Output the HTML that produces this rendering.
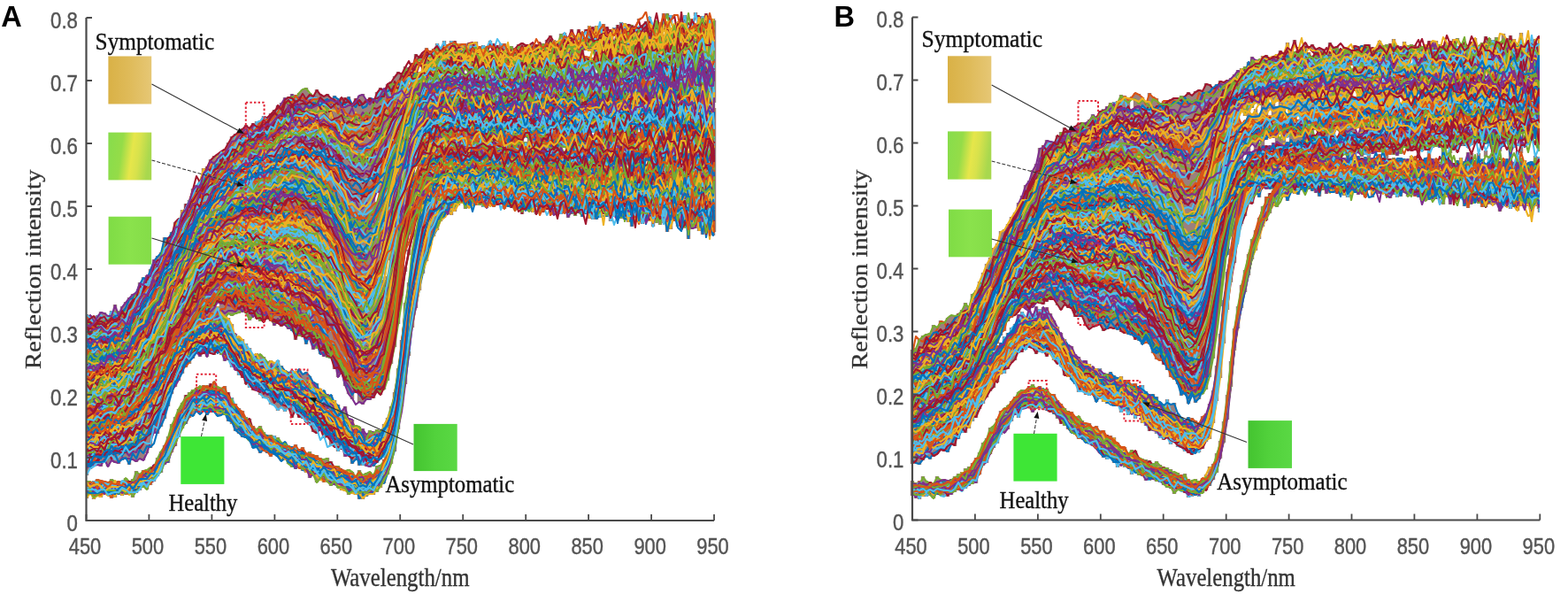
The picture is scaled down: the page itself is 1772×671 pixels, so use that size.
<!DOCTYPE html>
<html><head><meta charset="utf-8"><title>Reflection spectra</title>
<style>html,body{margin:0;padding:0;background:#fff;}body{width:1772px;height:671px;overflow:hidden;}svg{display:block;}</style>
</head><body>
<svg width="1772" height="671" viewBox="0 0 1772 671">
<defs>
<linearGradient id="gs" x1="0" y1="0" x2="1" y2="0"><stop offset="0" stop-color="#d9b146"/><stop offset="0.5" stop-color="#dfbb5a"/><stop offset="1" stop-color="#e6c775"/></linearGradient>
<linearGradient id="gm" x1="0" y1="0" x2="1" y2="0.15"><stop offset="0" stop-color="#86dd4c"/><stop offset="0.35" stop-color="#95dc48"/><stop offset="0.6" stop-color="#e6e64a"/><stop offset="0.75" stop-color="#d8e24c"/><stop offset="1" stop-color="#a8d84e"/></linearGradient>
<linearGradient id="gl" x1="0" y1="0" x2="1" y2="0"><stop offset="0" stop-color="#7fdc45"/><stop offset="0.5" stop-color="#8ae24c"/><stop offset="1" stop-color="#84dc48"/></linearGradient>
<linearGradient id="ga" x1="0" y1="0" x2="1" y2="0"><stop offset="0" stop-color="#44c430"/><stop offset="0.5" stop-color="#52d23c"/><stop offset="1" stop-color="#5ad844"/></linearGradient>
</defs>
<rect width="1772" height="671" fill="#fff"/>
<filter id="bl" x="0" y="0" width="1" height="1"><feGaussianBlur stdDeviation="0.6"/></filter>
<g filter="url(#bl)">
<path d="M98 543V563M102 544V558M106 543V564M110 541V561M114 542V562M118 543V559M122 544V560M126 541V563M130 543V562M134 543V559M138 543V560M142 540V559M146 543V559M150 541V562M154 532V557M158 535V554M162 531V550M166 530V553M170 528V548M174 525V544M178 517V538M182 510V534M186 503V525M190 493V523M194 479V511M198 471V504M202 462V494M206 455V484M210 446V479M214 443V472M218 440V470M222 438V466M226 436V468M230 435V465M234 435V469M238 433V466M242 431V465M246 437V470M250 438V469M254 436V469M258 443V476M262 449V479M266 456V487M270 461V490M274 464V494M278 471V495M282 473V498M286 481V506M290 484V506M294 481V512M298 488V510M302 491V512M306 491V516M310 492V514M314 494V516M318 500V521M322 499V520M326 503V524M330 504V528M334 502V530M338 508V529M342 505V532M346 512V534M350 510V540M354 514V537M358 514V545M362 517V543M366 518V545M370 517V545M374 521V549M378 526V548M382 526V551M386 530V554M390 531V555M394 530V559M398 533V558M402 537V559M406 531V564M410 537V564M414 534V561M418 533V559M422 535V559M426 526V556M430 525V551M434 519V546M438 511V536M442 501V524M446 482V510M450 459V485M454 432V459M458 397V434M462 368V391M462 397V402M466 340V370M470 321V348M474 297V328M478 277V309M482 264V295M486 247V277M490 238V267M494 225V260M498 218V250M502 214V246M506 213V242M510 202V243M514 201V239M518 202V232M522 200V230M526 197V232M530 190V197M530 202V235M534 199V233M538 195V232M542 196V232M546 197V228M550 201V231M554 198V233M558 194V234M562 197V231M566 196V231M570 196V228M574 193V234M578 201V232M582 198V236M586 193V196M586 202V235M590 197V239M594 198V238M598 202V239M602 203V240M606 200V234M610 199V240M614 200V240M618 202V236M622 195V237M626 198V239M630 205V242M634 206V241M638 205V241M642 203V244M646 200V242M650 197V240M654 202V241M658 201V245M662 208V242M666 213V247M670 205V248M674 202V236M674 243V248M678 208V244M682 202V239M686 207V245M690 202V238M694 207V245M698 209V242M702 200V206M702 212V247M706 195V204M706 211V248M710 209V249M714 200V208M714 212V256M718 206V249M722 206V251M726 209V246M730 206V243M734 206V250M738 205V252M742 206V252M746 201V254M750 215V252M754 201V262M758 201V250M762 203V245M766 209V248M770 211V255M774 211V252M778 207V270M782 202V253M786 204V256M790 208V253M794 213V265M798 208V253M802 211V263M806 206V211M806 217V266M807 202V254M98 470V537M102 469V530M106 460V527M110 461V526M114 466V527M118 462V523M122 461V527M126 455V521M130 454V523M134 456V524M138 458V520M142 454V518M146 452V525M150 447V520M154 443V522M158 443V519M162 434V520M166 436V512M170 426V506M174 421V490M178 419V490M182 415V482M186 405V473M190 399V459M194 393V445M198 390V437M202 387V430M206 381V422M210 376V415M214 373V411M218 371V405M222 362V399M226 359V403M230 362V400M234 359V403M238 356V400M242 353V401M246 346V399M250 353V401M254 358V408M258 359V407M262 366V415M266 377V418M270 380V424M274 383V427M278 388V434M282 393V438M286 400V441M290 399V441M294 400V446M298 403V450M302 408V450M306 407V457M310 409V458M314 407V464M318 413V461M322 418V465M326 420V462M330 418V472M334 419V467M338 417V472M342 422V473M346 420V477M350 425V480M354 431V488M358 433V490M362 439V486M366 441V495M370 445V494M374 446V504M378 452V505M382 457V510M386 464V508M390 459V516M394 472V515M398 474V524M402 480V520M406 482V526M410 484V526M414 490V527M418 486V528M422 488V527M426 485V523M430 486V519M434 479V517M438 472V510M442 459V498M446 443V483M450 416V460M454 384V427M458 342V388M462 319V356M466 291V327M470 260V305M474 240V287M478 231V275M482 214V257M486 207V246M490 196V245M494 196V239M498 194V235M502 193V230M506 188V232M510 180V230M514 184V229M518 185V225M522 182V228M526 188V232M530 181V229M534 184V227M538 184V227M542 186V223M546 182V234M550 182V230M554 181V228M558 186V231M562 187V232M566 189V231M570 185V236M574 183V228M578 190V235M582 187V231M586 189V233M590 191V230M590 235V242M594 189V230M598 190V236M602 192V232M606 187V230M606 236V242M610 188V236M614 191V235M618 197V237M622 190V240M626 195V237M630 196V236M634 193V242M638 195V236M642 191V241M646 194V239M650 196V244M654 199V238M658 196V243M662 192V240M666 196V240M670 196V244M674 193V197M674 202V241M678 198V246M682 198V242M686 192V238M690 192V250M694 199V240M698 193V244M702 200V244M706 199V247M710 197V251M714 200V245M718 194V251M722 202V210M722 214V251M726 197V241M726 246V253M730 194V247M734 197V247M738 188V240M738 245V256M742 198V246M746 191V248M750 196V247M754 196V251M758 197V259M762 203V249M766 194V256M770 196V200M770 206V241M770 247V253M774 201V245M774 252V254M778 199V252M782 206V256M786 201V258M790 200V261M794 206V257M798 202V252M802 191V193M802 209V256M806 208V255M807 196V262M98 355V501M102 356V501M106 357V497M110 356V495M114 352V494M118 353V494M122 357V498M126 351V494M130 344V494M134 352V491M138 346V488M142 341V481M146 336V479M150 332V475M154 330V473M158 319V463M162 313V463M166 311V451M170 304V449M174 293V442M178 289V432M182 285V427M186 268V428M190 268V416M194 262V406M198 251V398M202 247V394M206 237V388M210 230V383M214 226V382M218 213V375M222 209V367M226 204V364M230 190V363M234 188V363M238 180V358M242 176V356M246 174V342M246 352V358M250 171V354M254 168V360M258 161V355M262 154V357M266 151V355M270 148V354M274 145V353M278 141V354M282 144V362M286 139V358M290 137V360M294 136V363M298 131V364M302 132V361M306 128V363M310 124V368M314 119V366M318 116V369M322 110V368M326 109V372M330 106V374M334 107V384M338 105V380M342 101V381M346 99V389M350 105V384M354 107V395M358 101V394M362 106V400M366 109V403M370 106V404M374 111V405M378 108V417M382 111V426M386 110V422M390 110V436M394 109V445M398 117V451M402 111V444M406 108V455M410 106V457M414 112V452M418 110V452M422 111V450M426 104V218M426 228V443M430 99V446M434 100V305M434 316V440M438 95V294M438 312V430M442 92V411M446 86V392M450 81V341M450 351V366M454 82V317M454 328V334M458 75V197M458 203V284M458 302V307M462 76V93M462 98V152M462 157V265M462 282V288M466 71V205M466 211V268M470 61V188M470 195V249M474 63V75M474 81V188M474 193V243M478 59V238M482 54V228M486 57V229M490 55V223M494 49V228M498 54V227M502 46V160M502 166V222M506 50V234M510 46V227M514 46V125M514 129V225M518 49V224M522 49V225M526 49V78M526 83V236M530 48V228M534 48V229M538 47V232M542 52V227M546 51V233M550 52V226M550 231V235M554 46V53M554 57V226M558 49V225M562 51V227M566 49V226M570 49V107M570 112V227M570 233V235M574 54V230M578 52V232M582 54V225M586 50V233M590 48V226M590 231V235M594 50V155M594 160V234M598 50V239M602 48V225M602 231V237M606 50V232M610 48V229M614 49V225M614 231V240M618 45V234M622 40V203M622 208V230M626 45V231M626 237V243M630 46V234M634 38V239M638 37V45M638 50V167M638 172V233M642 43V210M642 216V246M646 33V240M650 40V227M650 233V235M654 33V241M658 36V225M658 230V239M662 33V37M662 42V57M662 64V237M666 29V58M666 64V239M670 30V59M670 65V150M670 155V217M670 223V238M674 29V78M674 84V236M678 32V48M678 53V232M678 238V241M682 27V240M686 30V35M686 39V228M686 237V244M690 33V196M690 201V236M690 241V245M694 31V41M694 46V236M698 28V216M698 221V240M702 25V28M702 33V79M702 84V237M706 26V232M706 238V243M710 27V186M710 191V232M714 28V113M714 119V178M714 184V243M718 30V146M718 152V247M722 21V23M722 30V145M722 150V244M726 28V241M730 24V182M730 187V244M734 19V236M734 242V249M738 28V150M738 155V253M742 23V98M742 106V245M746 25V42M746 47V244M750 15V36M750 42V239M750 246V251M754 15V20M754 24V54M754 59V79M754 84V237M754 245V251M758 17V25M758 31V241M762 27V250M766 25V33M766 39V239M766 248V254M770 25V44M770 50V104M770 109V151M770 157V182M770 188V233M770 243V249M774 17V246M778 32V59M778 65V102M778 106V167M778 172V260M782 21V24M782 29V184M782 189V232M782 238V247M782 255V259M786 14V18M786 27V154M786 160V252M790 18V21M790 26V242M794 18V110M794 115V200M794 205V246M798 15V19M798 24V165M798 170V189M798 194V246M802 21V239M806 21V172M806 177V218M806 225V251M807 23V116M807 122V251" stroke="#8a6a66" stroke-opacity="0.85" stroke-width="4.4" fill="none"/>
<path d="M1031 543V560M1035 545V563M1039 543V564M1043 538V561M1047 543V561M1051 544V560M1055 545V563M1059 538V559M1063 541V560M1067 541V561M1071 542V561M1075 541V559M1079 538V556M1083 535V554M1087 533V555M1091 529V552M1095 527V549M1099 523V547M1103 517V546M1107 511V536M1111 500V526M1115 495V523M1119 483V513M1123 481V506M1127 473V501M1131 464V491M1135 461V489M1139 458V485M1143 453V476M1147 448V469M1151 443V472M1155 440V462M1159 440V461M1163 436V461M1167 434V466M1171 438V462M1175 436V460M1179 439V463M1183 439V464M1187 445V466M1191 445V468M1195 452V473M1199 456V479M1203 461V481M1207 464V485M1211 465V489M1215 470V491M1219 470V496M1223 475V496M1227 478V500M1231 478V502M1235 482V504M1239 481V507M1243 486V512M1247 486V517M1251 491V519M1255 492V518M1259 494V523M1263 500V528M1267 504V526M1271 505V528M1275 512V529M1279 508V536M1283 509V534M1287 517V537M1291 518V538M1295 519V543M1299 520V543M1303 523V542M1307 521V544M1311 525V545M1315 527V548M1319 528V551M1323 530V552M1327 533V558M1331 534V554M1335 536V555M1339 535V557M1343 541V562M1347 543V561M1351 541V560M1355 543V561M1359 540V557M1363 536V554M1367 527V549M1371 524V542M1375 512V534M1379 498V518M1383 476V500M1387 446V474M1391 408V437M1395 371V396M1399 346V371M1403 322V348M1407 305V330M1411 287V311M1415 270V293M1419 260V283M1423 246V270M1427 233V256M1431 222V249M1435 218V241M1439 215V233M1443 206V234M1447 204V222M1451 198V223M1455 197V227M1459 192V218M1463 190V219M1467 192V220M1471 189V214M1475 190V214M1479 188V212M1483 191V216M1487 186V212M1491 188V219M1495 187V215M1499 190V210M1503 184V214M1507 187V215M1511 190V217M1515 186V217M1519 190V221M1523 187V218M1527 187V217M1531 188V217M1535 186V217M1539 190V217M1543 182V220M1547 191V213M1551 189V219M1555 191V217M1559 188V219M1563 188V219M1567 194V215M1571 189V214M1575 188V216M1579 188V219M1583 193V218M1587 187V218M1591 188V222M1595 192V216M1599 193V221M1603 192V223M1607 189V226M1611 191V219M1615 193V226M1619 195V223M1623 193V221M1627 194V224M1631 196V227M1635 193V223M1639 189V220M1643 196V221M1647 183V227M1651 196V223M1655 192V230M1659 196V226M1663 195V225M1667 194V229M1671 190V230M1675 189V226M1679 192V224M1683 191V231M1687 189V224M1691 191V231M1695 194V225M1699 195V232M1703 192V227M1707 193V224M1711 193V234M1715 195V232M1719 196V233M1723 190V230M1727 195V233M1731 188V194M1731 200V225M1731 231V239M1735 189V192M1735 198V233M1739 186V236M1740 189V240M1031 455V524M1035 455V524M1039 451V525M1043 444V520M1047 444V516M1051 441V519M1055 442V516M1059 442V513M1063 442V509M1067 437V510M1071 438V511M1075 437V503M1079 440V504M1083 432V496M1087 433V489M1091 429V489M1095 425V484M1099 420V476M1103 416V472M1107 411V462M1111 409V456M1115 403V449M1119 395V442M1123 397V438M1127 390V432M1131 387V423M1135 380V422M1139 376V417M1143 370V410M1147 366V407M1151 355V399M1155 352V398M1159 357V395M1163 348V393M1167 354V394M1171 346V400M1175 349V398M1179 347V399M1183 347V403M1187 354V400M1191 362V407M1195 369V411M1199 376V414M1203 383V424M1207 389V426M1211 391V429M1215 400V434M1219 403V443M1223 407V443M1227 407V446M1231 411V447M1235 414V446M1239 416V454M1243 416V451M1247 421V454M1251 422V456M1255 420V457M1259 424V459M1263 426V459M1267 425V466M1271 429V462M1275 429V469M1279 433V468M1283 433V473M1287 436V470M1291 435V478M1295 442V481M1299 445V487M1303 445V487M1307 448V490M1311 454V495M1315 457V497M1319 451V495M1323 456V502M1327 455V500M1331 467V505M1335 471V506M1339 474V510M1343 471V512M1347 472V514M1351 475V512M1355 477V511M1359 470V507M1363 467V499M1367 456V496M1371 441V478M1375 413V453M1379 377V427M1383 339V388M1387 307V350M1391 281V319M1395 252V297M1399 234V268M1403 222V253M1407 208V244M1411 196V230M1415 191V230M1419 180V220M1423 181V223M1427 180V213M1431 179V210M1435 176V211M1439 175V214M1443 175V211M1447 175V213M1451 171V207M1455 173V208M1459 177V207M1463 175V206M1467 174V210M1471 174V208M1475 170V211M1479 170V214M1483 173V214M1487 180V213M1491 175V209M1495 175V212M1499 173V214M1503 178V214M1507 173V176M1507 182V214M1511 177V208M1515 178V213M1519 178V215M1523 179V214M1527 176V217M1531 184V210M1535 176V214M1539 178V218M1543 177V216M1547 178V212M1551 179V212M1555 178V212M1559 174V215M1563 178V216M1567 180V218M1571 179V216M1575 178V216M1579 179V215M1583 178V214M1587 179V215M1591 179V220M1595 177V216M1599 177V220M1603 180V217M1607 180V223M1611 179V222M1615 173V219M1619 179V218M1623 179V225M1627 184V220M1631 180V231M1635 178V216M1639 181V224M1643 184V225M1647 181V218M1651 184V220M1655 184V223M1659 172V179M1659 184V228M1663 183V224M1667 181V222M1671 178V228M1675 181V222M1679 185V234M1683 178V230M1687 187V232M1691 188V225M1695 182V232M1699 180V228M1703 186V234M1707 177V230M1711 183V227M1715 183V238M1719 179V233M1723 181V231M1727 187V233M1731 183V235M1735 177V183M1735 190V232M1739 188V226M1740 179V233M1031 395V485M1035 393V485M1039 383V482M1043 379V483M1047 377V478M1051 376V474M1055 367V475M1059 369V471M1063 362V473M1067 363V465M1071 359V467M1075 356V465M1079 356V455M1083 354V456M1087 350V444M1091 342V441M1095 347V433M1099 332V432M1103 328V430M1107 318V419M1111 308V413M1115 298V409M1119 291V401M1123 280V396M1127 275V388M1131 261V379M1135 259V374M1139 253V363M1143 245V359M1147 240V356M1151 229V352M1155 221V348M1159 209V349M1163 204V351M1167 192V347M1171 185V342M1175 167V343M1179 164V344M1183 158V341M1187 159V339M1191 160V339M1195 153V345M1199 149V350M1203 144V345M1207 147V348M1211 143V349M1215 142V358M1219 139V358M1223 138V358M1227 138V368M1231 135V372M1235 129V370M1239 132V368M1243 125V367M1247 123V374M1251 120V372M1255 116V371M1259 115V372M1263 114V373M1267 107V375M1271 108V377M1275 110V378M1279 109V113M1279 123V379M1283 105V384M1287 106V385M1291 110V389M1295 114V388M1299 105V389M1303 109V399M1307 111V406M1311 116V408M1315 114V412M1319 113V418M1323 112V426M1327 110V429M1331 110V434M1335 108V447M1339 108V446M1343 104V456M1347 107V448M1351 103V455M1355 101V451M1359 102V445M1363 94V440M1367 95V426M1371 99V405M1375 95V367M1379 91V346M1383 92V302M1387 90V197M1387 203V269M1387 274V288M1391 88V267M1395 84V248M1399 79V83M1399 89V236M1403 77V126M1403 139V230M1407 75V131M1407 136V175M1407 181V219M1411 70V219M1415 64V122M1415 129V163M1415 171V214M1419 67V117M1419 123V215M1423 67V119M1423 129V159M1423 164V212M1427 63V213M1431 62V158M1431 164V214M1435 65V109M1435 116V123M1435 130V156M1435 164V214M1439 63V156M1439 161V213M1443 61V115M1443 120V214M1447 57V152M1447 157V213M1451 59V129M1451 134V212M1455 48V123M1455 128V155M1455 160V212M1459 56V212M1463 45V51M1463 58V215M1467 53V130M1467 135V212M1471 53V215M1475 48V217M1479 52V55M1479 59V211M1483 50V58M1483 64V213M1487 55V147M1487 152V179M1487 190V218M1491 54V179M1491 185V222M1495 55V102M1495 108V213M1499 60V179M1499 183V219M1503 48V54M1503 59V179M1503 184V218M1507 53V218M1511 52V146M1511 154V219M1515 55V215M1519 53V174M1519 183V218M1523 53V179M1523 184V223M1527 56V74M1527 79V183M1527 188V220M1531 51V103M1531 109V176M1531 181V218M1535 52V145M1535 150V173M1535 181V220M1539 51V177M1539 186V219M1543 50V175M1543 188V223M1547 50V215M1551 53V174M1551 183V223M1555 54V76M1555 82V172M1555 184V217M1559 46V172M1559 185V219M1563 51V88M1563 93V172M1563 182V217M1567 50V221M1571 49V175M1571 181V224M1575 44V134M1575 140V175M1575 180V220M1579 51V176M1579 183V223M1583 52V110M1583 117V174M1583 182V222M1587 47V167M1587 182V218M1591 51V170M1591 183V219M1595 50V66M1595 72V109M1595 115V171M1595 176V219M1599 51V170M1599 181V222M1603 53V105M1603 110V176M1603 183V221M1607 52V171M1607 184V224M1611 50V170M1611 178V227M1615 46V220M1619 46V105M1619 109V167M1619 180V225M1623 46V166M1623 183V222M1627 50V167M1627 184V223M1631 51V224M1635 48V168M1635 174V178M1635 185V223M1639 46V173M1639 181V231M1643 44V170M1643 185V221M1647 43V46M1647 52V172M1647 184V228M1651 49V165M1651 178V225M1655 47V165M1655 182V233M1659 52V167M1659 183V235M1663 47V164M1663 173V230M1667 43V163M1667 181V229M1671 51V162M1671 173V220M1675 48V159M1675 179V234M1679 41V82M1679 87V116M1679 120V162M1679 170V177M1679 185V227M1683 43V165M1683 177V228M1687 45V164M1687 170V229M1691 42V157M1691 163V229M1695 47V171M1695 185V229M1695 236V239M1699 38V47M1699 54V166M1699 179V233M1703 43V162M1703 179V233M1707 40V96M1707 101V161M1707 170V236M1711 44V155M1711 162V167M1711 183V234M1715 50V158M1715 171V175M1715 181V226M1715 231V238M1719 37V151M1719 156V173M1719 185V231M1723 50V150M1723 155V158M1723 163V166M1723 181V235M1727 46V163M1727 184V230M1731 48V159M1731 182V243M1735 44V157M1735 176V231M1739 41V44M1739 49V155M1739 160V171M1739 177V235M1740 43V150M1740 156V171M1740 183V188M1740 194V234" stroke="#8a6a66" stroke-opacity="0.85" stroke-width="4.4" fill="none"/>
<g fill="none" stroke-width="2.1" stroke-linejoin="round" stroke-linecap="round">
<path stroke="#0072BD" d="M98 480l4-3 4 1 4-1 4-9 4 14 4-5 4-8 4 0 4-12 4 3 4-4 4 3 4-5 4-1 4-7 4-9 4 1 4-11 4-4 4 0 4-6 4-8 4-9 4 0 4-5 4-6 4-5 4-3 4-5 4 6 4-7 4-5 4-4 4 2 4 2 4-1 4 4 4-4 4 9 4 5 4 6 4 3 4 1 4 8 4-1 4 5 4 2 4 5 4 2 4 2 4-3 4 3 4 3 4-5 4 0 4 5 4 2 4-1 4 6 4-9 4 6 4-2 4 4 4 7 4 2 4 11 4-4 4 8 4-3 4 9 4 3 4 9 4 7 4 6 4-3 4 8 4 6 4 4 4 7 4-2 4 2 4-11 4 10 4-8 4-2 4-10 4-14 4-33 4-27 4-37 4-31 4-22 4-21 4-21 4-14 4-17 4-9 4-7 4-13 4 9 4-9 4 2 4-3 4-1 4-7 4 8 4-3 4-9 4 0 4 7 4 0 4-7 4 6 4 6 4 2 4 1 4-5 4 2 4-8 4 12 4-9 4 5 4 1 4-3 4 5 4 1 4 10 4-8 4 6 4-7 4 2 4 1 4 5 4-2 4-11 4 3 4 8 4-10 4 10 4 9 4-8 4 0 4 5 4-1 4-6 4 8 4-5 4-3 4 10 4-4 4 5 4-11 4-7 4 6 4 19 4-21 4 15 4-8 4 10 4-25 4 13 4 8 4-6 4-12 4 29 4-23 4 8 4 18 4-19 4-4 4 10 4 8 4-3 4-8 4-8 4 7 4-6 1 20"/>
<path stroke="#D95319" d="M98 402l4-6 4 6 4 3 4 1 4-9 4 1 4-3 4 8 4-4 4-10 4-1 4-4 4 0 4-13 4-4 4 1 4-11 4-8 4-6 4-8 4-11 4 0 4-4 4-14 4-1 4-16 4-5 4-5 4-13 4-11 4 5 4-18 4 2 4-1 4 1 4-13 4 4 4-6 4 6 4 2 4-5 4-5 4-1 4-2 4-3 4 0 4 4 4-11 4 1 4 1 4-3 4-2 4-7 4-7 4 6 4-7 4-6 4 10 4 1 4-9 4 3 4 6 4 3 4-3 4 2 4 4 4 5 4 6 4 14 4-10 4 15 4 3 4 5 4 5 4 7 4-8 4 9 4 0 4-6 4-2 4-5 4-4 4-2 4-8 4-9 4-12 4-12 4-9 4-4 4-12 4-2 4-3 4 0 4-11 4 0 4-2 4-4 4-6 4 2 4 6 4-7 4-2 4-3 4 11 4-1 4 2 4-11 4-4 4 11 4-1 4-1 4 1 4 8 4-1 4-8 4 12 4-7 4-9 4 5 4-1 4 3 4 4 4-1 4 0 4-4 4 2 4 0 4 7 4-1 4-6 4-7 4 6 4-3 4 16 4-22 4 8 4-2 4 4 4-1 4-3 4-1 4 1 4 10 4-3 4-4 4-4 4-4 4 13 4-12 4 12 4-10 4-5 4 7 4 24 4-27 4 14 4-4 4-27 4 23 4-9 4 7 4-10 4 15 4-12 4 7 4 7 4-3 4-6 4-4 4 6 4-8 4 21 4-24 4 17 4-4 4-2 4-7 1-12"/>
<path stroke="#EDB120" d="M98 515l4-2 4-2 4-3 4-5 4-2 4-3 4 0 4-1 4 5 4-2 4-1 4-1 4 5 4-14 4 3 4-3 4-4 4-14 4-2 4-10 4-2 4-10 4-8 4-6 4-9 4-1 4-9 4-9 4 5 4-13 4-2 4 2 4-7 4 0 4-3 4 3 4-2 4 2 4 8 4-2 4 6 4 4 4 4 4 1 4 7 4 6 4-2 4 13 4-1 4-7 4 12 4-4 4 7 4-4 4 3 4 0 4 4 4 0 4 10 4-6 4 10 4-1 4 7 4-1 4 6 4 4 4 2 4 6 4 4 4-2 4 7 4 6 4 5 4-2 4 10 4-1 4 6 4 0 4 0 4-1 4 1 4-6 4 7 4-18 4-2 4-11 4-11 4-31 4-25 4-41 4-37 4-31 4-27 4-17 4-17 4-25 4-9 4-8 4-5 4-5 4 8 4-11 4-6 4 3 4-4 4 1 4 4 4 2 4-3 4-5 4 14 4-13 4 16 4-20 4 12 4-1 4 4 4-6 4 10 4-10 4-4 4 13 4 6 4-8 4 9 4-1 4-2 4-4 4 12 4-10 4 2 4 4 4-5 4 4 4 3 4 10 4 3 4-16 4-4 4 11 4-5 4-12 4 5 4 17 4-16 4 6 4-5 4 3 4 8 4-22 4 34 4-10 4-16 4 10 4-3 4 11 4-14 4 13 4 4 4 1 4-19 4 10 4-6 4 3 4 5 4 9 4-13 4-4 4 17 4-5 4 2 4 12 4-24 4-3 4 6 4-3 4 0 1-11"/>
<path stroke="#7E2F8E" d="M98 414l4-10 4 3 4 2 4-2 4-8 4-3 4 1 4 0 4-2 4-1 4-5 4-5 4-4 4-8 4-1 4-10 4-5 4-6 4-8 4-1 4-5 4-8 4-13 4 4 4-14 4-13 4-2 4-8 4-8 4-5 4 1 4-14 4-5 4-1 4-1 4-2 4-3 4-7 4-2 4-2 4 9 4-10 4-7 4-5 4 3 4 4 4-4 4-5 4 0 4 1 4-7 4 2 4 0 4-3 4 8 4-18 4 1 4 5 4-5 4 4 4-6 4-1 4 0 4 1 4 1 4 8 4 4 4 0 4 4 4 9 4 7 4 1 4 10 4 4 4 5 4 12 4-6 4 7 4-4 4-4 4-1 4-8 4-18 4-11 4-11 4-7 4-31 4-11 4-5 4-18 4-4 4-16 4-8 4-2 4-6 4-3 4-2 4-11 4 7 4-5 4 6 4-5 4-1 4 3 4 12 4-16 4-2 4 3 4 8 4-7 4 9 4-3 4 1 4-9 4 8 4-1 4-8 4 12 4-6 4 6 4-4 4-3 4-4 4 8 4-6 4 1 4 8 4-14 4 13 4-5 4 2 4-3 4 6 4-13 4 2 4 2 4 2 4 3 4 3 4-13 4 2 4-16 4 7 4 18 4-12 4 1 4-11 4-8 4 27 4-11 4 22 4-28 4 8 4-7 4-5 4 6 4 4 4 11 4-19 4 14 4-16 4 9 4-13 4 9 4-9 4 9 4-3 4 0 4 6 4 0 4 8 4-18 4-5 4 23 4 5 4-24 4 31 1-29"/>
<path stroke="#77AC30" d="M98 553l4 0 4 3 4 1 4-3 4 3 4-6 4 1 4 1 4 3 4-5 4 3 4 0 4-1 4-3 4-4 4-3 4-2 4-9 4 7 4-8 4-2 4-8 4-5 4-14 4-7 4-9 4-8 4-10 4-3 4-6 4-6 4 6 4 1 4 0 4-4 4 3 4 2 4 2 4-1 4 7 4-2 4 10 4 5 4 4 4 8 4 4 4 1 4 1 4 5 4-5 4 5 4 0 4 2 4 5 4-4 4 8 4 8 4 3 4-3 4 0 4 5 4-2 4 7 4-1 4 1 4 7 4-2 4 1 4 0 4 1 4 2 4 6 4-2 4 1 4 3 4-1 4 0 4-1 4 3 4-2 4-1 4-3 4-2 4-7 4-7 4-15 4-19 4-22 4-27 4-30 4-38 4-20 4-27 4-21 4-16 4-17 4-19 4-9 4-11 4-17 4 2 4-3 4-6 4 3 4-4 4-4 4 5 4-5 4 1 4-2 4 9 4-18 4 10 4-3 4 8 4 2 4-7 4 2 4-4 4 9 4 1 4-7 4-1 4-1 4 6 4-1 4 6 4-11 4 1 4 0 4 16 4-13 4 9 4-6 4 0 4-4 4 9 4 1 4 5 4 1 4-11 4 10 4-10 4 8 4 1 4-10 4 1 4 13 4-5 4-1 4-4 4 10 4-2 4-2 4-6 4-1 4 11 4-18 4 11 4 11 4 6 4-8 4 16 4-21 4-4 4-6 4 7 4 21 4-13 4-9 4 28 4-13 4-14 4 6 4 21 4-15 4-5 1-22"/>
<path stroke="#4DBEEE" d="M98 515l4 3 4-5 4 3 4-5 4-7 4 2 4-1 4-8 4-1 4 5 4-7 4-4 4 2 4-4 4-5 4-9 4 1 4-5 4 3 4-17 4-9 4 0 4-15 4-7 4-9 4-4 4-7 4-14 4-1 4 6 4 0 4-10 4-2 4 0 4 0 4-7 4 16 4-6 4-4 4 4 4 6 4 11 4-4 4 8 4 5 4 6 4 11 4 0 4 6 4-2 4 9 4-3 4 5 4-1 4 10 4-2 4-3 4 0 4 8 4-5 4-5 4 12 4 5 4 6 4 2 4-1 4 2 4 0 4-1 4 14 4 0 4 0 4 7 4 6 4 3 4 9 4 3 4-5 4 0 4 2 4-1 4-4 4-3 4 1 4-12 4-5 4-32 4-25 4-33 4-39 4-19 4-30 4-18 4-27 4-3 4-13 4-12 4-11 4 3 4 3 4-5 4-6 4-2 4 8 4-11 4 9 4 0 4-3 4 5 4 0 4-5 4 12 4-10 4 4 4-7 4 6 4-9 4 3 4 0 4 2 4 6 4-7 4-1 4 3 4-1 4 1 4 3 4 2 4-4 4 0 4-2 4-3 4 9 4 1 4-14 4 12 4 0 4 6 4-7 4 16 4-8 4-3 4 4 4-6 4-5 4 5 4 6 4 14 4-10 4-14 4-2 4 7 4-2 4 1 4 18 4-8 4 1 4-9 4-4 4 9 4-15 4 17 4 4 4 0 4 14 4-24 4 11 4-10 4 2 4-1 4 21 4-11 4-1 4-5 4 14 4 0 4-22 1 27"/>
<path stroke="#A2142F" d="M98 469l4-4 4 0 4-5 4 5 4 0 4 0 4-5 4 2 4-8 4-3 4 5 4-10 4-11 4 3 4-5 4-12 4 1 4-7 4-14 4-3 4-2 4-11 4-5 4-11 4 1 4-10 4-7 4-3 4-6 4-9 4-7 4-7 4-5 4-7 4-7 4 6 4-8 4 2 4-4 4-5 4-5 4 11 4-7 4 8 4-10 4 8 4 7 4-1 4 2 4 1 4 1 4 11 4-8 4 1 4 0 4 2 4 8 4 1 4-2 4-1 4 7 4 4 4 5 4 2 4-7 4 8 4 2 4 3 4 4 4 8 4 5 4 8 4 9 4 3 4 5 4 14 4 0 4 2 4 2 4-7 4 4 4-5 4-8 4-15 4-13 4-29 4-15 4-21 4-21 4-16 4-22 4-2 4-14 4-11 4-3 4-9 4 6 4-5 4-7 4 3 4 1 4-5 4-5 4 14 4-6 4-7 4 1 4 6 4 1 4-3 4-1 4 1 4-1 4 6 4-8 4 14 4-13 4 6 4-4 4 10 4 3 4-10 4 0 4 14 4-15 4 2 4 11 4-15 4 8 4-8 4-6 4 9 4 7 4-11 4 8 4-5 4 6 4 2 4 0 4-5 4 2 4-9 4-9 4 26 4 7 4 0 4-12 4-18 4 22 4-6 4 4 4-9 4 6 4 3 4-2 4 12 4-8 4-3 4-11 4 14 4 8 4-16 4 3 4 4 4 17 4-8 4-19 4 15 4-13 4 13 4-13 4-5 4 16 4-1 4-8 4 14 4 2 1-20"/>
<path stroke="#0072BD" d="M98 522l4 5 4-4 4-3 4-5 4 1 4-4 4-1 4 2 4-3 4 4 4-4 4-5 4-1 4-3 4-2 4-6 4-4 4-4 4-1 4-24 4-5 4 3 4-18 4-4 4-15 4 0 4-11 4-4 4-8 4-4 4 0 4 7 4-9 4 3 4-9 4 7 4 6 4-6 4 6 4-3 4 11 4 0 4 12 4-6 4 8 4 2 4 6 4-5 4 11 4-1 4 5 4-2 4 12 4 3 4-5 4 7 4 4 4-3 4 4 4 12 4-6 4 5 4 6 4-3 4 4 4 1 4 10 4 5 4-9 4 9 4 4 4 10 4 1 4-1 4 16 4-4 4-4 4 9 4-7 4 3 4 5 4-9 4-3 4-6 4-10 4-5 4-23 4-30 4-33 4-38 4-39 4-15 4-23 4-24 4-12 4-17 4-4 4-14 4 5 4-5 4-7 4 2 4-5 4 0 4 0 4 10 4-11 4 4 4-1 4 6 4-7 4-1 4 2 4-1 4 2 4 2 4-3 4 4 4 0 4-3 4-2 4-4 4 4 4 6 4 5 4-6 4 8 4 0 4 5 4-17 4 1 4 13 4-6 4-2 4-6 4 1 4 14 4-7 4 13 4-9 4 0 4 2 4 6 4-5 4-16 4 19 4-4 4-6 4 1 4 9 4-13 4 0 4 9 4 0 4 3 4-5 4 2 4-7 4 23 4-21 4 9 4-13 4 2 4 11 4-1 4 4 4 6 4-8 4-9 4 10 4 11 4-12 4 10 4-10 4-7 4-2 4-2 1 21"/>
<path stroke="#D95319" d="M98 434l4-10 4 3 4-8 4 4 4-4 4-4 4 4 4 0 4-11 4 5 4-4 4-2 4-10 4-7 4-3 4-6 4-5 4-17 4-3 4-9 4-5 4-8 4-8 4-4 4-11 4-6 4-4 4-12 4-6 4-6 4-8 4 1 4-11 4-2 4 1 4-11 4-2 4 6 4-9 4-1 4-3 4 1 4-7 4 1 4 11 4-5 4-4 4 6 4-5 4-3 4 2 4 7 4-8 4-3 4 1 4-7 4-2 4 10 4 1 4-2 4-4 4 3 4 1 4 5 4 6 4 0 4 1 4 4 4 8 4 6 4 6 4 3 4 11 4 7 4 9 4-7 4 8 4 3 4 1 4 1 4-13 4-13 4-15 4-14 4-18 4-17 4-22 4-16 4-26 4-10 4-9 4-11 4-16 4-11 4-5 4-9 4 0 4-1 4-5 4-5 4-5 4 5 4-2 4 5 4-8 4 10 4-9 4 8 4 0 4 4 4-9 4-3 4 10 4-8 4 0 4 2 4-4 4 0 4 5 4 1 4 1 4-6 4-4 4-3 4 1 4-1 4 3 4-2 4-3 4 6 4-10 4 4 4 4 4-12 4 12 4-3 4 0 4-15 4 9 4 0 4 5 4-17 4 12 4 12 4-9 4-3 4-2 4 7 4-8 4 0 4 1 4 2 4 8 4-25 4 21 4-22 4 12 4-2 4 0 4 0 4 0 4 23 4-19 4 5 4-13 4 9 4-2 4 5 4-12 4 5 4 5 4-8 4-14 4 23 4-12 4 19 4-30 1 1"/>
<path stroke="#EDB120" d="M98 398l4-8 4 2 4 3 4-3 4-1 4-7 4 3 4-3 4-7 4 1 4-5 4-1 4-2 4-10 4 4 4-15 4-5 4 3 4-13 4-2 4-4 4-14 4-8 4-11 4-5 4-13 4-17 4-1 4-12 4-3 4-13 4 1 4-15 4-5 4-5 4 3 4 1 4-11 4-9 4 5 4 2 4-1 4 0 4-4 4-7 4-5 4-1 4 6 4-6 4-4 4 6 4-10 4-4 4-2 4-2 4 3 4-2 4 4 4 0 4-2 4 6 4 8 4-15 4 8 4 2 4 4 4 4 4 4 4-4 4 2 4 9 4-1 4 4 4 6 4-5 4 6 4 0 4 0 4-2 4 0 4 1 4-4 4 0 4-3 4-10 4 4 4-3 4-11 4 9 4-2 4-4 4 0 4-8 4 3 4-10 4 12 4-3 4-2 4 3 4-4 4-13 4 12 4-3 4 11 4-2 4 0 4-10 4 9 4 0 4 1 4-5 4-4 4-6 4 15 4-7 4 8 4-4 4-7 4 6 4-1 4-8 4 5 4 7 4 0 4 4 4 1 4 8 4-12 4 7 4-7 4-4 4 11 4 2 4-3 4-9 4 3 4 15 4-15 4-6 4 5 4 0 4 7 4-9 4-1 4 15 4-7 4-7 4 4 4-2 4 2 4-4 4-8 4 10 4-7 4 5 4 16 4-21 4 1 4 9 4-10 4 6 4-4 4-5 4 12 4-9 4 3 4-5 4 12 4 1 4 0 4-7 4 1 4 12 4-4 4-22 4 13 4 15 1-21"/>
<path stroke="#7E2F8E" d="M98 498l4-1 4 0 4 5 4-8 4 5 4-2 4 4 4-3 4-1 4-9 4 2 4-3 4 0 4-3 4-2 4-6 4-10 4 0 4-15 4-1 4-4 4-13 4-3 4-12 4-3 4-13 4-3 4-4 4-7 4 1 4 3 4-8 4-8 4-4 4 9 4-7 4-1 4 8 4 2 4-8 4 11 4 8 4 2 4 12 4-3 4 6 4 5 4-2 4 7 4 2 4 5 4 4 4 0 4-4 4 15 4-1 4 1 4-3 4 7 4-2 4 12 4-1 4-4 4 14 4-7 4-1 4 5 4 3 4 9 4 2 4-2 4 6 4-2 4 9 4 4 4 3 4-2 4 5 4 8 4-3 4 5 4-7 4 3 4-9 4-6 4-6 4-5 4-24 4-32 4-35 4-36 4-31 4-19 4-21 4-17 4-24 4-10 4-2 4-7 4-10 4 4 4-6 4-2 4 2 4-3 4-1 4 7 4 7 4-7 4 7 4 2 4-12 4 9 4-2 4-3 4 6 4-8 4-6 4 15 4-3 4 14 4-8 4-14 4 10 4 3 4-5 4 4 4-10 4 10 4 3 4-2 4 14 4-18 4 0 4 14 4 6 4-13 4-5 4-8 4 15 4 0 4-5 4-9 4 15 4-4 4 3 4-12 4-4 4-4 4 3 4 5 4 11 4-8 4-5 4 3 4 14 4-5 4 2 4-12 4 7 4 6 4-9 4 3 4 9 4-15 4 10 4 2 4 9 4-10 4-3 4 28 4-15 4-3 4-8 4 19 4-34 4 25 1 7"/>
<path stroke="#77AC30" d="M98 444l4-6 4-3 4-1 4 2 4-4 4-4 4 4 4-2 4 3 4-9 4 0 4 0 4-14 4 9 4-9 4-3 4-11 4 1 4-6 4-10 4-10 4-7 4-5 4-9 4-5 4-11 4-8 4-10 4-1 4-12 4-2 4-10 4-11 4 4 4-12 4-4 4 1 4-6 4 0 4 3 4-10 4 7 4-5 4 1 4 3 4 4 4 2 4 0 4 1 4-2 4 2 4 7 4-6 4-3 4 0 4 2 4-1 4-8 4 5 4 0 4-4 4 12 4-4 4 3 4 3 4 12 4 2 4 3 4 4 4 5 4 7 4 13 4 5 4 15 4 5 4 6 4 12 4 0 4-3 4 3 4-6 4-8 4-7 4-12 4-13 4-9 4-12 4-19 4-8 4-10 4-4 4-13 4-5 4 4 4-9 4-11 4-2 4-5 4 3 4 7 4-4 4-3 4 0 4 3 4 1 4 0 4-8 4 8 4-13 4 12 4 0 4 11 4 0 4-7 4 8 4-7 4 0 4-5 4 0 4 9 4 8 4-6 4-11 4 10 4 5 4 0 4-11 4 1 4 6 4-16 4 8 4 7 4-8 4 9 4-5 4 9 4-14 4 4 4 2 4 10 4-12 4 3 4 2 4 2 4 8 4-13 4 14 4-9 4 0 4 7 4-23 4 33 4-21 4 8 4 9 4-8 4 13 4-21 4 2 4-1 4 10 4 10 4-20 4-5 4 9 4 3 4 15 4-9 4 13 4-9 4-2 4-11 4 4 4-15 4 17 4-3 4 0 1 3"/>
<path stroke="#4DBEEE" d="M98 429l4 6 4-9 4-8 4-5 4 2 4-2 4 2 4-11 4-1 4 12 4-7 4-9 4 1 4-7 4-1 4-1 4-1 4-9 4-4 4-1 4-12 4-3 4-4 4-12 4-5 4-17 4-10 4-8 4-2 4-12 4-2 4-12 4-8 4 0 4-3 4-1 4 3 4-2 4 1 4-5 4-1 4 6 4-1 4-7 4-1 4 1 4-10 4 5 4-7 4-1 4-7 4 4 4-7 4 0 4 11 4-6 4-2 4 7 4-2 4 8 4 10 4-3 4 3 4 2 4 4 4 3 4 3 4 7 4-4 4 6 4 11 4 6 4-6 4 6 4 4 4 9 4-1 4 2 4 7 4-6 4-5 4 0 4-14 4-19 4-22 4-18 4-22 4-24 4-22 4-16 4-20 4-16 4-11 4-13 4-3 4-8 4 3 4-6 4-16 4 15 4 2 4-9 4-2 4-5 4 4 4 1 4 7 4-12 4 2 4 1 4 7 4-3 4 8 4-1 4-5 4 1 4 7 4-2 4-8 4 0 4 6 4-3 4 8 4-10 4 1 4-3 4 0 4-8 4 4 4 2 4-4 4 2 4 5 4-5 4 12 4-17 4 3 4-5 4 10 4-3 4-1 4 3 4 6 4-10 4 5 4-17 4 10 4-1 4-5 4 12 4-15 4 8 4-13 4 5 4-5 4 10 4 5 4-10 4 8 4-10 4 1 4 0 4 3 4-12 4-11 4 28 4-2 4-7 4-27 4 31 4-24 4 22 4-3 4 0 4 11 4-19 4 9 1 14"/>
<path stroke="#A2142F" d="M98 487l4-2 4-3 4-1 4-4 4 1 4-6 4 9 4-11 4-1 4 3 4-9 4 3 4-13 4-1 4-1 4-3 4-6 4-4 4-5 4-8 4-9 4-1 4-4 4-17 4 0 4-6 4-2 4-2 4-9 4-4 4 4 4-2 4-4 4-1 4 2 4-5 4 3 4 6 4-1 4 5 4 6 4 9 4 1 4 10 4 0 4 6 4 7 4 2 4 4 4 2 4 1 4-5 4 2 4 5 4-1 4 3 4-5 4 7 4-2 4 1 4 1 4 1 4 8 4 8 4-4 4 3 4 12 4-2 4 2 4 8 4 3 4 10 4 3 4 5 4-6 4 10 4 4 4 6 4-1 4 0 4 0 4 1 4-4 4-2 4-6 4-19 4-12 4-26 4-27 4-35 4-32 4-27 4-31 4-16 4-11 4-21 4-3 4-3 4-3 4-4 4-13 4-2 4 7 4-4 4 5 4-6 4-5 4 4 4 4 4 3 4-5 4 0 4 5 4-1 4-5 4 5 4 8 4-13 4 8 4 10 4-16 4-1 4 6 4 6 4 3 4-4 4 9 4-14 4 0 4 9 4-16 4 5 4-4 4 6 4-5 4 6 4 9 4-7 4 9 4-2 4-5 4 8 4 2 4-13 4 6 4 1 4-2 4 12 4-10 4 7 4-8 4 1 4 2 4-10 4 11 4-3 4 3 4-1 4-7 4-7 4 15 4 4 4 0 4-1 4-13 4 16 4 7 4 12 4-22 4-2 4 3 4-2 4-1 4 7 4-7 4 10 4-7 1-27"/>
<path stroke="#0072BD" d="M98 555l4-1 4-2 4-2 4 2 4 1 4 1 4-1 4-5 4 2 4 1 4 5 4 0 4-7 4-2 4-4 4 0 4-1 4 1 4-5 4-1 4-14 4-8 4-9 4-1 4-10 4-14 4-9 4-1 4-9 4-5 4-1 4-2 4 1 4 1 4-3 4 2 4-2 4 7 4-1 4 6 4 4 4 4 4 4 4 11 4-4 4 6 4 3 4 4 4 0 4 3 4 7 4-1 4 1 4 2 4 2 4 0 4 6 4 2 4 2 4 0 4 1 4 6 4-2 4 4 4-3 4 11 4-3 4-1 4 5 4 4 4 1 4-2 4 5 4-2 4 3 4 2 4 1 4-2 4-2 4 4 4-1 4-3 4-8 4-10 4-3 4-16 4-15 4-26 4-21 4-38 4-29 4-25 4-27 4-19 4-20 4-18 4-13 4-16 4-8 4-2 4-9 4-3 4-5 4-12 4 8 4-11 4-3 4-7 4 12 4-2 4-1 4 4 4-11 4-1 4 23 4-9 4-7 4 13 4-1 4-2 4 1 4 2 4 1 4-10 4 24 4-10 4 4 4-7 4 4 4-6 4 3 4-14 4 22 4-5 4-9 4 8 4-3 4 11 4-14 4 6 4-4 4 10 4-1 4 3 4-17 4 25 4-15 4 2 4-7 4 8 4 10 4-12 4 17 4-21 4 9 4 4 4-2 4-10 4 18 4-28 4 19 4-19 4 11 4-16 4 28 4-18 4 8 4 6 4-13 4 11 4 6 4-4 4 6 4-4 4-1 4-11 4 13 1 8"/>
<path stroke="#D95319" d="M98 485l4 2 4 0 4-6 4 7 4-2 4-3 4 0 4 2 4-2 4-11 4 3 4-2 4-2 4-6 4-7 4-1 4-13 4 0 4-10 4-3 4-9 4-1 4-9 4-8 4-11 4 0 4-13 4 1 4-8 4-7 4-4 4-4 4-3 4-8 4 0 4-12 4 0 4 1 4 2 4-9 4-4 4 10 4 4 4-7 4-3 4 6 4 7 4 0 4-2 4 8 4-3 4 2 4 0 4 9 4-2 4 0 4 4 4 0 4 6 4 5 4 4 4-1 4 2 4-1 4 6 4 8 4-2 4-1 4 13 4 0 4 14 4-8 4 12 4 5 4 9 4 3 4 5 4 5 4-9 4 2 4 5 4-4 4-6 4-10 4-17 4-8 4-30 4-29 4-36 4-31 4-30 4-17 4-14 4-6 4-17 4-2 4 2 4-2 4-7 4 7 4-3 4-6 4 1 4 3 4-2 4 1 4 0 4-2 4 10 4-12 4 6 4 0 4 0 4-3 4-9 4 17 4 1 4-3 4 2 4 6 4-6 4 1 4-11 4 4 4 14 4 2 4-21 4 11 4 8 4-7 4-10 4 5 4-10 4 3 4 11 4-7 4 14 4-12 4 1 4 2 4-1 4-10 4 19 4-2 4-5 4 3 4-8 4 5 4 10 4-13 4 6 4 6 4-16 4 12 4-3 4-9 4 11 4 1 4-3 4-5 4 2 4-9 4 16 4-17 4 6 4-1 4 7 4 13 4-9 4-8 4-4 4 16 4-4 4-4 4-4 4 6 4 14 1-1"/>
<path stroke="#EDB120" d="M98 368l4 2 4-1 4 7 4 1 4 1 4-4 4 2 4 3 4-3 4-4 4-4 4-1 4-2 4-16 4-13 4-1 4-4 4-14 4-4 4-7 4-11 4-9 4-2 4-14 4-18 4 2 4-16 4-1 4-10 4-12 4-2 4-8 4-14 4 3 4-8 4 0 4-1 4-6 4-2 4-2 4 0 4-2 4 1 4-6 4 2 4-1 4-5 4-3 4-2 4 5 4-4 4-9 4 4 4-9 4 1 4-6 4 1 4-9 4 3 4 4 4-6 4-12 4 2 4 4 4 0 4-11 4 6 4 2 4-1 4 1 4 2 4 3 4-1 4 7 4 0 4-9 4 14 4 5 4-9 4 1 4-3 4-2 4 0 4-5 4-6 4 6 4-10 4 0 4 8 4-15 4 1 4-1 4-12 4 12 4-11 4 4 4-4 4-5 4 3 4-7 4 7 4-2 4 0 4-5 4 4 4 7 4-10 4 0 4 4 4 5 4-4 4 7 4 0 4 5 4-2 4-7 4 1 4 0 4-1 4-3 4 8 4-7 4 4 4-1 4-7 4-5 4 15 4-4 4-9 4-5 4 11 4-10 4 1 4 1 4 2 4-2 4 10 4-7 4-10 4 7 4 1 4 6 4 0 4-5 4-6 4 6 4-2 4 10 4-5 4 0 4 2 4-10 4 12 4-7 4 0 4-3 4 3 4-15 4 16 4-14 4 8 4-16 4 24 4-9 4 13 4-13 4-6 4-2 4 12 4-12 4 8 4-1 4-2 4 2 4-2 4-10 4 11 1 11"/>
<path stroke="#7E2F8E" d="M98 481l4-1 4-1 4 0 4-2 4-2 4-2 4-2 4-7 4 10 4-8 4-2 4 0 4-17 4-3 4 5 4-20 4 5 4-12 4-12 4-1 4-13 4 0 4-9 4-8 4-10 4-13 4-6 4 4 4-4 4-12 4-1 4-4 4-6 4-5 4 1 4-2 4-1 4-5 4-1 4 3 4 5 4-2 4 5 4 5 4-2 4 1 4 0 4 2 4 6 4 3 4-2 4-2 4 5 4 0 4 5 4 2 4-5 4 4 4 7 4-9 4-1 4-2 4 10 4 3 4 1 4 4 4-4 4 6 4 10 4-2 4 9 4 7 4 13 4 11 4-4 4 8 4 2 4 3 4 2 4-7 4 2 4 7 4-13 4-10 4-11 4-15 4-17 4-26 4-26 4-24 4-17 4-16 4-14 4-7 4-13 4 0 4-12 4 6 4-6 4 1 4-7 4 1 4 6 4-13 4 2 4 3 4 4 4 6 4-10 4 7 4-3 4 14 4-8 4-8 4 2 4 5 4-2 4 10 4-13 4 13 4 3 4-1 4-6 4-1 4 11 4-10 4-3 4-1 4 6 4-3 4 10 4 0 4-20 4 10 4 2 4-9 4 9 4 2 4-6 4-2 4 21 4 0 4-18 4 0 4 16 4-9 4-8 4 3 4 4 4-9 4 16 4-5 4-1 4 6 4 0 4-10 4 2 4 2 4 17 4-25 4 9 4 1 4 3 4-9 4 15 4-3 4 5 4-16 4-1 4 17 4-25 4 28 4-5 4-5 4 11 4-8 4 9 1-4"/>
<path stroke="#77AC30" d="M98 545l4 1 4 0 4 2 4 0 4-1 4 0 4 2 4 0 4 1 4 0 4 1 4 0 4 0 4-8 4 2 4-4 4 0 4-6 4-6 4-1 4-11 4-8 4-11 4-8 4-10 4-9 4-6 4-15 4-6 4 2 4-6 4 2 4-4 4 4 4-2 4-1 4 3 4 2 4 5 4 7 4 3 4 9 4-1 4 8 4 6 4 9 4-3 4 2 4 4 4 1 4 2 4 5 4 2 4 0 4-1 4 6 4 4 4-2 4 2 4 1 4 1 4 5 4 1 4 0 4 1 4 1 4 1 4 3 4 3 4 3 4 1 4 4 4 0 4-1 4 1 4 4 4-5 4 8 4-7 4 1 4-1 4-3 4-2 4-12 4-1 4-11 4-17 4-14 4-30 4-26 4-39 4-20 4-23 4-16 4-28 4-6 4-14 4-13 4-4 4-10 4-8 4-10 4-3 4 6 4-4 4-6 4-3 4 8 4-3 4-2 4-1 4 2 4-10 4 9 4-7 4 3 4-16 4 11 4 17 4-13 4 14 4-18 4 9 4 9 4-6 4-3 4-10 4 8 4-2 4 6 4-1 4 6 4-5 4-1 4 0 4 5 4-3 4 2 4-4 4 6 4 1 4 2 4 0 4-2 4 6 4-14 4 2 4 5 4-3 4 15 4-4 4 0 4-5 4-4 4 0 4 18 4-10 4-9 4 11 4-6 4 18 4-14 4 3 4 15 4-24 4-5 4 5 4 11 4-2 4 5 4-12 4 2 4-9 4 14 4-9 4 11 4 5 1-7"/>
<path stroke="#4DBEEE" d="M98 412l4-6 4 3 4 0 4 3 4-10 4 4 4-3 4 4 4-8 4 5 4-2 4-3 4-8 4-4 4-11 4-3 4-3 4-13 4-5 4-6 4-5 4-10 4-11 4-11 4-2 4-3 4-16 4-5 4-4 4-14 4-5 4 3 4-11 4-2 4-5 4-1 4-9 4 6 4-9 4 0 4-7 4 7 4-6 4-3 4-1 4 1 4 4 4-3 4-4 4 3 4 0 4-3 4 1 4-1 4-8 4-5 4-1 4 4 4-2 4 4 4-6 4 4 4-1 4 5 4 4 4-3 4 9 4 3 4 3 4 10 4 1 4 7 4 12 4 4 4 4 4-1 4 9 4-3 4-1 4 6 4-17 4-11 4 1 4-17 4-13 4-5 4-19 4-18 4-18 4-4 4-23 4-7 4-9 4-10 4-9 4-3 4-2 4-9 4 5 4 1 4-11 4 5 4-7 4 0 4 3 4-8 4-7 4 7 4 7 4-2 4 7 4-13 4 12 4-11 4 4 4 3 4-2 4-3 4-6 4 3 4 1 4 10 4 7 4-5 4-4 4 1 4-8 4 8 4 0 4 1 4-4 4 0 4 14 4-26 4 13 4-6 4 8 4-12 4 20 4-13 4 1 4 3 4-3 4-4 4-3 4 8 4 3 4-6 4-13 4 19 4-22 4 10 4 11 4-15 4 1 4-10 4 8 4-4 4 9 4-12 4 28 4-24 4 6 4 10 4-24 4 12 4-4 4-7 4-1 4 0 4 12 4-2 4 11 4-8 4 0 4-10 4-5 1 9"/>
<path stroke="#A2142F" d="M98 396l4-10 4 4 4 0 4 2 4-3 4-1 4-4 4 0 4-1 4-1 4-3 4-9 4-3 4 0 4-11 4-5 4-10 4 4 4-19 4 0 4-3 4-9 4-7 4-12 4 0 4-14 4-8 4 0 4-6 4-14 4-7 4-10 4-2 4-4 4-1 4-5 4-5 4 1 4-8 4-2 4-4 4-1 4 2 4-4 4 0 4-7 4-4 4 7 4 2 4-2 4-1 4-3 4-2 4-3 4-2 4 1 4-5 4-4 4-2 4-1 4 4 4 0 4-2 4 4 4-3 4 2 4 2 4 1 4 9 4 0 4 6 4 6 4 2 4 9 4 9 4-2 4 4 4-6 4 0 4-9 4 3 4-12 4-5 4-13 4-6 4-15 4-13 4-6 4-7 4-11 4-13 4-4 4 1 4-2 4-6 4-4 4-3 4-3 4 1 4 1 4 3 4 0 4-10 4 5 4-1 4-5 4 0 4 7 4 4 4 10 4-14 4 7 4-4 4 3 4-4 4-4 4 4 4 7 4 4 4-3 4-8 4 7 4-3 4-4 4-2 4 11 4-18 4 16 4-8 4 0 4 8 4-9 4 0 4-10 4 8 4 7 4-14 4 12 4-2 4-4 4-4 4 2 4-1 4 16 4-9 4-14 4 11 4-20 4 24 4-13 4-9 4 4 4 24 4-18 4-5 4-1 4 16 4-7 4 2 4-3 4-23 4 25 4-5 4-14 4 13 4 0 4 17 4-10 4-30 4 12 4 12 4-1 4 6 4-3 4 4 4-3 4 1 1 4"/>
<path stroke="#0072BD" d="M98 491l4-4 4 0 4-2 4-4 4 6 4 2 4-2 4-5 4-2 4-1 4-8 4 4 4-8 4 1 4-6 4-5 4-8 4-16 4 1 4-8 4-1 4-10 4-6 4-14 4-3 4-10 4 2 4-9 4-8 4-9 4-7 4 5 4-11 4 2 4-4 4-2 4-5 4 6 4-9 4 3 4-2 4 9 4-5 4 3 4 1 4 1 4-1 4 6 4 1 4 6 4 4 4 1 4 3 4-2 4 2 4 1 4 4 4 5 4 5 4-5 4 3 4 12 4-10 4 14 4-4 4 12 4-2 4 5 4 1 4 6 4 9 4-1 4 17 4 2 4 9 4-6 4 6 4 4 4-8 4 2 4 2 4-5 4-6 4-8 4-17 4-18 4-26 4-34 4-29 4-33 4-26 4-16 4-11 4-12 4-5 4-12 4-4 4 4 4-5 4 2 4-4 4 2 4-9 4 9 4-9 4 8 4-5 4 3 4 3 4 1 4-5 4-1 4 1 4 1 4 5 4-7 4 9 4 0 4 1 4-1 4 11 4-11 4 3 4-1 4-15 4 18 4 8 4-1 4-8 4 5 4-5 4 1 4 4 4 10 4-6 4-2 4-6 4 5 4-6 4-11 4 17 4 7 4 0 4-14 4 3 4-18 4 24 4 5 4-12 4-6 4-7 4-2 4 6 4 9 4 3 4 3 4-9 4 4 4 11 4-7 4 8 4-12 4 0 4-2 4 15 4-3 4-3 4 14 4-10 4-3 4-4 4 8 4-22 4 8 4 12 4 2 4-5 1-9"/>
<path stroke="#D95319" d="M98 425l4-6 4 6 4-1 4-1 4-10 4 7 4-2 4-7 4 3 4-11 4 1 4 6 4-7 4-5 4-16 4-6 4 4 4-8 4-13 4-5 4 2 4-13 4-9 4-2 4-11 4-3 4-9 4-10 4-9 4-9 4-4 4-4 4-5 4-7 4-1 4-7 4-6 4-3 4 0 4-2 4 0 4-7 4 1 4 8 4-8 4 6 4 1 4-5 4-4 4 6 4 4 4 2 4-4 4-3 4-4 4 1 4 3 4-4 4 10 4-11 4 4 4 0 4-1 4 3 4 5 4 4 4 2 4 2 4 11 4 2 4 2 4 12 4 9 4 8 4 3 4 8 4-2 4 5 4 5 4-2 4-10 4-1 4-5 4-11 4-9 4-17 4-13 4-7 4-8 4-7 4-8 4-14 4-8 4-11 4 3 4-7 4-4 4 6 4-9 4 3 4-5 4 8 4 2 4-12 4 6 4-5 4-3 4 8 4-2 4 3 4-6 4 1 4 1 4-1 4 1 4 11 4-6 4 5 4-6 4-1 4 14 4-5 4-18 4 7 4 10 4-7 4 2 4-4 4-6 4 18 4-9 4 5 4 10 4-13 4-3 4 6 4 2 4 3 4-1 4-15 4 7 4-11 4 2 4 9 4-4 4 9 4 8 4-9 4 1 4-12 4 5 4 6 4-12 4 6 4-2 4 1 4 8 4 6 4-12 4 1 4-5 4 9 4 19 4-14 4-10 4 2 4 13 4-14 4 7 4 5 4 23 4-29 4-5 4 8 4-2 4-6 4 2 1 20"/>
<path stroke="#EDB120" d="M98 467l4-7 4-3 4-3 4 4 4-10 4 2 4-3 4 2 4-3 4-7 4 1 4-9 4-6 4-4 4-3 4-14 4-8 4-6 4 2 4-9 4-5 4-9 4-7 4-7 4-8 4-4 4-7 4 8 4-20 4 4 4-19 4 9 4-8 4-3 4-9 4 9 4-4 4-6 4 6 4-13 4 4 4 11 4-8 4 3 4 6 4-5 4 6 4-3 4 4 4-4 4 4 4 3 4 3 4 3 4-4 4-2 4 2 4 4 4 1 4-2 4 2 4-4 4 15 4-2 4 3 4-1 4 0 4 14 4 1 4 0 4 11 4 3 4 14 4-3 4 8 4 9 4-6 4 1 4 5 4-2 4-4 4-4 4-17 4-11 4-20 4-18 4-26 4-29 4-24 4-20 4-15 4-22 4-8 4-10 4-7 4-4 4 3 4-4 4 3 4-10 4 10 4-7 4 2 4 0 4 2 4-6 4 4 4 2 4-1 4 1 4-12 4 11 4-5 4 3 4-5 4 3 4 4 4-6 4-7 4 0 4 13 4-13 4 1 4 5 4-4 4 8 4-6 4 10 4-9 4-2 4 10 4 2 4-6 4 10 4-12 4 1 4-13 4 15 4 8 4-11 4 3 4-8 4 10 4-4 4 1 4-2 4 3 4-10 4 2 4 7 4-10 4-1 4 10 4 2 4-5 4-6 4 5 4 1 4 13 4-9 4-2 4-5 4 6 4 6 4 0 4-9 4 6 4 27 4-18 4-2 4-13 4 3 4-1 4 2 4 8 4 1 4-14 1-2"/>
<path stroke="#7E2F8E" d="M98 548l4-3 4 3 4-1 4-3 4 0 4 4 4-2 4 2 4-4 4 3 4 1 4-4 4 3 4-4 4-4 4 1 4-3 4-5 4-7 4 0 4-9 4-6 4-8 4-12 4-4 4-9 4-15 4-1 4-3 4-8 4-3 4-2 4-1 4 10 4-5 4 1 4 0 4 4 4 0 4 5 4 5 4 8 4 2 4 8 4 4 4 3 4 1 4 10 4-3 4-2 4 5 4 4 4 0 4-2 4 6 4 4 4-2 4 4 4 3 4-2 4 5 4 1 4-3 4 5 4-1 4 9 4 1 4 0 4 0 4 6 4-4 4 4 4 2 4 0 4 2 4 2 4-2 4 3 4-7 4 4 4-2 4-2 4-6 4-7 4-7 4-10 4-22 4-19 4-21 4-31 4-36 4-24 4-22 4-23 4-23 4-19 4-11 4-12 4-12 4-11 4-3 4-2 4-1 4 1 4-8 4-5 4 3 4 3 4-6 4 3 4 2 4 7 4-14 4 6 4-10 4 9 4-4 4 3 4-13 4 2 4 8 4-8 4 15 4-11 4 7 4-2 4 2 4-6 4 14 4-8 4-10 4 22 4-12 4 7 4 9 4-18 4 6 4-11 4 21 4-14 4-7 4 23 4-16 4 0 4 4 4-8 4 6 4 11 4 1 4-4 4-12 4 14 4-7 4 8 4-5 4 2 4-5 4-4 4 20 4 6 4-8 4 0 4-2 4-6 4 13 4-4 4 0 4-10 4 14 4-16 4-7 4 21 4-17 4 8 4 6 4-22 4 7 1 16"/>
<path stroke="#77AC30" d="M98 407l4-7 4 1 4-1 4 2 4-5 4 5 4-10 4 3 4 0 4-3 4-5 4-4 4-3 4-9 4-4 4-1 4-7 4-8 4-9 4-5 4-7 4-2 4-3 4-8 4-22 4-5 4-2 4 1 4-10 4-14 4-13 4-8 4 3 4-6 4-5 4-2 4-7 4-2 4 4 4-14 4 1 4-8 4 3 4-4 4-6 4 2 4 10 4-11 4 5 4 0 4-1 4 0 4-1 4-2 4-5 4 2 4-1 4-5 4 8 4 6 4-4 4 1 4-1 4 7 4 1 4 2 4-5 4 16 4-1 4-1 4 12 4 8 4 4 4-3 4 14 4-4 4 1 4 8 4-4 4-6 4 4 4-6 4-15 4-2 4-12 4-5 4-12 4-5 4-9 4-1 4-13 4-1 4 0 4-10 4 0 4-8 4 1 4 6 4-6 4 0 4-1 4-5 4-5 4 8 4 8 4-8 4 7 4-7 4 9 4-5 4-2 4-4 4 5 4 0 4 2 4-15 4 18 4 0 4-2 4-4 4 12 4-5 4-1 4-3 4 14 4-10 4 2 4-2 4-3 4-1 4 4 4 4 4-12 4 5 4-1 4 14 4-9 4 9 4-7 4-18 4 17 4-12 4 21 4-28 4 18 4-5 4 6 4-2 4-6 4 9 4-4 4-3 4-5 4-5 4 13 4 6 4-4 4 6 4-15 4-1 4 6 4-6 4 5 4-14 4 5 4 1 4-1 4 7 4 11 4-27 4 15 4 17 4-8 4-16 4 22 4-15 4 2 1-2"/>
<path stroke="#4DBEEE" d="M98 525l4-2 4-8 4-4 4 3 4-1 4-5 4-2 4-3 4-1 4 5 4-3 4-1 4-5 4 3 4 0 4-9 4-2 4-7 4-7 4-5 4-11 4-3 4-9 4-16 4-6 4-13 4-4 4-2 4-4 4-1 4-5 4-3 4 1 4-1 4 5 4-7 4 3 4 1 4 9 4 1 4 8 4-2 4 11 4-4 4 11 4 7 4-2 4 1 4 9 4 4 4 1 4 6 4 2 4 5 4-3 4 4 4-3 4 1 4 0 4 4 4 4 4-3 4 9 4 8 4-1 4 0 4-1 4 1 4 10 4-5 4 6 4 2 4 8 4 1 4 9 4-6 4 3 4-2 4 0 4 8 4-7 4-2 4 2 4-12 4 3 4-9 4-22 4-30 4-27 4-28 4-34 4-33 4-16 4-21 4-13 4-23 4-9 4 5 4-2 4-13 4-3 4 0 4-2 4 2 4-7 4 0 4-2 4 2 4 7 4-1 4-1 4-2 4 4 4 1 4-3 4 2 4-2 4-9 4 2 4 10 4-2 4 2 4 4 4-7 4 14 4-11 4 3 4 6 4-9 4-2 4 4 4 0 4 8 4-7 4-5 4 15 4-19 4 25 4-15 4 9 4-4 4 2 4 1 4-6 4 9 4-3 4-6 4 9 4 15 4-11 4 1 4 2 4-10 4 4 4 7 4-2 4 7 4-6 4-19 4 29 4-30 4 17 4 1 4 3 4 6 4-16 4 9 4 3 4-5 4-15 4 18 4-2 4-15 4 23 4-18 4-16 4 24 1 17"/>
<path stroke="#A2142F" d="M98 369l4 0 4 2 4-8 4 5 4 2 4-1 4-2 4 5 4-6 4-2 4 0 4-4 4-5 4-4 4-4 4-13 4 0 4-6 4-9 4-6 4-12 4-10 4-14 4-6 4-8 4-3 4-4 4-12 4-12 4-14 4 0 4-12 4 1 4-8 4-8 4 3 4-8 4-8 4-2 4-1 4-5 4-5 4-4 4-2 4-10 4 5 4-7 4 0 4-9 4-6 4 1 4-4 4-4 4-2 4 2 4-12 4 5 4 3 4-3 4 0 4-1 4 1 4 6 4-4 4-6 4 8 4 6 4-2 4 0 4 12 4-2 4 4 4 1 4-3 4 0 4-4 4 2 4-1 4 2 4-9 4-6 4 1 4-3 4 2 4-13 4 2 4-19 4 7 4-16 4 0 4-6 4-5 4 0 4-8 4-5 4-3 4 4 4-3 4-6 4 5 4-5 4 8 4-3 4-9 4 7 4 3 4 0 4-8 4-1 4 9 4-4 4 6 4 0 4-11 4 8 4 0 4-2 4 4 4 4 4-2 4-5 4-4 4-2 4 2 4 0 4-3 4 7 4-7 4 14 4-16 4-5 4 6 4 3 4-1 4 7 4-5 4 1 4-6 4-12 4 11 4-11 4 0 4-3 4 11 4 4 4-7 4 11 4-9 4 10 4-11 4-7 4 6 4-8 4 4 4-5 4-7 4 17 4-4 4-11 4 28 4-18 4-6 4 4 4 0 4 4 4 13 4-9 4-11 4-11 4 14 4 11 4-9 4 2 4 12 4-32 4 5 4 4 1 7"/>
<path stroke="#0072BD" d="M98 400l4 0 4 0 4-7 4-1 4-2 4 7 4 4 4-1 4-13 4 0 4-4 4-2 4-4 4-8 4-3 4-4 4-2 4-7 4-4 4-2 4-8 4-7 4-12 4 0 4-12 4-3 4-9 4-6 4-11 4-6 4-11 4 5 4-14 4-10 4 7 4-17 4 0 4-2 4-14 4 2 4-11 4 1 4-6 4-4 4 0 4-6 4 2 4-10 4 9 4-4 4 0 4-1 4 5 4-15 4 7 4-3 4 0 4 8 4-4 4 5 4-3 4 9 4-10 4 9 4 5 4 0 4 6 4 0 4 12 4-10 4 18 4 3 4-4 4 17 4-4 4 11 4-7 4 7 4-6 4-3 4 1 4-8 4-2 4-7 4-8 4 0 4-12 4 5 4-14 4-1 4-11 4-1 4 1 4-8 4-3 4 4 4-3 4 0 4-2 4-2 4 0 4 0 4 2 4-4 4-2 4 3 4 7 4-14 4 12 4-3 4 0 4 10 4-12 4 3 4 1 4-3 4-5 4 5 4 9 4-14 4 2 4 8 4-12 4 9 4-1 4 8 4-21 4 14 4 3 4-7 4 5 4 2 4 1 4-5 4 5 4-3 4 8 4-1 4-8 4-5 4 18 4-11 4-6 4 4 4-5 4-1 4 16 4 2 4-15 4 1 4-5 4 16 4-16 4 2 4 8 4-24 4 30 4-18 4 6 4-13 4-1 4 12 4 16 4-16 4 8 4 23 4-28 4-8 4 22 4 7 4-16 4 4 4-2 4-9 4 26 4-11 4 2 1 1"/>
<path stroke="#D95319" d="M98 393l4 8 4-3 4-8 4 1 4 4 4 0 4 0 4-1 4-5 4 5 4-5 4-8 4-3 4-8 4-6 4-7 4-5 4 0 4-12 4 0 4-10 4-7 4-4 4-19 4-5 4-5 4-9 4-7 4-7 4-4 4-18 4 1 4 0 4-15 4 7 4-6 4-6 4-2 4 0 4-2 4-5 4-3 4-2 4-1 4 1 4 0 4-15 4 3 4 4 4-9 4 8 4-9 4 3 4-14 4 9 4-7 4 5 4-5 4 1 4 6 4-6 4 9 4-2 4-4 4 3 4 7 4 4 4 2 4 8 4 3 4-1 4 7 4 16 4 0 4 5 4 2 4 3 4-2 4 1 4-6 4 2 4-9 4-7 4-8 4-12 4-14 4-2 4-8 4-3 4-6 4-12 4-10 4-2 4 2 4-10 4-4 4-4 4 2 4 4 4 2 4-6 4-4 4 4 4 3 4-5 4 8 4-8 4 3 4 0 4 7 4-10 4-3 4 11 4-7 4 5 4 2 4-5 4-9 4 12 4-5 4 7 4 3 4-5 4-5 4 0 4 2 4 3 4-4 4 14 4-8 4 6 4-9 4-4 4 13 4-12 4 4 4-1 4-5 4 13 4-11 4 4 4 6 4-20 4 4 4 5 4 0 4 2 4-5 4 13 4-7 4-14 4 6 4 15 4 6 4-22 4 5 4 5 4-2 4 5 4-7 4 4 4-5 4-7 4 8 4 6 4-14 4 5 4-5 4 2 4 10 4 9 4-13 4-5 4 3 4 20 4-27 4 28 1-15"/>
<path stroke="#EDB120" d="M98 498l4-7 4-3 4-3 4-3 4 4 4-1 4-6 4 4 4-4 4 10 4-15 4 1 4-3 4-6 4-1 4 2 4-8 4-13 4 1 4-7 4-5 4-8 4-6 4-6 4-11 4-3 4-4 4-13 4 1 4-6 4-8 4-3 4 6 4-5 4 1 4 1 4-3 4 4 4 2 4 3 4 5 4 5 4 8 4 1 4 10 4 4 4 1 4 9 4-2 4 1 4 7 4 3 4 0 4 0 4 6 4 2 4 6 4-5 4 1 4 1 4 6 4 0 4 0 4 5 4 5 4 3 4 2 4 3 4 5 4-1 4 7 4 1 4 8 4-2 4 6 4 6 4 3 4-6 4 6 4-1 4 4 4-3 4-2 4-7 4-5 4-12 4-11 4-35 4-18 4-56 4-17 4-31 4-19 4-24 4-14 4-7 4-10 4-6 4-13 4 1 4-3 4-3 4 0 4-1 4 3 4 1 4-6 4 0 4 2 4-3 4 1 4 0 4-4 4 17 4-12 4 14 4-16 4 1 4 5 4 0 4-3 4 6 4-1 4-4 4 17 4-14 4 0 4-2 4 2 4 12 4-15 4 13 4 9 4-15 4 1 4-1 4-2 4-5 4 4 4 15 4-12 4 1 4 4 4-1 4 1 4-6 4 11 4 11 4-15 4 5 4-3 4-8 4 14 4-9 4 10 4-1 4-3 4 3 4-11 4 13 4-8 4 1 4 1 4-9 4-3 4 4 4-5 4 11 4-10 4 3 4 7 4-10 4 20 4 2 4 3 4-16 4 17 1-22"/>
<path stroke="#7E2F8E" d="M98 474l4-1 4-7 4 0 4 2 4-5 4 3 4 0 4 0 4-1 4-3 4-9 4-3 4-4 4-6 4-3 4-11 4-7 4-9 4 1 4-17 4-2 4-7 4-7 4-1 4-14 4-4 4 0 4-4 4-10 4-2 4-1 4-8 4-3 4 1 4-8 4-6 4 2 4-4 4 1 4-1 4-8 4 8 4-9 4 8 4 1 4 5 4-2 4-4 4 4 4 1 4-1 4 8 4-1 4-7 4 12 4-6 4 10 4-4 4-2 4 10 4-2 4 6 4-5 4 5 4-2 4-1 4 9 4 6 4-1 4 14 4 0 4 10 4 12 4-2 4 11 4 6 4 3 4 6 4 2 4-5 4-4 4-6 4-9 4-11 4-27 4-19 4-30 4-23 4-32 4-25 4-27 4-12 4-13 4-11 4-4 4-7 4-7 4-6 4 9 4-19 4 10 4-3 4 6 4-3 4-1 4-1 4 5 4 2 4-2 4-4 4-10 4 18 4 0 4 2 4 0 4-11 4 8 4-3 4-8 4 5 4 0 4 4 4-1 4 1 4-4 4-3 4 7 4 0 4-2 4-1 4-5 4 0 4 7 4 0 4 4 4-2 4-8 4 0 4 20 4-16 4 4 4-5 4-5 4 12 4 4 4-10 4 1 4-8 4 11 4 3 4-4 4 6 4-7 4-6 4 8 4 11 4-8 4-14 4-3 4-1 4 11 4 8 4-10 4-6 4 4 4 10 4-12 4-2 4 28 4-11 4-19 4 3 4 2 4-4 4 9 4 1 4-11 1 22"/>
<path stroke="#77AC30" d="M98 544l4 0 4 5 4-7 4 3 4 0 4 1 4-4 4 2 4 2 4 0 4-6 4 4 4 0 4-11 4 3 4-4 4-1 4-3 4 0 4-10 4-8 4-6 4-10 4-14 4-6 4-9 4-7 4-7 4-6 4-4 4-1 4-2 4 4 4-2 4-2 4-1 4 5 4-2 4 8 4 0 4 5 4 9 4 4 4 4 4 9 4 4 4 3 4 0 4 2 4 7 4 2 4-1 4 5 4 1 4-1 4 4 4-1 4 4 4 2 4 3 4 5 4-4 4 5 4-5 4 2 4 3 4 0 4-1 4 12 4-3 4 0 4 4 4 1 4-1 4 2 4 6 4-7 4 5 4-2 4-2 4 5 4-11 4-1 4-5 4-9 4-9 4-17 4-20 4-18 4-32 4-38 4-19 4-27 4-18 4-22 4-8 4-20 4-11 4-10 4-7 4-5 4-6 4-4 4 2 4-10 4 5 4 2 4-6 4 9 4-12 4 7 4-2 4 1 4-2 4 6 4-1 4-4 4 6 4-3 4 1 4 2 4 2 4 1 4-1 4 4 4 0 4-21 4 15 4-5 4 4 4-3 4 4 4-5 4 4 4 0 4 9 4-13 4 7 4-1 4-2 4 1 4 2 4-9 4 14 4 8 4-11 4 13 4-13 4-10 4-2 4 19 4-11 4 13 4-12 4-7 4 15 4-16 4 10 4-18 4 26 4 3 4-18 4 4 4 3 4 12 4-8 4 7 4-19 4 9 4 12 4 2 4 6 4-7 4-6 4-4 4-6 4 16 1-18"/>
<path stroke="#4DBEEE" d="M98 394l4 1 4 3 4-7 4 1 4-3 4 3 4 2 4 0 4-1 4-11 4 5 4-6 4-10 4 3 4-12 4 0 4-9 4-8 4-3 4-8 4-5 4-5 4-11 4-6 4-13 4 1 4-13 4-4 4-6 4-8 4-11 4-4 4-3 4-14 4 1 4-8 4-1 4-6 4-2 4-2 4 1 4-7 4-1 4-7 4 6 4-3 4-7 4 2 4 0 4-13 4 10 4-4 4-10 4 11 4-6 4-3 4 3 4 0 4-5 4 1 4 3 4-4 4 4 4 5 4 6 4-6 4 5 4 9 4-3 4 8 4 6 4 6 4 3 4 11 4-1 4 10 4-3 4 1 4 0 4-3 4-2 4-5 4-4 4-6 4-6 4-16 4-1 4-5 4-4 4-1 4-10 4 1 4 1 4-7 4 8 4-18 4 9 4-6 4 8 4-1 4-3 4-8 4 2 4 8 4-4 4-8 4 13 4-3 4-9 4 10 4-2 4-1 4 1 4 2 4-7 4 0 4 4 4 2 4-1 4 1 4-3 4 6 4 0 4 2 4-4 4 2 4 5 4-3 4 5 4-11 4-3 4 15 4-10 4 1 4 1 4 9 4-1 4-6 4 3 4 6 4-23 4 19 4 1 4-7 4 1 4-1 4 4 4-10 4 4 4 2 4 7 4-10 4 1 4 12 4-21 4 12 4 7 4-11 4-7 4 5 4-12 4 2 4 1 4 20 4-7 4-1 4 17 4-21 4 11 4 0 4-17 4 3 4 14 4-2 4-18 4 14 4-23 1 19"/>
<path stroke="#A2142F" d="M98 414l4 2 4 0 4 6 4-8 4 1 4-5 4 5 4-4 4-9 4 5 4-9 4 1 4-10 4-2 4-6 4-11 4 0 4-8 4-14 4-3 4-4 4-3 4-9 4-14 4-6 4-5 4-6 4-10 4-10 4-13 4 3 4-4 4-5 4-3 4-8 4 0 4-4 4 2 4-6 4-4 4-3 4-4 4 5 4-5 4-1 4 0 4 1 4-9 4 7 4 1 4-2 4-1 4-1 4 1 4-11 4 5 4-4 4 7 4-4 4 3 4 3 4-7 4 5 4-6 4 5 4 7 4 3 4 0 4 13 4-2 4 8 4 5 4 11 4 8 4 7 4 3 4-1 4 4 4 3 4-3 4-7 4-4 4-6 4-14 4-16 4-8 4-7 4-15 4-2 4-17 4-2 4-8 4-5 4-5 4-8 4-2 4-3 4-5 4 5 4-8 4 1 4 2 4 8 4-8 4-9 4 11 4-12 4 8 4 4 4 1 4-11 4 4 4 3 4-10 4 5 4-2 4-2 4 6 4-4 4-4 4 4 4 9 4-6 4 5 4 3 4-6 4-2 4-8 4 10 4 4 4-9 4 12 4-8 4 2 4 5 4-8 4 3 4 9 4-2 4 1 4-17 4 7 4 6 4 3 4-1 4-5 4 1 4 2 4 1 4-1 4-3 4-4 4 0 4-2 4 6 4 1 4-5 4-1 4 4 4-6 4-13 4 14 4-3 4-3 4 0 4 3 4 5 4-9 4 5 4 15 4 4 4-37 4 21 4-4 4-21 4 14 4 54 1-33"/>
<path stroke="#0072BD" d="M98 502l4-1 4-2 4-6 4 2 4-9 4 6 4-6 4 0 4 2 4-6 4-3 4-4 4 0 4 0 4-5 4-3 4-13 4 6 4-9 4-14 4 6 4-16 4-7 4-5 4-6 4 3 4-12 4-4 4-9 4-4 4 6 4 2 4-8 4-12 4 6 4-1 4-3 4 5 4-1 4 9 4 6 4 1 4 6 4 3 4 7 4 1 4 7 4 4 4-1 4 7 4 7 4 1 4 0 4-3 4 7 4 1 4-4 4 0 4 12 4 1 4-3 4 2 4 4 4 6 4-11 4 10 4-2 4 6 4 4 4 12 4-3 4 5 4 4 4 8 4 6 4-1 4 1 4 2 4 6 4 8 4-5 4-1 4-2 4-2 4-14 4-6 4-19 4-25 4-25 4-39 4-31 4-35 4-17 4-18 4-26 4 1 4-26 4-3 4-4 4-3 4-1 4-3 4 13 4-10 4 4 4 4 4-3 4-4 4-3 4 5 4 1 4-14 4 4 4 8 4 0 4-6 4-4 4 8 4-2 4-5 4 15 4-9 4 3 4 5 4-6 4-2 4 7 4 2 4-10 4 7 4 6 4-6 4-3 4 6 4 10 4-8 4 3 4-16 4 14 4-16 4 12 4 0 4-1 4-8 4 19 4-4 4 0 4-4 4 8 4-5 4-4 4 10 4-13 4 11 4 1 4-7 4 8 4-7 4 9 4 4 4-13 4-4 4 7 4-8 4 11 4-23 4 22 4-7 4 6 4 1 4 8 4-21 4 16 4 5 4-18 4 2 4 18 1-14"/>
<path stroke="#D95319" d="M98 396l4-10 4 9 4-10 4 12 4-7 4 1 4 4 4-1 4 3 4-5 4-8 4-2 4-9 4-11 4-3 4-4 4-11 4 0 4-17 4 0 4-10 4-4 4-10 4-2 4-1 4-15 4 0 4-4 4-4 4-13 4-7 4-8 4-2 4-5 4-5 4-8 4-3 4 3 4-8 4-3 4-5 4 2 4-6 4 3 4-8 4 1 4-1 4 5 4 3 4-7 4 3 4-6 4 0 4-2 4-3 4 0 4-4 4-6 4 3 4 2 4-1 4-3 4-5 4 5 4-2 4 1 4-2 4 8 4 8 4 3 4 9 4 2 4 7 4 10 4 9 4-1 4 7 4-5 4-4 4-3 4-4 4-2 4-14 4-8 4-10 4-11 4-14 4-9 4-11 4-4 4-6 4-8 4-4 4-10 4-4 4-3 4 1 4-2 4-5 4 10 4-20 4 7 4-1 4 3 4-13 4 15 4 5 4-7 4-4 4-9 4 15 4 7 4-3 4 1 4-4 4-12 4 14 4-5 4 8 4 6 4-8 4-1 4-1 4 4 4-11 4 5 4 6 4-2 4-1 4-7 4 2 4 0 4 6 4-10 4-7 4 11 4 3 4 0 4-6 4 3 4-1 4-6 4 12 4-9 4 3 4-8 4 7 4 1 4-1 4 0 4-3 4 11 4 4 4-22 4 9 4-8 4 2 4 8 4 1 4-14 4-6 4 37 4-24 4-2 4 10 4-8 4 1 4-2 4 0 4-7 4 21 4-26 4 6 4-18 4 14 4 0 4 11 1-11"/>
<path stroke="#EDB120" d="M98 553l4-3 4-2 4 4 4 1 4 0 4-1 4-3 4 1 4-1 4 1 4 0 4 3 4-1 4-7 4-3 4-5 4 0 4-1 4-4 4-6 4-10 4-7 4-11 4-9 4-10 4-10 4-5 4-13 4-6 4-1 4-4 4 2 4 2 4-3 4 1 4 1 4-3 4 7 4-1 4 9 4 8 4 0 4 6 4 5 4 5 4 3 4 5 4 5 4 2 4 1 4 5 4 0 4 8 4-3 4 2 4 0 4 6 4 0 4 0 4-4 4 8 4 0 4 5 4-5 4 7 4 2 4 1 4 5 4 1 4 0 4 3 4-3 4 5 4-5 4 6 4 2 4-2 4-1 4 2 4-2 4 0 4-1 4-5 4-11 4-2 4-12 4-11 4-22 4-28 4-27 4-36 4-24 4-19 4-21 4-21 4-15 4-12 4-7 4-20 4-3 4-6 4-2 4-12 4 4 4-4 4 8 4-8 4-2 4-3 4-2 4 4 4-6 4 6 4 0 4 0 4 9 4 3 4-21 4 20 4-5 4-6 4 8 4-9 4 17 4-11 4-2 4-8 4 4 4 13 4-9 4 4 4 8 4-4 4-9 4 8 4 4 4-2 4 4 4 2 4-12 4 0 4-4 4 17 4-3 4-10 4 2 4 2 4 8 4-6 4 8 4-20 4 6 4 13 4-16 4 18 4-11 4 3 4 6 4-14 4 25 4-10 4 1 4 13 4-2 4-14 4-1 4 12 4-14 4 1 4-3 4 10 4-2 4-7 4 12 4 2 4 4 4-18 1-8"/>
<path stroke="#7E2F8E" d="M98 443l4-4 4 8 4-8 4-9 4 0 4 3 4-5 4-1 4 8 4-7 4 3 4-11 4-9 4 2 4-1 4-12 4 6 4-9 4-3 4-15 4-3 4-17 4-3 4 2 4-12 4-6 4-17 4 2 4-3 4-10 4-8 4-3 4-6 4 2 4-12 4-1 4-3 4-5 4 2 4 4 4-3 4-2 4 5 4-4 4 1 4 0 4 3 4 1 4-6 4 6 4-6 4-3 4 6 4-6 4 0 4-4 4 6 4 0 4 0 4-2 4 8 4 2 4 4 4-8 4 14 4 4 4 2 4 8 4 5 4 4 4 8 4 0 4 12 4 10 4 4 4 8 4 3 4-5 4 8 4-5 4-4 4-11 4-5 4-8 4-11 4-16 4-20 4-13 4-10 4-10 4-8 4-15 4 4 4-17 4-8 4 4 4-12 4 11 4 0 4-12 4 2 4 0 4-7 4 2 4 1 4-1 4 6 4-3 4 13 4-4 4-11 4 2 4 10 4-8 4 4 4 6 4 0 4-3 4 10 4-14 4-1 4 6 4 3 4 1 4 8 4-4 4-1 4-8 4 10 4-10 4 8 4 5 4-6 4 7 4-7 4 4 4-9 4 1 4 5 4-5 4 10 4 10 4-6 4-7 4 0 4 6 4-11 4 0 4 9 4 3 4 11 4-22 4 10 4 2 4 2 4-12 4 9 4-6 4-9 4-5 4 10 4 27 4-18 4-1 4-10 4 15 4-31 4 24 4 2 4-3 4 9 4 1 4-10 4-13 4 15 4-6 4 11 1-19"/>
<path stroke="#77AC30" d="M98 501l4-12 4 0 4-3 4-5 4 3 4-10 4 1 4-1 4-1 4-8 4 3 4-4 4 3 4-9 4 2 4-4 4-8 4-2 4 0 4-8 4-8 4-10 4-2 4-12 4-3 4-1 4-14 4 2 4-1 4-3 4-4 4-1 4-4 4-3 4 2 4 2 4-6 4 6 4-1 4 14 4-6 4 12 4 0 4 11 4 1 4-2 4 5 4 6 4 0 4 12 4-3 4 0 4 9 4-4 4-1 4-1 4 6 4-3 4-3 4 11 4-1 4 3 4 1 4 15 4-6 4 6 4 6 4 2 4 1 4 0 4 8 4 7 4-1 4-2 4 11 4-3 4 1 4 7 4 5 4 1 4-9 4 0 4 0 4-6 4-4 4-14 4-25 4-22 4-33 4-38 4-24 4-29 4-18 4-14 4-24 4-10 4-8 4-3 4-9 4-4 4 1 4-3 4 2 4-4 4-7 4 9 4-9 4 10 4-2 4-19 4 23 4-12 4 9 4-5 4-1 4-2 4 6 4 3 4-16 4 11 4 0 4 9 4 2 4-9 4-4 4 12 4 3 4-11 4 9 4-6 4 9 4-6 4 5 4-2 4 3 4-6 4 4 4-4 4 5 4-10 4 12 4-2 4-9 4 7 4 6 4-1 4 2 4-12 4 7 4 1 4 11 4-17 4 0 4-3 4 19 4-18 4 14 4-7 4 2 4-6 4 19 4-12 4-6 4-10 4 18 4-6 4-8 4 17 4-1 4-3 4-12 4 16 4-5 4 6 4-5 4-16 4 11 1 2"/>
<path stroke="#4DBEEE" d="M98 552l4 0 4-5 4 3 4-1 4 1 4 5 4 1 4 1 4-5 4 5 4 1 4-4 4-1 4-4 4 2 4-10 4 2 4-5 4-3 4-3 4-13 4-8 4-10 4-12 4-10 4-7 4-9 4-5 4-2 4-8 4 0 4-1 4 1 4-3 4 2 4-6 4 6 4 4 4 1 4 3 4 12 4 2 4 7 4 3 4 6 4 3 4 3 4 2 4 7 4-3 4 3 4 3 4 0 4-3 4 6 4 4 4-3 4 4 4 0 4 2 4-1 4 6 4 2 4-2 4 0 4 6 4 0 4 4 4 4 4 6 4-7 4 5 4 11 4-5 4 5 4 3 4-1 4-2 4 2 4 0 4-1 4-3 4-6 4 1 4-11 4-15 4-14 4-25 4-25 4-33 4-33 4-27 4-22 4-23 4-16 4-13 4-19 4-12 4-7 4-13 4-3 4-9 4 5 4-2 4-6 4-5 4 9 4-6 4 2 4 1 4-7 4 0 4 1 4 7 4-4 4 9 4-12 4 10 4-6 4-5 4 6 4-2 4 5 4-17 4 21 4-3 4-2 4-15 4 19 4-3 4-3 4 17 4-17 4 4 4-7 4 0 4 7 4-4 4 11 4 3 4-5 4-3 4 3 4-5 4-2 4-7 4 13 4 2 4-6 4 1 4-2 4-8 4 19 4-11 4-5 4 1 4 23 4-9 4-12 4 11 4-3 4 5 4-12 4 10 4 5 4-3 4-12 4 9 4 20 4 4 4-26 4 23 4-18 4 9 4-9 4 10 4 17 1-40"/>
<path stroke="#A2142F" d="M98 396l4-11 4 1 4 4 4-7 4 3 4-5 4-2 4-2 4-3 4-3 4-1 4-4 4-10 4-9 4-2 4-6 4-11 4-1 4-3 4-10 4-4 4-15 4 1 4-12 4 2 4-7 4-9 4 0 4-5 4-13 4-7 4-8 4 0 4-11 4-1 4 2 4-13 4-4 4 0 4-10 4 4 4-10 4-2 4-5 4-5 4-3 4 0 4-5 4-5 4 0 4-1 4-9 4 1 4-4 4 11 4-4 4-9 4 4 4-4 4-1 4 9 4 1 4-1 4 0 4-4 4 8 4 8 4 0 4 3 4 5 4 8 4 0 4 8 4 7 4-2 4 2 4 4 4 7 4-8 4-10 4 7 4-18 4-5 4-10 4-19 4-12 4-12 4-1 4-12 4-8 4-19 4-6 4-4 4-8 4-8 4 3 4 1 4-6 4-1 4-3 4 4 4 3 4-8 4 1 4-4 4 3 4-3 4 10 4-10 4 1 4 1 4 6 4-1 4-10 4 10 4-8 4 11 4-2 4-6 4 9 4-9 4 3 4-3 4-3 4 7 4 0 4 1 4 5 4-10 4-1 4-9 4 7 4-1 4-2 4-11 4 6 4-10 4 9 4-3 4-2 4 11 4-6 4 1 4-8 4 6 4-8 4-3 4 6 4 17 4-25 4 25 4-11 4-15 4 1 4 3 4 8 4-10 4 9 4 11 4 6 4-27 4 12 4-14 4-11 4 8 4-7 4 23 4 14 4-22 4-6 4 5 4-13 4 0 4 13 4-15 4 26 4-14 1 18"/>
<path stroke="#0072BD" d="M98 552l4-5 4 4 4-2 4 2 4 1 4-1 4 4 4 1 4-4 4 1 4 3 4-8 4 3 4 1 4-5 4-3 4 0 4-3 4 2 4-10 4-12 4-6 4-7 4-4 4-9 4-14 4-8 4-6 4-5 4-7 4-1 4 2 4-2 4 4 4-2 4-4 4 3 4 2 4-1 4 2 4 10 4 4 4 4 4-2 4 7 4 6 4 8 4-3 4 2 4 4 4 3 4 1 4 5 4-1 4 2 4 3 4 1 4 6 4-5 4 6 4 4 4-2 4 2 4 5 4 4 4-1 4 1 4 1 4 2 4 2 4 8 4-2 4 6 4-5 4 3 4-1 4 3 4 0 4 1 4 5 4-8 4-10 4-1 4-3 4-10 4-14 4-14 4-24 4-29 4-29 4-37 4-26 4-22 4-20 4-17 4-20 4-9 4-11 4-16 4-2 4-2 4-14 4-3 4-5 4 3 4-7 4 4 4 3 4-4 4-3 4 7 4-4 4-2 4 3 4-2 4 1 4 5 4-5 4-1 4 15 4-7 4-8 4 2 4 14 4-12 4-7 4 3 4 0 4 5 4-1 4 7 4-6 4-14 4 14 4 6 4-8 4 17 4-26 4 11 4 6 4 2 4 4 4-6 4 1 4 11 4-17 4 10 4 5 4-15 4 2 4 9 4 1 4-13 4 11 4-5 4-9 4 21 4 3 4-5 4-1 4-5 4-7 4 13 4-18 4 13 4 21 4-17 4-7 4-4 4 18 4-6 4-23 4 20 4 11 4 6 4-12 4-8 1 15"/>
<path stroke="#D95319" d="M98 461l4-3 4 4 4-5 4-1 4-1 4-8 4 9 4-3 4-1 4-7 4 1 4 1 4-11 4-4 4-10 4 6 4-15 4 2 4-10 4-6 4-9 4-7 4-8 4-4 4-6 4-6 4-6 4-4 4-10 4 2 4-14 4 1 4-9 4-6 4-2 4-5 4 2 4-6 4-1 4 2 4 1 4-1 4-8 4 6 4-4 4 3 4-1 4 7 4 0 4 3 4-1 4-4 4 6 4 1 4-1 4 1 4 0 4 5 4-1 4 9 4-7 4 0 4 9 4-1 4 5 4 6 4 1 4 7 4 5 4 6 4 7 4-1 4 12 4 9 4 8 4 4 4 7 4 6 4 1 4-3 4-4 4-3 4-5 4-15 4-7 4-19 4-8 4-28 4-18 4-17 4-19 4-8 4-8 4-13 4-13 4 5 4-3 4-9 4 4 4 4 4-4 4-5 4 4 4 2 4-8 4 1 4-3 4 15 4-4 4-3 4-9 4 6 4 5 4 0 4-5 4 10 4-8 4 1 4-4 4 7 4 4 4 6 4-8 4-14 4 8 4 9 4 2 4-3 4 0 4-1 4-6 4-5 4 13 4 6 4-9 4 6 4-3 4 10 4-16 4 5 4-12 4 9 4 12 4-2 4 0 4-3 4-9 4 12 4-1 4-17 4 20 4-13 4 6 4 2 4 8 4-11 4 16 4 0 4-20 4 8 4-1 4-15 4 12 4 8 4 6 4-14 4 2 4-8 4 15 4-3 4-2 4 6 4 7 4-11 4 0 4-5 4 1 1-3"/>
<path stroke="#EDB120" d="M98 497l4-3 4 6 4 3 4-7 4-2 4-6 4 3 4-2 4 0 4-7 4 6 4-4 4-4 4-13 4 19 4-7 4-10 4-4 4-9 4-10 4-7 4-3 4-6 4-10 4-6 4-17 4-3 4 0 4-7 4 0 4-5 4-3 4 3 4-6 4 2 4-5 4 5 4 0 4-3 4 2 4 9 4 7 4 12 4 1 4 2 4 5 4 3 4 0 4 1 4 10 4 4 4 5 4-4 4 0 4-1 4 10 4 1 4 4 4-10 4 5 4 10 4 0 4 7 4 2 4-7 4 12 4 3 4 2 4 8 4 5 4 5 4-7 4 10 4 3 4-3 4 11 4 0 4 3 4-2 4 3 4 4 4-13 4-4 4-2 4-6 4-14 4-15 4-31 4-39 4-36 4-22 4-26 4-28 4-25 4-12 4-10 4-12 4 1 4-9 4 0 4 2 4-10 4 8 4-7 4-6 4 11 4-13 4-2 4 3 4 5 4 0 4 0 4-2 4 5 4-7 4-6 4 16 4-17 4 16 4-1 4-1 4-2 4 0 4-8 4 7 4-3 4 11 4-5 4 15 4-3 4-20 4 16 4-4 4-1 4 2 4 14 4-10 4-13 4 8 4 10 4-3 4 4 4-5 4 1 4 0 4 5 4 7 4-17 4 2 4-3 4-5 4 10 4-12 4 11 4-10 4 3 4 12 4-15 4 4 4 4 4 2 4-1 4 8 4 6 4-10 4-7 4 10 4-8 4 23 4-30 4 15 4 6 4-2 4-3 4 4 4-3 4 18 1-20"/>
<path stroke="#7E2F8E" d="M98 484l4 3 4-2 4-5 4-4 4 2 4 2 4-6 4 0 4 1 4-1 4-4 4-1 4-9 4-1 4-15 4-2 4-7 4 0 4-13 4-6 4-3 4-13 4-2 4-8 4-6 4-1 4-6 4-5 4-5 4-2 4-8 4 1 4 1 4-7 4 0 4-4 4-7 4 2 4-1 4 3 4 1 4 2 4 0 4-1 4 1 4 3 4 4 4-5 4 11 4-3 4-2 4-4 4 4 4-2 4 5 4 7 4-2 4 3 4 0 4 4 4 2 4-1 4 3 4-1 4 11 4 3 4 1 4 6 4 6 4 4 4 11 4 3 4 3 4 7 4 7 4 2 4-7 4 7 4 3 4 3 4-9 4 4 4 0 4-18 4-17 4-6 4-24 4-35 4-37 4-24 4-23 4-18 4-18 4-12 4-2 4-11 4 4 4-5 4 0 4 0 4-2 4 9 4-12 4-8 4 1 4 3 4 1 4 8 4-9 4 10 4-8 4-3 4 15 4-6 4-6 4 4 4 2 4-6 4 0 4 11 4 7 4-6 4-3 4-11 4 6 4 9 4-10 4 9 4 1 4 0 4-4 4-4 4 1 4 8 4-5 4 14 4-9 4 10 4-11 4-14 4 8 4 12 4-10 4 1 4 8 4-3 4 8 4-19 4 10 4 9 4 3 4-23 4 21 4-9 4 3 4-2 4-6 4-4 4 10 4-1 4-8 4 3 4-5 4 21 4-21 4-1 4 22 4-10 4-4 4 3 4-8 4-3 4 1 4 22 4-26 4 5 4 18 1 2"/>
<path stroke="#77AC30" d="M98 555l4-3 4-1 4 3 4 2 4-5 4 3 4-4 4 7 4-3 4-1 4 5 4-5 4-2 4-1 4-4 4-1 4 0 4-7 4 2 4-6 4-7 4-10 4-5 4-8 4-5 4-14 4-13 4 1 4-12 4-3 4 3 4-4 4-4 4 1 4-1 4-2 4 5 4-3 4 7 4 4 4-1 4 5 4 6 4 10 4 1 4 6 4-3 4 11 4 2 4 0 4 0 4 4 4 1 4 1 4 2 4 7 4 1 4-5 4 6 4-2 4 3 4 3 4 4 4-2 4 7 4-5 4 6 4 2 4 5 4 2 4 2 4 2 4 3 4 3 4-2 4-2 4-1 4 3 4 2 4-2 4-4 4 1 4-6 4-4 4-8 4-10 4-19 4-16 4-25 4-34 4-36 4-25 4-23 4-19 4-20 4-21 4-18 4 4 4-23 4-4 4-6 4-1 4-4 4 0 4-8 4 5 4-4 4 5 4-12 4 2 4 10 4-8 4 4 4 3 4-5 4-4 4-3 4 6 4-4 4 2 4 0 4-2 4 13 4-5 4-11 4 15 4-3 4-15 4 16 4-6 4-1 4 3 4-6 4 0 4 10 4-14 4 16 4-1 4-1 4-2 4 9 4-8 4 17 4-11 4 4 4-1 4-4 4-2 4 7 4-5 4 11 4-8 4-10 4 12 4-3 4-2 4-7 4 3 4 5 4 7 4-10 4 26 4-27 4 10 4-11 4 6 4-12 4 19 4 13 4-17 4 6 4-3 4-12 4 22 4-15 4-2 4-1 1 32"/>
<path stroke="#4DBEEE" d="M98 516l4-3 4-3 4 1 4-2 4-4 4-1 4 1 4-2 4 1 4 3 4-10 4 4 4-3 4-4 4 1 4 2 4-3 4-11 4-12 4-4 4-9 4-4 4-6 4-13 4-4 4-11 4-12 4-2 4-2 4-11 4-2 4-1 4 5 4-11 4 3 4-4 4-2 4 4 4-2 4 6 4 9 4 6 4-4 4 3 4 13 4 2 4 3 4 2 4 10 4-5 4 5 4 2 4 4 4-4 4 9 4-5 4 3 4 10 4-3 4 3 4 7 4 10 4-3 4 1 4-4 4 7 4 5 4 6 4 1 4 10 4 4 4 5 4 3 4 0 4-5 4 15 4-4 4 3 4 9 4-6 4 7 4-14 4-2 4 0 4-9 4-12 4-18 4-30 4-26 4-41 4-27 4-36 4-19 4-24 4-8 4-4 4-21 4-6 4-6 4 1 4-5 4-2 4 6 4 8 4-13 4 3 4 3 4 5 4-15 4 9 4 1 4 6 4-1 4-4 4 8 4-13 4 9 4-9 4 7 4 5 4-15 4 12 4 2 4-8 4 3 4 2 4 12 4-2 4-15 4 8 4-6 4 8 4-6 4 12 4-9 4-10 4 7 4 4 4-1 4 0 4-12 4 11 4-1 4 7 4-7 4 1 4 9 4 8 4-10 4-9 4 13 4-1 4-11 4 11 4 14 4-27 4 13 4 5 4-1 4-6 4 9 4-20 4 12 4-1 4 3 4 7 4-6 4-15 4 21 4-3 4-5 4 11 4-16 4 21 4-17 4 15 4-7 1-1"/>
<path stroke="#A2142F" d="M98 524l4 0 4-4 4 3 4-8 4-7 4 0 4 11 4-14 4-2 4 2 4-6 4-2 4 0 4-3 4 0 4-11 4 7 4-16 4-5 4-8 4-6 4-9 4-6 4-10 4-18 4 1 4-13 4-3 4-1 4-3 4 0 4-5 4 4 4 1 4-4 4 3 4-1 4 7 4 0 4 0 4 6 4 13 4 2 4 7 4-2 4 10 4 6 4 1 4 2 4-10 4 12 4-2 4 7 4-2 4-1 4 3 4 0 4 4 4 6 4 0 4 4 4 5 4-6 4 14 4 5 4 1 4-3 4 9 4 1 4 7 4-4 4 7 4 4 4-2 4 11 4-7 4 4 4 8 4-2 4-3 4 5 4-4 4-11 4-9 4-4 4-6 4-14 4-18 4-36 4-31 4-38 4-28 4-28 4-21 4-7 4-20 4-17 4-8 4-3 4-5 4 7 4-6 4-1 4-4 4 3 4 4 4-7 4 5 4-3 4 11 4-8 4-3 4-5 4 7 4 9 4-2 4-13 4 0 4 6 4 4 4-11 4 9 4-2 4 8 4 6 4-15 4-9 4 13 4 5 4-14 4 14 4 7 4-8 4-5 4 8 4-4 4 0 4 1 4-8 4 9 4-2 4-4 4 12 4-8 4 11 4-4 4 1 4-7 4 1 4 11 4 3 4 1 4-2 4-2 4-5 4 6 4-22 4 4 4-7 4 13 4-2 4 7 4-11 4 5 4 6 4-4 4-12 4 2 4 15 4 20 4 9 4-26 4 1 4 0 4-4 4-1 4 14 1-2"/>
<path stroke="#0072BD" d="M98 425l4 3 4-1 4-4 4 1 4-1 4-2 4 0 4 9 4 5 4-16 4-5 4 0 4-5 4-7 4-1 4-15 4 3 4-15 4-2 4-5 4-9 4-11 4-6 4-8 4-6 4-6 4-10 4 3 4-19 4 3 4-9 4-5 4-4 4-9 4 2 4-5 4-15 4 4 4 4 4-5 4-4 4-2 4 3 4-1 4-9 4 4 4 2 4-6 4 1 4-5 4 8 4-11 4 8 4-9 4 9 4 2 4-4 4-3 4 1 4 6 4 1 4-4 4 7 4 10 4-8 4 9 4 6 4 5 4 2 4 10 4 9 4 3 4 14 4 3 4 2 4 8 4 2 4 2 4 10 4-17 4 6 4-6 4-12 4-10 4-7 4-11 4-13 4-15 4-13 4-5 4-10 4-20 4 7 4-12 4 1 4-4 4 1 4-7 4-7 4 2 4 6 4-5 4 8 4-6 4-3 4 8 4-5 4 4 4-1 4 2 4 7 4-18 4 3 4 11 4 1 4-5 4-4 4 6 4 8 4-10 4 1 4 1 4-9 4 7 4-3 4 0 4-1 4 6 4-13 4 11 4-4 4-5 4 6 4 5 4-12 4 9 4-2 4 1 4 2 4-1 4 3 4-1 4 4 4-16 4 5 4 14 4 2 4-14 4 1 4 18 4-19 4 9 4 7 4-5 4-6 4-1 4-18 4 20 4 5 4-15 4 6 4 4 4 1 4 12 4-15 4 13 4-12 4 0 4 8 4-5 4-5 4 9 4 4 4 6 4-12 4-13 4 13 1 5"/>
<path stroke="#D95319" d="M98 405l4-1 4 0 4 2 4-1 4-1 4 2 4 0 4-3 4-1 4-1 4-6 4 5 4-10 4-8 4-4 4-7 4-2 4-9 4-5 4-6 4-12 4-12 4-4 4-8 4-8 4-8 4-8 4-14 4-4 4-5 4-11 4-3 4-4 4-6 4-4 4-3 4-7 4 1 4-3 4 0 4-10 4 3 4-3 4-8 4 2 4-2 4-4 4 1 4 2 4-1 4-10 4 7 4-7 4-9 4 6 4 9 4-17 4 11 4-2 4-3 4 2 4 1 4 4 4 6 4-2 4 5 4-3 4 8 4 6 4 5 4 9 4 8 4 5 4 5 4 7 4-2 4-1 4 13 4-6 4-10 4-3 4-3 4-11 4-15 4-10 4-15 4-24 4-14 4-19 4-1 4-20 4-11 4-3 4-8 4-7 4-12 4 3 4 4 4-9 4-10 4 5 4-2 4 1 4 3 4-10 4 1 4-2 4 8 4 1 4-1 4 0 4-5 4 17 4-11 4 9 4-3 4 1 4-9 4 4 4-4 4 14 4-7 4 4 4-9 4-3 4 4 4-2 4 1 4-6 4-1 4 11 4-16 4 13 4-7 4 1 4-17 4-2 4 16 4 0 4-5 4-2 4-7 4 12 4 0 4 4 4-9 4 13 4-18 4 9 4 10 4-2 4-14 4 15 4-6 4-14 4 8 4-16 4 3 4 7 4 4 4 6 4-6 4-8 4-1 4 11 4-25 4 23 4-12 4-5 4 20 4-33 4 19 4 6 4-4 4 3 4-11 4 4 1-13"/>
<path stroke="#EDB120" d="M98 489l4 3 4-8 4-1 4 1 4 2 4-5 4 2 4-12 4 1 4 3 4 0 4-8 4-2 4-8 4 10 4-13 4 3 4-17 4 8 4-9 4-7 4-9 4-7 4-12 4-3 4-6 4-7 4 2 4-13 4 4 4-10 4-3 4 5 4-9 4 0 4-1 4 1 4 1 4 0 4 4 4 18 4-8 4 11 4 4 4 9 4 4 4 1 4 9 4 4 4-4 4 4 4 5 4-6 4 8 4 1 4 4 4 2 4 5 4-5 4 12 4-1 4 8 4-2 4 1 4 4 4 1 4 7 4-1 4 8 4 4 4 2 4 0 4 14 4 0 4 3 4-1 4 5 4 1 4-1 4 2 4 0 4 1 4-2 4-9 4-15 4-3 4-23 4-22 4-39 4-40 4-24 4-32 4-24 4-19 4-14 4-18 4-9 4-12 4 4 4-6 4 1 4-2 4-13 4 4 4 6 4 0 4-2 4-7 4 3 4 5 4 7 4-4 4-11 4 14 4-3 4 9 4-12 4 3 4-9 4 21 4-4 4 0 4-9 4 5 4 7 4-9 4 20 4-24 4 3 4 14 4-3 4 4 4-10 4-1 4 8 4-14 4 12 4-6 4 1 4 2 4-1 4 5 4 4 4 2 4-5 4-6 4-7 4 10 4 3 4 1 4-1 4 9 4-1 4-11 4-4 4-3 4 6 4 9 4-13 4 6 4 6 4-18 4 16 4-11 4 14 4-3 4 0 4 0 4 1 4-2 4-10 4 11 4 10 4 13 4-29 4-9 4 29 1-15"/>
<path stroke="#7E2F8E" d="M98 366l4-10 4 7 4 1 4-6 4 1 4 5 4-5 4-1 4 4 4-3 4-4 4-3 4-4 4-9 4-8 4-3 4-2 4-10 4 1 4-13 4-2 4-7 4-7 4-19 4-1 4-10 4-10 4-12 4-6 4-7 4-12 4 3 4-9 4-2 4-12 4-5 4 1 4-3 4-12 4-2 4-1 4-1 4-9 4-3 4-3 4 2 4-15 4 7 4-1 4-3 4-6 4-5 4-3 4-2 4-10 4-6 4 7 4-11 4 13 4-10 4 0 4 5 4-1 4-6 4 4 4 1 4 7 4-8 4 6 4 3 4 2 4 1 4 9 4-3 4-8 4 12 4 0 4-7 4 4 4 0 4 4 4-11 4 3 4-9 4 5 4-6 4-6 4 7 4-3 4-6 4 1 4-10 4-6 4 3 4-4 4 1 4 7 4-8 4 0 4 4 4-3 4-2 4-2 4 0 4-3 4 19 4-12 4-8 4 12 4 2 4-7 4 11 4-7 4-1 4 4 4 1 4-3 4-10 4 7 4 0 4 0 4-13 4 11 4 9 4-6 4 10 4-5 4-1 4-15 4 10 4-6 4 5 4 8 4-17 4 11 4-2 4 11 4-18 4 7 4 1 4 1 4-16 4 11 4 23 4-25 4 9 4-1 4 5 4-8 4 0 4 3 4-8 4 1 4 1 4-4 4 2 4-13 4 13 4-6 4 3 4-2 4-15 4 5 4 1 4 13 4-22 4 22 4 14 4-14 4-10 4-5 4 31 4-25 4 16 4-5 4-6 4 8 1-21"/>
<path stroke="#77AC30" d="M98 486l4 1 4-1 4-4 4 0 4-5 4 7 4-6 4-1 4-2 4 4 4-2 4 1 4-11 4 2 4-11 4-4 4-6 4-6 4-9 4-11 4-5 4-3 4-6 4-9 4-9 4 1 4-10 4-9 4 3 4 0 4-13 4-1 4 1 4-1 4-4 4-2 4 3 4-5 4 7 4-6 4 2 4-2 4-1 4-3 4 3 4 8 4-4 4-4 4 9 4-2 4-5 4 6 4 5 4-4 4 5 4-3 4 6 4 0 4 4 4 5 4 0 4-11 4 12 4-5 4 18 4-1 4 3 4 8 4 1 4 1 4 0 4 13 4 11 4-2 4-1 4 12 4 3 4 3 4 5 4 0 4-4 4-4 4-1 4 0 4-11 4-21 4-20 4-30 4-44 4-42 4-16 4-23 4-22 4-9 4-11 4-9 4-4 4-2 4-1 4 3 4-10 4 4 4 0 4-4 4 5 4-4 4-12 4 19 4 2 4-3 4-5 4 13 4-11 4 1 4 0 4 5 4-3 4 0 4 0 4 8 4-9 4 9 4-11 4 17 4-11 4 3 4-6 4 7 4-17 4 15 4-10 4 6 4 0 4-9 4 6 4 9 4-6 4 5 4-8 4 4 4 13 4-6 4-6 4-6 4-1 4 19 4-15 4 5 4-1 4-2 4 3 4 3 4 12 4-32 4 16 4-4 4-18 4 8 4 3 4 4 4 11 4-4 4-4 4-11 4 5 4-1 4 2 4 3 4-3 4 28 4-3 4-1 4-15 4-9 4 4 4-4 4 8 1-5"/>
<path stroke="#4DBEEE" d="M98 501l4-5 4 5 4 0 4-9 4 9 4-11 4-2 4 2 4 2 4-3 4 1 4-11 4 3 4-1 4-5 4-3 4-6 4-3 4-2 4-9 4-4 4-6 4-13 4-6 4-10 4-9 4-7 4-3 4-2 4-8 4 3 4-11 4 6 4-7 4 7 4-7 4 1 4 4 4-3 4 6 4 8 4 7 4 3 4 5 4 8 4 4 4 3 4 7 4 5 4-7 4 7 4-7 4 9 4 0 4 2 4 5 4 3 4 6 4 1 4 3 4 2 4 3 4-3 4 10 4-10 4 11 4-1 4 3 4 3 4 5 4 4 4 2 4 1 4 4 4 5 4 8 4 0 4-1 4-2 4 0 4 6 4-5 4 0 4-4 4-12 4-14 4-18 4-17 4-46 4-27 4-43 4-29 4-30 4-4 4-19 4-15 4-10 4-3 4-12 4 4 4-5 4-1 4-5 4 1 4 9 4-11 4 9 4 0 4-1 4-2 4-4 4 0 4 11 4-7 4-5 4 1 4 4 4 5 4-6 4 5 4 7 4 6 4-15 4-4 4-3 4 4 4 5 4 3 4-1 4-3 4 11 4-7 4 4 4-6 4 0 4 17 4-3 4-9 4-3 4 9 4-5 4 1 4 4 4 0 4-6 4-5 4 12 4-7 4 2 4 6 4 0 4 3 4-7 4-3 4 6 4 12 4-14 4 2 4 2 4-12 4 16 4-4 4-3 4-12 4 23 4-11 4 18 4-10 4-3 4 9 4-17 4 3 4 10 4-8 4 8 4-4 4 0 1-17"/>
<path stroke="#A2142F" d="M98 457l4 5 4 5 4-12 4 12 4-10 4 4 4-3 4 1 4-4 4-5 4 7 4-5 4-6 4-5 4-17 4 1 4-3 4-9 4 3 4-15 4 3 4-16 4-4 4-8 4-4 4-16 4 0 4-14 4 6 4-7 4-15 4 2 4-5 4 2 4-5 4-5 4 0 4-5 4-4 4 5 4-1 4-2 4 1 4 5 4-3 4 2 4 10 4-3 4-2 4 7 4 0 4 0 4 2 4-2 4-7 4 7 4 2 4 3 4-6 4 2 4 9 4-3 4 8 4-12 4 13 4 0 4 8 4 1 4 6 4-1 4 7 4 10 4 7 4 5 4 15 4-2 4 5 4 5 4-1 4 1 4-4 4-8 4-4 4-7 4-19 4-20 4-21 4-18 4-27 4-31 4-15 4-15 4-9 4-14 4-9 4 1 4-4 4-4 4 0 4 0 4-4 4 12 4-4 4 0 4 4 4-7 4-6 4 11 4-7 4-3 4 11 4-5 4 2 4-10 4 7 4-3 4-3 4-4 4 11 4 1 4 2 4 1 4 0 4 7 4-2 4-5 4-9 4 9 4 4 4-9 4-4 4 3 4 8 4-5 4-8 4-4 4 9 4 0 4-6 4 1 4 2 4-5 4 2 4 10 4-1 4-5 4 13 4-14 4 9 4-23 4 21 4 3 4-5 4-7 4 6 4 11 4-9 4 6 4-6 4 0 4 2 4-13 4 16 4-3 4-10 4-6 4 15 4-4 4-18 4 23 4-18 4 18 4-5 4 10 4-1 4-15 4 19 1-9"/>
<path stroke="#0072BD" d="M98 450l4-5 4-4 4 8 4 0 4 1 4-4 4 5 4-1 4-13 4-5 4 7 4-4 4-6 4-12 4 5 4-7 4-7 4-13 4-6 4-2 4-6 4-6 4-7 4-9 4-2 4-8 4-4 4-11 4-2 4-9 4-9 4 0 4 0 4-6 4 1 4-20 4 2 4-3 4 8 4-6 4 0 4 2 4-10 4-3 4 7 4-3 4 2 4 8 4-3 4 4 4-1 4-5 4 6 4-4 4 3 4-7 4 3 4 1 4 3 4 3 4-1 4 8 4 9 4-10 4 7 4 4 4 6 4 0 4 8 4 10 4-3 4 11 4 21 4 4 4 2 4 4 4 8 4-8 4 3 4 1 4-5 4-5 4-8 4-20 4-8 4-27 4-20 4-24 4-20 4-14 4-19 4-12 4-14 4-7 4-8 4-5 4 1 4-6 4-4 4-6 4 3 4-4 4 3 4-1 4-1 4 6 4 3 4-4 4 0 4-4 4 1 4 11 4-4 4-7 4 5 4 1 4-6 4 5 4-4 4 8 4-7 4 10 4-7 4-2 4 2 4 1 4 1 4 5 4-8 4 1 4 12 4-12 4 10 4-10 4-8 4 19 4-27 4 9 4 4 4-10 4 11 4-10 4 13 4 3 4-1 4-5 4 5 4 3 4-10 4 4 4-12 4 11 4-10 4 3 4 9 4 4 4-7 4-2 4-7 4-13 4 18 4 5 4-2 4-16 4 14 4 6 4-3 4-4 4 2 4-3 4-6 4 24 4-21 4 6 4 8 4-18 4-6 1 11"/>
<path stroke="#D95319" d="M98 485l4-6 4-5 4 2 4-2 4 3 4-8 4 0 4-4 4 2 4-8 4 0 4-5 4-6 4 3 4-11 4-6 4-6 4-1 4-4 4-9 4-4 4-13 4-3 4-10 4-7 4-5 4-3 4-6 4-12 4 4 4-12 4-1 4-3 4-5 4-11 4 3 4-4 4-2 4-2 4 2 4-4 4 5 4 4 4 0 4 1 4-4 4 13 4-2 4-1 4 2 4 2 4 4 4-1 4 0 4 6 4-3 4 0 4 2 4-4 4 12 4-4 4 2 4 9 4-5 4 10 4-1 4 7 4 3 4 0 4 3 4 10 4 7 4 8 4 3 4 7 4 14 4-11 4 13 4 3 4-5 4-5 4-5 4-5 4-21 4-15 4-26 4-37 4-26 4-19 4-28 4-23 4-20 4-15 4-2 4-7 4-6 4-4 4-4 4-1 4 8 4-8 4 7 4-5 4-3 4 1 4 3 4 4 4-8 4 1 4 14 4-18 4 2 4 14 4-16 4 3 4 1 4 8 4-1 4-6 4-3 4 2 4-7 4 12 4 6 4-3 4-9 4 0 4-2 4 3 4-2 4 4 4-2 4-2 4 2 4 8 4 3 4-5 4-16 4 14 4 8 4-1 4 0 4-11 4-1 4 16 4-4 4-1 4 12 4-15 4 0 4-4 4 8 4-3 4-6 4 4 4-11 4 0 4 8 4-2 4 3 4-21 4 25 4 6 4 5 4-2 4-14 4 3 4 1 4 26 4-41 4 9 4 24 4-21 4 13 4-35 4 22 4 11 1 7"/>
<path stroke="#EDB120" d="M98 479l4-1 4 5 4-7 4-1 4-5 4-4 4 1 4-7 4-2 4 7 4-5 4 1 4-1 4-3 4-4 4-3 4-8 4-3 4-1 4-4 4-9 4-6 4-9 4-2 4-6 4 2 4-9 4-7 4 0 4-3 4-15 4 1 4 2 4-6 4 0 4 2 4-3 4 1 4-4 4 9 4 5 4 9 4 5 4 0 4 4 4 2 4 4 4 5 4 7 4-3 4 10 4-3 4 1 4 0 4 9 4 1 4 3 4 7 4-7 4 7 4-3 4 9 4-4 4 1 4 4 4-6 4 9 4 0 4 13 4-6 4 12 4 3 4 4 4 4 4-3 4 12 4 4 4 8 4 3 4 7 4-7 4 0 4 5 4-1 4-11 4-14 4-11 4-20 4-38 4-29 4-47 4-31 4-15 4-32 4-19 4-14 4-15 4-9 4 0 4-4 4-1 4-1 4-9 4 1 4 3 4-8 4 1 4 1 4 5 4 0 4-9 4 3 4 4 4 7 4-1 4-2 4 1 4-6 4 2 4 15 4-11 4-1 4 10 4 3 4-8 4 1 4-9 4 9 4-5 4-3 4 2 4 10 4-3 4 4 4 3 4-11 4 15 4 0 4 0 4-7 4 1 4-3 4-1 4 26 4-14 4-6 4-5 4 0 4 14 4-4 4 9 4-18 4 7 4-4 4 4 4 7 4 6 4-27 4 29 4-3 4-21 4 20 4-14 4-7 4 0 4 5 4 4 4-8 4 8 4-3 4 9 4 1 4 11 4-29 4 13 4-17 4 37 1 0"/>
<path stroke="#7E2F8E" d="M98 431l4 7 4-7 4-4 4 4 4-2 4-8 4 4 4 1 4-10 4 2 4-3 4 8 4-8 4-13 4-2 4-5 4-11 4 0 4-7 4-9 4-5 4-7 4-5 4-18 4-1 4-7 4-8 4-7 4-1 4-10 4-5 4-8 4 1 4-3 4-12 4-5 4 1 4-3 4 3 4-3 4-4 4 2 4-3 4 1 4 5 4-2 4-3 4 7 4-4 4 2 4 0 4 0 4-3 4 5 4-1 4-3 4 2 4 2 4 3 4-2 4 6 4-1 4 4 4-2 4 4 4 9 4 1 4 1 4 6 4 10 4 5 4 9 4 8 4 7 4 0 4 4 4 1 4 3 4-2 4-4 4-6 4-7 4-17 4-29 4-24 4-18 4-23 4-25 4-16 4-27 4-15 4-19 4-10 4-11 4-9 4-3 4-4 4 0 4-4 4-5 4 0 4-10 4 7 4-13 4 18 4-12 4 17 4-8 4 1 4-2 4 11 4-10 4 0 4 7 4 1 4-5 4 5 4-4 4 1 4 2 4 7 4-7 4 2 4-1 4 2 4-6 4 4 4-7 4-7 4 5 4 4 4-1 4-4 4 3 4-4 4-6 4 10 4-4 4-9 4 6 4-8 4 2 4-6 4-1 4 9 4-10 4-1 4 11 4-7 4 8 4 0 4-13 4-8 4 14 4 4 4 1 4-8 4-7 4-2 4 18 4-12 4 14 4-8 4 4 4-14 4 13 4 8 4 10 4-12 4-13 4-9 4 4 4 2 4 8 4-5 4 5 4 6 1-18"/>
<path stroke="#77AC30" d="M98 477l4-1 4 2 4-8 4 2 4 2 4-3 4 0 4-1 4-10 4 2 4-1 4-5 4-3 4-5 4-11 4-2 4-5 4 0 4-10 4-14 4-2 4-9 4-3 4-13 4-6 4-5 4-4 4-1 4-7 4-7 4-5 4-3 4-2 4-5 4-3 4-7 4-1 4-8 4 4 4 4 4-3 4-2 4-4 4 10 4 0 4-1 4 2 4 6 4-5 4 2 4-3 4 8 4-6 4 4 4 1 4 3 4 5 4 5 4-4 4 8 4-6 4 7 4 4 4-7 4 3 4 2 4 12 4 5 4 2 4 4 4 4 4 11 4 9 4 7 4 10 4-3 4 7 4-5 4 9 4-4 4 0 4-11 4-12 4-15 4-8 4-31 4-29 4-36 4-27 4-29 4-24 4-16 4-19 4-17 4 3 4-14 4 3 4-6 4-8 4 11 4-11 4 14 4-15 4 11 4-18 4 18 4 5 4 0 4-5 4 4 4-4 4 4 4-10 4-5 4 14 4-9 4 4 4-4 4-1 4 4 4 3 4 11 4-24 4 21 4-14 4 9 4-4 4 10 4-10 4 7 4 1 4-2 4-4 4 5 4-5 4 5 4-15 4 11 4-11 4 8 4 1 4-2 4-5 4-3 4-4 4 8 4-5 4 11 4 10 4-22 4 8 4-3 4 17 4-14 4 0 4-8 4 15 4-11 4 4 4-4 4-9 4 8 4-5 4 3 4 2 4 1 4 1 4-2 4 1 4 0 4 9 4 8 4-7 4 11 4-31 4 27 4-5 1-12"/>
<path stroke="#4DBEEE" d="M98 455l4-3 4 3 4-1 4 6 4-2 4-7 4 13 4-11 4 0 4-3 4-7 4-4 4-1 4-7 4-5 4-6 4-4 4-10 4-15 4-9 4-6 4-7 4-5 4-8 4-3 4-12 4-4 4-6 4-2 4-5 4-4 4-10 4 0 4 1 4-7 4-2 4-4 4 7 4-7 4 0 4 1 4 2 4-3 4 0 4-6 4-5 4 13 4-5 4-3 4 7 4-3 4-4 4 8 4-10 4 1 4 4 4 1 4 2 4 4 4-1 4 0 4 2 4 5 4 9 4 1 4-3 4 7 4 4 4 0 4 16 4-1 4 8 4 14 4 11 4 3 4 1 4 10 4 2 4-5 4 0 4-9 4-2 4-12 4-16 4-15 4-25 4-27 4-29 4-21 4-20 4-21 4-20 4-9 4-13 4-7 4-7 4-5 4-3 4 6 4-4 4-3 4 3 4-2 4 10 4-17 4 9 4-6 4 7 4-4 4 1 4-3 4 11 4-7 4 9 4-2 4 1 4-7 4-9 4 16 4-16 4 6 4 3 4 1 4-10 4 3 4-4 4 6 4 9 4 0 4-14 4 7 4-6 4 4 4-1 4 10 4-20 4 20 4-8 4-8 4 19 4-16 4-5 4-6 4 16 4-6 4 10 4-14 4 8 4 9 4-5 4-7 4 4 4-13 4 14 4 2 4-13 4 10 4 5 4-20 4 15 4-11 4 6 4-34 4 35 4-4 4 0 4 6 4-22 4 16 4 1 4-10 4 27 4-19 4-4 4-13 4 12 4 13 1-11"/>
<path stroke="#A2142F" d="M98 418l4 6 4 4 4-7 4-8 4 4 4-2 4-4 4 3 4-6 4 1 4-7 4 2 4-15 4 2 4-12 4 5 4-16 4 0 4-3 4-10 4-11 4 0 4-15 4 2 4-15 4 1 4-13 4-5 4-5 4-17 4 7 4-4 4-13 4-1 4-8 4 1 4-8 4-4 4 3 4-2 4 1 4-2 4-1 4-6 4 13 4-10 4 3 4 3 4-3 4-1 4 1 4 0 4 4 4-6 4 6 4-12 4 1 4 8 4-2 4 4 4-8 4 12 4 1 4 3 4 5 4-2 4 2 4 5 4 12 4-4 4 9 4 7 4 9 4 11 4 6 4 0 4-3 4 7 4-6 4-2 4-1 4-6 4-8 4-13 4-16 4-10 4-19 4-13 4-6 4-16 4-7 4-7 4-5 4-7 4-11 4 6 4-13 4 3 4 3 4-7 4 9 4-4 4-5 4 1 4 8 4-19 4 11 4 0 4 0 4 1 4 2 4 3 4 4 4-8 4-3 4 4 4 2 4 3 4-5 4 1 4-6 4-2 4 9 4 0 4-1 4 1 4 8 4-3 4-4 4 4 4 6 4-4 4-4 4 1 4 3 4-7 4-1 4-11 4 15 4-13 4 15 4 1 4-15 4 8 4-8 4 12 4-14 4 18 4-24 4-2 4 5 4 6 4 8 4-8 4 3 4 10 4 6 4-10 4-5 4 7 4 7 4-4 4-4 4-22 4 20 4-5 4 20 4-21 4 4 4 1 4 2 4 5 4-11 4 11 4-8 4 0 4-11 1-3"/>
<path stroke="#0072BD" d="M98 469l4-2 4-5 4 1 4-1 4 1 4-4 4 0 4-5 4-4 4-3 4 0 4-6 4-1 4-7 4-1 4-9 4-2 4-10 4-8 4-8 4-7 4-5 4-5 4-9 4-9 4-2 4-11 4-6 4-8 4-5 4-1 4-7 4 0 4-8 4 0 4-7 4-6 4 1 4-2 4-9 4 12 4-9 4 4 4-6 4 9 4 10 4-10 4 0 4 4 4-1 4-5 4 7 4 6 4-1 4-1 4 2 4 0 4 2 4 0 4 5 4-5 4 8 4 4 4 4 4 2 4-4 4 9 4 3 4 10 4 3 4 13 4-2 4 13 4 2 4 13 4 3 4 5 4-3 4 4 4-1 4-2 4-6 4-8 4-14 4-6 4-29 4-19 4-30 4-29 4-19 4-24 4-15 4-26 4-2 4-14 4-6 4-6 4-1 4 2 4-8 4 4 4 2 4-5 4-2 4-5 4 11 4-3 4-4 4 2 4-8 4 7 4 7 4-11 4 7 4 2 4 7 4-4 4-2 4-4 4 0 4-8 4 3 4 4 4-2 4 3 4 3 4-6 4 6 4-8 4 5 4-1 4-6 4 4 4 6 4-1 4-14 4 7 4 0 4 1 4 7 4-7 4-6 4 7 4-4 4 4 4-3 4-10 4 8 4-12 4 22 4 10 4-20 4 8 4-1 4-4 4-2 4 7 4-3 4-12 4-5 4 18 4 17 4 0 4-12 4-7 4 11 4-10 4-10 4 7 4-13 4 17 4-3 4 11 4-13 4-5 4 12 4 0 1-9"/>
<path stroke="#D95319" d="M98 448l4-7 4 6 4 1 4-1 4-4 4 3 4-4 4 1 4 8 4-8 4 1 4-5 4-4 4-7 4-10 4-2 4-12 4 1 4-5 4-6 4-9 4-9 4-14 4-2 4-9 4-2 4-13 4-8 4-6 4-8 4-5 4-8 4 2 4-1 4-8 4-8 4-10 4 2 4-5 4 6 4-3 4 3 4-7 4-2 4 1 4 5 4-2 4-3 4 3 4-2 4 4 4 1 4-3 4 3 4-3 4 2 4 1 4 0 4 5 4 5 4 6 4-3 4 4 4-1 4 2 4 7 4-2 4 12 4 3 4 8 4 7 4 10 4 15 4 3 4 2 4 14 4-4 4 4 4-3 4 1 4 4 4-19 4-3 4-13 4-11 4-16 4-20 4-19 4-11 4-16 4-5 4-12 4 1 4-21 4-4 4 0 4-2 4-5 4-13 4 4 4-6 4 5 4 1 4 1 4-8 4 5 4 3 4-9 4 21 4-15 4 3 4-13 4 19 4-7 4 1 4 0 4 11 4-16 4 3 4-1 4-4 4 0 4 13 4-6 4-7 4 8 4-9 4 11 4-15 4 6 4 2 4 6 4-1 4 1 4-1 4 2 4 1 4 3 4 2 4-2 4-2 4 9 4-5 4 9 4-11 4-10 4 19 4-19 4 5 4 11 4-3 4-3 4-7 4 16 4-10 4-9 4 13 4-2 4 4 4 8 4-3 4-5 4-16 4-2 4 19 4 0 4-4 4 3 4 4 4-7 4 9 4-12 4 20 4-7 4-22 4 18 4 10 1-9"/>
<path stroke="#EDB120" d="M98 549l4 6 4 0 4-3 4-1 4 1 4 2 4-3 4 4 4 0 4 1 4-6 4 9 4-3 4-6 4-3 4-5 4 1 4 0 4-7 4-4 4-7 4-7 4-5 4-4 4-10 4-17 4-4 4-3 4-11 4-6 4 0 4 1 4 5 4-7 4 1 4-4 4 5 4 1 4 2 4 5 4 4 4 6 4 6 4 5 4 1 4 5 4 3 4 6 4 0 4 4 4-5 4 1 4 4 4 3 4 0 4 8 4 1 4-3 4 7 4 0 4 4 4 6 4-2 4-2 4 0 4 12 4-1 4-1 4-2 4 1 4 1 4 2 4 7 4 3 4-4 4 4 4 0 4 1 4 0 4-3 4 3 4-1 4-7 4-8 4-8 4-13 4-11 4-25 4-32 4-29 4-31 4-29 4-18 4-25 4-17 4-17 4-16 4-16 4-6 4 1 4-5 4-7 4-4 4-6 4 1 4-2 4 8 4-8 4-4 4-6 4 5 4 3 4 6 4-6 4 0 4 1 4-2 4-1 4 0 4-9 4 17 4 4 4-10 4 9 4-6 4 0 4 4 4-8 4 1 4 3 4-2 4-1 4 7 4-5 4 4 4 1 4 3 4-12 4 9 4 11 4-11 4 20 4-18 4-3 4-4 4 8 4 7 4-18 4 6 4-2 4 11 4-6 4 18 4-17 4 20 4-8 4 3 4-20 4 1 4 13 4-15 4 10 4 18 4-13 4 12 4-15 4-2 4 10 4-13 4-2 4 19 4-13 4 7 4 2 4-19 4 25 4-3 1-3"/>
<path stroke="#7E2F8E" d="M98 393l4-1 4-3 4-4 4 15 4-6 4-5 4 0 4 2 4-7 4-2 4 1 4-9 4 1 4-3 4-12 4 3 4-6 4-5 4-8 4 2 4-14 4-7 4-7 4-12 4-6 4-6 4 3 4-17 4-7 4-11 4-12 4 3 4-5 4-3 4-9 4-6 4 1 4-7 4-3 4-6 4 0 4-9 4 4 4 0 4-4 4-4 4 1 4-2 4-8 4 2 4-4 4-5 4 0 4-5 4 0 4-9 4-2 4 4 4-2 4 8 4-13 4 12 4 3 4-1 4 0 4 3 4-2 4 6 4 7 4 4 4 4 4 6 4 4 4 9 4 5 4 0 4 10 4-2 4-6 4 2 4-5 4-10 4 1 4-13 4-13 4-8 4-17 4-4 4-5 4-11 4-17 4 0 4-9 4 6 4-15 4 4 4 0 4-10 4 7 4-8 4-7 4 3 4-2 4 5 4 3 4-6 4-1 4 11 4-13 4 10 4-9 4 2 4 1 4 7 4-4 4 3 4-5 4 16 4-10 4 2 4-3 4-1 4 9 4 2 4-11 4 8 4-11 4-9 4 16 4-3 4 1 4-9 4-7 4 14 4-14 4 21 4-10 4-7 4 1 4 1 4-8 4 7 4-7 4 12 4-12 4 6 4 1 4 1 4 4 4 5 4 4 4-29 4 5 4 2 4 20 4-18 4 2 4-8 4 16 4-13 4 0 4 15 4-7 4-9 4 6 4 15 4-25 4-4 4 8 4-2 4 3 4 7 4-4 4 25 4-41 4 19 4 1 1-9"/>
<path stroke="#77AC30" d="M98 459l4-4 4-2 4-7 4 2 4-1 4 0 4-3 4-3 4-2 4-5 4 2 4-13 4 4 4-15 4 2 4-5 4-6 4-9 4 7 4-6 4-9 4-9 4-5 4-1 4-15 4-6 4-2 4-1 4-13 4-11 4-9 4-7 4 2 4-7 4-5 4-11 4-3 4-4 4-3 4-2 4 5 4-4 4 2 4-2 4 1 4 4 4 7 4-5 4-2 4 9 4 4 4-2 4 1 4-1 4-5 4 7 4-1 4-1 4 3 4-3 4 7 4 4 4-3 4 3 4-3 4-4 4 6 4 9 4 7 4-3 4 19 4 8 4 6 4 13 4 6 4 9 4 1 4 1 4 8 4 1 4-6 4-11 4-16 4-8 4-18 4-26 4-33 4-25 4-23 4-14 4-26 4-10 4-25 4-7 4-7 4-6 4 1 4-1 4-4 4-1 4 5 4 2 4-6 4-3 4-4 4 2 4-5 4 8 4 7 4-10 4 6 4-8 4 5 4 3 4 8 4-20 4 4 4 12 4-2 4-1 4-11 4 21 4-5 4-5 4 6 4-8 4-1 4 2 4-2 4 0 4 2 4-7 4 11 4 4 4-17 4 0 4-7 4 16 4 2 4-9 4 1 4-7 4 3 4 7 4 16 4-17 4-13 4 12 4-2 4 4 4-8 4-3 4 10 4-6 4 16 4-20 4 4 4 1 4 32 4-42 4 17 4-9 4-6 4-9 4 15 4 12 4-14 4-6 4-6 4 11 4-4 4 13 4-15 4-10 4 19 4-8 4 9 1 12"/>
<path stroke="#4DBEEE" d="M98 551l4 1 4 2 4-5 4 2 4-2 4 0 4 1 4 2 4 0 4 2 4-1 4-3 4-5 4 5 4-4 4-10 4 5 4-2 4-3 4-4 4-4 4-15 4-1 4-12 4-10 4-11 4-8 4-7 4-4 4-7 4 0 4 0 4 1 4-2 4-2 4 4 4-3 4 1 4-1 4 10 4 6 4 2 4 6 4 10 4-5 4 6 4 4 4 5 4-1 4 4 4-3 4 5 4 0 4 8 4 2 4 1 4 3 4-3 4 5 4 6 4 0 4-4 4 8 4-1 4 8 4-1 4 1 4 2 4 2 4 1 4 0 4 9 4-3 4 0 4 2 4-1 4 3 4 1 4 1 4-5 4 4 4-5 4-6 4-8 4-6 4-11 4-21 4-18 4-28 4-29 4-41 4-25 4-19 4-26 4-22 4-13 4-11 4-17 4-12 4 1 4-16 4-1 4-7 4 5 4-10 4 2 4-3 4 2 4-5 4 6 4 1 4 3 4 2 4-8 4 2 4-1 4 1 4-3 4 2 4 3 4-6 4-8 4 17 4-2 4-5 4 7 4-9 4 9 4 4 4-1 4-11 4 18 4-12 4 14 4-17 4 3 4-1 4-9 4 14 4-7 4 4 4-3 4 12 4-12 4 10 4-12 4 4 4 6 4-3 4 0 4 2 4-18 4 26 4 4 4 0 4-8 4-2 4-6 4-2 4 6 4 1 4 9 4-17 4-3 4 13 4-7 4 12 4-5 4-1 4-7 4 23 4-14 4-8 4 6 4-3 4 33 4-16 1-4"/>
<path stroke="#A2142F" d="M98 373l4 8 4-15 4 7 4-4 4 4 4-1 4 1 4-3 4 10 4-16 4 6 4-7 4-7 4-1 4-5 4-5 4-4 4-15 4-1 4-10 4-7 4-11 4 1 4-18 4-4 4-9 4-5 4-13 4-12 4-5 4-3 4-10 4-3 4-13 4 1 4-5 4-11 4 10 4-9 4-11 4 3 4-12 4 5 4-3 4-2 4-6 4-1 4-3 4 4 4-3 4-2 4-7 4 8 4-7 4-10 4 4 4 0 4 2 4-3 4-2 4 0 4 3 4-4 4-4 4 5 4 7 4-3 4-6 4 8 4-3 4 13 4-4 4 1 4 10 4-1 4-2 4 1 4 0 4 6 4-2 4 1 4-6 4-3 4-4 4-3 4-1 4-9 4-1 4-3 4-5 4-3 4 0 4-1 4-3 4-1 4 3 4-2 4 0 4 0 4-4 4 8 4-4 4 1 4-6 4 5 4-10 4 8 4-2 4-2 4 1 4-2 4 18 4-6 4 6 4-21 4 0 4 10 4-8 4 7 4 1 4-7 4 7 4-9 4 4 4-3 4 1 4 2 4-4 4 5 4-3 4-1 4 5 4 5 4 2 4-7 4 2 4-3 4-7 4 8 4-8 4 7 4-7 4-4 4 6 4 3 4-5 4 9 4 4 4-13 4 4 4-2 4-4 4 14 4 2 4 1 4-16 4-3 4 5 4-6 4 5 4-8 4 1 4-5 4 20 4-15 4 5 4 12 4-14 4 1 4 14 4-36 4 8 4 21 4 6 4-3 4 6 4-19 1 26"/>
<path stroke="#0072BD" d="M98 419l4 0 4 0 4-11 4 3 4-1 4 0 4 3 4-2 4-6 4-2 4 3 4-4 4-11 4-7 4-7 4-2 4-6 4-2 4-15 4-5 4-4 4-2 4-14 4-5 4-12 4-7 4-1 4-11 4-7 4-15 4-7 4 2 4-10 4-1 4-3 4-6 4-4 4-1 4-3 4-4 4-1 4 0 4 0 4-7 4 2 4-1 4-5 4 2 4 5 4-5 4-3 4 1 4 1 4-4 4-2 4-3 4 3 4-6 4 8 4-5 4 0 4 12 4 0 4 0 4 1 4 2 4 9 4-4 4 7 4 10 4 2 4 11 4 8 4-4 4 14 4 0 4 11 4-7 4 0 4-11 4-2 4-8 4-3 4-17 4-19 4-25 4-1 4-13 4-14 4-14 4-15 4-4 4-8 4-5 4-11 4 5 4-5 4-4 4-4 4-1 4-3 4 0 4 7 4-7 4-2 4 2 4 10 4-2 4-8 4 5 4 7 4-12 4 6 4 2 4 3 4-1 4-2 4-5 4 4 4 2 4 0 4 1 4-7 4 8 4-13 4 5 4 7 4-10 4 6 4-3 4-16 4 16 4-4 4-4 4 12 4-3 4-18 4 7 4 5 4-6 4-5 4 10 4-2 4 13 4-7 4-3 4-7 4-2 4 6 4-4 4 9 4 0 4-12 4 16 4-17 4 19 4-5 4-5 4-22 4 10 4 8 4-12 4 6 4 6 4-3 4 5 4 4 4-3 4 1 4-4 4 6 4 3 4-20 4 25 4-13 4-15 4 14 1-2"/>
<path stroke="#D95319" d="M98 436l4-1 4-1 4-2 4-5 4 1 4-5 4-3 4 7 4-1 4 0 4-6 4-5 4-9 4 1 4-11 4-6 4-2 4-7 4-5 4-2 4-11 4-7 4-8 4-1 4-16 4 1 4-9 4-1 4-13 4-12 4-5 4-2 4-7 4-7 4-2 4 0 4-7 4 1 4-5 4-5 4 3 4 1 4-2 4-5 4 6 4 3 4 5 4-9 4 2 4-4 4 6 4-4 4-6 4 11 4-2 4-6 4-2 4 0 4 0 4 6 4-1 4-1 4 7 4-2 4 5 4-1 4 8 4 8 4-3 4 6 4 9 4 13 4 5 4 6 4 17 4 3 4 9 4-7 4 1 4-14 4 8 4-11 4-4 4-26 4-17 4-21 4-21 4-21 4-15 4-16 4-13 4-11 4-12 4-6 4-4 4 1 4-9 4-10 4 2 4-3 4 2 4 2 4-3 4-4 4 0 4 10 4-5 4 1 4 2 4 6 4-3 4 4 4-13 4 7 4-11 4 9 4-7 4 3 4 2 4 5 4-4 4 6 4-9 4 3 4 3 4-14 4 17 4-4 4-2 4 3 4 1 4-9 4 5 4-7 4 5 4-1 4-16 4 16 4 1 4-2 4 3 4-2 4-12 4 2 4 13 4-9 4 5 4 6 4-12 4 5 4 7 4-14 4 11 4 6 4-17 4-8 4 13 4 5 4 11 4-18 4-2 4-1 4 8 4-2 4-10 4 14 4-26 4 19 4-11 4-4 4 37 4-10 4-20 4 11 4 17 4-8 4-5 1-17"/>
<path stroke="#EDB120" d="M98 545l4 3 4-1 4 0 4-3 4 1 4 3 4 3 4-8 4 4 4 3 4 1 4 1 4-5 4-2 4-3 4-5 4 3 4-5 4 0 4-4 4-5 4-11 4-13 4-4 4-12 4-9 4-14 4-6 4 0 4-4 4-6 4 2 4-1 4-3 4 1 4 1 4-6 4 7 4 7 4 1 4 5 4 2 4 9 4 7 4 2 4 9 4 2 4 1 4 5 4 6 4-1 4 2 4-1 4 5 4 1 4 4 4 0 4 3 4-1 4 3 4-1 4 3 4 4 4 3 4-1 4 0 4 0 4 6 4 4 4 3 4-1 4 0 4 1 4 2 4 0 4-1 4 6 4-5 4 1 4-1 4-1 4 1 4-11 4-4 4-10 4-14 4-16 4-23 4-28 4-28 4-32 4-30 4-18 4-30 4-9 4-20 4-13 4-12 4-5 4-12 4-12 4 6 4 3 4-14 4 0 4-3 4 6 4-6 4-3 4 7 4-3 4-2 4-1 4 5 4-2 4-9 4 0 4 16 4-17 4 15 4-8 4 13 4-5 4 3 4-8 4 4 4-1 4 0 4 2 4-4 4 4 4 2 4 3 4 2 4-2 4-5 4-4 4 7 4-13 4 5 4 8 4-2 4 3 4 12 4-17 4 4 4 13 4-17 4 10 4-2 4 12 4-12 4-3 4 7 4-3 4 15 4-18 4 5 4 0 4-5 4-3 4 10 4-8 4-8 4 26 4-10 4 16 4-17 4-10 4 15 4 10 4-5 4-9 4 19 4 0 4-19 4 19 1-15"/>
<path stroke="#7E2F8E" d="M98 501l4-1 4-4 4-2 4-1 4 0 4 4 4-10 4-1 4 5 4-9 4-2 4-9 4-6 4-8 4-9 4 7 4-14 4 3 4-13 4-4 4-5 4 6 4-20 4-8 4-4 4-8 4-9 4-1 4-8 4-5 4-3 4-16 4-4 4 1 4-5 4-8 4-3 4 2 4-2 4-8 4 7 4 2 4 0 4 2 4 3 4 7 4 3 4 3 4 6 4-6 4 10 4-1 4 9 4 1 4 1 4 1 4 4 4-2 4-2 4-1 4 3 4 1 4 1 4 9 4 1 4 3 4 11 4 3 4 3 4 3 4 17 4-1 4 15 4 10 4 5 4 7 4-3 4 2 4-5 4 0 4-5 4-8 4-4 4-1 4-13 4-23 4-26 4-37 4-33 4-30 4-33 4-20 4-20 4-12 4-1 4-12 4-2 4-3 4-2 4 5 4-1 4 3 4 1 4-2 4 4 4-11 4 3 4 2 4-3 4 13 4-20 4 16 4-6 4 1 4 3 4-6 4 4 4-7 4 0 4 6 4-12 4 6 4 7 4 1 4-6 4 18 4-7 4-6 4-2 4 4 4 1 4 6 4 1 4-15 4 12 4-4 4 2 4-9 4 20 4-13 4 4 4-4 4-5 4 8 4-16 4 12 4-9 4 5 4-1 4-4 4 6 4-3 4 5 4-3 4 14 4 1 4-11 4 4 4 1 4 3 4 10 4-18 4-2 4 9 4 10 4-2 4-20 4 8 4-4 4 5 4-13 4 6 4 12 4 7 4-10 4 4 4 2 1-23"/>
<path stroke="#77AC30" d="M98 549l4 2 4-2 4-5 4 3 4 7 4-5 4 2 4-5 4 5 4-3 4-1 4-1 4 3 4-5 4-7 4 4 4-5 4 0 4-5 4-7 4-8 4-10 4-4 4-12 4-9 4-4 4-19 4-5 4-2 4-8 4-1 4 6 4-7 4-5 4 4 4 0 4 7 4 0 4 3 4-1 4 6 4 13 4-3 4 12 4 4 4 1 4 5 4 1 4 2 4 0 4 6 4 3 4 2 4-6 4 5 4 2 4 4 4 2 4-1 4 6 4 5 4 2 4-9 4 11 4 1 4 1 4-1 4 7 4 0 4 1 4 6 4-1 4-1 4 4 4 2 4-1 4 2 4 1 4 1 4-4 4 4 4-4 4-10 4-7 4-7 4-10 4-15 4-28 4-27 4-32 4-33 4-19 4-24 4-23 4-18 4-12 4-14 4-15 4-14 4-11 4 3 4-2 4-6 4-1 4 3 4 10 4-16 4 4 4-3 4 5 4-3 4-2 4 8 4-3 4-7 4-1 4 14 4-14 4-3 4 5 4 0 4 2 4-2 4 5 4-10 4 7 4 8 4-11 4-2 4 3 4 9 4-9 4 21 4-26 4 7 4 16 4 2 4-26 4 14 4 7 4-6 4 4 4 1 4-3 4 0 4 10 4-10 4 1 4 8 4-14 4 2 4 11 4-22 4 9 4-7 4 17 4-2 4-5 4 6 4-3 4 11 4-29 4 14 4-6 4-3 4 17 4-18 4 41 4-17 4 3 4-4 4 11 4-19 4-11 4 18 4-4 4 29 1-15"/>
<path stroke="#4DBEEE" d="M98 512l4-2 4-1 4 1 4 0 4-5 4 3 4 1 4-2 4-6 4 10 4-4 4-4 4-3 4-7 4-4 4 5 4-9 4-12 4-4 4-1 4-8 4-10 4-12 4-3 4-15 4-1 4-11 4-5 4-2 4-5 4 2 4-2 4-5 4 6 4-1 4 2 4-12 4 9 4-5 4 5 4 3 4 7 4 3 4-1 4 6 4 8 4 1 4 7 4-3 4 2 4 6 4-1 4 3 4 9 4-1 4 8 4 1 4 4 4 1 4 7 4-2 4 6 4-7 4 9 4 1 4 8 4 0 4-2 4 13 4-5 4 7 4-5 4 10 4 4 4 6 4 0 4 11 4-7 4 6 4 9 4-8 4 0 4-9 4 1 4-10 4-14 4-16 4-31 4-28 4-33 4-35 4-25 4-31 4-9 4-13 4-28 4-1 4-12 4 0 4-2 4-7 4 0 4 1 4 5 4-11 4-5 4 0 4 12 4-14 4 13 4-4 4-3 4 0 4 4 4-3 4-2 4 0 4-3 4-1 4 5 4 5 4-8 4 5 4 5 4 9 4-14 4-2 4-2 4 12 4-4 4 10 4-10 4 0 4 7 4-8 4-2 4 0 4 13 4-5 4-6 4 8 4 2 4 0 4-7 4 8 4 11 4-16 4-15 4 17 4-6 4 8 4 4 4 6 4-11 4 5 4-7 4 6 4-4 4 22 4-19 4-2 4 2 4-8 4 12 4-6 4 23 4-24 4 0 4 15 4 12 4-11 4-9 4-16 4 27 4-16 4-2 4 1 1 13"/>
<path stroke="#A2142F" d="M98 553l4-3 4 2 4 0 4 5 4-3 4-1 4-3 4 3 4 0 4-1 4-6 4 7 4-5 4-3 4-7 4-1 4-1 4-6 4-4 4-2 4-6 4-10 4-11 4-7 4-12 4-12 4-8 4-11 4 1 4-1 4-5 4-2 4 5 4-4 4-3 4 4 4-2 4 9 4-1 4 11 4 5 4 5 4-1 4 7 4 2 4 10 4 6 4-4 4 6 4 4 4-3 4 1 4 6 4 0 4 0 4 6 4 1 4-1 4-2 4 8 4-3 4 2 4 3 4 2 4 4 4-2 4 4 4 8 4-5 4 5 4 1 4-4 4 7 4 8 4-3 4 3 4-5 4 12 4-10 4 1 4 0 4-4 4-8 4 4 4-12 4-12 4-16 4-20 4-28 4-30 4-31 4-21 4-30 4-23 4-19 4-14 4-17 4-3 4-17 4-6 4-5 4-10 4 1 4-1 4 0 4 2 4-7 4-11 4-1 4 12 4-4 4-6 4 13 4-2 4 5 4-15 4 13 4-1 4 0 4 5 4-18 4 9 4-5 4 23 4-15 4 5 4 6 4-7 4-9 4 2 4 10 4-24 4 13 4 12 4 0 4-2 4-3 4 2 4 1 4-10 4 11 4-5 4 5 4-2 4-9 4 9 4-5 4 7 4-8 4 9 4-8 4 19 4-18 4 6 4 11 4-2 4 11 4-14 4-3 4 5 4-13 4 27 4-17 4 9 4-6 4-13 4 8 4-14 4 17 4 3 4-3 4 12 4-5 4-8 4-9 4 21 4 0 1 7"/>
<path stroke="#0072BD" d="M98 555l4-6 4 6 4 2 4-3 4 1 4-5 4 2 4-1 4 2 4-5 4 5 4 0 4 3 4-2 4-4 4-5 4-2 4 3 4-6 4-4 4-3 4-11 4 0 4-14 4-15 4-1 4-11 4-3 4-10 4-7 4 4 4-3 4 0 4 0 4-1 4 1 4-1 4 2 4 5 4 0 4 6 4 12 4-1 4 4 4 4 4 4 4 9 4-1 4 6 4-3 4-4 4 5 4 0 4 5 4 3 4 2 4-1 4 4 4 2 4-2 4 9 4 1 4 0 4 1 4 1 4 5 4-2 4 3 4 1 4 5 4-1 4 2 4 4 4 1 4 3 4-4 4 12 4-4 4 1 4-4 4 0 4-4 4-7 4 1 4-11 4-13 4-13 4-25 4-26 4-27 4-30 4-35 4-19 4-21 4-18 4-16 4-17 4-9 4-7 4-12 4-4 4-2 4-3 4-11 4 1 4-8 4 10 4 1 4-6 4-6 4 4 4 1 4-8 4 14 4 2 4-2 4-2 4-4 4-3 4 4 4-6 4 13 4-14 4 15 4-10 4 12 4-7 4 2 4-2 4-1 4 5 4 0 4-2 4 10 4-3 4 6 4-10 4-13 4 10 4 10 4 0 4-11 4 10 4 8 4-4 4 1 4 0 4-11 4 4 4 12 4-7 4 5 4 1 4 3 4-25 4 16 4-6 4-3 4 11 4-8 4 1 4 2 4-16 4 16 4 5 4-8 4-10 4 8 4 13 4 4 4 1 4-2 4-10 4-4 4 32 4-23 4 12 1-19"/>
<path stroke="#D95319" d="M98 552l4 4 4-8 4 0 4 6 4-2 4 2 4-1 4-1 4 2 4-2 4-3 4 2 4-3 4 0 4-3 4 1 4-7 4 2 4-4 4-2 4-12 4-4 4-12 4-12 4-5 4-3 4-18 4-5 4-7 4-4 4-3 4 0 4 2 4 2 4-3 4-1 4 7 4-4 4 8 4-3 4 4 4 7 4 9 4 1 4 3 4 4 4 4 4 4 4 7 4 0 4 0 4 3 4 7 4-3 4 3 4 0 4 2 4 7 4 0 4 0 4 5 4 0 4 4 4 1 4-2 4 5 4 3 4-3 4 6 4 2 4 1 4-5 4 8 4 1 4 4 4-2 4-1 4 6 4-4 4-4 4-2 4 1 4-10 4 1 4-14 4-11 4-13 4-27 4-21 4-33 4-35 4-21 4-29 4-16 4-16 4-21 4-12 4-8 4-10 4-13 4-5 4 5 4-13 4-3 4-2 4 6 4 0 4-4 4 3 4-2 4 1 4-1 4 1 4-3 4 0 4 2 4 2 4-12 4 4 4 3 4 8 4-8 4 5 4-4 4 2 4-12 4 14 4 6 4-12 4 0 4-1 4 23 4-10 4 0 4 5 4-11 4-3 4-3 4 1 4 5 4-9 4 8 4 20 4-16 4 3 4-8 4 6 4-1 4-12 4 16 4 5 4-12 4-3 4 7 4-1 4 5 4 7 4-4 4 3 4-18 4 13 4-13 4 14 4 8 4-9 4 0 4-9 4 32 4-14 4-8 4 13 4-8 4 4 4-17 4 3 4 35 4-5 1-8"/>
<path stroke="#EDB120" d="M98 481l4-11 4 9 4 0 4-2 4-9 4 0 4 1 4 0 4-5 4-5 4 1 4 0 4-16 4-2 4-6 4 0 4-5 4-10 4-3 4-14 4-3 4-14 4-5 4-3 4-12 4-7 4 5 4-16 4-4 4 4 4-12 4-7 4-8 4 1 4-1 4 1 4-7 4-3 4 2 4-2 4-4 4 2 4 1 4 2 4-1 4 9 4 3 4-13 4 7 4 9 4 5 4-13 4 10 4-1 4-10 4 15 4 5 4-8 4 8 4-11 4 15 4 1 4 2 4 2 4 4 4 5 4 1 4 10 4 5 4 0 4 8 4 2 4 7 4 6 4 4 4 16 4 2 4-1 4 0 4-4 4 5 4-3 4-14 4-10 4-9 4-23 4-21 4-34 4-23 4-21 4-17 4-16 4-18 4-1 4-8 4-12 4-4 4 1 4 3 4 2 4-6 4 2 4 2 4-6 4 0 4 15 4-26 4 13 4 3 4-1 4-7 4 3 4 4 4 1 4-5 4-8 4 7 4-2 4 4 4-3 4 2 4-4 4 1 4 13 4 1 4-7 4 10 4-10 4 5 4 3 4 5 4-3 4 1 4-20 4 9 4-4 4 7 4 0 4 2 4-6 4 4 4 3 4 4 4 5 4 0 4-16 4 11 4-13 4 23 4-16 4-7 4 23 4-2 4-12 4-1 4-1 4 9 4-10 4-2 4 27 4-11 4-7 4 3 4-1 4-8 4 17 4-14 4-18 4 10 4 6 4 1 4-13 4 3 4 0 4 18 4-5 4 1 1 1"/>
<path stroke="#7E2F8E" d="M98 493l4 3 4-10 4-5 4 3 4 2 4-5 4 1 4 4 4-2 4-5 4-1 4-2 4-8 4-9 4-2 4-5 4-8 4 2 4-17 4-12 4-1 4-2 4-14 4-6 4-1 4-7 4-10 4-5 4-1 4-3 4-6 4 2 4-3 4-2 4-1 4-2 4-3 4-2 4 4 4-3 4 0 4 1 4-5 4 5 4-6 4 6 4 6 4-5 4 3 4-6 4 10 4-3 4 10 4-7 4 7 4-8 4 4 4 5 4 0 4 9 4 1 4 5 4 0 4 11 4-7 4 10 4 5 4-6 4 2 4 8 4 20 4-6 4 10 4 6 4 7 4-2 4 5 4-2 4 7 4-6 4 0 4-5 4 5 4-13 4-14 4-24 4-30 4-35 4-37 4-34 4-24 4-22 4-9 4-16 4-12 4-4 4 3 4-1 4-4 4 2 4 4 4-9 4 2 4-2 4-8 4 14 4-8 4 2 4-4 4-1 4 8 4 7 4-1 4 0 4-14 4 19 4-10 4 9 4 3 4-9 4 5 4-5 4 7 4-9 4-3 4 12 4-6 4 6 4 5 4 2 4-23 4 13 4 7 4-10 4 1 4 3 4-3 4 3 4 1 4-7 4-10 4 6 4 2 4 0 4 0 4-6 4-2 4 18 4 4 4-7 4-14 4-2 4 11 4-5 4 10 4-6 4 9 4-11 4 18 4 4 4-5 4-10 4-3 4-6 4 9 4-9 4 12 4-1 4-8 4 20 4-7 4-3 4 5 4-1 4-1 4-6 4 16 1-19"/>
<path stroke="#77AC30" d="M98 464l4-4 4 4 4-5 4-6 4-5 4 2 4 3 4 1 4-8 4-7 4 4 4-5 4-12 4 1 4-12 4-3 4-2 4-9 4-9 4 4 4-5 4-18 4-6 4 2 4-9 4-1 4-8 4-6 4-1 4-13 4 2 4-11 4-7 4 4 4-11 4-1 4 0 4-7 4-2 4 2 4-1 4 0 4 0 4-4 4 5 4-6 4-2 4 5 4 5 4-3 4-5 4-2 4 9 4 0 4 1 4-1 4 6 4-1 4 5 4-2 4 3 4 3 4 6 4 2 4 4 4-8 4 13 4 0 4 10 4 10 4 3 4 10 4 4 4 9 4 8 4 1 4 11 4 5 4 0 4-15 4 10 4-3 4-15 4-12 4-11 4-16 4-22 4-35 4-29 4-29 4-33 4-11 4-15 4-16 4-20 4-4 4-10 4-3 4-8 4 6 4-1 4 7 4-14 4 3 4 6 4-5 4-3 4 0 4 2 4-1 4 5 4-13 4 1 4 17 4-10 4 3 4 6 4-2 4-11 4 1 4 6 4-2 4 2 4 0 4 11 4-16 4 11 4-18 4 20 4-3 4-7 4-4 4 11 4-8 4 3 4-12 4 8 4 1 4 0 4-4 4 7 4-12 4 9 4 12 4-5 4-12 4 14 4-6 4-19 4 18 4-18 4 10 4 0 4 2 4 6 4 1 4-10 4 10 4-10 4 1 4-17 4 13 4 3 4-12 4 4 4 7 4-5 4-13 4 14 4-2 4 16 4-28 4 6 4 21 4-21 4 15 4 2 1-2"/>
<path stroke="#4DBEEE" d="M98 401l4-1 4-4 4-4 4 4 4 0 4 8 4-12 4-2 4-4 4 2 4-12 4 5 4-9 4-12 4-5 4-4 4-9 4-5 4-11 4-5 4-6 4-9 4-5 4-3 4-15 4-3 4 2 4-18 4-1 4-4 4-4 4-6 4 3 4-3 4-15 4 5 4-7 4-4 4 1 4-6 4 3 4-2 4-12 4-2 4-1 4 1 4-7 4-8 4 5 4-5 4 4 4-10 4-8 4-9 4 5 4-2 4-7 4-3 4 13 4-13 4 4 4 4 4-3 4 9 4 4 4-4 4 11 4 3 4 10 4-4 4 11 4 7 4 9 4 5 4-3 4 6 4 4 4 5 4-7 4-4 4-16 4 1 4-14 4-9 4-24 4-11 4-15 4-13 4-11 4-11 4-10 4-11 4-6 4-15 4 0 4 0 4-6 4 0 4-11 4 5 4-8 4 19 4-19 4 3 4 9 4-1 4-4 4-2 4 2 4-2 4 8 4-8 4 2 4-8 4 10 4-12 4 6 4 2 4 7 4 0 4-1 4 0 4-4 4 2 4-2 4 11 4-13 4 6 4-6 4 7 4-4 4-9 4 8 4-7 4-10 4 12 4 11 4-14 4 2 4-5 4-7 4 7 4 3 4-3 4-18 4 21 4-6 4 5 4-13 4 16 4-22 4 6 4 6 4 7 4-10 4-5 4 5 4-7 4-9 4 10 4 7 4 1 4-14 4-4 4-1 4 24 4-17 4 4 4-11 4 17 4-4 4-16 4 18 4-14 4 20 4-16 4 8 1-4"/>
<path stroke="#A2142F" d="M98 438l4-2 4 4 4 0 4-2 4 0 4-1 4 1 4 0 4 1 4-6 4 0 4 1 4 1 4-11 4-11 4 1 4-6 4-5 4-13 4 1 4-4 4-8 4-6 4-16 4 1 4-13 4-4 4-6 4-9 4 0 4-12 4-3 4-5 4-1 4-7 4-3 4-6 4-7 4-2 4 0 4-1 4-7 4-3 4 1 4 6 4-3 4-2 4-2 4-3 4 8 4-3 4-3 4 6 4-5 4 6 4-5 4 4 4 5 4 0 4-3 4 8 4 7 4-6 4 3 4 7 4-8 4 11 4 8 4 12 4 4 4 10 4 8 4 5 4 11 4 5 4 10 4-4 4 12 4-1 4-3 4-5 4-16 4-4 4-12 4-24 4-13 4-37 4-17 4-21 4-18 4-20 4-19 4-13 4-5 4 1 4-16 4-4 4-1 4 3 4-11 4 6 4 0 4-2 4-3 4-1 4 10 4 1 4 0 4-1 4-11 4 6 4-3 4 13 4-21 4 19 4-11 4-4 4 13 4 4 4-13 4 8 4-7 4-1 4-7 4 1 4 4 4-5 4 2 4-2 4-1 4 8 4 2 4-11 4 5 4 5 4-1 4-12 4 18 4-11 4 5 4 5 4-10 4 3 4 3 4 4 4-9 4 0 4-2 4 9 4-9 4-3 4 7 4 5 4 8 4-26 4 5 4-1 4 4 4 1 4-8 4 3 4-6 4 20 4-11 4 7 4-17 4 6 4 5 4-7 4 10 4-8 4 7 4 12 4-13 4-24 4 30 4 9 1-26"/>
<path stroke="#0072BD" d="M98 383l4 6 4-10 4 2 4-9 4 3 4-1 4-7 4-1 4 4 4-12 4 1 4-5 4-9 4-5 4-14 4 2 4-4 4 3 4-16 4-5 4 2 4-13 4-5 4-10 4 0 4-5 4-5 4-11 4-9 4-14 4-1 4-11 4 4 4-4 4-4 4-9 4 1 4-9 4-5 4-7 4 1 4-2 4-13 4-3 4 1 4-9 4-1 4-5 4-3 4 7 4-8 4-5 4 0 4-4 4-12 4 3 4-10 4 10 4-1 4-1 4 1 4-5 4 7 4-1 4 4 4 3 4-4 4-1 4 6 4 3 4 5 4 11 4-8 4 7 4-2 4 2 4 4 4 0 4-1 4 2 4-5 4-7 4-5 4 1 4-3 4 2 4-3 4 4 4-2 4-2 4-1 4-4 4 2 4-10 4 8 4 3 4-10 4 5 4-8 4-3 4 4 4 10 4-2 4-8 4 2 4 7 4-14 4-2 4 11 4-8 4 9 4-5 4 5 4-6 4 8 4 0 4-15 4 3 4 14 4-9 4 2 4 0 4 7 4-11 4 6 4-2 4 3 4-4 4-1 4 5 4 4 4-11 4 1 4 8 4-7 4 1 4-1 4 9 4-1 4-2 4-8 4 1 4-14 4 21 4-1 4-10 4 11 4-9 4 9 4-14 4 18 4-10 4 7 4-9 4-6 4 1 4 16 4-10 4 7 4-12 4 3 4 21 4-21 4 5 4-5 4 12 4-3 4 1 4-14 4 17 4-10 4-3 4-12 4 40 4-18 4-3 4-17 1 27"/>
<path stroke="#D95319" d="M98 378l4-1 4-2 4 6 4-7 4 3 4 1 4-10 4 0 4 0 4-2 4-8 4-3 4-6 4-10 4-6 4-6 4 0 4-9 4-2 4-13 4 2 4-9 4-6 4-7 4-7 4-8 4-2 4-16 4-11 4-5 4 4 4-11 4-16 4 0 4-11 4-1 4 0 4-5 4 3 4-20 4 9 4-4 4-1 4-3 4 3 4-19 4 9 4 2 4 2 4-14 4 6 4-2 4-2 4 0 4-7 4 2 4-7 4-9 4 4 4-3 4 6 4-5 4 3 4-4 4-2 4 3 4 5 4 0 4-2 4 9 4 1 4-5 4 7 4-1 4 9 4 3 4-6 4-1 4 0 4 0 4-9 4 0 4-13 4-1 4-8 4-7 4-9 4 1 4-9 4-5 4-4 4-7 4-5 4-1 4-1 4-12 4 10 4-4 4-4 4 6 4-1 4-7 4-9 4 20 4-15 4 12 4-8 4-10 4 5 4 4 4 7 4-15 4 11 4-8 4-1 4 3 4-1 4 4 4 2 4-12 4 8 4-1 4-2 4-5 4 19 4-8 4 1 4-6 4-5 4 8 4-9 4 10 4-5 4 8 4-2 4-2 4-9 4 9 4-3 4 3 4-2 4 13 4-1 4-12 4-1 4 5 4 8 4-12 4 6 4-14 4 17 4-10 4 7 4-15 4 9 4-8 4 2 4 0 4 11 4-15 4-6 4 7 4 2 4-20 4 2 4 14 4 12 4-10 4 7 4-12 4 2 4 15 4-22 4 1 4 3 4 6 4-19 1 4"/>
<path stroke="#EDB120" d="M98 382l4-7 4 8 4 6 4-5 4-11 4 6 4 1 4-2 4-1 4-8 4 0 4-8 4-4 4-11 4-7 4-5 4-6 4-5 4-15 4-4 4-7 4-5 4-7 4-9 4-11 4-5 4-12 4-4 4-13 4-11 4-7 4 4 4-12 4-6 4-11 4-2 4-9 4 3 4-11 4 5 4 1 4-11 4-4 4-8 4 6 4-4 4-2 4-3 4 6 4-7 4-3 4 1 4-9 4 5 4 0 4-6 4 0 4 1 4-3 4 3 4-3 4-4 4 2 4 8 4-2 4-2 4 11 4-2 4 4 4-1 4-1 4 6 4 3 4-5 4 15 4-11 4 6 4-2 4-7 4 4 4-8 4-3 4-3 4-5 4-10 4 0 4-13 4 1 4 2 4-8 4-9 4 1 4-7 4 3 4-5 4-6 4 2 4-5 4 7 4-2 4-5 4 4 4-5 4 7 4-4 4 0 4 2 4-1 4-2 4-15 4 16 4-13 4 21 4-5 4-6 4 6 4-3 4 0 4 5 4-2 4 4 4 1 4 0 4-18 4 16 4-6 4 0 4 12 4-11 4 1 4 6 4-8 4 3 4 2 4 0 4-15 4 10 4 1 4 1 4 1 4-2 4 0 4-14 4 3 4 5 4 3 4 5 4-9 4-6 4-18 4 23 4-1 4 3 4-9 4 2 4 4 4-1 4 7 4-5 4-7 4-2 4 1 4 6 4 17 4-21 4 1 4-7 4 13 4 12 4-25 4 0 4 12 4-3 4-25 4 23 4 6 4-17 1 8"/>
<path stroke="#7E2F8E" d="M98 422l4 6 4 2 4-7 4 0 4-5 4-1 4 1 4 0 4-6 4 0 4-6 4-7 4-4 4-8 4-6 4-5 4-8 4-7 4-1 4-9 4-14 4-6 4-1 4-8 4-7 4 0 4-5 4-18 4 1 4-11 4-1 4-11 4-4 4 3 4-17 4 3 4 4 4-11 4 1 4-7 4-4 4 2 4-9 4 8 4-11 4-3 4 3 4-2 4 0 4-5 4 10 4-2 4-6 4 0 4 9 4-3 4-4 4 6 4 7 4 2 4-5 4 3 4 3 4 2 4-3 4 7 4-3 4 13 4-1 4 6 4 9 4 2 4 6 4 9 4 4 4 6 4-7 4 5 4-2 4-6 4 0 4-5 4-14 4-16 4-21 4-21 4-20 4-16 4-17 4-9 4-21 4-12 4-7 4-13 4 3 4-18 4-1 4-14 4 4 4-1 4-4 4 4 4 1 4 4 4 0 4-8 4-10 4 3 4 2 4 8 4 1 4-3 4 1 4-3 4 6 4-9 4-6 4 11 4-1 4 1 4-3 4-3 4 3 4 1 4-2 4 2 4 0 4 4 4 0 4 7 4-17 4 11 4-7 4 1 4-2 4 0 4-1 4-13 4 6 4 0 4-5 4 7 4-4 4 8 4-3 4-12 4 10 4-4 4 0 4-3 4-6 4 8 4 1 4-3 4 10 4 2 4-18 4 1 4 21 4-10 4-15 4 1 4 5 4 6 4-15 4 5 4-2 4 1 4-1 4 10 4 5 4-6 4 8 4-16 4 0 4 15 4-19 1 4"/>
<path stroke="#77AC30" d="M98 444l4 3 4-1 4-6 4 6 4-3 4-4 4 7 4-7 4 1 4-11 4 0 4 1 4-9 4 3 4-6 4-12 4-2 4-9 4-2 4-13 4-4 4-9 4-14 4 1 4-4 4-11 4-16 4 2 4-6 4-8 4-7 4-4 4-6 4-9 4-2 4-3 4-3 4-4 4 3 4-9 4-6 4 3 4 4 4-4 4 4 4 2 4-1 4 0 4-3 4 2 4 0 4 4 4 7 4-3 4-4 4 4 4-3 4 8 4-6 4 10 4-4 4 1 4 6 4-2 4 4 4 8 4 0 4 9 4 5 4 4 4 9 4 16 4 4 4-2 4 6 4 5 4 11 4 7 4-8 4-7 4 1 4-1 4-18 4-12 4-14 4-23 4-14 4-31 4-19 4-17 4-28 4-10 4-8 4-19 4-6 4-10 4 6 4-4 4-8 4-3 4-6 4 0 4-6 4 5 4 0 4-3 4-2 4 2 4 9 4-7 4 2 4 1 4 8 4-15 4 6 4 9 4-2 4-3 4 2 4 4 4-5 4 6 4 1 4-5 4-9 4 3 4 10 4-15 4 5 4 2 4 7 4 3 4-9 4 7 4-8 4-10 4 13 4-15 4 2 4 1 4 7 4-6 4-4 4 7 4 5 4-16 4 12 4-8 4 1 4 9 4-2 4 20 4-17 4-21 4 20 4-2 4 1 4 2 4-7 4 8 4-22 4 19 4-2 4-18 4 26 4-21 4 6 4 18 4-15 4 10 4-3 4 2 4-4 4-8 4 25 4-19 4-6 1-1"/>
<path stroke="#4DBEEE" d="M98 475l4 6 4 1 4-8 4 1 4-8 4 1 4-5 4 5 4-3 4-3 4-8 4 0 4-6 4-11 4 3 4-5 4-12 4 9 4-19 4-1 4-6 4-7 4-7 4-5 4-12 4 8 4-4 4-14 4 1 4-9 4-5 4-5 4-6 4 8 4-9 4-12 4 4 4-1 4-14 4 7 4 4 4-5 4 0 4 7 4-6 4 5 4 6 4-8 4 1 4 2 4 2 4 5 4 1 4 3 4-6 4 3 4-2 4 7 4 6 4 3 4 4 4 3 4-10 4 21 4 1 4 6 4-5 4 8 4 6 4 1 4 11 4 5 4 2 4 14 4 5 4 1 4 3 4 2 4 3 4-4 4-2 4-8 4-3 4-10 4-13 4-21 4-25 4-33 4-31 4-17 4-31 4-8 4-19 4-7 4-2 4-6 4 3 4-11 4-8 4 6 4-7 4 7 4 1 4-2 4 2 4-3 4-8 4 9 4 3 4-3 4-4 4 6 4 9 4-5 4-13 4 9 4-7 4 8 4 4 4-5 4-4 4 8 4 6 4-5 4 3 4-10 4 12 4 2 4 2 4-8 4 3 4 0 4-4 4 3 4-16 4 5 4 15 4-16 4 11 4-2 4 9 4-10 4-4 4 3 4 2 4-5 4 2 4 16 4-10 4-5 4 8 4-21 4 12 4 4 4-2 4-3 4 7 4 3 4 9 4-23 4 6 4 14 4-20 4 8 4 6 4 4 4-26 4 8 4 5 4 0 4 6 4 1 4-17 4 22 4 2 4-17 4 30 1-14"/>
<path stroke="#A2142F" d="M98 377l4-8 4 3 4 2 4 1 4 0 4-5 4 2 4 5 4-10 4-4 4-2 4 0 4-6 4-7 4-11 4-5 4-11 4-5 4 0 4-7 4-4 4-7 4-11 4-5 4-4 4-19 4 1 4-12 4-11 4-8 4-1 4-6 4-11 4-1 4 7 4-20 4 3 4-8 4-9 4 6 4-9 4-4 4-6 4 8 4-9 4-2 4 0 4-4 4-2 4-6 4-1 4-1 4 1 4-7 4-2 4-8 4 4 4-9 4 4 4-5 4 11 4-4 4-2 4-7 4 6 4 5 4 0 4 3 4 0 4 1 4-3 4 4 4 4 4 7 4-2 4-2 4 4 4 2 4-8 4 4 4-8 4 3 4-8 4-15 4-9 4-6 4-3 4-5 4-7 4-9 4-2 4 0 4-1 4-11 4-5 4-6 4 11 4-5 4-3 4 2 4-6 4-1 4-4 4 10 4-12 4 12 4-10 4 5 4 2 4-5 4-1 4 12 4-4 4-3 4-4 4 11 4-10 4 7 4 7 4-18 4 5 4 0 4 0 4-2 4-3 4 3 4 5 4-4 4-6 4 2 4 2 4-2 4 5 4-5 4 1 4 1 4 0 4-6 4-3 4-2 4-2 4 7 4-9 4-1 4 5 4 1 4 17 4-12 4-5 4 8 4 0 4 2 4-24 4 8 4 11 4 0 4-4 4-8 4-2 4 8 4 1 4-18 4 16 4 8 4-16 4-6 4 20 4-22 4 8 4 4 4-7 4 1 4 1 4 0 4-9 4 9 4 2 1-3"/>
<path stroke="#0072BD" d="M98 455l4 0 4-2 4 4 4-6 4-10 4 2 4 1 4-5 4 3 4 4 4-11 4-5 4 2 4-14 4-7 4-14 4 3 4-11 4-8 4-5 4-2 4-12 4-6 4 0 4-12 4 1 4-6 4-10 4-5 4-7 4-6 4-6 4 3 4-6 4-9 4-3 4-4 4-4 4 11 4-5 4 0 4 2 4-2 4 0 4 8 4-4 4 3 4 3 4 3 4-12 4 10 4-1 4-1 4 4 4-3 4 1 4 2 4 0 4 2 4-3 4 4 4 1 4-3 4 2 4 7 4 6 4-3 4 7 4 6 4 10 4 3 4 10 4 2 4 13 4 1 4 1 4 13 4 6 4-11 4 2 4-4 4-5 4-11 4-15 4-21 4-15 4-24 4-32 4-22 4-18 4-26 4-13 4-9 4-9 4-9 4-5 4-1 4-15 4 0 4-1 4 1 4 1 4 2 4-2 4 2 4 0 4-4 4 3 4 3 4 3 4-5 4 11 4-11 4-4 4-8 4 17 4-3 4 2 4-2 4 8 4-8 4-2 4 1 4 6 4-8 4 4 4-1 4 0 4-11 4 8 4-1 4-4 4 7 4-5 4 6 4 0 4-6 4 1 4 4 4-6 4 0 4 11 4-14 4 0 4-6 4 19 4-13 4-2 4 14 4-5 4-1 4 5 4-17 4-1 4 5 4 20 4-8 4-15 4 5 4 25 4-34 4 9 4 9 4-2 4 4 4-7 4-3 4-5 4 4 4-7 4 18 4-30 4 16 4 6 4 1 4-11 4 20 1-16"/>
<path stroke="#D95319" d="M98 473l4-3 4-9 4 8 4-1 4 2 4 0 4-7 4-1 4 6 4-3 4-1 4-2 4-6 4-1 4-3 4-16 4 13 4-12 4-8 4-1 4-4 4-11 4-7 4-8 4 5 4-11 4-7 4-8 4-1 4 3 4-7 4-3 4-3 4-3 4-5 4 7 4-6 4 5 4 3 4 6 4 6 4 2 4 5 4 16 4-5 4 2 4 5 4 3 4 5 4 0 4 11 4-5 4 5 4 5 4 1 4-2 4-1 4 11 4-4 4-1 4 6 4-2 4 8 4-1 4 4 4-1 4 2 4 13 4-6 4 3 4 16 4-8 4 7 4 9 4-5 4 6 4 7 4 2 4 2 4-1 4-1 4-1 4-1 4-7 4-9 4-11 4-9 4-19 4-25 4-44 4-30 4-17 4-20 4-27 4-13 4-18 4-15 4 2 4 0 4-13 4-3 4 0 4 1 4 1 4-2 4 10 4-10 4 2 4-2 4 14 4-12 4-1 4 7 4-5 4 6 4-5 4 11 4-6 4-3 4 3 4-5 4 2 4 12 4-5 4-8 4 3 4-3 4 8 4-3 4-2 4 12 4-8 4 10 4-9 4-6 4 4 4 2 4 1 4-5 4 11 4-19 4 9 4 0 4-1 4 9 4-10 4 3 4 7 4-2 4 1 4 5 4 9 4-14 4-4 4-8 4 7 4-10 4 14 4 0 4-1 4 4 4-12 4 17 4-8 4-1 4 4 4-25 4 19 4 8 4-14 4 11 4-4 4 12 4 12 4-38 4 16 4 9 1 7"/>
<path stroke="#EDB120" d="M98 562l4-5 4 6 4-3 4 1 4-5 4 4 4-2 4 3 4-7 4 5 4-5 4-1 4-2 4-4 4 5 4-6 4-2 4-3 4-4 4-2 4-4 4-9 4-10 4-1 4-13 4-6 4-14 4-1 4-10 4-4 4-1 4-7 4 2 4 6 4-8 4 9 4 2 4 0 4-3 4 3 4 12 4-2 4 6 4 1 4 7 4 0 4 4 4 7 4-5 4 5 4 0 4 0 4 8 4-1 4 4 4 3 4 0 4 3 4 0 4 3 4 7 4 5 4-8 4 5 4 8 4 4 4 1 4 1 4 0 4 2 4 3 4 4 4 1 4 3 4 0 4 1 4-1 4 6 4-4 4-1 4 0 4-6 4-2 4-8 4-10 4-13 4-16 4-27 4-24 4-32 4-32 4-21 4-21 4-26 4-14 4-11 4-12 4-19 4-5 4-10 4-3 4-5 4-5 4 2 4-7 4-6 4-1 4 11 4-3 4-1 4-5 4-6 4 2 4 11 4-10 4-4 4 7 4-12 4 14 4-9 4-6 4 20 4-4 4-4 4-14 4 28 4-13 4 2 4 5 4 2 4-1 4-1 4 6 4-17 4 16 4-4 4 2 4-2 4-3 4 5 4-3 4-13 4 5 4 9 4-8 4 12 4-7 4 12 4-1 4-1 4-15 4 8 4-1 4 3 4 0 4 0 4-2 4 5 4 10 4 0 4-16 4-2 4 8 4 20 4-28 4 11 4 4 4-1 4 4 4-21 4 1 4 26 4-8 4-5 4-10 4 38 4-35 1-7"/>
<path stroke="#7E2F8E" d="M98 519l4 5 4-6 4-5 4-2 4-6 4 8 4-1 4-4 4 2 4-3 4 3 4 5 4-5 4 1 4-9 4-7 4-2 4-3 4-1 4-14 4-6 4-8 4-13 4-18 4 0 4-7 4-6 4-15 4 3 4-1 4-7 4-5 4 4 4-5 4 5 4-10 4 9 4-3 4 5 4 2 4 3 4 9 4 3 4 0 4 0 4 10 4 6 4 3 4 8 4 2 4 3 4-2 4 4 4 3 4-7 4 11 4 0 4 3 4 4 4 1 4 9 4-3 4 0 4 1 4 9 4-3 4 5 4 7 4 7 4-3 4 6 4-3 4 6 4 9 4-1 4-1 4-2 4 15 4-9 4 7 4-4 4 0 4-9 4-2 4-12 4-10 4-10 4-18 4-39 4-36 4-35 4-24 4-24 4-26 4-14 4-9 4-14 4-1 4-9 4-7 4 4 4 2 4-8 4 2 4-10 4 9 4 2 4 3 4 6 4-7 4-4 4 5 4-7 4-2 4 1 4 7 4 1 4-8 4 8 4 0 4 0 4-10 4 18 4-16 4 1 4-3 4 6 4-10 4 8 4 10 4 3 4-8 4-2 4 1 4-4 4-1 4 22 4-15 4 0 4-3 4 9 4-12 4 7 4-8 4 13 4-3 4 9 4-2 4-4 4 2 4-6 4 0 4 3 4 1 4 9 4-5 4-1 4 5 4-12 4 2 4 12 4-2 4-3 4-1 4-12 4 16 4 4 4-8 4-3 4-5 4 21 4-6 4-4 4 0 4 18 4-19 4-11 1 9"/>
<path stroke="#77AC30" d="M98 431l4 8 4-7 4 6 4-3 4 0 4 2 4-5 4 0 4-6 4 0 4-5 4-3 4-11 4 0 4-4 4-3 4-8 4-9 4-7 4-15 4-1 4-8 4-13 4-6 4-8 4 1 4-10 4-7 4-14 4-9 4 1 4-10 4-6 4 0 4-4 4-8 4-1 4 2 4-6 4-2 4-1 4 0 4-2 4 2 4-1 4-2 4 3 4-1 4-1 4-6 4 5 4-8 4 7 4-1 4-5 4-2 4 0 4 0 4 3 4 0 4 2 4 5 4 4 4 1 4 1 4-1 4 8 4-3 4 12 4 10 4 8 4 5 4 5 4 11 4 5 4 8 4 7 4 7 4-10 4-1 4-10 4-8 4-6 4-19 4-16 4-16 4-22 4-22 4-22 4-9 4-14 4-14 4-19 4-2 4-6 4-4 4-5 4-3 4 1 4-8 4-7 4 6 4 1 4-5 4 2 4-6 4 6 4-12 4 11 4-7 4 9 4-2 4-1 4 5 4-13 4 21 4-14 4 9 4-7 4 4 4-4 4-1 4 7 4-5 4 12 4-8 4-9 4-1 4 1 4 6 4-5 4 10 4-5 4 3 4-2 4 2 4-12 4-1 4 14 4-10 4-2 4-1 4 5 4-2 4-5 4 10 4-10 4 12 4-10 4-10 4 6 4 1 4 8 4-12 4-7 4 1 4 10 4-8 4 10 4-6 4 13 4 3 4-3 4-9 4 5 4-17 4 12 4-11 4 4 4 2 4-6 4 6 4 8 4 6 4 0 4-5 4-14 1-5"/>
<path stroke="#4DBEEE" d="M98 425l4-8 4 3 4-1 4 4 4-3 4 3 4-10 4-10 4 6 4-7 4-6 4 6 4-5 4-18 4 5 4-14 4-9 4-1 4-6 4-2 4-4 4-9 4-5 4-4 4-10 4-2 4-12 4-5 4-7 4-3 4-8 4-6 4-15 4-6 4 0 4-12 4-5 4 3 4-2 4-7 4-6 4 11 4-7 4 3 4-2 4-7 4 8 4 4 4 0 4 3 4-5 4 5 4-8 4 0 4-5 4-3 4-3 4 6 4-4 4-2 4 1 4 1 4-1 4 9 4-3 4 1 4 3 4 9 4 3 4 2 4 14 4 11 4 12 4 2 4 15 4 1 4 1 4 6 4-1 4-3 4-7 4-7 4-6 4-4 4-12 4-8 4-8 4-5 4-5 4-8 4-9 4 5 4-8 4-1 4 3 4-9 4 2 4-7 4 2 4 4 4-9 4 2 4-3 4 12 4 0 4 1 4-3 4 11 4-4 4 0 4-9 4 4 4-3 4-3 4 5 4-4 4 0 4 3 4 9 4-9 4 0 4 0 4 7 4 0 4 1 4-5 4 2 4-3 4-1 4 8 4-4 4 7 4-12 4-1 4 4 4 13 4 0 4-10 4 13 4-14 4 1 4-3 4 5 4-2 4-1 4 8 4-7 4-2 4 11 4 6 4-15 4 19 4-10 4 1 4-2 4 7 4-16 4 6 4-1 4 3 4-2 4 9 4-7 4-4 4 11 4-21 4 3 4-9 4-13 4 21 4 13 4 15 4-7 4-15 4 11 4-1 4-32 1 16"/>
<path stroke="#A2142F" d="M98 521l4 2 4-1 4-2 4-9 4 3 4-3 4 3 4-2 4-1 4 0 4 0 4-4 4 2 4-10 4-3 4 3 4-8 4-3 4-11 4-7 4-1 4-5 4-21 4-10 4-8 4-6 4-7 4 0 4-18 4 10 4-11 4 0 4-3 4 5 4-1 4-4 4 6 4-3 4 7 4-1 4 4 4 8 4 3 4 11 4 2 4 4 4-3 4 11 4 1 4-1 4 6 4 1 4 9 4-4 4 6 4 1 4 2 4 11 4-8 4 8 4-2 4 8 4 1 4 9 4 2 4-5 4 10 4-1 4 5 4 7 4 0 4 2 4 1 4 7 4 3 4-6 4 1 4 7 4 5 4-5 4 3 4-9 4 2 4-2 4-8 4-9 4-19 4-18 4-36 4-38 4-32 4-21 4-29 4-18 4-12 4-18 4-13 4-4 4-2 4-2 4-5 4-4 4 0 4-6 4 1 4-1 4 6 4-4 4 2 4-2 4 0 4-11 4 18 4-7 4 5 4-5 4 1 4-6 4 10 4 4 4-5 4 1 4 14 4-21 4 15 4-12 4 1 4 0 4 7 4 5 4 0 4-11 4 10 4-5 4 5 4 2 4-9 4 12 4-4 4 1 4-2 4 2 4 6 4-3 4 0 4-15 4 8 4 7 4-2 4 3 4-13 4 13 4 6 4-38 4 36 4-1 4 3 4-11 4 9 4 1 4-14 4-4 4 10 4 12 4-13 4 10 4-8 4 1 4 14 4-19 4 8 4 1 4 10 4-19 4 16 4-8 4 12 1 2"/>
<path stroke="#0072BD" d="M98 490l4-5 4-2 4-2 4 7 4-5 4 1 4-3 4-2 4 1 4-1 4-6 4-1 4-4 4-4 4-5 4-12 4-6 4-2 4-5 4-15 4-1 4-6 4-8 4-12 4-4 4-11 4-4 4-3 4 1 4-9 4-14 4-4 4-2 4-3 4-2 4-2 4 0 4-8 4 0 4 4 4 1 4-5 4 5 4-7 4 7 4 5 4 0 4 2 4 2 4-3 4 7 4 3 4 6 4-9 4 3 4 10 4-10 4 7 4-5 4 8 4 5 4-2 4 2 4 11 4-2 4 3 4 7 4 7 4 2 4-1 4 7 4 9 4 2 4 11 4 5 4 5 4 5 4 4 4-2 4 4 4-4 4 6 4-11 4-9 4-26 4-9 4-38 4-39 4-32 4-32 4-29 4-14 4-24 4-17 4-7 4-3 4-4 4-7 4 6 4-5 4-5 4 10 4-5 4-4 4-6 4 15 4-9 4-4 4 6 4 3 4 0 4 7 4-13 4 14 4-6 4 2 4-5 4 5 4-10 4 17 4 1 4-10 4 7 4-11 4 0 4-1 4 11 4-2 4-1 4-4 4 1 4-4 4 7 4-14 4 10 4-2 4 17 4-8 4-12 4 10 4 0 4 3 4-6 4-6 4 4 4-8 4 14 4-11 4 3 4 0 4 11 4-10 4-2 4 13 4-25 4 13 4 10 4-19 4 18 4-12 4 17 4-23 4 7 4 4 4 6 4 3 4-23 4 15 4-13 4 21 4-10 4 11 4-16 4 24 4-28 4 21 4-17 1 3"/>
<path stroke="#D95319" d="M98 509l4 5 4 8 4-15 4 8 4-9 4-6 4 6 4-1 4-5 4 2 4 0 4 1 4-2 4 5 4-8 4-3 4-6 4-6 4 1 4-9 4-2 4-15 4-15 4-4 4-6 4-11 4-6 4-2 4-5 4-7 4-5 4 3 4-2 4 2 4-6 4 3 4-11 4 8 4 12 4-13 4 9 4 6 4 4 4 6 4 5 4 3 4 1 4 0 4-3 4 8 4 0 4 2 4 8 4 3 4 2 4-7 4 13 4-5 4 8 4-10 4 17 4 3 4 1 4 6 4-3 4 3 4 3 4 0 4 15 4 0 4 6 4 5 4 1 4-3 4 15 4-9 4 9 4 5 4 5 4-7 4 2 4-1 4-2 4-8 4-9 4-17 4-15 4-38 4-40 4-38 4-22 4-32 4-24 4-22 4-14 4-12 4-3 4-9 4-1 4-3 4 4 4-11 4 1 4 6 4-15 4 8 4-4 4 0 4 2 4-2 4-4 4 9 4 3 4-12 4 3 4 8 4-9 4 13 4-6 4 0 4 3 4-2 4 7 4 7 4-5 4-6 4 3 4 1 4 2 4-8 4 9 4-5 4 0 4 7 4-11 4 2 4-1 4 12 4-16 4 10 4-3 4-2 4-3 4 10 4-6 4 3 4 1 4 0 4 8 4-6 4-8 4 17 4 5 4-22 4 22 4-8 4 3 4-6 4 5 4-7 4 8 4 6 4-30 4 20 4-4 4 16 4-5 4-2 4-14 4 18 4-13 4 8 4 4 4-14 4 5 4 14 4-17 1 20"/>
<path stroke="#EDB120" d="M98 555l4 1 4-1 4 1 4 1 4-3 4 3 4-1 4-1 4 1 4-4 4 2 4-1 4-4 4 0 4 0 4-5 4-2 4-6 4-5 4-1 4-6 4-11 4-2 4-10 4-9 4-8 4-9 4-7 4-9 4-1 4 1 4-2 4-3 4-2 4 2 4 2 4-3 4 2 4 4 4 6 4 3 4 3 4 10 4 5 4 0 4 9 4 3 4 0 4 2 4 2 4 1 4 2 4 3 4 3 4 7 4-8 4 4 4 2 4 3 4 4 4-1 4 3 4 5 4-4 4 7 4 0 4-4 4 9 4-1 4 0 4 5 4 6 4 0 4 1 4 6 4-7 4 4 4-1 4 1 4-1 4 0 4-1 4-11 4-5 4-14 4-7 4-22 4-30 4-19 4-33 4-37 4-28 4-15 4-24 4-18 4-14 4-14 4-16 4-5 4-1 4-8 4-7 4 3 4-6 4-3 4 6 4-19 4 15 4-9 4 0 4 1 4-9 4 5 4 4 4-10 4 3 4 8 4 3 4-12 4 6 4 8 4-10 4 11 4-3 4 2 4 7 4-14 4-16 4 17 4 2 4 4 4 0 4-2 4-2 4 7 4-3 4 2 4-5 4-3 4-1 4 10 4 1 4-8 4 6 4 0 4-4 4 1 4-7 4 19 4-17 4 12 4-8 4 15 4-8 4 4 4-18 4 22 4-17 4 17 4 3 4-12 4-6 4 9 4-5 4 3 4 3 4-13 4 13 4-8 4 19 4-9 4-10 4 14 4 17 4-28 4 2 4 9 1-4"/>
<path stroke="#7E2F8E" d="M98 379l4-4 4 4 4 2 4-1 4-3 4 1 4 2 4-5 4-7 4 4 4-3 4 2 4-6 4-9 4-10 4 2 4-5 4-15 4 5 4-9 4-12 4-7 4-8 4-8 4-8 4-8 4-1 4-8 4-9 4-11 4-7 4-1 4-6 4-12 4 1 4-10 4-4 4 0 4-5 4-6 4-5 4-4 4 3 4-3 4-4 4 1 4-13 4 7 4-4 4-12 4 8 4-1 4-5 4-7 4-5 4 0 4 3 4-9 4 1 4 3 4 1 4 3 4-4 4 1 4-1 4-2 4 1 4 4 4 5 4 5 4-6 4 14 4 1 4-4 4 16 4-8 4 6 4 1 4 8 4-6 4-13 4 8 4-9 4 6 4-5 4 2 4-6 4-1 4-1 4-5 4 9 4-1 4-13 4 6 4 1 4-8 4-4 4 4 4 1 4 0 4 4 4 3 4-7 4 4 4 1 4-5 4-12 4 12 4 3 4-3 4-2 4 3 4 4 4-12 4 3 4 5 4-7 4 10 4 1 4-3 4-3 4-4 4 6 4-4 4 0 4-3 4 10 4-9 4 18 4-10 4-3 4-1 4-3 4 15 4-12 4-6 4 6 4-7 4-1 4 11 4 2 4-8 4 6 4-8 4-14 4 6 4 9 4 2 4 1 4 2 4-7 4 0 4-22 4 23 4 14 4-26 4 20 4-16 4 5 4 5 4 7 4 3 4-8 4 13 4-14 4 10 4-4 4 1 4-9 4 0 4-2 4 3 4 7 4-4 4-7 4 7 4-7 1 33"/>
<path stroke="#77AC30" d="M98 366l4-2 4 9 4-3 4-7 4 0 4-1 4-6 4-3 4-1 4 4 4-5 4 2 4-5 4 0 4-10 4-3 4-5 4-8 4-5 4-5 4-5 4-9 4-7 4-11 4-8 4-5 4-13 4-3 4-12 4-14 4-8 4-3 4-10 4-9 4 0 4-2 4-9 4 0 4-8 4-1 4-1 4-3 4-7 4-1 4-1 4 0 4 0 4-10 4 6 4-4 4-11 4-1 4-2 4-13 4-3 4-10 4 3 4-8 4 2 4-6 4-4 4-1 4 5 4 4 4 7 4-4 4 4 4 10 4-15 4 6 4 11 4 3 4 1 4 2 4 9 4-12 4 6 4-5 4-5 4 4 4-12 4-8 4 4 4-10 4 4 4-15 4 2 4-1 4-7 4-10 4 2 4-5 4-4 4-4 4 2 4-2 4-2 4-1 4-10 4 7 4-2 4 1 4 0 4-11 4 15 4-2 4-5 4 5 4-8 4 0 4 1 4 2 4-4 4 14 4-12 4 3 4 6 4-6 4-3 4-2 4 13 4-13 4 1 4 7 4 3 4-11 4-2 4 14 4-4 4 3 4-16 4 3 4 0 4-12 4 6 4 9 4-5 4 10 4-5 4-9 4 8 4-9 4 8 4 3 4-13 4 15 4-2 4-8 4-1 4 4 4 8 4-10 4-6 4-13 4 27 4-23 4 18 4-13 4-2 4 0 4 9 4-9 4-8 4-12 4 21 4 15 4-23 4 14 4-2 4-26 4 25 4-9 4 2 4 11 4-5 4 3 4-10 1 24"/>
<path stroke="#4DBEEE" d="M98 433l4 1 4 0 4-4 4 0 4 2 4-3 4-3 4 8 4-7 4 0 4-6 4-1 4-3 4-8 4-11 4-1 4-3 4-1 4-13 4-8 4-9 4-10 4-4 4-4 4-7 4 0 4-10 4-11 4-11 4-2 4 0 4-8 4 1 4-7 4-4 4-2 4-7 4 5 4-6 4-4 4 5 4-14 4 10 4-1 4 1 4 3 4-7 4 6 4-8 4 4 4 4 4-8 4-5 4 6 4 1 4-7 4 0 4 7 4-2 4-7 4 8 4-6 4 8 4 6 4-7 4 7 4-2 4 13 4 2 4 3 4 7 4 8 4 10 4 6 4 11 4 5 4 1 4 3 4 6 4-14 4-3 4-4 4-21 4-13 4-18 4-27 4-21 4-29 4-14 4-20 4-21 4-6 4-16 4-5 4-19 4-4 4 9 4-12 4-2 4-7 4 6 4-11 4 9 4-8 4 8 4-2 4 4 4-5 4 10 4-5 4-9 4-1 4 3 4 4 4 14 4-23 4 14 4-7 4 3 4 2 4 7 4-15 4 11 4 2 4-4 4-3 4 0 4-5 4 10 4-2 4-11 4 11 4 0 4-4 4-2 4 3 4-19 4 8 4 12 4-5 4-8 4 8 4 0 4-25 4 11 4 14 4 0 4-4 4-5 4-2 4 6 4 7 4-8 4-10 4 4 4 16 4-7 4-18 4 2 4 3 4-11 4 8 4-2 4 2 4 2 4 7 4-6 4 0 4 8 4 3 4-3 4-2 4-16 4 9 4 1 4-5 4 2 1 7"/>
<path stroke="#A2142F" d="M98 443l4-2 4 4 4-8 4 5 4-1 4 2 4-8 4-3 4 1 4 2 4-3 4-5 4-13 4-7 4 0 4-2 4-8 4-7 4-9 4 3 4-11 4-6 4-1 4-13 4-2 4-14 4-4 4-7 4-6 4-4 4-1 4-5 4-12 4-12 4 7 4-5 4-4 4-3 4-2 4-1 4 2 4 0 4-4 4-1 4 8 4-14 4 15 4-6 4 4 4-9 4 8 4-3 4 2 4-2 4-1 4-2 4 5 4-4 4 5 4 0 4 3 4-3 4 7 4 4 4-1 4 3 4 4 4 7 4 5 4 11 4-2 4 12 4 11 4 2 4 11 4 4 4 1 4 7 4 2 4-4 4-3 4-1 4-15 4-13 4-8 4-18 4-17 4-17 4-13 4 0 4-26 4-12 4-7 4 2 4-16 4-4 4 11 4-2 4-6 4-5 4 1 4-4 4 0 4-2 4-3 4 11 4-6 4 8 4-4 4 7 4-12 4 7 4 1 4-6 4 7 4 4 4 9 4-6 4-14 4 17 4-12 4 10 4-10 4 6 4 5 4 0 4-4 4 4 4-9 4 0 4 21 4-17 4-1 4-3 4 7 4-5 4 8 4 0 4 0 4 1 4-11 4-1 4-4 4 10 4 5 4 6 4-19 4 5 4 2 4-26 4 25 4 0 4 3 4 5 4-21 4 10 4-2 4-3 4 23 4-11 4 1 4-19 4 18 4 7 4-6 4-4 4 4 4-13 4-5 4 15 4 14 4-22 4 29 4-3 4-19 4-9 4 1 1 14"/>
<path stroke="#0072BD" d="M98 385l4-7 4 2 4 5 4-2 4-1 4 6 4-8 4 7 4-7 4-1 4-7 4 3 4-11 4-2 4-5 4-8 4-5 4-7 4 2 4-11 4-9 4-7 4-8 4-8 4-4 4-6 4-22 4 2 4-14 4-6 4-2 4-12 4-6 4-1 4-6 4-14 4 7 4-2 4-1 4-10 4 3 4-4 4 0 4-6 4 8 4-2 4-4 4-3 4 4 4-9 4 1 4 1 4-8 4 1 4-5 4-4 4-3 4 3 4 1 4-6 4-4 4 5 4 0 4-1 4 10 4-7 4 9 4 0 4-1 4 8 4 4 4 9 4 7 4 0 4 5 4-5 4 4 4 8 4-4 4-2 4 4 4-11 4-3 4-13 4-4 4-9 4-9 4-2 4-4 4-4 4-6 4-8 4-6 4 1 4-4 4 0 4-7 4 3 4-1 4-3 4 0 4 0 4-3 4 1 4 11 4-5 4-8 4 2 4 2 4-7 4 3 4 13 4-15 4 5 4 0 4 0 4-5 4 8 4 2 4-8 4 5 4-5 4 11 4-6 4 3 4 2 4 1 4-2 4-5 4-2 4-5 4 14 4-20 4 10 4-11 4 6 4-4 4 8 4 5 4-10 4 3 4 14 4-18 4-3 4 10 4-5 4 15 4-6 4-5 4-7 4 2 4 15 4-5 4-21 4 13 4-1 4 2 4-5 4 7 4 10 4-10 4 0 4 0 4-7 4 3 4-1 4-10 4 4 4 5 4 10 4-14 4 20 4-21 4-16 4 29 4-24 4-1 1 39"/>
<path stroke="#D95319" d="M98 440l4-6 4-5 4 8 4-4 4-7 4-2 4-4 4 5 4-3 4 0 4-6 4 4 4-10 4-10 4 3 4-11 4-5 4-7 4-7 4 6 4-16 4 1 4-16 4-9 4 0 4-16 4-3 4-6 4-4 4-10 4-3 4-9 4-8 4 3 4-4 4-3 4-6 4-6 4 1 4-5 4-2 4-3 4 10 4-5 4-4 4 9 4-1 4 3 4-3 4 2 4-9 4 7 4-5 4-7 4 1 4 3 4-7 4 2 4 8 4-2 4 3 4 4 4 3 4 1 4 6 4 2 4 4 4 2 4 2 4 13 4 4 4 4 4 12 4 5 4 0 4 15 4-2 4-2 4 6 4-9 4-8 4-2 4-15 4-11 4-23 4-15 4-21 4-18 4-20 4-12 4-17 4-16 4-9 4-6 4-4 4-11 4-4 4-4 4-4 4-1 4-3 4 13 4-8 4-7 4-1 4 5 4 4 4-3 4 7 4-4 4-2 4 9 4-7 4-6 4 0 4-6 4 16 4 0 4-1 4 5 4 3 4 3 4-11 4 9 4 7 4-9 4 13 4-7 4-10 4 7 4 3 4-12 4 12 4-11 4-2 4 14 4-3 4-12 4-4 4 20 4-21 4 18 4-24 4 12 4 1 4-2 4-3 4 12 4-23 4 7 4-10 4 21 4-19 4 11 4-17 4 2 4 21 4-7 4-11 4 11 4 2 4 6 4-42 4 24 4 14 4-4 4-17 4 10 4-8 4 18 4-11 4 1 4 8 4-3 4-27 4 28 4 8 1-21"/>
<path stroke="#EDB120" d="M98 456l4 10 4-9 4-1 4 0 4 0 4-1 4-2 4 2 4-1 4-7 4 2 4-11 4 0 4-2 4-7 4 0 4-9 4-1 4-13 4-10 4 0 4-4 4-8 4-6 4-8 4-6 4-6 4-4 4-6 4-3 4 1 4-10 4-4 4-1 4 2 4-6 4-10 4 4 4-7 4 0 4-1 4 0 4-1 4 6 4-2 4 0 4-3 4 9 4-8 4 1 4 0 4 7 4-8 4 0 4 8 4-8 4 3 4 4 4-4 4 4 4 0 4 7 4 2 4 1 4-1 4 1 4 8 4 2 4-3 4 7 4 8 4 14 4 3 4 9 4 3 4 5 4 2 4 3 4 5 4-1 4-7 4 1 4-15 4-16 4-8 4-27 4-14 4-42 4-21 4-23 4-21 4-20 4-15 4-18 4-7 4 1 4-4 4 0 4-9 4-4 4-2 4 5 4 8 4-8 4-6 4 9 4-5 4-8 4 7 4-1 4 0 4 1 4 6 4-14 4 15 4-9 4 4 4 0 4 2 4-5 4 5 4 1 4 1 4-4 4 4 4-2 4 1 4-7 4-8 4 19 4-8 4-3 4 0 4 12 4-16 4-2 4 12 4-3 4-17 4 0 4 6 4 11 4-1 4-7 4 2 4 10 4-12 4-4 4 11 4-9 4-2 4 5 4-7 4 7 4 0 4-9 4 7 4 1 4 2 4 3 4 10 4-19 4 2 4 14 4 2 4-12 4-10 4 16 4-22 4 16 4-17 4 11 4-5 4 14 4-10 4 9 4-5 1-9"/>
<path stroke="#7E2F8E" d="M98 484l4-4 4 0 4 5 4-9 4 3 4-5 4-5 4 6 4-5 4 1 4-6 4-5 4-5 4-8 4-8 4-6 4-7 4-5 4-6 4-5 4-13 4-7 4-11 4-3 4-9 4-3 4-3 4-6 4 5 4-17 4-1 4-9 4-4 4 3 4-2 4-5 4-2 4-4 4 6 4-3 4-7 4 7 4-5 4 6 4 5 4-4 4 1 4 7 4-9 4 5 4 2 4 11 4 0 4 2 4-1 4-2 4 1 4 3 4 9 4-6 4 12 4 3 4 2 4-2 4 18 4-10 4 10 4 5 4 10 4-5 4 7 4 5 4 8 4 2 4 7 4-2 4-3 4-3 4 8 4-11 4-1 4-8 4 2 4-9 4-19 4-21 4-24 4-14 4-33 4-25 4-10 4-19 4-4 4-12 4-1 4-5 4 2 4-12 4-6 4 11 4-4 4 3 4-2 4-2 4 1 4 1 4-2 4-2 4-8 4 8 4 1 4 6 4 0 4-4 4 1 4-1 4 4 4-3 4 2 4-2 4 1 4-3 4 0 4 6 4-8 4 4 4-6 4 21 4-9 4 1 4-13 4 7 4-1 4 3 4 3 4 0 4-2 4 13 4-9 4 2 4-4 4 2 4 5 4-3 4 5 4-6 4-10 4 11 4-16 4 22 4-17 4 10 4-10 4 14 4-11 4-8 4 18 4-11 4-3 4 21 4-13 4 4 4 8 4-14 4 1 4 3 4 9 4-5 4 1 4-3 4-6 4 13 4 2 4-20 4 8 4 19 4-24 1-4"/>
<path stroke="#77AC30" d="M98 506l4-3 4 1 4-8 4 3 4-7 4 1 4-1 4-2 4-12 4 10 4-10 4 1 4 2 4-8 4-1 4-8 4-7 4-8 4 3 4-6 4-6 4-9 4-4 4-17 4-1 4-5 4 5 4-17 4 1 4-16 4 4 4 2 4-5 4-6 4 5 4-3 4 10 4-3 4 4 4-2 4 13 4 7 4 0 4 3 4 2 4 0 4 5 4 8 4 2 4 10 4-9 4 10 4 0 4 1 4 6 4 0 4-2 4 0 4 1 4 6 4 7 4 0 4 8 4 8 4-7 4 6 4 3 4 5 4-8 4 10 4-1 4 8 4 2 4 4 4-2 4 14 4-4 4 4 4-3 4 4 4-4 4 0 4-2 4-10 4-10 4-9 4-11 4-27 4-38 4-33 4-36 4-24 4-30 4-11 4-21 4-15 4-8 4 0 4-7 4-5 4 1 4-5 4-1 4-2 4 0 4 2 4-8 4-2 4 6 4-8 4 1 4 8 4-11 4 1 4 4 4 7 4-4 4 5 4-7 4 6 4 6 4 0 4-3 4 3 4-8 4-1 4 4 4 3 4 0 4 1 4 3 4-8 4 7 4-7 4 10 4 2 4-9 4-16 4 18 4 6 4-14 4 10 4 3 4 6 4-12 4 9 4 3 4-3 4-10 4 3 4 15 4 8 4-27 4 12 4-15 4 14 4-1 4 5 4 0 4-1 4 2 4-14 4 16 4 1 4-14 4 20 4-6 4-4 4 16 4-20 4 5 4-9 4 5 4 15 4 2 4-6 4-6 1-1"/>
<path stroke="#4DBEEE" d="M98 548l4 2 4-5 4 3 4 4 4-8 4 4 4-2 4 3 4 1 4 1 4 0 4-5 4 0 4 3 4-7 4-3 4 0 4-6 4 0 4-10 4-6 4-10 4 0 4-17 4-11 4-8 4-11 4-5 4-9 4 1 4-5 4-5 4 0 4 2 4 3 4 2 4-5 4 2 4 4 4 5 4 0 4 8 4 8 4 5 4 6 4 3 4 5 4 2 4 4 4 0 4 4 4 5 4-7 4 8 4 4 4 3 4-1 4 4 4-4 4 4 4 4 4 4 4-4 4 7 4-3 4 3 4 9 4-4 4-3 4 8 4 6 4 1 4-2 4 1 4 0 4 2 4 4 4-1 4 0 4 0 4 2 4-7 4-5 4-3 4-8 4-8 4-19 4-17 4-25 4-34 4-31 4-24 4-19 4-26 4-23 4-13 4-14 4-14 4-13 4-2 4-8 4-1 4-5 4-2 4-4 4 5 4-4 4 0 4 1 4 3 4-7 4 6 4 6 4-11 4 11 4-11 4 18 4-12 4-9 4 11 4-7 4 9 4 3 4-2 4-6 4-1 4-1 4 4 4 5 4 12 4-7 4-13 4 19 4-12 4 0 4 13 4-12 4 5 4-4 4 2 4 1 4 5 4 7 4-25 4 18 4-4 4 1 4-1 4 4 4-10 4 5 4 3 4 1 4-8 4 11 4-11 4-6 4 2 4 4 4 18 4-19 4 4 4-10 4 17 4-1 4-16 4 20 4-17 4 7 4 27 4-19 4 1 4 9 4 6 4-19 4 12 4-4 1 4"/>
<path stroke="#A2142F" d="M98 492l4 0 4 1 4-2 4 7 4-6 4 3 4-12 4 4 4 3 4 0 4-1 4-6 4 1 4-4 4 0 4-9 4-4 4 0 4-12 4-4 4-11 4-7 4-3 4-12 4-10 4 2 4-11 4-2 4-11 4 4 4-13 4 1 4-6 4-8 4 6 4 2 4 0 4-6 4 8 4 5 4 0 4 2 4 9 4-2 4 7 4 6 4 6 4 3 4 3 4 1 4 6 4 8 4 4 4 0 4-2 4 9 4-2 4 1 4-1 4 10 4 3 4 5 4 3 4 1 4-3 4 20 4-8 4 3 4-1 4 5 4 8 4 11 4 1 4 2 4 5 4-2 4 7 4 5 4-2 4-3 4 4 4 0 4-5 4-9 4-9 4-10 4-18 4-32 4-39 4-40 4-28 4-15 4-27 4-18 4-14 4-11 4-11 4-8 4-9 4-3 4 4 4-1 4-7 4 0 4 5 4-3 4 10 4-11 4 8 4-7 4 17 4-15 4 8 4-3 4-3 4 5 4-12 4 4 4 9 4-11 4 10 4 0 4-8 4-1 4 11 4-4 4 5 4-6 4 7 4-8 4 17 4-12 4-5 4 6 4 11 4-11 4 8 4-3 4-4 4-10 4 13 4 7 4-19 4 14 4 4 4-2 4 1 4-11 4 25 4-8 4-11 4 5 4 3 4 14 4-21 4 11 4-15 4 30 4-22 4-1 4-10 4 13 4 6 4-7 4 5 4-5 4 20 4-19 4-1 4-1 4 2 4-17 4-2 4 9 4 10 4-13 4 13 1 6"/>
<path stroke="#0072BD" d="M98 459l4-4 4-5 4 16 4-11 4 0 4-4 4-1 4-9 4 5 4-9 4-3 4-5 4-8 4 0 4-18 4 1 4-10 4-6 4-8 4-5 4-5 4-2 4-6 4-14 4-5 4-10 4 7 4-13 4-2 4-8 4-8 4-7 4 2 4-3 4-6 4 1 4-7 4-4 4 0 4-4 4 1 4-5 4 1 4-2 4-2 4 7 4-4 4-1 4 1 4 1 4 6 4-6 4 6 4 3 4-3 4 8 4-4 4 4 4 9 4-3 4-1 4-1 4 6 4 7 4-1 4 7 4 0 4 9 4 4 4 4 4 1 4 17 4 5 4 2 4 9 4 1 4 9 4-9 4 2 4-6 4 0 4-18 4-13 4-15 4-26 4-18 4-21 4-29 4-30 4-8 4-18 4-12 4-13 4-9 4-3 4-6 4-2 4-3 4-5 4 5 4-6 4 6 4-9 4 10 4-2 4-3 4 1 4-5 4 15 4-7 4-1 4 0 4 6 4 8 4-1 4-23 4 0 4 20 4-10 4 2 4-5 4-1 4 4 4-6 4 12 4-4 4-8 4-5 4 20 4-12 4 2 4-3 4-7 4 10 4 6 4-8 4 9 4-16 4 14 4-4 4-1 4-5 4-2 4-1 4 5 4 3 4-4 4-7 4 7 4 0 4-3 4-4 4 10 4-6 4-7 4 25 4-26 4 1 4 12 4-1 4-7 4 6 4-16 4 6 4 23 4-31 4 16 4-8 4 22 4-24 4 10 4-3 4-3 4 4 4 13 4-6 4-29 1 38"/>
<path stroke="#D95319" d="M98 416l4 5 4-2 4 6 4-7 4 5 4-7 4-3 4-2 4-1 4-3 4-10 4-5 4 2 4-7 4-10 4-10 4-7 4-13 4 2 4-5 4-7 4-4 4-7 4-10 4-6 4 2 4-12 4-6 4 4 4-17 4-4 4-4 4 6 4-18 4 7 4 2 4-8 4 0 4-1 4 2 4-9 4 7 4-14 4 2 4 7 4-8 4 3 4-6 4 1 4-12 4-1 4-1 4 4 4 0 4-9 4 0 4 7 4-14 4 8 4-3 4-1 4 0 4 5 4-8 4 10 4-1 4 9 4 2 4 8 4 4 4 1 4 15 4 10 4 9 4 1 4 12 4 2 4-1 4 3 4-5 4 3 4-12 4-16 4 1 4-22 4-7 4-18 4-16 4-9 4 0 4-11 4-8 4-14 4 0 4-3 4-1 4-6 4 0 4-2 4 9 4-9 4 3 4-1 4-11 4 1 4 8 4-3 4-2 4-3 4 8 4 4 4-7 4 5 4 4 4 1 4-3 4 0 4-12 4 16 4-4 4-9 4 21 4-20 4-1 4-1 4 10 4-3 4-10 4 8 4 5 4-4 4 3 4-12 4 10 4-3 4-2 4 18 4-13 4 7 4-16 4-2 4 13 4 3 4-1 4-17 4 15 4-10 4 4 4 10 4-16 4 2 4 12 4-10 4 2 4 1 4 9 4-20 4 35 4-16 4-7 4-15 4 23 4-6 4-3 4 6 4-6 4-3 4-8 4 8 4 0 4-4 4 17 4-22 4 15 4-3 4-3 4 0 1 8"/>
<path stroke="#EDB120" d="M98 506l4 1 4-6 4-6 4 7 4-6 4 6 4-6 4 3 4-8 4 5 4-5 4 0 4 2 4-7 4-3 4-6 4-1 4-1 4-9 4-8 4-11 4-4 4-13 4-4 4-11 4-9 4-4 4 1 4-14 4 1 4-7 4 10 4-11 4-2 4 1 4-2 4 3 4 1 4-4 4 7 4 2 4 7 4 9 4 2 4 5 4 2 4-1 4 9 4 5 4-7 4 11 4 4 4 1 4 8 4-11 4 4 4 2 4 4 4 5 4 4 4 3 4-2 4 2 4 4 4 10 4-7 4 12 4 1 4 3 4 6 4 10 4 0 4 1 4-1 4 8 4 0 4 8 4-1 4-3 4-2 4 5 4-3 4-1 4-4 4-8 4-15 4-12 4-22 4-38 4-32 4-33 4-20 4-28 4-16 4-14 4-16 4-3 4 1 4-9 4-7 4-10 4 8 4 2 4-3 4-8 4 3 4-1 4-1 4-5 4 13 4-13 4 3 4 8 4-9 4-4 4 9 4-7 4 17 4-3 4-10 4 3 4-3 4 2 4-2 4 13 4 1 4-14 4 5 4 2 4 2 4-10 4 14 4-6 4-6 4 12 4 1 4-2 4 11 4-19 4 1 4-6 4 12 4-3 4-2 4-6 4 9 4-1 4 9 4-7 4 3 4-7 4 3 4 14 4 1 4-10 4 6 4-5 4-5 4 19 4-13 4 12 4-7 4 1 4 8 4 11 4-16 4 7 4-12 4 1 4-8 4 4 4 23 4-1 4-8 4-8 4-4 4 10 1-10"/>
<path stroke="#7E2F8E" d="M98 487l4-11 4 7 4-9 4 0 4-3 4-1 4 4 4-6 4-4 4 2 4-6 4 4 4-6 4-10 4 0 4-2 4-4 4-8 4 2 4-10 4-2 4-5 4-2 4-14 4-2 4-1 4-6 4-2 4-10 4 4 4-7 4-5 4-3 4 1 4-3 4-8 4-4 4 9 4-1 4 5 4 7 4 0 4 16 4 1 4 1 4 2 4 4 4 3 4 3 4 5 4 3 4 0 4-1 4 3 4 7 4 2 4-4 4 4 4-1 4 7 4 3 4-1 4 10 4-5 4 7 4 3 4 0 4 7 4 1 4-3 4 14 4-1 4 9 4-3 4 1 4 18 4-4 4 4 4 2 4 0 4 3 4-2 4 2 4-13 4-2 4-5 4-20 4-25 4-27 4-40 4-30 4-33 4-27 4-15 4-20 4-3 4-14 4-4 4-10 4 3 4-5 4-2 4 1 4 2 4-9 4 9 4-6 4 8 4 1 4-2 4 0 4-9 4 10 4-1 4 2 4-5 4-2 4 9 4-1 4-6 4 0 4 7 4 3 4 13 4-9 4-9 4 10 4 9 4-9 4 2 4-6 4 4 4-1 4-8 4 11 4 3 4-5 4-2 4 9 4-11 4 14 4-4 4-10 4-6 4 11 4-8 4 8 4 5 4-4 4-7 4 1 4-7 4 8 4-6 4-1 4 19 4 1 4-7 4-10 4-1 4 16 4-2 4 5 4-3 4-26 4 22 4 10 4-2 4 8 4-24 4 9 4-23 4 5 4 27 4 4 4 1 4-24 1-19"/>
<path stroke="#77AC30" d="M98 480l4-4 4 5 4-1 4-7 4-6 4 7 4-6 4 4 4 4 4-5 4-2 4 0 4-7 4-3 4-7 4 1 4-4 4-9 4 1 4-13 4-6 4-8 4-13 4-6 4-7 4-10 4 0 4-13 4-2 4-10 4-10 4-1 4 1 4-1 4-5 4-2 4-1 4 0 4-1 4 1 4 0 4 4 4-4 4 9 4 3 4 1 4 2 4 6 4 2 4 1 4 2 4-4 4 8 4-1 4-2 4-1 4-3 4 7 4 1 4-4 4 2 4 6 4 6 4-3 4 9 4-6 4 6 4 11 4-3 4 10 4 5 4 2 4 15 4 10 4 3 4-1 4 4 4 7 4 5 4-5 4 1 4-7 4 6 4-15 4-5 4-14 4-19 4-25 4-25 4-36 4-18 4-29 4-15 4-11 4-11 4-7 4-4 4-5 4 1 4 0 4-11 4 13 4 1 4-6 4-3 4 1 4 0 4 0 4 10 4-7 4 10 4-6 4 6 4-5 4-1 4 1 4 4 4 3 4-9 4-1 4 9 4 9 4-10 4-5 4 7 4 1 4-7 4-2 4 11 4 1 4-3 4 5 4-10 4 10 4-15 4 10 4-1 4-7 4 2 4 1 4-1 4 8 4-16 4 21 4-5 4 4 4 0 4-13 4-2 4 1 4 7 4 15 4 0 4-3 4-1 4-8 4 0 4 4 4 13 4-18 4 6 4 15 4-17 4 10 4-23 4 28 4-17 4 9 4 16 4-6 4 0 4-10 4-15 4 7 4-11 4 7 4-6 1 11"/>
<path stroke="#4DBEEE" d="M98 498l4 1 4-1 4-8 4-6 4 5 4-2 4 0 4 2 4-3 4-4 4 3 4-5 4-1 4-4 4-5 4 4 4 2 4-10 4-7 4-9 4-1 4-3 4-7 4-14 4-5 4-11 4-8 4-2 4-6 4-4 4-5 4 3 4-4 4-11 4 9 4-3 4-7 4 7 4-1 4 7 4-2 4 12 4-1 4 10 4 12 4-1 4 12 4-6 4 15 4-8 4 4 4 0 4 6 4 2 4 4 4 3 4 2 4 0 4 0 4-8 4 8 4 7 4-6 4 6 4 5 4 0 4 5 4-1 4 6 4-1 4 12 4 0 4 10 4-7 4 15 4-7 4 12 4-1 4 10 4 0 4-6 4 9 4-9 4 4 4-20 4-7 4-6 4-29 4-37 4-42 4-26 4-22 4-37 4-14 4-20 4-12 4-6 4-4 4-21 4 3 4-2 4 1 4-6 4 7 4 0 4 1 4 1 4-8 4 9 4-17 4 11 4 2 4-1 4-10 4 21 4-12 4-10 4 4 4 4 4 4 4-14 4 15 4-13 4 17 4 3 4-8 4 3 4 12 4-13 4-14 4 16 4-3 4 3 4 1 4-1 4 1 4 2 4-2 4 0 4 2 4 11 4-4 4 2 4-6 4-12 4 9 4 5 4-17 4 9 4 11 4-8 4-4 4 1 4 12 4-6 4 8 4 6 4-14 4 21 4-15 4-9 4 4 4 6 4-4 4 2 4-10 4 7 4-2 4 13 4-5 4 4 4-16 4 2 4 7 4-7 4 7 4 3 1-8"/>
<path stroke="#A2142F" d="M98 550l4 1 4 6 4-3 4-1 4 1 4-1 4-5 4 6 4 0 4-1 4 1 4 0 4 0 4-1 4-7 4 2 4-7 4 4 4-2 4-8 4-6 4-10 4-7 4-13 4 4 4-14 4-13 4-7 4-7 4-10 4 11 4-8 4 1 4-1 4-2 4 4 4-2 4 0 4 2 4 13 4 2 4 7 4 4 4 2 4-2 4 11 4 3 4 2 4-3 4 7 4-2 4 1 4 2 4 8 4 0 4-2 4 8 4-1 4 6 4-3 4 4 4 6 4-1 4 4 4 1 4-3 4 5 4 2 4-2 4 6 4-2 4 4 4 2 4 3 4 2 4 1 4 0 4-4 4 0 4 3 4-7 4 2 4-5 4-3 4-10 4-17 4-16 4-19 4-32 4-29 4-35 4-27 4-22 4-19 4-17 4-25 4-2 4-17 4-5 4-12 4-11 4 0 4-3 4-3 4-11 4 1 4 5 4 4 4-1 4-4 4 3 4 0 4 5 4 2 4-1 4-7 4 6 4-19 4 11 4 0 4-2 4 11 4 1 4-5 4-5 4 0 4-6 4 1 4 1 4 0 4 5 4-4 4 7 4 1 4-8 4 16 4-18 4-3 4 15 4-7 4 4 4 9 4-9 4 0 4-3 4 10 4-3 4 6 4-11 4 8 4-7 4 12 4-6 4 8 4-1 4-14 4 10 4-1 4-6 4 13 4-23 4 23 4-3 4-23 4 35 4-31 4 13 4-1 4 15 4-11 4 14 4-22 4 13 4 5 4-2 4-3 4-11 1 6"/>
<path stroke="#0072BD" d="M98 433l4-4 4 4 4 2 4 5 4-8 4 6 4-1 4-3 4 3 4-1 4-6 4 0 4-6 4-9 4-4 4-5 4-6 4-10 4-6 4-3 4-13 4-5 4-5 4-9 4-5 4-13 4-3 4-17 4-3 4-7 4-6 4-5 4-6 4-2 4-6 4-2 4-4 4 6 4-5 4-7 4-2 4 4 4 5 4 0 4-9 4 16 4-7 4-3 4 11 4-1 4-4 4 7 4-3 4-4 4 3 4-7 4 4 4 1 4 5 4-6 4-2 4 3 4 7 4-3 4 5 4 0 4 2 4 8 4 1 4 8 4 7 4 6 4 10 4 4 4 12 4-2 4 11 4 1 4-3 4-9 4-4 4-3 4-13 4-18 4-27 4-19 4-33 4-22 4-18 4-21 4-14 4-14 4-7 4-11 4-8 4-17 4 9 4-2 4-14 4 10 4-11 4 2 4 13 4-6 4 11 4-14 4 3 4 3 4 0 4-16 4 3 4 4 4 3 4 0 4 2 4-3 4-4 4 1 4 3 4 4 4 4 4-15 4 3 4 0 4-3 4-10 4 19 4-6 4-1 4-11 4 12 4-5 4 9 4-11 4 7 4-4 4-4 4 4 4 1 4-8 4 13 4-7 4 8 4-19 4 15 4 3 4-9 4-3 4 7 4-9 4-2 4 16 4 2 4-5 4-1 4 6 4-9 4 6 4-2 4-21 4 11 4-7 4 20 4 3 4-14 4 1 4 7 4-12 4 7 4-5 4-23 4 24 4-6 4 21 4-26 4 17 4-7 1 6"/>
<path stroke="#D95319" d="M98 556l4-4 4 2 4-5 4 0 4 0 4 8 4-2 4 3 4-13 4 7 4 0 4-2 4-2 4 0 4-3 4-2 4 1 4-10 4-1 4 0 4-7 4-11 4-8 4-2 4-10 4-7 4-10 4 0 4-7 4-10 4 1 4-2 4 0 4-2 4 1 4 1 4-1 4 3 4-4 4 11 4 3 4 1 4 8 4 0 4 2 4 6 4 6 4-4 4 6 4 5 4-5 4 6 4 1 4 1 4 6 4-1 4 8 4 2 4 1 4-4 4 7 4 1 4 6 4-1 4 8 4-3 4 0 4 4 4 5 4 1 4-4 4-1 4 6 4-4 4 8 4-4 4 1 4-2 4 6 4-7 4 1 4-1 4-5 4-7 4-10 4-10 4-17 4-25 4-27 4-34 4-34 4-16 4-28 4-22 4-18 4-12 4-19 4-15 4-2 4-5 4-11 4-2 4-4 4-3 4 0 4-3 4 1 4 5 4-15 4 3 4 2 4-8 4 8 4-6 4 2 4 6 4 6 4-8 4 2 4-3 4 15 4-8 4-1 4 0 4 1 4-1 4 15 4-11 4 1 4 5 4-9 4 2 4 5 4 2 4-10 4 17 4-14 4 7 4-7 4-11 4 7 4 8 4-10 4-2 4 6 4-5 4 11 4-3 4 6 4 2 4-4 4 6 4-5 4-18 4 11 4 7 4-15 4 2 4 21 4-2 4-20 4 14 4 0 4 7 4 6 4-19 4 18 4-12 4-12 4 13 4 7 4-8 4 1 4 10 4-8 4 16 4 5 1-12"/>
<path stroke="#EDB120" d="M98 456l4-2 4-8 4 2 4-1 4-2 4-1 4 0 4-2 4 2 4-5 4-8 4-6 4-10 4-1 4-3 4-17 4 1 4 1 4-21 4 3 4-13 4 2 4-12 4-8 4-9 4 0 4-18 4-5 4-5 4-8 4-5 4-6 4-8 4-7 4-1 4-4 4-9 4 10 4 0 4-10 4 0 4 4 4-4 4 0 4 0 4 6 4-3 4 3 4 3 4 1 4 7 4-11 4 4 4 5 4-8 4 11 4-11 4 5 4 5 4 4 4-4 4 1 4 8 4 0 4-2 4 16 4-4 4 12 4-2 4 5 4 11 4 4 4 1 4 21 4-7 4 10 4 5 4 0 4-5 4-8 4 0 4-9 4-7 4-11 4-25 4-12 4-11 4-31 4-14 4-15 4-15 4-20 4-2 4-14 4-2 4-2 4-14 4 0 4-6 4 5 4-4 4-8 4 12 4-7 4 3 4-2 4 8 4-3 4 9 4-11 4 0 4 6 4-11 4 7 4 2 4 9 4-5 4-5 4 11 4 0 4-2 4 0 4-4 4 2 4 8 4-11 4 3 4-3 4 9 4-6 4-3 4-3 4 0 4 9 4-18 4 10 4-2 4-11 4 11 4-2 4-5 4 1 4 13 4-9 4-10 4-17 4 33 4-16 4 4 4 2 4-5 4 16 4-6 4 4 4-11 4-4 4 10 4-4 4-6 4 12 4 2 4 19 4-15 4-11 4 9 4 3 4-23 4 12 4-5 4-2 4 8 4-6 4 22 4-23 4 15 4 9 4 12 1-40"/>
<path stroke="#7E2F8E" d="M98 389l4-3 4-6 4 10 4-5 4-1 4-7 4 2 4 4 4 1 4-4 4-2 4 1 4-18 4-1 4-4 4-8 4-8 4-1 4-13 4-4 4-12 4-8 4-3 4-11 4-2 4-15 4-2 4-9 4 1 4-11 4-9 4-1 4-2 4-1 4-19 4-1 4 2 4-12 4-8 4 0 4-5 4-3 4-2 4-7 4 0 4-6 4-6 4-3 4 2 4 6 4-12 4 4 4 5 4-9 4 0 4-2 4-5 4 4 4 6 4-10 4 7 4 1 4-1 4 2 4-8 4 5 4-4 4 8 4-7 4 11 4 6 4 0 4 2 4 2 4 3 4 5 4 1 4 4 4-7 4 1 4-1 4-3 4-9 4-5 4-4 4-9 4-11 4-14 4-5 4-9 4-7 4-2 4-9 4-1 4-1 4-11 4 4 4 5 4-5 4-16 4 9 4-8 4-1 4 9 4-9 4 2 4-12 4 15 4 4 4-8 4 11 4-4 4 0 4-5 4-1 4 7 4-13 4 16 4-11 4 7 4 8 4-13 4-3 4 9 4 1 4-5 4-1 4 4 4 2 4-11 4 4 4 4 4-3 4-7 4 5 4 2 4-14 4 8 4 2 4-9 4 4 4 6 4 15 4-21 4 7 4-1 4 4 4-16 4 6 4 0 4-16 4 6 4 10 4-10 4 14 4-10 4 5 4-17 4-9 4 14 4 9 4 5 4 8 4-26 4 27 4-12 4-25 4 16 4 10 4 2 4-10 4-21 4 10 4 19 4-18 4 8 4 0 1-3"/>
<path stroke="#77AC30" d="M98 552l4-2 4 2 4 0 4 2 4 1 4-7 4-2 4 3 4 0 4 3 4-2 4-4 4-4 4 1 4-3 4-5 4-1 4-1 4-3 4-8 4-9 4-4 4-11 4-16 4-10 4-10 4-7 4-5 4-5 4-4 4 0 4-5 4 5 4 4 4-8 4 0 4 4 4-2 4 4 4 14 4-2 4 9 4 0 4 6 4 4 4 7 4 4 4 0 4-3 4 7 4 6 4 0 4 3 4-2 4 5 4 3 4 1 4 4 4 0 4 5 4 1 4 0 4 6 4 3 4 1 4-4 4 4 4 4 4 0 4 2 4 6 4 3 4-4 4 6 4-3 4 6 4-4 4 3 4-6 4-1 4-1 4-4 4-1 4-8 4-9 4-7 4-19 4-18 4-25 4-27 4-32 4-25 4-21 4-21 4-13 4-23 4-8 4-17 4-1 4-10 4-9 4-5 4 0 4-1 4-8 4-4 4 8 4 1 4-3 4-3 4 8 4-3 4-9 4 8 4 0 4-12 4 2 4-3 4 10 4 2 4 2 4 6 4 5 4-11 4 5 4-8 4-1 4 15 4 0 4-9 4-6 4 0 4 13 4-4 4-8 4 14 4 2 4-14 4 13 4 3 4-18 4 13 4 0 4-7 4-7 4 5 4 3 4-1 4 0 4 1 4 14 4-15 4 13 4-4 4-7 4 2 4-3 4 4 4-4 4-11 4 26 4-18 4-6 4 21 4 0 4-2 4-4 4 12 4-3 4-3 4 0 4-13 4 19 4-13 4 0 4 6 4 0 1 10"/>
<path stroke="#4DBEEE" d="M98 403l4 1 4 5 4-5 4-4 4 1 4-4 4-2 4 8 4-9 4 3 4-6 4-1 4-4 4-4 4-9 4 4 4-14 4-6 4 4 4-14 4 0 4-16 4-1 4-9 4-15 4 0 4-6 4-6 4-9 4-16 4-4 4-6 4-4 4-3 4-10 4 2 4-8 4 1 4-1 4-6 4-3 4-7 4-4 4-1 4 3 4-7 4 5 4-7 4-3 4 0 4 2 4 3 4-8 4-5 4-1 4 2 4-2 4-5 4 3 4-1 4 1 4 9 4-2 4 2 4 4 4-1 4 3 4 10 4 2 4 3 4 15 4 7 4 9 4 3 4 3 4 10 4 5 4 1 4 7 4-7 4-11 4 1 4-3 4-13 4-2 4-13 4-1 4-8 4-7 4-1 4-8 4 2 4-7 4-4 4 3 4 5 4-7 4-11 4 5 4-6 4 8 4-2 4-6 4-2 4 9 4 1 4-11 4-3 4 8 4-7 4 12 4-2 4-3 4 5 4-8 4 3 4-2 4 14 4-2 4 4 4-5 4 6 4-7 4 0 4 1 4 4 4-15 4 10 4 3 4 2 4-5 4 8 4-12 4 5 4 3 4-6 4 21 4-22 4 0 4 2 4-3 4 9 4-16 4 18 4-2 4-11 4 0 4 12 4-9 4 7 4-1 4-4 4 0 4-3 4 5 4-8 4 22 4-16 4 26 4-30 4 16 4 5 4-22 4-10 4 35 4-14 4 1 4-4 4 1 4 0 4 5 4-4 4 5 4-5 4 7 4-7 4-11 1 13"/>
<path stroke="#A2142F" d="M98 550l4-4 4 1 4 4 4-7 4 3 4 5 4 0 4-4 4-4 4 5 4-4 4-1 4 1 4 0 4 0 4-5 4-7 4 0 4 0 4-8 4-9 4-12 4-5 4-15 4-6 4-10 4-6 4-11 4-3 4-5 4 1 4-3 4 4 4-2 4-9 4 8 4 1 4-3 4 6 4-2 4 11 4 4 4 7 4 2 4 7 4-2 4 12 4 0 4 2 4 7 4 0 4 3 4 5 4-3 4 10 4-2 4 1 4-1 4 3 4-2 4 1 4 5 4 4 4-2 4 6 4 1 4 2 4-2 4-1 4 6 4 6 4-1 4 1 4 7 4-1 4 3 4 0 4-1 4-1 4 2 4-3 4 0 4-7 4-6 4-7 4-9 4-18 4-24 4-27 4-31 4-34 4-27 4-17 4-26 4-14 4-25 4-12 4-5 4-16 4-9 4 0 4-9 4-6 4-6 4 8 4-11 4 11 4-1 4-11 4 3 4 8 4-11 4 5 4 2 4 3 4 13 4-14 4-5 4 6 4-4 4 5 4-8 4 23 4-19 4 8 4-6 4-3 4-3 4 2 4-3 4 13 4-7 4 14 4-14 4 12 4-16 4 6 4 4 4 3 4-5 4 6 4 6 4-11 4 9 4-9 4 11 4 2 4-24 4 12 4-4 4 11 4-1 4 0 4-15 4 10 4 5 4 1 4 0 4-8 4 8 4 1 4-11 4 4 4 2 4-11 4 19 4 10 4 6 4-14 4-3 4-7 4 24 4-1 4-11 4 1 4 12 4-13 1-10"/>
<path stroke="#0072BD" d="M98 473l4-6 4 0 4-1 4-8 4 4 4-3 4-1 4-5 4-4 4-4 4-8 4 1 4-3 4-7 4-9 4-3 4-9 4-6 4-1 4-9 4-8 4-2 4-7 4-9 4-4 4-9 4-9 4-3 4-4 4-3 4-14 4 5 4-7 4-1 4-6 4-6 4 0 4-2 4-4 4 9 4-6 4 1 4 9 4-7 4-6 4-1 4 12 4-3 4-3 4 3 4-4 4 6 4 0 4 2 4 3 4-5 4-1 4 2 4 9 4 2 4 3 4 0 4 5 4 4 4 6 4 9 4 5 4-1 4 7 4 7 4 10 4 4 4 5 4 11 4 3 4 8 4 9 4-2 4 2 4-10 4-3 4-10 4-6 4-10 4-19 4-26 4-34 4-38 4-32 4-31 4-19 4-27 4-17 4-11 4-7 4-12 4-6 4 2 4-2 4-11 4 1 4 10 4-10 4-1 4 5 4 1 4-3 4-4 4 3 4 2 4 7 4-11 4 4 4 8 4 0 4 0 4-5 4 2 4-6 4 12 4-15 4 17 4-5 4-12 4-1 4 14 4-3 4-7 4-13 4 18 4 0 4-12 4 6 4 3 4-9 4-1 4-4 4 16 4-7 4 7 4-10 4-1 4 1 4-9 4 10 4-12 4 15 4-1 4-2 4-16 4 6 4 5 4-3 4 10 4-1 4-10 4-1 4 8 4-15 4 15 4 9 4-11 4 0 4-13 4 20 4-18 4 11 4-7 4 7 4-4 4 16 4-19 4 7 4-6 4 9 4-6 4 21 1-23"/>
<path stroke="#D95319" d="M98 480l4 2 4-1 4-7 4 6 4 2 4-4 4-9 4 5 4-4 4-1 4-7 4 6 4-7 4-4 4-2 4-6 4 3 4-13 4 1 4-14 4-2 4-1 4-11 4-10 4-1 4 0 4-12 4-5 4-3 4-5 4-7 4-2 4-2 4 4 4-8 4 10 4 0 4 1 4-2 4 4 4 11 4 3 4 2 4 6 4 5 4 2 4 2 4 11 4 0 4 7 4-1 4 2 4-1 4 6 4-4 4 1 4 6 4-1 4-3 4 2 4 7 4 1 4 2 4 0 4 2 4 8 4 3 4 1 4 7 4 1 4 11 4 2 4-4 4 10 4 8 4-3 4 7 4 4 4 3 4-7 4 8 4 0 4-9 4-5 4-2 4-15 4-26 4-23 4-36 4-31 4-31 4-22 4-18 4-31 4-7 4-16 4-4 4-9 4-2 4-13 4 6 4 2 4-3 4 12 4-15 4 7 4-9 4 12 4-12 4 20 4-9 4-9 4 3 4 6 4-7 4 10 4-10 4-3 4 0 4 14 4-13 4 1 4 6 4 0 4-1 4 5 4 0 4-5 4-2 4 5 4 10 4-13 4 15 4-19 4 3 4 10 4-11 4 1 4 8 4 7 4-17 4 7 4 4 4-9 4 11 4-12 4-4 4 17 4-1 4-9 4 5 4 15 4-22 4 12 4-13 4 21 4-14 4-1 4 0 4 12 4 6 4-19 4-3 4 8 4-3 4 11 4 4 4-21 4-3 4-3 4 15 4 13 4 18 4-29 4-8 4 5 4 0 1 19"/>
<path stroke="#EDB120" d="M98 374l4 3 4-3 4 1 4 2 4-5 4-4 4-1 4-3 4 9 4-10 4-10 4 1 4-1 4-13 4-12 4-1 4-4 4-8 4-5 4 2 4-14 4-6 4-15 4-5 4-4 4-6 4-13 4-8 4 1 4-12 4-4 4-6 4-1 4-7 4-13 4-6 4-1 4-1 4-1 4-9 4-4 4 0 4-9 4-6 4 2 4 2 4-5 4-4 4-5 4-8 4 5 4-7 4-4 4-2 4 2 4-9 4 0 4 0 4 1 4 8 4-6 4 2 4-2 4-5 4 7 4-6 4-1 4 16 4-16 4 13 4 9 4-11 4 3 4 2 4 2 4-1 4 1 4-4 4-4 4 0 4-2 4-4 4-6 4-7 4-7 4-3 4 1 4-13 4-1 4-1 4-7 4 2 4-4 4 1 4-4 4-3 4 1 4-9 4 7 4-2 4-1 4 2 4-10 4-4 4 11 4-1 4 1 4-6 4 4 4 9 4-3 4 6 4-12 4 2 4 0 4 5 4-3 4 2 4 8 4-2 4-6 4 5 4-12 4 11 4-19 4 12 4-6 4 9 4-3 4 9 4-11 4 1 4 5 4 4 4-21 4 13 4 0 4-12 4 18 4-25 4 29 4-9 4 5 4-14 4 10 4-21 4 3 4 1 4 5 4-14 4 2 4 4 4 18 4-13 4 0 4-3 4-3 4 4 4-7 4 9 4-2 4-8 4-6 4 7 4-1 4 3 4 2 4 1 4-5 4-5 4-2 4 20 4 7 4-16 4-10 4-4 4-8 1 6"/>
<path stroke="#7E2F8E" d="M98 488l4-1 4-2 4 0 4-5 4 0 4 1 4-11 4 9 4-10 4 5 4-1 4-9 4 2 4-2 4-6 4-9 4 5 4-16 4-3 4-6 4-4 4-1 4-8 4-10 4-7 4-5 4-2 4-3 4-14 4 9 4-7 4 1 4-10 4 4 4-6 4-4 4 14 4-5 4 5 4 3 4 5 4 4 4-3 4 9 4 2 4 0 4 9 4 5 4-3 4 5 4 7 4 6 4-3 4-1 4 5 4-3 4-2 4 6 4 14 4-5 4 4 4-3 4 5 4 5 4 4 4 5 4 6 4-1 4 7 4 3 4-1 4 9 4 0 4 6 4 8 4-2 4 7 4 0 4 4 4-4 4 1 4 0 4-1 4-16 4-1 4-14 4-19 4-25 4-30 4-40 4-26 4-33 4-27 4-7 4-17 4-14 4-1 4-7 4-4 4-12 4 2 4 5 4-5 4-1 4 0 4 9 4-8 4-2 4-1 4 2 4 4 4-1 4-6 4-10 4 19 4-9 4 0 4 7 4 17 4-19 4 6 4 2 4-6 4 8 4 1 4-10 4 0 4 0 4 3 4 3 4-3 4-3 4-2 4 6 4-2 4 8 4-9 4-4 4 0 4 11 4 13 4-6 4-8 4 10 4-2 4-18 4 23 4 1 4-10 4 0 4-16 4 13 4-1 4 2 4 14 4 4 4-3 4-10 4 13 4-20 4 7 4-5 4 0 4 5 4 16 4-7 4-9 4 16 4-11 4 10 4-17 4 1 4 4 4-4 4-5 4 10 4-2 1-7"/>
<path stroke="#77AC30" d="M98 550l4 7 4-1 4-2 4-2 4 2 4 1 4-3 4 2 4-7 4 2 4 2 4 2 4-2 4-3 4-4 4-5 4 1 4-7 4-2 4-4 4-14 4-7 4-8 4-7 4-9 4-11 4-6 4-12 4 0 4-6 4-4 4 2 4 1 4 0 4-2 4 3 4-1 4-1 4 10 4 2 4 3 4 8 4 5 4 5 4-1 4 12 4-2 4 3 4 1 4 5 4-1 4 4 4 3 4-7 4 6 4 7 4 1 4-1 4 0 4 6 4 0 4 3 4 0 4 6 4 3 4 0 4 3 4 3 4-1 4 4 4 4 4 5 4-2 4 1 4 5 4 0 4 3 4-3 4 0 4 3 4-6 4-3 4-5 4-10 4-9 4-15 4-15 4-28 4-23 4-37 4-25 4-29 4-20 4-19 4-25 4-15 4-14 4-10 4-10 4-6 4-5 4-5 4-13 4 11 4 1 4-4 4-2 4-7 4-3 4-1 4 6 4-5 4-7 4 6 4-4 4 12 4-10 4 0 4 11 4-6 4-3 4 9 4-10 4 0 4 5 4 2 4 1 4-2 4-4 4 15 4-8 4 1 4 7 4 4 4-6 4 10 4-11 4 4 4 6 4-7 4 6 4 0 4-12 4 13 4 13 4-19 4 9 4 0 4-18 4 12 4-6 4 16 4-2 4-1 4-12 4 11 4 10 4-21 4 10 4-5 4-5 4-12 4 19 4-15 4 27 4-14 4-2 4 24 4-12 4-2 4-12 4 10 4-1 4 3 4-12 4 6 4 0 1 2"/>
<path stroke="#4DBEEE" d="M98 432l4 10 4-7 4 0 4-6 4 6 4-10 4-5 4 9 4-6 4-2 4-1 4-5 4-9 4-3 4 6 4-11 4-1 4-5 4-9 4-4 4-15 4-2 4-10 4-4 4-11 4-4 4-8 4-9 4-7 4-14 4-1 4-1 4-8 4-5 4-6 4-2 4-8 4 1 4-2 4 1 4 4 4-3 4 4 4-1 4 3 4 2 4-8 4 7 4-4 4 0 4-8 4 6 4 5 4-5 4-4 4-2 4 3 4 0 4 2 4-6 4 9 4-5 4 3 4 4 4-1 4 16 4-6 4 7 4 0 4 11 4 8 4 11 4 1 4 10 4 14 4 5 4-1 4-4 4 9 4-6 4-10 4-8 4-17 4-15 4-12 4-14 4-21 4-16 4-19 4-6 4-22 4-3 4-16 4-1 4-11 4 5 4-4 4-7 4-2 4-7 4 1 4 5 4 2 4 1 4-9 4 8 4 0 4-1 4-4 4-4 4 18 4-18 4 12 4-16 4 2 4 6 4 3 4-9 4 3 4 4 4 4 4-7 4 1 4 4 4-4 4-2 4-14 4 16 4 3 4-5 4 19 4-18 4 0 4-1 4 3 4-2 4 7 4-5 4 13 4-12 4 17 4-24 4 14 4-1 4-8 4 22 4-11 4-8 4 0 4 5 4-1 4 1 4-4 4-7 4-10 4 17 4-17 4 0 4 7 4 22 4-27 4 5 4 7 4-11 4-8 4 19 4-4 4-4 4 19 4-16 4 6 4-4 4-7 4-7 4 17 4-8 4-3 1 7"/>
<path stroke="#A2142F" d="M98 492l4-2 4 1 4-10 4 3 4 1 4-5 4-3 4-3 4-7 4 8 4-9 4-6 4-4 4 4 4-10 4-18 4 4 4-9 4-4 4-17 4-3 4-1 4-5 4-13 4-8 4 1 4-9 4-2 4-4 4-5 4 2 4-7 4-6 4-1 4-8 4 8 4-9 4-9 4 6 4-3 4 5 4 0 4-2 4 5 4 3 4 1 4 1 4-7 4 3 4 1 4 5 4 2 4 8 4-2 4-1 4 7 4 6 4-6 4 9 4-4 4 7 4 4 4 3 4 2 4-1 4 3 4 2 4 6 4 4 4 1 4 9 4 7 4 4 4 7 4 8 4 2 4-3 4 4 4 1 4-2 4-2 4-4 4-2 4-3 4-10 4-12 4-11 4-37 4-18 4-30 4-18 4-18 4-23 4-3 4-9 4 3 4-16 4 2 4 1 4-8 4 4 4 11 4-13 4 8 4-1 4 1 4 5 4-5 4-2 4-5 4-2 4 10 4-12 4 10 4-8 4 5 4 1 4 13 4-19 4 15 4-11 4 14 4 1 4-1 4 0 4-1 4-7 4-1 4 0 4-2 4 2 4 2 4 2 4-7 4 8 4 11 4-6 4-13 4 9 4 2 4-11 4 6 4 0 4 1 4-10 4 8 4 1 4 0 4 5 4-2 4-14 4 13 4-8 4 14 4-1 4 3 4-6 4-7 4 11 4 0 4 9 4-18 4 0 4 6 4-9 4 4 4 8 4 14 4-14 4 8 4-12 4-5 4 13 4 13 4-27 4 3 4 0 1 22"/>
<path stroke="#0072BD" d="M98 482l4 6 4-11 4-1 4-1 4-3 4 5 4-6 4-1 4 1 4-8 4-2 4 0 4-9 4-6 4-4 4-7 4-2 4-4 4-2 4-8 4-10 4-5 4-1 4-10 4-8 4-7 4-2 4-2 4-8 4 4 4-12 4 0 4-13 4 8 4-10 4-9 4 5 4-2 4-4 4-1 4 1 4-2 4-5 4 0 4 6 4 1 4-4 4-1 4 2 4 1 4-5 4 5 4 3 4 6 4-6 4 8 4 1 4 12 4-9 4 12 4-1 4-3 4 9 4 5 4-2 4 3 4 7 4 3 4 11 4 0 4 9 4 13 4-1 4 9 4 6 4 2 4 5 4-1 4 6 4-5 4 3 4-7 4-3 4-11 4-18 4-8 4-26 4-23 4-33 4-30 4-27 4-12 4-19 4-17 4 4 4-14 4 0 4-11 4 8 4 2 4-10 4-1 4 5 4-6 4 12 4-2 4 5 4 2 4-5 4 4 4-10 4 13 4-4 4 14 4-13 4 5 4 0 4-4 4 3 4 5 4-10 4 3 4 4 4-12 4 8 4-5 4-1 4 6 4-4 4 2 4 3 4-3 4-13 4 9 4-10 4 4 4 13 4-8 4-6 4 4 4-2 4 0 4 7 4-11 4-7 4 17 4-1 4-3 4-5 4 9 4-9 4 10 4 4 4 10 4-17 4-3 4 15 4-7 4 8 4 2 4-20 4 6 4 26 4-23 4 5 4-13 4 14 4 1 4 11 4-5 4 1 4 12 4-22 4 13 4-7 4-5 4 27 1-16"/>
<path stroke="#D95319" d="M98 441l4 2 4-1 4 3 4-7 4 10 4-8 4 3 4-4 4 7 4-12 4 10 4-11 4-5 4-8 4-4 4-4 4-3 4-11 4 6 4-18 4-1 4-10 4-2 4-17 4 7 4-15 4 1 4-13 4-7 4-4 4-7 4-3 4-4 4-5 4-6 4-5 4-1 4-10 4 2 4-4 4-1 4-1 4 0 4-3 4 0 4 1 4-5 4 3 4 1 4-3 4 3 4-1 4-1 4-1 4 2 4-10 4 10 4-1 4-4 4 2 4 0 4 5 4 10 4 1 4-3 4 6 4 8 4 11 4-1 4 8 4 8 4 9 4 9 4 7 4 10 4 5 4 9 4-1 4 7 4-8 4-4 4-1 4-5 4-16 4-9 4-16 4-19 4-14 4-22 4-10 4-13 4-2 4-21 4 2 4-12 4-2 4-3 4 5 4-9 4-4 4 3 4-1 4-9 4 16 4-13 4 9 4-3 4-6 4 5 4 2 4-15 4 6 4 6 4 1 4 7 4-3 4-4 4 2 4 2 4-1 4 5 4-3 4-10 4 22 4-6 4-3 4-6 4 7 4-4 4 3 4-12 4 12 4 1 4-5 4 4 4-3 4 11 4-7 4-5 4 7 4-8 4 4 4-8 4-14 4 16 4-4 4 6 4 0 4 3 4 4 4 2 4-9 4 11 4-8 4-8 4 14 4 3 4-8 4-2 4 29 4-8 4-16 4 8 4-7 4-8 4-9 4 21 4-1 4 1 4-22 4 5 4 28 4-3 4 6 4-11 4 17 4-29 1-1"/>
<path stroke="#EDB120" d="M98 439l4-7 4 6 4-5 4 0 4 2 4-1 4-4 4 0 4-3 4 3 4-3 4-11 4-2 4-1 4-11 4-12 4 0 4-4 4-6 4-10 4-9 4-8 4-3 4-8 4-5 4-12 4 3 4-18 4-4 4-11 4-10 4 8 4-8 4-8 4-15 4 6 4-13 4 3 4-3 4 1 4-4 4-1 4-1 4 0 4 6 4-4 4-3 4 1 4 4 4-6 4 5 4-3 4 0 4-3 4-1 4 12 4-6 4-1 4 1 4 4 4-8 4 10 4-2 4 5 4 3 4 4 4 17 4-6 4 8 4 8 4 4 4 12 4 6 4 6 4 7 4 5 4 1 4 6 4-4 4-2 4-12 4-12 4-11 4-20 4-22 4-24 4-37 4-10 4-29 4-18 4-12 4-26 4-6 4-8 4-11 4-4 4 1 4-9 4-3 4-3 4-7 4 3 4 2 4-3 4-5 4 2 4 3 4 2 4 4 4-5 4 5 4-3 4 3 4 0 4-1 4 3 4-7 4 7 4-15 4 22 4-4 4-1 4-1 4-6 4-2 4 3 4-2 4 4 4-3 4 3 4 0 4-8 4-6 4-2 4 12 4-6 4-10 4 10 4-5 4 2 4-5 4 8 4-8 4-13 4 27 4-21 4 17 4-6 4-12 4 7 4-8 4-7 4 5 4 15 4-4 4 6 4-10 4 14 4-26 4 3 4 13 4-2 4-6 4-3 4 0 4 3 4-10 4 5 4 1 4 13 4-14 4 9 4-19 4 29 4-2 4-14 4-11 1 7"/>
<path stroke="#7E2F8E" d="M98 473l4-6 4 5 4-6 4 1 4-4 4 3 4-8 4 1 4 2 4-3 4-5 4 3 4-4 4-16 4 6 4-5 4-4 4-7 4-13 4-9 4-5 4-6 4-2 4-12 4-3 4-8 4-2 4-7 4-11 4-2 4-8 4-4 4-1 4-11 4 1 4-2 4-8 4-4 4 2 4 5 4-7 4 2 4 3 4-1 4-1 4 1 4 4 4-2 4 8 4 1 4-7 4 0 4 7 4 0 4-1 4 2 4 1 4 3 4 0 4-1 4 6 4 0 4 2 4 3 4 6 4-2 4 11 4 2 4 2 4 6 4 8 4 9 4 4 4 6 4 0 4 18 4 2 4-3 4 4 4-1 4-5 4-6 4-3 4-11 4-11 4-28 4-27 4-31 4-26 4-24 4-34 4-15 4-16 4-22 4-2 4-5 4-11 4 2 4-7 4-6 4 8 4 4 4-6 4-7 4-1 4 2 4 3 4 0 4 9 4 7 4-12 4 5 4-1 4 3 4-9 4 13 4-4 4-11 4 9 4-1 4-4 4 3 4-6 4-2 4 4 4-2 4 4 4 1 4 4 4-15 4 4 4 13 4-13 4 2 4-7 4 4 4 2 4 2 4 3 4-11 4 4 4-1 4 2 4 0 4 6 4 2 4-3 4-3 4 0 4 4 4-2 4-12 4 28 4-7 4-17 4 19 4-24 4 0 4 17 4-4 4-5 4 8 4-14 4 4 4 20 4-4 4-23 4 19 4-10 4 3 4-3 4 6 4-10 4-11 4 15 4-2 4 2 1-2"/>
<path stroke="#77AC30" d="M98 416l4-11 4 1 4 2 4-10 4 12 4-9 4 1 4-2 4 5 4-11 4 0 4-4 4-9 4 0 4-8 4-4 4-9 4 2 4-13 4-6 4-7 4 2 4-20 4 2 4-10 4-5 4-5 4-4 4-12 4-12 4-1 4 3 4-16 4-5 4-1 4-5 4-7 4 1 4-6 4-5 4-5 4 7 4-6 4 1 4-3 4 3 4-6 4 4 4-2 4-4 4-1 4 2 4-1 4-6 4 3 4-5 4 0 4 1 4-4 4 1 4 1 4-2 4 7 4 2 4-1 4 7 4 3 4 6 4 3 4 4 4 6 4 7 4 7 4 7 4 6 4 13 4-1 4 0 4-7 4 9 4-12 4-11 4-9 4-16 4-10 4-22 4-6 4-26 4-12 4-20 4-17 4-8 4-10 4-18 4-2 4-4 4 1 4-3 4-16 4 2 4 0 4 0 4-2 4-1 4 1 4-3 4-6 4 10 4-7 4 10 4-7 4 5 4 4 4-5 4 2 4-13 4 9 4 7 4-8 4 10 4-7 4-1 4 0 4 10 4 2 4-12 4-8 4 5 4 1 4 0 4 3 4-8 4 14 4-10 4 9 4-3 4-10 4-6 4 8 4-5 4-3 4-6 4 0 4 10 4 1 4-3 4-1 4 3 4-8 4 6 4-7 4-9 4 7 4 5 4 2 4-3 4-9 4 4 4 1 4 3 4 22 4-9 4-12 4 13 4-18 4-15 4 22 4 5 4-8 4-1 4-9 4 8 4-9 4-2 4-10 4 35 4-12 1 17"/>
<path stroke="#4DBEEE" d="M98 356l4 3 4 8 4-10 4-1 4 4 4-1 4-7 4 2 4 5 4 0 4-4 4-10 4-7 4-8 4-4 4-12 4 4 4-10 4-7 4-3 4-8 4-10 4-8 4-4 4-7 4-9 4-6 4-9 4-10 4-7 4-10 4-5 4-4 4-5 4-6 4-1 4-10 4-1 4-5 4-6 4-1 4-11 4-1 4 3 4-1 4-9 4 4 4-13 4-1 4-5 4 4 4-2 4-7 4-2 4-1 4-10 4-1 4 0 4-3 4 4 4-6 4 3 4 0 4-1 4 1 4 6 4 1 4 1 4 4 4-8 4 3 4 0 4 1 4-6 4 5 4-3 4 3 4 1 4-4 4 0 4 0 4-5 4-8 4 1 4-1 4 8 4-3 4 1 4-6 4-8 4 9 4-5 4 3 4-2 4-4 4-4 4 0 4 1 4 2 4-18 4 10 4-8 4 4 4-5 4 4 4 2 4 5 4-1 4-1 4-10 4 8 4 10 4-11 4 9 4 2 4 2 4 2 4-1 4-7 4 0 4 2 4 0 4-1 4-17 4 6 4 12 4-4 4-13 4 7 4-5 4 3 4 6 4 5 4 6 4-17 4-3 4 2 4 15 4-3 4 2 4-12 4 12 4 11 4-17 4 4 4 10 4-11 4-1 4 0 4-2 4 7 4-4 4-5 4 9 4 0 4-1 4-19 4 14 4 15 4-22 4-2 4-5 4 18 4-8 4-11 4 2 4 7 4 8 4 3 4-12 4-5 4 15 4 1 4-6 4 24 4-30 4 3 1 24"/>
<path stroke="#A2142F" d="M98 390l4 5 4 1 4-1 4 1 4 0 4-1 4 2 4-8 4 7 4-10 4-13 4 4 4-4 4-5 4-7 4-11 4-12 4-4 4-5 4-6 4-10 4-1 4-17 4-7 4-7 4-7 4-8 4-7 4-10 4-4 4-6 4-7 4-11 4 0 4-6 4-2 4-2 4 6 4-8 4-1 4-1 4-7 4-7 4 1 4-3 4 5 4 0 4 1 4-2 4-4 4 3 4-4 4 0 4-7 4-1 4-3 4-4 4-2 4-1 4-2 4 3 4-6 4 4 4-9 4 10 4-1 4 2 4 4 4 2 4 1 4-2 4 10 4 2 4 11 4-6 4 6 4-1 4 7 4-4 4-3 4-3 4-8 4 0 4-6 4-5 4-11 4-6 4-13 4 0 4-12 4-1 4-14 4 8 4-18 4 3 4-13 4 7 4-5 4 4 4-6 4 1 4-5 4-2 4 2 4 2 4-6 4-5 4 3 4 3 4-4 4 4 4 4 4 4 4-1 4-1 4 5 4-9 4 3 4 2 4-4 4 5 4 1 4 2 4-6 4 2 4-2 4 3 4-2 4 5 4-7 4 3 4-5 4-5 4 1 4 0 4 3 4-3 4 10 4-5 4-5 4 4 4 1 4-1 4-7 4 3 4 4 4-2 4-12 4 13 4-18 4 18 4 2 4-10 4 7 4-7 4-2 4-1 4 13 4-14 4 5 4-22 4 9 4 15 4-17 4 23 4-13 4-8 4 10 4-8 4 5 4-2 4 21 4-11 4 12 4-11 4-2 4 9 1 2"/>
<path stroke="#0072BD" d="M98 554l4-4 4-3 4 5 4-1 4 5 4 0 4 0 4-5 4 0 4 3 4 1 4-3 4-1 4-1 4-5 4 1 4-2 4 1 4-5 4-7 4-3 4-7 4-7 4-7 4-10 4-9 4-9 4-3 4-10 4 2 4-6 4 4 4-4 4-1 4 2 4 0 4 5 4-1 4-3 4 9 4 1 4 10 4 3 4 4 4 1 4 3 4 7 4 1 4-3 4 6 4 3 4-1 4 3 4 3 4 5 4-4 4 5 4 2 4 5 4-4 4 4 4 2 4 4 4 0 4 1 4 1 4 3 4 3 4 2 4 2 4 2 4-2 4 3 4 6 4-4 4-2 4 3 4 4 4-4 4-3 4 0 4-2 4-10 4-7 4-4 4-15 4-16 4-23 4-29 4-30 4-30 4-21 4-22 4-23 4-22 4-13 4-13 4-12 4-9 4-9 4 0 4-2 4-10 4 0 4-14 4 6 4-1 4 5 4-10 4 4 4-9 4 2 4 8 4-6 4 17 4-10 4-9 4 3 4 5 4 2 4 9 4 1 4-8 4-7 4 22 4-15 4 1 4-1 4 10 4-2 4-3 4 6 4 2 4-3 4-5 4-2 4 2 4-1 4 5 4 0 4-12 4 7 4 1 4-7 4-2 4 0 4 6 4 4 4-2 4 2 4-9 4 9 4-2 4 6 4-10 4 27 4-18 4-3 4 16 4-27 4 19 4 1 4 8 4-17 4 6 4 7 4-7 4-5 4-5 4 9 4 12 4-4 4 17 4-15 4-15 4 3 4 6 1 2"/>
<path stroke="#D95319" d="M98 558l4-1 4 3 4-1 4 0 4-4 4 3 4 4 4-8 4 2 4-4 4 6 4-1 4-2 4 0 4-5 4-7 4-1 4 5 4-12 4-3 4-8 4-6 4-7 4-9 4-9 4-7 4-15 4-5 4-7 4-3 4 0 4-1 4 3 4-4 4 0 4 2 4 5 4-7 4 6 4 5 4 6 4 6 4 5 4 6 4 3 4-2 4 6 4 1 4 8 4 5 4 1 4 5 4-7 4 1 4 5 4 2 4 2 4 4 4 0 4 7 4 0 4 2 4 5 4 0 4-2 4 2 4 8 4-7 4 3 4 1 4 4 4 0 4 6 4-1 4 3 4-1 4-3 4-1 4 4 4 1 4-5 4-2 4-8 4-3 4-1 4-19 4-17 4-22 4-30 4-33 4-34 4-31 4-21 4-22 4-19 4-21 4-7 4-19 4-5 4-13 4-6 4-1 4 1 4-5 4-2 4 7 4-5 4 1 4-9 4-2 4 12 4 0 4 4 4-7 4-3 4-5 4 17 4-11 4 6 4 4 4-2 4 3 4-7 4 3 4-6 4 9 4 8 4-5 4-8 4 11 4-4 4-8 4 11 4-13 4 3 4 6 4-4 4 3 4 0 4-1 4-2 4 1 4 4 4 2 4-20 4 21 4-6 4-9 4 1 4 13 4-20 4 2 4 16 4 7 4-14 4 7 4 1 4 4 4-1 4-6 4-5 4 25 4 4 4-29 4 17 4-13 4 6 4-10 4 3 4 12 4 0 4-4 4-4 4 15 4 9 4-15 4 2 1 1"/>
<path stroke="#EDB120" d="M98 443l4 4 4-2 4-6 4 10 4-6 4-6 4 2 4 10 4-7 4-10 4 11 4-15 4-9 4 3 4-6 4-11 4-9 4-5 4-7 4-10 4-9 4-3 4-9 4-8 4-11 4-9 4-9 4 0 4-8 4 0 4-8 4-9 4-8 4-2 4 5 4-6 4-10 4 3 4 0 4-2 4 3 4-2 4 1 4 5 4 4 4-5 4-4 4 9 4-3 4-1 4-2 4 3 4 4 4-7 4 3 4-4 4-5 4 3 4 2 4-5 4 5 4 6 4 1 4-4 4 3 4 12 4 6 4-4 4 6 4 13 4 0 4 9 4 15 4 4 4 1 4 12 4 7 4 1 4-7 4 12 4-9 4-7 4-9 4-13 4-2 4-25 4-15 4-12 4-11 4-10 4-12 4-11 4-7 4-11 4 4 4-9 4-8 4 5 4 0 4-15 4 3 4 12 4-10 4 0 4 2 4 0 4-7 4 6 4 0 4 4 4-12 4 6 4 1 4 0 4 4 4 2 4 1 4-17 4 12 4-1 4 1 4 7 4-1 4-3 4 3 4 0 4-8 4 4 4-1 4 4 4 10 4-2 4-19 4 26 4-18 4-5 4 0 4 1 4 17 4-9 4 13 4-11 4-3 4-3 4 15 4 1 4-5 4 6 4-16 4 2 4 4 4 2 4 9 4-18 4-9 4 19 4 3 4-9 4 8 4-2 4-7 4 6 4-7 4 10 4-10 4 17 4-28 4 1 4 19 4-5 4 18 4-10 4-23 4 25 4 16 4-18 4-8 1 13"/>
<path stroke="#7E2F8E" d="M98 457l4-5 4 7 4-13 4 6 4 0 4-5 4 6 4-5 4-2 4 0 4-6 4 4 4-8 4-9 4 1 4-6 4-4 4-7 4-5 4-5 4-10 4-7 4-5 4-7 4-8 4-10 4-1 4-11 4-6 4-9 4-3 4-6 4-5 4-6 4 2 4-6 4 0 4-7 4-1 4-6 4 5 4-9 4 0 4 13 4-8 4 7 4-4 4 9 4-3 4-3 4 2 4 6 4 0 4-3 4-2 4 3 4 8 4 1 4 0 4 1 4 9 4-1 4 0 4 5 4 7 4-1 4-2 4 4 4 13 4-1 4 9 4 6 4 3 4 13 4 8 4 3 4 5 4 7 4-8 4 4 4-10 4-5 4-3 4-11 4-14 4-15 4-16 4-20 4-10 4-26 4-15 4-6 4-10 4-8 4-3 4-6 4 3 4-8 4-1 4-2 4 6 4-2 4-9 4 8 4 0 4-7 4 2 4 5 4-5 4-1 4-6 4 3 4 8 4-3 4 6 4-4 4-5 4 6 4-1 4-5 4-9 4 9 4 1 4 5 4-5 4 11 4-2 4 5 4-14 4 7 4 0 4 1 4 1 4 2 4-2 4 9 4 4 4-5 4-2 4-9 4-1 4 8 4-12 4 10 4 5 4 7 4-11 4-2 4 8 4 1 4 1 4-16 4 14 4-1 4 2 4 1 4-1 4-15 4 4 4 0 4 16 4-7 4 15 4-19 4 2 4-11 4 12 4-10 4 16 4-3 4 16 4-11 4-3 4 10 4-15 4-12 4 22 1 1"/>
<path stroke="#77AC30" d="M98 415l4-5 4 0 4-2 4 3 4-1 4-7 4 2 4-7 4 13 4-17 4-2 4-4 4-11 4 8 4-16 4 0 4-3 4-13 4-4 4-12 4 2 4-8 4-12 4 1 4-9 4-9 4-7 4-6 4-2 4-11 4-7 4-3 4-2 4-6 4-5 4-3 4-7 4 1 4-2 4 2 4-10 4-3 4 0 4 3 4 2 4 0 4-8 4-4 4 0 4 3 4 0 4-3 4-10 4 6 4-9 4 2 4 4 4-3 4 3 4 0 4 1 4-2 4-7 4 13 4-2 4 7 4-3 4 3 4 8 4 0 4 7 4 5 4 4 4 11 4 4 4-3 4 4 4 3 4-10 4 2 4 5 4-13 4-3 4-5 4-18 4-7 4-13 4 0 4-11 4-10 4-2 4-8 4-10 4 3 4-14 4 17 4-18 4-1 4-9 4 3 4 10 4-13 4 8 4-6 4 8 4-10 4 5 4-1 4-4 4 7 4-6 4 8 4 3 4-10 4 2 4 2 4 5 4-11 4 3 4-2 4 0 4-2 4 5 4 1 4 7 4-9 4 3 4 3 4 1 4-7 4-4 4-6 4 6 4-5 4 13 4-6 4 12 4-8 4-7 4-3 4 1 4-2 4 5 4 6 4-14 4 24 4-21 4 14 4 7 4-13 4 1 4-5 4 17 4-9 4-9 4 13 4 4 4-2 4-17 4 7 4 1 4-12 4-2 4 15 4-7 4 4 4 12 4-12 4 17 4-14 4 4 4 8 4-23 4-5 4 16 4 4 4-14 1 22"/>
<path stroke="#4DBEEE" d="M98 436l4 3 4 5 4-5 4-14 4 13 4-2 4-2 4-5 4 3 4 2 4-9 4-6 4 2 4-7 4-12 4-4 4-3 4-15 4-6 4-4 4-16 4 3 4-6 4-15 4 2 4-2 4-12 4-6 4-12 4-5 4-7 4-5 4-8 4 4 4-4 4-5 4-2 4-8 4 4 4-11 4 9 4 0 4-5 4-8 4 8 4-2 4 3 4-3 4-2 4 5 4 2 4-9 4 9 4-1 4-4 4 3 4-4 4-4 4 5 4 6 4-4 4 14 4-9 4 6 4 0 4 10 4 2 4-3 4 11 4 8 4 10 4 2 4 10 4 1 4 16 4-3 4 1 4 5 4 9 4-3 4-10 4-4 4-15 4-19 4-14 4-20 4-20 4-34 4-12 4-19 4-17 4-12 4-20 4-3 4-11 4-9 4 4 4-7 4-3 4-2 4 3 4 4 4-13 4 6 4-1 4 3 4-9 4-5 4 7 4 6 4-6 4-2 4-6 4 8 4 4 4 0 4-3 4 3 4-5 4 2 4 0 4 3 4 2 4-7 4 9 4-10 4 6 4-13 4 4 4 7 4-10 4 7 4-7 4 5 4 2 4 7 4 5 4-17 4-6 4 7 4 16 4-21 4 2 4 7 4-6 4-2 4 6 4-15 4 19 4-24 4 10 4 6 4 2 4 2 4-10 4 3 4-4 4-15 4 13 4-3 4 2 4 4 4-11 4-4 4 22 4-20 4 1 4 23 4-17 4 16 4-18 4 26 4-23 4-2 4 11 4-5 4-9 1-7"/>
<path stroke="#A2142F" d="M98 488l4 9 4-14 4 4 4-2 4 3 4 2 4-5 4 1 4 0 4-2 4-6 4-3 4-1 4-11 4-6 4-5 4-2 4-5 4-10 4-13 4 1 4-7 4-10 4-4 4-18 4 4 4-11 4 0 4-15 4-2 4-3 4-6 4-2 4 5 4-8 4-2 4-7 4 3 4 4 4-9 4 6 4 5 4 3 4-5 4 9 4-3 4 0 4 10 4-1 4 5 4-7 4 3 4 1 4 2 4-2 4-10 4 12 4 4 4 3 4-5 4 15 4-3 4-1 4 11 4-4 4 12 4 0 4 7 4 1 4 13 4-1 4 6 4 8 4 1 4 6 4 7 4-1 4 9 4-3 4-3 4 0 4-6 4 1 4-5 4-14 4-12 4-22 4-34 4-24 4-23 4-23 4-16 4-18 4-7 4-14 4-1 4 1 4-9 4-5 4 1 4 0 4-5 4 9 4-4 4 2 4-4 4 9 4-11 4 7 4-6 4-2 4 5 4-9 4 16 4-1 4 1 4-2 4-5 4-2 4 7 4 4 4 0 4 8 4-9 4 10 4-14 4 12 4-16 4 24 4-17 4 15 4-7 4 1 4-5 4-7 4 3 4 17 4-17 4 18 4-6 4-13 4 17 4-3 4-5 4 9 4-12 4 15 4-20 4 7 4 2 4-10 4 18 4-12 4 1 4 3 4-2 4 6 4 8 4 5 4-21 4-2 4 8 4 2 4 11 4-27 4 19 4-10 4 0 4 15 4-8 4-5 4 9 4-3 4-4 4 32 4-29 4 6 1-1"/>
<path stroke="#0072BD" d="M98 377l4-11 4 7 4-2 4-4 4-3 4-2 4 0 4-5 4-1 4-3 4-5 4-10 4-1 4-6 4-10 4-7 4 2 4-11 4-10 4-5 4-4 4-17 4 1 4-7 4-4 4-7 4-10 4-7 4-3 4-12 4-8 4-5 4 2 4-15 4 1 4-2 4-10 4-3 4-1 4-3 4-1 4-3 4 1 4-11 4-2 4-1 4 5 4-5 4-7 4-2 4 4 4-8 4-5 4 1 4-6 4-4 4-2 4 2 4-11 4 0 4 6 4-9 4 3 4-5 4 2 4 1 4-5 4-2 4 3 4-6 4 3 4 5 4 1 4-8 4 8 4 3 4-8 4 9 4-2 4-9 4 1 4 3 4-3 4-6 4-3 4-2 4-2 4-5 4 6 4-7 4-4 4-2 4-5 4 6 4-9 4-3 4 9 4-7 4-2 4-6 4 1 4 3 4-11 4 12 4 1 4 2 4-10 4 4 4-6 4 7 4 1 4-3 4 7 4-7 4 8 4-7 4 7 4 5 4 2 4 3 4-20 4 10 4-4 4-5 4 6 4-4 4-2 4 9 4 11 4-18 4 3 4-2 4-4 4 5 4-7 4-2 4 2 4 1 4 2 4 1 4-1 4 4 4-8 4 3 4 5 4-1 4 3 4 0 4-9 4 11 4-10 4 6 4-5 4-7 4 3 4-1 4 18 4-21 4-12 4 14 4 9 4-9 4 2 4 10 4 4 4-23 4-3 4 10 4 10 4-1 4-22 4 12 4 4 4-27 4 20 4-14 4 8 1-7"/>
<path stroke="#D95319" d="M98 419l4 2 4 5 4 1 4-4 4-5 4 2 4 2 4 0 4-1 4-9 4 8 4-2 4-13 4-4 4-1 4-11 4-3 4-11 4-2 4-7 4-8 4-9 4-10 4-10 4-4 4-5 4-15 4-12 4-7 4-5 4-2 4-7 4-9 4-3 4-5 4-2 4-4 4-7 4 0 4 5 4-14 4-3 4-7 4 4 4 9 4-12 4-2 4 8 4-7 4 1 4 2 4-8 4-4 4 0 4 0 4-1 4 7 4-3 4 2 4 4 4 2 4-4 4 1 4 1 4 9 4 1 4 5 4 3 4 11 4 2 4 4 4 13 4 6 4 6 4 9 4 1 4 5 4-5 4 7 4 1 4-10 4-9 4-18 4-5 4-15 4-13 4-20 4-10 4-16 4-7 4-19 4-2 4-14 4-1 4-1 4-5 4-7 4 13 4-20 4 0 4-4 4 15 4-11 4-2 4 7 4 2 4-1 4-8 4 1 4-3 4 1 4 2 4 11 4-12 4-3 4 24 4-19 4 5 4-5 4 8 4-3 4 1 4 10 4-9 4 8 4-2 4-4 4-2 4-6 4 9 4-12 4-4 4-1 4 16 4-9 4 8 4 5 4-19 4 8 4 1 4 3 4-2 4-14 4 7 4-5 4 12 4-2 4 3 4-4 4 0 4 1 4 6 4-10 4 6 4 6 4-12 4 7 4-16 4-1 4 15 4-5 4-9 4 5 4 16 4-12 4-9 4 7 4 18 4-19 4-6 4 24 4-14 4-4 4 13 4-25 4 35 4-21 1-12"/>
<path stroke="#EDB120" d="M98 556l4-1 4-2 4 2 4 1 4-1 4-4 4 3 4 2 4 1 4-2 4 1 4-1 4-5 4-1 4-1 4-3 4-5 4 4 4-6 4-3 4-8 4-7 4-6 4-10 4-3 4-15 4-11 4-3 4-6 4-11 4 6 4-2 4 0 4-1 4 1 4 4 4-11 4 9 4-1 4 6 4 1 4 7 4 3 4 4 4 5 4 6 4 2 4 9 4-5 4 3 4 3 4 6 4-5 4 7 4-1 4 8 4-1 4 3 4 3 4 2 4-3 4 6 4 1 4-2 4 10 4-5 4 6 4 2 4 1 4 5 4 1 4 1 4 0 4-2 4 0 4 4 4-1 4 0 4 1 4-2 4 0 4-6 4-3 4-8 4-11 4-14 4-16 4-23 4-33 4-32 4-33 4-26 4-22 4-25 4-19 4-12 4-18 4-7 4-15 4-8 4-3 4-8 4-4 4-1 4 8 4-10 4-1 4-3 4 8 4-8 4 2 4 0 4 8 4-1 4-10 4 3 4 5 4-5 4 6 4 4 4 8 4-13 4 7 4-1 4 12 4-6 4-3 4 3 4 4 4 3 4-7 4 3 4 0 4 0 4 3 4-2 4 2 4-4 4 9 4-2 4-7 4 1 4-2 4-13 4 8 4-3 4 5 4 4 4 4 4 8 4-3 4 6 4-8 4 3 4-4 4-8 4 4 4-11 4 0 4 0 4 1 4 5 4 7 4-8 4 7 4 0 4-6 4 14 4 6 4-18 4-13 4 6 4-25 4 51 4-7 4 17 4-14 1-28"/>
<path stroke="#7E2F8E" d="M98 480l4 9 4-4 4-8 4 0 4 4 4-11 4 1 4 0 4-9 4-3 4 4 4-7 4-7 4-2 4-7 4 1 4-6 4-9 4-4 4-14 4 3 4-7 4-8 4-8 4-5 4-9 4-2 4-8 4-1 4-12 4-4 4 1 4-13 4-3 4 2 4-8 4-8 4 4 4-7 4 4 4-5 4 5 4 12 4-8 4 3 4 0 4 6 4-4 4 6 4 3 4 3 4 3 4 4 4-3 4 6 4 0 4 2 4-7 4 1 4 8 4 0 4 5 4 2 4-5 4-5 4 13 4-2 4 12 4-8 4 2 4 15 4 6 4 2 4 14 4 12 4 0 4 11 4-4 4 2 4-3 4 2 4-5 4-3 4-14 4-13 4-20 4-37 4-13 4-32 4-19 4-20 4-16 4-11 4-11 4 6 4-12 4 0 4-6 4 8 4 6 4-11 4 2 4 1 4-1 4-7 4 6 4-8 4 3 4 7 4 8 4-17 4 10 4 0 4-10 4-4 4 0 4 8 4-1 4 6 4-6 4-2 4-8 4 12 4 5 4-10 4 11 4 2 4-6 4 1 4 1 4 8 4-5 4 7 4 3 4-13 4-4 4 6 4-6 4 6 4-11 4 19 4-3 4 1 4-5 4-2 4 10 4 5 4 4 4 2 4-20 4 14 4-16 4 10 4-8 4-1 4 1 4-2 4 11 4-8 4 8 4 5 4-7 4-5 4 9 4-17 4 21 4 3 4-5 4-17 4 12 4-6 4-1 4 19 4-13 4-10 4 1 4 9 1-6"/>
<path stroke="#77AC30" d="M98 383l4-1 4 3 4-7 4-1 4 6 4-8 4-2 4-4 4 0 4-6 4-7 4-3 4-11 4-10 4 6 4-13 4-10 4-1 4-7 4 0 4-18 4-10 4-8 4-3 4-7 4-8 4 2 4-16 4-11 4-3 4-8 4-4 4-4 4-5 4-4 4 0 4-4 4-11 4 2 4-3 4 0 4-7 4-1 4 2 4 0 4-13 4 1 4-2 4 1 4-6 4 1 4-13 4 2 4-7 4 0 4-5 4-7 4-2 4 4 4-6 4 2 4-2 4-3 4 2 4 2 4-2 4 0 4 10 4 3 4-1 4 9 4-1 4-1 4 5 4 0 4 1 4 5 4 0 4-2 4-6 4 2 4-3 4-2 4-8 4-8 4-3 4-11 4-14 4-1 4-2 4-6 4-2 4-6 4 1 4-4 4-9 4-1 4-1 4 0 4 4 4-11 4 8 4 4 4-13 4-2 4 3 4-2 4 3 4 10 4 0 4-5 4-1 4-4 4-3 4 3 4 5 4 15 4-15 4 3 4 7 4-9 4 2 4-9 4 5 4 10 4-13 4 4 4-3 4 0 4-1 4-2 4 10 4-4 4 3 4-11 4-4 4 0 4 7 4 4 4-5 4 6 4 0 4-12 4 14 4-3 4-2 4-9 4 3 4 6 4 6 4-3 4-15 4 4 4-7 4 10 4-11 4 5 4 5 4-2 4 14 4-20 4-11 4 14 4 17 4-25 4-10 4 28 4-7 4-10 4-13 4 23 4 8 4-31 4 15 4 5 4 3 4 2 1 17"/>
<path stroke="#4DBEEE" d="M98 376l4 0 4-3 4 8 4-4 4-2 4 2 4-5 4 6 4-5 4-4 4 0 4-13 4 3 4 2 4-13 4-11 4 2 4-13 4 1 4-16 4-3 4-6 4-11 4-6 4-7 4-9 4-8 4-13 4-13 4-2 4-5 4-2 4-4 4-6 4-7 4-2 4-7 4-9 4 2 4-7 4-3 4 5 4-7 4-2 4-1 4-7 4 3 4 0 4-11 4 4 4 0 4-7 4 2 4-5 4-3 4-1 4-4 4 2 4-7 4 5 4 5 4-2 4-3 4 0 4-3 4 0 4 11 4-2 4 10 4 4 4-1 4 1 4 0 4 2 4-1 4 1 4 4 4-4 4-7 4 2 4-3 4-4 4 3 4-5 4-4 4-8 4-11 4 4 4-6 4-3 4-6 4-1 4-10 4 6 4-7 4 3 4-2 4 0 4-6 4 4 4-2 4-2 4 2 4 2 4 1 4-4 4-2 4-7 4 5 4 5 4 1 4 3 4-4 4-3 4 8 4 0 4-11 4 4 4-1 4 3 4 0 4 8 4-6 4-14 4 12 4-1 4 4 4-9 4 4 4-6 4 12 4-3 4-12 4 20 4-17 4 0 4 6 4 7 4-12 4-2 4 10 4 1 4 0 4-1 4-18 4 25 4-5 4-27 4 9 4 7 4 11 4-9 4 9 4-3 4-4 4-10 4 13 4-17 4 11 4 5 4-10 4 7 4 0 4-4 4-1 4 19 4-19 4 12 4-4 4-7 4-7 4-8 4 29 4-16 4 5 4 5 4-17 1 11"/>
<path stroke="#A2142F" d="M98 379l4-4 4 4 4-1 4-1 4-4 4-1 4-3 4 8 4-6 4 1 4-2 4-2 4-5 4-8 4-14 4 4 4-4 4-16 4 1 4-9 4-6 4-13 4-3 4 1 4-9 4-14 4-4 4-11 4-7 4-6 4-7 4-5 4-1 4-12 4 1 4-4 4-7 4 1 4-3 4-2 4-13 4 0 4-2 4 0 4-7 4 3 4 0 4-5 4-1 4 0 4-9 4-4 4-8 4-8 4 7 4-6 4 4 4-3 4-2 4-2 4 12 4-9 4 6 4-1 4-4 4 2 4 8 4-3 4 6 4 3 4 3 4 7 4-2 4 2 4 6 4-5 4 3 4-2 4-4 4 3 4-9 4-6 4-4 4-3 4-11 4-10 4-5 4-3 4-5 4-11 4-5 4-8 4 1 4-6 4-5 4 1 4-5 4-7 4 0 4 0 4 4 4-16 4 5 4-1 4-7 4 9 4 1 4 2 4-2 4 11 4-12 4 4 4 0 4 3 4 1 4-1 4-6 4 9 4-10 4 0 4 7 4 0 4-11 4 13 4-2 4-15 4 0 4 1 4-5 4 17 4-9 4-2 4 0 4-3 4 11 4-4 4 4 4 11 4-21 4-2 4 2 4 2 4 1 4 1 4 1 4-10 4-5 4-2 4 9 4 3 4-5 4-11 4 16 4 1 4-13 4-8 4 23 4 2 4-24 4 3 4 1 4 5 4 2 4-8 4 24 4-16 4 2 4-2 4 16 4-3 4-22 4 4 4-11 4 21 4-27 4 11 4 13 1-19"/>
<path stroke="#0072BD" d="M98 547l4 1 4-3 4 9 4-7 4 3 4-2 4 1 4 2 4 2 4-6 4 2 4 2 4-3 4-1 4-3 4-5 4-4 4 4 4-7 4-7 4-4 4-10 4-10 4-10 4-4 4-9 4-12 4-7 4-5 4-4 4 3 4-8 4 6 4-6 4-1 4 1 4 1 4 0 4 6 4 5 4-2 4 6 4 5 4 6 4 11 4-4 4 9 4 2 4 0 4 6 4-3 4 12 4-8 4 4 4 5 4-2 4 1 4 3 4 1 4 5 4-2 4 2 4 1 4 3 4 8 4-3 4 7 4 0 4 1 4 1 4 4 4 1 4 1 4 3 4 2 4 0 4 0 4 4 4 1 4-7 4 1 4 3 4-13 4-7 4-2 4-15 4-20 4-21 4-29 4-34 4-35 4-14 4-30 4-24 4-7 4-24 4-12 4-9 4-13 4-8 4-4 4-8 4 9 4 4 4-8 4-3 4-6 4 3 4 5 4-9 4 4 4 1 4 2 4-3 4-1 4 2 4 13 4-9 4-7 4-7 4 2 4 0 4-4 4 5 4-4 4 1 4 4 4 6 4 4 4-12 4 9 4-6 4-5 4 9 4-9 4 5 4 7 4-8 4 0 4 9 4-6 4 12 4-7 4 0 4 10 4-6 4-9 4 16 4 5 4 3 4-4 4 3 4 5 4-13 4-2 4 11 4-9 4-7 4 5 4 1 4-5 4 12 4-14 4-9 4 22 4 11 4-11 4 3 4-12 4-10 4 6 4-11 4 13 4 4 4 21 4-24 4 11 1-1"/>
<path stroke="#D95319" d="M98 366l4 5 4 1 4 6 4-3 4-4 4-1 4 7 4-1 4 2 4-6 4-3 4-14 4 3 4-6 4-12 4-3 4-10 4 3 4-12 4-10 4-9 4-6 4 0 4-10 4-7 4-7 4-5 4-10 4-5 4-8 4-9 4-5 4-10 4 1 4-9 4-1 4-3 4-5 4-13 4-5 4 2 4-6 4 2 4 6 4-12 4-5 4 0 4-4 4 1 4-1 4-3 4-1 4 4 4-14 4 5 4-7 4-3 4 9 4-4 4-3 4 0 4-3 4-4 4 3 4 1 4-4 4 2 4 1 4 7 4-1 4 11 4 0 4 0 4 5 4 4 4 4 4 0 4 5 4-10 4 0 4-3 4 4 4-9 4-8 4 4 4-7 4-8 4-2 4 0 4-11 4 4 4-8 4 9 4-8 4 0 4-6 4 6 4-2 4-1 4-7 4 3 4 5 4 0 4-3 4 9 4-6 4 8 4-9 4 6 4-6 4 3 4-5 4-4 4 22 4-7 4 2 4-6 4-1 4 14 4-2 4-19 4 15 4-1 4-1 4-9 4 4 4 4 4-9 4-2 4 9 4-11 4 20 4-14 4-4 4 6 4-5 4-4 4 7 4-9 4 14 4-2 4-12 4-5 4 9 4 1 4 16 4-26 4 5 4 2 4-4 4-2 4-1 4 0 4-9 4 20 4-1 4 2 4-12 4 7 4-3 4 3 4-12 4 21 4-20 4 0 4 1 4 3 4 2 4 8 4-6 4-6 4 6 4-9 4 10 4 0 4 1 4-1 1-5"/>
<path stroke="#EDB120" d="M98 388l4 2 4-5 4-3 4-2 4-1 4 2 4-8 4-1 4 2 4-8 4 4 4-11 4-6 4-4 4-13 4-3 4-6 4-4 4-6 4-9 4-9 4-3 4-7 4-3 4-16 4-1 4-8 4-1 4-9 4-8 4-11 4-2 4 2 4-12 4-3 4-8 4 0 4-3 4-9 4 7 4-7 4-4 4-11 4 8 4-2 4-3 4 0 4-4 4-1 4-12 4 6 4-4 4 1 4-14 4 0 4-4 4 1 4-7 4 3 4 0 4-4 4-3 4 4 4-5 4-1 4 10 4-5 4 6 4-4 4 7 4 4 4 3 4 2 4 1 4 6 4 2 4 3 4-2 4 4 4-3 4-8 4-1 4-9 4-3 4-13 4-9 4-7 4-9 4-8 4-8 4-8 4-11 4 0 4-11 4 3 4-9 4 4 4-4 4-2 4 2 4-10 4-3 4 0 4 12 4-7 4-1 4 11 4-16 4-1 4-1 4 11 4-3 4 3 4 6 4-5 4 3 4 2 4-7 4 3 4-2 4-2 4 1 4-5 4 2 4 3 4-1 4-1 4-4 4 5 4-2 4 1 4-3 4 4 4 3 4 2 4-13 4-3 4 2 4-10 4 10 4-2 4-16 4 10 4-1 4-1 4 7 4-3 4-8 4-1 4 5 4 8 4-4 4-10 4 1 4 12 4-7 4-2 4 7 4-16 4 8 4-1 4 22 4-27 4-4 4-1 4 12 4-4 4 10 4-15 4 11 4 7 4-9 4-16 4 11 4-13 4 19 4 1 1 14"/>
<path stroke="#7E2F8E" d="M98 480l4-2 4-6 4-3 4 1 4-3 4 2 4 0 4 1 4-7 4 2 4-3 4-3 4-9 4 6 4-6 4 0 4-6 4-9 4-2 4 2 4-10 4-10 4-5 4-4 4-9 4-2 4-5 4-6 4-4 4 5 4-8 4-8 4 2 4-5 4 4 4-5 4 2 4 2 4 0 4 3 4 12 4 4 4 7 4 3 4 4 4 4 4 3 4-1 4 9 4 6 4-12 4 0 4 12 4-2 4-3 4 5 4 2 4 3 4 4 4-9 4 6 4 8 4-5 4 1 4 6 4 2 4 9 4-4 4 7 4 5 4 5 4 2 4-5 4 15 4 4 4 4 4 4 4-2 4 6 4-3 4 0 4 11 4-12 4 0 4-1 4-11 4-20 4-28 4-28 4-33 4-25 4-28 4-24 4-19 4-12 4-6 4-12 4-12 4-2 4-6 4-2 4 4 4-6 4-3 4 8 4-1 4-8 4 7 4-3 4 2 4-1 4 1 4-7 4 5 4 1 4-1 4 4 4 3 4 3 4-16 4 14 4 2 4-9 4 1 4 0 4 0 4 10 4-17 4 5 4 8 4 0 4 12 4-8 4-11 4 0 4 8 4 3 4-5 4 2 4-2 4-5 4 22 4-16 4 10 4-14 4 11 4 5 4-14 4-1 4 10 4-15 4 15 4 0 4-3 4 2 4 4 4-17 4 15 4-6 4 9 4 2 4 0 4 5 4-18 4 21 4-12 4-2 4 21 4-22 4 15 4-4 4 6 4-17 4 23 4-4 4-13 4-19 1 11"/>
<path stroke="#77AC30" d="M98 378l4 2 4-9 4 4 4 6 4-4 4-4 4-2 4-4 4 5 4-4 4-2 4-1 4-9 4-8 4 1 4-8 4 2 4-12 4 0 4-5 4-10 4 2 4-10 4-4 4-6 4-11 4-4 4-11 4-11 4-5 4-16 4 2 4-3 4-7 4-11 4-4 4 4 4-10 4-5 4-3 4-10 4-6 4 2 4-2 4-7 4-8 4-3 4 4 4-6 4 1 4-4 4 3 4-7 4-5 4 0 4-6 4-4 4 7 4-3 4 2 4-2 4 3 4 2 4-4 4 9 4-6 4 7 4-1 4 5 4-2 4 11 4-4 4-1 4 13 4 0 4-2 4 6 4-3 4-9 4 4 4-10 4-6 4-7 4-6 4-5 4-12 4-2 4-7 4-9 4 1 4-10 4-6 4-12 4 2 4 4 4-13 4 1 4 1 4 4 4-9 4 6 4-2 4 0 4-1 4-3 4 8 4-7 4 0 4 6 4-5 4-3 4 8 4-4 4 3 4-13 4 11 4-11 4 5 4 1 4-5 4 7 4 4 4 0 4 5 4-14 4 0 4-8 4 15 4-8 4-6 4 4 4 16 4-13 4 4 4-1 4-4 4 4 4-6 4 2 4-10 4 6 4 5 4-1 4-4 4 7 4-6 4 4 4 17 4-16 4-16 4 12 4-11 4 9 4-18 4 20 4-13 4 11 4 8 4-8 4-10 4-8 4 9 4 0 4-14 4 6 4 10 4 8 4 6 4-22 4-4 4 20 4-9 4-5 4-2 4 17 4-15 4 12 1-13"/>
<path stroke="#4DBEEE" d="M98 480l4 6 4-2 4-3 4 6 4-9 4-3 4 4 4 5 4-2 4-8 4 2 4-4 4-6 4-1 4-3 4-3 4 1 4-16 4-6 4 0 4-9 4-2 4-12 4-5 4-5 4-5 4-11 4-1 4-6 4 1 4-16 4 4 4 4 4-11 4 6 4-9 4-1 4-2 4 8 4 10 4-1 4 4 4 7 4 4 4-1 4 6 4 11 4-1 4 7 4-1 4 8 4-2 4 3 4 4 4-4 4 1 4 5 4 6 4-9 4 8 4 4 4 4 4-2 4 11 4 0 4 8 4-4 4 10 4 5 4-1 4 5 4 3 4 6 4 0 4 14 4-1 4 3 4 5 4-1 4 2 4 1 4-4 4 3 4-7 4-4 4-18 4-10 4-24 4-35 4-35 4-26 4-31 4-28 4-15 4-10 4-16 4-5 4-7 4-11 4-2 4-6 4 8 4-3 4 4 4-10 4 9 4 0 4 1 4-8 4 1 4 1 4-6 4 6 4 5 4-15 4 15 4 0 4-10 4 8 4-1 4 11 4-3 4 1 4-6 4 5 4-4 4 8 4-2 4-3 4 9 4-1 4-11 4 9 4-16 4 9 4 0 4 5 4-3 4 2 4 9 4-5 4-1 4-7 4 7 4 15 4-18 4 4 4-5 4 2 4 12 4 2 4-6 4 3 4-6 4 4 4-3 4-6 4 7 4 2 4-9 4-3 4 3 4 18 4-15 4 4 4-11 4 31 4-22 4-1 4-3 4 8 4 0 4-4 4 16 4-15 4 18 4-7 1-18"/>
<path stroke="#A2142F" d="M98 371l4 0 4-2 4 1 4 1 4-6 4 12 4-2 4 1 4-9 4-2 4-3 4 3 4-5 4-11 4-9 4-9 4-10 4-3 4-2 4-14 4 9 4-18 4-15 4-1 4 4 4-23 4 3 4-6 4-15 4-10 4 5 4-15 4-8 4 1 4-4 4-3 4-11 4-6 4 6 4-15 4 2 4-12 4 2 4-3 4-6 4-1 4-5 4-4 4 1 4-2 4-11 4 5 4-8 4 1 4-5 4-8 4-5 4 15 4-8 4 2 4 0 4-2 4 6 4 1 4-5 4 12 4-2 4 2 4-1 4 1 4 9 4-3 4 4 4 5 4-4 4-1 4 5 4-5 4-3 4 1 4-9 4 1 4-19 4-4 4-7 4 3 4-17 4 2 4-6 4-10 4-2 4 0 4-8 4-3 4 7 4-13 4-7 4 8 4-5 4 5 4-7 4 2 4-2 4 2 4 3 4-5 4-3 4 1 4 13 4-9 4 0 4 4 4 1 4 10 4-26 4 14 4-4 4 3 4-1 4 4 4-11 4 3 4 9 4-12 4 6 4-8 4-2 4 10 4-3 4-2 4 1 4-2 4-5 4 9 4-1 4-15 4 0 4 9 4-2 4-3 4-3 4-12 4 14 4 0 4-2 4-4 4-6 4 19 4-20 4 7 4 16 4-23 4 6 4-9 4 7 4 6 4-9 4-4 4 25 4-8 4-2 4-16 4 26 4 9 4-10 4-13 4-14 4 7 4 15 4 0 4-4 4-10 4-4 4-7 4 5 4 16 4-12 1-8"/>
<path stroke="#0072BD" d="M98 432l4-5 4 2 4 4 4-1 4-5 4 1 4 5 4-2 4 1 4-6 4 1 4-7 4-7 4-2 4-13 4-8 4-4 4-10 4-14 4-8 4-4 4-11 4-14 4-12 4-2 4 0 4-16 4-5 4-4 4-6 4-8 4 1 4 0 4-13 4-1 4-2 4-4 4-15 4 2 4 0 4 2 4-8 4 5 4-5 4-2 4 2 4 0 4 7 4-6 4 4 4 1 4 3 4 15 4-18 4-3 4 8 4-2 4-4 4 8 4-2 4 0 4 1 4 5 4-5 4 8 4 7 4 1 4 4 4 1 4 3 4 14 4 5 4 21 4 2 4 4 4 3 4 11 4 1 4-7 4-8 4-5 4-9 4-8 4-18 4-14 4-9 4-15 4-22 4-7 4-15 4-14 4-3 4-5 4-11 4-11 4 1 4-5 4-7 4 2 4 3 4-4 4-1 4 4 4-6 4-1 4-2 4 10 4-12 4 7 4 5 4-6 4-6 4 1 4-4 4 3 4 8 4 2 4-3 4 10 4-6 4 4 4-5 4-8 4 13 4 4 4-20 4 21 4-9 4 3 4-14 4 10 4-12 4 4 4 8 4-6 4 14 4-18 4 26 4-15 4-6 4 1 4 20 4-17 4 3 4-11 4 14 4-6 4-12 4 12 4 2 4-18 4 11 4 2 4-19 4 27 4-8 4-6 4 7 4-8 4 6 4 4 4 9 4-12 4 9 4-30 4 14 4 7 4 2 4 10 4-14 4-6 4 17 4-8 4-7 4 24 4-20 4 6 1 14"/>
<path stroke="#D95319" d="M98 358l4 6 4 2 4-3 4 6 4-4 4-2 4 0 4-2 4 3 4-5 4-5 4 4 4-8 4-3 4-16 4-4 4-1 4-4 4-7 4-3 4-11 4-11 4-5 4-9 4-5 4-7 4-10 4-7 4-19 4-3 4-11 4-5 4-12 4 5 4-13 4-6 4 1 4-11 4 0 4-7 4-1 4-7 4-7 4 1 4 3 4-10 4 4 4-4 4-6 4-3 4-1 4 1 4-4 4-6 4-5 4-6 4-1 4 2 4-8 4 5 4-3 4 3 4 3 4-4 4 0 4-1 4 3 4 4 4-3 4 3 4 10 4-9 4 8 4 3 4 2 4-3 4 1 4 5 4-4 4 2 4-3 4 6 4-13 4-1 4-3 4 12 4-16 4 2 4 0 4-2 4-1 4-10 4-1 4 4 4 2 4 5 4-6 4-11 4 8 4-2 4-11 4 7 4 9 4-5 4-4 4 11 4-16 4 5 4 4 4-2 4-5 4 13 4-3 4-12 4 6 4 1 4-2 4 0 4 5 4-16 4 11 4 7 4-7 4-10 4 7 4-1 4 13 4-5 4-4 4 3 4 0 4 3 4 4 4-16 4 4 4 9 4 0 4 1 4-2 4 6 4-18 4 0 4 15 4-5 4-8 4 4 4 3 4-2 4 6 4-4 4 0 4 1 4-5 4 10 4-10 4 2 4-10 4 20 4-20 4 13 4 9 4-9 4-2 4-23 4 33 4-2 4-23 4 24 4-2 4 5 4-24 4 31 4-10 4 9 4-23 4 2 4 9 1-25"/>
<path stroke="#EDB120" d="M98 487l4-13 4 4 4-6 4 5 4-6 4-4 4-2 4 0 4 6 4-4 4 1 4-8 4 4 4-15 4 6 4-8 4 3 4-16 4-3 4 7 4-5 4-12 4 1 4-11 4-10 4 2 4-6 4-4 4-6 4-7 4-2 4 4 4-3 4-7 4-5 4 5 4 0 4-1 4 1 4 4 4 7 4 5 4 8 4-1 4 5 4 5 4 6 4 5 4 4 4-3 4 4 4 1 4-5 4 8 4-5 4-1 4 4 4 6 4-1 4 3 4 0 4 1 4 8 4-2 4 2 4 1 4 4 4 3 4 5 4 0 4 10 4 5 4 2 4 6 4 9 4-3 4 3 4 7 4 5 4 0 4-2 4 6 4-6 4-7 4 0 4-16 4-7 4-33 4-34 4-32 4-29 4-20 4-23 4-19 4-21 4-9 4-13 4-1 4-9 4-2 4-1 4 1 4-7 4 13 4-22 4 13 4-5 4-7 4 16 4-1 4-10 4 13 4-6 4 1 4-2 4 3 4-4 4 9 4-3 4 8 4-10 4 13 4-11 4 6 4-11 4 6 4-1 4 6 4-6 4-3 4 2 4-7 4 10 4-12 4 20 4-5 4-2 4 1 4-4 4 6 4 6 4-4 4 6 4-7 4-1 4 27 4-30 4 12 4-4 4-3 4 3 4-8 4-2 4 31 4-40 4 21 4-4 4 2 4 6 4-6 4-2 4-1 4-7 4 4 4 12 4-19 4 7 4 12 4-10 4-2 4 10 4 0 4 24 4-4 4-14 4-1 4-11 1 24"/>
<path stroke="#7E2F8E" d="M98 515l4-1 4-4 4-2 4-4 4 0 4-3 4-1 4 1 4 2 4-1 4-8 4 3 4-8 4 2 4-2 4-5 4-5 4-12 4 1 4-6 4-10 4-10 4-4 4-8 4-12 4-6 4-7 4 1 4-10 4-1 4-5 4 3 4-3 4 2 4-8 4 13 4-1 4 1 4 10 4-4 4-2 4 9 4 4 4 8 4 6 4 2 4 7 4 4 4-9 4 6 4-4 4 11 4-4 4 7 4-10 4 6 4 5 4 1 4-6 4 10 4-2 4 2 4 6 4-5 4 2 4 11 4 1 4 2 4 5 4 4 4 11 4 0 4 10 4 0 4 2 4 2 4 13 4-5 4 8 4-5 4 0 4-1 4-5 4-3 4-3 4-13 4-20 4-17 4-37 4-41 4-29 4-37 4-26 4-19 4-15 4-12 4-14 4-6 4-8 4 4 4-8 4-4 4 8 4-6 4 0 4 1 4-5 4 5 4-4 4 1 4-1 4 5 4 2 4-7 4 4 4-5 4 7 4 1 4-6 4 3 4 1 4-4 4 5 4-2 4-1 4 8 4-11 4 6 4 1 4-1 4 3 4 7 4-10 4 3 4-12 4 1 4 11 4-4 4-5 4 5 4 3 4 1 4 5 4-12 4 2 4 3 4 2 4-12 4 9 4-6 4 18 4-2 4 0 4-10 4 8 4-12 4 9 4-6 4 10 4-9 4 10 4-2 4 8 4 8 4-5 4-12 4 1 4 17 4-4 4 3 4-17 4 13 4 2 4-13 4 11 4-11 4-2 1 14"/>
<path stroke="#77AC30" d="M98 447l4 10 4-7 4-9 4 7 4-4 4-7 4 4 4 2 4-6 4-5 4 0 4-3 4-6 4-9 4-2 4-13 4 3 4-8 4-10 4-3 4 2 4-15 4-4 4-8 4-4 4-9 4-7 4-2 4-5 4-15 4-7 4-7 4 0 4-3 4-2 4-11 4-3 4-6 4 7 4-3 4-7 4 10 4 1 4-3 4-4 4-1 4 8 4-1 4 6 4-11 4 0 4 8 4 3 4-5 4-1 4 4 4 2 4 0 4-11 4 13 4-1 4-2 4 4 4 3 4-1 4 4 4 0 4 12 4 3 4 4 4 10 4 11 4 8 4 16 4-2 4 6 4 6 4-2 4 14 4-10 4 1 4-10 4 0 4-16 4-20 4-12 4-15 4-19 4-16 4-12 4-7 4-9 4-17 4-10 4-7 4 2 4 1 4-6 4 3 4-8 4 1 4 16 4-15 4 2 4 9 4-2 4-4 4-3 4 3 4-4 4 14 4-9 4-1 4-3 4 6 4 7 4-14 4 10 4-5 4 7 4-2 4 7 4-1 4 1 4-8 4-5 4 0 4 8 4 2 4 17 4-18 4 2 4-1 4 5 4-7 4-4 4 9 4-12 4 5 4 0 4 6 4 16 4-15 4 1 4-6 4 5 4 1 4 14 4-11 4-5 4 3 4-12 4 15 4-3 4 2 4-2 4 8 4-10 4 4 4-4 4-5 4 7 4-10 4 19 4-15 4 18 4-16 4 4 4 4 4 11 4-22 4-6 4 21 4-9 4 7 4-3 4-21 1 10"/>
<path stroke="#4DBEEE" d="M98 386l4-2 4-6 4 1 4-4 4 6 4-10 4 2 4 2 4-3 4-6 4-7 4 4 4-8 4-5 4-9 4-10 4 0 4-15 4-1 4-6 4-4 4-5 4-5 4-7 4-11 4-7 4-8 4-11 4-5 4 0 4-11 4-10 4 5 4-6 4-10 4-3 4-3 4 2 4-13 4-2 4-3 4 3 4-9 4 0 4-8 4 8 4-5 4-1 4 0 4 0 4-4 4-3 4 0 4-10 4 1 4-4 4-3 4 0 4-7 4 4 4-1 4-3 4 10 4-7 4-2 4 4 4-3 4 13 4-3 4 4 4-2 4 9 4 6 4-2 4 9 4 3 4-5 4 7 4-4 4-9 4 0 4-2 4 1 4-9 4-3 4-9 4 4 4-12 4 6 4-3 4 7 4-3 4-1 4-2 4-9 4 2 4-4 4 6 4 3 4-8 4 4 4-5 4-4 4 9 4 4 4-8 4 0 4-7 4 1 4 1 4-1 4 9 4-3 4-2 4-7 4 15 4 0 4-3 4 3 4-1 4-5 4 10 4-12 4-4 4 12 4-2 4-2 4 6 4 2 4-18 4 2 4-3 4-8 4 14 4-1 4 5 4-9 4 16 4-22 4 7 4 7 4 1 4 5 4-4 4 4 4-7 4 12 4-9 4-9 4 9 4 1 4-1 4 0 4 4 4-9 4-1 4 7 4-6 4-2 4 8 4-11 4 20 4-17 4 7 4-16 4 12 4-3 4-12 4 26 4-20 4 2 4-8 4 8 4 2 4 11 4-15 4 25 1-1"/>
<path stroke="#A2142F" d="M98 432l4-2 4 3 4-4 4-4 4 4 4-4 4-5 4-2 4-4 4 6 4-12 4-3 4-11 4-5 4-8 4 0 4-8 4 3 4-14 4-1 4-10 4-9 4 1 4-12 4-4 4-3 4-11 4-12 4-10 4-9 4 0 4-14 4-1 4-13 4 1 4-2 4-14 4 5 4 3 4-8 4-3 4-2 4 0 4 4 4-4 4 5 4-1 4 4 4 0 4-3 4 3 4-1 4-7 4 6 4-2 4-10 4-4 4 5 4-3 4 8 4-3 4 4 4 4 4-6 4 9 4 1 4 12 4 1 4 16 4 0 4 20 4-3 4 9 4 8 4 9 4-4 4 9 4 3 4-7 4-5 4 4 4-16 4-5 4-21 4-11 4-20 4-18 4-9 4-10 4-13 4-18 4-16 4-5 4-5 4-1 4-11 4 1 4-11 4 6 4-5 4-1 4-7 4 8 4 4 4-3 4-6 4 0 4 4 4 6 4-12 4 6 4-4 4 11 4-8 4 3 4 1 4 1 4 4 4-3 4 0 4 0 4-8 4 6 4-1 4-1 4 13 4-4 4-13 4 6 4-1 4 4 4-14 4 1 4 7 4 0 4 1 4-8 4 0 4 4 4 3 4-10 4 9 4 9 4-19 4 12 4-9 4 2 4 11 4 6 4-9 4-7 4 9 4 1 4-23 4 4 4 8 4 14 4-26 4 9 4 0 4 12 4-19 4-5 4 19 4-7 4-15 4 0 4 15 4-8 4 0 4 9 4-2 4 12 4-5 4 13 4-16 4-8 1 25"/>
<path stroke="#0072BD" d="M98 552l4 0 4-1 4 1 4 1 4-2 4 2 4-1 4-1 4-1 4 2 4 1 4-1 4 1 4-7 4-2 4-5 4-2 4-1 4-6 4-4 4-9 4-10 4-9 4-6 4-14 4-9 4-9 4-6 4-6 4 1 4-9 4 9 4-4 4 0 4-4 4 2 4 0 4 5 4-2 4 5 4 13 4-1 4 10 4 2 4 2 4 6 4 6 4 0 4-2 4 4 4 1 4 8 4-3 4 2 4 4 4-4 4 6 4 0 4 5 4 0 4 1 4 3 4 2 4 2 4 3 4 6 4-2 4 4 4 1 4 5 4-3 4 4 4 1 4 1 4 3 4 4 4 3 4-6 4 2 4-2 4-3 4 1 4-2 4-10 4-7 4-11 4-19 4-19 4-28 4-26 4-35 4-22 4-22 4-18 4-21 4-9 4-18 4-13 4-5 4-8 4-3 4-8 4-5 4-2 4-3 4-3 4 0 4 8 4-4 4-5 4-11 4 6 4 6 4 1 4 2 4-4 4 6 4-1 4 6 4-1 4 3 4 0 4-2 4-8 4 4 4-4 4 8 4-4 4 4 4-3 4 0 4 8 4-9 4 8 4-10 4 7 4 6 4-1 4-1 4-13 4 16 4-5 4-3 4 2 4-1 4-5 4 8 4-17 4 2 4 7 4-8 4 8 4 4 4 5 4-3 4-9 4 3 4-8 4 1 4 7 4 7 4-12 4 16 4 21 4-16 4-5 4 0 4 0 4-1 4 30 4-44 4 16 4 4 4 19 4-26 4 18 4 10 1-26"/>
<path stroke="#D95319" d="M98 468l4-1 4-1 4-1 4-3 4 5 4-8 4 6 4-9 4 11 4-7 4-5 4-3 4-1 4-7 4-7 4-7 4-5 4-6 4-8 4-6 4-5 4-13 4-6 4-1 4-5 4-11 4-8 4 5 4-16 4-4 4-7 4-8 4 2 4-6 4-1 4-7 4 1 4-6 4-2 4-6 4 2 4-4 4 6 4-9 4 7 4 5 4 0 4-7 4 0 4 6 4 4 4 1 4-2 4-6 4 10 4-7 4 2 4 8 4-2 4-1 4 4 4 3 4 6 4-12 4 10 4 3 4 11 4 1 4 8 4 10 4 5 4 10 4 10 4 5 4 3 4 5 4 6 4 5 4 4 4-9 4 2 4-5 4-5 4-11 4-10 4-22 4-14 4-22 4-22 4-24 4-18 4-13 4-11 4-9 4-8 4-2 4-7 4 0 4 4 4-12 4 7 4-5 4 10 4-5 4-7 4-13 4 14 4 8 4-6 4 2 4 7 4-13 4 8 4 0 4 7 4 0 4-3 4 5 4-2 4 3 4-8 4 4 4 4 4-17 4 25 4-11 4 0 4-1 4 5 4-5 4-6 4 9 4-5 4 0 4 8 4-4 4-5 4-6 4 7 4-7 4 13 4 4 4-12 4 1 4 3 4-13 4 6 4 5 4 2 4-2 4-2 4-8 4 23 4-16 4 6 4-8 4 1 4 3 4 8 4 9 4-21 4 10 4-3 4-4 4 6 4 7 4-2 4 1 4 8 4-16 4 5 4 10 4-8 4-3 4 10 4-1 4-2 1-14"/>
<path stroke="#EDB120" d="M98 459l4-3 4 0 4 3 4-1 4-5 4 3 4 4 4-7 4 4 4-1 4-7 4-4 4-8 4 2 4-7 4-12 4-10 4 2 4-7 4-7 4-6 4-8 4-13 4-7 4-1 4-15 4-2 4-3 4-11 4-13 4 1 4-7 4-7 4 1 4 1 4-8 4-3 4 1 4-1 4 4 4-2 4-2 4 10 4-19 4 13 4 5 4 3 4 0 4 1 4-3 4 2 4-1 4 2 4 3 4-1 4 5 4-11 4 5 4 5 4-5 4-4 4 9 4-2 4 1 4-1 4 7 4 3 4 9 4 1 4 10 4 5 4 15 4 2 4 11 4 7 4 5 4 6 4-1 4 7 4-10 4 2 4 4 4-2 4-20 4-6 4-16 4-25 4-18 4-15 4-26 4-12 4-25 4-2 4-10 4-15 4-8 4 4 4-11 4-3 4 1 4 2 4-4 4 7 4-6 4-4 4 6 4 9 4-1 4 2 4 0 4-16 4 12 4 5 4 2 4 3 4 0 4-9 4 10 4-9 4 0 4 9 4-5 4-9 4 7 4-1 4-8 4 2 4 1 4 6 4 8 4-7 4-3 4 9 4-17 4 13 4 3 4 3 4-16 4 5 4 11 4-10 4 7 4-3 4 3 4 0 4 6 4-7 4-1 4 10 4-18 4 7 4-7 4 5 4 7 4 0 4-10 4 2 4-5 4 2 4 0 4-3 4 1 4 33 4-53 4 35 4-6 4-4 4 4 4 14 4-15 4-4 4-4 4 13 4-10 4 1 4 8 4 8 1-37"/>
<path stroke="#7E2F8E" d="M98 412l4-1 4 4 4-3 4-1 4-6 4-5 4 2 4-8 4 3 4-10 4-1 4 2 4-13 4-4 4 0 4-9 4-10 4-7 4-4 4-8 4-11 4-6 4-3 4-10 4-4 4-10 4-8 4-14 4 2 4-8 4-6 4-2 4-3 4-10 4-2 4-12 4 4 4-6 4 2 4-12 4-4 4-4 4 4 4 4 4-2 4-8 4-5 4 2 4-5 4 5 4-6 4-2 4 1 4 1 4-5 4 2 4 1 4-9 4 5 4 1 4 3 4 5 4 1 4 2 4 3 4 6 4 3 4 2 4 5 4 12 4-7 4 14 4 0 4 6 4 6 4 8 4-2 4 12 4-11 4-8 4 1 4-17 4-8 4-11 4-6 4-25 4-3 4-14 4-10 4-3 4-14 4-4 4-8 4-7 4 3 4-5 4-1 4-4 4 1 4-7 4 9 4 4 4 3 4-4 4-6 4-8 4 10 4-2 4-1 4-5 4-2 4 2 4-1 4-7 4 22 4-18 4 12 4 0 4-5 4-2 4 19 4-19 4 2 4 6 4-2 4 11 4-8 4 8 4-4 4-13 4 10 4-12 4 2 4 3 4-8 4 7 4-3 4-13 4 11 4-3 4 5 4-5 4 14 4 5 4-23 4 10 4-1 4 1 4 2 4 1 4-6 4 5 4-4 4 2 4-12 4-10 4 17 4-1 4 2 4-9 4-17 4 17 4 9 4-4 4 4 4-9 4 7 4-9 4 11 4-12 4 13 4 9 4 5 4-26 4 14 4-4 4 12 1-7"/>
<path stroke="#77AC30" d="M98 381l4-4 4 3 4 1 4-6 4 4 4 5 4-2 4-1 4-1 4-7 4-3 4-5 4-6 4-2 4-8 4-9 4-5 4-5 4-19 4-3 4-1 4-3 4-14 4-5 4-12 4-1 4-4 4-10 4-10 4-5 4-6 4-4 4-10 4-3 4-6 4-6 4-8 4-5 4-6 4-5 4-5 4 0 4-7 4-4 4-1 4-5 4-2 4-1 4 2 4-1 4 9 4-6 4 1 4-3 4-9 4 8 4-10 4 2 4 0 4 2 4-6 4 4 4 2 4 3 4-7 4-5 4 5 4 7 4-2 4 1 4 4 4 7 4-2 4 2 4 13 4 3 4-9 4 12 4-6 4 7 4-5 4 1 4-14 4-12 4-4 4-3 4-8 4-7 4-5 4-9 4 0 4-1 4-9 4-9 4 16 4-14 4-6 4 4 4-3 4-1 4-3 4 0 4 3 4-3 4 4 4 3 4-6 4-2 4 9 4-9 4 2 4 7 4-12 4 13 4-6 4 6 4-5 4 0 4-3 4 4 4-4 4-6 4 27 4-26 4 3 4 8 4 1 4-6 4-8 4 8 4-2 4 8 4-13 4 7 4 0 4-1 4-3 4 7 4-7 4-1 4 2 4-12 4-1 4 13 4-1 4-9 4 12 4-3 4-2 4-6 4 9 4 1 4 3 4-4 4 2 4-6 4-13 4 22 4-20 4 1 4-2 4 16 4-21 4-3 4 2 4 29 4-13 4-10 4-8 4 4 4 13 4-19 4 16 4-8 4 9 4 12 4-11 1 4"/>
<path stroke="#4DBEEE" d="M98 475l4-10 4 1 4-6 4 3 4-3 4-1 4 0 4 0 4-9 4 3 4-1 4-6 4-3 4-12 4-2 4 1 4-1 4-13 4 5 4-11 4-8 4-7 4 2 4-11 4-3 4-8 4-1 4-10 4-2 4-8 4-1 4-7 4-2 4-10 4 1 4-6 4 1 4-7 4 1 4-5 4 3 4 5 4-10 4 10 4-9 4 2 4-5 4 9 4-8 4 3 4 4 4-3 4 9 4 0 4 2 4-3 4 5 4-9 4 5 4 2 4 9 4 4 4 5 4 2 4-3 4 8 4 2 4 7 4 9 4-5 4 14 4 5 4 8 4 9 4 3 4 10 4-5 4 6 4 1 4-1 4-3 4-9 4-13 4-13 4-15 4-24 4-36 4-32 4-29 4-27 4-20 4-19 4-9 4-10 4-11 4 0 4-4 4-7 4 2 4-2 4-10 4 12 4-8 4-1 4-1 4-3 4 2 4 2 4 10 4-2 4-7 4 15 4-16 4 0 4-4 4 11 4-7 4 14 4-4 4-4 4-9 4 11 4-4 4-2 4 10 4-3 4 8 4-24 4 7 4 7 4 2 4-4 4-10 4 17 4-2 4 5 4-15 4-1 4 9 4 2 4-9 4-6 4 3 4 3 4 2 4-9 4 15 4-8 4-3 4 0 4 5 4 2 4-8 4 0 4 7 4-1 4-3 4-4 4 3 4-2 4 11 4-8 4 5 4-12 4-9 4 19 4-23 4 25 4-5 4 3 4-1 4-5 4-5 4 4 4 5 4-14 4 9 1 0"/>
<path stroke="#A2142F" d="M98 363l4-3 4-3 4 6 4-4 4-1 4 6 4-5 4 5 4-4 4 2 4-5 4-8 4 0 4-9 4-7 4-4 4-7 4-9 4-12 4-7 4-1 4-9 4-15 4-2 4-16 4-4 4 4 4-20 4 3 4-18 4 0 4-10 4-9 4-6 4 1 4-5 4-8 4 3 4-6 4-5 4 0 4-3 4-9 4-6 4-3 4 7 4 1 4 1 4-15 4-3 4-3 4-5 4-5 4-9 4 5 4-11 4-3 4 1 4 4 4-2 4-7 4 6 4-5 4 2 4-7 4 5 4 2 4-2 4 4 4 2 4 5 4-8 4 6 4-1 4 4 4-7 4 7 4-1 4-5 4 2 4-3 4-1 4-2 4 0 4-14 4-2 4-6 4-5 4 2 4-8 4-7 4 9 4-16 4 3 4-2 4-4 4 2 4-5 4-4 4 7 4-5 4 6 4-8 4 0 4 8 4 2 4-5 4 3 4-6 4 8 4-1 4 5 4-1 4-7 4 9 4 5 4-4 4-5 4-3 4 4 4 1 4-5 4-8 4 10 4-4 4 2 4-6 4 7 4-11 4 9 4-2 4 3 4-8 4 3 4-10 4 4 4-4 4-1 4 6 4 0 4 2 4-7 4-1 4 9 4-13 4-2 4 3 4-7 4 17 4-11 4-13 4 20 4-11 4 4 4-9 4 1 4-3 4-4 4 15 4-7 4-18 4 21 4-19 4 20 4 0 4 2 4 14 4-40 4 35 4-12 4-13 4 7 4-2 4 15 4-9 4 11 4-18 1-2"/>
<path stroke="#0072BD" d="M98 554l4-6 4 4 4-3 4 6 4-1 4-5 4 9 4-4 4 4 4-8 4 7 4-3 4-1 4 2 4-13 4 4 4-7 4 3 4-1 4-9 4-6 4-14 4 3 4-7 4-11 4-11 4-9 4-4 4-7 4-5 4-2 4 4 4-1 4 6 4-4 4-2 4 2 4 1 4-4 4 10 4 6 4 2 4 4 4 7 4-1 4 2 4 9 4 4 4-1 4-1 4 6 4 3 4 1 4 0 4 2 4 3 4-1 4-1 4 9 4-2 4 3 4-5 4 11 4 0 4 0 4 5 4-2 4-1 4 7 4-2 4-2 4 8 4 3 4 6 4-5 4 5 4-4 4-2 4 2 4 4 4-5 4 0 4-3 4-7 4-11 4-10 4-19 4-25 4-23 4-31 4-30 4-29 4-20 4-24 4-14 4-20 4-5 4-19 4-8 4-7 4-17 4 8 4-9 4-3 4-5 4-4 4 11 4-6 4 0 4-7 4-1 4 7 4 0 4 3 4-7 4-6 4 7 4 7 4 1 4 1 4 6 4-18 4 10 4 3 4-14 4 12 4-7 4 7 4-4 4 6 4 3 4-5 4-1 4-3 4 5 4 3 4 1 4-5 4 5 4-1 4-6 4 0 4 0 4 8 4 5 4-11 4 1 4 4 4-4 4-5 4 9 4-4 4 11 4-5 4 5 4 6 4-14 4 27 4-22 4-6 4 4 4 17 4-14 4 18 4-7 4-21 4 12 4-9 4 22 4 9 4-12 4-20 4 4 4-2 4 12 4 0 4 1 1-33"/>
<path stroke="#D95319" d="M98 462l4-2 4 9 4 6 4-2 4-3 4-1 4 0 4-5 4 4 4-3 4-4 4-5 4 0 4-12 4 4 4-12 4 1 4-9 4-10 4-4 4-13 4 2 4-5 4-9 4-16 4 2 4-16 4 1 4-2 4-9 4-11 4-3 4-2 4-10 4-7 4 2 4-5 4-8 4 0 4 0 4-3 4-5 4 2 4 3 4 9 4-5 4 4 4 0 4-4 4 6 4 7 4-4 4 13 4-12 4 8 4 0 4 4 4-2 4 11 4 2 4 8 4 3 4-5 4 9 4-3 4 12 4 1 4 12 4-5 4 10 4 4 4 3 4 9 4 5 4 8 4 6 4 9 4 0 4-4 4 3 4-5 4-2 4-15 4-4 4-10 4-23 4-13 4-26 4-28 4-15 4-9 4-12 4-16 4-8 4-4 4-9 4-1 4-2 4 6 4-2 4-10 4 7 4-17 4 16 4-4 4-3 4-4 4 4 4 1 4 13 4-3 4-6 4 5 4-9 4 8 4-1 4-3 4-2 4 11 4-1 4 10 4-7 4-6 4 1 4-4 4 10 4-5 4 16 4-9 4-12 4 21 4-5 4-5 4 5 4 3 4-11 4 5 4-10 4 7 4 0 4 4 4-7 4 8 4-2 4-5 4 6 4-14 4 22 4-8 4-14 4 2 4 8 4-7 4 17 4-4 4 15 4-13 4-4 4-5 4 17 4-20 4 8 4 2 4 12 4-10 4 9 4-10 4-9 4 13 4 11 4-12 4 2 4-10 4 5 4-12 4 39 4-21 1 3"/>
<path stroke="#EDB120" d="M98 552l4-4 4 0 4 6 4-1 4-2 4-3 4 0 4-3 4 8 4-4 4 0 4 1 4-1 4 2 4-8 4-1 4 0 4-9 4 2 4-7 4-5 4-5 4-10 4-11 4-6 4-13 4-12 4-5 4-2 4-2 4-6 4 5 4-1 4-8 4 4 4 0 4 3 4-7 4 1 4 13 4 3 4 7 4 3 4 3 4 4 4 8 4 2 4-3 4 7 4 0 4 5 4 3 4 5 4 1 4 4 4 0 4 2 4-2 4 8 4-4 4 8 4-10 4 10 4 0 4-3 4 7 4 1 4 2 4 1 4 5 4-4 4 3 4 5 4-1 4 4 4 2 4 0 4-2 4 5 4-3 4-4 4 2 4-8 4-2 4-11 4-11 4-16 4-18 4-21 4-28 4-51 4-10 4-24 4-18 4-28 4-14 4-14 4-4 4-17 4-1 4-13 4 0 4 6 4-12 4 1 4-16 4 16 4-6 4-1 4 2 4-1 4-3 4-3 4 4 4 0 4-2 4 6 4-3 4-1 4-5 4 3 4 2 4-2 4 11 4-11 4 9 4 0 4 1 4-5 4 7 4-7 4 6 4 0 4-5 4 7 4-13 4 12 4-2 4-11 4 17 4-15 4 5 4 0 4-1 4 8 4-17 4 8 4 0 4-1 4-1 4 6 4 10 4 3 4 2 4-7 4-11 4 19 4-7 4-7 4 8 4-1 4 7 4-11 4 7 4 1 4-2 4-8 4-5 4 20 4-16 4 16 4 8 4-11 4-7 4 2 4-4 4 26 1-36"/>
<path stroke="#7E2F8E" d="M98 507l4-7 4 1 4 3 4-8 4-3 4 1 4 4 4-7 4-1 4 3 4-6 4 6 4-4 4-6 4-5 4-6 4-4 4 0 4-13 4-9 4-4 4-4 4-7 4-7 4-4 4-11 4-4 4-11 4-4 4-5 4-3 4-3 4 2 4-2 4-4 4-5 4 11 4-1 4-1 4 7 4 4 4 4 4 7 4-1 4 5 4 4 4 5 4 2 4 16 4-11 4 9 4-9 4 12 4-1 4 9 4 1 4-2 4 1 4-1 4 5 4 1 4 0 4 16 4-7 4 11 4 0 4 5 4-1 4 4 4 5 4 8 4 9 4-3 4 4 4 3 4 0 4-2 4 5 4 5 4 3 4 1 4-12 4-1 4-3 4-3 4-18 4-23 4-27 4-32 4-42 4-29 4-27 4-31 4-17 4-15 4-8 4-16 4 4 4-11 4 3 4 3 4-9 4 7 4-8 4 5 4-6 4 2 4 6 4-5 4 2 4-11 4 1 4 3 4 0 4-8 4 12 4 1 4-7 4 6 4 8 4-13 4 8 4-6 4 0 4 11 4-2 4-3 4 11 4-2 4-6 4 1 4 5 4-4 4-3 4 7 4 0 4-3 4 5 4-1 4-3 4 10 4-8 4-5 4 8 4-15 4 6 4-7 4 10 4-5 4 5 4 7 4-12 4 10 4-9 4 12 4-7 4 2 4-12 4 13 4-11 4 5 4-8 4 17 4-12 4 1 4 3 4 4 4-10 4 26 4-19 4 13 4-10 4-3 4 5 4 7 4 8 4 6 1-7"/>
<path stroke="#77AC30" d="M98 471l4-1 4 1 4 4 4-8 4-4 4-2 4-5 4-1 4 6 4-2 4 1 4-8 4-4 4-4 4 0 4-8 4 2 4-7 4-9 4 3 4-6 4 2 4-16 4-6 4-2 4-5 4 3 4-12 4-3 4-8 4 5 4-5 4 3 4-2 4-9 4-1 4 3 4-5 4-2 4 13 4 1 4 8 4 4 4 1 4 9 4 1 4 13 4-4 4-5 4 4 4 5 4 9 4-4 4 4 4 3 4 0 4 2 4-1 4 6 4 9 4-4 4-3 4 8 4 0 4 3 4 6 4-1 4 2 4 3 4 12 4 0 4 4 4 3 4 10 4 2 4-1 4 1 4 8 4 7 4-10 4 3 4-4 4 2 4-6 4-9 4-13 4-13 4-30 4-25 4-49 4-23 4-38 4-21 4-20 4-16 4-10 4-4 4-7 4-6 4 1 4-2 4-8 4-8 4 8 4 6 4 5 4 1 4-5 4-8 4 5 4 5 4-6 4 1 4-4 4 1 4 3 4 7 4 1 4-5 4 3 4-10 4 1 4 15 4-16 4 15 4-7 4-3 4 10 4-6 4 2 4-7 4 7 4 3 4-9 4 2 4-2 4 7 4 6 4-14 4 5 4-14 4 17 4 13 4-9 4-6 4 16 4-4 4-7 4 3 4-6 4 8 4-21 4 22 4-6 4 9 4-7 4-1 4 7 4 4 4-27 4 20 4 0 4 10 4-29 4 27 4-9 4 0 4-11 4 22 4-14 4 2 4 7 4 7 4 4 4-11 4 4 4-9 1-9"/>
<path stroke="#4DBEEE" d="M98 418l4-8 4 6 4-3 4-4 4 2 4-1 4 2 4-4 4-2 4-6 4-7 4-2 4-14 4-2 4-10 4-1 4-11 4-12 4-4 4-4 4-9 4-4 4-1 4-11 4-3 4 0 4-12 4-10 4-5 4-4 4-8 4-2 4-1 4-8 4-3 4-8 4-3 4-11 4 1 4-8 4 2 4-9 4-4 4-6 4 5 4-11 4 16 4-7 4-2 4-1 4 5 4-6 4-3 4 9 4-3 4 3 4 0 4-2 4 2 4 1 4-2 4 10 4-1 4-4 4-1 4 2 4 7 4-3 4 7 4-1 4 9 4 2 4 3 4 7 4 7 4 3 4-1 4 6 4 5 4-3 4-1 4-7 4-1 4-9 4-9 4-4 4-12 4-15 4-6 4-6 4-10 4-9 4 3 4-9 4 3 4-1 4-8 4-3 4 5 4-5 4-2 4 6 4 1 4 0 4-10 4-1 4 10 4 1 4 3 4-6 4 1 4-12 4 14 4-4 4 5 4 8 4-3 4 0 4-11 4 12 4-5 4 2 4 6 4-13 4 8 4-7 4 6 4 7 4 2 4-5 4 0 4-7 4-4 4-2 4 4 4 3 4 10 4-8 4-3 4 11 4-13 4 1 4 12 4-20 4 7 4 6 4 17 4-20 4-7 4 11 4-3 4-12 4 19 4-7 4-5 4 15 4-2 4-4 4-7 4 10 4-23 4 9 4 17 4-24 4 11 4-1 4-4 4 14 4-6 4-2 4-13 4 14 4-1 4 8 4 2 4-20 4-3 1 12"/>
<path stroke="#A2142F" d="M98 366l4 14 4-12 4-4 4-1 4 2 4 6 4-6 4-1 4-6 4-7 4 7 4-9 4-8 4-3 4-3 4-12 4-7 4-2 4-6 4-8 4-3 4-8 4 2 4-9 4-17 4-2 4-14 4-6 4-13 4-3 4-7 4-5 4-7 4-7 4-4 4-5 4-2 4-6 4-10 4 7 4-12 4 0 4-7 4 3 4-5 4-3 4-6 4 1 4 4 4-14 4 5 4-6 4 3 4-12 4 3 4-6 4-3 4-7 4 8 4-4 4 3 4 0 4 3 4 0 4 3 4 3 4-6 4 4 4 4 4-3 4-1 4-3 4 11 4-4 4 2 4 2 4 0 4 2 4-2 4-1 4-7 4-7 4 5 4-2 4 2 4 1 4-10 4 0 4 9 4-8 4-6 4-3 4 10 4-10 4 2 4-5 4 0 4 3 4-3 4 11 4-18 4 17 4-7 4-6 4-2 4 15 4-15 4 1 4-4 4 14 4-3 4 7 4-15 4 8 4 3 4 4 4-7 4-10 4 12 4-3 4-8 4 8 4-1 4 0 4-11 4-6 4 6 4 16 4-10 4 9 4-7 4 5 4-9 4 5 4 2 4-6 4 2 4-3 4 15 4-2 4-4 4-2 4-5 4-5 4 18 4-13 4 10 4-17 4-11 4 23 4-7 4 0 4 7 4 0 4-6 4 2 4 7 4-2 4-3 4 0 4 8 4-3 4-19 4-7 4 24 4 7 4-12 4 10 4-2 4 9 4-13 4 13 4-18 4 2 4-7 4 5 4 5 1 1"/>
<path stroke="#0072BD" d="M98 409l4 0 4-1 4 1 4 1 4 3 4-2 4 1 4-2 4-3 4 7 4-7 4-4 4-2 4 0 4-18 4-1 4-8 4-1 4 3 4-14 4-7 4-7 4-9 4-8 4-5 4-5 4-7 4-12 4-11 4 1 4-11 4 0 4-10 4-7 4-10 4-1 4 1 4-7 4-5 4 1 4-1 4-8 4 1 4-3 4 0 4-2 4-4 4 3 4-12 4 6 4-1 4-3 4-3 4 4 4-6 4-5 4 4 4 1 4 1 4-4 4-5 4 9 4 3 4-3 4 3 4-2 4 11 4 3 4 6 4 10 4 5 4 8 4 7 4-1 4 8 4 7 4-5 4 8 4-5 4-9 4 2 4-15 4 1 4-21 4-12 4-16 4-18 4-11 4-11 4-9 4-9 4-10 4-14 4 4 4-17 4 3 4 1 4-2 4-2 4 1 4-4 4 7 4 3 4-13 4 2 4 1 4 2 4 3 4 8 4-15 4 11 4-7 4 10 4-6 4 8 4-1 4-12 4 9 4-2 4-1 4-3 4 4 4 4 4 0 4 0 4-5 4 12 4-10 4-8 4 11 4-4 4 2 4 7 4-21 4 5 4 6 4-8 4 15 4-15 4-5 4 3 4 7 4-3 4-4 4 18 4-18 4 16 4-4 4-9 4-13 4 15 4-9 4-3 4-2 4 10 4 1 4-7 4-1 4 7 4-12 4 13 4-21 4 10 4 10 4-14 4 21 4-13 4-6 4 5 4 6 4-9 4 11 4-4 4 3 4 0 4-20 4 15 1 2"/>
<path stroke="#D95319" d="M98 401l4-4 4-8 4 3 4 8 4-9 4 0 4 7 4-15 4-1 4 2 4-10 4-3 4-4 4-8 4-6 4-10 4-8 4 1 4-4 4-14 4 3 4-7 4-22 4-1 4-11 4-2 4-2 4-12 4-4 4-12 4-10 4-2 4 0 4-4 4-5 4-4 4-6 4-6 4 5 4-6 4-4 4-7 4-1 4-3 4 4 4-5 4-1 4-3 4 3 4 1 4-14 4 5 4-9 4 2 4 4 4-10 4-2 4 13 4-10 4 0 4-1 4 6 4-6 4 4 4 0 4 7 4 0 4-2 4 11 4-1 4 6 4 9 4 3 4 5 4-1 4 3 4 1 4 0 4-6 4 1 4-4 4-5 4-6 4-16 4-4 4-21 4-3 4-11 4-8 4-18 4-6 4 0 4-5 4-15 4 3 4-14 4 11 4-9 4-3 4 1 4-4 4 10 4-15 4 8 4-2 4-3 4 4 4 3 4 3 4-8 4 1 4-6 4 10 4-1 4 2 4 3 4-14 4 9 4-9 4 13 4-4 4 3 4 0 4-2 4-5 4 13 4-15 4-2 4 7 4-15 4 5 4 8 4 4 4-11 4 3 4 1 4-8 4 9 4-13 4 3 4 0 4 1 4 11 4-13 4 0 4 2 4-5 4 18 4-19 4 13 4-20 4 17 4-8 4 13 4-17 4 16 4-13 4-3 4 1 4 16 4-18 4 0 4-1 4-8 4 20 4-12 4 0 4 9 4-5 4-3 4-3 4 14 4-1 4-18 4 13 4 3 4-5 1-16"/>
<path stroke="#EDB120" d="M98 476l4-6 4-1 4 2 4-4 4-3 4 0 4 3 4-8 4 0 4-3 4 4 4-15 4 4 4-11 4-2 4 0 4-8 4-12 4-4 4-6 4-3 4-7 4 1 4-17 4-6 4 0 4-6 4-4 4-10 4-8 4-9 4-1 4-4 4-6 4-1 4-5 4-5 4-8 4-2 4 1 4-4 4 3 4 2 4 3 4-5 4 2 4 1 4 3 4-1 4 6 4-4 4 4 4 1 4 1 4 9 4-8 4-6 4 14 4-6 4 8 4-4 4 7 4 2 4 5 4-5 4 5 4 13 4-4 4 6 4 5 4 2 4 11 4 5 4 8 4 5 4 6 4-2 4 17 4-1 4-2 4-7 4-12 4-6 4-14 4-23 4-28 4-28 4-42 4-35 4-34 4-29 4-23 4-21 4-3 4-29 4-1 4 3 4-2 4-15 4 2 4 1 4 1 4-1 4 5 4 1 4 1 4-2 4 2 4-9 4 6 4-5 4 8 4 7 4-7 4-4 4 8 4 1 4-9 4-2 4 6 4-5 4-1 4-4 4 11 4-12 4 0 4-3 4-2 4 10 4-9 4 3 4-11 4 10 4 3 4-5 4 4 4-9 4 7 4-5 4-5 4 7 4 0 4 0 4-6 4 12 4-20 4 12 4 2 4-19 4 14 4-9 4 0 4 7 4 5 4-6 4 3 4-11 4 12 4-2 4-3 4 6 4-24 4 25 4-3 4-12 4-9 4 27 4-16 4 9 4-8 4-5 4 9 4-5 4 16 4-6 4-15 4 2 1-5"/>
<path stroke="#7E2F8E" d="M98 547l4 2 4-2 4 3 4 0 4-1 4 5 4-2 4-5 4 5 4 0 4-3 4-3 4 3 4-2 4-4 4-4 4 3 4-8 4-3 4-7 4-8 4-7 4-11 4-4 4-10 4-13 4-6 4-5 4-5 4-4 4 1 4-6 4 1 4-2 4 5 4-1 4 2 4-2 4 3 4 4 4 5 4 10 4 1 4 5 4 5 4 3 4 9 4 0 4 1 4 3 4 3 4-3 4 2 4 0 4 8 4 6 4-6 4 5 4 4 4-2 4 3 4 6 4-3 4 7 4-4 4 7 4 2 4-3 4 1 4 5 4 4 4-3 4 3 4 1 4 3 4 3 4-2 4-4 4 5 4-2 4-1 4-5 4-3 4-3 4-14 4-7 4-15 4-17 4-23 4-35 4-31 4-28 4-15 4-32 4-14 4-19 4-8 4-15 4-9 4-10 4-5 4 7 4-13 4-2 4 1 4-4 4-3 4-3 4 9 4-2 4-5 4-4 4 8 4-6 4 6 4-8 4 1 4-4 4-5 4 11 4-7 4 10 4-10 4-8 4 18 4-6 4 14 4-19 4-10 4 18 4-7 4-6 4 13 4-5 4 7 4-1 4-2 4-5 4 5 4 3 4 2 4-7 4 4 4 2 4 16 4-10 4 7 4-19 4 8 4-5 4 18 4 5 4-4 4-11 4 10 4-10 4-5 4 13 4-10 4 26 4-8 4-5 4-3 4 9 4-9 4-13 4 2 4 3 4 13 4-23 4 7 4 17 4-20 4 13 4-9 4 2 4-2 1-10"/>
<path stroke="#77AC30" d="M98 478l4-1 4-1 4-5 4 7 4-8 4-2 4 0 4 6 4 0 4-5 4-1 4-3 4-12 4 4 4-11 4-6 4-4 4-7 4-3 4-3 4-1 4-11 4-6 4-14 4-3 4-3 4 0 4-6 4-9 4-8 4-8 4-4 4-2 4-6 4 3 4-5 4-3 4-5 4-3 4 2 4 4 4-6 4 5 4-4 4 10 4-13 4 12 4-8 4 5 4 0 4 3 4 8 4 2 4 2 4 2 4-6 4 9 4 1 4 7 4-5 4 9 4-11 4 11 4 4 4 1 4 8 4 3 4 2 4 4 4 2 4 9 4 14 4 1 4 9 4 4 4 2 4 4 4-4 4 9 4 1 4-5 4-3 4-10 4 0 4-17 4-18 4-25 4-31 4-36 4-24 4-29 4-25 4-21 4-11 4-6 4-6 4-4 4-3 4-3 4 9 4-6 4-12 4 6 4 5 4 2 4-3 4 7 4-3 4-7 4-1 4 3 4 1 4 2 4 5 4-1 4-2 4-2 4 5 4-1 4-12 4 8 4-6 4 5 4 4 4-2 4 5 4-12 4 0 4 0 4 3 4 3 4 2 4-9 4 5 4 1 4 0 4-3 4 4 4-4 4-5 4-1 4 10 4-6 4 4 4 5 4 4 4-14 4-9 4 8 4-5 4-4 4 3 4 17 4-8 4 5 4 11 4-21 4 12 4-14 4 13 4-2 4 4 4-4 4-8 4 6 4 0 4 5 4-7 4 15 4-11 4-3 4 10 4-17 4 11 4 15 4-10 4-9 1 5"/>
<path stroke="#4DBEEE" d="M98 381l4 0 4 0 4 7 4-9 4-3 4 4 4-3 4-4 4 1 4-1 4-1 4-3 4-2 4-2 4-20 4 3 4 1 4 0 4-6 4-13 4-4 4-14 4-6 4-6 4-4 4-11 4-12 4-10 4-8 4-12 4-11 4 9 4-16 4-9 4-5 4-1 4 0 4-8 4-4 4 10 4-9 4-9 4 2 4 0 4 0 4 0 4 1 4-2 4-14 4 2 4 9 4-4 4-11 4-3 4-3 4 0 4 0 4-6 4 4 4 6 4-8 4 4 4-1 4 0 4 5 4-1 4 4 4 1 4-3 4 9 4 7 4-1 4 4 4 9 4 1 4-3 4 8 4-1 4-3 4 1 4-9 4 2 4-11 4-4 4-12 4-10 4-12 4-6 4-10 4-1 4-7 4-7 4-1 4-11 4-9 4 5 4-14 4 5 4 4 4-12 4 3 4-2 4 6 4 2 4 2 4-4 4 0 4 7 4-12 4 6 4-2 4-10 4 6 4 4 4 5 4-2 4 4 4-6 4-5 4 3 4 0 4 14 4-21 4 6 4 8 4-9 4-4 4 3 4 4 4-1 4-6 4 7 4 4 4-12 4 9 4 1 4 1 4-2 4-8 4-15 4 27 4-18 4-3 4 14 4-9 4-4 4 1 4 15 4-10 4-17 4 5 4 22 4-3 4-1 4-20 4 4 4 4 4 3 4-3 4 1 4-14 4 11 4-4 4 0 4 13 4-6 4 2 4 5 4-5 4-20 4 20 4 4 4-9 4 7 4-12 4 13 4-1 1-11"/>
<path stroke="#A2142F" d="M98 385l4-3 4 4 4-4 4 2 4 5 4-8 4 6 4-9 4 2 4-6 4-5 4 2 4-10 4-7 4-4 4-8 4-6 4-8 4-3 4-11 4 0 4-16 4 2 4-14 4-4 4-10 4-7 4-3 4-11 4-8 4-14 4 5 4-13 4-2 4 3 4-11 4 1 4-8 4 0 4-7 4-2 4 3 4-6 4 0 4-2 4-6 4 0 4 3 4-6 4-1 4-4 4 0 4 1 4-7 4-6 4 4 4 0 4-3 4-1 4-4 4 0 4 5 4 3 4-4 4 2 4-5 4 8 4-1 4 12 4-5 4 1 4 6 4 8 4-2 4 2 4 3 4 4 4-1 4 0 4 3 4-11 4 0 4-4 4-4 4-11 4 3 4-4 4-11 4-2 4 2 4 2 4-9 4-3 4-4 4-1 4-6 4 3 4-1 4-3 4-1 4-5 4 2 4 0 4 7 4 4 4-11 4-5 4 13 4-5 4 4 4-4 4 5 4 2 4-5 4-5 4-1 4-5 4 11 4 1 4-3 4 3 4-8 4 3 4 0 4 2 4 4 4-8 4 7 4 0 4 2 4-7 4 14 4-3 4-8 4-5 4 5 4 3 4 2 4 4 4-7 4 0 4 7 4-5 4-4 4-3 4 5 4-4 4-1 4 1 4 15 4-22 4 2 4-1 4 4 4-4 4 3 4 7 4-19 4 8 4-2 4 1 4 9 4-5 4-3 4-3 4 6 4 4 4 7 4-17 4 0 4 21 4-16 4 1 4-9 4 20 4-1 4 13 1-24"/>
<path stroke="#0072BD" d="M98 408l4 1 4 3 4 0 4-8 4 4 4-2 4 0 4-4 4 3 4-6 4 0 4-8 4-3 4-9 4-8 4 1 4-10 4-2 4-16 4 6 4-2 4-10 4-7 4-14 4-2 4-14 4-1 4-5 4-6 4-10 4-9 4 7 4-6 4-9 4-4 4-7 4-4 4 1 4-2 4 2 4-5 4-3 4-4 4 0 4-4 4 5 4-6 4 4 4-7 4 10 4-14 4 5 4 0 4-6 4 8 4-12 4 1 4 2 4-9 4 10 4-3 4 4 4 4 4-5 4 4 4 8 4 0 4 2 4 1 4 12 4 10 4 5 4 4 4 9 4 0 4 8 4 2 4 7 4-7 4 1 4-1 4-8 4-8 4-2 4-19 4-5 4-6 4-8 4-6 4-10 4-8 4 4 4-10 4 2 4-3 4-7 4 1 4 5 4-9 4 11 4-7 4-2 4-3 4 0 4-4 4 7 4-2 4-2 4 1 4 3 4-5 4 6 4-8 4-2 4-2 4 11 4 2 4 3 4 7 4-5 4-2 4-10 4 5 4 1 4 10 4-1 4-4 4 2 4 3 4-15 4 2 4 5 4 12 4-9 4 8 4-6 4 8 4-11 4-1 4-6 4 6 4 3 4-6 4 10 4-12 4-3 4 15 4-13 4 0 4 16 4-9 4-6 4 14 4-10 4 3 4 11 4-21 4 6 4 11 4-19 4 20 4-3 4 14 4-26 4 14 4-19 4 20 4 5 4-10 4 15 4-3 4-7 4-24 4 29 4-6 4 8 4-11 1-5"/>
<path stroke="#D95319" d="M98 473l4 2 4-5 4-1 4 9 4-12 4-2 4 1 4 5 4-1 4-7 4-4 4 3 4-2 4-8 4-7 4-12 4-1 4-4 4-3 4-9 4-3 4-15 4-4 4-4 4-10 4-12 4 4 4-4 4-8 4-6 4-6 4-2 4-5 4 1 4-3 4-7 4 9 4-1 4-4 4 4 4 0 4-10 4 14 4 1 4-4 4 2 4 7 4-7 4-4 4 6 4-3 4 2 4 3 4-2 4-7 4 0 4 8 4-10 4 3 4 0 4 0 4 12 4-2 4 4 4 4 4 2 4 3 4 8 4-3 4 17 4-6 4 18 4 2 4 14 4 11 4 3 4 5 4-1 4 3 4 4 4-15 4 0 4 3 4-14 4-18 4-22 4-27 4-27 4-33 4-10 4-27 4-13 4-16 4-1 4-7 4-12 4 4 4 0 4-1 4 0 4 4 4 0 4-4 4-2 4-4 4 7 4 0 4-2 4 4 4-3 4-5 4 11 4 2 4-3 4-3 4 7 4-10 4-7 4 7 4-2 4 0 4 4 4 5 4 0 4 10 4-1 4-3 4 3 4-2 4-6 4 3 4 1 4-13 4 15 4-2 4-7 4 8 4-8 4 12 4-14 4 7 4 14 4-11 4-5 4 7 4-6 4 6 4-7 4 5 4-10 4 4 4-4 4 1 4 10 4-1 4-6 4-6 4 5 4 14 4-21 4 7 4-7 4 19 4-4 4 2 4 5 4-24 4 16 4 6 4 6 4-6 4-14 4-5 4 7 4 11 4-5 4 21 1-3"/>
<path stroke="#EDB120" d="M98 425l4 4 4-3 4-1 4 2 4 2 4-6 4-2 4 3 4-5 4 5 4-10 4 4 4-6 4-6 4-10 4-1 4-5 4-6 4-2 4-6 4-4 4-10 4-9 4-5 4-16 4 1 4-11 4 5 4-23 4-2 4-7 4-8 4-6 4-8 4 7 4-9 4-1 4-7 4-1 4-1 4 2 4-13 4 4 4 3 4-3 4 3 4 2 4-3 4 0 4-10 4 6 4 3 4 1 4-8 4 3 4 2 4-3 4 3 4-5 4 0 4 9 4-2 4 5 4 9 4-3 4 9 4-4 4 7 4 9 4 9 4 2 4 10 4 9 4-1 4 6 4 6 4 7 4 2 4-14 4 5 4-15 4-5 4-13 4-17 4-19 4-25 4-32 4-19 4-13 4-20 4-19 4-15 4-3 4-11 4-7 4-13 4-1 4 2 4-9 4 13 4-4 4-7 4 2 4-3 4 3 4 1 4-10 4 5 4-11 4 15 4-6 4-10 4 6 4 10 4 0 4-4 4 7 4-9 4 3 4 0 4 3 4-1 4 9 4-22 4 13 4 1 4-4 4-11 4 12 4-1 4 1 4-6 4 3 4 4 4 3 4-8 4-1 4-11 4 7 4-3 4 6 4 3 4-5 4-6 4 9 4-8 4-10 4 6 4 3 4-1 4 1 4-7 4-2 4 10 4 4 4-14 4-1 4 5 4 7 4-18 4 24 4 1 4-23 4-6 4 9 4-6 4 7 4-8 4 17 4-4 4 1 4 1 4-13 4 8 4 12 4-38 4 27 1 6"/>
<path stroke="#7E2F8E" d="M98 490l4-11 4-4 4 10 4-1 4-8 4-3 4-1 4 5 4 0 4 1 4-10 4 1 4 1 4-12 4-5 4-2 4-1 4-9 4 6 4-15 4-8 4-2 4-5 4-7 4-13 4 3 4 0 4-12 4 2 4-8 4-1 4-4 4 3 4-8 4-1 4 0 4 0 4 1 4 5 4 4 4 4 4 9 4 8 4 9 4-6 4 1 4 8 4 4 4 4 4 0 4-2 4-3 4 6 4 3 4-3 4 2 4 15 4-5 4 6 4 3 4-7 4 4 4 3 4 0 4 5 4 2 4 3 4 7 4-7 4 8 4 8 4 2 4 9 4 0 4 4 4 7 4 4 4-10 4 17 4-8 4 7 4-2 4-7 4 4 4-19 4-6 4-13 4-31 4-21 4-44 4-29 4-30 4-22 4-19 4-19 4-18 4-6 4-6 4-4 4 2 4-17 4 3 4 6 4-5 4-3 4 4 4-2 4 0 4-3 4 2 4-4 4 0 4 4 4 0 4 3 4-6 4-4 4 7 4 0 4-2 4 10 4-3 4-5 4 4 4-5 4 7 4-10 4 6 4 7 4 5 4-13 4 9 4 0 4 4 4 4 4-15 4 10 4-3 4 6 4 1 4-5 4 2 4-9 4 3 4 2 4-8 4 10 4 8 4-11 4-6 4 15 4-12 4 7 4 6 4 12 4-7 4 2 4-14 4 15 4-14 4-1 4 11 4 2 4 4 4-8 4 4 4-1 4 2 4-2 4-17 4 16 4 7 4 1 4-12 4 8 4-6 4 1 1 8"/>
<path stroke="#77AC30" d="M98 404l4 2 4 2 4-2 4-5 4 1 4-3 4-1 4 0 4 5 4-3 4-9 4-2 4-5 4-6 4-14 4-2 4-5 4-12 4 8 4-17 4-12 4-2 4-7 4-11 4-8 4 1 4-8 4-10 4-9 4-8 4 0 4 2 4-14 4-1 4-10 4 2 4-5 4 2 4-9 4-3 4-4 4-4 4 0 4-3 4 4 4 2 4-4 4-2 4-3 4-3 4 2 4 1 4-1 4-5 4-4 4 3 4-7 4-4 4 5 4 8 4-2 4 2 4 0 4 2 4 0 4-1 4 13 4-1 4 5 4 4 4 7 4 7 4 4 4-1 4 5 4 5 4-4 4 6 4-2 4-1 4-8 4-6 4-11 4-17 4-3 4-18 4-13 4-4 4-14 4-5 4-15 4 3 4-9 4-10 4 1 4 0 4-9 4 0 4 8 4-4 4-4 4-12 4 10 4 5 4-9 4-5 4-9 4 19 4 0 4-9 4 3 4 0 4-12 4 13 4 4 4-6 4-8 4 14 4-8 4 3 4 0 4-9 4 13 4-10 4-3 4 13 4-10 4 7 4-4 4 6 4-4 4-10 4 7 4 5 4-6 4 6 4 0 4-13 4 16 4-8 4 7 4-7 4-9 4 6 4 6 4-11 4 11 4-17 4-4 4 7 4 2 4 14 4-8 4 2 4 1 4-1 4 1 4-14 4 11 4-3 4 17 4-13 4 11 4-8 4 7 4-6 4-3 4-11 4 18 4-23 4 7 4 5 4-18 4 10 4 17 4-12 4-15 1 26"/>
<path stroke="#4DBEEE" d="M98 452l4 3 4 2 4 2 4-7 4 7 4-3 4-3 4 2 4-4 4 1 4-6 4-4 4-4 4-6 4-12 4 2 4-4 4-15 4-2 4-6 4-12 4-11 4-9 4-6 4-8 4-2 4-11 4-6 4-6 4-9 4 3 4-8 4-1 4-15 4 0 4-1 4-5 4 2 4-2 4 2 4-5 4 2 4-5 4 5 4-2 4 1 4-1 4 2 4 4 4-8 4 1 4-2 4 1 4-2 4 0 4 2 4-5 4 6 4 7 4 0 4-3 4 0 4 7 4 5 4 1 4 1 4 9 4 7 4 1 4 6 4 6 4 16 4 2 4 8 4 7 4 10 4 3 4 9 4-8 4-4 4 2 4-3 4-21 4-10 4-21 4-22 4-22 4-33 4-26 4-26 4-30 4-11 4-23 4-10 4-10 4-11 4 0 4-4 4-2 4-7 4-2 4 3 4-3 4-5 4 9 4-4 4 4 4-1 4 0 4-2 4-1 4 4 4-7 4 6 4 3 4-3 4 9 4-3 4-6 4-7 4-4 4 10 4 4 4-3 4 0 4-1 4-7 4 19 4-7 4-4 4 7 4-10 4 7 4-9 4 7 4 9 4-18 4 4 4-1 4 2 4-9 4 2 4 0 4-4 4 20 4-23 4 22 4-17 4-2 4-4 4-2 4 8 4 7 4-17 4 1 4 1 4 15 4-19 4 7 4-2 4 3 4 1 4-8 4 3 4 7 4-6 4-4 4-1 4 6 4 7 4-13 4 10 4-5 4-6 4 2 4 2 4 4 1-18"/>
<path stroke="#A2142F" d="M98 395l4-8 4 3 4 2 4-2 4 7 4-13 4 5 4 2 4-2 4-5 4 1 4-14 4 6 4-10 4-15 4-5 4-1 4-3 4-6 4-13 4-7 4 2 4-20 4-2 4-5 4-5 4-12 4-5 4-14 4-3 4-2 4-11 4 1 4-8 4-10 4-3 4 4 4-12 4-4 4 4 4 1 4-6 4 2 4-11 4 0 4 0 4-5 4 4 4-6 4-3 4 1 4-7 4 4 4-4 4-4 4 0 4-3 4 0 4 0 4 6 4-8 4 5 4-2 4 6 4-5 4-2 4 9 4 2 4 6 4 8 4 6 4 1 4 5 4 2 4 6 4-1 4-1 4 4 4-5 4 2 4-8 4-13 4-1 4-7 4-22 4 4 4-14 4-14 4-8 4-13 4-10 4 0 4-9 4-6 4-3 4 4 4 0 4-8 4-5 4 7 4-6 4-7 4 3 4 1 4-3 4-4 4 17 4-12 4-5 4 19 4-12 4 4 4-6 4 3 4-7 4 5 4-2 4 8 4-8 4 18 4-11 4-1 4 0 4 10 4-14 4-1 4 1 4 11 4-3 4-2 4-2 4 4 4-6 4-7 4 25 4-14 4-16 4 6 4 0 4-1 4 9 4-6 4-2 4 9 4-5 4 4 4-18 4 9 4 10 4-11 4-6 4 11 4-4 4-8 4 0 4 4 4 0 4 6 4-9 4 5 4 1 4-8 4 6 4-2 4 0 4-14 4 16 4-13 4 0 4 6 4-4 4 0 4-3 4 17 4 5 4-5 4-6 1-8"/>
<path stroke="#0072BD" d="M98 552l4-4 4 2 4-2 4 1 4 0 4 1 4 0 4-2 4 4 4 2 4-5 4 2 4-4 4 2 4 0 4-6 4-1 4-2 4-9 4-2 4-5 4-6 4-12 4-11 4-9 4-11 4-8 4-7 4 1 4-12 4 3 4-4 4 5 4-2 4-5 4 7 4-3 4 2 4-2 4 8 4 3 4 8 4 10 4-5 4 11 4 3 4 4 4 6 4-4 4 5 4 6 4 1 4 4 4-2 4 0 4 4 4 0 4 2 4 0 4 3 4 2 4 3 4 3 4 1 4-2 4 4 4-3 4 3 4 8 4-3 4-1 4 7 4-3 4 7 4-5 4 3 4 3 4 3 4-3 4 1 4-5 4 1 4-8 4-4 4-12 4-13 4-16 4-23 4-30 4-26 4-36 4-23 4-27 4-15 4-22 4-7 4-23 4-8 4-9 4-8 4 2 4-8 4-5 4-1 4-1 4-8 4 3 4 0 4-1 4-7 4-3 4 4 4 3 4 10 4-4 4 3 4 0 4-11 4 11 4-11 4 8 4 2 4 0 4 7 4-5 4-7 4 1 4 3 4-3 4 3 4-1 4-12 4 14 4 12 4 3 4-8 4-5 4-4 4 7 4 0 4-3 4 11 4-6 4-2 4 5 4 3 4-10 4-4 4 7 4 17 4-11 4-3 4-7 4 7 4 0 4-11 4-2 4 10 4 10 4 2 4-14 4 13 4-5 4 2 4-2 4-1 4 13 4-2 4-8 4 2 4 14 4-32 4 32 4-25 4 27 4-27 4 28 1-28"/>
<path stroke="#D95319" d="M98 547l4-2 4 0 4-3 4 1 4 1 4 1 4-1 4 7 4-7 4 4 4-4 4 2 4-1 4 2 4-11 4 3 4-2 4-1 4-5 4 0 4-18 4-7 4-8 4-13 4-8 4-10 4-8 4-10 4 0 4-4 4-7 4 1 4 1 4-4 4 4 4-9 4 7 4 1 4-2 4 13 4 7 4 0 4 6 4 2 4 8 4 10 4-1 4 4 4-1 4 6 4 6 4 2 4 1 4 3 4 0 4 2 4 6 4-2 4 0 4 7 4 1 4-4 4 2 4 1 4-1 4 7 4 4 4-2 4 4 4-1 4 1 4 3 4 1 4 3 4 0 4 4 4-6 4 6 4-1 4 1 4-2 4-3 4 1 4-15 4-5 4-10 4-17 4-23 4-26 4-28 4-34 4-14 4-31 4-18 4-16 4-15 4-17 4-5 4-16 4-4 4-11 4 5 4-13 4 1 4 1 4-12 4-1 4 8 4-4 4-9 4 7 4 3 4 2 4-1 4-7 4-1 4 7 4 4 4 0 4 6 4-12 4 4 4-5 4-6 4 5 4 10 4 0 4 6 4 5 4-22 4 9 4 11 4-13 4 17 4-11 4-1 4 5 4-1 4-7 4 8 4-10 4 20 4-8 4-14 4 19 4 1 4-7 4 4 4-4 4-5 4 3 4 3 4 5 4-4 4-6 4 14 4-3 4 5 4-9 4-1 4 6 4 5 4-3 4-13 4 11 4-12 4 13 4 2 4-15 4 16 4-19 4 33 4-21 4 6 4-1 4-7 4 24 1-44"/>
<path stroke="#EDB120" d="M98 455l4-7 4 1 4 5 4-6 4 8 4 0 4-5 4-4 4-7 4 5 4-8 4-3 4 1 4-11 4-7 4-5 4 1 4-7 4-7 4-2 4-4 4-12 4-12 4 0 4-14 4 0 4-12 4-1 4-10 4-3 4-9 4-5 4-2 4-4 4-6 4-5 4 0 4-5 4-1 4-6 4 10 4-5 4-1 4 1 4 1 4 0 4-2 4 0 4 1 4-1 4 3 4 2 4-6 4-3 4 2 4 6 4 0 4-8 4 15 4-8 4 4 4 6 4 4 4-6 4 6 4 5 4 7 4 6 4 3 4 8 4 6 4 10 4 8 4 2 4 12 4 10 4 4 4-3 4 0 4 4 4-14 4-16 4-1 4-12 4-30 4-22 4-18 4-27 4-26 4-19 4-21 4-11 4-15 4-13 4-4 4-6 4-1 4-8 4 0 4 9 4-12 4 8 4-10 4 11 4-2 4 0 4 1 4 2 4 9 4-11 4-9 4 5 4 8 4-8 4-6 4 16 4 1 4-11 4 5 4-4 4 6 4-9 4 10 4-3 4-2 4-1 4 3 4-3 4 2 4-6 4 7 4-5 4-7 4 4 4 2 4 8 4 7 4-7 4 3 4-2 4-6 4 13 4-2 4-4 4-7 4 6 4 12 4-12 4-10 4 8 4-15 4 8 4-2 4 6 4-25 4 23 4-5 4-4 4 8 4-14 4 0 4 6 4 3 4-11 4-9 4 8 4 12 4 12 4-12 4 18 4-34 4 24 4-10 4 12 4 4 4-30 4 12 1 20"/>
<path stroke="#7E2F8E" d="M98 456l4-5 4 0 4-3 4 4 4-3 4 0 4-4 4 1 4-6 4-1 4-3 4-10 4-2 4-5 4-4 4-7 4-3 4-14 4 1 4-3 4-5 4-14 4-5 4-11 4-2 4-5 4-2 4-9 4-9 4-1 4-11 4-2 4-2 4-10 4 2 4-7 4-6 4-4 4-2 4 4 4-5 4 5 4-2 4-4 4 5 4 6 4 0 4 4 4 0 4-9 4 8 4 4 4 2 4-5 4 3 4 3 4 5 4 0 4-2 4 7 4 5 4-3 4 4 4 7 4 2 4-1 4 2 4 13 4-2 4 11 4-2 4 8 4 9 4 8 4 7 4 4 4-3 4 3 4-3 4-7 4 0 4-9 4-5 4-23 4-13 4-16 4-20 4-10 4-19 4-15 4-14 4-6 4-11 4-6 4 1 4-10 4 0 4-2 4-3 4 3 4-7 4-1 4 5 4-1 4 2 4-16 4 11 4 5 4 4 4-5 4-3 4 8 4-5 4 6 4 3 4-8 4 14 4-18 4 15 4-7 4-3 4-1 4 2 4 6 4-13 4 18 4-16 4 4 4-7 4 5 4-4 4 17 4-19 4 3 4 13 4-2 4-12 4 10 4-1 4 0 4-7 4 16 4-12 4 10 4-1 4 3 4 3 4-19 4-3 4 8 4-15 4 27 4 0 4-14 4-5 4 22 4-7 4-4 4 7 4-6 4 21 4-9 4-18 4 3 4-6 4 3 4 24 4-15 4-4 4 15 4-10 4 7 4 10 4-26 4 6 4-9 4-7 1 14"/>
<path stroke="#77AC30" d="M98 553l4-2 4 3 4 1 4-3 4 0 4-3 4 6 4-2 4-4 4 2 4 2 4 0 4-5 4-1 4-1 4-4 4-4 4-7 4 6 4-12 4-13 4-2 4-13 4-13 4-4 4-12 4-9 4-10 4-2 4-3 4-5 4 0 4-3 4 3 4 0 4 1 4-3 4 2 4 8 4 9 4-5 4 15 4 5 4 2 4-1 4 6 4 7 4 0 4 5 4-1 4 6 4-3 4 5 4 5 4 4 4-5 4 4 4 6 4 2 4 1 4 1 4 2 4 2 4 2 4 4 4-4 4 8 4 3 4 0 4 5 4-1 4 3 4 0 4 6 4 4 4-7 4 3 4-5 4 2 4 2 4-3 4 0 4-4 4-9 4-9 4-7 4-22 4-19 4-27 4-23 4-37 4-20 4-22 4-25 4-15 4-18 4-14 4-12 4-3 4-7 4-11 4-5 4 1 4-7 4 3 4-4 4-2 4-3 4-3 4 4 4-3 4 5 4-8 4 1 4 5 4-12 4 10 4 2 4 1 4-4 4 2 4 5 4-6 4-2 4-2 4 5 4 5 4 3 4-7 4-3 4-5 4 14 4 5 4 0 4-7 4-2 4 9 4 3 4 5 4-15 4 14 4-12 4 5 4 12 4-5 4-13 4 7 4 2 4-10 4 10 4-1 4 0 4 1 4-7 4 13 4-12 4-3 4 16 4-7 4 13 4-9 4-10 4 3 4 12 4-9 4 1 4 4 4-1 4-16 4 42 4-19 4-14 4 10 4-5 4 0 4 6 4-3 1 8"/>
<path stroke="#4DBEEE" d="M98 509l4-5 4 3 4 2 4-12 4-4 4 9 4-8 4 0 4 0 4-4 4 2 4-3 4-4 4-4 4 6 4-16 4-2 4-7 4-2 4-3 4-13 4-6 4-10 4-7 4-2 4-5 4-10 4-7 4-1 4-2 4-5 4 5 4-8 4 6 4-15 4 12 4-13 4 4 4 1 4 5 4 9 4 5 4-1 4 14 4 1 4 0 4 10 4-5 4 13 4 1 4-1 4 6 4 0 4 1 4 2 4 0 4 2 4 2 4 2 4 2 4 0 4 3 4 1 4-1 4 11 4-5 4 6 4 3 4 9 4 1 4 4 4 6 4 1 4 11 4 2 4-2 4 4 4 10 4-5 4 2 4-3 4 2 4-3 4-1 4-11 4-10 4-20 4-14 4-39 4-41 4-17 4-39 4-23 4-19 4-17 4-8 4-15 4-5 4 4 4-13 4 6 4-2 4-7 4 3 4-2 4 0 4 2 4-2 4 10 4-16 4 4 4 8 4-2 4-8 4 13 4 4 4-20 4 5 4 5 4-7 4 8 4-1 4 1 4-1 4 10 4-5 4-1 4 8 4 2 4-7 4-9 4 10 4-7 4 0 4-1 4 4 4 15 4 3 4-6 4-5 4-1 4 3 4-1 4-6 4 12 4-12 4 0 4 17 4-13 4 1 4-3 4 0 4 21 4-31 4 14 4-6 4 0 4 16 4-8 4 2 4-20 4 30 4-25 4 5 4 9 4 9 4-8 4-8 4 15 4-11 4-4 4 0 4 10 4-9 4-1 4 29 4-9 1 3"/>
<path stroke="#A2142F" d="M98 505l4 10 4-4 4-5 4 4 4-13 4 4 4 0 4-5 4-3 4 1 4-3 4-6 4 4 4-7 4 3 4-6 4-12 4 0 4-6 4-13 4-3 4-12 4-12 4-10 4 1 4-9 4-3 4-14 4 1 4-12 4 10 4-4 4 9 4-8 4-1 4-4 4-1 4 8 4 0 4 2 4 9 4 3 4 3 4 12 4 2 4 1 4 8 4-2 4 10 4-3 4 6 4 1 4 7 4-5 4 10 4-6 4 6 4 1 4-2 4 11 4-5 4 4 4 5 4-2 4 6 4-4 4 11 4-5 4 4 4 7 4 7 4 1 4 8 4 1 4 3 4-1 4 9 4-4 4 5 4-4 4 1 4 3 4-6 4-4 4-4 4-11 4-16 4-20 4-29 4-41 4-24 4-35 4-25 4-15 4-19 4-7 4-15 4-17 4 6 4 0 4-3 4 5 4-4 4-2 4 2 4-3 4-6 4 14 4-4 4-3 4 7 4-1 4-7 4 0 4 1 4 8 4-9 4-1 4 7 4-2 4 2 4 0 4 2 4-5 4 7 4-14 4 5 4 5 4-13 4 11 4 14 4-19 4 2 4 4 4 0 4 4 4 4 4 0 4-22 4 20 4-5 4-10 4 17 4-4 4 3 4 8 4-13 4 0 4 6 4 1 4-5 4 0 4-9 4 10 4 0 4 11 4 7 4-21 4 18 4-12 4 5 4 8 4-9 4-12 4 3 4 16 4-1 4 16 4-7 4-6 4-6 4-4 4 8 4-16 4 21 4-17 4 18 1-7"/>
<path stroke="#0072BD" d="M98 553l4 0 4 4 4-5 4 0 4 1 4-3 4 8 4-7 4 6 4-2 4 2 4-8 4 2 4-2 4-4 4 2 4-6 4-5 4 0 4-7 4-3 4-12 4-6 4-10 4-12 4-6 4-8 4-9 4-2 4-10 4 2 4-1 4-3 4 3 4-3 4 0 4-5 4 2 4 1 4 9 4 5 4 3 4 9 4 5 4-1 4 7 4 4 4 8 4 0 4 2 4 3 4-1 4 5 4 2 4-6 4 6 4 6 4-6 4 6 4 2 4 10 4-8 4 6 4-1 4 2 4 10 4-6 4 6 4 4 4 8 4-8 4 6 4 1 4 6 4-4 4 0 4-2 4 6 4 2 4-5 4-1 4-7 4-3 4-8 4-13 4-14 4-13 4-19 4-32 4-31 4-31 4-24 4-23 4-15 4-27 4-16 4-13 4-10 4-12 4 2 4-12 4-7 4 1 4-3 4-6 4 4 4 3 4-2 4-4 4 8 4-5 4 3 4-2 4-2 4 1 4 4 4 0 4-2 4 10 4-4 4 7 4-12 4 7 4 8 4-4 4-7 4 2 4 11 4-20 4 9 4-2 4 4 4 2 4 4 4-10 4 1 4 1 4-6 4 2 4 9 4-4 4-9 4 16 4-23 4 19 4-21 4 15 4 15 4-13 4 3 4 4 4-2 4 0 4 26 4-30 4 9 4-2 4-6 4 6 4 10 4-16 4 9 4-5 4 8 4-5 4 8 4-24 4 24 4-19 4 27 4-20 4 5 4-12 4 7 4-20 4-7 4 37 1-13"/>
<path stroke="#D95319" d="M98 484l4-9 4 6 4 1 4-1 4-8 4 4 4 1 4 2 4-10 4 10 4-12 4-1 4-12 4-1 4-3 4-12 4 4 4-13 4-7 4 4 4-12 4-8 4-8 4-10 4-6 4-8 4-2 4-2 4-3 4-10 4-6 4-5 4-8 4-1 4 3 4-6 4-4 4-11 4 6 4 2 4-2 4 0 4 9 4-9 4 11 4-4 4-2 4 8 4 0 4 7 4-6 4 3 4-2 4 5 4 6 4 2 4 2 4 1 4-5 4 12 4 1 4 1 4 5 4 1 4-4 4 9 4 1 4 6 4 1 4 2 4 9 4 8 4 10 4 9 4 0 4 3 4 2 4 5 4 4 4-1 4-8 4 0 4-5 4-9 4-18 4-27 4-25 4-31 4-20 4-21 4-20 4-14 4-5 4 3 4-15 4-1 4-10 4 3 4 3 4 3 4-9 4-3 4 12 4-8 4 5 4-4 4-8 4 17 4-9 4-6 4 11 4 6 4 9 4-9 4-6 4 8 4-13 4 22 4-5 4-10 4 4 4-3 4 2 4 7 4-1 4-11 4 7 4-5 4 5 4-6 4 4 4 6 4 4 4-13 4 9 4 7 4-19 4 6 4 1 4 9 4-13 4 5 4 8 4-4 4 3 4-19 4 14 4-6 4-6 4-6 4 19 4 5 4-15 4 1 4-13 4 22 4-15 4 4 4 8 4 28 4-26 4 4 4 17 4-25 4 14 4 4 4-7 4-12 4-8 4 9 4 6 4 3 4 19 4-5 4-9 4 0 4 7 1-25"/>
<path stroke="#EDB120" d="M98 503l4-7 4 1 4-4 4-3 4-6 4-3 4 6 4-6 4-2 4 8 4-10 4-1 4 3 4-10 4-6 4-4 4 1 4-10 4-7 4-5 4 1 4-15 4-2 4-8 4-14 4-6 4-6 4 11 4-19 4 9 4-12 4 4 4-7 4-4 4-1 4 4 4 8 4-5 4 1 4 3 4 3 4 12 4 0 4 10 4 3 4 1 4 3 4 3 4 7 4-2 4 9 4-10 4 8 4 4 4 5 4 1 4 0 4 5 4-1 4 6 4 1 4-3 4 10 4 2 4 5 4-3 4 9 4 1 4 2 4 5 4 1 4 5 4 5 4 6 4 2 4 6 4 2 4 4 4-6 4 2 4 6 4-5 4-6 4-1 4-13 4 0 4-20 4-14 4-43 4-29 4-37 4-31 4-20 4-20 4-16 4-22 4-10 4 1 4-13 4 5 4 6 4-9 4 0 4-6 4 0 4 6 4 0 4-3 4 12 4-15 4-2 4 5 4 8 4-6 4 3 4 0 4-13 4 11 4 3 4-7 4 11 4-17 4 8 4 1 4 0 4 10 4-11 4 1 4 3 4 5 4-4 4-9 4 13 4-6 4-3 4 14 4-5 4-4 4-6 4 7 4 6 4-3 4 11 4-14 4 4 4 2 4-2 4-1 4 9 4-22 4 23 4-8 4 1 4 13 4-10 4 6 4 3 4 5 4-14 4-8 4 1 4 8 4-4 4 23 4-22 4 9 4-11 4-1 4 7 4 3 4 0 4-19 4 21 4-7 4-5 4-5 4 29 1-16"/>
<path stroke="#7E2F8E" d="M98 465l4-2 4 1 4-1 4-4 4-6 4 4 4-8 4 8 4 2 4-6 4-5 4-2 4-4 4-15 4-5 4-4 4-4 4-5 4-4 4-8 4-9 4-3 4-11 4-8 4-6 4-7 4-6 4-12 4 1 4-6 4-8 4-10 4-3 4 3 4-7 4-11 4 7 4-10 4-8 4 11 4-9 4 6 4-4 4 1 4 7 4-6 4-2 4 2 4-6 4 13 4-2 4 5 4 0 4-8 4-1 4 2 4 5 4 1 4-3 4 3 4 9 4-2 4 7 4-2 4 7 4 7 4 8 4 3 4 4 4 7 4 8 4 11 4 6 4 8 4 2 4 9 4 2 4 9 4 0 4-1 4-4 4-10 4-12 4-4 4-24 4-9 4-21 4-12 4-25 4-17 4-18 4-5 4-11 4-7 4-1 4-14 4 1 4-10 4 7 4-4 4 8 4-3 4-1 4-12 4 9 4 6 4-6 4 6 4-15 4 11 4 3 4-2 4-10 4 11 4-9 4 8 4 0 4-5 4 10 4-6 4 7 4 7 4-7 4 2 4 2 4-3 4 1 4-7 4 6 4 7 4-5 4-2 4-4 4 0 4 9 4-15 4 5 4 3 4 4 4 11 4-26 4 4 4 1 4 14 4 2 4-5 4-1 4 9 4-7 4-10 4 24 4-18 4-1 4 8 4-2 4 1 4-1 4-9 4 18 4-33 4 11 4 9 4-3 4 4 4-12 4-2 4 24 4-16 4-5 4 16 4-10 4 3 4 3 4 2 4-12 4 21 4-17 1-2"/>
<path stroke="#77AC30" d="M98 438l4-7 4 3 4-10 4 6 4-6 4-8 4-4 4 9 4 5 4-10 4-6 4-4 4-5 4-5 4-3 4-6 4-9 4-6 4-3 4-7 4-8 4-9 4-3 4-4 4-10 4-8 4-13 4-3 4-2 4-14 4 7 4-9 4-13 4 2 4-2 4 0 4-4 4-9 4 3 4 0 4-7 4-2 4 8 4-6 4 2 4 1 4 4 4-4 4 4 4-3 4-3 4 3 4-2 4-3 4-3 4 2 4 0 4 6 4 2 4-5 4 6 4 1 4-1 4 2 4-2 4 12 4 4 4 9 4-6 4 5 4 9 4 8 4 7 4 10 4 6 4 1 4-1 4 0 4 3 4-4 4-2 4-12 4-9 4-17 4-8 4-12 4-20 4-15 4-16 4-19 4-8 4-11 4-8 4-12 4-10 4 5 4-15 4 7 4-2 4-3 4 4 4-3 4 0 4-5 4 7 4-6 4 8 4-2 4-1 4 4 4-3 4 4 4-11 4 12 4-1 4-7 4 10 4-3 4-5 4 6 4 7 4-5 4-14 4 13 4-8 4 4 4 1 4 2 4-5 4 4 4-7 4 4 4 1 4-1 4-4 4 4 4 5 4 1 4 0 4-5 4-5 4-6 4 3 4-2 4 12 4 4 4-16 4-1 4 14 4-10 4-4 4-5 4 25 4-28 4 11 4 2 4-5 4 12 4 3 4-10 4-3 4 8 4 4 4-23 4 18 4 10 4-7 4 3 4-11 4-7 4-1 4 13 4-6 4 16 4-5 4-19 4 30 1-12"/>
<path stroke="#4DBEEE" d="M98 439l4 5 4-5 4 4 4 0 4-4 4-1 4-3 4 2 4-5 4-3 4-4 4-12 4-4 4-3 4-7 4-11 4-4 4-1 4-14 4-7 4-10 4-3 4-2 4-12 4-9 4-1 4-4 4-6 4-12 4-5 4-2 4-3 4-13 4 1 4-13 4 5 4-2 4-2 4-13 4 8 4-8 4 4 4 6 4-15 4 0 4 12 4-9 4 5 4 1 4-9 4 4 4 5 4 1 4-4 4 2 4-1 4-1 4 3 4-1 4 1 4 2 4 7 4-4 4 1 4 10 4-2 4 9 4 4 4-6 4 5 4 16 4 8 4-1 4 11 4 11 4-2 4 4 4 7 4-2 4-1 4-8 4-6 4-13 4-6 4-15 4-11 4-20 4-18 4-24 4-11 4-15 4-12 4-9 4-16 4-4 4 0 4-8 4 0 4-6 4 2 4-6 4 1 4 3 4-2 4-3 4 4 4 6 4-8 4 4 4-9 4 20 4-5 4-4 4 4 4-3 4-7 4 13 4-3 4-1 4-5 4 8 4-10 4 1 4 17 4-24 4 4 4-2 4 2 4 8 4-8 4 9 4-14 4 0 4-4 4 6 4 5 4-6 4 1 4-12 4 11 4 7 4 0 4-12 4 6 4 9 4-3 4 1 4-7 4-9 4 12 4-7 4 5 4 9 4-15 4 9 4-14 4 8 4-8 4 17 4-13 4-12 4 3 4 6 4 2 4 14 4-11 4 5 4 0 4-19 4 12 4-9 4 20 4-1 4-11 4 7 4-6 4 0 1-21"/>
<path stroke="#A2142F" d="M98 490l4 2 4-4 4 1 4 1 4 1 4-10 4 12 4 0 4-7 4 2 4-14 4-3 4 2 4-1 4-10 4 0 4-14 4 0 4-11 4-9 4-1 4-14 4 2 4-13 4-6 4-7 4-4 4-12 4 1 4-9 4-2 4-14 4-1 4-1 4-2 4-4 4-1 4 2 4 0 4-11 4 10 4-8 4 9 4-1 4 0 4 13 4 0 4-4 4-6 4 19 4-5 4 4 4 1 4 2 4 3 4-3 4 0 4 3 4 15 4-11 4 7 4 3 4-3 4 5 4-2 4 14 4-6 4 8 4 1 4 6 4 6 4 9 4 8 4-6 4 13 4-2 4 11 4-2 4 4 4 2 4 1 4-7 4 4 4-8 4-20 4-13 4-26 4-26 4-37 4-36 4-18 4-15 4-25 4-1 4-15 4-12 4 1 4 4 4 2 4 1 4-6 4 2 4-7 4 7 4-5 4 4 4-6 4 22 4-14 4 7 4-2 4 9 4-11 4 8 4-12 4-4 4 3 4 17 4-7 4-6 4 13 4-13 4 0 4 13 4-9 4 2 4 0 4-5 4 6 4-4 4 4 4 2 4 4 4-12 4 8 4-13 4 10 4 5 4-2 4-7 4-2 4 7 4 4 4-8 4 1 4-7 4 15 4-18 4 17 4-2 4-12 4-2 4 10 4-1 4-2 4 7 4-4 4-12 4-1 4 12 4-1 4 1 4-11 4 26 4-15 4 2 4 4 4-1 4 10 4-10 4-1 4 7 4-11 4-6 4 6 4 9 4 3 1-1"/>
<path stroke="#0072BD" d="M98 522l4-6 4-4 4 3 4 1 4-4 4 1 4-10 4 8 4 1 4 3 4-13 4 5 4-5 4 0 4-5 4-2 4-2 4-11 4-3 4-11 4-9 4-10 4-4 4-22 4-2 4-3 4-7 4-12 4-4 4-7 4 5 4-7 4-4 4-3 4 9 4-4 4 1 4-1 4 3 4 2 4 10 4 1 4 12 4 0 4-4 4 16 4-6 4 4 4 9 4 0 4 2 4 8 4 6 4-5 4 6 4-5 4 11 4-12 4 1 4 14 4 7 4-6 4 7 4 1 4 9 4 3 4-3 4 10 4 7 4-5 4 4 4 8 4 7 4-6 4 11 4 0 4 10 4 3 4-3 4-4 4 9 4-4 4-4 4-12 4-4 4-16 4-23 4-29 4-41 4-30 4-38 4-29 4-19 4-26 4-17 4-10 4-8 4-15 4 0 4-2 4-4 4 2 4-4 4-2 4 7 4-4 4 0 4-1 4 3 4-1 4 3 4 2 4-1 4 6 4-12 4 2 4 7 4 1 4 0 4 2 4 0 4-8 4 5 4-7 4 3 4 0 4 10 4-18 4 12 4 12 4-12 4 1 4-5 4 10 4-7 4 3 4-10 4 10 4-5 4-3 4 13 4-7 4 2 4-10 4 7 4 10 4-18 4 18 4-3 4-1 4-2 4 10 4-3 4 2 4-4 4 9 4-3 4 9 4-26 4 11 4-6 4 17 4 10 4-1 4-3 4-16 4 9 4 1 4 7 4-28 4 30 4-12 4 1 4-2 4 0 4-5 4-25 1 16"/>
<path stroke="#D95319" d="M98 399l4-14 4 6 4 4 4-5 4 5 4 2 4-10 4 3 4-3 4-1 4-7 4 4 4-9 4-7 4-11 4-5 4-5 4-4 4-6 4-9 4-7 4 0 4-12 4 0 4-19 4-7 4-1 4-6 4-18 4-4 4-4 4-8 4-12 4-1 4-9 4 2 4-10 4 2 4-3 4-8 4 3 4-13 4 6 4 2 4-5 4-8 4 3 4-8 4 1 4 5 4-5 4 3 4-5 4-6 4-1 4-3 4 3 4-6 4-4 4 3 4-1 4 1 4 4 4 2 4-3 4 4 4 7 4 3 4 6 4-5 4 7 4 2 4 15 4-4 4 8 4 1 4 3 4-3 4 6 4-8 4-3 4-2 4-11 4-17 4 6 4-16 4-10 4-7 4-9 4-9 4-5 4-8 4-8 4 7 4-7 4-8 4-8 4 8 4-6 4-3 4 1 4 1 4 2 4-2 4 5 4-9 4 2 4 1 4 1 4 2 4-3 4-5 4-4 4 10 4 6 4-10 4-4 4 7 4 11 4-11 4-5 4 2 4 6 4-1 4 2 4 10 4-18 4 11 4 6 4-24 4 15 4-1 4-5 4-5 4 12 4-11 4 17 4-22 4 15 4-2 4-2 4-3 4-5 4-5 4-2 4 3 4 6 4-15 4 10 4 7 4 0 4 3 4 1 4 3 4-5 4 7 4-20 4 17 4-9 4 1 4-6 4-4 4 12 4 7 4-11 4-11 4-12 4 9 4 6 4 9 4 8 4-11 4-6 4 1 4 8 4-3 4-17 1 0"/>
<path stroke="#EDB120" d="M98 476l4 2 4-12 4-4 4 6 4 1 4-4 4 2 4 7 4-3 4-5 4-7 4 2 4-5 4 1 4-12 4 7 4-13 4-3 4-5 4-5 4-6 4-4 4-9 4-13 4 1 4 3 4-9 4-9 4-4 4-4 4-2 4-3 4-1 4 0 4-10 4-2 4-7 4 7 4 4 4 2 4 7 4 15 4-2 4 4 4 10 4 3 4 5 4-2 4 8 4-2 4 10 4-8 4 2 4-1 4 8 4 3 4 7 4-7 4 0 4 6 4 3 4 6 4-5 4 11 4-1 4 13 4-4 4 3 4 2 4 3 4 13 4 5 4-1 4 3 4 15 4 0 4-5 4 12 4 2 4-1 4-4 4-2 4 0 4-14 4-7 4-8 4-16 4-22 4-36 4-29 4-30 4-26 4-23 4-16 4-22 4-4 4-12 4-4 4-1 4-6 4 1 4 1 4 0 4-7 4 5 4-5 4 0 4-2 4 1 4 4 4-5 4 3 4-2 4 3 4 3 4 1 4 0 4-1 4 4 4-6 4 2 4 1 4 3 4-10 4-1 4 2 4 7 4-2 4-5 4 0 4 1 4 0 4-3 4 8 4 9 4-10 4 2 4-9 4 13 4 0 4-2 4 10 4 0 4 4 4 1 4-14 4-2 4 23 4-16 4-1 4 0 4-5 4 28 4-31 4 19 4 13 4-29 4 5 4 17 4 7 4-19 4-13 4 3 4 16 4-1 4-13 4 11 4 3 4-5 4 8 4 13 4-19 4 9 4-20 4 9 4 10 4 10 1-11"/>
<path stroke="#7E2F8E" d="M98 529l4-6 4 3 4-1 4 1 4-7 4 8 4-7 4 2 4 1 4-6 4 1 4 0 4 1 4 2 4-3 4 2 4-8 4-13 4-11 4 1 4-16 4-11 4-8 4-13 4-5 4-7 4-11 4-9 4-3 4-4 4-4 4 4 4-8 4 9 4-13 4 0 4-4 4 13 4 0 4 4 4 7 4 8 4-7 4 8 4 3 4 10 4-4 4-4 4 10 4 0 4 10 4-6 4 7 4 2 4 2 4 5 4-1 4 5 4 4 4 5 4 4 4-4 4 2 4 8 4 4 4 5 4 0 4 0 4 7 4 7 4-2 4 4 4 13 4-1 4-4 4 5 4 4 4 0 4 7 4 1 4-4 4-2 4-9 4 2 4-9 4-16 4-11 4-26 4-35 4-41 4-35 4-32 4-20 4-23 4-23 4-8 4-24 4 1 4-7 4-9 4-3 4-3 4 1 4 5 4-6 4 3 4 5 4-6 4-6 4 11 4 0 4 1 4-7 4 16 4-12 4 2 4 2 4 6 4-3 4-12 4 10 4 4 4-6 4 11 4-13 4 7 4-15 4 1 4 9 4 1 4 5 4-6 4 0 4 12 4 2 4-12 4 7 4-4 4 1 4 0 4 3 4-5 4-5 4-1 4 13 4-3 4 0 4 11 4 1 4-11 4-4 4-3 4 11 4-11 4 6 4 3 4-12 4 22 4 6 4-35 4 17 4-6 4 8 4 6 4 6 4 6 4-17 4 13 4-8 4-4 4 4 4-1 4-14 4 12 4 1 4 4 4-18 1 2"/>
<path stroke="#77AC30" d="M98 485l4 0 4 1 4-4 4 4 4-11 4 11 4-10 4-5 4 7 4-4 4-6 4-11 4-3 4-6 4-2 4-8 4-5 4-10 4 3 4-13 4-7 4-6 4-16 4 1 4-12 4-4 4-8 4-1 4-4 4-18 4-2 4 0 4-1 4-7 4-2 4-2 4-7 4 1 4 1 4-3 4 4 4-3 4 3 4 10 4-8 4 7 4 1 4-1 4 5 4 1 4 9 4-6 4 8 4-3 4 5 4 2 4-1 4 4 4 5 4 1 4-2 4 10 4 5 4 0 4 10 4-2 4 6 4 3 4 13 4-7 4 9 4 11 4 1 4 11 4 9 4 3 4-1 4 3 4-2 4 0 4-7 4-6 4-2 4-20 4-9 4-28 4-27 4-27 4-24 4-21 4-30 4-2 4-16 4-8 4-10 4-2 4 1 4 1 4-13 4 9 4 2 4-11 4 8 4 4 4-7 4 4 4 9 4-9 4-3 4 10 4-7 4-8 4 9 4 4 4-2 4-9 4 8 4-6 4 3 4 4 4-9 4-5 4 16 4-8 4 0 4 0 4 1 4-9 4-5 4 13 4 1 4-5 4 9 4 0 4-8 4-2 4 4 4-1 4 17 4-7 4-5 4-5 4 12 4-10 4 4 4-4 4 6 4-9 4 13 4-16 4 15 4-7 4 13 4-2 4-8 4 21 4-18 4 1 4-26 4 27 4-15 4 16 4 5 4-16 4 7 4-10 4 26 4 4 4-24 4-2 4 1 4 13 4-13 4 12 4 6 4-5 4 18 1-28"/>
<path stroke="#4DBEEE" d="M98 394l4-3 4 7 4-4 4 1 4 4 4 1 4-5 4-1 4-1 4-8 4 0 4-5 4-2 4-8 4-13 4-7 4-3 4-15 4-6 4-2 4-3 4-15 4-1 4-13 4-11 4-5 4-2 4-10 4-3 4-10 4 3 4-5 4-9 4-5 4-5 4 0 4-10 4-6 4-2 4-2 4-3 4-4 4-1 4-5 4 0 4 1 4-9 4-2 4 7 4-5 4-4 4 1 4-2 4 6 4-4 4-4 4 3 4-1 4 3 4 2 4 0 4-3 4 7 4 5 4-8 4 7 4-1 4 6 4-2 4 5 4 5 4-6 4 8 4 3 4 7 4-1 4 4 4 8 4-7 4-6 4-3 4-5 4-7 4-11 4-9 4-13 4-8 4-2 4-14 4-6 4 0 4-13 4-15 4 2 4-2 4 0 4-7 4 0 4 12 4-19 4 2 4 2 4 2 4-1 4-8 4 6 4 0 4 0 4-4 4 0 4 2 4 0 4-1 4 1 4 1 4 5 4-4 4-1 4-4 4 4 4-4 4-1 4-7 4 7 4-1 4 3 4 5 4 8 4-22 4 2 4 14 4-7 4 0 4 4 4-8 4 2 4-3 4 2 4 7 4-5 4 10 4-15 4-1 4 10 4-9 4 11 4-1 4-15 4 15 4-5 4 0 4-2 4 7 4 3 4-25 4 16 4-15 4 8 4 0 4-1 4-6 4 11 4-18 4 9 4-11 4 4 4 20 4-17 4 6 4-7 4 6 4-7 4 4 4 9 4-3 4 12 4 13 1-37"/>
<path stroke="#A2142F" d="M98 434l4 6 4-10 4 5 4-10 4-2 4 1 4-6 4 8 4-10 4 2 4 2 4-5 4 1 4-9 4-1 4-11 4 7 4-12 4-1 4 0 4-8 4-6 4 1 4-14 4-10 4-9 4-9 4 3 4-12 4-4 4-9 4-12 4-2 4-4 4-8 4-3 4-9 4-10 4 5 4-3 4-3 4 3 4-4 4 4 4-4 4 2 4 7 4-5 4 4 4 2 4 5 4 1 4-1 4 3 4 1 4-4 4 5 4-2 4-2 4 6 4-4 4-3 4-1 4 8 4 0 4 3 4-1 4 6 4-2 4 9 4 7 4 2 4 21 4 1 4 6 4 7 4 8 4 9 4-5 4 7 4-8 4-2 4-12 4-7 4-17 4-12 4-33 4-26 4-13 4-24 4-15 4-12 4-9 4-7 4-11 4-5 4 1 4-8 4 2 4 0 4-3 4-3 4 2 4-7 4 5 4 5 4 5 4-5 4-6 4 8 4-1 4-9 4-4 4 5 4-15 4 28 4-3 4-20 4 19 4-4 4-8 4 9 4 2 4-1 4-3 4-1 4 6 4-4 4-11 4 10 4 6 4-8 4 12 4-7 4-2 4-8 4 3 4 7 4-3 4-6 4 0 4 6 4 4 4-6 4 16 4 0 4 1 4-16 4-3 4 9 4-9 4 6 4-16 4 22 4-6 4 0 4-8 4 10 4-4 4-3 4 4 4-9 4-18 4 27 4 16 4-36 4 18 4 2 4 1 4-1 4 12 4-36 4 2 4 35 4-17 4 8 4-5 1 1"/>
<path stroke="#0072BD" d="M98 407l4-5 4 4 4-1 4-2 4 1 4 1 4-2 4-6 4 4 4-1 4-2 4-3 4-12 4-6 4-12 4-4 4 3 4-12 4-8 4-7 4-3 4-11 4-9 4-11 4-4 4-10 4-8 4-2 4-9 4-11 4-7 4-2 4-6 4-8 4-6 4-1 4-7 4-7 4 2 4-3 4-1 4-11 4 0 4 6 4-8 4 3 4-9 4 6 4-5 4 1 4-6 4 6 4-5 4 0 4 1 4-6 4 7 4-6 4-2 4 6 4 3 4 2 4 0 4-3 4 10 4-1 4 9 4 3 4 3 4 11 4-3 4 12 4 7 4-4 4 17 4-9 4 10 4-3 4-3 4 5 4-11 4-6 4-7 4-18 4-12 4-10 4-18 4-6 4-14 4-13 4-3 4-14 4-8 4-2 4-7 4 3 4-10 4-6 4 9 4-7 4 6 4-13 4 7 4-2 4-3 4 3 4-3 4 7 4 0 4-5 4 3 4-2 4-7 4 8 4 0 4-4 4 7 4 1 4 5 4-1 4-12 4 3 4-1 4 6 4-9 4 10 4 2 4 2 4-15 4 3 4-2 4 0 4-5 4 16 4-10 4 10 4 2 4-22 4 6 4 3 4-8 4 0 4-3 4 5 4-3 4 6 4-3 4 11 4-19 4 4 4-5 4 12 4 6 4-5 4-1 4 10 4-20 4-7 4 16 4-18 4 12 4-8 4 8 4 23 4-17 4-11 4 17 4-19 4 5 4-2 4 5 4-21 4 36 4-23 4 14 4-11 4 12 1 0"/>
<path stroke="#D95319" d="M98 430l4-2 4-4 4-8 4 4 4-1 4-4 4-1 4 1 4-5 4-9 4 4 4-10 4 1 4-10 4-5 4-6 4-6 4-3 4-1 4-12 4-2 4-9 4-4 4-9 4 0 4-9 4-6 4-9 4-8 4-12 4-3 4-8 4-4 4-12 4-1 4 0 4-8 4-2 4 2 4-4 4 1 4-3 4 4 4-3 4-6 4 6 4 7 4-6 4 2 4 0 4-1 4-5 4 1 4 5 4-6 4-10 4 2 4 10 4-7 4-4 4 8 4-3 4 1 4 1 4 7 4 6 4 4 4 8 4 15 4 2 4 10 4 10 4 6 4 8 4 6 4 8 4 0 4 2 4 7 4-10 4-7 4-13 4 2 4-20 4-12 4-11 4-20 4-18 4 3 4-15 4-3 4-11 4-4 4-1 4-6 4 4 4-11 4 5 4-3 4-8 4 13 4-8 4-4 4-3 4 5 4 4 4-8 4 10 4-6 4 3 4 3 4-1 4 0 4 0 4-5 4 5 4 1 4-3 4 7 4-7 4 13 4-10 4 9 4-8 4-5 4 10 4-8 4 2 4-4 4 14 4-8 4-5 4 18 4-17 4 2 4 10 4-4 4-11 4 4 4 3 4-6 4 3 4 2 4-1 4-4 4 23 4-19 4 1 4-10 4 7 4 12 4-3 4-3 4-3 4 2 4 14 4-13 4 9 4-15 4 9 4-1 4 9 4-8 4 6 4-5 4-3 4-8 4 15 4 5 4-25 4 30 4-17 4 8 4-12 4 11 4-1 4-14 1 8"/>
<path stroke="#EDB120" d="M98 491l4 1 4 0 4-1 4 1 4-6 4-1 4 3 4-5 4 5 4-7 4 2 4-2 4-3 4-4 4-2 4-7 4-5 4-15 4 11 4-11 4-11 4-9 4-2 4-11 4-2 4-10 4-1 4-3 4-8 4-3 4-4 4-1 4 2 4-5 4-1 4 1 4-1 4-2 4 1 4 8 4 7 4 4 4 6 4 2 4-3 4 12 4 9 4-9 4 8 4 3 4-1 4 6 4-6 4 8 4 1 4 4 4-1 4 4 4 3 4 1 4 4 4-2 4 1 4 11 4 2 4 0 4 9 4 1 4 0 4 5 4 4 4 12 4-7 4 8 4 4 4-4 4 7 4 12 4-10 4 10 4-2 4 2 4-13 4 2 4-9 4-13 4-13 4-15 4-44 4-30 4-28 4-31 4-25 4-20 4-18 4-15 4-15 4-4 4-1 4-13 4 7 4-13 4 9 4 8 4-15 4 7 4 1 4-1 4-1 4-3 4 4 4 6 4-8 4-1 4 5 4-4 4-1 4 14 4 1 4-6 4-8 4 14 4-15 4 10 4-5 4 6 4 1 4-1 4 3 4 2 4-1 4-2 4 1 4 7 4-6 4 0 4-5 4 0 4 3 4 0 4 10 4-4 4-8 4 2 4-7 4-4 4 2 4 18 4 0 4-1 4-12 4 7 4 5 4 7 4-8 4 2 4-12 4-10 4 32 4 2 4-20 4 1 4 11 4-8 4 0 4 14 4-17 4 12 4-7 4-10 4 22 4-18 4 1 4-8 4 25 4-13 4 21 1-16"/>
<path stroke="#7E2F8E" d="M98 465l4 3 4-9 4 9 4-5 4 7 4-5 4 0 4 2 4 0 4-3 4-1 4-3 4-13 4 3 4-3 4-7 4-11 4 4 4-14 4 4 4-14 4-6 4-9 4-10 4-5 4 3 4-14 4-3 4-7 4-5 4-6 4-11 4-3 4 0 4 0 4-6 4-6 4-1 4-7 4 3 4 1 4-5 4 3 4 6 4-5 4-1 4-2 4 12 4-7 4 3 4 1 4 4 4-4 4 2 4 5 4-1 4-9 4 14 4 3 4-1 4-3 4 5 4 6 4 0 4 6 4 2 4 1 4 13 4 1 4 11 4 8 4 6 4 2 4 3 4 7 4 13 4-1 4 6 4-5 4 4 4-2 4-8 4-11 4-7 4-23 4-20 4-41 4-28 4-38 4-35 4-27 4-18 4-19 4-9 4-1 4-11 4-12 4-5 4 9 4-8 4-2 4 7 4-9 4-2 4-1 4 2 4 3 4-8 4 9 4 3 4-4 4 2 4-5 4 4 4-11 4 5 4 7 4 0 4 2 4-6 4 2 4-4 4 6 4-3 4-1 4 7 4-17 4 12 4-2 4-1 4 7 4-15 4 9 4-7 4-3 4 7 4-7 4 1 4 9 4-11 4 8 4-8 4 10 4-6 4 7 4-11 4 0 4 5 4 7 4 7 4-25 4 11 4 8 4-10 4 0 4-4 4 20 4-15 4-8 4-4 4 5 4 4 4-7 4 5 4 17 4-18 4 13 4-29 4 14 4-8 4-2 4 19 4 0 4-16 4 6 4 11 4 0 1-16"/>
<path stroke="#77AC30" d="M98 409l4 1 4 6 4-11 4 7 4 0 4 4 4-11 4 3 4-4 4 4 4-6 4 8 4-17 4 2 4-11 4-8 4-7 4 2 4-10 4-9 4-7 4-7 4-1 4-13 4-15 4-3 4-7 4-7 4-1 4-20 4-8 4 1 4-6 4-5 4 0 4-6 4 2 4-10 4 8 4-8 4 4 4-11 4-2 4 3 4-2 4 1 4-6 4 4 4 0 4 0 4-4 4 4 4 6 4-4 4-3 4-10 4-1 4 0 4 3 4 10 4-9 4 6 4-2 4 2 4-2 4-3 4 15 4 0 4 12 4 8 4 0 4 10 4 3 4 5 4 6 4 11 4 1 4 0 4 1 4-7 4-1 4-9 4-21 4-20 4-17 4-24 4-16 4-13 4-25 4-10 4-18 4-9 4-8 4-5 4-8 4-5 4-1 4-9 4 4 4-8 4-5 4-3 4 4 4 3 4-7 4 5 4-9 4 5 4 6 4-4 4 6 4-2 4-4 4 1 4 0 4 4 4 5 4-11 4 4 4 2 4 4 4-4 4 4 4-9 4 5 4-2 4 0 4-5 4-8 4 9 4 10 4-19 4 12 4-15 4 15 4-10 4 2 4-2 4-1 4-5 4-1 4 9 4-3 4-4 4 0 4 11 4-14 4 0 4 5 4-5 4-5 4 21 4-23 4 10 4-5 4 4 4 7 4-16 4 13 4-3 4-23 4 24 4 0 4-13 4 13 4-19 4 21 4-24 4 6 4 2 4 4 4 3 4-11 4-9 4 18 4-7 4 10 1-18"/>
<path stroke="#4DBEEE" d="M98 519l4 0 4-8 4-3 4-1 4-7 4-5 4 7 4 0 4 0 4-9 4 6 4-4 4-3 4-4 4-1 4-8 4 1 4-5 4-2 4-9 4-9 4-11 4-3 4-12 4-8 4 2 4-17 4-11 4 7 4-13 4 6 4-5 4-3 4-5 4 3 4-1 4-3 4 1 4 6 4 1 4 3 4 8 4 10 4 1 4 10 4-9 4 10 4 10 4-2 4 0 4 1 4 5 4 4 4 4 4-4 4 1 4 5 4 3 4 2 4 5 4 2 4 0 4 4 4 3 4 7 4-2 4 10 4-5 4 8 4 2 4 8 4 1 4 6 4 1 4 10 4-8 4 6 4 0 4 5 4-2 4 4 4-2 4-5 4-2 4-17 4-10 4-21 4-26 4-40 4-40 4-23 4-32 4-20 4-18 4-8 4-14 4-16 4-5 4-9 4 9 4-8 4 9 4-4 4 1 4-1 4-5 4-6 4 7 4 7 4-13 4 6 4 10 4-15 4 7 4-3 4 7 4 0 4-5 4 12 4-9 4-4 4 3 4 3 4 2 4 1 4-11 4 7 4 1 4 6 4-7 4-2 4 18 4-23 4 5 4 7 4 10 4-26 4 11 4 8 4 6 4-16 4 19 4-11 4 2 4 6 4-3 4 0 4-11 4 4 4-5 4 16 4-17 4 7 4-7 4 12 4-6 4 12 4-16 4 8 4 6 4-3 4-1 4 17 4-17 4 11 4-8 4-2 4-20 4 19 4 17 4-18 4 17 4 0 4-3 4-16 4-8 4 11 1 21"/>
<path stroke="#A2142F" d="M98 527l4-11 4 0 4-3 4 1 4-1 4-5 4 2 4-1 4 1 4-3 4 2 4 0 4-4 4-1 4 3 4-6 4-8 4-3 4-10 4 4 4-16 4 0 4-18 4-6 4-12 4-11 4-3 4-7 4-5 4-8 4-4 4 6 4-1 4-4 4 4 4 1 4-6 4 5 4-5 4 12 4-4 4 6 4 10 4 2 4 14 4-7 4 3 4 6 4-6 4 15 4-8 4 5 4 1 4 9 4-5 4 6 4 0 4 0 4 9 4 9 4-8 4 3 4 5 4 4 4 4 4 0 4 1 4 6 4-3 4 9 4 0 4 6 4 3 4 0 4 4 4 1 4 2 4 7 4-1 4 3 4 0 4-3 4 1 4-5 4-8 4-6 4-23 4-25 4-22 4-48 4-31 4-28 4-32 4-17 4-22 4-11 4-8 4-20 4 5 4-3 4-6 4-12 4 13 4-13 4 7 4-5 4 1 4-6 4 9 4-14 4 11 4 5 4-8 4-3 4 1 4-1 4 6 4-8 4 4 4 10 4-1 4 2 4-1 4-2 4 5 4-1 4-4 4 1 4-3 4 26 4-13 4 1 4 0 4 3 4 0 4-9 4-3 4 14 4-11 4 18 4-16 4-8 4 5 4 11 4 0 4-4 4-11 4 6 4 1 4-3 4 11 4 8 4-11 4-1 4-6 4 3 4-25 4 29 4 2 4-16 4 12 4-15 4 0 4 10 4 1 4 22 4-25 4 11 4-4 4-2 4 8 4 11 4-3 4 5 4-19 4 10 4-1 1 6"/>
<path stroke="#0072BD" d="M98 404l4 7 4-10 4 3 4-3 4 4 4-8 4 10 4-11 4 3 4-1 4-9 4 6 4-4 4-15 4-4 4-5 4 3 4-14 4-1 4-6 4-16 4-2 4-5 4-15 4 0 4-6 4-12 4-13 4 2 4-8 4-9 4-5 4-6 4-2 4-3 4-6 4 0 4-3 4 5 4-9 4-5 4 2 4 1 4-8 4-3 4 5 4-4 4-1 4-3 4-4 4 2 4-4 4-8 4 3 4-3 4 0 4 2 4-1 4-3 4 8 4-9 4 4 4-1 4 2 4 6 4-2 4 9 4 7 4-6 4 9 4 11 4 3 4 3 4 1 4 17 4 6 4-9 4 6 4-2 4-4 4 1 4-1 4-8 4-9 4-12 4-13 4-10 4-9 4-8 4-8 4-22 4-6 4-4 4-6 4 1 4-5 4-3 4-6 4 0 4-8 4 1 4 1 4-1 4 10 4-15 4 11 4-7 4 6 4-14 4 8 4-5 4 10 4-5 4-2 4 7 4-2 4-7 4 7 4-2 4 2 4 2 4-8 4 5 4 15 4-16 4-3 4 10 4 0 4-3 4 6 4-10 4 7 4 5 4-5 4-12 4 16 4-6 4-4 4-15 4 15 4 5 4 6 4-10 4 0 4-3 4 6 4-2 4 4 4-5 4-6 4 4 4-2 4 2 4 1 4 1 4 2 4-9 4 7 4-8 4 17 4-11 4-7 4-15 4 33 4-26 4-17 4 36 4 8 4-27 4 6 4-2 4-1 4 11 4 5 4-9 4 4 4 13 1-13"/>
<path stroke="#D95319" d="M98 483l4-4 4-5 4-3 4-3 4 0 4 0 4 3 4-6 4-2 4 4 4-7 4-4 4 0 4-8 4-4 4 0 4-6 4-5 4-4 4 0 4-13 4 0 4-13 4-4 4-8 4-1 4-3 4-5 4-1 4-11 4-4 4-3 4-7 4 6 4-8 4 1 4 0 4-6 4 0 4-10 4 7 4 4 4-10 4 4 4 0 4 2 4 0 4-2 4 1 4 7 4-4 4 14 4-7 4 1 4 0 4-2 4 2 4-3 4 13 4-2 4-3 4 3 4 8 4 0 4 3 4 2 4 4 4 8 4 2 4 6 4 2 4 3 4 6 4 9 4 8 4 11 4-3 4 10 4-1 4-2 4-4 4-2 4 1 4-6 4-20 4-17 4-19 4-38 4-24 4-32 4-23 4-21 4-7 4-4 4-19 4 10 4-9 4 1 4-5 4-4 4-2 4 9 4 7 4-16 4-1 4 4 4-4 4 8 4 0 4 7 4-11 4 7 4-7 4 8 4 2 4 6 4-9 4 2 4-4 4 9 4-7 4 5 4-1 4 4 4-2 4-4 4-5 4 10 4-3 4-5 4 7 4-11 4 11 4-3 4-4 4 2 4-4 4-2 4 2 4 4 4 9 4-7 4-4 4 8 4-8 4 3 4 1 4 3 4-2 4-1 4 5 4-5 4 13 4-9 4-3 4 17 4-10 4-2 4 6 4-10 4-9 4 3 4 9 4-4 4-10 4 18 4-4 4-3 4-4 4 14 4-10 4 23 4-23 4 9 4-3 4-26 4 26 1 16"/>
<path stroke="#EDB120" d="M98 390l4-1 4 3 4-10 4 15 4-8 4 1 4-4 4 9 4-3 4-10 4 3 4-2 4-6 4-7 4-3 4-2 4-16 4-4 4-5 4-3 4-7 4-4 4-7 4-18 4 1 4-6 4-6 4-3 4-13 4-1 4-15 4-3 4 0 4-15 4-3 4-6 4-3 4-9 4 1 4-6 4-6 4-2 4-5 4-1 4-4 4 2 4-3 4-5 4-1 4 3 4-2 4-4 4-1 4-1 4 2 4-6 4-3 4 1 4-2 4 11 4-11 4 7 4-4 4 4 4 5 4 3 4 12 4-5 4-5 4 11 4 4 4 4 4 4 4 15 4-1 4 4 4 3 4-5 4 1 4-5 4-7 4-13 4 0 4-21 4-12 4-15 4-12 4-18 4-11 4-5 4-8 4-7 4-7 4-7 4-2 4-4 4-7 4-2 4 8 4-9 4-6 4 2 4 3 4 0 4-8 4 2 4 9 4 4 4 1 4-3 4-2 4-9 4-3 4 10 4-4 4 7 4-11 4 12 4 9 4-12 4 7 4-12 4 2 4-13 4 17 4-10 4 9 4-6 4 3 4-9 4 17 4-13 4 25 4-10 4-12 4-4 4 12 4-3 4 3 4-14 4 16 4-3 4-17 4-6 4 16 4-6 4 6 4-15 4 12 4 16 4-28 4 1 4 9 4-14 4 4 4-5 4 4 4 6 4-10 4 1 4 0 4 18 4-18 4-21 4 13 4-3 4 13 4 8 4-9 4 1 4 10 4-9 4 14 4 3 4-36 4 8 4 25 1-22"/>
<path stroke="#7E2F8E" d="M98 554l4 2 4-1 4-2 4 1 4 4 4-6 4 0 4-1 4 3 4 3 4-2 4-4 4-5 4-3 4 3 4 3 4-5 4-4 4-2 4-3 4-10 4-1 4-3 4-11 4-8 4-18 4-3 4-4 4-12 4-4 4 1 4 0 4-3 4 1 4 3 4-3 4 0 4 2 4 0 4 5 4 7 4 4 4 3 4 7 4-1 4 4 4 11 4-2 4 4 4 1 4 0 4 2 4 0 4 2 4 3 4 5 4 2 4-2 4 12 4-8 4 9 4-2 4 11 4-3 4-2 4 4 4 0 4 6 4 1 4 2 4-1 4 2 4 3 4 2 4 1 4 0 4 3 4-2 4 0 4 1 4-2 4-7 4 1 4-8 4-10 4-10 4-13 4-23 4-19 4-31 4-37 4-29 4-24 4-29 4-20 4-12 4-17 4-8 4-15 4-2 4-17 4 2 4-8 4 5 4-14 4 2 4-7 4 8 4 7 4-4 4 2 4-14 4 11 4 1 4-7 4 2 4-1 4 6 4 8 4-3 4 5 4-18 4 3 4 7 4-5 4 0 4 1 4 1 4-2 4 5 4 14 4 4 4-23 4 4 4 19 4-16 4 7 4-2 4 14 4-21 4 6 4-6 4-1 4-1 4-3 4 10 4 1 4 6 4-8 4 6 4 7 4-17 4 3 4 27 4-6 4-13 4 9 4-20 4 9 4-4 4-3 4-3 4 14 4-8 4 4 4-5 4 2 4-8 4 8 4 10 4-5 4 12 4-14 4-12 4 22 4 11 4-16 1 4"/>
<path stroke="#77AC30" d="M98 512l4-1 4 0 4-7 4 2 4 4 4-3 4-9 4-1 4 2 4 4 4-6 4 4 4 1 4-7 4 0 4-7 4-13 4-1 4-6 4-10 4-4 4-10 4-5 4-8 4-12 4-4 4-3 4-11 4-1 4-4 4-9 4 1 4-2 4 4 4 3 4-1 4-9 4 17 4-7 4 1 4 11 4-4 4 11 4 0 4-2 4 6 4 7 4 2 4-3 4 1 4 7 4 11 4-2 4-2 4 9 4 1 4 6 4 1 4-2 4 4 4 8 4-4 4 12 4-5 4 3 4 10 4 4 4-7 4 3 4 5 4 6 4-1 4 10 4-5 4-2 4 11 4-2 4 9 4-1 4 3 4-2 4 1 4 3 4-13 4 2 4-18 4-8 4-30 4-30 4-36 4-43 4-28 4-32 4-21 4-21 4-2 4-24 4-2 4-5 4 0 4-5 4-3 4-2 4-1 4 2 4-2 4-3 4 7 4 2 4-8 4 3 4 8 4-8 4 2 4-9 4 7 4 1 4 5 4 5 4-4 4 1 4 0 4-7 4 11 4-14 4 14 4 2 4-13 4 7 4 2 4-6 4 5 4-4 4 3 4-3 4 6 4-9 4 7 4-3 4 15 4-16 4 7 4-2 4 2 4 2 4 3 4-12 4 10 4-1 4 2 4 4 4-13 4 14 4-7 4 9 4 6 4 0 4-14 4 19 4-1 4-8 4-10 4 11 4-15 4 11 4 0 4-15 4 9 4 8 4 1 4-12 4-6 4 16 4-1 4-12 4 17 4-11 1 2"/>
<path stroke="#4DBEEE" d="M98 552l4 2 4-4 4 5 4-2 4-3 4 0 4 4 4-3 4 1 4-2 4 2 4 5 4-5 4-7 4 3 4-5 4-5 4 0 4 0 4-8 4-8 4-6 4-10 4-6 4-9 4-11 4-12 4-8 4-4 4-7 4-1 4 1 4-4 4-1 4 2 4 3 4-2 4 0 4 4 4 7 4 4 4 5 4 10 4-4 4 9 4-1 4 9 4 4 4-1 4 4 4 0 4 5 4 2 4 3 4 2 4-1 4 6 4-1 4 0 4 7 4 0 4 3 4 1 4 0 4 1 4 1 4 6 4-2 4 6 4 3 4 1 4 5 4-4 4 7 4-4 4-5 4 9 4 3 4-6 4 3 4-4 4-3 4-5 4-11 4-4 4-12 4-16 4-21 4-27 4-31 4-39 4-22 4-25 4-21 4-25 4-10 4-16 4-8 4-16 4-3 4-7 4 1 4-12 4-7 4-1 4 9 4-10 4 6 4 4 4-2 4-13 4 8 4 4 4-8 4 1 4 4 4-4 4 5 4-8 4 4 4 5 4-2 4-2 4 7 4-3 4 4 4 2 4 9 4-3 4-1 4-6 4-14 4 21 4-3 4 5 4-5 4-1 4-5 4 13 4-11 4 2 4 3 4 7 4-1 4-5 4-5 4 5 4 5 4-7 4 10 4-13 4-15 4 26 4-12 4 16 4-8 4-4 4-5 4 9 4-11 4 22 4-9 4-2 4-1 4 2 4-18 4 20 4-13 4 6 4-16 4 22 4-9 4 2 4 38 4-36 4-6 4-5 1 27"/>
<path stroke="#A2142F" d="M98 364l4 0 4 5 4-3 4 0 4 2 4-3 4-4 4 0 4 0 4-9 4 5 4-12 4-6 4-2 4-15 4 7 4-16 4 0 4-7 4 0 4-12 4-9 4-11 4-4 4-8 4-8 4-12 4-7 4-8 4-13 4-15 4 7 4-6 4-11 4-8 4-4 4-3 4-3 4-2 4-7 4-7 4-3 4-3 4-3 4-4 4 3 4-5 4 3 4 1 4-8 4 5 4-9 4-5 4 4 4 0 4-14 4-4 4 6 4-4 4-2 4 1 4 4 4-3 4 3 4 1 4-9 4 4 4 4 4 4 4-4 4-3 4 6 4-10 4 3 4 6 4-3 4-4 4 5 4-3 4-4 4 5 4-11 4-5 4 3 4-7 4 7 4-6 4-4 4-7 4 1 4-9 4 11 4 0 4-2 4-6 4 4 4-4 4 5 4-11 4 7 4-1 4-1 4-15 4 19 4-12 4 1 4 1 4 5 4-1 4-14 4 14 4-7 4 15 4-8 4-11 4 9 4 2 4-4 4 6 4 2 4-7 4 9 4-10 4-3 4 12 4-10 4 11 4-13 4 7 4-9 4 16 4-8 4-10 4 10 4-2 4-10 4 18 4-2 4-8 4-16 4 15 4 0 4-2 4-11 4 17 4-23 4 19 4-16 4 27 4-23 4 2 4 0 4 6 4-6 4 15 4-32 4 31 4-21 4-7 4 10 4-3 4 10 4-5 4-8 4 17 4 22 4-48 4 17 4-11 4 6 4 8 4-11 4 10 4-14 4 3 4 0 4-3 1-6"/>
<path stroke="#0072BD" d="M98 386l4 6 4-8 4-1 4-3 4 4 4-4 4 5 4-6 4 0 4 1 4-7 4 1 4-15 4-4 4-3 4-5 4-6 4-7 4-7 4-5 4 0 4-13 4-4 4-2 4-17 4-1 4-5 4-15 4-5 4-6 4-5 4-6 4-6 4 5 4-9 4-6 4-2 4-3 4-5 4-9 4 5 4-9 4 4 4-3 4-1 4-12 4 8 4 0 4-13 4 8 4-2 4-3 4 2 4-12 4 1 4-6 4-7 4 2 4 3 4-2 4 4 4-3 4 5 4-5 4 3 4 0 4 3 4 7 4 2 4 0 4 0 4 15 4 4 4 1 4 7 4 1 4 4 4 0 4-3 4-1 4-1 4-5 4-4 4 3 4-21 4-9 4 1 4-8 4 4 4-8 4-5 4-5 4-5 4 2 4-8 4 3 4-4 4 14 4-11 4-4 4 0 4 5 4-10 4 6 4-2 4-4 4 0 4 6 4 9 4-13 4 2 4 11 4-11 4 4 4-9 4 12 4-9 4 11 4 8 4-13 4-1 4 4 4-7 4-1 4 4 4 6 4-6 4 4 4 0 4-5 4-3 4 2 4-3 4 0 4 5 4-6 4 7 4-11 4 21 4 8 4-14 4-2 4 19 4-21 4-3 4 12 4-8 4 5 4-6 4 0 4-2 4 3 4-8 4 0 4 0 4 3 4-2 4 14 4-16 4 4 4-7 4 26 4-13 4-5 4-11 4 10 4 16 4-18 4 8 4-12 4 3 4 4 4 4 4 5 4-34 4 8 4 8 1-8"/>
<path stroke="#D95319" d="M98 368l4 0 4 2 4 4 4-5 4 6 4-5 4-1 4 1 4 2 4-7 4 5 4-13 4-9 4-10 4 0 4-6 4-6 4-3 4-10 4-4 4-6 4-13 4-8 4-3 4-8 4-4 4-14 4-5 4-7 4-9 4-6 4-9 4 2 4-10 4-5 4 2 4-10 4 2 4-5 4-5 4-7 4 0 4-5 4 1 4-6 4-6 4 0 4-1 4-7 4-1 4 5 4-11 4 1 4-9 4-9 4 0 4 5 4-2 4-3 4-2 4 6 4-10 4 5 4 3 4 3 4 0 4-1 4 1 4 1 4 3 4-6 4 9 4 5 4 3 4-5 4 3 4-3 4 2 4-6 4 6 4-11 4 3 4-5 4-20 4-4 4-2 4-10 4-10 4 2 4-5 4-6 4-8 4-7 4 7 4-8 4-11 4 5 4-4 4 5 4-2 4-3 4-5 4-2 4-1 4 4 4-2 4 0 4 15 4-10 4 4 4-6 4 10 4-10 4-1 4 1 4 13 4-12 4-4 4 8 4 7 4-10 4 8 4-9 4 7 4-6 4 1 4-12 4 7 4 3 4-5 4 5 4-7 4 10 4-8 4-8 4 3 4-7 4 4 4 15 4-20 4 11 4-16 4 6 4 5 4-9 4-5 4 12 4-2 4 2 4-7 4 12 4-12 4 11 4-12 4 0 4-10 4-2 4-7 4 19 4 2 4 13 4-17 4-14 4 15 4-8 4-6 4 0 4 20 4 2 4-6 4-1 4-5 4 26 4-25 4 4 4-17 4 16 1 22"/>
<path stroke="#EDB120" d="M98 407l4 2 4 2 4-1 4 2 4-2 4 4 4 4 4-6 4-1 4 0 4-6 4-3 4-12 4 5 4-5 4-14 4-3 4-6 4-2 4-18 4-1 4-5 4-17 4-6 4-3 4-16 4-6 4 0 4-16 4-10 4-8 4-6 4 0 4-5 4-3 4 0 4-13 4 2 4-4 4-3 4-4 4 6 4-12 4 8 4-6 4 0 4-1 4 5 4-4 4-6 4 0 4 1 4-6 4 2 4-4 4-7 4 5 4-6 4 1 4 1 4 1 4 2 4 3 4-4 4 6 4 3 4 9 4-5 4 13 4 4 4 11 4 5 4-6 4 20 4 0 4 11 4 2 4-3 4 2 4 3 4-11 4-2 4-15 4-13 4-13 4-7 4-16 4-9 4-10 4-6 4-10 4-8 4-6 4-14 4-5 4-8 4-8 4 1 4 4 4-15 4-2 4 13 4 5 4-11 4-7 4 6 4 1 4-3 4 2 4 9 4 3 4-15 4 11 4-4 4 18 4-7 4 9 4-7 4-4 4 5 4-9 4 2 4 2 4-8 4 18 4-17 4-1 4-1 4 11 4-18 4 7 4-3 4 6 4-5 4 0 4 6 4-4 4 3 4 4 4 3 4-4 4 3 4-1 4-1 4 1 4-10 4 5 4-3 4 5 4 5 4-3 4-3 4-9 4-5 4 8 4-6 4 5 4 4 4 5 4-6 4-3 4-9 4 15 4-13 4-7 4 16 4 4 4-4 4-4 4-1 4-7 4 11 4 14 4-29 4 20 4 26 4-18 1-20"/>
<path stroke="#7E2F8E" d="M98 545l4 3 4 3 4 0 4 1 4-5 4 5 4-4 4 3 4-4 4 5 4-3 4 1 4-5 4 1 4-4 4-6 4 3 4-2 4-6 4-3 4-15 4-5 4-8 4-8 4-2 4-21 4-6 4-2 4-7 4-6 4-6 4 2 4-1 4 0 4 3 4 0 4-1 4 5 4-1 4 4 4 13 4 0 4 5 4 4 4 1 4 12 4-4 4 6 4-2 4 9 4 1 4 3 4 1 4 5 4 2 4 1 4 0 4 7 4 0 4 2 4 0 4 0 4 8 4 0 4 1 4 3 4-4 4 1 4 4 4 3 4 5 4 2 4-2 4-1 4 5 4-1 4-4 4 0 4 7 4-5 4-3 4 3 4-7 4-9 4-7 4-15 4-15 4-19 4-28 4-30 4-36 4-30 4-23 4-22 4-22 4-8 4-16 4-14 4-14 4-2 4-4 4-6 4 2 4 2 4-12 4 2 4-5 4 7 4-2 4-8 4 2 4-4 4 9 4-4 4-3 4 0 4 6 4-1 4 3 4 2 4 0 4-1 4 10 4-6 4 6 4-6 4 2 4-2 4 2 4-1 4 7 4-16 4 16 4 3 4-14 4-1 4 4 4 2 4 5 4-18 4 23 4-26 4 26 4-3 4-5 4 1 4-6 4 9 4-4 4 9 4-20 4 10 4 4 4-6 4-7 4 4 4 9 4-6 4-1 4 0 4 7 4-8 4 17 4-10 4 9 4-6 4 6 4-11 4 11 4-15 4 21 4-19 4 19 4 16 4-14 4-19 4 7 1-3"/>
<path stroke="#77AC30" d="M98 446l4-3 4-4 4 2 4-13 4 10 4-9 4 9 4-1 4 2 4-6 4-5 4 1 4-6 4-17 4 0 4-4 4-5 4-10 4-1 4-9 4-7 4-7 4-11 4-16 4-3 4-10 4 0 4-15 4-4 4-6 4-1 4 0 4-11 4 1 4-2 4-4 4 0 4-10 4 6 4 1 4-3 4-2 4 6 4-2 4 0 4-5 4 3 4 2 4-6 4 1 4-1 4 0 4 3 4-5 4-1 4-1 4-2 4 4 4 0 4 1 4-3 4 4 4 4 4 1 4 2 4 5 4 5 4 7 4 9 4 1 4 2 4 10 4 10 4 10 4 4 4 7 4-1 4 4 4-10 4 9 4-6 4-17 4-9 4-19 4-17 4-23 4-23 4-16 4-32 4-10 4-31 4-14 4-13 4-14 4-10 4 3 4-3 4-4 4-7 4 12 4-9 4-2 4 0 4-8 4 3 4-1 4-3 4 5 4 1 4-7 4 10 4-5 4 9 4-6 4-5 4-4 4 13 4-9 4 7 4-5 4 2 4-11 4 14 4-4 4 4 4-9 4 3 4 11 4-10 4 7 4-14 4 3 4 7 4-1 4 6 4-5 4-11 4 15 4-5 4-7 4-6 4 4 4 5 4-8 4 10 4-16 4 6 4 1 4-1 4 3 4 0 4 13 4-11 4 5 4 5 4-16 4 7 4-3 4-17 4 4 4 6 4-1 4 3 4-5 4-4 4 11 4-10 4 8 4-2 4-9 4 10 4-9 4-2 4-15 4 18 4 8 4-4 1 1"/>
<path stroke="#4DBEEE" d="M98 550l4 0 4-6 4 1 4 6 4-5 4 1 4 1 4 0 4 5 4-10 4 2 4 5 4 0 4-2 4 0 4-5 4 0 4 0 4-3 4-5 4-7 4-8 4-10 4-6 4-6 4-17 4-5 4-12 4-3 4-5 4 2 4-3 4 0 4-2 4-2 4 2 4-2 4 6 4 1 4 1 4 4 4 4 4 3 4 7 4 3 4 6 4 4 4 3 4 2 4 3 4 2 4 0 4 3 4 0 4 6 4 3 4 0 4 6 4 3 4-2 4 5 4-1 4 4 4 3 4 4 4-4 4 5 4 4 4 3 4 1 4 0 4-2 4 7 4-2 4 1 4 10 4-5 4-5 4 7 4-9 4 1 4 1 4-13 4-2 4-13 4-10 4-14 4-28 4-29 4-31 4-27 4-29 4-18 4-23 4-25 4-7 4-27 4 3 4-10 4-14 4-1 4-5 4 1 4-9 4 0 4 0 4 2 4 3 4-8 4 10 4-9 4-7 4-1 4 6 4 11 4-17 4-2 4 6 4-6 4 2 4 16 4-7 4 3 4-10 4 4 4 6 4-2 4-1 4 10 4-3 4 0 4 1 4 0 4-4 4 9 4-1 4-13 4-5 4-2 4 23 4-14 4 9 4-2 4-1 4-4 4 0 4 22 4-12 4-12 4 8 4 14 4-5 4-1 4-13 4-6 4 22 4-12 4 6 4-7 4 6 4 8 4-4 4 0 4-18 4 20 4-12 4 13 4-1 4-8 4 9 4-25 4 7 4 25 4-16 4-10 4 29 4-8 1-20"/>
<path stroke="#A2142F" d="M98 501l4 3 4 2 4 0 4-7 4 3 4-6 4 1 4-2 4 0 4-6 4 4 4-8 4 6 4-10 4 6 4-7 4-1 4-4 4-17 4 0 4-3 4-5 4-16 4-10 4-7 4-4 4-8 4-3 4-7 4-4 4-7 4-3 4 5 4 2 4-14 4 5 4 4 4-2 4 6 4 3 4 13 4-1 4-2 4 7 4 8 4 3 4 2 4 2 4 8 4 1 4 0 4 0 4 6 4-2 4 1 4 5 4 0 4 0 4 10 4-2 4 2 4-4 4 18 4 0 4 6 4 2 4-1 4 8 4 1 4 3 4 5 4 0 4 6 4 8 4 1 4 0 4 5 4-1 4 3 4 2 4-2 4 1 4-8 4-2 4-8 4-13 4-27 4-22 4-26 4-37 4-37 4-22 4-32 4-14 4-23 4-17 4 0 4-11 4-5 4-11 4-3 4 13 4-11 4 1 4 3 4-1 4 8 4-1 4-4 4 7 4-8 4 1 4-7 4 14 4-12 4 5 4 1 4 2 4 1 4 4 4 2 4-12 4 20 4-17 4 4 4 1 4-5 4 6 4-1 4-2 4 5 4-6 4 0 4 6 4-3 4 8 4-7 4 1 4 11 4-9 4-4 4 10 4 3 4-8 4 4 4 3 4-7 4 7 4-7 4-6 4 5 4 2 4 9 4-17 4 12 4-15 4 18 4-4 4 12 4-13 4 15 4-12 4-14 4 9 4 18 4-19 4 20 4-8 4 3 4-2 4-2 4 23 4-34 4 12 4 10 4-14 4-12 1 26"/>
<path stroke="#0072BD" d="M98 524l4 0 4-9 4 1 4 2 4-8 4-2 4 2 4-4 4 1 4-3 4 6 4-7 4-2 4 3 4-18 4 5 4 1 4-4 4-7 4-8 4-9 4-2 4-10 4-19 4 0 4-20 4 0 4-2 4-6 4-13 4 3 4 2 4-10 4 1 4 4 4 1 4 1 4-4 4 0 4 0 4 5 4 8 4 14 4 1 4 0 4 8 4 2 4 5 4 2 4-1 4 5 4 9 4 0 4 4 4 5 4-7 4 5 4-6 4 8 4 3 4 6 4 4 4-3 4 8 4-5 4 5 4 3 4 6 4 7 4-4 4 10 4 1 4 1 4 8 4 3 4 5 4-6 4 0 4 11 4-6 4-3 4-1 4-1 4 1 4-5 4-15 4-23 4-30 4-35 4-35 4-35 4-26 4-20 4-26 4-23 4-12 4-7 4-7 4-14 4 4 4 1 4 3 4-4 4-5 4 4 4-5 4 5 4-16 4 16 4-6 4 9 4-5 4-3 4 4 4 11 4-17 4 5 4 9 4-1 4-6 4 9 4-8 4 11 4-7 4-4 4 7 4-3 4-2 4-6 4 2 4 5 4 0 4 4 4 1 4 1 4 1 4-8 4 8 4 4 4 1 4-4 4-3 4 7 4 4 4-8 4-5 4 14 4-4 4 11 4-32 4 25 4 1 4-12 4 4 4-9 4 12 4-8 4-1 4-3 4-12 4 16 4 7 4-10 4 11 4-14 4 7 4 2 4 17 4 1 4-7 4-4 4 22 4-15 4-6 4 10 4-15 4 8 1-14"/>
<path stroke="#D95319" d="M98 473l4-8 4 3 4-4 4 1 4 0 4-3 4-1 4 10 4-5 4 9 4-7 4-9 4 4 4-5 4-4 4-5 4-9 4-5 4-3 4-6 4-12 4-11 4-7 4-11 4-7 4-5 4-9 4-2 4-16 4-1 4-6 4-7 4-7 4 0 4 1 4-16 4 5 4 3 4-1 4-6 4 5 4-2 4 5 4-2 4 0 4 9 4-8 4 11 4-1 4-2 4 6 4 3 4 11 4 2 4-3 4 1 4 0 4 3 4 4 4 3 4 2 4 1 4 6 4-1 4 0 4 0 4 5 4 0 4 3 4 3 4 8 4 8 4 2 4 8 4 9 4 1 4 3 4 7 4 0 4 5 4-5 4-7 4-7 4-7 4-26 4-17 4-28 4-31 4-35 4-21 4-29 4-15 4-18 4-2 4-14 4-8 4 0 4-5 4 2 4-9 4 7 4 3 4 4 4-15 4 11 4-8 4 10 4-1 4-11 4 13 4-8 4 10 4 1 4-6 4 3 4 2 4-7 4 10 4-11 4 3 4 10 4-11 4 1 4-10 4 8 4 0 4-4 4 19 4-4 4-1 4 1 4-11 4 1 4-12 4 20 4-1 4-9 4 2 4-1 4 6 4-8 4 2 4 5 4-8 4 17 4-17 4-7 4 17 4-20 4 9 4 9 4-11 4 17 4 0 4-5 4-8 4 10 4 1 4 0 4-21 4 8 4 18 4-2 4-13 4-9 4 14 4-16 4 7 4 15 4-1 4-14 4 0 4 11 4-4 4 10 4-18 4-4 1 11"/>
<path stroke="#EDB120" d="M98 506l4-4 4 3 4 0 4 0 4-2 4-4 4-6 4 2 4 3 4 4 4-2 4-10 4 7 4-11 4 0 4-6 4-1 4-3 4-8 4-5 4-4 4-11 4-10 4-5 4-12 4-11 4-5 4-2 4-14 4 3 4-9 4 0 4-5 4 1 4 4 4-9 4 7 4 4 4 2 4-3 4 10 4 6 4 9 4-8 4 9 4 4 4 7 4 0 4 9 4-4 4 7 4 4 4-2 4 3 4 2 4 9 4 0 4 3 4 0 4-1 4 6 4-1 4 7 4 1 4 0 4 1 4 0 4 10 4 3 4 0 4 15 4 2 4-3 4 3 4 0 4 3 4 3 4 5 4 5 4-4 4 11 4-9 4 2 4-10 4 2 4-25 4-16 4-30 4-24 4-44 4-37 4-18 4-31 4-13 4-33 4-1 4-14 4-7 4 4 4-8 4 2 4-11 4-5 4 17 4-10 4 7 4-9 4 0 4-2 4 2 4 13 4-2 4-6 4-3 4 8 4-2 4-4 4 2 4-5 4 12 4-8 4 2 4 1 4 1 4 3 4-11 4 11 4-6 4 2 4 5 4-6 4 0 4-7 4 14 4-9 4 1 4-3 4 11 4-6 4 10 4-10 4-5 4-2 4 25 4-11 4-5 4 15 4-29 4 16 4 15 4-35 4 20 4 19 4-7 4-1 4-5 4-13 4 19 4-1 4-4 4-4 4 3 4 14 4-19 4 15 4 0 4-30 4 39 4-16 4 10 4-17 4 3 4 13 4-5 4 1 4-11 4 23 1-21"/>
<path stroke="#7E2F8E" d="M98 383l4 5 4-4 4 4 4-6 4-2 4 6 4-6 4-5 4 5 4-7 4-2 4-13 4 2 4-11 4-11 4-6 4 1 4-6 4-11 4 7 4-14 4-14 4 0 4-4 4-6 4-7 4-6 4-11 4-6 4-3 4-14 4-3 4-3 4-4 4-9 4-8 4-2 4-5 4-5 4-2 4-5 4 2 4-4 4-4 4-2 4 1 4-3 4-6 4 2 4 2 4-7 4-4 4 1 4-4 4-7 4-1 4 4 4-4 4-4 4 2 4-2 4 6 4-1 4-4 4 3 4 5 4 4 4-3 4 2 4 9 4 5 4 9 4 2 4-4 4 13 4-4 4 2 4 1 4-6 4 1 4-8 4-8 4-11 4-5 4-7 4-7 4-10 4-7 4-8 4-1 4-7 4-11 4 0 4 4 4-12 4 1 4 6 4-6 4-3 4-1 4 9 4-6 4 2 4-5 4 3 4 3 4-8 4 20 4-9 4-2 4 7 4-18 4 14 4 2 4 1 4-5 4 7 4-3 4 0 4 2 4 4 4-5 4-9 4 3 4-5 4 9 4-4 4 2 4-10 4 2 4-1 4-3 4 3 4-3 4 1 4-9 4 4 4 6 4-5 4 1 4 0 4-2 4 3 4-5 4 8 4-8 4 17 4-23 4 4 4-5 4 12 4 0 4-3 4-2 4-5 4 5 4-5 4 10 4-2 4-7 4 4 4 2 4 7 4-4 4 9 4-2 4-6 4 0 4-5 4-10 4 13 4-18 4 10 4-22 4 44 4-17 4-7 1 0"/>
<path stroke="#77AC30" d="M98 560l4-6 4 8 4-3 4-3 4-2 4 0 4 0 4 0 4 3 4-4 4 4 4-4 4 8 4-6 4-3 4-3 4 4 4-11 4-2 4-4 4-3 4-12 4-1 4-12 4-7 4-9 4-8 4-8 4-10 4-4 4-1 4 1 4-1 4 0 4-3 4 5 4 1 4-1 4 5 4 0 4 4 4 7 4 3 4 0 4 6 4 3 4 1 4 6 4 3 4-1 4 1 4 7 4-4 4 5 4 3 4 4 4 1 4 0 4 5 4 2 4 6 4-2 4 3 4 5 4 9 4-5 4-5 4 9 4 4 4-5 4 8 4-1 4 1 4 7 4-3 4-2 4 4 4-2 4 2 4-3 4-4 4 5 4-6 4-8 4-6 4-11 4-18 4-22 4-26 4-34 4-36 4-27 4-24 4-23 4-12 4-21 4-16 4-13 4-2 4-20 4 4 4-9 4-5 4-5 4 6 4-2 4-5 4-2 4-2 4 4 4 3 4 3 4-16 4 16 4-11 4 2 4-2 4-1 4-2 4 8 4-2 4 13 4-11 4 6 4-4 4-8 4 7 4-5 4 7 4-3 4 5 4 13 4-10 4-2 4-2 4 1 4 1 4-6 4 2 4 7 4-8 4 19 4-11 4 0 4-10 4 13 4 7 4-12 4-10 4 13 4 0 4 1 4-2 4-10 4-5 4 12 4 4 4-15 4 14 4 0 4 4 4 0 4-5 4 5 4-6 4 4 4-4 4 9 4-1 4-4 4 2 4 0 4-10 4 23 4 10 4-27 4 11 1-17"/>
<path stroke="#4DBEEE" d="M98 379l4 1 4-3 4-2 4-7 4 4 4 3 4-7 4-3 4 3 4-8 4 3 4-12 4-3 4-10 4-5 4-13 4 2 4-8 4-7 4-5 4-7 4-14 4-4 4-5 4-7 4-16 4-5 4-9 4-8 4-7 4-9 4-5 4-6 4-7 4 3 4-11 4-2 4-11 4 7 4-4 4-9 4 1 4-9 4 2 4-6 4-2 4 3 4-5 4 0 4-4 4 5 4-8 4 2 4-10 4 4 4-7 4 5 4-5 4-2 4 1 4 0 4-4 4 3 4 1 4 3 4 0 4-4 4 4 4 4 4-1 4 4 4 10 4-11 4 6 4 0 4 1 4-3 4-5 4 1 4-2 4-8 4 1 4-5 4-12 4 6 4-6 4-3 4-5 4-14 4 6 4-10 4 4 4-2 4-1 4-3 4-2 4-7 4 2 4-1 4-9 4 9 4-4 4 4 4-5 4 4 4-3 4-5 4 7 4 0 4 7 4-5 4-3 4 10 4-1 4-16 4 21 4-5 4-12 4 7 4 8 4-10 4-9 4 13 4 1 4-9 4 5 4 0 4 5 4-6 4-11 4 6 4-1 4 11 4-1 4-3 4 11 4-16 4 9 4-12 4 6 4-6 4-1 4 16 4-13 4-2 4 6 4-7 4 4 4-7 4-1 4 8 4-7 4-3 4-1 4 5 4-1 4-4 4-1 4 19 4-21 4 2 4 1 4 3 4-5 4 1 4-1 4 15 4-16 4 25 4-27 4 7 4 11 4-26 4-5 4 20 4 3 4-23 1 22"/>
<path stroke="#A2142F" d="M98 482l4-6 4-1 4 4 4-10 4 4 4-5 4 4 4-8 4-7 4 8 4-1 4-8 4-8 4-8 4-1 4-7 4-4 4-1 4-16 4-2 4-13 4 2 4-8 4-11 4-8 4-7 4-6 4-4 4 3 4-21 4 2 4-1 4-7 4 1 4-12 4 0 4-4 4 1 4-6 4 0 4 4 4-2 4-2 4 7 4-8 4 7 4-3 4 1 4 7 4-4 4 8 4-6 4 5 4-3 4 5 4 3 4-5 4 10 4-2 4 0 4-1 4 3 4 5 4 6 4 5 4 5 4-1 4 13 4 0 4 0 4 7 4 5 4 10 4 13 4 3 4 16 4-5 4 1 4 5 4-4 4-5 4 1 4-11 4-3 4-21 4-15 4-15 4-31 4-30 4-17 4-25 4-28 4-5 4-18 4 5 4-4 4-11 4 0 4-9 4 13 4-10 4-3 4-3 4 1 4 5 4-5 4 2 4 1 4-5 4 4 4 2 4-2 4-4 4-5 4 4 4 11 4-3 4-15 4 12 4-4 4 4 4 9 4-5 4 4 4-6 4 2 4 11 4-8 4 1 4 0 4-4 4 2 4-5 4 20 4-15 4-6 4 14 4-6 4 4 4 9 4-18 4 13 4-6 4 1 4 0 4 3 4 6 4-16 4 3 4-10 4 12 4-12 4 11 4 16 4-19 4-5 4 3 4-11 4 9 4 9 4 10 4-3 4-15 4 16 4-9 4-9 4-3 4 0 4 17 4-10 4-5 4 14 4 3 4 0 4-4 4 6 4-34 1 28"/>
<path stroke="#0072BD" d="M98 498l4-3 4-8 4-2 4 1 4-4 4 1 4 0 4-5 4 0 4-1 4-2 4-11 4 2 4-5 4 1 4-7 4 0 4-6 4-7 4-6 4-12 4 2 4-13 4-5 4-6 4-13 4 3 4 0 4-13 4-2 4 4 4-10 4 4 4-4 4-6 4 6 4-2 4-4 4 6 4 6 4 2 4 6 4 5 4 0 4 19 4 4 4 1 4 7 4 0 4 5 4-5 4 1 4 8 4-7 4 4 4 10 4 1 4 2 4-1 4 2 4 4 4 2 4 3 4 2 4 7 4 1 4 6 4-1 4 4 4 3 4 10 4 2 4-7 4 8 4 7 4-2 4-3 4 6 4 11 4-2 4 3 4-4 4-10 4-7 4-2 4-6 4-13 4-33 4-31 4-36 4-31 4-34 4-16 4-22 4-17 4-16 4-3 4-6 4-8 4-1 4 2 4-6 4 0 4 2 4 3 4-3 4-1 4-7 4-2 4 20 4-15 4 2 4-1 4-3 4 8 4 10 4-16 4 3 4-4 4 2 4 4 4-4 4 5 4-3 4 7 4-6 4 0 4 6 4-3 4-9 4 12 4 5 4-15 4-3 4 11 4-1 4-1 4 7 4-7 4 7 4 13 4-11 4-4 4-10 4 14 4 4 4-5 4 1 4 4 4-12 4 5 4 9 4-6 4-6 4 18 4 2 4-10 4 2 4 4 4-4 4 8 4-27 4 14 4-3 4 11 4-10 4 28 4-17 4-9 4 9 4-5 4 20 4-17 4-6 4-2 4 7 4 6 1-20"/>
<path stroke="#D95319" d="M98 467l4-6 4-1 4-2 4-4 4 2 4-5 4 4 4-11 4 11 4-6 4-2 4-3 4-8 4-3 4 0 4-9 4 3 4-9 4-8 4-14 4-1 4-5 4-7 4-5 4-4 4-6 4-4 4-13 4-1 4-5 4-6 4-3 4-3 4-10 4 2 4-4 4-4 4 5 4-3 4-5 4 1 4 1 4-9 4 9 4-7 4 7 4-3 4 3 4-1 4-2 4 6 4-6 4-3 4 1 4 0 4 3 4-4 4 3 4-4 4 16 4-6 4 4 4 3 4 8 4-2 4 1 4 4 4 5 4 15 4-2 4 6 4 6 4 11 4 5 4 11 4 4 4 12 4-1 4 1 4-3 4-7 4 1 4-11 4-7 4-21 4-17 4-22 4-27 4-20 4-19 4-15 4-20 4-9 4-13 4 4 4-7 4-7 4 3 4 3 4-10 4-8 4 12 4 1 4-7 4 4 4 2 4-3 4-1 4-3 4-1 4 10 4-6 4-4 4-7 4 14 4 1 4-3 4 2 4 4 4 3 4 1 4-17 4 23 4-5 4 0 4 1 4 0 4-5 4 3 4 17 4-16 4-7 4 2 4 18 4-20 4 5 4 9 4-11 4 5 4 0 4-3 4 13 4-10 4 7 4-16 4 30 4-19 4 2 4-5 4-3 4-4 4 11 4-5 4 9 4-12 4-6 4 20 4 0 4-7 4-9 4 5 4 16 4-2 4-13 4-15 4 25 4-3 4 5 4-7 4-15 4 16 4 18 4-15 4 6 4-17 4-3 4 14 1-3"/>
<path stroke="#EDB120" d="M98 449l4-2 4-1 4-3 4-6 4 1 4-2 4-4 4-2 4 6 4-7 4-7 4 1 4-1 4 2 4-6 4-5 4-5 4-3 4-8 4-15 4-3 4-6 4-5 4-8 4-11 4-12 4-6 4-16 4 3 4-5 4-10 4-7 4 0 4-6 4-2 4 5 4-8 4 5 4-6 4-3 4 4 4 9 4 1 4-9 4 2 4 2 4 2 4-11 4 10 4-4 4-2 4 5 4-7 4 2 4 0 4 1 4 4 4 6 4-5 4 2 4 4 4-4 4 6 4 5 4 6 4-1 4 2 4-2 4 5 4 5 4 9 4 12 4 2 4 8 4 13 4 4 4 4 4 7 4 3 4-2 4-3 4-1 4-9 4-6 4-14 4-27 4-10 4-19 4-18 4-16 4-18 4-7 4-10 4-4 4-3 4-4 4-4 4-3 4-1 4 2 4-5 4 4 4-8 4 6 4-3 4 3 4 3 4-9 4-4 4 4 4 5 4-4 4-2 4 14 4-13 4 12 4-2 4 0 4-3 4 3 4-3 4-8 4 16 4-7 4 7 4-14 4 12 4-7 4 7 4 2 4-11 4 13 4 1 4-7 4 2 4-1 4 11 4-14 4 8 4-3 4 11 4-3 4-8 4 14 4-7 4-6 4 13 4-4 4 2 4-6 4-11 4 20 4-14 4 7 4 5 4-2 4-5 4 3 4 6 4-1 4-20 4-3 4 9 4 8 4-6 4-8 4 5 4-8 4 16 4 2 4-2 4-5 4-14 4 11 4 18 4-26 4 12 1-3"/>
<path stroke="#7E2F8E" d="M98 415l4 1 4-3 4 6 4-10 4 4 4-9 4-2 4 7 4-7 4-7 4 2 4-5 4-12 4-1 4-5 4-5 4-2 4-9 4-9 4-7 4-3 4-12 4-14 4-7 4 0 4-9 4-3 4-6 4-11 4-15 4 3 4-2 4-10 4 2 4-10 4-7 4-1 4-2 4-7 4 2 4-5 4-1 4 0 4-2 4 3 4 2 4-4 4 5 4-4 4 6 4-4 4-9 4-2 4 8 4-7 4 7 4-2 4-4 4 6 4-4 4 5 4 4 4 3 4 6 4-1 4 5 4 2 4 2 4 2 4 8 4 5 4 3 4 10 4 8 4 5 4 2 4-2 4 6 4 1 4-9 4 12 4-19 4-2 4-6 4-11 4-3 4 1 4-15 4 0 4-9 4-4 4 4 4-18 4 2 4 5 4-2 4 4 4-8 4 4 4 5 4-11 4 20 4-8 4-6 4 3 4 2 4 0 4-1 4 1 4 0 4-2 4-2 4 15 4-13 4 2 4-7 4-1 4 6 4 2 4-2 4 2 4-1 4-2 4 7 4 5 4-12 4 9 4-8 4 11 4 0 4-10 4 20 4-3 4-11 4 3 4 13 4-6 4-5 4 6 4-7 4 2 4 2 4-2 4-1 4-5 4 7 4 2 4-3 4 8 4 6 4-16 4 9 4-4 4 2 4 3 4-3 4-15 4 27 4-9 4-12 4 8 4-13 4 24 4-3 4-18 4 17 4-10 4-4 4 13 4 4 4 9 4-1 4-20 4-8 4 16 4-10 4 8 1-1"/>
<path stroke="#77AC30" d="M98 481l4 1 4-5 4 2 4-3 4 2 4 1 4-11 4-3 4 4 4-7 4 8 4-8 4-2 4-9 4 2 4-9 4-6 4-7 4-2 4-13 4 6 4-12 4-10 4 5 4-11 4-6 4-9 4-3 4 1 4-8 4-6 4-11 4-6 4 1 4 0 4-4 4-11 4-5 4 3 4 0 4-2 4-5 4 6 4-4 4-2 4 7 4-7 4 5 4-5 4 12 4-9 4 11 4-3 4-1 4 6 4 1 4 3 4 4 4-2 4 12 4-2 4 0 4 8 4 10 4 0 4 3 4 5 4 14 4 5 4-7 4 9 4 9 4 8 4 3 4 3 4 6 4 8 4-1 4-7 4 6 4 0 4-11 4-2 4-12 4-22 4-18 4-20 4-38 4-30 4-27 4-17 4-18 4-19 4 4 4-9 4-4 4-10 4-2 4 2 4-5 4 7 4 0 4-2 4 8 4-2 4-7 4 2 4 3 4-9 4 3 4 3 4 0 4-5 4-7 4 17 4-3 4 2 4-5 4 9 4-6 4-9 4 10 4 4 4-8 4-1 4 7 4-11 4 7 4-7 4 3 4 4 4 2 4-7 4 10 4 3 4-19 4 18 4-5 4 0 4-2 4 8 4-2 4-10 4 2 4 15 4-18 4 1 4 6 4 9 4-21 4-7 4 23 4 11 4-31 4 15 4-2 4 1 4 10 4-3 4 1 4-6 4 7 4-15 4 13 4-12 4 23 4-12 4-1 4 10 4-12 4 6 4-17 4 3 4 11 4 7 4-5 4-14 1 11"/>
<path stroke="#4DBEEE" d="M98 474l4 0 4 1 4-5 4 3 4-5 4-2 4-1 4 2 4-6 4-2 4-4 4 4 4-3 4-9 4-1 4-11 4 2 4-4 4-1 4-12 4-2 4-13 4-3 4-7 4-4 4-1 4-8 4-2 4-6 4-2 4-9 4-3 4 3 4-3 4 0 4-4 4-8 4 11 4 11 4-7 4 10 4 9 4 6 4-2 4 10 4-2 4 7 4 7 4-1 4-1 4 7 4 5 4-4 4-7 4 13 4 2 4 3 4-6 4 8 4 1 4 1 4 4 4 10 4-4 4 10 4 5 4-1 4 1 4 6 4 6 4 5 4 0 4 7 4 7 4 5 4 0 4 3 4 10 4-4 4-3 4-3 4 0 4 2 4-3 4-12 4-5 4-17 4-34 4-15 4-41 4-23 4-32 4-16 4-24 4-16 4-11 4-12 4-8 4 9 4-6 4-11 4 3 4-3 4 1 4-4 4 5 4-8 4 3 4-7 4 15 4-1 4-4 4 7 4-1 4-4 4 2 4-15 4 17 4-6 4 5 4 4 4-7 4-4 4 0 4 9 4-8 4 5 4 5 4-6 4 9 4-12 4 16 4 0 4 7 4-15 4 7 4 0 4-7 4-6 4 10 4 10 4-20 4 18 4-8 4-2 4-3 4 8 4-7 4 4 4 3 4 4 4-2 4 9 4 0 4-9 4-12 4 29 4-13 4-5 4 13 4-4 4-10 4 20 4-18 4 0 4 4 4-9 4 4 4 6 4-2 4 16 4-3 4-21 4 8 4-6 4-4 4 20 1-38"/>
<path stroke="#A2142F" d="M98 471l4-2 4-3 4-6 4-4 4 0 4 1 4-3 4-3 4-6 4-6 4-2 4 4 4-9 4-7 4-3 4-7 4 2 4-6 4-7 4-9 4-4 4-5 4 3 4-17 4-2 4 0 4-10 4-8 4-3 4-8 4 0 4-18 4 6 4-6 4 0 4-4 4-12 4 2 4-2 4-7 4-1 4 1 4-2 4 1 4 4 4-2 4 3 4-1 4 7 4-8 4 8 4-4 4 0 4 7 4-7 4 11 4-1 4 3 4 3 4 0 4 3 4 3 4 1 4 1 4 2 4 4 4 4 4 5 4-2 4 13 4 10 4 1 4 7 4 9 4 3 4 13 4-3 4 1 4 3 4-2 4-5 4 0 4-3 4-19 4-18 4-13 4-36 4-21 4-28 4-18 4-19 4-21 4-11 4-17 4-8 4 9 4-18 4 5 4-16 4 9 4-4 4 3 4-5 4 5 4-2 4 1 4-3 4 7 4 1 4-4 4 1 4 2 4 7 4-6 4 5 4 0 4-9 4 12 4 2 4-4 4-5 4 3 4 2 4-9 4 0 4 19 4-9 4 7 4-11 4 2 4-8 4 19 4-8 4-3 4-9 4 2 4-4 4 4 4-1 4 7 4 3 4-15 4 13 4-1 4-12 4 2 4 11 4-11 4-2 4 12 4-7 4-5 4 17 4-10 4 8 4-3 4 9 4-6 4-13 4 13 4-11 4-4 4 13 4-7 4 6 4 1 4 12 4-22 4-7 4 17 4 1 4-11 4 5 4 2 4-25 4 23 4 7 1 1"/>
<path stroke="#0072BD" d="M98 390l4 4 4-1 4-2 4 5 4-2 4 0 4-12 4 6 4-2 4-2 4-17 4 4 4-16 4 0 4 0 4-14 4-5 4 0 4-9 4-8 4-8 4-7 4-3 4-6 4-11 4-1 4-11 4-12 4 6 4-11 4-9 4-7 4-7 4 1 4-6 4-10 4-4 4-1 4-8 4-9 4 9 4-7 4-4 4-6 4 2 4-1 4-6 4-4 4 5 4-9 4 2 4 4 4 2 4-7 4 1 4-9 4 11 4-6 4-1 4 5 4-8 4 4 4 5 4-5 4-1 4 2 4-5 4 13 4-3 4 4 4 2 4 0 4 3 4 5 4 5 4 3 4 2 4 1 4 3 4-5 4 1 4-6 4 5 4-5 4-1 4-5 4-2 4 1 4-4 4 5 4-4 4 2 4-3 4-6 4 5 4-10 4 9 4-4 4 4 4-8 4 0 4 2 4 1 4-1 4-3 4 12 4-6 4 1 4-4 4 4 4 1 4-3 4-3 4 1 4 7 4-2 4-9 4 8 4 4 4-16 4 2 4 16 4-7 4-4 4 8 4-8 4-4 4 2 4 12 4-13 4 7 4-6 4 4 4 4 4 3 4-12 4-12 4 14 4 4 4-1 4-4 4 4 4-7 4-3 4 12 4-5 4 4 4 9 4-5 4-13 4 6 4 8 4-13 4 22 4-17 4-5 4 27 4-19 4 2 4-14 4 17 4 13 4-14 4-15 4 16 4-7 4 11 4-8 4-7 4 6 4-13 4 14 4-5 4 7 4-11 4 25 4-16 1-5"/>
<path stroke="#D95319" d="M98 548l4 2 4-5 4 7 4-8 4 3 4 4 4-5 4 1 4 0 4 2 4 2 4 3 4-7 4-3 4-2 4-10 4 1 4 2 4-7 4-7 4-4 4-13 4-7 4-6 4-14 4-10 4-1 4-14 4-2 4-4 4 1 4-3 4-8 4 2 4 1 4 0 4 2 4-1 4 5 4 2 4 9 4 2 4 4 4 8 4 4 4 5 4 6 4 5 4-4 4 5 4 4 4-2 4 7 4 1 4 2 4 2 4-1 4 3 4-4 4 6 4-3 4 6 4 1 4 1 4 5 4-1 4 6 4 3 4-1 4 6 4-1 4 1 4 3 4 1 4 6 4-4 4 4 4 3 4-4 4-6 4 6 4-10 4 4 4-12 4-7 4-9 4-11 4-29 4-25 4-30 4-34 4-19 4-30 4-18 4-13 4-26 4-6 4-13 4-10 4-1 4-5 4-6 4 1 4-6 4-8 4 10 4-6 4 3 4-7 4 10 4 0 4-4 4-11 4 16 4 4 4-3 4-9 4-1 4 6 4-1 4 9 4-9 4 3 4 3 4-9 4 0 4 8 4-4 4 12 4-5 4-14 4 14 4-1 4-12 4 20 4-9 4-9 4 7 4 3 4 1 4-8 4 7 4-8 4 3 4-1 4-7 4 11 4 4 4-7 4-1 4 3 4 12 4-17 4 19 4 2 4-22 4-4 4 15 4 5 4-18 4 24 4-11 4 6 4-10 4 3 4 11 4-17 4 4 4 8 4 3 4-2 4 13 4-10 4 1 4-8 4 8 4 3 1-7"/>
<path stroke="#EDB120" d="M98 545l4 5 4-2 4-1 4 2 4 6 4-3 4-2 4 0 4 0 4 3 4 2 4-5 4-3 4 2 4-5 4 0 4-3 4-2 4-6 4 0 4-11 4-9 4-5 4-6 4-13 4-8 4-7 4-10 4-5 4-5 4 1 4-2 4-2 4 6 4-7 4 3 4 3 4-1 4-1 4 10 4 4 4 0 4 5 4 3 4 9 4 6 4 4 4 1 4 3 4-2 4 0 4 8 4-4 4 7 4 2 4 4 4-3 4 4 4 2 4 9 4-4 4 0 4 9 4-10 4 6 4 0 4 5 4-1 4 1 4-2 4 11 4-6 4 10 4-2 4 3 4 0 4 4 4-3 4 2 4-3 4-3 4-3 4-4 4-11 4-7 4-15 4-20 4-21 4-29 4-35 4-29 4-28 4-17 4-23 4-18 4-16 4-14 4-9 4-2 4-20 4 1 4-9 4 4 4-9 4 6 4-13 4 6 4 1 4 12 4-3 4-8 4 1 4 0 4 0 4-8 4 8 4 0 4 2 4 3 4-7 4 4 4 1 4-3 4 1 4-3 4 0 4 12 4-3 4-10 4 8 4-5 4 8 4 10 4-1 4-9 4-1 4-17 4 10 4 0 4-1 4 16 4-10 4 1 4-13 4 18 4 5 4-10 4 2 4-2 4-1 4 1 4 6 4-2 4-21 4 23 4-9 4 12 4 6 4-21 4 6 4-10 4 3 4 7 4 9 4-24 4 17 4-19 4 14 4-2 4 3 4 2 4 6 4-24 4 32 4 7 4-18 4 10 1-16"/>
<path stroke="#7E2F8E" d="M98 367l4 2 4-4 4-7 4-5 4 1 4 3 4 0 4-12 4 11 4-9 4-5 4-5 4-4 4-2 4-11 4 2 4-11 4 1 4-18 4 7 4-11 4-3 4-8 4-11 4-11 4-1 4-15 4-4 4-9 4-13 4-5 4 2 4-16 4-4 4-10 4 3 4-6 4-4 4-2 4-6 4-7 4-1 4-5 4-4 4-6 4 12 4-7 4-2 4 1 4-4 4-4 4 1 4-5 4-5 4-2 4 3 4-13 4 13 4-6 4-8 4 6 4-4 4 2 4-1 4-2 4-6 4 3 4-1 4-3 4 3 4-1 4 7 4 0 4-2 4 0 4-4 4-7 4-1 4 6 4 5 4-6 4 4 4-8 4-8 4 10 4 0 4-4 4-1 4-3 4 6 4-2 4-7 4 5 4-9 4-1 4 4 4-4 4 4 4-2 4 3 4-8 4 2 4-1 4-2 4-1 4-2 4 9 4-5 4-2 4 8 4 1 4-6 4-10 4 5 4 16 4-10 4-6 4 6 4 3 4 1 4-1 4 11 4-19 4 12 4-8 4-6 4 12 4-14 4 13 4 5 4-11 4 1 4 8 4-1 4-9 4-16 4 13 4-13 4 16 4-10 4 11 4-3 4 10 4-11 4-5 4 12 4 2 4-8 4 18 4-13 4 13 4-10 4-2 4 13 4-21 4 17 4 1 4-8 4 17 4-4 4-13 4-20 4 12 4-1 4 6 4 7 4-8 4-7 4 15 4-17 4 13 4-22 4 10 4-2 4 20 4-33 4 10 1 8"/>
<path stroke="#77AC30" d="M98 449l4 6 4-8 4 4 4 6 4-3 4 3 4 1 4-9 4-1 4-2 4 10 4-9 4-8 4 3 4-6 4-18 4 0 4-5 4-4 4-19 4 2 4-6 4-18 4 0 4-1 4-15 4-5 4-1 4-10 4-10 4-6 4-3 4 3 4-10 4-2 4 4 4-9 4 1 4-6 4 2 4-10 4 6 4-2 4 0 4-7 4 7 4 4 4-4 4-6 4 1 4-7 4 10 4 0 4 3 4-2 4 1 4 0 4 10 4-9 4 8 4 4 4 3 4 1 4 1 4 2 4 7 4-1 4 18 4-2 4 3 4 7 4 10 4 11 4 6 4 3 4 9 4-1 4 10 4-2 4 3 4-6 4-9 4-5 4-7 4-25 4-5 4-21 4-21 4-6 4-17 4-12 4-13 4-7 4-2 4-2 4-2 4-10 4-3 4 4 4 0 4-6 4 8 4-2 4-12 4 7 4 3 4 11 4-14 4 7 4-8 4 0 4 4 4-3 4-4 4 1 4 7 4-3 4 4 4-1 4 7 4-13 4 7 4-2 4 9 4 6 4-6 4-7 4-1 4-6 4 8 4 2 4-6 4 5 4-3 4-4 4 19 4-17 4 20 4-10 4 1 4-3 4-10 4 12 4-2 4-2 4 10 4 4 4-13 4 0 4 2 4 3 4 7 4-13 4 11 4-14 4 17 4-3 4 1 4-17 4 15 4-10 4 14 4-20 4 13 4-6 4 5 4 14 4-22 4 9 4-14 4 34 4-5 4-19 4 2 4 29 4-15 4 2 1-12"/>
<path stroke="#4DBEEE" d="M98 536l4-7 4-2 4-4 4-1 4 0 4-5 4-3 4 5 4-3 4-3 4-8 4 6 4-3 4-2 4-4 4-3 4 2 4 0 4-20 4 3 4-17 4-8 4-11 4-5 4-15 4-9 4-9 4-8 4 4 4-6 4-3 4-2 4-5 4 0 4 2 4-6 4 4 4 8 4-7 4 13 4 5 4 2 4 5 4 2 4 4 4 6 4 3 4-2 4 4 4 5 4 5 4-1 4 7 4 4 4-5 4 5 4 7 4-4 4 10 4 1 4 4 4 5 4 4 4-2 4 6 4 13 4-5 4 13 4-2 4-2 4 8 4-5 4 8 4 0 4 3 4-1 4 0 4 11 4-4 4 0 4-3 4-1 4 0 4-1 4-7 4-15 4-22 4-25 4-39 4-34 4-35 4-20 4-31 4-18 4-16 4-20 4-5 4-6 4-6 4 2 4-1 4-18 4 7 4-1 4-1 4 2 4-1 4 3 4-6 4 2 4-6 4-3 4 15 4-9 4 6 4-14 4 12 4-4 4 9 4-9 4 12 4 4 4 8 4-12 4 2 4-2 4 6 4-4 4 1 4 6 4-17 4-2 4 12 4-2 4 0 4-1 4 10 4-7 4-10 4 13 4 0 4 4 4-3 4 12 4-14 4-8 4 5 4 2 4 1 4 0 4 8 4 7 4-28 4 11 4 21 4-29 4 16 4-11 4 9 4 5 4-12 4 10 4 19 4-26 4 6 4 0 4 2 4-7 4-10 4 5 4 7 4 2 4 9 4-25 4 38 4-9 4-8 1-3"/>
<path stroke="#A2142F" d="M98 462l4-1 4 5 4-10 4 0 4-5 4-3 4-1 4 1 4 9 4-10 4 0 4-1 4-10 4 1 4-9 4-9 4 5 4-10 4-7 4-6 4-1 4-2 4-21 4 0 4-8 4-5 4-6 4-12 4-9 4-7 4-3 4-8 4 2 4-14 4 2 4-1 4-10 4 0 4-11 4 4 4-2 4-3 4 12 4 0 4-6 4 7 4 2 4 0 4 5 4 4 4 4 4 2 4 0 4 2 4 11 4-1 4 5 4-4 4 3 4-2 4 12 4 0 4 3 4-1 4 2 4 2 4 3 4 3 4 5 4 5 4 3 4 9 4 4 4 6 4 3 4 7 4 8 4-4 4-3 4-1 4-4 4-2 4-13 4-7 4-11 4-21 4-17 4-32 4-25 4-12 4-25 4-13 4-11 4-9 4-3 4 1 4-13 4-8 4 7 4-2 4-4 4 2 4-7 4 10 4-8 4 13 4-3 4-8 4 3 4-4 4 11 4-5 4-5 4 9 4-10 4 5 4-3 4 16 4-12 4 7 4-3 4-4 4 8 4 6 4-10 4-14 4 4 4 3 4 7 4 4 4-8 4 2 4 7 4-13 4 7 4-2 4 1 4 0 4-3 4 9 4-16 4 4 4 4 4 9 4-13 4 16 4-17 4 12 4-12 4 6 4-11 4 18 4 16 4-29 4 14 4-6 4-4 4-1 4-3 4 14 4 1 4-12 4-1 4-2 4 14 4-3 4 3 4-7 4-21 4 40 4-7 4-26 4 6 4 16 4-12 4-18 4 30 1-10"/>
<path stroke="#0072BD" d="M98 556l4 1 4 0 4 0 4-1 4-1 4 2 4-1 4 2 4-6 4-2 4 2 4-5 4 5 4-5 4-6 4 0 4 0 4-6 4 0 4-9 4-6 4-5 4-10 4-11 4-8 4-8 4-7 4-6 4-5 4-8 4 4 4-4 4-3 4 8 4-5 4 5 4-1 4-1 4 6 4 6 4 3 4 4 4 6 4 6 4 1 4 9 4 4 4-1 4-3 4 9 4 1 4 4 4 1 4 2 4-1 4 4 4 3 4-3 4 8 4-4 4 5 4 3 4-1 4 2 4 0 4 3 4-4 4 4 4 1 4 7 4 0 4-3 4 3 4 3 4 2 4-3 4 8 4-2 4 2 4-7 4 5 4-6 4-8 4-2 4-10 4-11 4-18 4-26 4-18 4-34 4-35 4-26 4-15 4-25 4-16 4-16 4-7 4-11 4-15 4-6 4-6 4 0 4-14 4 4 4-14 4 11 4-3 4-3 4 5 4 4 4-2 4-3 4 3 4-13 4 13 4-7 4 0 4 4 4 7 4-8 4-2 4 5 4 1 4 13 4-6 4-4 4-2 4-3 4 7 4-2 4 7 4-9 4 0 4 6 4-6 4 8 4 2 4-1 4-14 4 23 4-11 4 3 4-3 4 11 4-15 4 0 4 6 4 1 4-3 4-7 4 18 4-22 4 13 4-8 4 13 4-22 4 14 4-12 4 20 4 1 4-14 4 4 4 3 4-7 4 8 4 7 4 15 4 4 4-27 4 1 4 15 4-14 4 8 4-2 4-9 4 26 4-19 1-2"/>
<path stroke="#D95319" d="M98 491l4-1 4 2 4-8 4-4 4 2 4 7 4-12 4 3 4-6 4 5 4-2 4-3 4-3 4-12 4 5 4-3 4-6 4-1 4-7 4-4 4-13 4 3 4-12 4-7 4-11 4-3 4-3 4 0 4-15 4 0 4 1 4 5 4-4 4 1 4-1 4-2 4 3 4 0 4-1 4 4 4 12 4-1 4-2 4 10 4 5 4 4 4-7 4 7 4 2 4 2 4 3 4-5 4 9 4 8 4-9 4 0 4 4 4 0 4 2 4 2 4-4 4 5 4 6 4 5 4 5 4 6 4 4 4 3 4 1 4 5 4 1 4 7 4 12 4 4 4 0 4-7 4 14 4 0 4 4 4 4 4-4 4 9 4-6 4-2 4-14 4-17 4-6 4-20 4-29 4-40 4-31 4-28 4-20 4-20 4-24 4-13 4-7 4-1 4-14 4-13 4 16 4-10 4 3 4-4 4 1 4-2 4 7 4-4 4 5 4-4 4 2 4 5 4-3 4 3 4-4 4 1 4 0 4 15 4-11 4 3 4-1 4-8 4 1 4 4 4-8 4 0 4 6 4-4 4-5 4 16 4 2 4-1 4-3 4-1 4-8 4 13 4-13 4 2 4 0 4 9 4 7 4-13 4 5 4 5 4-7 4 4 4 8 4-9 4 2 4 2 4-4 4 9 4-7 4 5 4-11 4 5 4 3 4-9 4 13 4 2 4-15 4 18 4-20 4 4 4 13 4 3 4-24 4 19 4 4 4 3 4 4 4-30 4 15 4 5 4 6 4-1 4-14 1 33"/>
<path stroke="#EDB120" d="M98 428l4 5 4-1 4-6 4-1 4-2 4 6 4-12 4-2 4 0 4-5 4-9 4 1 4-4 4-4 4-11 4 0 4-12 4 1 4-5 4-9 4-14 4-3 4-3 4-3 4-12 4-1 4-9 4-5 4-7 4-8 4-3 4-4 4-2 4-1 4-9 4 2 4-4 4-5 4-2 4-4 4 2 4-2 4 2 4 3 4-5 4-6 4 4 4-4 4 7 4 1 4-9 4 2 4 3 4 0 4-5 4 2 4-7 4-6 4 4 4 8 4-7 4-1 4 4 4-1 4 2 4 4 4-3 4 14 4 4 4 6 4-6 4 26 4-1 4 10 4 6 4 4 4 1 4 6 4 4 4-6 4-3 4-5 4-2 4-21 4-11 4-11 4-17 4-10 4-11 4-16 4-6 4-13 4-8 4-4 4-7 4 1 4-15 4 10 4-9 4-5 4-2 4 12 4-11 4-1 4 3 4-3 4 0 4 15 4-12 4-7 4-3 4 11 4 3 4-4 4-6 4 5 4-10 4 17 4-2 4-2 4 2 4-4 4 1 4 12 4-12 4 9 4-3 4 3 4-5 4 2 4-6 4 4 4-3 4-9 4 4 4 14 4-9 4-9 4 23 4-14 4 6 4-13 4 5 4-6 4 4 4 6 4 7 4 6 4-8 4-16 4 12 4-13 4 18 4 0 4-3 4-9 4 9 4-10 4 18 4-12 4-10 4-6 4-5 4 17 4 11 4-19 4 29 4-20 4 0 4 13 4-1 4 2 4-10 4-15 4-10 4 12 4 14 1 2"/>
<path stroke="#7E2F8E" d="M98 375l4 0 4-3 4-1 4-2 4 5 4 2 4-5 4 0 4-4 4-6 4 5 4 0 4-12 4-7 4-1 4-8 4-4 4-10 4-13 4-3 4-1 4-10 4-9 4-8 4-9 4-10 4-7 4-8 4-8 4-7 4-2 4-12 4 3 4-9 4-12 4 3 4-9 4-2 4 0 4-8 4-1 4-4 4-5 4 0 4-10 4 1 4 3 4-10 4 0 4-2 4 3 4-4 4-3 4-2 4-3 4-4 4 6 4-17 4 10 4-6 4 5 4 2 4-6 4 2 4-8 4 9 4-4 4 4 4 3 4 6 4 2 4 10 4-1 4 3 4-4 4 3 4 4 4 1 4-2 4-3 4-2 4-8 4 0 4-13 4-3 4-6 4-3 4-13 4 4 4-7 4 0 4-4 4-6 4 5 4-8 4-6 4 14 4-9 4-3 4 1 4-3 4-5 4 3 4 3 4 0 4-14 4 9 4-6 4 16 4-7 4 2 4 2 4-1 4-2 4-1 4-11 4 11 4-3 4 3 4 4 4-3 4-5 4-2 4 14 4-6 4-2 4-4 4 8 4-7 4 8 4-8 4 11 4-16 4 6 4-2 4-4 4-6 4 21 4-12 4 5 4-3 4-4 4-8 4 14 4 2 4-11 4 2 4 5 4 2 4-8 4 6 4-11 4 3 4 4 4-9 4 2 4 12 4-8 4-6 4 11 4-16 4 20 4-18 4 2 4-3 4-8 4 6 4-7 4 21 4-6 4-8 4 19 4-19 4 6 4-6 4 5 4 10 1 8"/>
<path stroke="#77AC30" d="M98 407l4-9 4 6 4 1 4-4 4-8 4 6 4-7 4 5 4-10 4 8 4-7 4-3 4-17 4-5 4-4 4-2 4-6 4-4 4-5 4-3 4-12 4-12 4-5 4 3 4-14 4-6 4-3 4-4 4-14 4-1 4-9 4-15 4 4 4-5 4-1 4-6 4-3 4 0 4-5 4-7 4-1 4-6 4 0 4-2 4-6 4 3 4 5 4-6 4-7 4-2 4 2 4 1 4-12 4 5 4-8 4 2 4 0 4 1 4 2 4 1 4-1 4 6 4-7 4 4 4 5 4 3 4 6 4-3 4 8 4 5 4 10 4-3 4 8 4 13 4-3 4 1 4 7 4-4 4 5 4-14 4-4 4-8 4-11 4-9 4-21 4-10 4-10 4-13 4-11 4-11 4-23 4 5 4-12 4-1 4-17 4 7 4-6 4 3 4-14 4 2 4 5 4-5 4 3 4-5 4 0 4 7 4 3 4-4 4-3 4-1 4 5 4-5 4 9 4-10 4 5 4 6 4 3 4-2 4 1 4-6 4 3 4-11 4 16 4-11 4-8 4 7 4-3 4 1 4 4 4-7 4 10 4-11 4 4 4 2 4 9 4-21 4 8 4 2 4 2 4-6 4-1 4-4 4 0 4 8 4 7 4-23 4 5 4 4 4 3 4 3 4 11 4-13 4-1 4 5 4-17 4 9 4 6 4-2 4-18 4 22 4-17 4-4 4-1 4 15 4 3 4-28 4 30 4-18 4-3 4-1 4-6 4 31 4-17 4-4 4 1 4 3 4 6 1-10"/>
<path stroke="#4DBEEE" d="M98 553l4 0 4 0 4 3 4-3 4 0 4 6 4-2 4-1 4 0 4-5 4 2 4 3 4 0 4 0 4-3 4-8 4 5 4-8 4 1 4-5 4-8 4-12 4-4 4-9 4-10 4-2 4-19 4 1 4-9 4-7 4 3 4 1 4-8 4 3 4-4 4 2 4 2 4-4 4 6 4-1 4 12 4 5 4 4 4 1 4 8 4 3 4-2 4 5 4 0 4 3 4 5 4 2 4-1 4 2 4 4 4 3 4-3 4 4 4 4 4 4 4 3 4-4 4 9 4-5 4 9 4 4 4-7 4 7 4-2 4 5 4 4 4-1 4 4 4 0 4 3 4 5 4-5 4 3 4-1 4-2 4 3 4-8 4-5 4-10 4-6 4-12 4-15 4-24 4-24 4-37 4-31 4-23 4-24 4-23 4-18 4-11 4-22 4-6 4-10 4-6 4-2 4-9 4-1 4 0 4-6 4-4 4 0 4 1 4 4 4-2 4-1 4 7 4-11 4 3 4 8 4-15 4-2 4 18 4-6 4 4 4-8 4 12 4-9 4 1 4-4 4 17 4-6 4-2 4-7 4 6 4-4 4 2 4 8 4-4 4 2 4 0 4 4 4-10 4 3 4 15 4-17 4 9 4 6 4-17 4 8 4-2 4 4 4-1 4 13 4-18 4 11 4-5 4 1 4 7 4 3 4-8 4-11 4 15 4 0 4-5 4 5 4-15 4 7 4-18 4 21 4-18 4 25 4-7 4 12 4-6 4 0 4-9 4-8 4 17 4 12 4-15 4 2 1 4"/>
<path stroke="#A2142F" d="M98 509l4 0 4-2 4 3 4-7 4 5 4-11 4-2 4-2 4 10 4-3 4-3 4-9 4 4 4-9 4 2 4-5 4 4 4-5 4-10 4-5 4-6 4-14 4-12 4-1 4-11 4-12 4-2 4-8 4-4 4-6 4-2 4 1 4 2 4-8 4 7 4-6 4-1 4-7 4 9 4 5 4 8 4 5 4 9 4 7 4-3 4 3 4 6 4 2 4 2 4-5 4 11 4-6 4 11 4 1 4 1 4 0 4 0 4 4 4 2 4 5 4 4 4 4 4 7 4-9 4 12 4 6 4 5 4 0 4 6 4-3 4 3 4 11 4-3 4 5 4 5 4 3 4 5 4-2 4 11 4-8 4 2 4 7 4-10 4-7 4-8 4-9 4-13 4-27 4-30 4-23 4-40 4-29 4-23 4-23 4-23 4-4 4-8 4-8 4-1 4-5 4-2 4-7 4 4 4-4 4-1 4 6 4-7 4-6 4 10 4-2 4-5 4 0 4 5 4 4 4-4 4 9 4-1 4 0 4-5 4 9 4-7 4 12 4-3 4 0 4-7 4-7 4 20 4-10 4 2 4-3 4 7 4-8 4 17 4-18 4-3 4 14 4-6 4 8 4-5 4 0 4 16 4-24 4 1 4-8 4 13 4-2 4-8 4 21 4-17 4 6 4-17 4 15 4-9 4 11 4 22 4-37 4 3 4 0 4 11 4-12 4 19 4-1 4-15 4 2 4-9 4 24 4-11 4 0 4-4 4 22 4-11 4 6 4-8 4-24 4 24 4-8 4 11 1 10"/>
<path stroke="#0072BD" d="M98 481l4 7 4-8 4 7 4-10 4 0 4-6 4 5 4-3 4 3 4-4 4-1 4-1 4-3 4-5 4 1 4-7 4-8 4-4 4-5 4 2 4-8 4-6 4-10 4-8 4-10 4-1 4-5 4-10 4 1 4 1 4-9 4 2 4-5 4-4 4 1 4 4 4-1 4 5 4-5 4 7 4 9 4 5 4 4 4 10 4 1 4 1 4 10 4-2 4 4 4 7 4-2 4 6 4-6 4 6 4-2 4 1 4-6 4 5 4 3 4-4 4 10 4-3 4 4 4 3 4 1 4 9 4-5 4 7 4 4 4 5 4 5 4-5 4 15 4 7 4 2 4 12 4-8 4 7 4 1 4 2 4-5 4-7 4 7 4-12 4-6 4-13 4-16 4-27 4-34 4-31 4-24 4-38 4-20 4-28 4-8 4-16 4 2 4-18 4-4 4-8 4 1 4-2 4 0 4 10 4-14 4 4 4 0 4-1 4 5 4-1 4-1 4-2 4-4 4 5 4-1 4 8 4-14 4 3 4 3 4 12 4-9 4 10 4-4 4 2 4 3 4-8 4-7 4 13 4-9 4 6 4 2 4-3 4-1 4 7 4 3 4-3 4 14 4 2 4-14 4-5 4 3 4 2 4 2 4 1 4-5 4 0 4 2 4-2 4-5 4 15 4 3 4-21 4 18 4-2 4-9 4 6 4-10 4 9 4-6 4 4 4-2 4 8 4 2 4-7 4 11 4-20 4 13 4 2 4-18 4 21 4 1 4-12 4 8 4-2 4-2 4-5 4 11 1-16"/>
<path stroke="#D95319" d="M98 490l4-3 4-4 4 0 4 5 4-2 4-12 4 4 4-7 4 3 4-3 4 1 4-9 4-6 4-3 4-7 4-3 4 3 4-14 4-7 4-1 4-13 4 1 4-10 4-9 4 3 4-15 4-3 4-9 4 0 4-7 4-6 4-5 4 0 4-11 4 6 4-7 4-5 4 2 4-7 4 4 4 0 4-3 4-3 4 8 4-3 4 8 4 0 4 1 4 0 4 3 4 6 4 2 4 0 4-1 4-6 4 10 4-4 4 0 4 11 4 3 4-5 4 11 4-7 4 8 4-1 4 4 4 11 4-6 4 6 4 14 4 4 4 0 4 7 4 8 4 5 4 8 4 2 4-2 4 13 4 1 4-15 4 0 4-9 4-6 4-15 4-18 4-21 4-35 4-40 4-25 4-27 4-22 4-9 4-19 4 3 4-7 4-7 4-2 4 2 4-6 4 10 4-10 4-3 4 3 4 1 4-2 4 5 4-14 4 9 4 2 4-1 4-2 4 5 4 4 4-12 4 9 4 0 4 8 4-12 4-2 4 2 4 2 4 13 4-18 4 6 4 6 4-6 4 3 4 0 4 5 4-3 4 2 4-5 4 5 4-4 4 2 4-4 4-2 4 4 4-6 4 6 4-19 4 10 4-1 4 17 4-7 4-3 4-4 4 1 4-1 4 11 4-22 4 12 4-2 4 4 4 0 4 1 4-13 4 17 4-7 4-5 4 22 4-3 4 2 4-12 4 19 4-11 4-2 4 3 4 13 4-32 4 24 4-1 4-17 4 16 4 0 4 4 1-5"/>
<path stroke="#EDB120" d="M98 427l4-1 4-6 4 7 4-4 4-5 4 1 4 0 4-10 4 8 4-10 4 2 4-8 4-4 4 0 4-12 4 0 4-7 4-10 4-2 4-11 4-6 4-5 4-11 4-6 4-2 4-3 4-10 4-15 4-1 4-6 4-6 4-3 4-1 4-4 4-3 4-4 4-6 4-2 4-5 4 5 4-6 4-6 4 5 4-9 4 2 4 5 4-5 4-1 4 2 4 3 4-3 4 2 4 1 4-8 4 0 4 11 4-10 4-2 4 2 4-2 4 3 4 3 4 4 4-5 4 2 4-4 4 19 4-1 4 5 4 4 4 3 4 13 4 8 4 1 4 6 4 12 4-2 4-1 4 1 4-9 4-4 4-16 4-7 4-14 4-31 4-22 4-17 4-25 4-16 4-21 4-11 4-18 4-10 4-10 4-1 4-5 4-4 4-3 4-5 4-4 4 6 4-5 4-5 4 6 4 0 4-1 4 5 4-3 4 5 4-10 4-2 4 11 4-5 4-2 4-2 4 7 4 5 4-10 4 5 4-1 4 4 4-7 4 0 4-5 4-5 4 9 4 1 4-4 4 2 4 3 4-13 4 4 4 1 4 11 4-14 4-8 4 8 4-1 4 4 4-6 4 7 4 2 4-2 4 0 4-10 4 12 4-10 4-10 4 23 4-15 4-6 4 9 4-1 4-7 4-3 4 9 4-4 4-5 4 18 4-14 4 2 4-5 4 5 4-8 4 8 4 8 4-20 4-5 4 1 4 9 4 3 4-3 4 4 4-3 4 11 4-20 4 17 1 1"/>
<path stroke="#7E2F8E" d="M98 417l4-4 4 6 4-6 4-3 4 3 4-11 4 0 4 4 4-2 4 1 4 0 4-9 4-4 4 3 4-11 4-3 4-1 4-13 4-2 4-9 4-9 4-2 4 3 4-15 4-12 4-6 4 5 4-18 4-7 4-8 4-11 4-2 4-1 4-10 4-2 4 2 4 6 4-9 4-5 4-2 4-1 4 2 4-10 4-1 4 4 4-5 4 0 4 1 4-11 4 1 4 1 4-1 4-6 4-1 4-4 4-3 4 3 4-3 4 3 4 1 4 1 4 5 4 8 4-4 4-1 4 4 4 7 4 4 4 10 4 0 4 8 4 13 4 5 4 4 4 7 4 8 4 4 4-5 4 4 4-5 4-7 4-3 4-18 4-1 4-22 4-13 4-18 4-9 4-16 4-14 4-15 4-14 4-5 4-5 4-3 4-16 4 13 4-14 4 3 4-3 4 1 4 0 4 5 4 7 4-8 4 3 4-12 4 14 4-7 4 4 4-2 4-3 4-1 4-2 4 6 4-8 4-6 4 11 4 4 4-7 4-5 4 18 4-16 4 9 4 6 4 1 4-13 4 18 4-13 4 7 4 2 4-9 4-4 4 4 4 5 4-1 4 1 4-5 4-2 4-2 4 1 4-4 4 2 4-3 4-1 4-3 4 12 4 3 4-13 4 15 4-7 4-8 4 5 4 10 4-8 4 0 4-3 4 8 4-13 4-14 4 8 4 25 4-12 4-5 4-13 4 4 4 14 4-6 4 2 4 3 4-4 4 14 4-7 4-19 4 27 4-10 4 7 1-16"/>
<path stroke="#77AC30" d="M98 447l4-4 4 5 4-1 4-4 4 9 4-12 4-1 4-1 4 3 4-8 4 2 4-8 4-8 4 2 4-7 4-5 4-5 4-16 4-2 4-2 4-9 4-5 4-12 4-6 4-9 4-8 4-9 4-11 4-1 4-6 4-10 4-3 4-1 4-6 4-5 4 2 4-3 4-10 4 3 4-1 4 2 4-10 4 6 4 1 4 3 4-7 4 9 4-7 4 4 4 5 4-3 4 2 4 1 4 2 4-2 4 2 4 2 4-8 4 11 4-4 4-2 4 6 4 2 4 3 4 6 4-5 4 11 4 0 4 6 4 1 4 11 4 5 4 11 4 8 4 1 4 6 4 6 4 3 4-4 4-2 4-5 4-7 4-10 4-7 4-4 4-17 4-11 4-26 4-14 4-13 4-8 4-5 4-11 4 4 4-10 4-10 4 1 4 2 4 1 4-6 4-3 4-1 4 4 4 2 4 2 4 6 4-7 4 6 4-9 4 6 4 2 4-10 4 8 4-3 4 7 4-3 4-3 4 7 4-9 4-1 4 1 4 9 4-10 4 12 4-13 4 8 4-4 4 2 4 5 4 5 4 0 4-18 4 2 4 18 4-14 4 5 4-7 4 16 4-7 4 7 4 1 4-17 4 10 4-10 4 6 4 11 4-10 4-1 4-13 4 14 4-12 4-3 4 13 4-2 4 8 4 1 4 0 4-15 4 10 4 16 4 9 4-13 4-5 4-1 4 10 4-3 4 4 4-21 4 11 4-4 4 2 4 7 4-14 4 8 4 2 4-4 4 5 1-13"/>
<path stroke="#4DBEEE" d="M98 452l4-2 4-7 4 4 4-1 4-6 4 2 4-4 4 0 4 3 4-4 4 1 4-14 4 6 4-10 4 1 4-12 4-3 4 1 4-13 4-13 4-1 4 0 4-17 4 2 4-9 4-4 4-8 4-4 4-11 4-10 4-15 4 2 4-4 4-5 4-5 4 8 4-11 4-7 4 12 4-10 4-2 4-2 4 8 4 3 4-6 4 3 4 4 4-5 4 12 4-6 4-1 4-3 4 9 4-1 4 1 4-4 4 12 4-3 4 5 4 0 4-1 4 0 4 3 4 10 4 3 4-3 4 3 4 9 4 0 4 6 4 6 4 5 4 12 4 2 4 9 4 7 4 3 4-2 4-1 4-1 4-9 4-5 4-4 4-20 4-23 4-22 4-19 4-31 4-24 4-16 4-11 4-17 4-10 4-11 4-10 4-4 4-7 4 4 4-3 4-1 4-4 4 4 4 2 4 2 4-13 4 16 4 2 4-15 4 5 4 1 4-2 4 9 4 3 4-7 4 4 4-2 4-1 4 4 4-5 4 13 4-10 4-3 4 4 4 2 4-4 4 5 4-2 4 1 4-13 4 19 4-6 4 0 4-5 4 11 4-6 4 8 4-11 4 9 4-7 4-13 4 19 4-10 4-11 4 4 4 16 4-16 4 3 4 0 4 14 4-22 4 12 4 9 4-9 4-3 4-10 4 8 4 5 4-5 4-5 4 6 4-2 4 7 4 3 4-8 4-9 4 5 4-4 4-7 4 10 4-6 4 4 4 10 4-22 4 3 4 24 4-11 4-4 1 17"/>
<path stroke="#A2142F" d="M98 428l4 1 4-3 4-7 4 5 4-3 4-2 4-2 4-4 4 1 4-3 4-9 4 3 4-10 4-5 4-8 4-8 4 7 4-5 4-13 4-11 4-1 4 0 4-15 4-13 4 1 4-5 4-4 4-6 4-8 4-7 4-5 4-8 4-3 4-7 4 0 4-11 4 2 4-5 4-5 4-4 4 0 4-2 4-2 4-3 4-3 4-3 4 0 4 3 4 5 4-12 4 3 4 3 4-11 4 5 4-2 4 3 4-8 4 1 4-2 4 3 4 2 4-1 4 8 4 1 4-1 4 6 4 11 4 4 4 0 4 10 4 5 4 8 4 18 4 4 4 9 4 3 4 4 4 4 4 3 4 4 4-7 4-13 4-9 4-13 4-15 4-12 4-18 4-11 4-8 4-8 4-14 4-11 4-2 4-6 4-10 4 2 4 1 4-13 4 5 4-1 4 9 4-8 4-6 4 1 4 10 4-7 4 9 4-6 4 0 4 0 4-3 4-2 4 3 4 1 4 0 4 13 4-6 4-4 4 0 4 1 4 2 4 0 4-8 4 16 4-10 4-3 4 2 4 3 4 1 4 9 4-12 4-3 4 0 4 6 4 3 4 5 4-13 4-7 4 13 4-7 4 3 4-1 4-10 4 5 4-1 4 9 4-3 4 2 4 0 4-17 4 7 4 3 4 4 4-2 4 2 4-4 4-4 4-1 4-8 4 8 4 12 4-17 4 13 4-12 4 5 4 0 4 9 4 19 4-7 4-24 4 24 4-8 4-3 4 7 4-20 4 0 4 7 1 18"/>
<path stroke="#0072BD" d="M98 526l4 1 4-5 4 0 4 0 4-1 4-8 4-1 4 1 4 9 4-3 4-2 4 7 4-12 4 6 4-10 4 4 4-8 4 1 4-4 4-14 4-6 4-9 4-14 4-14 4-13 4-3 4-7 4-12 4-1 4-4 4-6 4-7 4 1 4 7 4-15 4 12 4-5 4 5 4-5 4 6 4 3 4 9 4 6 4 0 4 15 4 2 4 4 4-1 4 3 4 4 4-3 4 3 4 6 4 6 4-11 4 9 4 5 4 0 4 2 4 6 4-2 4 6 4 5 4-2 4 9 4-2 4 7 4 5 4-1 4 9 4 0 4 1 4 10 4 4 4-3 4 1 4 13 4-8 4-1 4 6 4-6 4 3 4-1 4-5 4-11 4-5 4-15 4-24 4-32 4-25 4-46 4-29 4-15 4-25 4-19 4-12 4-17 4 1 4-2 4-4 4-6 4 4 4-2 4-1 4-11 4 5 4 9 4-8 4 16 4-14 4-3 4 1 4-1 4 2 4 4 4-3 4 0 4 6 4-9 4 6 4-10 4-9 4 0 4-3 4 16 4 0 4-6 4 9 4-9 4 7 4-5 4 5 4-11 4 3 4 3 4 13 4-14 4 11 4 8 4-10 4-4 4 18 4-15 4 8 4 0 4-4 4 6 4 3 4-12 4 26 4-25 4 17 4-19 4 19 4-20 4 25 4-28 4 14 4 3 4 1 4-11 4 11 4-7 4 4 4 12 4-26 4 17 4-4 4 0 4 2 4-16 4 12 4 7 4-3 4 4 4 8 4-23 1 22"/>
<path stroke="#D95319" d="M98 425l4 3 4-6 4 1 4-4 4 2 4-10 4 15 4-7 4-1 4 0 4-4 4-7 4-12 4-9 4-4 4 0 4-11 4-5 4-6 4-10 4 1 4-9 4-13 4-5 4 1 4-13 4-4 4-5 4-2 4-6 4-5 4-1 4-15 4 1 4-2 4 1 4-4 4-11 4 4 4-6 4 5 4-8 4-2 4 4 4 2 4-9 4 1 4 1 4 3 4-2 4-2 4 6 4-4 4 2 4-4 4-1 4-5 4-2 4 8 4-13 4 9 4-1 4 7 4-5 4 7 4 2 4 5 4-1 4 4 4 8 4 5 4 13 4 10 4 5 4 10 4 1 4 2 4 0 4 4 4 1 4 2 4-14 4-3 4-13 4-10 4-3 4-15 4-12 4-2 4-8 4-4 4-4 4-2 4-12 4 2 4-6 4-4 4 7 4-7 4 6 4-4 4-3 4 1 4 6 4-6 4-1 4 14 4-4 4-1 4 8 4-15 4 13 4 5 4-8 4-18 4 7 4 1 4-5 4 12 4-10 4 10 4 2 4-7 4 1 4 4 4 1 4-6 4 10 4-12 4 2 4 5 4 5 4-6 4 2 4-1 4 10 4-10 4-13 4 15 4 6 4-16 4-4 4 13 4 2 4 2 4-16 4 5 4 25 4-27 4 9 4 5 4-2 4-2 4 3 4-2 4 7 4 0 4 0 4-4 4 15 4-20 4 19 4-21 4 9 4-2 4 15 4-12 4-5 4 11 4 21 4-45 4 24 4-12 4 8 4-13 4 13 4-5 1 1"/>
<path stroke="#0072BD" d="M1031 448l4-6 4-1 4-1 4-1 4 2 4-8 4 5 4-5 4-5 4-6 4 0 4 3 4-4 4-6 4-6 4 0 4-2 4-10 4-9 4 0 4-17 4-8 4-7 4-1 4-16 4-6 4-7 4-8 4-9 4 0 4-11 4 8 4-16 4-3 4-3 4-4 4-7 4-11 4 1 4-1 4 4 4-1 4 0 4 3 4 0 4 6 4-2 4 4 4 1 4 9 4-6 4 1 4 0 4 4 4 5 4-10 4 5 4 5 4-4 4 2 4 8 4-10 4 4 4 10 4-1 4-3 4 8 4 2 4 2 4 10 4-5 4 14 4 2 4 9 4 6 4 5 4 4 4 7 4 0 4-4 4-7 4-1 4-14 4-19 4-8 4-26 4-11 4-21 4-17 4-8 4-12 4-6 4 1 4-13 4-1 4-5 4-6 4 0 4-12 4 6 4 8 4-7 4 0 4-7 4 7 4-4 4 2 4 1 4-2 4 1 4-7 4 6 4-8 4 9 4 3 4-5 4 1 4-11 4 0 4 6 4-1 4-4 4 14 4-14 4 4 4-6 4 9 4-1 4-5 4 4 4-7 4 3 4-3 4 5 4-9 4 0 4 2 4-1 4 7 4-7 4 2 4-5 4 13 4-7 4-3 4-6 4 8 4-1 4 6 4-13 4 0 4 0 4-4 4-4 4 19 4-13 4-6 4 13 4-4 4-7 4-3 4 12 4-15 4 2 4 3 4-4 4 1 4 0 4-1 4-4 4 2 4 4 4 5 4-9 4-5 4 9 4-9 1 14"/>
<path stroke="#D95319" d="M1031 459l4-2 4-6 4 4 4 2 4-7 4-4 4-3 4 6 4-4 4-1 4-4 4 0 4-9 4-6 4-11 4 10 4-17 4-2 4-9 4-2 4-16 4-9 4 0 4-10 4-5 4-8 4-7 4-8 4-15 4-2 4 3 4-6 4-3 4-8 4-1 4 1 4-7 4 2 4-9 4 11 4-4 4 1 4-4 4 5 4 0 4-2 4 3 4-1 4 0 4 9 4-5 4 2 4-1 4 4 4-10 4 7 4 1 4 3 4 5 4-5 4-1 4 8 4 0 4 13 4-5 4 3 4 4 4 6 4 6 4 6 4 5 4 8 4 7 4 6 4 13 4 0 4 5 4 11 4-7 4 6 4-13 4-11 4-20 4-25 4-26 4-38 4-33 4-21 4-36 4-27 4-13 4-19 4-13 4-7 4-9 4 6 4-11 4-2 4 1 4 2 4-4 4 4 4-11 4 2 4-10 4 8 4 3 4 1 4-10 4 5 4 3 4-15 4 6 4 6 4 2 4-3 4 2 4-4 4-13 4 23 4-11 4-9 4 7 4 7 4-4 4 3 4-17 4 16 4-3 4-1 4 1 4-2 4 3 4 1 4-4 4-5 4 1 4 3 4 5 4 8 4-13 4-2 4-5 4 7 4-2 4-2 4 5 4 2 4-12 4 18 4-12 4 2 4-8 4 16 4-4 4 11 4-13 4-1 4 3 4-4 4 2 4 4 4 1 4-11 4 16 4-8 4-10 4 9 4-1 4-18 4 25 4-7 4-6 4-1 4 7 4-9 4-2 1-9"/>
<path stroke="#EDB120" d="M1031 441l4-5 4 2 4-7 4 0 4-1 4-5 4-1 4-4 4-1 4 3 4-13 4 3 4-7 4-6 4-3 4-5 4-5 4-5 4-14 4-7 4-10 4-7 4-8 4-10 4-4 4-8 4-9 4-10 4-6 4-5 4-9 4-3 4 0 4-12 4-6 4-2 4-9 4-12 4 4 4 1 4-9 4 1 4 1 4-2 4 3 4-2 4 1 4-3 4 3 4-2 4-1 4 2 4-6 4 0 4 3 4 8 4-8 4 0 4 1 4 3 4-1 4-2 4 15 4-7 4 4 4 4 4 1 4 12 4-2 4 5 4 1 4 5 4 15 4-4 4 10 4 13 4-3 4 0 4 0 4 1 4-7 4-7 4-3 4-10 4-16 4-12 4-1 4-16 4-9 4 1 4 0 4-3 4-8 4-1 4-5 4 7 4-11 4 3 4 4 4 1 4-5 4-4 4 0 4 5 4 2 4-6 4-2 4 7 4 0 4 1 4-1 4-4 4-1 4 9 4-10 4 0 4-1 4 7 4-3 4 0 4 0 4-2 4 10 4-4 4 0 4-3 4 1 4-1 4-1 4-4 4 6 4 2 4 5 4-10 4 3 4 14 4-19 4 16 4-7 4-6 4 9 4 2 4 0 4-7 4-3 4-1 4-1 4 3 4 3 4-3 4-4 4 7 4 4 4-10 4 2 4 10 4-3 4-4 4 4 4-3 4-6 4 11 4-5 4 3 4 4 4-7 4 16 4-17 4 2 4 9 4-7 4-5 4 1 4-2 4 4 4-20 4 18 1 9"/>
<path stroke="#7E2F8E" d="M1031 480l4 0 4-10 4 0 4-9 4 4 4 1 4-14 4 5 4-5 4-1 4-2 4-9 4-5 4-3 4-8 4-6 4 3 4-5 4-13 4-2 4-8 4-11 4-2 4-8 4-8 4-3 4-13 4-6 4-2 4-9 4 0 4 0 4-6 4-1 4-7 4-1 4 3 4-12 4 1 4 6 4-2 4 4 4 0 4 1 4 10 4-1 4 0 4-11 4 12 4 11 4-5 4-4 4 13 4-1 4-5 4 3 4 2 4 0 4 7 4-5 4 5 4 13 4-2 4-1 4 2 4-4 4 8 4 1 4 6 4 8 4-2 4 4 4 11 4 2 4 7 4 3 4 12 4 2 4 6 4-2 4-1 4-15 4-5 4-13 4-23 4-29 4-23 4-32 4-15 4-22 4-29 4 3 4-9 4-5 4-6 4-1 4-3 4-7 4 7 4-14 4 9 4 3 4 0 4-2 4 4 4-2 4-1 4-3 4-2 4 9 4-1 4-5 4 3 4 9 4-2 4-5 4-1 4-3 4 4 4-2 4-3 4 20 4-12 4 4 4 0 4-7 4 6 4-1 4-8 4-1 4 6 4-10 4 12 4-1 4-13 4 11 4-7 4 3 4 7 4-10 4-2 4-2 4 13 4 2 4-3 4 7 4-1 4-7 4-3 4 2 4-4 4-1 4 3 4 11 4 0 4-6 4 2 4-12 4 0 4 7 4-8 4 9 4-15 4 29 4-26 4 13 4 4 4-8 4-2 4 2 4-2 4-2 4 3 4 10 4-8 4 15 4-15 1 21"/>
<path stroke="#77AC30" d="M1031 466l4-1 4-1 4 2 4-8 4 0 4-3 4-1 4-8 4-3 4 1 4-5 4-2 4-3 4-7 4-8 4-6 4 0 4-5 4-5 4-6 4-8 4 6 4-19 4-6 4 1 4-12 4-3 4-17 4 0 4-7 4 3 4 6 4-8 4-3 4-9 4 7 4-6 4-6 4 0 4 0 4-6 4 0 4 0 4 5 4 1 4 4 4 8 4-8 4 3 4 4 4-2 4-1 4 7 4-6 4 8 4 1 4-10 4 2 4 12 4 0 4-5 4 11 4 2 4 4 4 9 4 0 4-1 4 4 4 13 4 4 4-2 4 19 4 0 4 4 4 7 4 14 4 5 4 1 4 2 4-7 4 6 4-5 4-14 4-4 4-16 4-39 4-17 4-31 4-27 4-29 4-11 4-4 4-7 4-15 4 1 4 4 4 0 4-6 4 0 4-4 4 3 4-2 4-2 4 3 4 6 4-20 4 7 4 9 4-4 4 1 4-5 4 3 4 8 4-5 4 7 4-13 4 6 4 3 4-7 4 2 4-3 4-5 4 3 4-2 4 0 4 5 4-2 4 2 4-2 4 6 4-9 4 14 4-15 4 14 4-9 4 5 4-9 4 5 4 7 4-9 4-1 4 2 4-5 4 19 4-18 4-2 4 6 4 2 4 4 4-8 4-8 4 8 4 20 4-19 4 0 4 2 4 9 4-7 4-2 4 10 4-8 4-6 4 12 4 4 4-9 4 6 4-6 4-2 4-6 4 7 4 16 4-17 4 11 4-7 4-3 4 4 4-1 1 5"/>
<path stroke="#4DBEEE" d="M1031 518l4-1 4-2 4-1 4 0 4-10 4 0 4 3 4-1 4-7 4 6 4-10 4-9 4 1 4 1 4-2 4-12 4 1 4-16 4-11 4 1 4-8 4-4 4-9 4-4 4-7 4 4 4-15 4-4 4-2 4-2 4-2 4-5 4-5 4-3 4 7 4-5 4 12 4-6 4 2 4 8 4 4 4-3 4 10 4 11 4 2 4 7 4-1 4 11 4-1 4-4 4 0 4 6 4 2 4 3 4 7 4-1 4-4 4 2 4 3 4 6 4 7 4-7 4 11 4-10 4 14 4 3 4 7 4-2 4 3 4 7 4-2 4 2 4 7 4-6 4 9 4 1 4 4 4-2 4-1 4 2 4 3 4-11 4-3 4-9 4-23 4-24 4-34 4-28 4-45 4-30 4-25 4-16 4-25 4-19 4-18 4-3 4-8 4 1 4-4 4-14 4 4 4 7 4 1 4-5 4 2 4 7 4 0 4-9 4 2 4-7 4 10 4 0 4-3 4 1 4 4 4 1 4 1 4-10 4 4 4 1 4 8 4-6 4-3 4-1 4 4 4-1 4-3 4 10 4-8 4 4 4-9 4 5 4 4 4 3 4-7 4-3 4 8 4-3 4-4 4 1 4 14 4-5 4-11 4 17 4-6 4-1 4 2 4 1 4-2 4 0 4-11 4 11 4-7 4 9 4-2 4 8 4-15 4 7 4 3 4-16 4 8 4 7 4 2 4 1 4 3 4-2 4-9 4 6 4-5 4-2 4 1 4 10 4-13 4 14 4 11 4-18 4-14 1 8"/>
<path stroke="#A2142F" d="M1031 498l4-3 4-2 4-7 4 5 4-9 4-6 4 3 4 1 4 5 4-13 4 2 4-6 4-6 4-7 4-1 4-3 4 0 4-11 4-3 4-8 4-3 4-6 4-6 4-11 4 2 4-5 4-4 4-5 4-11 4 1 4-9 4 3 4-8 4-1 4 7 4-9 4 15 4-14 4 7 4 12 4 10 4 0 4 9 4 0 4 5 4 11 4-2 4 11 4 3 4 1 4 0 4-4 4 13 4-3 4 7 4-12 4 13 4 1 4 0 4-1 4 10 4-3 4 9 4 0 4 1 4 0 4 1 4 2 4 10 4-6 4 7 4 2 4 1 4 7 4 1 4 6 4-3 4 0 4 15 4-14 4 2 4-5 4-4 4-6 4-22 4-24 4-28 4-49 4-27 4-31 4-9 4-25 4-16 4-19 4 0 4-5 4-14 4-6 4 5 4-3 4-5 4-2 4-1 4-1 4 6 4-3 4-2 4 3 4-1 4 4 4-1 4 0 4 6 4-11 4 5 4 0 4 3 4-1 4 3 4-2 4-5 4 2 4 0 4 7 4-7 4 7 4-12 4 5 4-3 4 5 4 6 4-9 4-3 4 15 4-5 4-4 4 6 4-1 4 4 4 6 4-6 4 5 4-6 4 0 4 8 4-10 4-1 4-5 4 25 4-4 4-22 4 19 4-11 4 4 4-2 4-2 4-3 4 4 4-15 4 10 4 1 4 9 4-8 4 6 4 7 4 6 4-2 4-2 4-20 4 7 4 19 4-5 4 4 4-11 4 7 4 2 4-21 1 5"/>
<path stroke="#0072BD" d="M1031 486l4-8 4 7 4-6 4 2 4-8 4-5 4 9 4-5 4-4 4 4 4-10 4-4 4 2 4-12 4 2 4-1 4-4 4-4 4-12 4 4 4-4 4-7 4-7 4-6 4-2 4-10 4-4 4-5 4-6 4-6 4-6 4 4 4-13 4 0 4 3 4 8 4-6 4 4 4 0 4 11 4 8 4 4 4 15 4 5 4 2 4 5 4-3 4 9 4-2 4 8 4-2 4-1 4 8 4-9 4 2 4 4 4-9 4 14 4-4 4 10 4 2 4-3 4 5 4 6 4 5 4 2 4 8 4 3 4 1 4-2 4 2 4-4 4 1 4 5 4 2 4 6 4 1 4-3 4 12 4-9 4-1 4 5 4-7 4-7 4-17 4-18 4-35 4-42 4-38 4-20 4-29 4-21 4-16 4-18 4-12 4-1 4-9 4 3 4-7 4 0 4 0 4-5 4 9 4-2 4 1 4 2 4-11 4 0 4 3 4 6 4-7 4-1 4 3 4 8 4-9 4 5 4-3 4 1 4-5 4 4 4 3 4 2 4-5 4 9 4-7 4 1 4 5 4 4 4-10 4 5 4-10 4-2 4 4 4-5 4 12 4-5 4 2 4-5 4 4 4 4 4-13 4 14 4-1 4-1 4 3 4-2 4-15 4 21 4-7 4 9 4-1 4-2 4-4 4 2 4-1 4-5 4 11 4-5 4-3 4 8 4 4 4-7 4-7 4 4 4 6 4 5 4-17 4 18 4-10 4-6 4 10 4 7 4-8 4-4 4 11 4-8 4-5 1 7"/>
<path stroke="#D95319" d="M1031 480l4-11 4 2 4-7 4 1 4 1 4-9 4 4 4-4 4-7 4 2 4-9 4-1 4-7 4 0 4-5 4-9 4-1 4-4 4-7 4-8 4-13 4 6 4-8 4-8 4-4 4-18 4-5 4-4 4-5 4-8 4 1 4-2 4-3 4-1 4-4 4 6 4-11 4 8 4-7 4-4 4 4 4 4 4-1 4 1 4 9 4-5 4 11 4 5 4-5 4-2 4 3 4 2 4 3 4-2 4 6 4-10 4 8 4 6 4-3 4 3 4-4 4 6 4 6 4 2 4-2 4-1 4 4 4 5 4 9 4 6 4 0 4 6 4 9 4 0 4 8 4 5 4 3 4 9 4 6 4-5 4-8 4 1 4-13 4-10 4-31 4-28 4-21 4-36 4-18 4-19 4-11 4-10 4-9 4-7 4 7 4-11 4-2 4 5 4 0 4-2 4-6 4 5 4-3 4-8 4 12 4-5 4 7 4-1 4-2 4-1 4-6 4 15 4-8 4-3 4-1 4 6 4-7 4 9 4 2 4-14 4 9 4 0 4-7 4 9 4 4 4-16 4 10 4-6 4 3 4-4 4-3 4 2 4 6 4 8 4-9 4-1 4 13 4-1 4-15 4 17 4-14 4 10 4-9 4 10 4-6 4 2 4 4 4-5 4 3 4-10 4 12 4-5 4 6 4-5 4-2 4 3 4-3 4 9 4 7 4-9 4-9 4 5 4-3 4 4 4-1 4-14 4 7 4-5 4 14 4-15 4 26 4-5 4-27 4 24 4-17 4 22 4 4 1-21"/>
<path stroke="#EDB120" d="M1031 430l4-4 4 2 4-8 4-2 4-8 4 4 4-1 4-1 4-7 4 0 4-2 4 0 4-8 4-9 4 3 4-5 4-8 4-8 4-7 4-14 4 0 4-9 4-14 4-6 4-8 4-7 4-9 4-5 4-11 4-3 4-5 4-8 4 1 4-9 4-10 4-7 4-5 4-15 4 7 4-7 4 3 4-4 4-4 4 9 4-6 4 1 4-6 4 5 4-1 4-9 4 6 4-5 4-2 4-5 4 3 4 1 4-9 4 8 4-5 4 1 4 3 4 3 4 2 4 2 4-2 4 3 4-1 4 10 4 4 4 2 4 7 4-5 4 17 4 3 4 2 4 0 4-1 4 2 4 2 4 0 4-11 4-7 4-14 4-13 4-4 4-26 4-13 4-7 4-13 4-11 4 2 4-10 4-6 4 4 4-16 4-1 4-1 4-6 4-1 4 3 4-7 4 2 4-3 4 5 4 1 4-6 4 2 4-2 4-3 4-8 4 4 4 6 4 8 4-10 4-6 4 3 4-4 4 3 4 1 4-3 4 6 4-4 4-2 4 2 4-10 4-2 4 1 4 2 4 6 4-10 4 11 4-4 4 6 4-2 4 3 4 1 4 1 4 3 4-1 4 5 4-4 4-3 4-1 4-8 4 12 4-2 4-3 4-2 4-9 4 10 4-1 4-2 4 5 4-13 4 12 4 4 4-16 4 6 4 2 4-3 4 8 4-6 4-4 4 10 4-8 4-5 4 9 4-4 4 2 4-1 4-2 4-3 4 24 4-23 4-20 4 7 4 12 1 0"/>
<path stroke="#7E2F8E" d="M1031 462l4-2 4-8 4-2 4 3 4-7 4-1 4-6 4 3 4-8 4 6 4-11 4 2 4-2 4-11 4-7 4 5 4-3 4-5 4-10 4-11 4-4 4-8 4-9 4-11 4-6 4-6 4-12 4-8 4-5 4-6 4 1 4-8 4-3 4-2 4-3 4 4 4-9 4 2 4-4 4 5 4-10 4 2 4 0 4 5 4 3 4 1 4 7 4 1 4-6 4 5 4 0 4 0 4 0 4 0 4 3 4-2 4-3 4 5 4-4 4 9 4-6 4 6 4-4 4 15 4 8 4-6 4 6 4 9 4 4 4 2 4 10 4 8 4-2 4 11 4 11 4 2 4 4 4 1 4 9 4-10 4-4 4-7 4-11 4-18 4-21 4-17 4-31 4-15 4-19 4-16 4-15 4-6 4-13 4-5 4-7 4-4 4 1 4 2 4 1 4-5 4-1 4-1 4-4 4 6 4 4 4-14 4-1 4 8 4 3 4-2 4-6 4-8 4 3 4 7 4 2 4-5 4-7 4-4 4 9 4-2 4 3 4-13 4 10 4-10 4 4 4 0 4-7 4 14 4-8 4-1 4-1 4-8 4 4 4 7 4-3 4-3 4 6 4 6 4-5 4 0 4-3 4 2 4-2 4-7 4 9 4 3 4-11 4 0 4 9 4 4 4-3 4-3 4-9 4 3 4 8 4-3 4 2 4-10 4 1 4-1 4-2 4-2 4 0 4 3 4 3 4-1 4-5 4-2 4 11 4-2 4-8 4 17 4-21 4 3 4 6 4 1 4 17 1-28"/>
<path stroke="#77AC30" d="M1031 450l4 0 4-4 4 1 4-8 4-5 4 0 4-7 4-3 4 0 4 1 4-1 4-11 4 0 4-3 4-1 4-6 4-15 4-6 4-3 4-8 4-5 4-11 4-12 4 4 4-5 4-16 4-3 4-10 4-7 4-1 4-3 4-4 4-4 4-8 4 0 4-11 4 0 4-10 4-4 4-4 4-1 4-2 4 0 4-1 4-3 4 2 4 1 4-10 4 8 4-1 4-6 4 7 4 5 4-7 4 1 4-3 4 9 4-6 4 6 4 4 4 8 4 5 4-5 4 10 4 7 4 0 4 6 4 1 4 11 4 2 4 7 4 10 4 2 4 4 4 4 4 8 4 7 4-2 4 1 4-4 4-1 4-8 4-19 4-2 4-21 4-15 4-20 4-17 4-14 4-19 4-6 4-4 4-4 4-7 4-3 4-3 4 0 4-12 4 2 4 9 4 0 4-11 4 4 4-2 4-6 4 6 4-4 4 5 4-4 4 1 4-11 4 7 4-6 4 5 4-5 4-4 4-3 4 0 4 6 4 6 4-2 4-1 4-1 4-6 4 4 4-2 4 4 4-9 4 14 4-11 4 10 4-11 4 7 4-8 4 6 4 8 4-5 4-2 4-3 4-1 4 2 4-11 4 4 4 1 4-8 4 10 4 1 4-2 4 0 4-2 4-3 4 4 4 5 4-6 4 0 4-3 4 11 4-3 4-8 4 2 4 7 4 3 4-19 4 7 4 2 4 4 4 5 4 4 4-8 4-12 4 10 4-3 4 9 4 16 4-18 4 8 4 8 1-10"/>
<path stroke="#4DBEEE" d="M1031 549l4 7 4-2 4-5 4 0 4 1 4 5 4-1 4-1 4-1 4-1 4-1 4-3 4-4 4 0 4-9 4 1 4-4 4-3 4-7 4-10 4-2 4-13 4-6 4-1 4-11 4 1 4-9 4-4 4-5 4-4 4-2 4-4 4-1 4 0 4-1 4 0 4 2 4 2 4 1 4 3 4 5 4 2 4 2 4 5 4 4 4 4 4 8 4 0 4 1 4 5 4 1 4 2 4 6 4 0 4 4 4 5 4-2 4 0 4 2 4 3 4 11 4-3 4 5 4-6 4 4 4 5 4 0 4 3 4-2 4 3 4 1 4 2 4 7 4-1 4 2 4 0 4 2 4-4 4 9 4-1 4-1 4 3 4-5 4-6 4-6 4-10 4-15 4-25 4-28 4-41 4-40 4-23 4-22 4-18 4-18 4-18 4-16 4-9 4-10 4-16 4 3 4-7 4-8 4-4 4-11 4 10 4-6 4-6 4-3 4-3 4 11 4-11 4 10 4-12 4 12 4-11 4 2 4 6 4-7 4 5 4 4 4-4 4-1 4 4 4-11 4 12 4-3 4-7 4 14 4-15 4 4 4 13 4-4 4-1 4-5 4 6 4 1 4-11 4-5 4 2 4 3 4 3 4 3 4-7 4 3 4 5 4-5 4 7 4-1 4 7 4-23 4 7 4 11 4 0 4 3 4-7 4 4 4-5 4 21 4-13 4 3 4-3 4-2 4-15 4 25 4-7 4-6 4-3 4 9 4 8 4-12 4 15 4-17 4 12 4-5 4-9 4 14 1-4"/>
<path stroke="#A2142F" d="M1031 479l4-14 4 1 4-9 4 9 4-7 4-8 4 1 4 1 4-6 4 3 4-11 4-2 4-2 4-5 4-14 4 2 4-4 4-15 4-1 4-6 4-3 4-13 4-4 4-9 4 0 4-9 4-14 4 6 4-13 4-7 4 3 4-1 4-12 4 3 4 4 4-9 4-3 4 0 4 4 4-3 4-6 4 7 4 7 4-13 4 6 4 0 4 10 4-6 4 3 4-7 4 12 4-4 4 2 4-3 4-8 4 8 4 1 4-2 4 0 4 7 4-5 4 1 4 4 4 4 4 5 4 4 4 11 4-1 4 1 4 10 4 0 4 9 4 3 4 13 4 0 4 10 4 12 4 5 4 4 4-2 4-2 4-5 4-7 4-20 4-15 4-28 4-26 4-26 4-19 4-18 4-9 4-16 4-2 4-14 4-5 4 1 4-9 4 3 4-4 4 4 4-4 4 7 4-8 4-1 4 3 4 0 4-2 4 3 4 4 4-4 4-4 4 1 4-4 4 10 4-5 4 3 4 8 4-9 4 4 4-2 4-2 4 2 4 4 4-8 4 9 4 1 4-9 4 3 4 7 4 1 4 6 4-3 4 7 4-12 4 3 4-2 4 6 4-1 4-9 4 2 4-2 4 7 4 4 4-7 4 2 4-7 4-3 4 13 4-23 4 14 4-1 4 4 4-8 4 8 4 0 4-1 4-1 4 0 4-13 4 21 4 11 4-33 4 6 4 12 4-6 4-2 4-2 4 4 4 2 4 5 4-21 4 27 4 1 4-10 4-5 4 18 4-19 1 14"/>
<path stroke="#0072BD" d="M1031 520l4 3 4 1 4-5 4-4 4 3 4-6 4-2 4-5 4 3 4 2 4-8 4-8 4 1 4-10 4-8 4 2 4-13 4 0 4-12 4-3 4-7 4-10 4-10 4 1 4-10 4-6 4-1 4-11 4-3 4 1 4-12 4 0 4 3 4 1 4-1 4 8 4-1 4-4 4 8 4 6 4 2 4 7 4 5 4 0 4 12 4 4 4 4 4 4 4 3 4-3 4 4 4 9 4-7 4-1 4 7 4 4 4 1 4 0 4-7 4 8 4 3 4-3 4 6 4 1 4 5 4-2 4 10 4 7 4-5 4 9 4 4 4-9 4 11 4-4 4 4 4 3 4-1 4 6 4-1 4 7 4-3 4-3 4-10 4-9 4-9 4-26 4-37 4-42 4-31 4-31 4-26 4-23 4-11 4-17 4-9 4-7 4-7 4 1 4-6 4-7 4 0 4 6 4-5 4 2 4-4 4 7 4-1 4-5 4 1 4 4 4-7 4 2 4 1 4-6 4 7 4-4 4 9 4-9 4-1 4 6 4 3 4-4 4 6 4-2 4 2 4 8 4-8 4-1 4-2 4 4 4-1 4 0 4 1 4 0 4 5 4-3 4-1 4-3 4 2 4 3 4-1 4-3 4-1 4-6 4 2 4 2 4 1 4-1 4 5 4-4 4 10 4-5 4 4 4-7 4 3 4-14 4 14 4 2 4 1 4 1 4-6 4 4 4 1 4 3 4-3 4 20 4-4 4-7 4 1 4-9 4-1 4 16 4-8 4-15 4-6 4 7 4 12 1 7"/>
<path stroke="#D95319" d="M1031 462l4 7 4-7 4-1 4-3 4-3 4-7 4 4 4 5 4-6 4-2 4-6 4 1 4-8 4 1 4-7 4-4 4 0 4-8 4-4 4-4 4-4 4 2 4-6 4-11 4 5 4-5 4-11 4-6 4 0 4-16 4 8 4-5 4-1 4-4 4 4 4-7 4 9 4-14 4 10 4 12 4 5 4 7 4 12 4 8 4-1 4 11 4-3 4 10 4-1 4 5 4-2 4 2 4 0 4 4 4 2 4 7 4-2 4 3 4-5 4 4 4 3 4 3 4 3 4 1 4 0 4 3 4 2 4-3 4 6 4 4 4 2 4-3 4 7 4 7 4 0 4 5 4 2 4-1 4 0 4 4 4 0 4-1 4-4 4-15 4-18 4-18 4-45 4-35 4-20 4-31 4-24 4-22 4-13 4-21 4-4 4 0 4-13 4 2 4-10 4-1 4-1 4 3 4 4 4-7 4 6 4-3 4 3 4 3 4-6 4 7 4-4 4 0 4-2 4 1 4 2 4-8 4 11 4-4 4 12 4-8 4 3 4-5 4-2 4 0 4-1 4 10 4-4 4 0 4 1 4 3 4-4 4-4 4 8 4-11 4 9 4 0 4-10 4 1 4 2 4 7 4 3 4-13 4 4 4-1 4 11 4-6 4-3 4-2 4 5 4-8 4 8 4 7 4-7 4-6 4-2 4 5 4 7 4-16 4 12 4 8 4-11 4 6 4 7 4-1 4-9 4 6 4-2 4 0 4 5 4-7 4 1 4-4 4 24 4-18 4 12 4-21 4 24 1-2"/>
<path stroke="#EDB120" d="M1031 444l4-7 4 4 4-4 4-1 4 3 4-1 4-5 4-4 4-1 4-4 4-5 4-1 4-4 4-2 4-7 4-10 4-8 4-7 4-10 4-9 4-7 4-7 4-9 4-18 4 7 4-16 4-10 4-10 4-10 4-2 4-7 4-6 4-12 4 5 4-9 4-10 4 0 4-4 4-1 4-1 4 8 4-12 4 11 4-1 4 1 4 2 4 6 4 5 4-8 4 5 4-6 4 5 4-4 4 3 4-7 4 0 4 0 4 5 4-4 4-1 4-3 4 5 4 0 4 2 4 1 4 1 4-1 4 2 4 7 4-4 4 13 4-1 4 10 4-3 4 14 4 0 4 9 4 8 4-5 4-1 4 1 4-7 4-14 4-13 4-13 4-9 4 3 4-16 4-7 4-13 4-1 4-4 4-6 4 0 4 1 4-9 4-2 4-2 4 4 4-1 4-4 4 4 4-6 4 4 4 2 4 6 4-9 4-1 4-5 4 2 4-9 4 8 4-1 4-5 4 4 4-9 4 6 4 3 4-4 4-8 4 4 4-5 4 5 4 4 4-6 4 2 4-9 4 2 4 3 4 3 4-12 4 9 4-10 4 6 4-5 4 10 4-11 4 1 4-2 4 7 4-7 4 5 4 4 4-9 4 6 4 0 4 4 4-1 4-12 4 16 4-7 4 5 4-2 4-14 4 10 4-18 4 14 4-7 4 3 4 5 4-6 4-1 4 5 4-11 4 2 4 1 4 8 4-10 4 0 4 8 4 4 4-7 4-16 4 4 4 1 4-7 4 9 1 18"/>
<path stroke="#7E2F8E" d="M1031 553l4-2 4 5 4-3 4 4 4-4 4 4 4-1 4-1 4 1 4 0 4-1 4-2 4-4 4-1 4-1 4-4 4-1 4-5 4-2 4-13 4-4 4-12 4-5 4-5 4-10 4 3 4-5 4-15 4-1 4-5 4-1 4-1 4-2 4 6 4-5 4 0 4 1 4 1 4 2 4 1 4 3 4 5 4 4 4 2 4 8 4 0 4 6 4 0 4 1 4 7 4 2 4 4 4 5 4 3 4-6 4 7 4 0 4 5 4 5 4-4 4 6 4 0 4 1 4 5 4 2 4-3 4 5 4 0 4 1 4 5 4-4 4 2 4 3 4-4 4 7 4-2 4 5 4 2 4-1 4 5 4-1 4-6 4-1 4-8 4-4 4-13 4-17 4-23 4-32 4-32 4-37 4-30 4-19 4-21 4-15 4-20 4-11 4-15 4-10 4-9 4-7 4-4 4-8 4-7 4 3 4 0 4-16 4 7 4-2 4-5 4 1 4-4 4 6 4 0 4 2 4 7 4-4 4 0 4 3 4-12 4 6 4-1 4 1 4-6 4 7 4-1 4-3 4 7 4 4 4-12 4 3 4-9 4 8 4 2 4 1 4-7 4 6 4 1 4 1 4-10 4 2 4 11 4-3 4-2 4-1 4 4 4-6 4 3 4 3 4-5 4-3 4 10 4-7 4-13 4 17 4 14 4-15 4 5 4-7 4 2 4 2 4 6 4-4 4-2 4 7 4-7 4-6 4 12 4 1 4 1 4 2 4 20 4-5 4-9 4-13 4 4 4 7 1 1"/>
<path stroke="#77AC30" d="M1031 551l4-5 4 3 4-10 4 5 4 2 4 1 4-8 4 3 4 3 4 3 4-5 4-1 4-3 4 4 4-13 4 8 4-5 4-10 4-10 4-5 4-10 4-5 4-8 4-10 4-9 4-1 4-3 4-4 4-6 4-2 4-5 4-1 4-4 4 1 4 4 4 2 4-2 4 6 4 3 4 3 4 0 4 5 4 6 4 5 4 0 4 6 4-2 4 3 4 2 4 3 4 0 4 5 4 1 4 4 4-1 4 9 4 0 4-2 4 11 4 0 4 4 4 3 4-4 4 6 4 0 4-1 4 6 4 0 4-4 4 4 4 3 4 0 4 5 4-1 4 2 4 10 4-4 4 6 4 0 4-3 4 1 4 6 4-9 4 1 4-14 4-11 4-14 4-19 4-30 4-41 4-36 4-19 4-23 4-16 4-26 4-9 4-15 4-14 4-2 4-19 4-5 4-6 4-5 4 0 4-7 4-4 4 2 4 2 4-10 4 1 4 8 4-6 4 4 4-6 4-8 4 11 4-2 4-7 4 6 4-6 4 5 4 1 4 1 4 5 4-5 4 1 4-2 4 8 4-1 4 0 4-6 4 11 4-4 4 1 4-1 4-8 4 7 4-5 4 8 4-6 4-6 4 3 4 5 4-3 4 4 4 2 4-13 4 6 4 1 4-3 4 14 4 2 4 0 4-6 4-5 4 14 4-12 4 6 4 1 4 12 4-18 4 0 4 9 4-2 4-9 4 0 4 3 4 2 4-4 4 7 4 0 4-5 4 2 4-1 4-6 4 15 4 13 1-11"/>
<path stroke="#4DBEEE" d="M1031 416l4 3 4-5 4-7 4 1 4-7 4-2 4-3 4-7 4 2 4-5 4 4 4-11 4-8 4-5 4-3 4-3 4-3 4-11 4-10 4-3 4-5 4-16 4-11 4-5 4-5 4-14 4-5 4-17 4 2 4-6 4-4 4-6 4-8 4-6 4-1 4-13 4-11 4-5 4 0 4-4 4 1 4-11 4 5 4-4 4-3 4-2 4 1 4-5 4 8 4-10 4 3 4-4 4-2 4 2 4-10 4-2 4 7 4-8 4-4 4 5 4 0 4-4 4 2 4 6 4-1 4 2 4-7 4 5 4-1 4 4 4-4 4 9 4 1 4 2 4 1 4 2 4-2 4-7 4-5 4 15 4-5 4-2 4-8 4 6 4-11 4 5 4-5 4-1 4-5 4 4 4-1 4-3 4 6 4-8 4 4 4-7 4 5 4-7 4 4 4-1 4 2 4-6 4-1 4-2 4 3 4-1 4 6 4-12 4 11 4-6 4-8 4 13 4-7 4-6 4-2 4-1 4 2 4 8 4-11 4 3 4-7 4-2 4 0 4-1 4 1 4 6 4-8 4 3 4-6 4 7 4-4 4 0 4 6 4 11 4-12 4-5 4 1 4-5 4 6 4 2 4 0 4-9 4 18 4-9 4 0 4 1 4 10 4-8 4 5 4-5 4 4 4-3 4-1 4 13 4-23 4 18 4-4 4-5 4 5 4-4 4-6 4-1 4 13 4-11 4-7 4 13 4 1 4 5 4-5 4 10 4-12 4 7 4-1 4-11 4-2 4 10 4 4 1-24"/>
<path stroke="#A2142F" d="M1031 465l4 3 4-11 4 12 4-7 4-5 4 0 4 0 4 2 4-2 4 2 4-1 4-5 4-5 4 0 4-9 4 5 4-12 4-5 4 1 4-4 4-9 4-12 4 3 4-4 4-3 4-11 4-7 4-1 4-10 4-3 4 5 4 3 4-15 4 3 4-1 4-2 4 2 4-7 4 13 4 9 4 0 4 15 4 6 4 2 4 2 4 11 4 9 4-3 4 9 4-15 4 10 4 3 4 2 4-2 4-3 4 2 4 6 4-1 4 11 4-1 4 0 4-4 4-1 4 5 4 8 4 5 4 1 4 6 4-5 4 10 4 5 4-9 4 10 4 4 4 3 4 10 4-7 4 16 4-3 4-8 4-8 4 5 4-2 4-16 4-17 4-18 4-44 4-41 4-27 4-21 4-24 4-22 4-15 4-14 4-5 4-13 4 1 4-11 4 2 4-4 4-2 4-1 4 0 4-4 4 9 4-3 4 5 4-2 4-5 4 2 4 4 4-1 4 4 4-7 4 3 4 2 4-1 4 5 4-2 4 3 4-2 4 0 4 0 4-9 4 10 4 7 4-19 4 15 4-13 4 14 4-9 4 11 4-6 4-4 4 4 4 1 4-2 4-4 4 6 4 3 4 5 4-3 4 0 4-1 4-10 4 8 4-3 4 0 4-4 4 1 4 4 4 3 4-1 4 1 4 1 4 5 4-11 4 2 4-7 4 12 4-10 4 13 4-8 4 3 4-4 4 8 4 4 4-5 4 12 4 6 4-20 4-7 4-2 4 2 4 15 4 5 4-29 1 39"/>
<path stroke="#0072BD" d="M1031 511l4 0 4-7 4 3 4-10 4 2 4 2 4-3 4 0 4-4 4-4 4-6 4 2 4-6 4-9 4 2 4-2 4-8 4-9 4-2 4-12 4-2 4-9 4-10 4 1 4-3 4-18 4 0 4-4 4 1 4-12 4-5 4 7 4-9 4-2 4 5 4 0 4-2 4 11 4-4 4 6 4 6 4 9 4 2 4 3 4 15 4 0 4 7 4 3 4 2 4 3 4-2 4-1 4 8 4-3 4 5 4 3 4-9 4 13 4-2 4 0 4 3 4 3 4-4 4 3 4 10 4 3 4-2 4-1 4 13 4 3 4 5 4 0 4 3 4 0 4 1 4 4 4 1 4 5 4-3 4 2 4 0 4 0 4-9 4-12 4-20 4-30 4-32 4-42 4-36 4-31 4-28 4-21 4-18 4-10 4-6 4-15 4 1 4-8 4 0 4 0 4 2 4-9 4-2 4 10 4-6 4-6 4 7 4 3 4-9 4 13 4-6 4 4 4-11 4 16 4-3 4-1 4-11 4 10 4 7 4-8 4 0 4 3 4-9 4 2 4 15 4-6 4-9 4 16 4-3 4-10 4 5 4-1 4-1 4 9 4-14 4 10 4-13 4 0 4 2 4 9 4-12 4 11 4-2 4 4 4 0 4-3 4 3 4-4 4 5 4-11 4 6 4-5 4 5 4 7 4 2 4 3 4-21 4 13 4-6 4 2 4 13 4-2 4-2 4-8 4 5 4-2 4 18 4-17 4 0 4 15 4-8 4-6 4 6 4 6 4-21 4 19 4-2 1-4"/>
<path stroke="#D95319" d="M1031 491l4-5 4 3 4-3 4-7 4 3 4 0 4-5 4 6 4-4 4-3 4-2 4-11 4 3 4-7 4-2 4-3 4-10 4-2 4-9 4-8 4 0 4-6 4-5 4-2 4-13 4 4 4-7 4-13 4-7 4 5 4-12 4 0 4 2 4-6 4 1 4-2 4 4 4-3 4 8 4 6 4 11 4 1 4 5 4 5 4 8 4-1 4 8 4 5 4-2 4 2 4 1 4 9 4-1 4 0 4 7 4 5 4-3 4 6 4-3 4-1 4 9 4-2 4 5 4-1 4 4 4 4 4 5 4 3 4 1 4 5 4 0 4 5 4 2 4 5 4-2 4 4 4-3 4 14 4-9 4 3 4 6 4-9 4-5 4-9 4-11 4-35 4-27 4-46 4-24 4-38 4-29 4-13 4-19 4-14 4-9 4-8 4-10 4-4 4 5 4-4 4 1 4-2 4-1 4 1 4 2 4-2 4-9 4 4 4-7 4 15 4-5 4-5 4 14 4-5 4-9 4 12 4-1 4 2 4-5 4 4 4 2 4-5 4 1 4-5 4 4 4-12 4 15 4-5 4 5 4-8 4-2 4 10 4-1 4-6 4-7 4 11 4-2 4-5 4 7 4 4 4 6 4-8 4 2 4-3 4 1 4 3 4-5 4 10 4-1 4-11 4 11 4-6 4 4 4-8 4 6 4 1 4-7 4 14 4-8 4 10 4-4 4 5 4-13 4 8 4 3 4-1 4-23 4 11 4 6 4-5 4 4 4 9 4-8 4 7 4 4 4-9 4 10 1-12"/>
<path stroke="#EDB120" d="M1031 557l4-1 4-1 4-3 4-1 4 0 4-5 4 1 4 0 4 4 4-6 4 0 4-3 4-5 4 4 4-9 4 3 4-7 4 0 4-10 4-8 4-9 4-7 4-6 4-6 4-7 4-5 4-3 4-9 4 5 4-8 4-5 4-1 4-5 4 4 4-2 4 0 4 2 4 6 4 11 4-5 4 4 4 3 4 3 4 2 4 10 4-4 4 7 4 1 4 2 4 7 4-3 4 8 4-1 4 5 4 0 4 2 4-1 4 4 4 2 4 1 4 2 4 3 4 0 4 3 4 2 4 4 4-4 4 7 4 4 4-1 4 4 4 2 4 0 4 5 4-3 4 4 4 2 4 0 4 1 4 6 4-2 4-5 4-1 4-6 4-10 4-10 4-14 4-21 4-25 4-47 4-35 4-29 4-16 4-21 4-11 4-25 4-11 4-16 4-4 4-13 4-3 4-12 4-6 4 0 4 4 4-11 4 2 4-3 4-1 4 9 4 1 4-2 4-3 4 1 4-3 4 0 4-2 4 3 4 9 4-5 4-8 4 11 4-1 4-5 4 0 4-5 4 7 4-8 4 2 4 5 4-11 4 16 4-12 4 6 4 0 4-4 4-3 4 0 4 9 4-7 4-4 4 6 4 5 4-3 4 8 4-11 4 5 4-4 4 8 4-14 4 7 4 7 4-12 4 6 4 2 4-3 4-7 4 8 4 1 4 1 4-12 4 7 4 13 4-16 4 3 4-7 4 13 4-13 4 26 4-11 4 12 4-13 4 10 4-10 4 1 4 22 4-25 1 10"/>
<path stroke="#7E2F8E" d="M1031 465l4-3 4-5 4 6 4-4 4-11 4 5 4 1 4-4 4-2 4-2 4-6 4 2 4-5 4 2 4-4 4-9 4 8 4-6 4-6 4-8 4-6 4-2 4-2 4-9 4 4 4-8 4-7 4-6 4-8 4-11 4 6 4 2 4-2 4-8 4-2 4 10 4-6 4-11 4 16 4 9 4 6 4-3 4 14 4 6 4 5 4 1 4 8 4-2 4 0 4 9 4 2 4-1 4 5 4-1 4 1 4 3 4 3 4 1 4 2 4-1 4 11 4-2 4 1 4 6 4 2 4 2 4-5 4 10 4 2 4 6 4-1 4 1 4 2 4 3 4 5 4 4 4 3 4 7 4-7 4 1 4 1 4-5 4 1 4-21 4-12 4-22 4-33 4-42 4-31 4-21 4-25 4-25 4-18 4-7 4-15 4-7 4-5 4-8 4-2 4-4 4-1 4 5 4 3 4-4 4 4 4-6 4-1 4 3 4-2 4 7 4-3 4 2 4-3 4 10 4-1 4-8 4 8 4-2 4 1 4 0 4-8 4 4 4 6 4 0 4-9 4 0 4 6 4-1 4-7 4 11 4-3 4 0 4 0 4 8 4-17 4 6 4-2 4 6 4-3 4 6 4 4 4-3 4 11 4-16 4 19 4-1 4-4 4 3 4 2 4-15 4 7 4-3 4 3 4 5 4-8 4-3 4 5 4 1 4 1 4 0 4 4 4 2 4-10 4 0 4 9 4-21 4 6 4 0 4 2 4 4 4-9 4-4 4 9 4-2 4 4 4-15 4 10 1-7"/>
<path stroke="#77AC30" d="M1031 547l4 3 4 0 4 3 4-2 4 0 4-5 4-1 4 1 4 5 4-6 4 3 4-2 4-3 4-9 4 2 4-2 4-8 4-3 4-6 4-11 4-6 4-8 4-5 4-13 4-2 4-11 4 0 4-7 4-2 4-3 4 0 4-5 4-3 4 2 4-4 4-1 4 8 4-2 4 1 4 9 4 2 4 5 4 6 4 6 4-3 4 5 4 4 4-3 4 5 4 1 4 8 4-3 4 1 4 7 4 1 4-2 4 5 4 3 4 3 4 1 4 7 4-4 4 4 4 4 4 2 4 7 4-2 4 4 4 0 4 1 4 4 4 2 4 4 4 1 4-4 4 9 4-4 4 6 4 2 4-1 4-4 4 4 4-3 4-4 4-6 4-13 4-15 4-19 4-33 4-34 4-41 4-27 4-16 4-18 4-17 4-22 4-13 4-11 4-11 4-12 4-2 4-9 4-5 4-7 4-1 4 7 4-14 4 10 4-4 4-2 4-2 4 3 4 1 4 0 4-5 4 11 4-9 4-8 4 8 4 1 4-4 4-4 4 0 4 6 4 5 4-3 4-3 4-2 4 5 4 1 4-5 4 5 4-3 4-1 4 3 4 2 4-5 4 6 4-5 4-2 4-2 4 10 4-3 4-4 4 12 4-15 4 1 4 8 4-12 4 9 4-3 4 3 4 1 4 9 4-12 4-3 4 3 4-1 4-5 4 11 4 3 4-11 4 0 4-2 4 10 4 4 4-28 4 22 4 3 4 7 4 14 4-9 4-2 4 0 4-5 4 11 4 2 1-8"/>
<path stroke="#4DBEEE" d="M1031 558l4-3 4 8 4-6 4 3 4-3 4-1 4-4 4 8 4 1 4-6 4 2 4-5 4 0 4 3 4-8 4-2 4-1 4 0 4-11 4-10 4-3 4-12 4-3 4-9 4-12 4 1 4-8 4-2 4-10 4-2 4-9 4 2 4-2 4 1 4-4 4 7 4 0 4-8 4 10 4 4 4 3 4 2 4 5 4 6 4 4 4-1 4 8 4 3 4 3 4-2 4 2 4 8 4 4 4-2 4 11 4-1 4 1 4 9 4-8 4 8 4-3 4 11 4-4 4 1 4 2 4 7 4 1 4-6 4 4 4 4 4 2 4 4 4 0 4 1 4 0 4 4 4-1 4 7 4-1 4-3 4 3 4-8 4-3 4-3 4-9 4-5 4-21 4-22 4-31 4-36 4-45 4-24 4-19 4-20 4-21 4-18 4-5 4-23 4-6 4-11 4-9 4-5 4-8 4-3 4-1 4-3 4-9 4 12 4-4 4-9 4 3 4-2 4 4 4-3 4-1 4 4 4-4 4 7 4 7 4 1 4-8 4-1 4 9 4-8 4-3 4 4 4-2 4 5 4 2 4-3 4 1 4 8 4-1 4-8 4 6 4-2 4-1 4-3 4 1 4 7 4-4 4 8 4-6 4 5 4-10 4 7 4 1 4-1 4-9 4 13 4-9 4 5 4-14 4 16 4 6 4-8 4-5 4 6 4-8 4 6 4-3 4-2 4-6 4 20 4-5 4 1 4-7 4 3 4 11 4-21 4 3 4 5 4-3 4 1 4-17 4 1 4 13 1 22"/>
<path stroke="#A2142F" d="M1031 494l4 1 4-5 4 0 4 10 4-13 4-6 4 4 4 2 4-1 4-4 4-5 4 4 4-5 4-7 4 6 4-3 4-11 4-5 4-7 4 0 4-9 4-6 4-8 4-4 4-4 4-6 4-6 4-5 4-9 4-1 4-5 4-2 4-8 4 10 4-1 4-1 4-4 4 14 4 1 4 0 4 3 4 5 4 3 4 13 4 2 4 4 4 0 4 6 4 4 4-5 4 2 4 0 4 7 4-4 4 7 4-5 4 2 4 7 4 2 4-1 4-2 4 4 4 7 4 4 4-10 4 12 4 1 4 10 4 1 4 1 4 9 4-2 4 10 4 1 4 1 4 0 4 6 4-7 4 10 4 2 4-6 4-1 4-9 4-9 4-15 4-21 4-25 4-45 4-27 4-29 4-22 4-29 4-14 4-10 4-14 4 1 4-13 4 0 4-5 4-3 4-5 4 2 4-1 4 0 4-3 4 4 4-1 4 0 4 2 4-7 4-1 4 6 4 8 4-7 4 2 4-1 4 6 4-1 4-15 4 3 4 5 4 9 4-1 4-3 4-5 4 7 4 1 4-5 4-3 4 6 4-2 4 1 4-11 4 9 4 4 4 3 4-13 4 2 4 0 4 6 4 3 4-5 4-2 4 14 4-8 4-2 4-5 4 0 4 5 4 5 4-2 4 10 4-6 4-7 4 5 4 1 4-12 4 17 4-1 4 7 4-12 4 19 4-10 4-6 4-10 4 12 4-4 4 9 4-21 4 23 4 10 4-12 4-4 4 1 4-4 4 13 4-6 1 8"/>
<path stroke="#0072BD" d="M1031 429l4 4 4-9 4 3 4-8 4 7 4-13 4 9 4-9 4-13 4 1 4 5 4-6 4-1 4-8 4 2 4-15 4-1 4-4 4-9 4-8 4-10 4-9 4-5 4-6 4-10 4-16 4-6 4-10 4-6 4-10 4-11 4 1 4-5 4-8 4 0 4-15 4-3 4-3 4-4 4-5 4 3 4-7 4 10 4-6 4-8 4 8 4-3 4 1 4 4 4-2 4-1 4-2 4-1 4-10 4 4 4 7 4-5 4 4 4-5 4 5 4 4 4 3 4 5 4-3 4 3 4 10 4-4 4 2 4 12 4-3 4 4 4-2 4 9 4 3 4 1 4 8 4 6 4-1 4-5 4 4 4-1 4-8 4-10 4-9 4-5 4-4 4-14 4-4 4-3 4-10 4 1 4-5 4-3 4-1 4-5 4 1 4-1 4-1 4-3 4-1 4 5 4-9 4 0 4 3 4-9 4 1 4 0 4 3 4-9 4-2 4 5 4 1 4-3 4 1 4-4 4-2 4 5 4-9 4 9 4 3 4-12 4 0 4-5 4 5 4 1 4-7 4 3 4 0 4 5 4-10 4 4 4-4 4 0 4-12 4 16 4-5 4-5 4-5 4 18 4-19 4 13 4-9 4 4 4 1 4-7 4-10 4 9 4 3 4 1 4-7 4 6 4 0 4-6 4-7 4-7 4 14 4-13 4 11 4-1 4 0 4 8 4-9 4 3 4 2 4-18 4 8 4-8 4 29 4-24 4 6 4-2 4-11 4 13 4-8 4-3 4 2 4-16 1 23"/>
<path stroke="#D95319" d="M1031 558l4-2 4-1 4 2 4-4 4-1 4 5 4 0 4-5 4 4 4-2 4-1 4-1 4 0 4-5 4 4 4-4 4-2 4-7 4-2 4-13 4-6 4-9 4-7 4-8 4-4 4-7 4-5 4-7 4-8 4-4 4-1 4-4 4 0 4-2 4 5 4 4 4-2 4 1 4 0 4 8 4 1 4 7 4-3 4 12 4 4 4 2 4 5 4-2 4 6 4-2 4 6 4 2 4 4 4-6 4 7 4 3 4-1 4 3 4 3 4 0 4-3 4 8 4 3 4 1 4 4 4 5 4 3 4-4 4 6 4 0 4 0 4 2 4 6 4-2 4 3 4-2 4 6 4 0 4 5 4-7 4 2 4 0 4-6 4-10 4 0 4-9 4-16 4-21 4-30 4-26 4-48 4-29 4-18 4-20 4-20 4-17 4-12 4-11 4-15 4-9 4-8 4-5 4-12 4 2 4 3 4-11 4-1 4-2 4 5 4-3 4-9 4 4 4 3 4-5 4 2 4 0 4 4 4-11 4 3 4 2 4-1 4-1 4-3 4 5 4-8 4-3 4 8 4 1 4-2 4 2 4 2 4 8 4-7 4 4 4 2 4 7 4-12 4 5 4-5 4 1 4-3 4 9 4-7 4 8 4 2 4 1 4-5 4-20 4 21 4-8 4-2 4 6 4 9 4-15 4 7 4 17 4-19 4 14 4-14 4 1 4 6 4 1 4 1 4-13 4 4 4 3 4 6 4-9 4 17 4-20 4 11 4-13 4 2 4 8 4-3 4 14 4-25 1 10"/>
<path stroke="#EDB120" d="M1031 556l4-2 4 2 4 4 4-4 4-2 4 1 4 3 4-4 4 0 4-1 4-3 4-2 4 2 4-7 4-1 4-3 4 0 4-7 4-7 4-7 4-5 4-9 4-7 4-13 4 2 4-6 4-5 4-3 4-9 4-2 4-9 4 2 4 0 4 3 4-10 4 12 4 2 4-3 4 1 4 6 4-2 4 10 4 4 4 0 4 10 4 0 4 7 4-5 4 8 4-2 4 5 4 6 4-2 4 4 4 0 4 8 4-1 4 3 4 5 4 0 4-3 4 6 4 3 4 1 4-2 4 7 4-1 4 0 4 0 4 8 4-3 4 9 4-10 4 7 4 2 4 3 4 0 4 3 4 3 4-4 4-2 4-2 4-3 4-7 4-1 4-18 4-8 4-19 4-23 4-38 4-35 4-26 4-25 4-16 4-19 4-20 4-13 4-15 4-8 4-10 4-7 4-8 4-9 4-1 4-3 4-3 4-1 4-7 4 10 4-4 4 0 4 1 4-11 4 7 4 3 4-8 4 5 4-3 4 5 4-1 4-1 4 3 4-13 4 14 4-1 4-6 4 2 4-1 4 0 4 3 4-4 4 9 4-8 4 7 4-11 4 9 4 3 4-5 4 8 4-6 4-5 4 5 4-7 4 7 4-4 4 2 4 10 4-15 4 12 4-1 4-2 4 5 4-7 4 15 4-9 4 1 4 5 4-8 4 1 4 2 4-7 4 7 4 12 4-18 4 3 4 9 4-7 4-12 4 9 4 1 4-7 4-1 4 15 4 10 4-12 4-11 4 24 1-6"/>
<path stroke="#7E2F8E" d="M1031 421l4 2 4 2 4-2 4-1 4-6 4 1 4 2 4-3 4-7 4-1 4-8 4 1 4-6 4-3 4-10 4-6 4-3 4-5 4-10 4-12 4-7 4-11 4-8 4-13 4-5 4-9 4-15 4-1 4-7 4-16 4 6 4-4 4-6 4-5 4 1 4-6 4-11 4-8 4 4 4-14 4 1 4 2 4-1 4-4 4-3 4 0 4 4 4-4 4 4 4-6 4-6 4 0 4 1 4-2 4 2 4-1 4 2 4 2 4 3 4 1 4-4 4 8 4-6 4 5 4 8 4-1 4-2 4-1 4 1 4 8 4 2 4-8 4 10 4 4 4 7 4 5 4 3 4 1 4 2 4 4 4-4 4-5 4 4 4-13 4-3 4-17 4 1 4-5 4-2 4-6 4-5 4-5 4-3 4 4 4-4 4-5 4 3 4 2 4-3 4 3 4-12 4 8 4 2 4-2 4-6 4-2 4 7 4-10 4 5 4-6 4-4 4 6 4-6 4-1 4 7 4 0 4-10 4 3 4 2 4 1 4 0 4-3 4 4 4-3 4-1 4-2 4 2 4-3 4-5 4-1 4 3 4 6 4-5 4-5 4 10 4-8 4-2 4 4 4 0 4-8 4 4 4 0 4 4 4-4 4 1 4 7 4-4 4-7 4 9 4-11 4 6 4-2 4-1 4 1 4 2 4-2 4-15 4 11 4 9 4-15 4 5 4-13 4 6 4 1 4 11 4-12 4-7 4 13 4-8 4-18 4 15 4-5 4 6 4-2 4 10 4-7 4-1 1 1"/>
<path stroke="#77AC30" d="M1031 434l4-5 4-2 4-7 4-5 4 2 4-5 4 3 4-16 4 4 4-4 4-2 4-12 4-2 4-6 4-6 4-3 4-4 4-11 4-6 4-4 4-11 4-4 4-11 4 3 4-16 4-1 4-13 4-10 4 0 4-13 4 1 4-13 4 0 4-13 4-5 4-3 4-14 4 2 4-5 4-1 4-1 4-7 4 5 4 0 4-2 4 4 4-1 4-5 4-2 4-3 4-6 4 0 4-3 4-3 4 0 4 1 4-6 4-3 4-3 4 1 4 9 4-9 4 3 4-1 4 8 4-3 4-2 4 14 4 0 4 3 4 9 4 1 4 20 4-3 4 5 4 7 4 1 4 4 4 0 4 4 4-10 4-8 4-4 4-8 4-8 4-11 4-16 4 3 4-5 4-6 4-6 4-7 4 1 4-7 4-3 4 5 4-9 4 12 4-11 4-4 4 3 4-1 4-1 4 7 4-17 4 8 4 4 4-5 4 3 4 4 4-3 4-2 4-2 4 9 4-9 4 3 4-3 4-2 4-1 4 1 4 3 4-1 4-5 4-7 4 10 4-6 4-1 4 6 4-7 4 2 4 4 4-3 4-1 4 3 4-4 4 6 4-5 4-4 4 0 4 2 4 10 4-14 4-2 4 10 4-3 4 7 4-8 4 1 4 3 4-3 4-6 4-9 4 4 4 1 4 3 4 1 4-4 4 9 4-7 4 11 4 4 4-3 4-7 4 2 4-8 4-1 4 1 4 10 4 0 4 5 4-9 4-6 4 12 4 2 4-5 4-5 4 10 1 3"/>
<path stroke="#4DBEEE" d="M1031 470l4-4 4 4 4-4 4 1 4-5 4-6 4 9 4-14 4 4 4-10 4 2 4-4 4-8 4 4 4-11 4-6 4-15 4-2 4-8 4-2 4-5 4 0 4-17 4 2 4-11 4-6 4-8 4-12 4 4 4-8 4-10 4 9 4-6 4-7 4 2 4-1 4-6 4-7 4 1 4 1 4 1 4-2 4-4 4 9 4 7 4-5 4 11 4 0 4-4 4 8 4 2 4-1 4-1 4-4 4 2 4 7 4-3 4 1 4-5 4 2 4 0 4 15 4-6 4 0 4 7 4-5 4 18 4-1 4 2 4 9 4 16 4-1 4 10 4 2 4 8 4 9 4 12 4 3 4-9 4 9 4-12 4 3 4-16 4-16 4-22 4-25 4-32 4-27 4-32 4-14 4-1 4-16 4-11 4-2 4-4 4-8 4 4 4 2 4 0 4-7 4 7 4-3 4 3 4-2 4 3 4-7 4 6 4-2 4-1 4 4 4 2 4 2 4-4 4 4 4-7 4 9 4-15 4 7 4-3 4-2 4 2 4 5 4-1 4-4 4-1 4 4 4 2 4-12 4 6 4 8 4 6 4-7 4-5 4-2 4-1 4 5 4-9 4 5 4 8 4 3 4-8 4-4 4 1 4 1 4-6 4 9 4-2 4-7 4 7 4-16 4 8 4 3 4 15 4-13 4-3 4-4 4 12 4-2 4-4 4 7 4 4 4 3 4-15 4 10 4-6 4 6 4 2 4 11 4-13 4-8 4 4 4-4 4-1 4 5 4-2 4-3 4 5 1-3"/>
<path stroke="#A2142F" d="M1031 550l4 0 4 1 4-2 4 0 4-4 4 2 4 1 4-3 4 2 4 1 4-2 4-2 4-2 4-4 4-1 4-7 4 2 4-7 4-6 4-9 4-7 4-8 4-7 4-8 4-7 4-1 4-9 4 3 4-8 4-7 4-4 4-1 4-5 4 6 4-6 4 3 4 1 4 1 4 6 4-2 4 7 4 4 4 7 4-3 4 3 4 8 4 3 4-2 4 9 4-6 4 5 4 6 4 4 4 4 4-7 4 5 4 7 4 1 4 2 4 3 4 7 4-4 4-4 4 9 4 11 4-5 4-3 4 4 4 8 4-2 4-3 4 7 4 1 4 3 4-1 4 4 4 1 4 3 4 1 4 0 4-1 4-3 4 0 4-7 4-8 4-5 4-17 4-24 4-26 4-37 4-45 4-18 4-23 4-18 4-24 4-12 4-11 4-19 4-14 4-1 4-8 4-7 4 0 4-10 4 2 4-5 4 1 4 6 4-11 4-11 4 5 4 5 4-5 4 2 4 4 4 2 4-5 4 7 4-7 4 0 4 1 4-3 4 6 4-11 4 14 4-11 4 9 4-4 4 0 4 3 4 2 4-4 4-11 4 11 4-6 4 2 4 0 4 14 4-12 4 7 4 2 4-8 4-2 4 11 4 1 4-5 4-2 4-3 4 4 4 5 4-1 4-4 4-1 4 0 4-3 4 3 4-6 4-1 4 8 4-9 4 15 4-14 4-3 4 12 4 5 4-4 4 12 4-1 4-10 4 2 4 4 4-16 4 15 4-2 4 1 4-19 4 8 1 4"/>
<path stroke="#0072BD" d="M1031 549l4 7 4-7 4 0 4 1 4-3 4 6 4 0 4-4 4-2 4 5 4-5 4-3 4-1 4-2 4-2 4-1 4-1 4-7 4-6 4-6 4-11 4-7 4-9 4-7 4-9 4-8 4 0 4-4 4-9 4-3 4-2 4-3 4 3 4-7 4 0 4 1 4-4 4 9 4 0 4 5 4 5 4 0 4 11 4 3 4-2 4 6 4 7 4-2 4 6 4 1 4 0 4 8 4-2 4 9 4-2 4 3 4 4 4 1 4 5 4 0 4 5 4 1 4-3 4 8 4 3 4 0 4 5 4-4 4 4 4 1 4 2 4 6 4-6 4 7 4 1 4-4 4 1 4 7 4-4 4 6 4-1 4-6 4 2 4-4 4-4 4-13 4-16 4-15 4-32 4-37 4-39 4-23 4-23 4-21 4-13 4-22 4-17 4-13 4-14 4-8 4-4 4 2 4-13 4-3 4-3 4 0 4-12 4 11 4-10 4 5 4-5 4-1 4 2 4 4 4-6 4 7 4-7 4 1 4 4 4-3 4-3 4 0 4 6 4-10 4 2 4 2 4 13 4-9 4 5 4-3 4-4 4 1 4 4 4 7 4-10 4-2 4 0 4 11 4-12 4 5 4-1 4-6 4 7 4 7 4-6 4-1 4 2 4 0 4 2 4-17 4 19 4-1 4-4 4 5 4 11 4-21 4 16 4-7 4 1 4-13 4 12 4-4 4 4 4 4 4 3 4-10 4-6 4 9 4 8 4-15 4 21 4-20 4 7 4-2 4 6 4 4 4 7 1-10"/>
<path stroke="#D95319" d="M1031 467l4-4 4-2 4-2 4-8 4 7 4-6 4 2 4-7 4-1 4 4 4-10 4-15 4-3 4-1 4-3 4-4 4-16 4 3 4-14 4-3 4-6 4-5 4-5 4-10 4 0 4-20 4-1 4-6 4-6 4-7 4 0 4-7 4 0 4-4 4 1 4-7 4 2 4-5 4-5 4 0 4 0 4 5 4 0 4 2 4-5 4 10 4 4 4 1 4 7 4 2 4-5 4 4 4-1 4 2 4-6 4 3 4-8 4 8 4-3 4-2 4 11 4 0 4-1 4 2 4 4 4 0 4 6 4 8 4-8 4 17 4 9 4 3 4 11 4-4 4 17 4 0 4 2 4 4 4 1 4 1 4-5 4-10 4-8 4-11 4-23 4-18 4-23 4-16 4-17 4-12 4-14 4-10 4-2 4-15 4 5 4-9 4 7 4-4 4-5 4 6 4-11 4 9 4-6 4-1 4-2 4 7 4 3 4-4 4-5 4 14 4-9 4 0 4 3 4 3 4-4 4-1 4 6 4 1 4-10 4 0 4 5 4-2 4 7 4-7 4 6 4-9 4 9 4-5 4-3 4 15 4-4 4-5 4 3 4-4 4 5 4 3 4-1 4 1 4-6 4 2 4 4 4 4 4-2 4-7 4 6 4-2 4-9 4 11 4-1 4-5 4 3 4 0 4-1 4 13 4-7 4-7 4 3 4 5 4 1 4-4 4 15 4-18 4 5 4-11 4 14 4-15 4 10 4 1 4 0 4-8 4 1 4 5 4-4 4 4 4-3 4-2 4 5 1 1"/>
<path stroke="#EDB120" d="M1031 413l4-9 4 5 4-7 4 2 4-3 4-9 4-5 4 4 4-7 4-3 4 0 4-9 4 0 4-8 4-7 4-6 4-3 4-13 4-4 4-6 4-6 4-11 4-9 4-12 4-4 4-7 4-6 4-10 4-2 4-6 4-15 4-3 4-2 4-15 4-4 4-13 4-5 4-6 4-2 4-1 4-3 4-5 4 2 4-5 4-2 4-2 4-2 4 1 4-4 4 0 4-5 4 2 4-4 4-5 4 3 4-4 4-1 4-5 4-1 4-1 4 1 4 0 4-1 4 1 4 0 4-4 4 2 4 6 4-6 4 1 4 4 4 0 4 2 4 7 4-7 4 10 4-6 4 3 4-4 4 2 4 0 4-3 4-10 4 4 4-10 4-3 4-4 4-2 4-11 4 3 4 3 4-9 4-3 4-7 4 7 4-7 4 6 4 1 4-7 4 5 4-10 4 10 4-7 4 2 4 4 4 3 4 1 4-9 4 2 4-6 4 2 4-5 4 4 4-3 4 4 4-5 4 3 4-5 4 3 4 2 4 0 4-5 4 6 4-2 4-8 4 2 4 10 4-3 4-5 4 4 4-11 4 6 4 1 4-2 4-4 4-3 4 10 4 4 4 5 4-19 4-8 4 15 4 1 4-2 4 0 4 1 4 9 4-4 4-9 4-3 4 11 4-7 4 11 4-22 4 11 4-1 4 10 4 1 4-10 4-15 4 13 4 7 4-1 4-12 4 8 4-2 4-8 4 4 4 5 4 9 4-9 4 2 4-12 4 11 4-11 4 20 4-19 1 5"/>
<path stroke="#7E2F8E" d="M1031 411l4-2 4 0 4-3 4-2 4-6 4 4 4 1 4-4 4 1 4 0 4-4 4-6 4-7 4-7 4 2 4-5 4-5 4-9 4-9 4-2 4-10 4-11 4-14 4-10 4-3 4-16 4-5 4-11 4-8 4-2 4-13 4-5 4-7 4-6 4-9 4-9 4-2 4-16 4 0 4-9 4-1 4-3 4 7 4-7 4 0 4-8 4-2 4-3 4-7 4 11 4-9 4 6 4-16 4 10 4-15 4 4 4-2 4-3 4-3 4-6 4 11 4 3 4-7 4 3 4 2 4-1 4-3 4 8 4 3 4-4 4 6 4 4 4 8 4-3 4 5 4-5 4 6 4 6 4 1 4-2 4 1 4-6 4-4 4-1 4-7 4 6 4-7 4-8 4 6 4-2 4-11 4 10 4 0 4 0 4-13 4 11 4-7 4-2 4 9 4-2 4-3 4 5 4-12 4 5 4 3 4 3 4-2 4 3 4-9 4 12 4 3 4-7 4-8 4 2 4 10 4-11 4 6 4 3 4-1 4-7 4 4 4-1 4 2 4-3 4-1 4 8 4-14 4 10 4-4 4-3 4 10 4-4 4-2 4 5 4-1 4-7 4 9 4-6 4-6 4 1 4-4 4-2 4 10 4-11 4 2 4-10 4 17 4-4 4-7 4-3 4 2 4-1 4 5 4-5 4 1 4 1 4 11 4-11 4-4 4-8 4 12 4 3 4-2 4-9 4 6 4-10 4 3 4-5 4 11 4 3 4-14 4 6 4 16 4-23 4-11 4 17 4-19 1 28"/>
<path stroke="#77AC30" d="M1031 554l4-2 4-3 4 5 4-3 4 0 4-4 4 1 4 4 4 0 4 1 4-5 4-5 4-7 4 0 4-3 4-4 4-1 4-7 4-10 4-10 4-5 4-12 4-3 4-5 4-5 4-8 4 3 4-9 4-3 4-1 4-5 4 2 4-6 4 1 4 0 4 0 4-1 4 4 4-2 4 9 4 1 4 3 4 9 4 1 4 0 4 5 4-4 4 6 4 7 4-1 4 4 4 0 4 8 4 2 4 2 4 4 4-3 4 14 4-3 4 3 4 2 4 7 4-2 4 2 4 3 4-2 4 3 4 7 4-7 4 7 4-4 4 3 4-1 4 8 4 2 4 2 4 0 4 0 4 3 4-1 4-1 4 1 4-1 4-4 4-3 4-8 4-17 4-13 4-38 4-27 4-40 4-30 4-20 4-22 4-13 4-19 4-9 4-16 4-10 4-9 4-16 4 0 4 3 4-5 4-10 4-9 4 0 4-2 4 5 4 1 4-8 4-2 4 1 4 1 4 0 4 4 4-2 4 2 4-7 4 8 4-2 4 1 4-9 4 26 4-17 4-3 4 8 4 6 4-14 4 7 4 1 4-2 4-4 4 15 4-15 4 7 4 2 4-7 4-2 4 14 4-9 4-2 4-5 4 2 4 6 4-6 4 2 4 6 4-5 4 0 4 2 4-8 4 12 4 1 4-2 4-4 4 2 4 6 4-8 4 3 4 7 4 11 4-19 4 5 4 4 4-7 4 5 4-7 4 5 4 5 4 3 4-19 4 5 4 12 4 11 4-6 4 1 1 1"/>
<path stroke="#4DBEEE" d="M1031 460l4 0 4 5 4-11 4 1 4 8 4-7 4 0 4-12 4 5 4-2 4-1 4 4 4-6 4-5 4 2 4-6 4-4 4-5 4-8 4-6 4 5 4-13 4 1 4-8 4-3 4-13 4 1 4 2 4-16 4-1 4-6 4 5 4-12 4 6 4-7 4-3 4 4 4-2 4 10 4 6 4 6 4 14 4-2 4 7 4 9 4 0 4 11 4-5 4 8 4-1 4 4 4 3 4-5 4 8 4 1 4 0 4 4 4 0 4 2 4 2 4 1 4-1 4 8 4 1 4-7 4 12 4 1 4 11 4-7 4 5 4 10 4-16 4 12 4 3 4 2 4 8 4 10 4-5 4-6 4 8 4-1 4-2 4-1 4-15 4-18 4-17 4-38 4-28 4-36 4-27 4-27 4-17 4-9 4-19 4-5 4 3 4-19 4-4 4 0 4 4 4-11 4 8 4-6 4 7 4-13 4 7 4 4 4-11 4 12 4 0 4-8 4 11 4-7 4 1 4-2 4 3 4-3 4-1 4 3 4 5 4-3 4 2 4 5 4 5 4-11 4 8 4-9 4 4 4 4 4-1 4 0 4 1 4 0 4 4 4-1 4-3 4-9 4 5 4-2 4-1 4 4 4 0 4 8 4-7 4-1 4 2 4 4 4-7 4 0 4 1 4 1 4 13 4-10 4-3 4-2 4 15 4-14 4-1 4 8 4-10 4 6 4 7 4-17 4 13 4 6 4-8 4 8 4 8 4-16 4 10 4-9 4-9 4 9 4-7 4 28 4-13 4 0 1 3"/>
<path stroke="#A2142F" d="M1031 400l4 3 4 0 4 0 4-3 4 2 4-6 4-8 4 4 4-7 4-4 4 2 4 1 4 0 4 2 4-10 4-1 4-8 4-4 4-2 4-14 4-13 4-11 4-1 4-18 4-12 4-3 4-16 4-4 4-15 4-12 4-10 4-1 4-15 4-5 4-18 4-10 4-8 4 0 4-2 4-7 4-3 4-3 4 4 4-4 4-5 4-1 4-5 4 4 4-4 4-5 4-2 4 2 4-2 4 0 4-4 4-4 4 5 4-9 4 3 4 1 4 5 4-6 4 9 4-3 4 12 4-5 4 0 4 1 4 5 4-1 4 6 4 1 4-1 4 2 4 6 4-5 4-6 4 7 4-6 4-5 4-10 4-1 4-1 4-4 4-6 4 8 4-16 4 1 4-2 4 0 4-7 4-4 4 1 4-6 4 9 4-4 4-4 4 0 4-6 4 8 4-11 4 4 4 1 4-4 4 7 4-13 4 2 4 1 4 3 4-1 4 1 4-5 4 3 4-7 4 9 4-10 4 13 4-6 4-7 4-2 4 9 4-3 4 1 4-2 4 5 4-7 4 2 4 4 4 0 4-6 4 10 4-11 4 13 4-4 4-1 4 6 4-7 4-2 4 3 4 6 4-14 4-5 4 4 4 3 4 12 4-19 4 7 4-4 4 6 4 11 4-16 4 9 4-13 4 11 4-5 4-15 4 4 4 0 4 3 4 14 4-16 4 0 4-4 4 14 4-8 4 4 4-11 4 15 4 1 4 3 4-14 4 5 4-5 4 8 4-15 4 7 4-4 1 25"/>
<path stroke="#0072BD" d="M1031 475l4-1 4-12 4-2 4 1 4-6 4 1 4 5 4-8 4 0 4-3 4-2 4-8 4-4 4-2 4-6 4-1 4-8 4-8 4-9 4 1 4-17 4 1 4-14 4 0 4-8 4-10 4-3 4-10 4-8 4 0 4-10 4 9 4-1 4-5 4 1 4 1 4-4 4-5 4-2 4 6 4 6 4-5 4 0 4 6 4-2 4 5 4 2 4 6 4 6 4-2 4 3 4-10 4 5 4-1 4-5 4 11 4 0 4-11 4 12 4-4 4-4 4 12 4-4 4 9 4 0 4 10 4 3 4-2 4 2 4 1 4 5 4 7 4 9 4 5 4 4 4 8 4 6 4 8 4 2 4-5 4-4 4-10 4-7 4-22 4-21 4-37 4-19 4-26 4-22 4-17 4-10 4-6 4-10 4-7 4 1 4 3 4-1 4-5 4 1 4 0 4 2 4-2 4 3 4 3 4-5 4-1 4 8 4-8 4 1 4 1 4-8 4 4 4-1 4-1 4 5 4 4 4-4 4-3 4-4 4 3 4-2 4 6 4 0 4 3 4 1 4-5 4 3 4 1 4 1 4-7 4 7 4-2 4-3 4-1 4 4 4 2 4 1 4-9 4 2 4-6 4 11 4-9 4 15 4-11 4-3 4 7 4-5 4 0 4 6 4-5 4 3 4-5 4 11 4-11 4 21 4-2 4-9 4-2 4 5 4-8 4 9 4-14 4 10 4 6 4-17 4-4 4 9 4 3 4 1 4 4 4-22 4 16 4 19 4-15 4 7 4-8 4 0 1-9"/>
<path stroke="#D95319" d="M1031 485l4-6 4 1 4 1 4-6 4 2 4-6 4-2 4 7 4-5 4-6 4 3 4 2 4-17 4 3 4-5 4-9 4-1 4-2 4-12 4-5 4-1 4-5 4-10 4-6 4 4 4-11 4-5 4-4 4-3 4-7 4 0 4-4 4-6 4 6 4-6 4 3 4 2 4 1 4 7 4 7 4 6 4-1 4 11 4-4 4 15 4 1 4 6 4 5 4 1 4 5 4-8 4 13 4-3 4-1 4 6 4 9 4-5 4 4 4 5 4-5 4 7 4-2 4 5 4-4 4 7 4 0 4-2 4 0 4 10 4-1 4 1 4 9 4-3 4 9 4-2 4 7 4-1 4 11 4-3 4 2 4 0 4-5 4-13 4-16 4-15 4-31 4-36 4-38 4-30 4-28 4-29 4-18 4-10 4-16 4-9 4 1 4-7 4-7 4-2 4 7 4-8 4-3 4 5 4-4 4 0 4-5 4 4 4 12 4-7 4 1 4 7 4-17 4 13 4 2 4-7 4-1 4 4 4 0 4 4 4-5 4 0 4 14 4-11 4-3 4 7 4-1 4-6 4 2 4-3 4-6 4 12 4 1 4-4 4 10 4-11 4 13 4-13 4 3 4 8 4-8 4 8 4-16 4 2 4 5 4 1 4-1 4 5 4-9 4 8 4-6 4 6 4 5 4-13 4-4 4 5 4 13 4-7 4 0 4-1 4-1 4-9 4 12 4 3 4-4 4 6 4-5 4 12 4-6 4 1 4-2 4 8 4-13 4 16 4-9 4-13 4 14 4 18 1-13"/>
<path stroke="#EDB120" d="M1031 434l4-7 4-8 4-1 4 2 4-11 4-3 4-5 4-2 4-2 4-8 4-3 4-10 4 1 4-9 4-3 4-9 4 1 4-15 4 0 4-3 4-5 4-16 4-2 4-4 4-13 4-4 4-8 4-8 4-8 4 3 4-10 4-4 4-15 4-3 4-12 4-13 4-4 4-12 4-8 4 8 4-18 4 0 4-6 4 10 4-4 4-16 4 9 4-12 4 5 4-1 4 1 4 5 4-4 4-2 4 1 4 0 4-1 4-1 4 5 4 7 4-3 4 4 4 6 4-10 4 15 4 0 4-10 4 6 4 5 4-10 4 5 4-5 4 10 4-12 4 12 4 1 4 0 4 1 4 2 4-4 4-2 4-11 4-3 4 0 4-4 4-8 4 4 4-9 4-6 4 1 4-1 4-4 4-2 4-10 4 6 4 3 4-3 4-8 4-1 4 7 4-5 4-5 4-2 4-8 4 14 4-2 4-13 4 9 4-7 4 0 4-5 4 4 4-4 4-4 4-1 4 3 4 3 4 3 4-9 4-2 4 4 4-3 4-4 4 7 4-4 4 3 4 4 4-4 4-8 4 6 4 9 4-12 4 5 4 5 4-9 4 5 4 4 4 0 4-5 4 3 4 8 4-20 4 11 4-2 4-4 4 2 4 1 4 10 4-5 4-1 4-1 4 4 4-4 4-2 4-13 4 3 4 12 4 1 4 2 4-11 4 12 4-8 4-4 4 5 4 4 4-12 4 9 4 10 4-8 4 13 4-21 4-1 4 0 4 0 4 1 4-16 4 38 1-16"/>
<path stroke="#7E2F8E" d="M1031 469l4 2 4-10 4-4 4 8 4-5 4-4 4 0 4-4 4-9 4 5 4 7 4-11 4-5 4-4 4-10 4 4 4-5 4-3 4-5 4-9 4-8 4-6 4-7 4-10 4-1 4-10 4-3 4-9 4-1 4-2 4-12 4 10 4-2 4 1 4-5 4-5 4 1 4-2 4-4 4 6 4-4 4-6 4 9 4-1 4 4 4-1 4 5 4-4 4 7 4-2 4 7 4-6 4-1 4 5 4 3 4-5 4 4 4-3 4 6 4 2 4 6 4-5 4 9 4-5 4 4 4 4 4 2 4 5 4 2 4 9 4 3 4 3 4 12 4 3 4 7 4 3 4 12 4 9 4 0 4-3 4-7 4 1 4-11 4-14 4-28 4-25 4-33 4-29 4-27 4-12 4-15 4-9 4-8 4-14 4 2 4-6 4 1 4-2 4-3 4 3 4-3 4 1 4 1 4-4 4 15 4-7 4-1 4-1 4-3 4 0 4 1 4 6 4-1 4-3 4-2 4 6 4-8 4 10 4 0 4-7 4 4 4-3 4 0 4 3 4-10 4 4 4 4 4 7 4-8 4 6 4 2 4 4 4-9 4-8 4 1 4 11 4-9 4 6 4 7 4-14 4 2 4 10 4-8 4 4 4 5 4 0 4-10 4 5 4 1 4-3 4 3 4 0 4 5 4-19 4 1 4 27 4-7 4-7 4 0 4-4 4 1 4-5 4 14 4-3 4 5 4-7 4 3 4 1 4 7 4-7 4-3 4 19 4-13 4-9 4 18 4-11 4 0 1 4"/>
<path stroke="#77AC30" d="M1031 441l4-1 4-6 4-3 4-2 4-3 4 2 4-11 4-2 4-3 4-4 4-2 4-3 4-4 4-1 4-7 4-17 4-7 4 7 4-14 4-6 4-9 4-6 4-13 4-7 4-5 4-12 4-10 4-10 4-7 4 5 4-14 4-4 4-11 4 2 4-4 4-8 4-12 4 3 4 1 4-4 4-1 4-3 4 5 4 0 4-6 4 4 4 2 4 6 4-10 4 5 4 4 4 1 4-3 4-10 4 7 4-3 4 3 4-3 4 4 4 3 4-7 4 11 4-6 4 5 4 3 4 3 4-3 4 7 4 4 4 2 4 7 4 5 4 1 4 6 4 4 4 4 4 2 4 1 4-4 4 7 4-16 4-2 4-14 4-4 4-9 4-16 4-3 4-5 4-9 4-8 4-6 4-3 4 0 4-5 4-5 4 3 4-9 4 0 4-1 4 1 4-8 4 4 4-5 4 0 4 5 4-7 4 2 4-2 4-1 4-1 4-3 4 11 4 1 4-14 4 13 4 0 4-4 4-5 4 6 4-8 4-6 4 6 4-4 4 4 4 2 4 1 4-8 4-5 4 5 4-8 4-2 4 3 4 11 4-13 4-1 4 0 4-1 4 9 4-5 4 6 4-9 4 0 4 4 4 0 4-7 4 2 4-5 4 10 4 2 4-4 4-3 4-1 4-7 4 5 4 0 4-1 4-25 4 13 4-2 4 2 4 0 4-2 4-1 4 7 4 17 4-37 4 10 4 18 4 4 4-17 4 4 4 7 4-10 4 6 4-1 4-5 4-9 1 5"/>
<path stroke="#4DBEEE" d="M1031 484l4 1 4-6 4 2 4-6 4 0 4-14 4 7 4-9 4 5 4-3 4-6 4-2 4-8 4 6 4-10 4 3 4-7 4-4 4-5 4-7 4-4 4-2 4-1 4-9 4 3 4-2 4-16 4 6 4-8 4-12 4 6 4-8 4-2 4-1 4 6 4-16 4 14 4-7 4 8 4 4 4 1 4 10 4 6 4 8 4 9 4 0 4-5 4 15 4 0 4-1 4 2 4-4 4 4 4 5 4 3 4 10 4-3 4 4 4-2 4 5 4 5 4-3 4 0 4 3 4 2 4 2 4 3 4 6 4-1 4 4 4 7 4 1 4-6 4 7 4-1 4 7 4 4 4-6 4 6 4 3 4-4 4-4 4-4 4-6 4-23 4-11 4-32 4-39 4-33 4-30 4-27 4-20 4-21 4-1 4-7 4-12 4-6 4-6 4-3 4 4 4 0 4-5 4 0 4 5 4-6 4-4 4 8 4-4 4 2 4 1 4-4 4 3 4-5 4-2 4 7 4-1 4 0 4 6 4-10 4 9 4 5 4-4 4-8 4 12 4-8 4-1 4 1 4 3 4 1 4-6 4 10 4-5 4-1 4-1 4 7 4-5 4 5 4-10 4 9 4 9 4-16 4 14 4-10 4 6 4-7 4 0 4 2 4 2 4-11 4 15 4 1 4 7 4-2 4 6 4-18 4 7 4 0 4-6 4 5 4 8 4-4 4-1 4 1 4-8 4-6 4 4 4 4 4 8 4-15 4 0 4 11 4 9 4-15 4 18 4-24 4 16 4 6 1 0"/>
<path stroke="#A2142F" d="M1031 452l4 3 4-3 4-6 4 2 4 0 4 0 4-4 4-5 4 5 4-4 4-5 4-4 4-2 4-5 4-6 4-2 4-11 4-9 4-2 4-11 4-9 4-4 4-12 4-8 4-4 4-9 4-5 4-6 4-8 4 3 4-11 4 4 4-7 4-4 4-2 4-6 4-7 4 1 4-7 4 0 4 7 4-7 4 0 4-1 4 3 4 3 4-12 4 10 4 0 4-3 4 0 4 5 4-8 4 4 4 2 4-2 4-5 4-4 4 7 4 1 4 3 4 1 4 2 4 9 4 3 4 5 4 2 4 8 4 0 4 10 4 5 4 10 4 1 4 11 4 12 4 3 4 17 4-4 4-3 4 0 4-1 4-15 4-9 4-21 4-23 4-18 4-30 4-11 4-30 4 1 4-20 4-4 4-2 4-8 4-13 4 5 4 0 4 2 4-12 4 1 4 10 4-5 4-6 4 2 4-2 4 4 4-9 4 2 4 6 4-2 4-9 4 13 4-11 4-1 4-1 4 2 4-2 4 5 4 2 4-6 4 2 4 3 4-11 4 0 4 2 4 0 4-3 4-4 4 12 4-18 4 9 4-2 4 1 4-3 4-2 4 6 4 2 4-5 4 1 4-1 4-9 4 10 4-8 4 6 4 2 4-1 4 2 4-3 4-5 4-12 4 11 4-2 4 7 4-11 4 5 4 17 4-10 4-6 4 6 4-8 4 2 4 2 4-3 4-1 4 0 4-2 4-8 4 15 4-15 4 5 4-2 4 1 4 2 4-4 4 5 4-9 4 6 1-3"/>
<path stroke="#0072BD" d="M1031 459l4 2 4 1 4-3 4 2 4 3 4-12 4 3 4-3 4-5 4-8 4 1 4-9 4 4 4-7 4-6 4 1 4-9 4-5 4-11 4-8 4-4 4-16 4-6 4-10 4 5 4-20 4-4 4-16 4 5 4 0 4-4 4-2 4-5 4-8 4-3 4 5 4 1 4-4 4-1 4 3 4 1 4 1 4 0 4 6 4-3 4 1 4 3 4 7 4 2 4-4 4-6 4 9 4-7 4-2 4 2 4 5 4-5 4-3 4 3 4 1 4-2 4 1 4 5 4 3 4-3 4 0 4 16 4-1 4 5 4 12 4 5 4 8 4 6 4 11 4 2 4 14 4 1 4 5 4-1 4 17 4-12 4-8 4-7 4-27 4-8 4-34 4-24 4-18 4-20 4-20 4-6 4-12 4-6 4-8 4 2 4-7 4 1 4 3 4-6 4 0 4-4 4-1 4 8 4-10 4 2 4 0 4 6 4-7 4-3 4 8 4-1 4 3 4-8 4 7 4-16 4 13 4 6 4-4 4-14 4 10 4 6 4-9 4 5 4-2 4-2 4 1 4-1 4-2 4 1 4 7 4-11 4 6 4 1 4 5 4-12 4 6 4 7 4-3 4-5 4-1 4-6 4 13 4-9 4 3 4 9 4-9 4 9 4-7 4 4 4 1 4-1 4 1 4-1 4-7 4 21 4-19 4 6 4 6 4-3 4-1 4 3 4-3 4-5 4 3 4 7 4-6 4 6 4 3 4-11 4-2 4 15 4 0 4-1 4-9 4-9 4 18 4 5 1-18"/>
<path stroke="#D95319" d="M1031 479l4-2 4-5 4-1 4-2 4-8 4 7 4-1 4-8 4-1 4-4 4-5 4-4 4-12 4-4 4-2 4-4 4-4 4-6 4-10 4-9 4-1 4-13 4-4 4-10 4-3 4 0 4-12 4-10 4-7 4-1 4 3 4 1 4-4 4-3 4 1 4-3 4-8 4 10 4-4 4 0 4-1 4 4 4 0 4 0 4 2 4 1 4 6 4-4 4 8 4-6 4 1 4 6 4-1 4 3 4-3 4 8 4-2 4-4 4 8 4-3 4-2 4 3 4 8 4 8 4-2 4 4 4 8 4 7 4 3 4 6 4-1 4 14 4 7 4 0 4 12 4 1 4 13 4 0 4 5 4-8 4 5 4-9 4-17 4-16 4-23 4-23 4-35 4-32 4-16 4-27 4-7 4-8 4-12 4-3 4-6 4-5 4 4 4-4 4 6 4-10 4-4 4 14 4-5 4-4 4 7 4-6 4 3 4 0 4-2 4-1 4 5 4 1 4-7 4 2 4-1 4 1 4-9 4 10 4 4 4 3 4-8 4 5 4 2 4-6 4 0 4 4 4-8 4 9 4-1 4-6 4-1 4 7 4 2 4-4 4-3 4 0 4-2 4 5 4 3 4-2 4 5 4-11 4 8 4-12 4 7 4-4 4 9 4 6 4-7 4 4 4-4 4 8 4-18 4 11 4 0 4 4 4 2 4-7 4-1 4-4 4 6 4 5 4-6 4 14 4-6 4-5 4 7 4-22 4 19 4 9 4-13 4-1 4 7 4 0 4-5 4 14 4-25 1 26"/>
<path stroke="#EDB120" d="M1031 478l4-2 4 7 4-4 4-5 4-1 4 8 4-12 4-3 4 4 4-1 4-7 4-4 4-2 4-6 4-2 4-3 4-11 4 0 4-7 4 0 4-5 4 2 4-14 4-3 4-11 4 2 4-3 4-12 4-5 4 1 4-12 4 1 4 1 4-8 4 5 4 5 4 0 4-4 4 5 4 1 4 7 4 13 4 3 4 9 4-1 4 5 4 12 4 4 4 2 4-11 4 10 4 0 4-1 4 5 4 0 4 0 4 9 4 0 4 4 4-3 4-4 4 14 4-1 4 4 4-4 4 8 4 4 4-3 4 14 4 0 4-5 4 14 4-3 4 3 4 4 4-2 4 8 4 3 4 1 4-9 4 3 4-3 4-10 4-6 4-15 4-25 4-26 4-46 4-35 4-21 4-25 4-16 4-23 4-8 4-14 4-6 4-5 4-3 4-4 4-6 4-2 4 2 4-3 4 0 4-3 4 5 4 4 4-6 4-3 4 0 4-3 4 6 4 7 4-8 4 10 4-5 4-3 4 10 4-6 4 0 4-4 4 4 4 1 4 1 4 1 4 2 4-1 4-6 4 6 4 1 4 8 4-17 4-1 4 6 4-5 4 11 4-2 4 0 4-8 4 6 4-3 4 1 4 1 4 2 4 7 4-9 4 6 4 8 4-6 4-4 4 0 4 5 4-8 4 8 4-9 4 10 4 0 4-9 4 5 4-10 4 13 4-13 4 8 4 12 4-10 4 0 4-3 4 4 4-6 4 3 4-5 4 14 4-7 4-7 4 3 4 10 4-12 1 10"/>
<path stroke="#7E2F8E" d="M1031 466l4-2 4 3 4-4 4 0 4-7 4-1 4 7 4-5 4 2 4-4 4-1 4-2 4-6 4-5 4-4 4-1 4-8 4 0 4-5 4-8 4-10 4 8 4-4 4-5 4-5 4-10 4-6 4-9 4-3 4 1 4-9 4-1 4 2 4-7 4 1 4 7 4-2 4-8 4 11 4 7 4 0 4 10 4 8 4 5 4 3 4 6 4 11 4-2 4 7 4-1 4-3 4 7 4 3 4 4 4-3 4 6 4-4 4 10 4 0 4 0 4 2 4 5 4-7 4 4 4 9 4 8 4-7 4 4 4 5 4 4 4 0 4 1 4 1 4 3 4 8 4 5 4 0 4 5 4-4 4 5 4 0 4-7 4-5 4-11 4-24 4-20 4-30 4-46 4-28 4-21 4-22 4-19 4-31 4 0 4-8 4-9 4-2 4-2 4-4 4 6 4-7 4-5 4 11 4-9 4 4 4 4 4-8 4 8 4 3 4-2 4-5 4 0 4-6 4-2 4 1 4 6 4 4 4-13 4 14 4-11 4 5 4 3 4-4 4 0 4 3 4-1 4-9 4 5 4 1 4 3 4 2 4 0 4-5 4 4 4 6 4-10 4 8 4 3 4-8 4 5 4 4 4 1 4-5 4 1 4 0 4 12 4-26 4 13 4 10 4 0 4-5 4 1 4-3 4 7 4 2 4-11 4 7 4-9 4-1 4 13 4-4 4 0 4 16 4-26 4 1 4 11 4-9 4 3 4 4 4-12 4 7 4 0 4 8 4 1 4-4 4 6 4 3 1-8"/>
<path stroke="#77AC30" d="M1031 493l4 2 4-1 4-4 4-2 4-5 4 4 4-7 4 2 4-2 4-7 4 3 4-2 4-8 4-2 4 0 4-11 4 0 4-11 4-10 4 0 4-6 4 4 4-6 4-16 4-4 4-5 4-5 4-3 4-8 4-8 4 2 4-1 4-9 4 9 4-5 4 0 4 5 4 0 4 1 4 6 4 13 4 4 4-3 4 14 4 3 4 12 4-8 4 5 4 6 4 1 4 1 4-5 4 12 4-5 4-1 4 10 4-5 4 0 4 7 4 4 4 2 4-3 4 0 4 11 4-2 4 0 4 13 4-2 4 4 4 4 4 4 4-2 4 8 4 2 4-3 4 6 4 1 4-9 4 13 4 4 4-8 4-4 4 0 4-20 4-11 4-35 4-31 4-41 4-27 4-33 4-26 4-15 4-24 4-7 4-3 4-14 4 3 4-9 4-4 4 1 4-1 4 0 4-4 4-2 4 1 4 9 4-2 4-9 4 9 4 8 4-8 4-5 4-6 4 15 4-2 4-8 4 0 4 10 4-4 4-1 4 3 4 3 4 0 4-5 4-4 4 5 4-6 4 6 4-1 4 1 4 7 4 5 4-11 4 8 4-9 4 0 4 0 4 4 4 0 4 3 4-3 4 4 4-5 4 6 4 1 4-4 4 0 4-5 4 3 4-4 4 1 4 5 4-4 4 6 4 1 4 3 4 1 4-6 4 6 4-11 4 5 4 2 4-4 4 14 4-18 4 5 4 6 4 15 4-6 4-23 4 24 4-10 4-8 4 18 4-10 4-14 4 27 1-18"/>
<path stroke="#4DBEEE" d="M1031 473l4-3 4-7 4 3 4-3 4 2 4-3 4-2 4-2 4-4 4 2 4-1 4-7 4-8 4-2 4 1 4 1 4-2 4-15 4 4 4-14 4 0 4-1 4-6 4-2 4-6 4-9 4 0 4-15 4 0 4-6 4 2 4-9 4 1 4 1 4-6 4 3 4 5 4 3 4 2 4 1 4 6 4 9 4 6 4 7 4 5 4 7 4 1 4 6 4 3 4 5 4 1 4-5 4 7 4-6 4 8 4 0 4 8 4-7 4 2 4 4 4-1 4 7 4 2 4 2 4 6 4 2 4-2 4 2 4 11 4-8 4 4 4 1 4 8 4 0 4 4 4 14 4-3 4-5 4 4 4 5 4-4 4-9 4 4 4-14 4-12 4-21 4-26 4-38 4-32 4-23 4-32 4-17 4-21 4-14 4-7 4-17 4-5 4 9 4-10 4 3 4-11 4 3 4-9 4 8 4-2 4 0 4 2 4-2 4 7 4-4 4 2 4 0 4 1 4-2 4 3 4-3 4-9 4 11 4 4 4-10 4-2 4 9 4-9 4 4 4 3 4-1 4-1 4 12 4-6 4-8 4 10 4-6 4 7 4-7 4 8 4-4 4 1 4-2 4-1 4 4 4 3 4 3 4-1 4-11 4-3 4 7 4 8 4 2 4-9 4 5 4-4 4 0 4 3 4 2 4 8 4-16 4 11 4-5 4 3 4-13 4 15 4-27 4 33 4-28 4 22 4-3 4-2 4-3 4-10 4 19 4-17 4 15 4 2 4-5 4 3 4 11 4-10 1 0"/>
<path stroke="#A2142F" d="M1031 552l4 7 4 0 4-2 4-2 4 3 4-4 4 4 4 0 4-5 4 0 4 3 4-4 4-3 4-6 4 3 4-4 4-9 4 1 4-7 4-7 4-14 4-5 4-8 4-7 4-7 4-8 4-4 4-2 4-7 4-4 4-4 4 0 4 3 4-5 4 1 4 6 4-3 4 4 4 4 4 0 4 5 4 6 4 0 4 10 4 5 4-1 4 1 4 10 4-2 4 0 4 4 4 1 4 6 4 10 4-1 4 2 4 1 4-4 4 2 4 7 4-1 4 7 4-2 4 4 4 3 4 1 4 4 4 1 4 1 4 1 4 4 4-2 4 4 4 3 4 2 4 1 4 3 4 1 4 0 4 2 4-3 4-2 4-1 4-9 4-3 4-17 4-12 4-27 4-27 4-36 4-39 4-23 4-22 4-16 4-24 4-10 4-12 4-15 4-16 4 4 4-19 4-2 4-6 4-2 4-6 4 0 4-11 4 4 4 2 4-4 4-8 4 3 4 3 4 9 4-9 4-1 4 1 4-1 4 0 4 6 4-6 4 7 4-12 4 7 4 2 4 1 4-7 4 7 4 0 4-8 4 6 4 1 4-5 4-6 4 7 4 2 4 8 4-6 4-11 4 14 4 1 4-12 4 16 4-2 4 5 4 0 4-7 4 10 4-2 4-5 4 1 4 0 4 3 4 3 4-6 4 1 4 0 4-2 4 0 4 10 4-27 4 11 4 12 4 5 4-13 4-3 4 11 4 1 4-3 4-13 4 26 4-2 4-5 4-13 4 5 4 0 4-21 1 21"/>
<path stroke="#0072BD" d="M1031 559l4-6 4 5 4-7 4 5 4-2 4 0 4-1 4 1 4 0 4 0 4-4 4-4 4 1 4 0 4-3 4-3 4 2 4-12 4-6 4-5 4-8 4-7 4-8 4-7 4-9 4-5 4-1 4-4 4-6 4-6 4-5 4-4 4 6 4-4 4 0 4-1 4 4 4 4 4-2 4 7 4 7 4 2 4-1 4 11 4 6 4-1 4 4 4 3 4 5 4 0 4 1 4 4 4 6 4 5 4-2 4 3 4 5 4 0 4 0 4-2 4 9 4-1 4 6 4 0 4 1 4 0 4 1 4 0 4 5 4 0 4-5 4 8 4 1 4 4 4-1 4 2 4-2 4 1 4 4 4-2 4-1 4-3 4 1 4-3 4-7 4-11 4-14 4-25 4-29 4-31 4-40 4-26 4-22 4-19 4-22 4-15 4-6 4-20 4-8 4-14 4-3 4-8 4-2 4-7 4 0 4 10 4-9 4-5 4 7 4-9 4-1 4-1 4-5 4-2 4 1 4 11 4-4 4 0 4-2 4 9 4-1 4 5 4-11 4 7 4-3 4-4 4-9 4 14 4-9 4 4 4 5 4-4 4-8 4 12 4-11 4 6 4-9 4 16 4-12 4 5 4 1 4 1 4-13 4 2 4 12 4-11 4 7 4 0 4-11 4 10 4-4 4 4 4-6 4 2 4 2 4 2 4-1 4 4 4-7 4 3 4-8 4-5 4 6 4 16 4-17 4 15 4-13 4 2 4 14 4-4 4-7 4 8 4-6 4-2 4 8 4 13 4-1 1-15"/>
<path stroke="#D95319" d="M1031 456l4-2 4-3 4 1 4 0 4-3 4-8 4-6 4-1 4 0 4-8 4 1 4-5 4-11 4 1 4-7 4-9 4-9 4-2 4-4 4-19 4 0 4-8 4-10 4-5 4-7 4-17 4-4 4-11 4 3 4-1 4-13 4-1 4 4 4-10 4-3 4-1 4-4 4 0 4-3 4 3 4-3 4-1 4 1 4 3 4 9 4-2 4-1 4 4 4-1 4-10 4 5 4 1 4 1 4-3 4-2 4-5 4 0 4 3 4-2 4-9 4 11 4 2 4-7 4 14 4-12 4 13 4 3 4 4 4 0 4 6 4 6 4-1 4 15 4 8 4 4 4 10 4 4 4 6 4-1 4-4 4 3 4-8 4-14 4-18 4-23 4-15 4-20 4-26 4-16 4-14 4-18 4-9 4-7 4-7 4-6 4-5 4 2 4 7 4-11 4-8 4 14 4-7 4-5 4 6 4 1 4-5 4 1 4-2 4 8 4-7 4-1 4-3 4 0 4-6 4 11 4 0 4-4 4-8 4 3 4 1 4-5 4-4 4 2 4 7 4 0 4-8 4 1 4 0 4 7 4-13 4 1 4 8 4-2 4 1 4-9 4 7 4-13 4 14 4-4 4-3 4 8 4-4 4-7 4 8 4-2 4 8 4-7 4-5 4-2 4 11 4-16 4 23 4-11 4-16 4 20 4 8 4-15 4 0 4 0 4 9 4-9 4 6 4 3 4-5 4-9 4 0 4 5 4-1 4 16 4-18 4 9 4-9 4 9 4-7 4-10 4 14 4 15 1-21"/>
<path stroke="#EDB120" d="M1031 445l4-4 4-5 4 5 4 5 4-13 4-4 4 2 4-2 4-5 4-4 4-2 4-4 4-5 4-3 4-2 4-10 4-5 4-3 4-7 4-2 4-17 4-11 4 4 4-18 4-2 4-11 4-2 4-12 4-11 4-3 4 4 4-15 4-1 4-2 4-16 4 1 4-4 4-1 4-4 4 3 4-3 4 6 4-9 4-2 4 8 4-4 4 8 4 0 4 2 4-4 4-1 4-5 4 6 4 0 4-6 4 11 4-10 4 7 4-1 4 0 4-2 4 7 4 5 4 2 4 1 4 4 4 6 4-6 4 17 4-3 4 14 4-3 4 8 4-1 4 12 4 5 4 5 4 3 4 0 4-6 4 0 4-7 4-7 4-20 4-15 4-10 4-18 4-16 4-11 4-15 4-6 4-11 4-5 4-7 4 1 4-5 4-1 4-1 4-4 4 2 4-5 4-1 4 0 4 2 4-8 4 7 4-7 4-1 4 5 4-2 4-2 4-6 4 13 4 0 4-5 4-2 4 0 4-4 4-1 4-3 4-1 4 0 4 10 4-1 4-9 4-2 4-1 4 0 4 1 4 0 4 3 4-14 4 11 4-13 4 10 4-1 4-6 4 3 4-5 4 13 4-4 4-3 4-3 4-4 4-1 4 2 4-2 4 4 4-4 4-2 4-1 4 7 4-17 4-1 4-1 4 16 4-9 4 3 4 0 4-2 4 7 4-13 4-5 4 6 4-5 4-5 4 8 4-9 4 7 4 4 4-7 4-7 4 18 4 7 4-25 4 21 4-23 1 10"/>
<path stroke="#7E2F8E" d="M1031 421l4-7 4-9 4-2 4-4 4 3 4-7 4 1 4 1 4-12 4 0 4 10 4-7 4-4 4 0 4-13 4-9 4 4 4-4 4-11 4-7 4-11 4-7 4-15 4-14 4 1 4-14 4-4 4-12 4-9 4-9 4-7 4-5 4-10 4-9 4-7 4-10 4-3 4-5 4 8 4-4 4-6 4 6 4 2 4-4 4 0 4-4 4-2 4-1 4-9 4-3 4-3 4-3 4 0 4-4 4-8 4-2 4-5 4 0 4-5 4 13 4-3 4 5 4 4 4 0 4 1 4 0 4 13 4-4 4 9 4 4 4 2 4 4 4-4 4 5 4-7 4 7 4 2 4 2 4-10 4-2 4 5 4-6 4 0 4 2 4-10 4 1 4 1 4-6 4 2 4-3 4-2 4 3 4-4 4 2 4 0 4-1 4-3 4 2 4-6 4 1 4 1 4 6 4-2 4-1 4-5 4 6 4-5 4 4 4 4 4 0 4-3 4 4 4-8 4 5 4-3 4-3 4 6 4-8 4-1 4-5 4 5 4 9 4-11 4 1 4 1 4 2 4 0 4 3 4 4 4-8 4-3 4 3 4-8 4-5 4 11 4-4 4 2 4 2 4-4 4 11 4-9 4-9 4 9 4 0 4-1 4 6 4-11 4 1 4-4 4 9 4-3 4 4 4 8 4-16 4 5 4 1 4-1 4-4 4 0 4 7 4-15 4 6 4 12 4-10 4 9 4-9 4 4 4-3 4 5 4-14 4 3 4 8 4 9 4-10 4-7 4 1 4 14 1-3"/>
<path stroke="#77AC30" d="M1031 508l4-4 4 0 4-2 4-1 4-3 4-8 4 5 4-10 4 3 4-3 4-1 4 4 4-8 4-9 4-9 4 1 4-3 4-6 4-4 4-12 4 1 4-8 4-16 4 6 4-12 4-1 4-2 4-11 4 3 4-9 4-9 4-6 4 0 4 4 4-3 4 4 4 1 4 0 4-1 4 11 4 2 4 12 4 1 4 8 4 4 4 1 4 9 4 3 4-1 4 9 4-7 4 10 4-6 4 3 4 1 4 7 4-4 4 4 4 3 4 4 4 1 4 0 4 7 4 0 4 3 4 0 4 3 4 6 4 3 4 2 4 9 4-4 4 3 4 7 4 2 4 3 4-5 4 6 4 2 4 3 4-3 4-7 4-7 4-10 4-19 4-19 4-39 4-40 4-34 4-35 4-26 4-21 4-12 4-17 4-7 4-9 4-4 4-10 4 2 4 1 4-4 4 1 4-3 4 2 4-1 4-6 4 8 4-3 4-1 4-1 4 2 4-4 4 4 4 6 4 2 4-10 4-6 4 10 4-9 4 11 4-1 4 2 4 1 4-11 4 13 4-8 4 3 4 4 4-4 4 0 4-4 4 7 4 2 4 0 4 0 4-11 4 10 4-3 4 4 4 1 4-3 4 7 4 1 4-12 4 7 4-9 4 16 4-10 4 4 4 7 4-11 4-16 4 22 4-6 4 15 4-18 4 7 4 11 4-5 4-12 4 5 4 1 4-6 4 3 4 9 4-15 4 25 4-3 4-3 4 1 4-8 4-16 4 32 4-6 4-10 4-17 4 25 1-5"/>
<path stroke="#4DBEEE" d="M1031 510l4-2 4-3 4 0 4-4 4 3 4 2 4-8 4-5 4-3 4 5 4-8 4 0 4-4 4-4 4-9 4-6 4-9 4 5 4-11 4-10 4-9 4-10 4 6 4-12 4-4 4-9 4 6 4-6 4-3 4-16 4 6 4-11 4 1 4 0 4 6 4-1 4 1 4 2 4 0 4 10 4 5 4 11 4-3 4 7 4 6 4 7 4 1 4 7 4-1 4 0 4 1 4 5 4-5 4 9 4-1 4-6 4 11 4 0 4 0 4 2 4-3 4 8 4-5 4 10 4 1 4 1 4 13 4 0 4 0 4 12 4 0 4 0 4-2 4 0 4 15 4-7 4 9 4 3 4-4 4 0 4 2 4-3 4-7 4-13 4-14 4-25 4-37 4-44 4-31 4-34 4-25 4-21 4-19 4-7 4-16 4-4 4-2 4-7 4-6 4 6 4-3 4-4 4-4 4-6 4 4 4 7 4-7 4 3 4 1 4-6 4 4 4-3 4 0 4 6 4-2 4-4 4 6 4 0 4 5 4-4 4 7 4-8 4 1 4 7 4-6 4 8 4-4 4 3 4-1 4-2 4-1 4-3 4 5 4-1 4-6 4 3 4 6 4-11 4 9 4 5 4-4 4 2 4-5 4 16 4-16 4-1 4 10 4-3 4 1 4-16 4 12 4 2 4-3 4 10 4 7 4-15 4 6 4 1 4-11 4 13 4-10 4 10 4 1 4-13 4 1 4-1 4-5 4 22 4-11 4-12 4 18 4-8 4-5 4 4 4 3 4 3 4 6 1-29"/>
<path stroke="#A2142F" d="M1031 554l4-6 4 4 4 0 4 2 4 3 4-3 4 3 4-2 4-1 4 6 4-6 4-1 4-3 4-1 4-2 4 1 4-6 4 0 4-13 4-6 4-12 4 2 4-9 4-8 4-10 4-4 4-10 4 3 4-12 4 3 4-10 4-5 4 3 4 5 4-2 4-5 4 6 4 5 4 2 4-3 4 6 4 2 4 3 4 2 4 5 4 0 4 11 4-4 4 3 4 4 4 1 4 6 4 3 4 0 4 4 4 2 4 4 4 1 4 5 4 6 4-5 4 1 4 3 4 7 4 4 4-8 4 10 4-2 4 5 4-4 4 3 4 3 4 8 4 0 4-3 4 2 4 0 4 9 4-7 4 5 4-2 4-6 4 5 4-9 4-6 4-10 4-13 4-23 4-27 4-32 4-45 4-31 4-20 4-18 4-19 4-16 4-16 4-17 4-4 4-17 4-12 4 0 4-2 4-4 4-6 4-9 4 4 4 8 4-6 4-10 4 9 4-5 4 6 4-9 4 1 4-1 4-1 4 1 4-2 4-2 4 6 4-1 4-3 4 1 4 0 4-1 4 5 4-15 4 15 4 1 4-4 4-2 4 4 4 6 4-3 4-11 4 10 4 1 4 0 4 1 4-3 4-4 4 9 4 5 4-16 4 5 4-2 4 4 4 2 4 6 4-1 4-6 4 9 4-3 4 8 4-8 4-5 4 15 4-4 4 2 4 0 4-1 4 4 4-17 4 17 4-13 4 7 4 6 4-10 4-10 4 4 4 12 4-2 4-2 4 2 4-11 4-11 1 19"/>
<path stroke="#0072BD" d="M1031 454l4-10 4 7 4-7 4-10 4 10 4-11 4 0 4-7 4 1 4-5 4-5 4-7 4 3 4-8 4-12 4-1 4-6 4-5 4-8 4-7 4-7 4-5 4-10 4-18 4-1 4-2 4-10 4-14 4-2 4-7 4-6 4 0 4-12 4-1 4-6 4-1 4-3 4-7 4-2 4-2 4 7 4 1 4-3 4 2 4 3 4 3 4 3 4 2 4-2 4-3 4 0 4 5 4-1 4-5 4-4 4 15 4-5 4-5 4-5 4 5 4 10 4-1 4 3 4-2 4 2 4 13 4-1 4-2 4 15 4 0 4 11 4-1 4 6 4 3 4 3 4 14 4-3 4 8 4-9 4-3 4-3 4-17 4-13 4-26 4-26 4-29 4-16 4-26 4-18 4-18 4-10 4-17 4-3 4-12 4-2 4-5 4-5 4 4 4-13 4 5 4-4 4 4 4-4 4-7 4-3 4-2 4 10 4 0 4-6 4 0 4 4 4-2 4-1 4 7 4-10 4-3 4 3 4 0 4 5 4-11 4 6 4-6 4 2 4 0 4-6 4 1 4-4 4 9 4 11 4-7 4-7 4 6 4 1 4-6 4 7 4-12 4 7 4 10 4-6 4-1 4-3 4-1 4 4 4-6 4 10 4-4 4 9 4-13 4 9 4-4 4 3 4 1 4-2 4 3 4-2 4-11 4 4 4 0 4-8 4 11 4-3 4-4 4 2 4 0 4 3 4 13 4-9 4 1 4-2 4-19 4 7 4 13 4-7 4 0 4 9 4-20 4 4 1 16"/>
<path stroke="#D95319" d="M1031 453l4 8 4-5 4-2 4-7 4 3 4-2 4-4 4-2 4 0 4-3 4 3 4-1 4-9 4-12 4-5 4-2 4-9 4 0 4-7 4-14 4-7 4-12 4-1 4-8 4-13 4-8 4-10 4-15 4 11 4-17 4-9 4 7 4-7 4-3 4-4 4-2 4-6 4 8 4-14 4-1 4 0 4 3 4 0 4-1 4 2 4 9 4-9 4 13 4-3 4 7 4-2 4 3 4 6 4-8 4 8 4 1 4-3 4 3 4 6 4-4 4 6 4 9 4 0 4 2 4 1 4 6 4 6 4 1 4 1 4 13 4 0 4 9 4-1 4 19 4 0 4 6 4 1 4 2 4 1 4 2 4-14 4-2 4-15 4-16 4-23 4-16 4-20 4-15 4-18 4-15 4-5 4-13 4-1 4-7 4-1 4-5 4-3 4 3 4-6 4 6 4-9 4 6 4-2 4 7 4 0 4-11 4 4 4-1 4 3 4 4 4-5 4 10 4 0 4-1 4-12 4 2 4 8 4-1 4-3 4 4 4 0 4-10 4-1 4 5 4-4 4 5 4-12 4 7 4-7 4 14 4-10 4 0 4 0 4 2 4-5 4 7 4-7 4 4 4 5 4 2 4-19 4 17 4 7 4-7 4 3 4-4 4-6 4 8 4 2 4-6 4 1 4 16 4-10 4-4 4 9 4 4 4-13 4 3 4 20 4-23 4 19 4-12 4 5 4-10 4 4 4 10 4-17 4 10 4-3 4-4 4 13 4 5 4-18 4 5 4-10 4 6 4 7 1-19"/>
<path stroke="#EDB120" d="M1031 429l4-8 4-5 4 1 4-1 4 0 4-11 4-2 4 1 4-3 4-7 4 3 4-4 4-2 4-15 4-5 4 8 4-12 4-9 4-6 4-8 4-5 4-10 4-11 4-13 4-8 4-4 4-14 4-4 4-9 4-8 4-2 4-16 4 9 4-14 4-13 4-7 4-5 4 1 4 3 4-7 4-2 4 4 4-1 4-1 4-6 4 2 4-2 4 1 4-2 4 6 4-3 4-1 4-1 4-6 4 0 4 1 4-4 4-5 4 3 4-7 4 4 4 7 4-3 4 2 4 5 4-8 4 4 4 9 4-3 4 9 4-2 4 0 4 15 4-11 4 9 4 6 4 1 4-4 4 4 4-7 4-3 4-4 4-7 4-2 4-15 4-5 4-11 4-1 4-11 4-3 4 1 4-10 4-6 4-3 4 5 4-4 4-4 4 1 4-5 4 2 4-4 4 1 4 6 4-8 4-12 4 1 4 20 4-12 4-5 4 3 4-7 4 7 4 0 4 1 4-12 4 1 4 5 4-5 4 8 4-11 4 9 4 0 4-8 4 2 4-1 4 3 4-4 4-1 4 1 4 6 4 2 4-10 4 6 4-3 4 8 4-8 4 1 4 5 4 5 4-1 4-4 4 1 4-5 4 11 4-9 4 1 4 15 4-30 4 7 4-3 4 4 4-2 4 1 4 8 4-9 4 0 4 18 4-10 4-8 4 1 4 4 4-7 4 8 4-3 4 19 4-7 4-7 4-3 4-10 4 10 4 1 4 0 4-14 4 13 4-4 4 15 4-16 1 1"/>
<path stroke="#7E2F8E" d="M1031 556l4 6 4-9 4 4 4-2 4 0 4-3 4 5 4 0 4-4 4 3 4 2 4-5 4-1 4 2 4-7 4 0 4-4 4 2 4-18 4-2 4-3 4-10 4-12 4-8 4-5 4-5 4-8 4-1 4-8 4-2 4-10 4 5 4 0 4-1 4-2 4 2 4 0 4 2 4-1 4 9 4-2 4 5 4 2 4 7 4 8 4-2 4 3 4 3 4 2 4 4 4 2 4 1 4 5 4 3 4 3 4 3 4 0 4 4 4 3 4 1 4 4 4 3 4-4 4 11 4 0 4 6 4-2 4 1 4 1 4 1 4-2 4-1 4 5 4 4 4-3 4 6 4 2 4 5 4-4 4 0 4 2 4-6 4-1 4-7 4-5 4-17 4-18 4-17 4-35 4-35 4-41 4-21 4-25 4-17 4-19 4-14 4-18 4-9 4-7 4-17 4-6 4-5 4-6 4-3 4-1 4-5 4 8 4-5 4-8 4-3 4 3 4 0 4 4 4 1 4-11 4 7 4-8 4 4 4 0 4 7 4 1 4-8 4 3 4 3 4-3 4 8 4-5 4-7 4-1 4 4 4 1 4-3 4 5 4-3 4 4 4-3 4 8 4 2 4-3 4-13 4 6 4 6 4-10 4 0 4 3 4 4 4-15 4 20 4-10 4 4 4 3 4-12 4 25 4-9 4-18 4 19 4 1 4-12 4 10 4-15 4 4 4 14 4-5 4 5 4-14 4 10 4-2 4 2 4 4 4-5 4-1 4 16 4-8 4 16 4-19 4 8 4-5 1-7"/>
<path stroke="#77AC30" d="M1031 454l4 1 4-5 4 4 4-4 4 2 4-7 4-4 4 1 4 2 4-6 4-6 4-8 4 3 4-10 4-2 4-10 4-8 4-1 4-7 4-16 4 2 4-13 4 1 4-17 4-2 4-2 4-22 4-5 4 0 4-8 4-2 4 1 4-5 4-3 4-8 4-3 4-5 4 8 4-1 4-9 4 9 4-7 4 4 4 4 4 10 4-3 4 0 4 5 4-5 4 8 4 1 4-6 4 4 4-2 4 6 4-4 4 1 4-2 4-1 4 1 4 5 4 1 4 4 4-4 4 3 4 2 4 8 4 2 4 9 4 3 4-3 4 12 4 5 4 6 4 6 4 7 4-1 4 14 4 0 4-9 4-1 4 0 4-10 4-17 4-17 4-24 4-17 4-21 4-12 4-8 4-15 4-9 4-10 4 2 4-6 4 0 4 0 4-1 4-2 4 6 4-2 4-7 4 5 4 2 4-6 4-3 4 7 4-10 4 4 4 1 4-3 4-8 4 17 4-6 4 3 4 4 4-11 4 4 4 11 4-4 4-9 4 3 4 0 4 3 4 4 4-4 4 1 4 4 4 3 4-7 4 6 4-7 4 1 4 4 4 3 4-12 4 10 4-4 4 2 4 4 4-16 4 19 4-8 4 6 4 12 4-8 4-7 4 6 4-1 4-3 4 8 4-8 4 2 4-5 4-5 4 17 4 7 4 0 4-2 4-13 4 13 4-12 4-1 4 3 4-4 4-8 4 7 4 7 4-1 4-5 4 19 4-22 4 9 4-5 4-6 4 20 4 1 1 2"/>
<path stroke="#4DBEEE" d="M1031 404l4 4 4-6 4 0 4-7 4-6 4 8 4-2 4-10 4 3 4-10 4 1 4-5 4-4 4 0 4-9 4-7 4 0 4-3 4-7 4-10 4-9 4-19 4-4 4-8 4-12 4 4 4-24 4-2 4-9 4-5 4-13 4 0 4-13 4-10 4-5 4-4 4-16 4-7 4-7 4 6 4-7 4 1 4-11 4 0 4 3 4-10 4 6 4-3 4 3 4-11 4 4 4-5 4 0 4 0 4-6 4 8 4-10 4-1 4 1 4-6 4 3 4 1 4-2 4 6 4-3 4 1 4-2 4-1 4 3 4-1 4-2 4-1 4 11 4-6 4 6 4-5 4 6 4-3 4-2 4 2 4-4 4-3 4-2 4 0 4-9 4 5 4-16 4 9 4-2 4-1 4-3 4-3 4-4 4 3 4 7 4-6 4 1 4 1 4-3 4 2 4 1 4-2 4-5 4 1 4 2 4 6 4 2 4-3 4-5 4 12 4-13 4 10 4-7 4 0 4 3 4 3 4-2 4-5 4 6 4-1 4-11 4 5 4 13 4-11 4 7 4-10 4 10 4-7 4 7 4-11 4 7 4-6 4 10 4-5 4-2 4 8 4-5 4 3 4-2 4 7 4-10 4 6 4-5 4 9 4 1 4-11 4 3 4 4 4-9 4-2 4 14 4-12 4-4 4 11 4 5 4-2 4-8 4 2 4-6 4-12 4 12 4-9 4 9 4 1 4 0 4 3 4-9 4 11 4-16 4 1 4 15 4-9 4 0 4-3 4-1 4 16 4-16 1-5"/>
<path stroke="#A2142F" d="M1031 515l4 2 4 0 4 2 4-7 4-2 4 5 4-2 4-5 4 1 4-5 4-3 4 2 4-17 4-3 4 5 4-13 4-5 4 1 4-9 4-8 4-6 4-7 4-4 4-17 4-1 4-3 4-9 4-6 4-7 4-2 4-7 4 3 4-2 4-6 4 0 4 9 4-10 4 7 4 10 4-12 4 7 4 9 4 12 4-8 4 17 4 3 4 0 4-1 4 5 4 7 4-5 4 11 4 1 4-3 4-1 4 5 4-2 4 5 4 11 4-5 4 6 4-2 4 12 4 1 4-6 4 7 4 16 4-4 4 1 4 1 4 12 4-2 4 3 4 2 4 1 4-5 4 8 4 7 4 3 4-7 4-5 4 4 4-10 4-11 4-24 4-23 4-30 4-48 4-37 4-28 4-22 4-20 4-18 4-15 4-12 4-10 4 3 4-4 4-3 4-6 4 6 4-10 4 1 4 1 4 3 4-5 4 0 4 6 4 3 4-4 4 2 4-2 4-2 4-2 4 2 4-1 4 4 4-3 4 13 4-11 4 1 4 6 4-9 4 0 4 0 4-2 4 7 4 5 4-6 4-2 4 11 4-13 4 4 4-4 4-3 4 10 4 5 4-5 4-6 4 0 4 8 4-9 4 6 4 7 4-7 4 14 4-10 4 9 4-7 4-4 4-14 4 9 4 9 4 0 4-4 4 7 4-7 4 7 4 4 4-6 4-1 4-3 4-8 4 11 4 6 4-7 4-15 4 22 4-1 4-12 4 5 4 5 4 10 4 8 4-7 4-4 4-4 1-9"/>
<path stroke="#0072BD" d="M1031 548l4 4 4-5 4 1 4 3 4 1 4-5 4 2 4-1 4-5 4 6 4-2 4-4 4 1 4-2 4-5 4 1 4-2 4-6 4-3 4-9 4-14 4-4 4-4 4-11 4-9 4-4 4-7 4 0 4-5 4-7 4-8 4 4 4-5 4 3 4-3 4 1 4 4 4 6 4-6 4 8 4 10 4-1 4 2 4 8 4 0 4 6 4 1 4-1 4 0 4 6 4 3 4-2 4 10 4 3 4 0 4 6 4 2 4 2 4 3 4-2 4 5 4 0 4 6 4-1 4 3 4 3 4-2 4 2 4 11 4-5 4 6 4-2 4 2 4 0 4 2 4 0 4 1 4 6 4-3 4 4 4-1 4 2 4-10 4 1 4-9 4-13 4-16 4-19 4-31 4-30 4-50 4-22 4-21 4-17 4-11 4-18 4-19 4-9 4-17 4-8 4-5 4-7 4-2 4-9 4-5 4 5 4-6 4 6 4-13 4 6 4-2 4-3 4-6 4 5 4 1 4 2 4-2 4-7 4 3 4-1 4 3 4 2 4-3 4 3 4 1 4 2 4 3 4-19 4 20 4-1 4-9 4 0 4 9 4-6 4 0 4-2 4-7 4 8 4-6 4 10 4 2 4-5 4 2 4 11 4-10 4 13 4-5 4-5 4 3 4-3 4-11 4 5 4 1 4 7 4 5 4-19 4 6 4 6 4-1 4 13 4-26 4 26 4-8 4 7 4-1 4-1 4-6 4 7 4 1 4-12 4 14 4-13 4 7 4-4 4-2 4 1 4 5 1 4"/>
<path stroke="#D95319" d="M1031 555l4-7 4-4 4 4 4 5 4-3 4-1 4 2 4-1 4-4 4 0 4 2 4-4 4-4 4 3 4-5 4-7 4 1 4-1 4-6 4-7 4-11 4-6 4-8 4-7 4-7 4-6 4-5 4-3 4-2 4-8 4-4 4 1 4-2 4 2 4-2 4-6 4 3 4 9 4 2 4-4 4 9 4 4 4 4 4 8 4 0 4 0 4 6 4 5 4-4 4 5 4 4 4 5 4-2 4 9 4-1 4 4 4 2 4 8 4-6 4 0 4 7 4-4 4 1 4 3 4 8 4-1 4 8 4 1 4-2 4 3 4-3 4 9 4-7 4 3 4 4 4 0 4-1 4 4 4-1 4 1 4 3 4-1 4-2 4-7 4-7 4-14 4-13 4-19 4-26 4-38 4-34 4-26 4-28 4-12 4-22 4-13 4-21 4-7 4-16 4-7 4-7 4-9 4-14 4 1 4 2 4-1 4 1 4-14 4 5 4 0 4-2 4-8 4 9 4-14 4 12 4-1 4-1 4-11 4 7 4 4 4-7 4 4 4-3 4 9 4-3 4 6 4 1 4-5 4-3 4 5 4 1 4 2 4-6 4 10 4-7 4 6 4-14 4 6 4 8 4 3 4-7 4 5 4-12 4 14 4-5 4-5 4 5 4-7 4 3 4 5 4 6 4-8 4 4 4-3 4-5 4 9 4 5 4 9 4-27 4 20 4 1 4-1 4 5 4-11 4 4 4 7 4 2 4-11 4-2 4 4 4-8 4 16 4-4 4 4 4-5 4 6 4-24 1 34"/>
<path stroke="#EDB120" d="M1031 474l4-3 4-3 4 1 4 0 4-2 4-5 4 6 4-5 4-3 4-3 4-6 4-8 4-1 4-6 4-10 4-9 4-5 4-2 4-9 4-6 4-5 4-10 4 0 4-18 4-2 4 3 4-14 4-9 4 1 4-2 4 3 4 1 4-4 4-13 4 6 4-3 4 0 4-3 4-4 4-4 4-3 4 2 4-3 4 4 4 0 4 7 4 1 4-2 4 4 4 0 4-1 4 4 4 3 4 11 4-6 4 0 4 3 4-4 4 7 4 8 4-1 4 8 4-6 4-1 4 5 4 2 4 0 4 7 4 1 4 7 4 9 4 1 4 10 4 6 4 0 4 12 4 6 4-6 4 12 4-3 4-3 4-11 4-12 4-19 4-38 4-28 4-44 4-30 4-21 4-20 4-17 4-15 4-10 4-11 4 5 4-12 4 4 4-2 4 3 4 0 4-4 4 1 4-5 4-1 4 3 4-6 4 8 4-11 4 1 4 3 4-1 4-4 4 7 4 0 4-1 4-9 4 4 4 6 4-7 4-9 4 14 4-7 4-2 4-6 4 7 4-1 4 0 4-3 4 5 4-5 4-11 4 5 4 17 4-12 4 1 4 3 4 1 4 2 4-7 4-6 4-3 4 10 4 3 4-2 4 4 4-7 4 15 4-12 4 11 4-13 4 3 4-1 4 16 4-20 4 11 4 3 4-19 4 13 4-2 4-14 4 23 4-9 4 5 4-13 4-12 4 8 4 7 4 10 4 4 4-8 4-6 4-2 4 1 4 1 4 15 4-25 4 25 1-6"/>
<path stroke="#7E2F8E" d="M1031 555l4 1 4-2 4 1 4 0 4-5 4 0 4 3 4 3 4-4 4 5 4-2 4-2 4-5 4 0 4-7 4 0 4 1 4-3 4-9 4-5 4-11 4-8 4-8 4-3 4-16 4 3 4-6 4-5 4-9 4 1 4-9 4 1 4-2 4 3 4-3 4 2 4 1 4 0 4 0 4 7 4 2 4 4 4 3 4 5 4 3 4 9 4 0 4 1 4 0 4 8 4-2 4 4 4 4 4 2 4 1 4 6 4 3 4 1 4 5 4-3 4 4 4 4 4 1 4-1 4 5 4 2 4 1 4 2 4 1 4 4 4 5 4-2 4 2 4-3 4-1 4 8 4 3 4-2 4 3 4-1 4 5 4-10 4-2 4-4 4-6 4-8 4-13 4-23 4-32 4-35 4-37 4-28 4-21 4-15 4-22 4-14 4-22 4-1 4-14 4-18 4 1 4-4 4-9 4-8 4 0 4-3 4 4 4-9 4 2 4-4 4 9 4-7 4 1 4-2 4 2 4 3 4-13 4 16 4-3 4 2 4-2 4 0 4 7 4-9 4 8 4-14 4 9 4 2 4-2 4-1 4-2 4 5 4-2 4 1 4 0 4 1 4-5 4 4 4-1 4 2 4 2 4-4 4 0 4-4 4-3 4 8 4-4 4-14 4 12 4 9 4 5 4-19 4 5 4-10 4 16 4-3 4-2 4 3 4 5 4 4 4-8 4-3 4-1 4 14 4 5 4-21 4 21 4-6 4 3 4-1 4-6 4 11 4-20 4 17 4 14 4-14 4-7 1 8"/>
<path stroke="#77AC30" d="M1031 419l4-4 4 5 4-8 4-1 4 4 4-12 4-3 4-3 4-1 4 2 4-9 4-1 4-2 4-8 4-7 4-5 4-14 4 4 4-4 4-17 4-9 4-4 4-8 4-10 4-14 4-6 4-13 4-5 4-11 4-8 4-2 4-8 4-9 4-3 4-9 4-5 4-9 4-13 4 3 4-2 4-7 4 8 4-5 4 1 4-6 4 6 4-6 4-1 4 1 4 4 4-5 4 1 4 0 4-6 4 2 4 5 4-2 4-8 4 0 4 9 4-6 4 5 4 4 4-2 4 0 4-3 4 4 4 0 4 0 4 7 4 3 4 8 4-1 4-3 4 14 4-3 4 1 4 4 4-8 4-2 4-6 4-8 4 0 4-17 4-7 4-2 4-6 4-7 4 1 4-7 4-6 4-4 4-13 4 9 4-14 4 5 4-8 4 5 4-1 4-1 4-9 4 0 4 0 4-5 4 7 4 3 4-7 4-1 4 9 4-3 4 2 4-12 4-2 4 11 4-11 4 2 4 6 4-8 4 0 4-2 4 4 4 1 4-6 4 9 4-10 4 6 4 3 4-4 4 2 4-7 4 8 4-7 4 8 4 4 4-2 4 4 4-3 4-9 4 2 4-9 4 9 4-4 4-4 4 9 4 2 4 5 4-13 4 5 4 0 4-1 4-3 4 2 4 5 4-8 4 1 4 5 4-11 4 5 4-6 4 0 4 8 4-2 4 2 4 3 4 2 4-6 4 4 4-3 4-3 4 12 4-11 4-3 4 3 4-10 4-4 4 15 4 0 1-11"/>
<path stroke="#4DBEEE" d="M1031 482l4 2 4-13 4 2 4 3 4-6 4 4 4-1 4-6 4 2 4 2 4-10 4-5 4-7 4 1 4-8 4-3 4 0 4-15 4-3 4-9 4-4 4-9 4-1 4-3 4-2 4-9 4 0 4-13 4-4 4-2 4-12 4 5 4 10 4-13 4 13 4-9 4 4 4 3 4 5 4 2 4 11 4 1 4 12 4 4 4 8 4 8 4 1 4 3 4 2 4 4 4 1 4 1 4 7 4-2 4-6 4 13 4-2 4 1 4 0 4 4 4-2 4 3 4 3 4-3 4 9 4 5 4 4 4-1 4 11 4-6 4 7 4 6 4 0 4 1 4 4 4 1 4 9 4-3 4 1 4-4 4 3 4-8 4 0 4-17 4-11 4-12 4-28 4-36 4-42 4-33 4-23 4-7 4-26 4-15 4-12 4-3 4-9 4-3 4-4 4 1 4-2 4 1 4-6 4 2 4-3 4-6 4 10 4-9 4 9 4-3 4 1 4 2 4-4 4 5 4-9 4-4 4 13 4-8 4-2 4 3 4 8 4-9 4-4 4 5 4 0 4 4 4 5 4-2 4-2 4-2 4 2 4 3 4-3 4 4 4-2 4-1 4-2 4 1 4 0 4 11 4-11 4 1 4 5 4 1 4-4 4-2 4 8 4-5 4-3 4 11 4 1 4 0 4 5 4-16 4 3 4 6 4-7 4 10 4-9 4-6 4-5 4 25 4-15 4-9 4 23 4-11 4 8 4-8 4 8 4 0 4 4 4-2 4-4 4 3 4-16 4 20 4-3 1 1"/>
<path stroke="#A2142F" d="M1031 484l4-5 4-6 4 5 4-5 4-4 4 3 4-2 4-8 4-5 4-1 4-2 4-11 4-1 4-8 4-4 4 2 4-12 4-10 4-6 4-8 4-3 4-7 4-8 4-11 4 1 4-7 4-3 4-16 4-2 4-1 4 1 4 2 4 0 4-1 4-7 4 0 4 5 4-6 4 5 4 0 4 6 4 6 4-6 4 2 4 2 4 9 4 0 4 0 4 10 4 5 4-3 4-1 4-2 4 7 4-2 4-1 4 1 4-6 4 9 4 2 4-8 4 8 4 7 4-6 4 4 4-1 4 8 4 4 4 0 4 8 4 11 4 1 4 2 4 2 4 14 4-3 4 14 4 3 4-2 4 4 4-8 4-4 4-7 4-27 4-18 4-45 4-37 4-28 4-27 4-14 4-4 4-18 4-8 4-3 4 0 4-7 4 4 4 4 4-2 4-6 4 8 4-5 4-6 4 13 4-6 4 0 4 5 4-7 4 7 4-3 4-2 4-2 4-2 4 7 4 0 4 5 4-10 4-3 4 7 4-9 4-2 4 5 4 9 4-6 4-12 4 14 4 1 4 0 4-6 4 1 4 0 4-4 4 1 4 6 4-2 4-5 4-4 4 4 4 2 4-4 4 0 4-4 4-6 4 13 4-4 4-6 4 2 4 9 4-13 4 7 4-8 4 7 4 4 4 10 4-6 4-1 4 1 4-13 4 18 4-13 4 9 4-1 4 11 4-4 4-2 4 8 4-10 4 7 4-20 4 28 4-22 4 0 4 20 4-2 4 3 4 4 4-12 1 2"/>
<path stroke="#0072BD" d="M1031 473l4-2 4-3 4-3 4-2 4 0 4-6 4 6 4-10 4-3 4 2 4-7 4-5 4-5 4-9 4 3 4-9 4-6 4-4 4-10 4-1 4-12 4-1 4-7 4-3 4-11 4-5 4-5 4-11 4-7 4-3 4 5 4-5 4-1 4-1 4-9 4-8 4 1 4-3 4-4 4-2 4 8 4-3 4 0 4-3 4 0 4 2 4 10 4 1 4 0 4 6 4 9 4-5 4 4 4-1 4 0 4-1 4 1 4-1 4 6 4-1 4 1 4 4 4-2 4 6 4 2 4 4 4 3 4 11 4 0 4 6 4 3 4 11 4 2 4 5 4 16 4 3 4 1 4 11 4-1 4 4 4 2 4-16 4-3 4-11 4-27 4-15 4-33 4-31 4-8 4-31 4-17 4-8 4-2 4-17 4 2 4-4 4 4 4-7 4 4 4-5 4-6 4 4 4 6 4-10 4 4 4-3 4 6 4 1 4 3 4 0 4-4 4 0 4 6 4-9 4 2 4-1 4 7 4-2 4 2 4-1 4 11 4-18 4 7 4-4 4 10 4 0 4-6 4 1 4-6 4 10 4-6 4 2 4 1 4 5 4-11 4 4 4 1 4 9 4-13 4 9 4 1 4 1 4-5 4-1 4-2 4 2 4 10 4-10 4 0 4 10 4-2 4-1 4-4 4 3 4 2 4-6 4-5 4 9 4-5 4-7 4 19 4-12 4 13 4 1 4-5 4 14 4-10 4-13 4-1 4-1 4 12 4-7 4 9 4-4 4-14 4-2 4 11 1 6"/>
<path stroke="#D95319" d="M1031 483l4 2 4-4 4 1 4-11 4 3 4 0 4-4 4 2 4-11 4 5 4-2 4-10 4 1 4-15 4-1 4-12 4-4 4-2 4-17 4 4 4-11 4-8 4-6 4-15 4-4 4-2 4-16 4-11 4-4 4-4 4-1 4 0 4-3 4-6 4 3 4-7 4 7 4-1 4-6 4 9 4-5 4 2 4 5 4 0 4 6 4 3 4 7 4 7 4-6 4 4 4 9 4-11 4 5 4 9 4-13 4 6 4-4 4 7 4 3 4 0 4-7 4 8 4 8 4 7 4-6 4 9 4 1 4-4 4 7 4 7 4-4 4 5 4 13 4 3 4 9 4 7 4 4 4 6 4-3 4 11 4-9 4-10 4-8 4-18 4-21 4-27 4-37 4-29 4-16 4-18 4-21 4-10 4-11 4 0 4-5 4 0 4-3 4 1 4-1 4 2 4-2 4-5 4 1 4 7 4-5 4 6 4-3 4-7 4 6 4-3 4 0 4 6 4-4 4-2 4-3 4 10 4-6 4 6 4 1 4-5 4-3 4 0 4-1 4 6 4 3 4-5 4-5 4 11 4-2 4-5 4 6 4-12 4 21 4-5 4-7 4-9 4 10 4-11 4 13 4-3 4-6 4-1 4 4 4-1 4 0 4 3 4-2 4 4 4-7 4-1 4 1 4 3 4 5 4 2 4-11 4 2 4 9 4-9 4 8 4-10 4-5 4 16 4 8 4-10 4-12 4 1 4-8 4 6 4-2 4 1 4 13 4 4 4-9 4-1 4 4 4 8 4-8 1 1"/>
<path stroke="#EDB120" d="M1031 421l4-1 4 2 4-10 4 0 4-2 4-2 4-6 4 2 4-5 4-6 4 0 4-5 4-5 4 4 4-18 4 4 4 0 4-13 4-2 4-15 4-5 4-3 4-11 4-8 4-3 4-11 4-9 4-10 4 4 4-13 4-7 4-2 4-10 4-8 4-9 4-5 4-4 4-10 4 5 4-1 4-9 4 3 4 1 4 2 4-3 4 3 4-3 4-5 4-1 4 1 4-3 4-1 4 4 4-1 4-9 4 5 4-4 4-1 4-3 4 7 4-2 4-2 4 8 4-7 4 9 4-2 4 7 4-1 4 1 4 2 4 5 4 0 4 10 4 4 4-3 4 12 4-4 4 4 4-1 4-9 4-2 4-8 4-5 4-10 4-18 4-7 4-2 4-7 4-10 4-6 4-6 4-2 4-1 4-6 4 0 4-7 4 6 4-6 4-3 4 4 4-4 4-1 4-2 4 4 4-10 4 9 4 4 4-5 4-7 4 6 4 0 4-1 4-1 4 3 4-4 4-4 4 0 4-6 4 2 4 0 4 10 4-8 4 2 4-9 4-3 4 6 4-3 4-1 4 1 4 3 4-2 4-5 4 5 4 2 4 6 4-6 4-12 4 16 4-11 4 2 4 1 4 3 4 3 4-3 4-10 4 13 4-9 4 1 4 7 4 2 4-13 4 9 4 4 4 1 4 8 4-18 4 4 4-4 4-2 4 15 4-4 4-18 4 23 4-2 4-5 4-3 4 4 4 0 4 4 4 10 4-19 4 4 4-5 4 8 4 3 4 0 4-13 1 5"/>
<path stroke="#7E2F8E" d="M1031 463l4-15 4 6 4-1 4-1 4-3 4-2 4 1 4-3 4-1 4 3 4-6 4 4 4-11 4-2 4-1 4 0 4-15 4-4 4-1 4-5 4-7 4-10 4-4 4-6 4-3 4-11 4-6 4-8 4-3 4-1 4-2 4 4 4 2 4-10 4-2 4-6 4-1 4-3 4-2 4-7 4 7 4-2 4 1 4 3 4 6 4-3 4 6 4-5 4 11 4-9 4 9 4-9 4 10 4-11 4 8 4-1 4-1 4 3 4-1 4 3 4 1 4 5 4-4 4 4 4 4 4 3 4 4 4-4 4 15 4 8 4 1 4 5 4 8 4 4 4 4 4 11 4 4 4 6 4-2 4 2 4-7 4-2 4-7 4-20 4-22 4-31 4-27 4-27 4-16 4-18 4-15 4-14 4-9 4 6 4-6 4-10 4 2 4-3 4 5 4-4 4 4 4-12 4 2 4 6 4-10 4 2 4 10 4-16 4 4 4-8 4 13 4-9 4 8 4 2 4-7 4 0 4 12 4-12 4 17 4-9 4 0 4 0 4 5 4 9 4-14 4 12 4 0 4-3 4-6 4-1 4 8 4-5 4-2 4 3 4-3 4-1 4-8 4 1 4 11 4-18 4 10 4 6 4-11 4 1 4 5 4-6 4-2 4 16 4-7 4 5 4-5 4 1 4 8 4-6 4-6 4 11 4-9 4 9 4-8 4 9 4 6 4 0 4-17 4-7 4 6 4-2 4-4 4 9 4-4 4 4 4 7 4 5 4-16 4-7 4 11 4 11 4-10 1 11"/>
<path stroke="#77AC30" d="M1031 405l4-10 4 9 4-5 4-6 4-2 4-1 4-8 4-2 4 1 4-1 4-4 4-8 4 3 4-6 4-3 4-5 4-7 4-2 4-2 4-10 4-10 4-13 4-12 4-8 4-13 4-5 4-12 4-11 4-3 4-2 4-9 4-14 4-9 4-5 4-15 4-7 4-12 4-3 4-8 4 1 4 6 4-22 4 6 4-4 4 8 4-8 4-1 4-3 4-2 4 0 4-4 4-6 4 3 4-4 4 6 4-17 4 3 4 3 4-6 4-1 4 3 4 5 4-2 4-2 4 4 4 0 4-3 4 3 4 0 4-4 4 7 4-5 4 9 4-9 4-3 4 6 4 0 4-4 4 0 4-4 4 5 4-3 4-8 4 1 4 2 4-4 4-6 4-1 4 3 4-6 4 5 4-3 4-1 4 2 4-6 4 3 4 1 4 2 4-3 4-4 4 1 4-4 4 3 4 0 4 5 4-3 4 2 4-1 4-1 4 1 4 3 4-5 4-4 4 0 4 5 4-4 4 2 4-6 4 12 4-9 4 4 4-2 4 8 4-7 4-2 4 4 4 0 4-8 4 6 4-4 4 6 4-7 4 1 4-3 4-4 4-2 4 5 4-3 4 5 4-7 4-1 4 4 4 10 4-4 4 5 4-15 4 22 4-14 4 8 4-2 4 7 4-2 4-4 4-4 4 6 4-4 4 3 4-4 4-8 4 13 4-8 4 16 4-11 4-2 4 5 4 4 4-6 4-1 4 5 4-10 4 6 4-6 4-4 4 9 4 1 4 9 4-7 1-13"/>
<path stroke="#4DBEEE" d="M1031 436l4 7 4-6 4 2 4 5 4-5 4 0 4-11 4 9 4-13 4 5 4-3 4-4 4-6 4-2 4-5 4-11 4-9 4-5 4-9 4-5 4-8 4-12 4-6 4-1 4-14 4-14 4-11 4-2 4-1 4-16 4-4 4 0 4-13 4-1 4-11 4 1 4-16 4-3 4-3 4 2 4-1 4-5 4 1 4 4 4-2 4 4 4-3 4 9 4-5 4 6 4 0 4 5 4-3 4 6 4 1 4-2 4 1 4 8 4-6 4-4 4 6 4-2 4 7 4 1 4 10 4 2 4 0 4 4 4 1 4 5 4 10 4 14 4-3 4 11 4-5 4 3 4 12 4-3 4 6 4-5 4-13 4-5 4-13 4-18 4-15 4-23 4-11 4-15 4-18 4-7 4-12 4 4 4-7 4-10 4 3 4-7 4 0 4-5 4 3 4-2 4-5 4-5 4 3 4 3 4 2 4 3 4-10 4 1 4-2 4-5 4-2 4 4 4 2 4-2 4-1 4 7 4-17 4 14 4-7 4-1 4 3 4-3 4 8 4-2 4-5 4 0 4 5 4-10 4 7 4-2 4-2 4 10 4-6 4 2 4 4 4-4 4-11 4 3 4 6 4-9 4 3 4 9 4-12 4 8 4 2 4-4 4 2 4-2 4 0 4 2 4 0 4-1 4 0 4 1 4 1 4 2 4-11 4 4 4 2 4 5 4-12 4 8 4-8 4 2 4-1 4 6 4 4 4-9 4 1 4 20 4-19 4-14 4 30 4-18 4-1 4 3 4-7 1 6"/>
<path stroke="#A2142F" d="M1031 523l4-2 4-8 4 0 4-2 4-7 4-1 4-6 4 4 4-5 4 1 4-4 4-3 4-4 4-9 4-4 4-2 4 0 4-13 4-7 4-3 4-8 4-6 4-6 4 4 4-15 4 0 4-1 4-6 4-4 4-10 4 1 4-10 4 5 4 1 4 6 4-8 4 5 4 6 4-6 4 10 4 5 4-3 4 16 4 0 4 1 4 2 4 14 4-8 4-1 4 10 4-6 4 3 4 0 4 7 4-1 4-3 4 7 4-6 4 8 4 4 4-6 4 6 4 6 4 8 4-3 4 5 4 8 4-2 4 6 4 5 4 1 4-2 4 7 4 5 4 4 4 2 4 2 4 4 4-4 4-4 4 4 4-1 4-8 4-6 4-26 4-22 4-35 4-31 4-42 4-31 4-20 4-25 4-15 4-13 4-10 4-8 4-5 4-1 4-11 4 4 4-5 4 7 4-11 4-4 4 17 4-3 4-6 4 3 4-2 4-3 4 2 4 5 4-5 4 1 4-7 4 7 4 4 4-10 4 5 4-5 4 10 4-1 4-5 4-3 4 0 4-1 4 2 4 8 4-4 4-1 4 4 4 1 4 1 4-3 4 7 4-8 4 0 4 6 4-2 4 7 4-5 4 7 4-6 4 13 4-26 4 15 4-2 4 7 4 0 4-12 4 2 4-8 4 2 4 18 4 0 4-6 4 1 4 4 4-10 4 4 4-5 4-1 4 9 4-6 4-8 4 6 4-10 4 14 4-2 4-7 4 3 4 13 4-12 4 13 4 6 4 0 4-8 1 1"/>
<path stroke="#0072BD" d="M1031 483l4 4 4-5 4-8 4 8 4-3 4 0 4-6 4 4 4-1 4-1 4-12 4 7 4-6 4-10 4-1 4 1 4-10 4-6 4-3 4-9 4-5 4 1 4-12 4 4 4-9 4 1 4-15 4-2 4 0 4-8 4-2 4-6 4 4 4-2 4 0 4-4 4 8 4-6 4 6 4 12 4-2 4 8 4 4 4 4 4 10 4 8 4 6 4 1 4-1 4 1 4 5 4 0 4-5 4 4 4 0 4 1 4 4 4 2 4-3 4 10 4 3 4-5 4-2 4 12 4 1 4 2 4-2 4 3 4 10 4-3 4 1 4 5 4 4 4 5 4 2 4 4 4 7 4 4 4-9 4 3 4 4 4-7 4-4 4-13 4-22 4-27 4-34 4-48 4-19 4-32 4-24 4-17 4-20 4-13 4-3 4-12 4-11 4 2 4-2 4-8 4 2 4-3 4 1 4 5 4-4 4-1 4 3 4 1 4 6 4 0 4-2 4 2 4 2 4-6 4-4 4 7 4 5 4-6 4 4 4-6 4 8 4-3 4 5 4 3 4-3 4 5 4-5 4 1 4-3 4 3 4-6 4 3 4 6 4-8 4 1 4-1 4 2 4 1 4-5 4 2 4-1 4 1 4 3 4-12 4 5 4 11 4-13 4-3 4 13 4-4 4 3 4-8 4 11 4-4 4-3 4-1 4 3 4-9 4 13 4-3 4-11 4 15 4-12 4 13 4 0 4 0 4 3 4 5 4-29 4 19 4 4 4-4 4 2 4-4 4-5 4 10 4 0 1-5"/>
<path stroke="#D95319" d="M1031 442l4-3 4-1 4-4 4-2 4 2 4-12 4 3 4-2 4-5 4-5 4 0 4-3 4-7 4 1 4-5 4-2 4-6 4-3 4-18 4 3 4-9 4-12 4-10 4-9 4-4 4-7 4-13 4 0 4-9 4-8 4-11 4-11 4-8 4-2 4-7 4-2 4-2 4-15 4-1 4 2 4-5 4 3 4-1 4 5 4 4 4-8 4 4 4 6 4-2 4-4 4 4 4-3 4 0 4 0 4 3 4-6 4-1 4-4 4 4 4 5 4-7 4 4 4 0 4 3 4 3 4 2 4 6 4 3 4 6 4 7 4-2 4 9 4 9 4-4 4 20 4 3 4 14 4-8 4 0 4 2 4-12 4-12 4-10 4-16 4-13 4-17 4-19 4-10 4-12 4-19 4-2 4-4 4-2 4-3 4-6 4-2 4-5 4 6 4-16 4 11 4-7 4 5 4-4 4-2 4-3 4-3 4 7 4 1 4 4 4-10 4 1 4 6 4-9 4 2 4-4 4 10 4-4 4 1 4-2 4 4 4-9 4 11 4-14 4 7 4 7 4-19 4 8 4-2 4-1 4 3 4 3 4-1 4-19 4 20 4-1 4-5 4-5 4 3 4-2 4-1 4 4 4-13 4 15 4 0 4-5 4-8 4 5 4 1 4-2 4 3 4 4 4 0 4-2 4-9 4 4 4 18 4-17 4 0 4-4 4 3 4 5 4 6 4-6 4 1 4-3 4-5 4-6 4 16 4 20 4-24 4 6 4-6 4 16 4-21 4 2 4 4 4 5 1 4"/>
<path stroke="#EDB120" d="M1031 466l4-1 4-1 4-2 4 1 4-2 4-7 4 4 4 1 4-3 4-6 4 0 4-8 4-1 4-4 4-7 4-6 4-16 4-1 4-4 4-10 4-8 4-7 4-7 4-7 4-9 4-9 4-9 4-2 4-4 4-16 4 13 4-6 4-7 4-2 4-2 4-4 4-2 4-2 4-1 4 4 4-4 4-2 4-2 4-4 4 8 4 0 4 7 4-2 4-9 4 2 4 3 4 0 4 0 4-5 4 2 4 0 4-2 4 3 4-7 4 13 4 2 4-3 4 8 4 5 4 6 4 4 4-1 4 11 4-3 4 17 4-3 4 10 4 2 4 13 4 0 4 3 4 7 4 11 4 2 4-5 4-5 4-4 4-15 4-13 4-30 4-11 4-32 4-11 4-20 4-20 4-5 4-12 4-6 4-3 4 0 4 0 4-6 4-4 4 4 4 3 4-4 4 2 4-1 4 2 4-5 4 1 4 1 4-9 4 6 4 10 4-12 4 9 4-5 4-1 4 0 4 0 4-1 4 2 4-5 4 8 4-1 4-6 4 13 4-6 4 6 4-8 4 0 4 0 4-1 4-6 4 14 4-13 4-2 4 8 4-2 4 0 4 3 4-7 4 3 4-4 4 2 4-6 4 1 4 10 4-5 4 3 4 1 4 4 4-8 4 0 4 5 4-11 4 8 4 4 4-21 4 20 4-5 4 0 4 8 4 1 4-2 4 8 4 2 4-16 4 7 4-6 4 10 4 5 4-8 4-9 4 7 4 9 4-9 4-4 4 25 4-20 4 5 1-6"/>
<path stroke="#7E2F8E" d="M1031 456l4 2 4-1 4-6 4-4 4 7 4-11 4 0 4 7 4-12 4 1 4 5 4-16 4 5 4 0 4-4 4 2 4-10 4-4 4-2 4-2 4 0 4 1 4-11 4-6 4-9 4 4 4-7 4-3 4-14 4-12 4 1 4 6 4-14 4 9 4-11 4 19 4-19 4 7 4 1 4 7 4 8 4 11 4 3 4 6 4 2 4 9 4 3 4 6 4-2 4 11 4-5 4 6 4-2 4 4 4 2 4 3 4 2 4 9 4-2 4-6 4 13 4 3 4 1 4-8 4 5 4 6 4 6 4 3 4 1 4 8 4-7 4 5 4 6 4 0 4 10 4-7 4 8 4 5 4-5 4-1 4 3 4-11 4-1 4-17 4-14 4-25 4-33 4-36 4-26 4-28 4-17 4-25 4-10 4-8 4-7 4-10 4-11 4-7 4 12 4-7 4-2 4 2 4-3 4 0 4-5 4-1 4 7 4-2 4 2 4-9 4 3 4 2 4 5 4-1 4-7 4 6 4 3 4-4 4 5 4-1 4 1 4-3 4-5 4 12 4-2 4-5 4 0 4 0 4-7 4 9 4-6 4 0 4 8 4 6 4-15 4 9 4-5 4-5 4 11 4-4 4 2 4 8 4-12 4 7 4 7 4 0 4 2 4-22 4 13 4-2 4 9 4-4 4 1 4-5 4 9 4-3 4 10 4-9 4 4 4 3 4-7 4 13 4-11 4 5 4-22 4 9 4-8 4-4 4 21 4 3 4 5 4-18 4 4 4 9 4-2 4-4 4 7 1-16"/>
<path stroke="#77AC30" d="M1031 461l4-2 4 4 4-8 4-4 4-2 4 2 4-2 4-8 4-1 4-4 4 1 4-6 4-3 4-2 4-7 4-7 4-4 4-5 4-10 4-7 4-1 4-17 4-4 4-2 4-17 4-8 4-8 4-12 4 4 4-10 4-5 4-3 4-1 4 1 4-16 4-7 4-5 4 0 4-3 4 3 4-3 4-3 4 2 4 4 4 3 4-2 4 14 4-5 4 2 4 3 4 2 4-3 4 0 4-4 4 6 4-3 4 1 4 1 4 7 4 3 4-3 4 2 4 3 4 4 4 8 4-1 4 3 4 6 4 6 4 0 4 9 4-4 4 13 4 6 4 11 4 4 4 5 4 10 4-6 4-3 4-6 4 2 4-13 4-22 4-25 4-7 4-28 4-12 4-14 4-6 4-23 4-10 4-1 4-5 4-6 4-4 4-6 4 2 4-4 4-7 4 12 4-10 4-5 4 2 4-5 4 5 4 4 4 6 4-8 4 2 4 1 4 1 4 0 4-7 4 12 4-3 4-7 4-3 4 3 4-6 4 6 4-4 4 1 4-3 4-1 4-4 4-7 4 7 4 1 4-4 4-2 4-2 4 4 4-7 4 2 4 4 4-8 4 0 4-1 4 1 4 12 4-13 4 1 4 10 4-4 4-11 4 4 4-6 4 13 4-9 4 1 4-6 4 1 4-5 4 7 4-2 4-7 4 0 4-1 4 6 4-4 4-8 4 1 4 18 4-18 4 7 4-3 4-11 4 6 4-3 4 8 4-15 4 5 4-17 4 4 4 3 4 12 1-7"/>
<path stroke="#4DBEEE" d="M1031 411l4-1 4 0 4 0 4-2 4-9 4-6 4 5 4-6 4-1 4-2 4-12 4-5 4 0 4-13 4 4 4-12 4-8 4-6 4-9 4-16 4 1 4-11 4-5 4-10 4-11 4-11 4-6 4-2 4-14 4-5 4-5 4-12 4-10 4 1 4-14 4-16 4-11 4-6 4-5 4 1 4-3 4 1 4 0 4-6 4-8 4 3 4 2 4-9 4 7 4-4 4-14 4 5 4 1 4-12 4 4 4-5 4-7 4 2 4 0 4-7 4 16 4-3 4 1 4 2 4-8 4 11 4-7 4 14 4-9 4 6 4-1 4 2 4-8 4 8 4-3 4 7 4-8 4-1 4-4 4-10 4 3 4 0 4-6 4 0 4-5 4-7 4 0 4 2 4-8 4-2 4 6 4-9 4 3 4-6 4 3 4 0 4 11 4-4 4-4 4-1 4 4 4-2 4-3 4 2 4 1 4-9 4 10 4-2 4-3 4 2 4 7 4-12 4 3 4 4 4 3 4-5 4 4 4-2 4 5 4-12 4 1 4 8 4 0 4-6 4 12 4-7 4 6 4-1 4-15 4 8 4 4 4 1 4-4 4 0 4 1 4-1 4-1 4-8 4 8 4-8 4 8 4-4 4 4 4 1 4-10 4 8 4-3 4 7 4-1 4-6 4 10 4 0 4-8 4 7 4-6 4-7 4 14 4-24 4 26 4 3 4-8 4 0 4-12 4 20 4-9 4-1 4-4 4-4 4 5 4-13 4 23 4-13 4 6 4 5 4 2 4-7 4-17 1 27"/>
<path stroke="#A2142F" d="M1031 457l4-10 4 3 4-10 4 1 4 0 4 0 4-5 4 3 4-12 4 1 4-3 4-2 4-1 4-9 4-5 4-5 4 3 4-15 4-7 4 1 4-11 4-4 4-5 4-7 4-8 4-6 4 4 4-18 4-4 4-11 4 0 4-2 4 2 4-11 4-14 4 3 4-5 4-5 4 0 4-11 4 4 4 0 4-9 4 9 4-5 4 5 4 4 4-1 4 3 4 2 4 5 4-3 4 2 4-2 4 2 4 3 4-4 4 3 4 9 4-6 4 2 4 3 4-1 4 7 4 4 4 8 4 4 4 3 4 3 4 14 4-1 4 8 4 6 4 5 4 12 4-1 4 3 4-1 4 7 4 2 4-12 4-11 4-5 4-15 4-27 4-18 4-12 4-17 4-18 4-12 4-14 4-7 4 0 4-4 4-4 4-7 4-6 4 6 4-6 4 6 4-4 4 0 4 6 4-9 4 3 4-2 4-1 4 1 4-2 4-3 4 11 4 1 4-12 4 12 4-11 4 1 4 4 4 2 4 1 4-10 4 7 4 10 4-12 4 10 4-8 4 0 4-2 4 7 4-4 4-9 4 8 4 1 4-1 4 5 4-11 4 0 4 10 4 3 4-8 4-4 4-3 4 5 4-5 4 7 4-3 4-1 4 0 4 7 4-10 4 11 4-3 4 1 4 17 4-19 4-2 4 5 4 7 4-14 4-3 4 14 4-6 4 0 4-2 4-2 4 9 4-3 4 2 4 1 4-10 4 1 4 14 4 6 4-19 4 13 4-11 4 1 4-2 1 17"/>
<path stroke="#0072BD" d="M1031 449l4 5 4-7 4 1 4-5 4-1 4 0 4-1 4-8 4-9 4 5 4-12 4 2 4-7 4-4 4-1 4-17 4 1 4-7 4-5 4 0 4-17 4 2 4-9 4-9 4-3 4-14 4 1 4-7 4-6 4-10 4-3 4 6 4-4 4 3 4-15 4 0 4 0 4-12 4 7 4-4 4 6 4-9 4-6 4-1 4 7 4 1 4 3 4 0 4-5 4 5 4-8 4 3 4 6 4-3 4-3 4-7 4 7 4 3 4 0 4 0 4 7 4-1 4 6 4 0 4 2 4 5 4 0 4 10 4 8 4 6 4 7 4 3 4 5 4 0 4 14 4 1 4 1 4 7 4-5 4-7 4 0 4-14 4-9 4-30 4-12 4-29 4-14 4-2 4-17 4-14 4-11 4-6 4-4 4-9 4-7 4 3 4-3 4-3 4 8 4-8 4-7 4 10 4-11 4 2 4 0 4-5 4 15 4-15 4 6 4-8 4 2 4 3 4 0 4-3 4 1 4 1 4-8 4 5 4-1 4 4 4-4 4-11 4 6 4 3 4 9 4-5 4-10 4 10 4-6 4-6 4 4 4-1 4 0 4 3 4-5 4 2 4-6 4 6 4 11 4-11 4 3 4 1 4-4 4-8 4 7 4-1 4 1 4 3 4 5 4 0 4-15 4-1 4 22 4-16 4 0 4 15 4-17 4-1 4 4 4 7 4-3 4 1 4 7 4-12 4 1 4 8 4 6 4-10 4 22 4-33 4-4 4 19 4-2 4-7 4-3 4-6 4 28 1-2"/>
<path stroke="#D95319" d="M1031 411l4-11 4-1 4-5 4 4 4-7 4-8 4 4 4-5 4-3 4 3 4-2 4-1 4 1 4-9 4-3 4-5 4-5 4 4 4-17 4-10 4-5 4-9 4-6 4-17 4-5 4-13 4-11 4-3 4-12 4-14 4-6 4-5 4-9 4-3 4-19 4-3 4-13 4 1 4-3 4 3 4-2 4-9 4 0 4-4 4 10 4-4 4 4 4-5 4-3 4 4 4-11 4-4 4 0 4-1 4-5 4 5 4-10 4-2 4 5 4 0 4-5 4 3 4-2 4-2 4-5 4 9 4 3 4 2 4-2 4-2 4 9 4-2 4 11 4-3 4 7 4-10 4-4 4 11 4 8 4-10 4 1 4-5 4-2 4-2 4-2 4-4 4-6 4-1 4-5 4 7 4-8 4-8 4 8 4-1 4-4 4-1 4 5 4 0 4-4 4 4 4 2 4-7 4-1 4 6 4-2 4 1 4 2 4 5 4-9 4-1 4 11 4-1 4-4 4-2 4-3 4 1 4 4 4-4 4-6 4 8 4 0 4 3 4-1 4-1 4-5 4 1 4 9 4 0 4-4 4-3 4 4 4-2 4-7 4 7 4 6 4 2 4-8 4-9 4 18 4-10 4 1 4 6 4-1 4-7 4 5 4-4 4 5 4-5 4-6 4 8 4-9 4 3 4-3 4-3 4 7 4 7 4 2 4-6 4 11 4-10 4-8 4 10 4-5 4 7 4-4 4-11 4 19 4 6 4-17 4-7 4 7 4-3 4 9 4-2 4 5 4 5 4-5 1-1"/>
<path stroke="#EDB120" d="M1031 418l4 0 4 0 4-10 4 12 4-3 4-6 4 2 4-1 4 6 4-7 4-2 4-9 4 0 4-5 4-10 4-2 4-9 4-10 4-7 4-11 4-11 4-4 4-19 4 0 4-14 4-7 4-2 4-10 4 4 4-9 4-7 4 0 4-11 4 2 4-5 4-6 4-13 4-2 4-9 4 0 4-5 4-4 4 6 4-5 4 0 4 2 4 0 4-5 4-1 4 8 4-5 4-1 4-4 4 0 4 0 4-5 4 4 4-6 4 5 4-3 4-5 4 9 4 1 4-8 4 7 4-8 4 8 4 7 4 2 4 6 4 7 4 6 4 1 4 16 4-4 4 10 4 0 4 6 4 0 4-6 4-12 4 0 4-15 4-12 4-23 4-17 4-14 4-7 4-15 4-12 4-2 4-10 4-9 4-10 4-2 4-4 4 6 4-6 4 5 4-6 4-7 4 1 4 1 4 3 4-12 4 2 4 5 4-7 4 8 4 0 4-9 4 9 4-1 4 0 4-5 4-3 4 4 4-4 4 9 4-2 4 1 4-9 4 9 4 2 4-6 4-6 4-1 4 2 4 1 4 8 4 2 4-10 4-3 4 7 4-2 4 3 4-3 4 3 4-8 4 2 4 1 4 8 4-13 4-4 4 13 4-3 4-5 4 6 4-2 4-2 4 13 4-11 4-7 4 15 4-14 4 13 4-2 4-15 4 17 4-7 4-6 4 4 4 16 4-11 4 1 4-8 4 7 4-20 4 6 4 20 4-4 4-13 4 1 4 5 4-11 4-9 4 6 1 17"/>
<path stroke="#7E2F8E" d="M1031 418l4 3 4-6 4-4 4 0 4 1 4-9 4 5 4-6 4 9 4-8 4-5 4-7 4 0 4-1 4-12 4-4 4-8 4-2 4-1 4-20 4 1 4-13 4-8 4-6 4-13 4-5 4-14 4-8 4-12 4 0 4 1 4-16 4-2 4-6 4-10 4-7 4-8 4-2 4 0 4-1 4-8 4 4 4-7 4 6 4-6 4-1 4 2 4-7 4-2 4 1 4 1 4-3 4 7 4-4 4-10 4 1 4 4 4 4 4-3 4-3 4-1 4 4 4-1 4 3 4 0 4 8 4 2 4 0 4-3 4 11 4 5 4-1 4 0 4 7 4 2 4 4 4-3 4 6 4 4 4-11 4 4 4-5 4-3 4 6 4-15 4-4 4 0 4-1 4-5 4 1 4-9 4-1 4 4 4 6 4-2 4-7 4-2 4 3 4 1 4-6 4-1 4 4 4-4 4 4 4-6 4 2 4 8 4-2 4-11 4 7 4-2 4 9 4-6 4-1 4-2 4-2 4 4 4-4 4 5 4 10 4-15 4-1 4 8 4-5 4-8 4 7 4 4 4 1 4-6 4-3 4 13 4-7 4 1 4-8 4 14 4-14 4 9 4-9 4 15 4-12 4 13 4-8 4 3 4-5 4 3 4 8 4-8 4 3 4 6 4-11 4-1 4 5 4-3 4 7 4-10 4-4 4 19 4-15 4-2 4 1 4 6 4-7 4 5 4-9 4 6 4 10 4-9 4 2 4 5 4-7 4 12 4-3 4 9 4-4 4-6 4-1 4-2 1 5"/>
<path stroke="#77AC30" d="M1031 460l4-6 4-2 4-5 4 3 4-4 4-1 4-1 4-6 4 0 4 0 4-9 4-2 4-6 4-3 4-4 4-7 4-2 4-7 4-9 4 6 4-16 4-10 4-2 4-2 4-11 4-11 4-7 4-14 4 3 4-4 4-4 4 3 4-6 4 1 4-4 4-5 4-3 4 0 4-2 4-4 4-2 4 8 4 4 4-4 4 3 4 3 4 0 4 2 4 2 4-2 4 0 4 8 4-4 4-5 4 4 4-7 4 7 4-6 4 4 4 7 4 0 4-6 4 12 4 5 4-3 4-3 4 4 4-2 4 12 4 7 4 2 4 4 4 13 4 6 4 0 4 1 4 10 4 4 4 3 4-3 4-4 4-10 4-2 4-18 4-15 4-21 4-20 4-19 4-16 4-20 4-19 4 5 4-11 4-8 4 3 4-2 4-2 4-11 4 2 4-11 4 6 4 7 4-8 4-6 4 6 4 4 4-1 4-3 4 5 4-5 4 4 4 6 4-4 4-4 4-1 4-1 4 8 4 2 4-1 4-7 4-4 4 6 4-4 4 2 4-7 4 12 4-6 4 7 4-3 4-5 4 4 4 3 4 0 4-1 4-3 4 10 4-9 4-10 4 14 4-3 4 3 4 3 4-2 4 1 4-1 4-9 4-4 4 18 4 4 4-11 4-4 4 5 4-7 4 5 4-5 4 15 4-1 4-2 4-1 4 2 4-6 4-3 4 18 4-11 4 4 4-13 4 21 4-22 4 4 4 9 4-1 4-4 4 6 4-11 4 8 4-5 4-10 1 15"/>
<path stroke="#4DBEEE" d="M1031 416l4-2 4-1 4-13 4 4 4 2 4-4 4 2 4 0 4-4 4-4 4-5 4 4 4-7 4 0 4-3 4-4 4-2 4-5 4-12 4-7 4-8 4-9 4-8 4-10 4-9 4-6 4-7 4-17 4-1 4-16 4-4 4-4 4-8 4-9 4-8 4-6 4-20 4-5 4 3 4-4 4-3 4 2 4-6 4-5 4 7 4-4 4-14 4 7 4-1 4 1 4-6 4 2 4 2 4-9 4 4 4-3 4 1 4-3 4 9 4-14 4 14 4-2 4 0 4 3 4 0 4 5 4-4 4 10 4 1 4-1 4 7 4 0 4 0 4 10 4 4 4 1 4 0 4-3 4 3 4-2 4-12 4-7 4-4 4-9 4-8 4-12 4-14 4-2 4-12 4-1 4-4 4-8 4-12 4-6 4 8 4-9 4 1 4-8 4 7 4-7 4-6 4 9 4-17 4 12 4 6 4 1 4-8 4-5 4 0 4 7 4-8 4-3 4 2 4 6 4-4 4 2 4 0 4-2 4 2 4 7 4-6 4 3 4-3 4-7 4 4 4-3 4 6 4-2 4-2 4 3 4 8 4-10 4 10 4-17 4 12 4-4 4-2 4-3 4 10 4 4 4-4 4-4 4 6 4-8 4-9 4 16 4-7 4-7 4 6 4-6 4 4 4 6 4 6 4-10 4-7 4 17 4-11 4-3 4 0 4 3 4-3 4 9 4-5 4-5 4-2 4 14 4-11 4-9 4 11 4-11 4 4 4-10 4 5 4 16 4-20 4 11 4-7 1-1"/>
<path stroke="#A2142F" d="M1031 478l4-1 4 2 4-4 4-1 4 0 4-9 4 1 4 8 4-6 4 1 4-10 4-1 4-3 4 1 4-5 4-5 4-3 4-5 4-15 4-2 4-1 4-10 4-4 4-5 4-3 4-5 4-4 4-1 4-12 4 2 4-3 4-4 4-10 4 0 4 2 4 7 4-3 4 7 4-9 4 6 4 14 4 4 4 10 4 6 4 3 4 8 4-2 4 5 4 8 4-1 4 0 4 3 4 4 4 3 4 1 4-3 4 2 4 7 4-1 4 1 4 5 4 2 4 1 4 2 4 3 4-3 4 9 4 3 4 2 4 10 4-5 4 4 4-2 4 6 4 1 4-1 4 16 4-4 4 1 4 6 4-6 4-4 4-7 4-7 4-16 4-25 4-29 4-44 4-27 4-28 4-24 4-20 4-13 4-17 4-7 4-11 4-6 4-2 4-3 4 3 4-6 4-2 4 2 4-6 4 7 4-1 4-6 4 11 4-12 4 5 4-2 4 1 4-6 4 6 4-11 4 15 4-4 4 11 4-12 4 3 4-5 4 1 4 5 4-4 4 8 4-3 4-3 4 6 4-5 4-2 4 0 4 2 4 2 4 0 4 6 4-11 4 10 4-10 4-6 4 1 4 3 4 4 4 5 4-10 4 16 4 0 4 3 4-7 4-6 4 6 4 0 4 5 4 2 4 4 4-3 4-13 4 12 4 9 4 0 4-9 4 6 4 10 4-23 4 11 4-12 4 10 4 7 4-21 4 14 4-5 4-2 4 2 4-1 4-11 4 23 4 9 4-21 1 21"/>
<path stroke="#0072BD" d="M1031 471l4-7 4 4 4 5 4-5 4-5 4-5 4-6 4 5 4-13 4 5 4-2 4-3 4 0 4-10 4 3 4-8 4 4 4-7 4-2 4-10 4-6 4-2 4-4 4-7 4-4 4-1 4-6 4-5 4-8 4 3 4-6 4 2 4-5 4 3 4-8 4 5 4 1 4 1 4 0 4 14 4-7 4 8 4 11 4 11 4-7 4 12 4 2 4 4 4 6 4 4 4-2 4 4 4 2 4 2 4-2 4-8 4 5 4 1 4 4 4 1 4 0 4 4 4 1 4 0 4 3 4 3 4 6 4 9 4-9 4 13 4 1 4 3 4-1 4 7 4 2 4 4 4 8 4 2 4 8 4-2 4-5 4 3 4-12 4-8 4-12 4-17 4-28 4-42 4-40 4-27 4-19 4-22 4-14 4-15 4-8 4-6 4-7 4 7 4-16 4-3 4 0 4 0 4-4 4 6 4 0 4-5 4-2 4 4 4 0 4-8 4 7 4 1 4-9 4-3 4 2 4 4 4-2 4 6 4-2 4-2 4 9 4 1 4 0 4-3 4-9 4 13 4 5 4-8 4 3 4 0 4-1 4 2 4-5 4 2 4-3 4 4 4 8 4-8 4-9 4 1 4 6 4 2 4-13 4 11 4 3 4-3 4 7 4-11 4 17 4-4 4-3 4 4 4 6 4-6 4-6 4 9 4 10 4-9 4-4 4-2 4 17 4-25 4 15 4-18 4 11 4 15 4-8 4 6 4-9 4-16 4 6 4 22 4-2 4-7 4-1 4 2 4 4 1-8"/>
<path stroke="#D95319" d="M1031 476l4-1 4-4 4-2 4 6 4-2 4-3 4-1 4-8 4 3 4-1 4-2 4-2 4-8 4-8 4 12 4-9 4-7 4-3 4-6 4-6 4-8 4-2 4 0 4-7 4-5 4-5 4 0 4-4 4-15 4-2 4 2 4-8 4 8 4-4 4 1 4-2 4-2 4-1 4 15 4-6 4 10 4 0 4 10 4 7 4 3 4 6 4 1 4 4 4 6 4-1 4-2 4-4 4 11 4-2 4-3 4-1 4 5 4 4 4-1 4 10 4 0 4 2 4-4 4 9 4 0 4 2 4 3 4 3 4-1 4 2 4 5 4 2 4 7 4-2 4 9 4-2 4 2 4 9 4 5 4-8 4 1 4-1 4-8 4-5 4-20 4-17 4-41 4-36 4-33 4-24 4-24 4-16 4-18 4-12 4-8 4-9 4-1 4-4 4 1 4-4 4-6 4 6 4-8 4 7 4 0 4-6 4 5 4-2 4-2 4-8 4 8 4 2 4-8 4 10 4-7 4-4 4 8 4-6 4 7 4-3 4 3 4-1 4-2 4-6 4 3 4 1 4 5 4-8 4-1 4 1 4 7 4-9 4 10 4-3 4 0 4-1 4 9 4-7 4 4 4-2 4 11 4-6 4 9 4-8 4-11 4 11 4-6 4 5 4 5 4-4 4-1 4 3 4-9 4 10 4-2 4-3 4 12 4 2 4-11 4 13 4-14 4-4 4 3 4 8 4-1 4-2 4-9 4 2 4 1 4-1 4 0 4 23 4-14 4 0 4-1 4-1 4 7 1 3"/>
<path stroke="#EDB120" d="M1031 451l4-4 4-1 4-4 4 2 4-13 4 6 4-6 4 3 4-10 4-3 4 2 4-9 4 0 4-10 4-4 4 1 4-9 4-10 4-3 4 0 4-7 4-2 4-10 4-14 4-3 4-13 4-6 4-3 4-17 4-6 4-11 4-1 4-8 4-6 4-5 4-2 4-10 4-12 4 6 4-6 4-1 4-1 4-4 4 8 4-7 4 5 4 3 4-4 4 3 4 5 4-1 4 4 4 1 4 7 4-12 4 6 4 0 4 1 4 5 4-9 4 14 4-3 4 1 4 6 4-6 4 10 4 1 4-6 4 12 4 0 4 5 4 8 4 10 4 0 4 16 4 2 4 13 4 3 4-6 4-6 4-10 4-9 4-19 4-18 4-28 4-22 4-20 4-19 4-11 4-21 4-4 4-11 4-12 4 8 4-4 4 4 4-6 4-7 4-2 4-11 4 5 4 8 4-8 4 0 4-4 4-5 4 7 4 1 4-3 4 0 4-5 4 0 4-5 4 15 4-4 4-6 4 3 4 2 4-4 4 3 4-5 4 3 4-5 4 11 4-10 4-5 4 11 4-11 4 9 4-6 4-6 4 11 4-6 4 1 4-2 4 0 4 10 4-8 4-3 4 8 4 2 4 6 4-10 4-5 4 10 4-11 4 0 4 2 4-3 4 7 4-7 4 7 4-3 4 9 4-6 4-11 4 1 4 1 4 0 4 14 4-22 4 17 4-10 4 9 4-3 4-1 4 10 4-18 4 0 4 27 4-18 4 4 4-2 4 2 4 0 4-17 4 20 1-5"/>
<path stroke="#7E2F8E" d="M1031 436l4 1 4-8 4 1 4-2 4-5 4-6 4 1 4-1 4 1 4-5 4-2 4-7 4-10 4 2 4-8 4 4 4-10 4-9 4-3 4-6 4-11 4-6 4-6 4-12 4 0 4-12 4-13 4-5 4-2 4-13 4-2 4-7 4 1 4-5 4-10 4-13 4-2 4 1 4-9 4 3 4-7 4-2 4 3 4-3 4 5 4-11 4 6 4-2 4-6 4 10 4-10 4 4 4-4 4 6 4-6 4 0 4 2 4-7 4 6 4 0 4-8 4 9 4 8 4-4 4 10 4 3 4 5 4 4 4 2 4 1 4 17 4 1 4 0 4 11 4 5 4 4 4 8 4 2 4-5 4 6 4-9 4-2 4-11 4-15 4-9 4-4 4-10 4-10 4-1 4-9 4-10 4-2 4-5 4-2 4 1 4 0 4 2 4 0 4-6 4-3 4 3 4-2 4 0 4-4 4 6 4-4 4 1 4-3 4 5 4-1 4-6 4-7 4 14 4-3 4 1 4-4 4-2 4 9 4-5 4-3 4-2 4 9 4-4 4 2 4 1 4 1 4 0 4 1 4 1 4 8 4-3 4-14 4 1 4 4 4 2 4-7 4 4 4 2 4-2 4-2 4-2 4 4 4 8 4-8 4 1 4 6 4-5 4 3 4 7 4-15 4 7 4-2 4 0 4 8 4-3 4 5 4-1 4-12 4 10 4-18 4 2 4 9 4 6 4-6 4 1 4 9 4-12 4-3 4 7 4 2 4 17 4-12 4-6 4 1 4 7 4-11 4-3 1 5"/>
<path stroke="#77AC30" d="M1031 453l4 4 4-4 4-6 4 5 4-10 4 1 4-1 4-11 4 7 4-4 4 1 4-10 4-1 4-5 4-7 4-1 4-7 4-4 4-3 4-11 4-15 4 5 4-11 4-9 4-7 4-2 4-3 4-17 4 0 4 3 4-7 4-9 4 2 4-5 4-1 4-10 4 8 4-7 4-1 4 1 4-3 4 2 4 2 4-4 4-3 4 8 4 5 4 3 4-8 4 5 4-5 4 1 4 2 4-4 4 11 4-10 4-1 4-4 4 12 4-1 4-7 4 14 4-4 4 6 4 1 4 4 4 3 4 1 4-2 4 15 4 4 4 13 4 3 4-1 4 14 4 15 4 2 4 8 4 1 4-5 4-3 4-9 4-4 4-13 4-33 4-13 4-28 4-17 4-15 4-21 4-10 4-11 4-8 4 1 4-7 4 3 4-8 4 4 4 3 4-1 4-9 4 10 4-1 4 5 4-18 4 9 4-5 4 9 4-7 4 1 4 3 4-9 4-8 4 8 4 7 4 1 4-3 4 3 4 3 4-7 4 11 4 3 4-9 4 10 4 3 4-7 4 1 4 4 4 1 4-3 4-13 4 1 4 3 4 0 4 1 4 17 4-16 4-3 4 3 4 0 4-7 4 10 4-6 4-1 4 9 4 5 4-2 4-5 4 0 4 11 4-7 4 1 4-7 4 1 4 11 4-13 4-4 4-11 4 20 4-6 4-5 4 10 4 3 4-20 4 12 4 17 4-15 4 5 4-2 4 1 4 11 4 2 4 10 4-13 4 11 4-12 4-5 1 2"/>
<path stroke="#4DBEEE" d="M1031 548l4 0 4-3 4 1 4 2 4 1 4 1 4-1 4-4 4 4 4 2 4-7 4-3 4-1 4 0 4-4 4 1 4 0 4-6 4-12 4-7 4-7 4-5 4-8 4-14 4-5 4 0 4-6 4-7 4-4 4-1 4-8 4 1 4-5 4 0 4-2 4 2 4-1 4 2 4 3 4 2 4 8 4 3 4 7 4-1 4 8 4 3 4 5 4-2 4 5 4 0 4-2 4 8 4-4 4 8 4 1 4 2 4 4 4 8 4-2 4 4 4 1 4 2 4 3 4 3 4 5 4 3 4-2 4 1 4 9 4-3 4 3 4 4 4-2 4 0 4 6 4-1 4-3 4 4 4 3 4 6 4-4 4 0 4-6 4-7 4-11 4-7 4-13 4-25 4-30 4-39 4-35 4-26 4-17 4-22 4-16 4-16 4-15 4-7 4-13 4-8 4-12 4-3 4-8 4-1 4-5 4-1 4-9 4-1 4 3 4 2 4-5 4-1 4 0 4-4 4-1 4 7 4-5 4 2 4-3 4 13 4-8 4 5 4 1 4-4 4-1 4 0 4 2 4-4 4 5 4-1 4 7 4-10 4 4 4-4 4 0 4 4 4 1 4-2 4 1 4 2 4-2 4 2 4-6 4 8 4-5 4 2 4 0 4 11 4-6 4 2 4-6 4-5 4 4 4-1 4 13 4-10 4 17 4-19 4 9 4-13 4 9 4 4 4 8 4-9 4-11 4 5 4-1 4-1 4 9 4 4 4-2 4-2 4-7 4 11 4-14 4-1 4 9 1-3"/>
<path stroke="#A2142F" d="M1031 484l4-8 4 0 4-3 4-10 4-1 4-2 4 2 4-2 4-9 4-5 4-4 4 1 4-8 4-5 4-1 4-4 4-3 4-5 4-4 4-10 4 1 4-11 4-7 4-3 4-14 4-6 4-1 4-7 4-7 4-3 4-2 4 0 4 6 4-6 4-5 4 1 4-6 4 7 4-7 4 0 4 3 4 3 4 0 4-3 4 3 4 0 4 6 4 4 4-2 4-2 4-2 4 3 4 2 4 3 4 1 4 1 4-1 4-1 4 1 4 6 4 9 4-7 4 2 4 9 4 6 4-4 4 3 4 16 4 1 4 4 4 7 4 1 4 15 4 0 4 1 4 18 4-2 4 2 4 2 4 0 4 5 4-11 4-12 4-20 4-17 4-33 4-28 4-33 4-31 4-19 4-7 4-23 4-4 4 0 4-12 4 6 4-3 4 7 4-3 4 1 4-9 4 3 4-1 4-2 4 8 4-6 4-3 4 5 4 1 4-3 4 4 4-2 4 0 4-2 4 9 4-11 4-3 4 6 4 0 4 4 4-1 4 0 4 4 4 1 4 6 4-7 4 1 4-1 4-6 4 0 4 8 4-7 4-1 4-1 4 1 4-1 4-1 4-1 4-4 4 6 4 8 4-7 4-8 4 4 4-4 4 5 4 3 4 4 4 0 4-11 4 17 4-6 4 0 4-4 4-1 4 19 4-14 4-2 4-2 4 14 4-6 4-4 4 1 4 6 4-21 4 17 4-5 4 11 4 2 4-3 4-13 4 2 4 2 4 3 4 12 4-10 4 3 1 0"/>
<path stroke="#0072BD" d="M1031 478l4-2 4-10 4 3 4-9 4 1 4-4 4 2 4-2 4-6 4-1 4-5 4-3 4-4 4-2 4-1 4-7 4 3 4-12 4 3 4-9 4-2 4-11 4 3 4-4 4-4 4-11 4-4 4-6 4 1 4-14 4 5 4 2 4-5 4 5 4 0 4-3 4 10 4-8 4 4 4 10 4 0 4 9 4 14 4 7 4 0 4 14 4-1 4 3 4 8 4-4 4 1 4 2 4 0 4-2 4 9 4-6 4 0 4 8 4 0 4-1 4 1 4 1 4 7 4 4 4 2 4 3 4-1 4 4 4-1 4 4 4 5 4 3 4-4 4 9 4-2 4 14 4 3 4-4 4-5 4 9 4-13 4 8 4-12 4-17 4-1 4-28 4-42 4-35 4-24 4-29 4-22 4-22 4-16 4-11 4-11 4-1 4-13 4 5 4-4 4 0 4-8 4 7 4-2 4-10 4 7 4 7 4-12 4 0 4 2 4-2 4 7 4 2 4 1 4-9 4 3 4 11 4 0 4-7 4 2 4 0 4-3 4-5 4 8 4-2 4-5 4-3 4 13 4-9 4 7 4-2 4-7 4 4 4 3 4 0 4 7 4-10 4 3 4-7 4-1 4 3 4 12 4-10 4-2 4 4 4-3 4 2 4 1 4 1 4-4 4 11 4-11 4 19 4-14 4-18 4 8 4 13 4 3 4-13 4 16 4-7 4 0 4 3 4-3 4-5 4 8 4-1 4-4 4-4 4 13 4 11 4-3 4-22 4 5 4 7 4-11 4 9 4-2 1 10"/>
<path stroke="#D95319" d="M1031 399l4 10 4-9 4 1 4 5 4-4 4-2 4 0 4-7 4 2 4-1 4-2 4-4 4-4 4-3 4-15 4 1 4-13 4-3 4-9 4-8 4-11 4-11 4-10 4 0 4-17 4-12 4-2 4-7 4-8 4-11 4-9 4 2 4-10 4-12 4-3 4-6 4-7 4-14 4 6 4-1 4-8 4-6 4-2 4-3 4-5 4 0 4 1 4-4 4-6 4 4 4-14 4 4 4 4 4-12 4 0 4 1 4-3 4-1 4 0 4 2 4 5 4-4 4 5 4 3 4-4 4 7 4 5 4-3 4 4 4-3 4-2 4 7 4-4 4 5 4-5 4 12 4-8 4 7 4-8 4 0 4-5 4 4 4-5 4-7 4 3 4-4 4-1 4-2 4 1 4-1 4 2 4-5 4-1 4-5 4 1 4 0 4 14 4-11 4-1 4 2 4-7 4 2 4-4 4 10 4-7 4 0 4-3 4 9 4 1 4-7 4-3 4 7 4-5 4-3 4 4 4 6 4-3 4-1 4 1 4-7 4 3 4-3 4 6 4 0 4-12 4 9 4 1 4 3 4-7 4 3 4-6 4 1 4 11 4 2 4 2 4-11 4-8 4 7 4 5 4 0 4-8 4 1 4 0 4 10 4-1 4 3 4-8 4-8 4 12 4-8 4 7 4-13 4 13 4-6 4 8 4 1 4-23 4 26 4 13 4-20 4-1 4-5 4 12 4-19 4 16 4 7 4 0 4-23 4 14 4-17 4 11 4 18 4-30 4 21 4-9 4-1 4 3 1-1"/>
<path stroke="#EDB120" d="M1031 512l4-6 4-5 4 0 4 2 4-6 4-2 4-5 4 2 4-3 4 6 4-11 4-1 4-1 4-11 4-7 4-2 4-3 4-11 4-3 4-1 4-16 4-10 4-2 4-4 4-6 4-6 4 1 4-12 4-5 4 5 4-6 4-8 4 0 4 4 4-7 4 7 4-1 4-1 4 8 4-1 4 16 4-2 4 0 4 17 4 3 4 4 4 4 4-2 4 5 4 0 4 6 4 7 4-4 4 1 4 8 4-3 4-2 4 2 4 6 4-1 4 5 4 8 4 3 4 3 4-6 4 8 4-1 4 4 4 9 4 0 4-2 4 7 4-1 4 7 4 3 4 2 4 1 4-1 4-1 4 6 4 0 4-9 4-5 4-14 4-17 4-18 4-28 4-41 4-34 4-34 4-23 4-21 4-10 4-13 4-9 4-8 4-4 4 2 4-8 4-1 4-2 4-1 4-5 4-1 4-3 4 1 4 9 4-12 4 9 4 4 4-7 4 9 4 1 4-12 4 9 4-8 4 5 4 3 4 4 4-13 4 8 4 0 4 1 4-8 4 3 4 4 4 9 4-14 4 3 4 0 4-9 4 12 4 0 4-9 4 4 4 5 4-5 4 7 4-3 4-2 4 4 4 11 4-4 4-11 4 5 4-5 4 5 4-2 4 3 4 6 4-12 4 0 4 1 4 6 4-11 4 16 4 2 4-16 4 10 4-1 4-3 4 10 4-1 4-18 4 6 4 13 4-11 4 26 4-7 4-11 4 6 4-1 4-2 4-2 4 3 4-8 4 6 1 9"/>
<path stroke="#7E2F8E" d="M1031 442l4-4 4 9 4-7 4-6 4-16 4 13 4-11 4 5 4-10 4-10 4 3 4-4 4-7 4 1 4-9 4 1 4-10 4-5 4-2 4-10 4-14 4 1 4-10 4-6 4-13 4-4 4-5 4-11 4-2 4-6 4-4 4-5 4-9 4 1 4-10 4-3 4-6 4 0 4-10 4-1 4-11 4 8 4 2 4-9 4 8 4-3 4-1 4 6 4-8 4 5 4-6 4 2 4-2 4-4 4 7 4-11 4-2 4 2 4 7 4-4 4 7 4 3 4-5 4 5 4 4 4 1 4-2 4 11 4 9 4-6 4 11 4 5 4 9 4 6 4 5 4 12 4 2 4 4 4-6 4-2 4-3 4 1 4-21 4-16 4-19 4-10 4-16 4-14 4 0 4-26 4-4 4-4 4-12 4-4 4-2 4-2 4-2 4-1 4 0 4 3 4 1 4-11 4 7 4-7 4 3 4 0 4-3 4-3 4 1 4 1 4-1 4-4 4 0 4 0 4 4 4 3 4-6 4 0 4-3 4-6 4-7 4 12 4-7 4 2 4 2 4 0 4 4 4-7 4 5 4-2 4-4 4-3 4 9 4-3 4 4 4-4 4 4 4-4 4-4 4 6 4 2 4-4 4-3 4 2 4 2 4 7 4-10 4 5 4-1 4 2 4 1 4-15 4 12 4 1 4 0 4-9 4-3 4-2 4 12 4 0 4-17 4 24 4-11 4-4 4-2 4-7 4 19 4-8 4 7 4-4 4-1 4 14 4-24 4 19 4-5 4-8 4 2 1 1"/>
<path stroke="#77AC30" d="M1031 425l4-5 4-2 4 3 4-4 4-10 4-1 4 4 4-1 4-2 4 0 4-10 4 2 4-1 4-7 4-1 4-7 4-4 4-17 4-2 4-4 4-10 4-11 4-5 4-10 4-8 4-13 4-11 4 3 4-16 4-2 4-9 4-8 4-2 4-1 4-17 4 4 4-14 4-4 4 4 4-9 4-5 4 11 4-5 4 7 4-4 4-4 4 0 4 4 4 1 4-4 4-5 4 8 4-5 4 1 4-4 4-7 4-4 4 4 4-6 4 4 4-1 4 5 4-6 4 8 4 1 4-8 4 12 4 3 4 2 4 2 4 7 4-1 4 3 4 8 4 9 4 8 4-10 4 1 4 0 4 3 4-2 4-19 4-16 4-6 4-21 4-19 4-6 4-13 4-18 4 3 4-13 4-2 4-15 4-2 4 0 4-8 4-3 4-3 4 2 4 6 4-6 4-5 4 1 4-4 4 9 4-15 4 3 4 5 4-4 4 4 4 3 4-14 4 11 4-5 4-3 4 0 4-4 4 3 4 9 4-10 4 2 4-5 4-2 4 11 4-2 4-3 4-1 4 8 4-3 4-5 4 1 4-2 4 4 4 0 4-2 4-3 4-6 4 15 4-10 4 6 4 1 4 2 4-17 4 14 4 2 4-14 4 17 4-7 4-4 4 0 4-10 4 3 4 20 4-18 4 0 4-1 4-1 4 10 4-21 4 21 4-12 4 10 4-9 4 8 4 8 4-12 4 4 4 4 4-17 4 14 4-1 4 8 4-4 4 9 4-8 4 2 4 6 1-4"/>
<path stroke="#4DBEEE" d="M1031 435l4 1 4-9 4 3 4-10 4-1 4-1 4 6 4-10 4-4 4 0 4-6 4 0 4-5 4-8 4-5 4 4 4-10 4-12 4-7 4-7 4-6 4-2 4-12 4-9 4-17 4-2 4 1 4-28 4 4 4-7 4-6 4-6 4-1 4-5 4-9 4-8 4-5 4 0 4-1 4-12 4-1 4 3 4-2 4 1 4-5 4 2 4 6 4 5 4-4 4-11 4 2 4 0 4 0 4-4 4 3 4-6 4 6 4-3 4 6 4-5 4 7 4-2 4-6 4 1 4 21 4-1 4 1 4 0 4 5 4 7 4-4 4 11 4 4 4 7 4 1 4 11 4 2 4 0 4 1 4-6 4 1 4-4 4-11 4-2 4-19 4-8 4 4 4-18 4-7 4-3 4-15 4-2 4 3 4-4 4-9 4 5 4-8 4 0 4 6 4-7 4 9 4-13 4-1 4-1 4 10 4-11 4 3 4-7 4-2 4 10 4-7 4 2 4-2 4 2 4-4 4-8 4 1 4 5 4-11 4 9 4-9 4 9 4-2 4 3 4-2 4 0 4-3 4 2 4 0 4-8 4 10 4-8 4 4 4-10 4 18 4-17 4 11 4-8 4 10 4-8 4-1 4-4 4-1 4 7 4-4 4 5 4-9 4 7 4-10 4 8 4 10 4-13 4 2 4 2 4 7 4-16 4 10 4-6 4 3 4-4 4 2 4-7 4-2 4-4 4 13 4 6 4-17 4 4 4-14 4 13 4-6 4 14 4-10 4 2 4-11 4 16 4-10 1 24"/>
<path stroke="#A2142F" d="M1031 454l4-9 4 6 4-9 4 8 4 1 4-11 4-1 4 2 4-5 4-3 4 2 4-6 4-6 4-3 4 0 4-17 4 3 4-11 4-2 4-17 4-6 4-10 4-1 4-16 4 1 4-12 4-3 4-16 4 3 4-13 4-4 4-1 4-3 4-1 4-8 4 1 4 2 4-5 4 6 4-9 4 1 4-5 4-3 4 10 4-2 4-3 4 1 4-5 4 4 4-11 4 3 4 7 4-6 4 5 4-2 4-5 4 2 4-1 4 3 4 1 4 1 4 3 4 1 4 10 4-6 4 8 4 9 4 6 4 5 4 2 4 10 4 11 4 0 4 2 4 11 4 14 4-4 4 11 4 3 4-7 4-6 4 2 4-16 4-19 4-9 4-20 4-23 4-14 4-6 4-17 4-5 4-10 4-5 4-2 4-9 4-4 4 3 4 0 4-6 4 2 4 1 4 2 4-6 4 0 4-8 4 16 4-4 4 1 4-6 4 3 4 2 4-10 4 4 4 4 4-6 4 1 4-3 4 6 4-1 4 1 4 1 4 0 4-3 4-2 4 9 4-4 4-1 4 6 4-5 4-7 4 8 4 2 4 3 4 1 4-5 4 2 4 3 4-2 4 7 4-10 4-6 4 16 4-9 4 4 4 1 4-6 4 14 4-11 4-4 4 1 4-5 4 13 4-2 4 8 4-3 4-2 4-20 4 21 4 1 4-9 4 20 4-25 4 9 4-1 4 5 4-4 4 14 4-4 4-18 4 15 4 1 4-14 4 6 4-3 4 13 4-18 4 8 1 2"/>
<path stroke="#0072BD" d="M1031 478l4-2 4-1 4 2 4-7 4-2 4-7 4 7 4-4 4-7 4 5 4-10 4-12 4 7 4-10 4 3 4-8 4-11 4 0 4-10 4-12 4 0 4-8 4-11 4 1 4-18 4-6 4 0 4-13 4-2 4-7 4-1 4 3 4-1 4 3 4-4 4-6 4 4 4-9 4 1 4 8 4-6 4 2 4-3 4 6 4 0 4 8 4 0 4 4 4-4 4 3 4 0 4-2 4 5 4 3 4-4 4 0 4-1 4 0 4 9 4-7 4 5 4 3 4 10 4-4 4 6 4-2 4 8 4 6 4 4 4 6 4 12 4-5 4 8 4 8 4 13 4 5 4 5 4-4 4 13 4-5 4-2 4-5 4-13 4-16 4-19 4-37 4-32 4-26 4-8 4-37 4-7 4-17 4-4 4-1 4-9 4 2 4-8 4-1 4 13 4-10 4 1 4-5 4 6 4 2 4 6 4-6 4-5 4 0 4 0 4 4 4-1 4-9 4 7 4-6 4 10 4-2 4-2 4-1 4-3 4 2 4 0 4 1 4 2 4 4 4-7 4 4 4-3 4 3 4 5 4-4 4 5 4 1 4-12 4 7 4 4 4 9 4-4 4-3 4 2 4-7 4 7 4-17 4 3 4 8 4 8 4-10 4 8 4-8 4-1 4 4 4-8 4 2 4 1 4 0 4 7 4-3 4-9 4 8 4 0 4-2 4-10 4 17 4 6 4-15 4 7 4-6 4 7 4 3 4 3 4-1 4-4 4-5 4 7 4 8 4-4 4-4 4-8 1 0"/>
<path stroke="#D95319" d="M1031 432l4-7 4 4 4 0 4-2 4-1 4-6 4 5 4-5 4 4 4-12 4 0 4-2 4-2 4-7 4-4 4-8 4-2 4-7 4-2 4-12 4-10 4-9 4-13 4-7 4-2 4-7 4-13 4-7 4-7 4-8 4-4 4 1 4-11 4-9 4-2 4-2 4-14 4 3 4-1 4-8 4 1 4-10 4 10 4-10 4 9 4-4 4 3 4 8 4-7 4-11 4 11 4-2 4-8 4 1 4 4 4-8 4 1 4 1 4-2 4-2 4 10 4-1 4-4 4 0 4 2 4 7 4 2 4-1 4 4 4 13 4-7 4 7 4 11 4 4 4-1 4 9 4 4 4 1 4-2 4-1 4-1 4-7 4-9 4-9 4-8 4-9 4-10 4-7 4-4 4-3 4-4 4-8 4-2 4-1 4-7 4 1 4-5 4 3 4 0 4-4 4 0 4-1 4 2 4 0 4-9 4 4 4 3 4-1 4-2 4 2 4-1 4-1 4-6 4 1 4-3 4 5 4-1 4 2 4-8 4 10 4-12 4-2 4 1 4-7 4 9 4-5 4-1 4 1 4-1 4-4 4 7 4 2 4 0 4 4 4 2 4-10 4-2 4 3 4-6 4 5 4 0 4-1 4 8 4-4 4-1 4-2 4-2 4-4 4-4 4 5 4-2 4 2 4 2 4 9 4-26 4 19 4-14 4 14 4-16 4 6 4-1 4 0 4 2 4-11 4 11 4-8 4 7 4 5 4-11 4 18 4-12 4-4 4-3 4-4 4 14 4-15 4 13 1 8"/>
<path stroke="#EDB120" d="M1031 492l4 6 4-5 4-3 4-1 4 1 4 0 4-11 4 6 4-3 4-1 4-1 4-11 4-5 4-2 4 0 4-9 4 2 4-11 4-7 4-3 4-1 4-16 4-1 4 0 4-3 4-13 4-3 4 2 4-17 4 6 4-6 4-7 4-3 4 6 4-8 4 9 4 2 4 0 4 6 4-1 4 8 4 9 4 3 4 5 4 0 4 4 4 3 4 7 4 4 4-7 4 7 4 3 4-1 4 9 4-6 4 13 4-2 4-3 4 1 4 6 4 3 4 0 4 4 4-2 4 8 4 4 4 3 4 3 4 3 4 2 4 1 4 2 4-1 4 6 4 1 4 3 4 3 4 4 4 4 4-6 4 0 4-6 4-4 4-12 4-8 4-25 4-31 4-44 4-36 4-26 4-19 4-22 4-24 4-6 4-11 4-7 4-7 4-11 4 9 4-5 4-4 4 6 4-14 4 11 4-6 4 2 4-5 4 16 4-16 4 7 4 6 4-13 4 4 4-5 4 2 4 10 4-7 4 3 4 2 4 0 4-1 4-1 4 6 4-10 4 7 4-2 4-2 4-4 4-1 4 3 4 11 4 0 4 2 4-2 4-2 4-6 4 4 4 0 4 1 4 0 4-7 4 3 4 15 4-21 4-1 4 2 4-3 4 4 4 0 4 8 4 2 4 8 4-8 4-12 4 7 4-6 4 7 4 0 4 0 4-1 4 11 4-6 4 3 4-4 4-6 4 6 4 2 4-9 4 0 4 4 4 9 4 0 4 3 4 5 4-7 4-3 4-9 1 25"/>
<path stroke="#7E2F8E" d="M1031 425l4-2 4-5 4-2 4 2 4-14 4 8 4-7 4-4 4 5 4 4 4-16 4 1 4-1 4-9 4-12 4 5 4-4 4-10 4-11 4-3 4-7 4-8 4-13 4-13 4-9 4-3 4-11 4-9 4-3 4-4 4-5 4-5 4-13 4-1 4-10 4-1 4-5 4-2 4-17 4 11 4-6 4-14 4 5 4 0 4-11 4 4 4 1 4-6 4 2 4-8 4-2 4 3 4-5 4-2 4 3 4-2 4-4 4 3 4-5 4 11 4-6 4 1 4 3 4 1 4 1 4-1 4 1 4 3 4-1 4 12 4-5 4 8 4 0 4 6 4 6 4 6 4 2 4-1 4 3 4-3 4-5 4-2 4-4 4-25 4-19 4-2 4-17 4-15 4-5 4-16 4-7 4-9 4-3 4-14 4 2 4 1 4-2 4-3 4-5 4-1 4 4 4-4 4 4 4-8 4 0 4 4 4-5 4 1 4-1 4 9 4-17 4 12 4-4 4-3 4-9 4 5 4 9 4 1 4-6 4-2 4 1 4 2 4-3 4 6 4-5 4 2 4 4 4-7 4 5 4-2 4-4 4-1 4 1 4 5 4-8 4 1 4-4 4 10 4-1 4-7 4-6 4 1 4 0 4 5 4-4 4 8 4 5 4-1 4-15 4 0 4 7 4-7 4 6 4 3 4 3 4 1 4-6 4 3 4-12 4 9 4-1 4-10 4 12 4-3 4-5 4 2 4 13 4 0 4-8 4 4 4 2 4-4 4 0 4 4 4-12 4-8 4 15 1-1"/>
<path stroke="#77AC30" d="M1031 504l4-10 4-1 4-4 4 12 4-14 4 1 4 2 4 2 4-10 4 0 4 2 4-11 4 2 4-10 4-3 4 0 4-11 4-3 4-9 4-16 4 0 4 1 4-12 4-4 4-8 4-6 4-3 4-4 4-5 4-10 4 3 4-6 4-2 4 5 4-8 4 5 4 1 4 3 4 1 4 8 4 12 4 2 4 4 4 3 4 16 4 2 4 12 4-3 4 3 4 6 4 3 4 2 4 0 4-2 4 4 4 7 4-9 4 9 4-4 4 6 4 3 4-3 4 8 4 2 4 3 4 3 4-6 4 7 4 4 4-1 4 4 4 3 4-6 4 5 4 14 4-10 4 5 4-2 4 7 4-1 4 3 4-4 4-13 4-9 4-9 4-24 4-32 4-30 4-43 4-22 4-21 4-22 4-21 4-12 4-6 4-11 4-2 4-2 4-10 4 1 4-1 4-9 4 7 4-1 4-2 4 2 4 1 4-4 4 7 4-6 4 4 4 3 4-8 4 0 4 6 4-7 4 10 4-3 4-1 4 4 4-7 4 8 4 0 4-10 4 3 4-7 4 5 4-3 4 7 4-2 4 1 4 3 4 2 4-1 4-4 4 3 4-1 4 8 4-7 4 5 4-10 4-1 4 6 4 9 4 1 4-11 4 12 4-8 4 9 4 13 4-15 4 5 4-12 4-3 4 13 4-1 4-11 4 17 4-7 4-8 4 2 4 13 4 0 4-1 4-4 4 4 4-5 4 4 4 4 4 0 4-2 4-8 4-6 4 8 4-8 4 13 4-14 1 4"/>
<path stroke="#4DBEEE" d="M1031 438l4-5 4-5 4-5 4 8 4-16 4 0 4-2 4-2 4-10 4 2 4-9 4-6 4-4 4-7 4-1 4-4 4-13 4 0 4-9 4-4 4-7 4-10 4-8 4-6 4-11 4-5 4-3 4-5 4-8 4-6 4-3 4-10 4 2 4-8 4-10 4-6 4 1 4-4 4-11 4 1 4-5 4-13 4 3 4 6 4-7 4 4 4-9 4 5 4-2 4-11 4 2 4-2 4 2 4-8 4 12 4-10 4-3 4 0 4-2 4 7 4-8 4 16 4-8 4 2 4 0 4 10 4-3 4 7 4 4 4 3 4-1 4 15 4-3 4 8 4 10 4-8 4 7 4 4 4-6 4 2 4-6 4 3 4-6 4-8 4-9 4-2 4-5 4-5 4-1 4-14 4 4 4 4 4-14 4 8 4-2 4-2 4 1 4-9 4 4 4-2 4-2 4-2 4 5 4-2 4 4 4-8 4 9 4 6 4-6 4 0 4-3 4-1 4 9 4-4 4-4 4-3 4 2 4 2 4-1 4 0 4 8 4-3 4-1 4 2 4 2 4-5 4 7 4-6 4-4 4-4 4 2 4 7 4-7 4 2 4 1 4 0 4-5 4 11 4 9 4-17 4-1 4 6 4 3 4 3 4-1 4-3 4-3 4-5 4 10 4-15 4 6 4 11 4-2 4-4 4 4 4-6 4 0 4 5 4 3 4-3 4-16 4 22 4-8 4-4 4-13 4 13 4 3 4-1 4-10 4 5 4 11 4-4 4-3 4-1 4 4 4 14 4-30 1 23"/>
<path stroke="#A2142F" d="M1031 475l4-2 4-2 4-1 4-3 4 1 4-2 4-1 4-5 4-1 4 3 4-9 4-4 4-8 4-1 4-6 4-9 4 3 4-7 4-7 4-2 4-9 4-7 4-6 4-18 4 2 4-12 4-2 4-3 4-1 4-4 4-7 4-2 4-2 4 3 4-3 4 1 4 1 4-8 4 1 4 0 4-1 4 4 4 3 4 5 4-7 4 13 4-5 4 5 4-1 4 11 4-4 4-7 4 10 4-7 4 9 4 0 4-8 4 2 4 8 4-2 4 0 4 4 4 10 4 0 4 0 4-3 4 12 4 0 4 7 4 4 4 2 4 12 4 6 4-6 4 21 4-4 4 10 4-9 4 9 4 3 4 0 4-10 4-23 4-15 4-30 4-41 4-20 4-34 4-22 4-23 4-6 4-9 4-9 4-3 4 2 4-8 4 0 4-1 4-2 4-5 4 5 4 3 4 0 4-7 4 13 4-11 4-4 4 3 4 1 4-7 4-3 4 4 4-5 4 3 4-8 4 8 4-3 4-1 4-6 4 12 4 0 4-12 4 1 4-4 4-10 4 15 4-5 4 1 4 4 4-6 4 3 4-7 4 5 4-1 4-3 4 1 4-3 4-8 4 12 4-7 4 8 4 0 4-4 4-16 4 11 4 6 4 4 4-4 4-3 4 1 4-1 4-1 4 5 4 0 4-16 4-5 4 8 4-13 4 21 4-5 4-11 4 10 4-4 4-8 4 15 4-14 4 4 4 14 4-17 4 5 4-23 4 27 4-10 4-9 4 27 4 5 4-21 1 6"/>
<path stroke="#0072BD" d="M1031 511l4-4 4 8 4-4 4-2 4-6 4 1 4 0 4-8 4-2 4 2 4-2 4-10 4-6 4-4 4-2 4-1 4-14 4-6 4-2 4-11 4-1 4-10 4-8 4-8 4 3 4-9 4 0 4-8 4-1 4-6 4 3 4-16 4 5 4 0 4 1 4 1 4 9 4-2 4 0 4 9 4 0 4 3 4 14 4 0 4-1 4 14 4-1 4 0 4 8 4 1 4 1 4 4 4-2 4-3 4 17 4-6 4-3 4 7 4 1 4 7 4-4 4 4 4 4 4-2 4 1 4 0 4 8 4 6 4-3 4 10 4-8 4 11 4 1 4 2 4-1 4 4 4 0 4 8 4 9 4 1 4-23 4 11 4-7 4-11 4-13 4-38 4-24 4-51 4-24 4-41 4-22 4-22 4-24 4-10 4-16 4 6 4-16 4-5 4-1 4-1 4 2 4-4 4 2 4 0 4-9 4 9 4 0 4-2 4-1 4 8 4-4 4-10 4 3 4 9 4-2 4 0 4-2 4 1 4 3 4-6 4 3 4 4 4-1 4-5 4 7 4-8 4 9 4-8 4 6 4-1 4-11 4 13 4-15 4 18 4-5 4-2 4 4 4 3 4-8 4 8 4 2 4-5 4 0 4-3 4-3 4-1 4 3 4 12 4-5 4-1 4 3 4 7 4-7 4-8 4 7 4 4 4-2 4-7 4 3 4 3 4 12 4-8 4 1 4 6 4-28 4 16 4 7 4 9 4-17 4 16 4-11 4 2 4 0 4 4 4-6 4 9 4-5 1-3"/>
<path stroke="#D95319" d="M1031 400l4-20 4 4 4 2 4-5 4-1 4-2 4-6 4-9 4 1 4 8 4-7 4-5 4-4 4 11 4-11 4-3 4 1 4-9 4-2 4-13 4-9 4-10 4-8 4-12 4-6 4-12 4-12 4-8 4-11 4-3 4-15 4 0 4-14 4-8 4-8 4-8 4-13 4-4 4-5 4 5 4-8 4-2 4-3 4 6 4 0 4-9 4 5 4-1 4-10 4-2 4-7 4 3 4-11 4-5 4-2 4-6 4 8 4-6 4-6 4-4 4 4 4-3 4-5 4 2 4 3 4 8 4-12 4 4 4 2 4 9 4-7 4 0 4 2 4-2 4 1 4 5 4-4 4 3 4-2 4 1 4-13 4 4 4-3 4 1 4-3 4-5 4 4 4-6 4 3 4-6 4 2 4-6 4 1 4 5 4-2 4-2 4 5 4-6 4 2 4-1 4-2 4-4 4 3 4-4 4 3 4-8 4 12 4-4 4 5 4 7 4-6 4-7 4 0 4 9 4-13 4 4 4 5 4-4 4 2 4 0 4-4 4 8 4 0 4-2 4 10 4-18 4 1 4 1 4 11 4-10 4 5 4-3 4-3 4-3 4 3 4-5 4 5 4 2 4-4 4 4 4-4 4 1 4-3 4 13 4-2 4 1 4-2 4-12 4 5 4 7 4-5 4-5 4 14 4 1 4 0 4-5 4-15 4 14 4-9 4 9 4-2 4 4 4 2 4 7 4 0 4-8 4 4 4-6 4-9 4 0 4-19 4 27 4-5 4-3 4 17 4 4 4-8 1-5"/>
<path stroke="#EDB120" d="M1031 552l4 7 4-5 4-1 4-2 4 0 4-1 4 1 4 1 4 0 4-2 4-2 4-1 4 3 4-7 4-2 4-5 4 6 4-5 4-10 4-11 4-4 4-8 4-13 4-4 4-12 4 3 4-2 4-12 4 2 4-13 4 3 4-4 4-1 4 0 4 3 4-2 4 5 4-1 4 2 4 6 4 3 4 5 4 2 4 5 4-1 4 3 4 7 4-1 4 0 4 6 4 7 4-2 4 5 4 2 4 0 4 6 4 1 4 5 4 1 4 1 4 1 4 1 4 4 4-5 4 6 4 7 4 1 4 1 4 3 4 0 4 3 4 4 4 1 4-2 4 1 4 4 4-2 4-1 4 3 4-3 4 1 4 7 4-8 4-5 4-8 4-3 4-19 4-18 4-27 4-35 4-43 4-25 4-16 4-19 4-20 4-17 4-9 4-13 4-14 4-9 4-8 4-6 4-10 4-2 4 0 4 1 4-9 4 6 4-3 4-7 4-4 4 3 4 6 4-7 4 8 4-2 4-7 4 1 4-1 4 1 4 1 4 8 4-13 4 9 4-7 4 10 4-10 4 10 4-4 4 8 4-2 4-7 4 10 4-16 4 1 4 11 4 3 4-13 4 9 4-6 4 3 4 9 4-14 4-1 4 7 4-1 4 9 4-1 4 3 4-2 4-6 4 2 4 0 4 2 4-2 4-9 4 18 4-7 4-1 4 1 4-1 4 0 4-6 4 7 4-5 4 0 4 8 4 13 4-12 4 6 4-6 4 6 4-11 4 9 4 24 4-31 4 1 1 8"/>
<path stroke="#7E2F8E" d="M1031 416l4-3 4 2 4-5 4-4 4 0 4-10 4-2 4-2 4-15 4-1 4 2 4 0 4-11 4-3 4-7 4-6 4-4 4-11 4-7 4-1 4-7 4-12 4-4 4-16 4-1 4-18 4-5 4-6 4-6 4-6 4-10 4-7 4-4 4-9 4-15 4-10 4-10 4-7 4-5 4-6 4-1 4-7 4 7 4-2 4-2 4-5 4 2 4 3 4 1 4-3 4-4 4 7 4-6 4-1 4 5 4-12 4 1 4 4 4 0 4 3 4-10 4 0 4 3 4-2 4-3 4 3 4-1 4-7 4-3 4-1 4 4 4 6 4-6 4 6 4-1 4-3 4-4 4 6 4 3 4-1 4 8 4-7 4-9 4 8 4-9 4 3 4-8 4-1 4-10 4 4 4-8 4 5 4-4 4-2 4-7 4 4 4-3 4 2 4-9 4 6 4-5 4-2 4 0 4 0 4 1 4-4 4 3 4 0 4 0 4 2 4 4 4-7 4-4 4 4 4-8 4 10 4-3 4 0 4-11 4 4 4-1 4 2 4 4 4-8 4 7 4 2 4-14 4 9 4-2 4 2 4-4 4 1 4 15 4-11 4 1 4-6 4 5 4 2 4 0 4 0 4 1 4-5 4 0 4 3 4-7 4 1 4 5 4 7 4-16 4 0 4 1 4 11 4-5 4 14 4-19 4 9 4 1 4-3 4-4 4 6 4-8 4 13 4 0 4-15 4 11 4-1 4-2 4-2 4 2 4-4 4-5 4 13 4 0 4-6 4-9 4 13 4-11 1 14"/>
<path stroke="#77AC30" d="M1031 466l4-3 4-5 4 3 4 1 4-9 4 0 4 0 4-4 4-2 4 2 4-6 4-2 4 1 4-9 4-4 4-1 4-18 4-3 4 4 4-22 4 1 4-5 4-12 4-10 4-1 4-17 4-3 4-15 4 0 4-3 4 0 4-4 4-6 4 3 4-8 4-4 4-1 4 9 4-7 4 0 4 3 4-2 4 0 4 6 4-6 4 7 4 3 4 2 4-2 4 4 4-2 4 4 4-1 4 2 4 2 4-2 4-1 4-1 4 15 4-7 4 4 4 3 4-3 4 8 4 6 4 4 4-1 4 3 4 3 4 11 4 6 4 9 4-1 4 5 4 6 4 10 4 2 4 3 4 2 4-2 4-5 4-4 4-17 4-20 4-22 4-22 4-26 4-19 4-24 4-15 4-5 4-14 4 0 4-7 4-5 4 3 4-10 4 10 4 0 4-5 4-4 4 9 4-7 4-2 4 10 4-7 4 1 4 4 4-10 4 10 4 3 4-7 4-11 4 3 4 11 4 2 4 1 4-4 4 0 4 12 4-19 4 12 4-5 4 0 4-3 4-2 4 8 4 0 4-1 4 1 4 2 4-18 4 16 4-5 4 2 4-1 4 6 4-11 4 10 4 3 4 0 4-11 4 0 4 4 4 5 4-10 4 12 4-1 4 5 4-6 4 5 4-15 4 5 4 3 4 10 4 3 4-2 4 6 4-6 4-6 4-4 4 9 4 6 4-19 4 12 4-3 4-8 4 12 4-11 4 13 4 1 4-6 4-13 4 9 4 14 4-15 4-9 1 20"/>
<path stroke="#4DBEEE" d="M1031 506l4-10 4 11 4-15 4-1 4 4 4 6 4-8 4-2 4-5 4 9 4-12 4 3 4-11 4 1 4-10 4 2 4-9 4-1 4-16 4-7 4-5 4-9 4 2 4-11 4-7 4-5 4-7 4-3 4-3 4-4 4-5 4 3 4 2 4-2 4-1 4 6 4 0 4-2 4 6 4 11 4 2 4-6 4 10 4 7 4-7 4 13 4 2 4 5 4 1 4-1 4 11 4-1 4-4 4 8 4-4 4 0 4 5 4 0 4-1 4 13 4-2 4 10 4 2 4 0 4 10 4-1 4 7 4-2 4 11 4 0 4-11 4 6 4-3 4 17 4-1 4-5 4 6 4 3 4-3 4 1 4 1 4-7 4-6 4-16 4-10 4-33 4-40 4-41 4-25 4-31 4-27 4-21 4-14 4-16 4-7 4-4 4-1 4-8 4-2 4 6 4-9 4 8 4-12 4 0 4 4 4-2 4 1 4 0 4 5 4-14 4 10 4 8 4-5 4-5 4 5 4-4 4 2 4 0 4 2 4-5 4 2 4-5 4 7 4-4 4 5 4-3 4 3 4 4 4-3 4 1 4 1 4-1 4-6 4 5 4 0 4-2 4 5 4 0 4-7 4 11 4-4 4-3 4 2 4 9 4-7 4-3 4 1 4 1 4 6 4 11 4-16 4 4 4-4 4 1 4-3 4-3 4-1 4 18 4-20 4 16 4-13 4 2 4-15 4 16 4 6 4-7 4 2 4 2 4-7 4 23 4-19 4 20 4-15 4 15 4-11 4 4 4 10 1-12"/>
<path stroke="#A2142F" d="M1031 401l4 6 4-11 4 4 4-3 4-14 4 3 4-10 4-4 4 5 4-11 4 3 4-9 4-5 4-2 4-2 4-1 4-12 4-3 4-8 4-6 4-14 4-2 4-12 4-2 4-13 4-13 4-11 4-1 4-11 4-4 4-11 4-7 4-12 4-7 4-7 4-5 4-24 4 5 4-6 4 0 4-11 4 3 4-11 4 3 4 0 4-5 4-3 4-1 4 3 4-6 4-4 4 1 4-7 4-1 4 4 4 3 4-5 4-5 4-2 4 6 4-6 4 9 4-8 4-1 4 3 4 2 4-6 4 7 4-6 4 0 4-1 4-4 4-2 4-2 4 0 4 3 4-5 4-4 4 3 4-4 4-2 4 1 4-8 4 1 4 4 4-1 4-7 4 1 4-2 4 2 4 0 4-2 4 2 4-5 4 1 4 7 4-6 4 1 4 1 4 0 4 8 4-6 4-1 4 0 4-3 4 1 4 3 4 2 4-7 4-3 4 6 4-5 4 2 4 3 4 0 4-11 4-2 4 6 4 0 4-9 4 1 4 7 4-5 4 7 4-10 4 7 4-2 4-7 4 9 4-4 4 7 4-2 4-1 4-10 4 11 4-10 4 9 4 3 4 0 4 2 4 0 4-12 4 12 4-12 4 17 4-5 4-2 4 9 4-7 4 1 4-2 4 6 4-20 4 12 4 2 4-2 4-3 4 15 4-18 4 4 4 2 4 11 4 1 4-5 4-14 4 3 4 1 4 0 4 1 4 16 4-6 4 2 4-6 4 15 4-13 4-5 4-1 1 2"/>
<path stroke="#0072BD" d="M1031 434l4 0 4 0 4-3 4-12 4 5 4-1 4-6 4-6 4 0 4-2 4-7 4-1 4-9 4-3 4-10 4-2 4-3 4-15 4-11 4-1 4-10 4-9 4-8 4-14 4 1 4-7 4-10 4-9 4-7 4-6 4-3 4-6 4-9 4-1 4-3 4-14 4-16 4 7 4-10 4-1 4 5 4 1 4-4 4 2 4 1 4-6 4 0 4 3 4-1 4 0 4-3 4 0 4-1 4-1 4 8 4-7 4 7 4-2 4-2 4 4 4-1 4 7 4-1 4-2 4 7 4-8 4 14 4-2 4 5 4 5 4-4 4 2 4 15 4-3 4 8 4-6 4 13 4 0 4-3 4 0 4-5 4-2 4-2 4-2 4-18 4-6 4-3 4-5 4-2 4-7 4 0 4-7 4-5 4-8 4 6 4-4 4 2 4 1 4-1 4 5 4-8 4 4 4-9 4 8 4 0 4 5 4-6 4-6 4 7 4 1 4 0 4-5 4-4 4 13 4-8 4 3 4 2 4 12 4-10 4 1 4-7 4 0 4-1 4 3 4 5 4-3 4-6 4 11 4-2 4-7 4 2 4 1 4-2 4 5 4-3 4 2 4 0 4-14 4 5 4 1 4 3 4 6 4-4 4-9 4 0 4 7 4 1 4 17 4-25 4 13 4-5 4 1 4 2 4-1 4-8 4 14 4-10 4-3 4 8 4-2 4-4 4 8 4-7 4-9 4-1 4 15 4-1 4 2 4 8 4-8 4-3 4 18 4-7 4-18 4 13 4 7 4-20 1 24"/>
<path stroke="#D95319" d="M1031 472l4-11 4 2 4-1 4-6 4 2 4 1 4-8 4 1 4-5 4-3 4-6 4 10 4-9 4 2 4-5 4 3 4-12 4-3 4 2 4-9 4 3 4-7 4-3 4-7 4-7 4-7 4-4 4-2 4-7 4-7 4-1 4-6 4-1 4 2 4 0 4 0 4-2 4 8 4-5 4 7 4 6 4 4 4 14 4 9 4 3 4 8 4-6 4 2 4 8 4 9 4-6 4 0 4 3 4 2 4-2 4-1 4 10 4-3 4 2 4 2 4-5 4 6 4-2 4 13 4-2 4 3 4 4 4 11 4-6 4 5 4 6 4-7 4 5 4 6 4-4 4 17 4-6 4 3 4-9 4 3 4 3 4-8 4-3 4-3 4-14 4-25 4-37 4-35 4-35 4-25 4-19 4-19 4-18 4-19 4-7 4-9 4-8 4-9 4 3 4 3 4-14 4 15 4-2 4-15 4 10 4 8 4-7 4 3 4-8 4 4 4 6 4-4 4-4 4 0 4 1 4 0 4 2 4-3 4 6 4-3 4 0 4 6 4-6 4 1 4-1 4 1 4 4 4-1 4-3 4-8 4 11 4-2 4-1 4 2 4 9 4-9 4 0 4 2 4-11 4 10 4 1 4 3 4 8 4-13 4-7 4 20 4-19 4 16 4-2 4 6 4-8 4 5 4-11 4 5 4 4 4-12 4 6 4 3 4-1 4-2 4 7 4-8 4 5 4-6 4 10 4-14 4 6 4 4 4-5 4 5 4 1 4 15 4-7 4-4 4 1 4-5 4-6 1 20"/>
<path stroke="#EDB120" d="M1031 417l4-1 4 3 4-5 4-3 4 2 4-4 4-9 4-4 4 4 4-8 4 0 4-2 4-4 4-1 4-11 4-2 4-7 4-9 4-1 4-15 4 0 4-12 4 0 4-21 4-11 4 1 4-14 4-11 4-6 4-2 4-5 4-10 4-12 4-4 4-4 4-9 4-12 4 0 4-3 4-5 4-4 4-5 4-1 4 1 4-5 4 5 4-10 4 3 4-3 4-5 4 5 4 1 4-8 4-2 4 2 4-3 4 1 4-4 4 7 4-5 4-1 4 5 4 3 4 0 4 2 4 4 4-2 4 7 4 0 4 0 4 3 4 8 4 0 4 4 4 9 4-5 4 11 4 2 4-6 4 3 4-17 4 2 4-9 4-8 4-15 4-5 4-5 4-2 4-10 4-9 4 2 4-8 4-7 4-1 4 2 4-8 4-3 4 0 4-5 4-7 4 16 4-4 4-3 4 1 4 1 4-3 4 3 4-4 4-5 4-3 4 3 4-2 4 3 4 4 4-2 4 0 4-5 4 7 4-1 4-4 4-2 4 2 4-5 4 1 4-8 4 7 4 8 4-9 4 0 4 1 4 1 4-3 4 6 4-3 4-10 4 16 4-2 4-5 4-6 4 12 4 13 4-21 4 1 4-7 4-1 4 21 4-17 4 2 4 8 4-16 4-8 4 10 4 2 4 1 4 16 4-11 4 8 4-18 4 14 4-5 4-6 4 12 4-3 4-4 4-4 4 12 4 4 4-12 4 7 4-25 4 21 4 2 4-11 4 17 4 7 4-22 4 0 1 17"/>
<path stroke="#7E2F8E" d="M1031 480l4-2 4-1 4-4 4-3 4 3 4 3 4-8 4 2 4-6 4-3 4 0 4-4 4-3 4-3 4-5 4-5 4-4 4-10 4-1 4-7 4 1 4-13 4-3 4 0 4-10 4-6 4-8 4-3 4 2 4-10 4-1 4-5 4 1 4 3 4-4 4-2 4-2 4 12 4-3 4 7 4 8 4 3 4 6 4 14 4 2 4 4 4 3 4 7 4 6 4 1 4-1 4-6 4 9 4-3 4 5 4 9 4 1 4 0 4-1 4 3 4 0 4 1 4 5 4 1 4 3 4-2 4 7 4-4 4 14 4-8 4 8 4 4 4 2 4 2 4-2 4 12 4-3 4 7 4 0 4 1 4 1 4-7 4-6 4-17 4-12 4-25 4-34 4-36 4-24 4-32 4-20 4-15 4-27 4-2 4-17 4 0 4-5 4 1 4-12 4 5 4 1 4-2 4 2 4 2 4-7 4 2 4-2 4-2 4 4 4-6 4 9 4 3 4-5 4-2 4 2 4-1 4 1 4 6 4-1 4-8 4 7 4-4 4 1 4 2 4-3 4-4 4 13 4-10 4-3 4 7 4-1 4-4 4 4 4 7 4-10 4-1 4-1 4 6 4-6 4 9 4 1 4 4 4-9 4-3 4 12 4-3 4-7 4 15 4-13 4 14 4-17 4-2 4 11 4 0 4 2 4-4 4-3 4 18 4-16 4 7 4 0 4-6 4-2 4 9 4 2 4-14 4 5 4 1 4-11 4 16 4-1 4 3 4-1 4 10 4-12 4-10 4-6 1 22"/>
<path stroke="#77AC30" d="M1031 488l4 1 4-7 4 9 4-9 4-3 4 4 4-1 4-4 4-2 4-3 4 1 4-10 4-1 4 2 4-9 4 1 4-10 4-8 4-4 4 2 4-8 4-6 4-2 4-5 4-11 4-2 4-1 4-12 4-4 4-7 4 3 4-7 4 1 4-4 4 4 4 0 4 1 4 0 4 2 4 1 4 6 4 9 4 6 4 2 4 11 4 2 4 0 4 11 4 4 4-2 4 3 4 2 4-4 4 2 4 5 4 0 4 1 4 6 4-1 4 5 4-3 4 6 4-5 4 4 4 2 4 7 4 4 4 3 4 1 4 6 4-2 4 9 4 3 4 3 4-8 4 16 4-2 4-3 4 9 4-2 4-2 4 2 4-7 4-15 4-14 4-17 4-38 4-40 4-36 4-22 4-30 4-14 4-17 4-12 4-5 4-6 4-3 4-12 4 0 4-1 4 0 4 6 4-6 4-1 4-4 4 0 4 2 4-1 4 4 4-5 4 1 4-5 4 2 4 10 4-4 4 6 4 1 4-2 4-8 4-2 4 3 4 2 4-1 4-5 4 9 4-6 4 1 4 4 4 0 4-2 4 0 4 2 4-4 4-2 4-3 4 9 4 4 4-7 4 8 4-8 4-3 4 9 4-3 4-1 4 1 4 10 4 10 4-6 4-3 4 3 4 0 4-5 4 7 4 8 4-14 4 2 4 4 4-13 4-7 4 13 4-4 4-4 4 17 4 1 4-11 4 0 4 3 4 0 4 10 4-24 4 3 4 4 4 3 4 5 4 0 4-3 4 6 1-14"/>
<path stroke="#4DBEEE" d="M1031 471l4 1 4-14 4 8 4-17 4-2 4-1 4-1 4-1 4 1 4 0 4-9 4-1 4-6 4 0 4-4 4-6 4-4 4-5 4-3 4-2 4-9 4-10 4-3 4-9 4-11 4-7 4-4 4-2 4-11 4-15 4 2 4 0 4 2 4-11 4-3 4-4 4-1 4 1 4 5 4-15 4 3 4 6 4-5 4 8 4-3 4 8 4 5 4 4 4 4 4-7 4 9 4-6 4 9 4-3 4 6 4-5 4-2 4 0 4 0 4 14 4-9 4 4 4 2 4 0 4 0 4 8 4-2 4 7 4 5 4 7 4 5 4 12 4 3 4 7 4 6 4 6 4 5 4 3 4 8 4-2 4-6 4-5 4-2 4-7 4-24 4-30 4-25 4-24 4-18 4-16 4-16 4-17 4-6 4-6 4-2 4-3 4 0 4-2 4-1 4 0 4-5 4 3 4 2 4-2 4-3 4-3 4 1 4 6 4-11 4 12 4-13 4 8 4 6 4-3 4 8 4-12 4 5 4-3 4-1 4-5 4 5 4 2 4 15 4-9 4-6 4 8 4-10 4 2 4 1 4 3 4 1 4 6 4-2 4-8 4 12 4-4 4 6 4-16 4 7 4-9 4 9 4 6 4-6 4 3 4 0 4-7 4 2 4 4 4 16 4-9 4-8 4-8 4 3 4-3 4 18 4 2 4-14 4 1 4 9 4-6 4-4 4 10 4-2 4-2 4 5 4 5 4-12 4 6 4 13 4-27 4 10 4 6 4 1 4 4 4 0 4-13 4 12 1-8"/>
<path stroke="#A2142F" d="M1031 553l4 0 4-4 4 2 4-1 4 1 4 1 4 2 4 3 4-7 4 1 4-1 4 1 4-4 4-4 4 5 4-3 4-5 4-2 4-16 4-2 4-1 4-14 4-4 4-4 4-8 4-9 4-2 4-11 4-2 4-5 4 0 4-2 4-2 4 1 4 4 4-7 4 5 4-1 4 0 4 3 4 6 4 11 4-5 4 9 4 0 4 6 4-1 4 4 4 5 4 3 4 0 4 2 4 6 4-1 4 4 4 4 4-3 4 8 4 2 4 2 4-5 4 9 4 1 4 0 4 4 4 0 4 4 4-6 4 5 4 5 4 3 4 0 4-2 4 1 4-2 4 12 4-8 4 9 4 1 4-5 4 4 4-3 4-3 4-6 4-7 4-8 4-14 4-27 4-29 4-34 4-38 4-25 4-28 4-14 4-17 4-18 4-12 4-14 4-13 4-3 4-15 4-3 4-5 4-1 4-7 4-5 4 5 4-11 4 1 4-8 4-1 4 4 4 8 4-2 4 2 4-7 4 5 4 3 4-7 4 3 4-1 4 4 4-4 4 1 4 4 4-3 4-4 4 4 4 7 4-6 4 3 4-2 4-9 4 10 4 8 4-13 4 1 4-1 4 4 4-4 4 2 4 10 4 5 4-16 4 1 4 7 4-10 4 11 4-1 4 1 4 3 4-7 4 7 4-20 4 17 4 11 4-7 4-12 4 6 4 5 4-9 4 15 4-21 4 11 4 13 4-18 4 0 4 8 4 7 4-7 4 13 4-15 4-2 4 3 4 2 4 1 4 6 1-28"/>
<path stroke="#0072BD" d="M1031 428l4-3 4-4 4-1 4-2 4 0 4-7 4-4 4 7 4-7 4 0 4-8 4 3 4-10 4-6 4-7 4-2 4-6 4-7 4-2 4-12 4-12 4-13 4 3 4-16 4-10 4-5 4-13 4-3 4-8 4-9 4-7 4-5 4-2 4-17 4-2 4-4 4-10 4-1 4-5 4-3 4 3 4-5 4-5 4-1 4 0 4 4 4-5 4-1 4 9 4-2 4-3 4 1 4-8 4 5 4 0 4-10 4 3 4 5 4-9 4 8 4-3 4 6 4 1 4 0 4 8 4-2 4 4 4 13 4-4 4 0 4 16 4 0 4-1 4 8 4-1 4 10 4-6 4-3 4 1 4-1 4-10 4-10 4-13 4-16 4-20 4-15 4-11 4-19 4-9 4-10 4-3 4-11 4-14 4 1 4-13 4 13 4-7 4-5 4 1 4-7 4 2 4 7 4-4 4 11 4-12 4-2 4-2 4 1 4 4 4-4 4-9 4 6 4 2 4-6 4 1 4 5 4 1 4-5 4 2 4-7 4 14 4-6 4 7 4-9 4 4 4-3 4 3 4-13 4 10 4 2 4-7 4-1 4-2 4 13 4-7 4 6 4-3 4 4 4-5 4-4 4-4 4 7 4 3 4-7 4-6 4 11 4 1 4 6 4-11 4 2 4 9 4-10 4 4 4 4 4-4 4 1 4 2 4-7 4 1 4 4 4 9 4-12 4-7 4 5 4 2 4 11 4-18 4 13 4-12 4 4 4-5 4-2 4 20 4-13 4 5 4 9 4-10 1-7"/>
<path stroke="#D95319" d="M1031 469l4-4 4-2 4 0 4-10 4 4 4-6 4-10 4-1 4-7 4-4 4 0 4-8 4-2 4-6 4 0 4-5 4-9 4-6 4-3 4-7 4-11 4-1 4-6 4-3 4-14 4-9 4-4 4 1 4-6 4-5 4-2 4-4 4-1 4-1 4-2 4-11 4 4 4-2 4-5 4 3 4-7 4 9 4-11 4 4 4 6 4 1 4-3 4 3 4 5 4-3 4 1 4-2 4 2 4-2 4 12 4-8 4 4 4-3 4 7 4-1 4 5 4-7 4 8 4 8 4-3 4 7 4 0 4 11 4 0 4 6 4 7 4 7 4 6 4 5 4 1 4 7 4 0 4 14 4-1 4-5 4-6 4-11 4-14 4-18 4-21 4-36 4-16 4-20 4-10 4-10 4-16 4-8 4-7 4-2 4 3 4 4 4-10 4 2 4 5 4-6 4 3 4 1 4-3 4-2 4-4 4 9 4-2 4-2 4 6 4-10 4 2 4 11 4-7 4 2 4-2 4 1 4-9 4-2 4 11 4 3 4-9 4-2 4 1 4 1 4 3 4 6 4-9 4-3 4 6 4 0 4-7 4 3 4 5 4-12 4 11 4-14 4 20 4 1 4-5 4-1 4-10 4 5 4-1 4 3 4 4 4-1 4 11 4 1 4-12 4 6 4-4 4-9 4 1 4 2 4 7 4-3 4-2 4 0 4-4 4 2 4 3 4-2 4-7 4 0 4-3 4-7 4 7 4 16 4-11 4 15 4-16 4-17 4 14 4 14 4-6 4 3 4-2 1 12"/>
<path stroke="#EDB120" d="M1031 551l4 4 4-4 4 2 4-3 4 0 4-1 4-3 4 2 4-1 4 0 4-5 4 0 4-2 4 2 4 2 4-12 4-2 4-3 4-10 4-10 4-4 4-9 4-4 4-11 4-1 4-6 4-1 4-8 4-4 4-7 4 1 4-1 4-2 4-2 4 4 4-2 4-6 4 9 4-4 4 5 4 1 4 4 4 7 4 3 4 5 4 3 4 2 4 2 4 0 4 3 4 0 4 3 4 1 4 5 4 4 4 4 4-6 4 12 4 5 4-3 4 6 4 5 4-1 4 5 4 2 4 4 4-1 4 1 4 2 4 3 4 2 4 2 4 4 4-2 4 1 4 3 4 0 4 6 4-4 4-5 4 7 4 1 4-6 4-4 4-6 4-16 4-12 4-18 4-28 4-37 4-41 4-24 4-17 4-25 4-16 4-13 4-15 4-14 4-6 4-14 4-11 4-2 4-4 4-5 4-10 4 4 4-5 4 1 4 1 4-7 4 7 4 3 4-5 4-3 4 3 4-3 4-4 4 3 4 6 4-5 4 1 4-5 4 9 4-10 4 6 4-2 4 7 4-4 4-7 4 10 4-4 4-2 4 4 4-9 4 3 4 9 4 8 4-2 4-15 4 9 4-9 4 12 4 10 4-15 4 10 4-5 4-1 4-6 4 15 4-5 4 8 4-3 4-16 4 6 4 2 4-4 4 14 4-3 4 5 4-19 4 7 4 9 4-8 4-1 4 8 4-15 4 0 4 10 4-10 4 7 4-7 4 14 4-8 4-13 4 20 4 14 4-13 1-2"/>
<path stroke="#7E2F8E" d="M1031 474l4-7 4 2 4 3 4 4 4-5 4 2 4-7 4-11 4 4 4-6 4-2 4-7 4-16 4 5 4-6 4-12 4-13 4-3 4-1 4 0 4-9 4-8 4-7 4-18 4-2 4 0 4-5 4-14 4 3 4-4 4 0 4-4 4-3 4 0 4-11 4 0 4 2 4-5 4-7 4 5 4-4 4 0 4 0 4 2 4 1 4 3 4 7 4 1 4 2 4-2 4 6 4 4 4 7 4 0 4-5 4 8 4-5 4 3 4 5 4 0 4 2 4 1 4-7 4 7 4 0 4-10 4 14 4 3 4 4 4 4 4 9 4 5 4 9 4 5 4 8 4 5 4 18 4 0 4 0 4 2 4-6 4-4 4-22 4-23 4-20 4-41 4-24 4-26 4-17 4-20 4-12 4-7 4-12 4-6 4 5 4-8 4-2 4-7 4 8 4-9 4 4 4-12 4 11 4 6 4-9 4 0 4-1 4 7 4-15 4 3 4 3 4-3 4 1 4 1 4-4 4-3 4 3 4-4 4 11 4-9 4-5 4 8 4-8 4 10 4-11 4 3 4 2 4-9 4 8 4 3 4-13 4 7 4 1 4-13 4 4 4 7 4-3 4 1 4-2 4-7 4 3 4 9 4-6 4-8 4 4 4-10 4 9 4 2 4-15 4 7 4 0 4 3 4 1 4-16 4 14 4-14 4 10 4 1 4-2 4-8 4 2 4-7 4 8 4-11 4 16 4-15 4 18 4-31 4 17 4 7 4-4 4-5 4-6 4 5 4 2 4-3 4 3 1-9"/>
<path stroke="#77AC30" d="M1031 435l4-4 4-5 4-4 4-7 4 1 4 1 4-3 4-2 4-8 4 0 4 2 4-10 4-4 4-1 4-4 4-13 4-4 4-2 4-6 4-10 4-3 4-7 4-10 4-11 4-8 4-4 4-5 4-13 4-8 4-2 4-4 4-5 4-6 4-3 4-8 4-9 4 3 4-2 4-8 4 2 4 2 4-1 4-3 4 4 4-2 4 2 4-2 4 4 4-1 4-4 4 0 4 1 4-6 4 4 4-6 4-3 4-1 4 2 4 0 4 1 4-4 4 5 4 0 4-1 4 12 4-8 4 17 4-4 4 0 4 6 4-5 4 11 4 6 4 2 4 16 4-7 4 6 4 5 4-7 4-3 4-6 4-8 4-17 4-15 4-24 4-21 4-15 4-19 4-5 4-16 4-10 4-11 4-1 4-10 4-2 4 4 4-10 4-2 4-7 4 10 4-7 4-4 4 2 4 0 4 2 4 3 4-7 4 4 4-11 4 9 4-1 4-7 4-8 4 6 4 1 4 1 4 0 4-4 4-1 4 7 4-11 4 6 4-2 4-1 4-6 4 1 4 7 4-3 4 0 4 7 4-3 4 0 4-6 4 6 4 3 4-2 4 0 4-8 4 0 4-2 4 14 4-10 4-1 4 11 4-3 4-1 4 4 4 3 4-3 4 0 4-15 4 0 4 3 4 3 4 4 4-5 4 8 4-2 4 1 4-12 4 15 4-9 4 8 4-8 4 5 4 4 4-10 4 4 4 3 4-4 4 1 4-5 4 7 4-11 4 7 4 21 4-18 1-12"/>
<path stroke="#4DBEEE" d="M1031 518l4-7 4 3 4-6 4 5 4-2 4-5 4 1 4-2 4 1 4-9 4-6 4 1 4 2 4-11 4-3 4-6 4-10 4-1 4-6 4-2 4-15 4-9 4-5 4-2 4-6 4-5 4-6 4-11 4 0 4-3 4-5 4-3 4 3 4-5 4 1 4-1 4 6 4-2 4 2 4 3 4 11 4 11 4-3 4 5 4 10 4 1 4 0 4 13 4 4 4-1 4-9 4 11 4-1 4 8 4-2 4 6 4-4 4 4 4 9 4-5 4-2 4 4 4 2 4 0 4 4 4 4 4 9 4-2 4 6 4 3 4 7 4-9 4 10 4 2 4-3 4 1 4 0 4 7 4-3 4 6 4-8 4-1 4 1 4-14 4-14 4-30 4-27 4-47 4-32 4-30 4-25 4-19 4-26 4-2 4-15 4-13 4 2 4-7 4-3 4 1 4-4 4-3 4-5 4 5 4 5 4-4 4 1 4 5 4 0 4 6 4-5 4 4 4-4 4 3 4-4 4-3 4 6 4-3 4 1 4-7 4 8 4 0 4-2 4 6 4 1 4-2 4-9 4 10 4-8 4 7 4 9 4-20 4 10 4 5 4-7 4-3 4 0 4 6 4-1 4-9 4 15 4-3 4-9 4-1 4 8 4-3 4 4 4-2 4 0 4 5 4-1 4 1 4-9 4 4 4 7 4 2 4 5 4-21 4 17 4-6 4-6 4 11 4 6 4-13 4-11 4 10 4-3 4 3 4 7 4-3 4 9 4-6 4-2 4 11 4-4 4-5 4-2 1 2"/>
<path stroke="#A2142F" d="M1031 462l4-8 4-3 4 5 4 0 4-2 4-9 4 3 4-9 4 0 4-3 4 0 4-9 4 0 4-7 4-8 4-4 4-5 4-14 4-5 4-11 4-9 4-2 4-6 4-20 4-11 4-4 4-7 4-2 4-11 4-3 4-2 4 3 4-12 4 3 4-4 4 1 4-12 4 5 4-3 4 7 4-3 4-1 4 3 4 0 4-2 4 7 4-2 4 8 4-5 4 2 4 9 4-5 4 0 4-2 4-4 4 6 4-9 4 1 4 0 4 6 4-6 4 11 4 2 4-1 4 0 4 4 4 2 4 9 4 9 4 0 4 8 4 10 4 4 4 2 4 13 4 5 4 1 4 10 4-2 4-3 4-1 4-6 4-12 4-11 4-23 4-12 4-22 4-17 4-15 4-9 4-6 4-16 4-5 4-9 4 2 4 0 4-1 4 2 4-4 4-1 4-7 4 0 4 3 4 4 4-1 4-1 4-2 4 11 4-8 4 2 4 6 4-7 4 1 4-5 4 4 4 6 4-14 4 13 4-9 4 2 4 0 4-1 4 2 4 2 4-1 4 0 4-3 4 6 4 1 4 1 4 2 4-9 4 7 4-3 4 7 4 0 4-12 4-3 4 15 4-19 4 16 4-2 4-9 4 12 4 1 4 2 4-14 4 9 4 11 4-5 4-7 4 8 4-4 4-5 4-4 4 10 4 2 4-4 4 14 4-15 4 4 4-11 4 8 4-5 4 9 4-2 4-2 4 20 4-12 4 1 4-7 4-10 4 15 4 8 4 9 4-7 4-13 1-11"/>
<path stroke="#0072BD" d="M1031 456l4 0 4-4 4-7 4 0 4-3 4 10 4-1 4-8 4 5 4-4 4-1 4-2 4-4 4 0 4-6 4-1 4-6 4-7 4-5 4 0 4-8 4-8 4 4 4 2 4-14 4 3 4-14 4-1 4-9 4-5 4 3 4 0 4-4 4-1 4 4 4 0 4 0 4-4 4 4 4 9 4 4 4 4 4 3 4 6 4 14 4 8 4 7 4 4 4-11 4 5 4 0 4 5 4 7 4-1 4-3 4 4 4-1 4 12 4-4 4-2 4 5 4 7 4 2 4-5 4 5 4-5 4 4 4-1 4 7 4 1 4 4 4-3 4 2 4-1 4 11 4 5 4 4 4-4 4 9 4 4 4-2 4-1 4-8 4-11 4-14 4-27 4-34 4-37 4-43 4-20 4-30 4-16 4-18 4-10 4-15 4-6 4-8 4 2 4-1 4-6 4-2 4 8 4-6 4 0 4 3 4-3 4-2 4 5 4 1 4-8 4 6 4 1 4 3 4-3 4-7 4 3 4 8 4-3 4-1 4 4 4 1 4-2 4 2 4 0 4-2 4 9 4-9 4 5 4-7 4 3 4 2 4-1 4-7 4 7 4-6 4 6 4-6 4-1 4 5 4 3 4-2 4 9 4-5 4 3 4-2 4-6 4-3 4 3 4 5 4-20 4 8 4 8 4 1 4 12 4-12 4 7 4-8 4 4 4-9 4 16 4-13 4 5 4 4 4-5 4 14 4-3 4-9 4-4 4 8 4 0 4-1 4 0 4 3 4 1 4 4 4-9 4 10 1-16"/>
<path stroke="#D95319" d="M1031 456l4-7 4 5 4 3 4-3 4-7 4-2 4-9 4-1 4-2 4 2 4-17 4 1 4-11 4 2 4-3 4-6 4-7 4-3 4-1 4-7 4-6 4-15 4 5 4-13 4-8 4-5 4-16 4 3 4-16 4 0 4-11 4-3 4 2 4-12 4-11 4 9 4-12 4 1 4-3 4 2 4-3 4 5 4 2 4-2 4-2 4 6 4 4 4-1 4 3 4-3 4 2 4-1 4-6 4-8 4 9 4-3 4-3 4 5 4-5 4 3 4 7 4 3 4 2 4 6 4 0 4 10 4 6 4 2 4 8 4-1 4 15 4 0 4 11 4 1 4 10 4-6 4 12 4-1 4-7 4 6 4 1 4-17 4-1 4-19 4-15 4-17 4-15 4-23 4-10 4-7 4-15 4-9 4 1 4-6 4-6 4-8 4 14 4-12 4-2 4 9 4-4 4-5 4 1 4 5 4 4 4-11 4 3 4 11 4-6 4 1 4-4 4 2 4 4 4 0 4 0 4-5 4 2 4 0 4-6 4 1 4-2 4 6 4-7 4 8 4-9 4-2 4 9 4 1 4-8 4 6 4-5 4 7 4-17 4 19 4-6 4 11 4-14 4 20 4-20 4 12 4 0 4 4 4 0 4-5 4 4 4-4 4-2 4-4 4 14 4-7 4-3 4 1 4-4 4 12 4-12 4 5 4-4 4-2 4 5 4-1 4 0 4 3 4-1 4 5 4 5 4-27 4 16 4 0 4-18 4 11 4-9 4 17 4 5 4 12 4-26 4 9 4-3 1-5"/>
<path stroke="#EDB120" d="M1031 551l4 3 4-3 4 3 4 0 4 1 4 4 4-6 4 1 4-2 4 4 4-4 4-3 4-7 4-2 4-2 4-3 4-4 4-5 4-8 4-12 4-4 4 2 4-15 4-6 4-7 4-4 4-1 4-9 4-5 4-3 4-4 4 3 4-3 4 0 4-3 4 4 4-2 4 3 4 5 4-1 4 7 4 0 4 3 4 8 4 3 4 4 4 5 4 2 4 4 4 0 4 2 4 6 4-1 4 5 4 0 4 3 4 3 4-1 4 7 4 3 4-1 4-3 4 3 4 4 4 5 4-4 4 4 4 2 4 1 4 4 4-1 4 5 4 2 4 3 4-4 4 5 4 3 4-1 4 1 4 7 4-7 4 2 4-1 4-5 4-2 4-19 4-15 4-15 4-27 4-41 4-37 4-26 4-21 4-21 4-19 4-11 4-17 4-7 4-14 4-8 4-8 4-3 4-7 4-4 4 1 4-2 4-8 4-6 4 6 4-4 4 0 4-6 4 6 4 1 4-5 4 3 4 1 4 1 4 1 4 2 4-5 4 13 4-12 4-4 4 1 4 5 4 6 4-7 4-9 4 11 4-2 4-3 4 11 4-4 4-1 4-9 4 0 4 7 4-2 4 3 4 1 4-11 4 15 4 6 4-8 4-3 4 4 4-6 4 6 4-2 4 4 4 1 4-9 4 5 4 0 4 7 4-13 4 7 4 2 4 6 4-8 4-5 4-4 4 1 4 15 4-6 4 12 4-24 4 17 4-6 4-8 4 14 4 8 4 3 4-12 4 5 4 9 1 0"/>
<path stroke="#7E2F8E" d="M1031 554l4-3 4 3 4-2 4 0 4 3 4-1 4-5 4 6 4 1 4-2 4-1 4-8 4-1 4-2 4 0 4-4 4 3 4-6 4-4 4-12 4-9 4-11 4-6 4-7 4-14 4 0 4-4 4-7 4-2 4-5 4 1 4-5 4 1 4 2 4-5 4 7 4-3 4 3 4 4 4 4 4 2 4 6 4-1 4 8 4 8 4-5 4-1 4 11 4-3 4 7 4 2 4 3 4 3 4 0 4 2 4 5 4-2 4 5 4 2 4 9 4 0 4 2 4 2 4 1 4 6 4-3 4 3 4 0 4 1 4 2 4 5 4 2 4 0 4-2 4 2 4 0 4 0 4 6 4 2 4 2 4-5 4-2 4 0 4-7 4-5 4-9 4-15 4-20 4-28 4-32 4-38 4-26 4-21 4-21 4-19 4-16 4-25 4-6 4-7 4-12 4-7 4-13 4 3 4-11 4-1 4-5 4-1 4-2 4 0 4 1 4-2 4-7 4 1 4 8 4-5 4-4 4 11 4-2 4 5 4-5 4-6 4 10 4 5 4-12 4 2 4-9 4 7 4 1 4 5 4-7 4 2 4 0 4 1 4-3 4 8 4-2 4-4 4 9 4-16 4-1 4 4 4 3 4-3 4 1 4 12 4-3 4 3 4-6 4 10 4-3 4 0 4-3 4 8 4-5 4-9 4 2 4 8 4 3 4-15 4 10 4 2 4 1 4 10 4-26 4 11 4-4 4-2 4 18 4-1 4 3 4-8 4 8 4-16 4 14 4 2 4-13 4 6 1 8"/>
<path stroke="#77AC30" d="M1031 478l4-9 4-3 4-1 4 11 4-10 4-4 4 4 4-3 4-5 4-4 4 7 4-11 4 1 4-11 4-4 4 1 4-1 4-4 4-11 4 0 4-9 4-1 4-7 4-5 4-4 4 1 4-13 4-3 4 3 4-11 4 5 4-15 4 2 4 2 4-1 4 0 4 2 4-1 4 0 4 12 4 5 4 4 4 8 4 13 4-4 4 2 4 14 4 4 4-5 4 2 4 2 4 3 4 4 4-6 4-1 4 13 4-1 4 2 4-3 4 11 4-9 4 1 4 4 4 4 4 5 4-4 4 7 4-2 4 2 4 4 4 3 4 3 4 3 4 3 4 11 4-6 4 9 4 6 4-4 4 6 4-5 4 5 4-12 4-12 4-19 4-21 4-16 4-50 4-25 4-23 4-33 4-26 4-15 4-7 4-12 4-8 4-8 4 2 4-5 4-1 4 0 4-2 4-10 4-3 4 0 4 4 4 1 4-1 4-1 4 2 4 1 4 0 4 3 4 3 4-4 4 13 4-4 4-1 4-4 4 8 4-8 4 6 4-7 4-6 4 17 4-11 4 7 4 0 4-3 4-8 4 4 4 5 4-7 4 3 4 0 4-10 4 11 4 0 4-5 4 16 4-13 4 9 4-11 4 18 4 3 4-11 4 1 4 0 4-5 4-7 4 9 4 2 4 8 4 5 4-17 4 9 4-5 4 1 4-1 4 8 4-1 4-1 4 5 4 0 4-12 4 5 4-4 4-2 4 9 4 5 4-5 4 4 4-7 4-1 4 22 4-31 4 10 1 0"/>
<path stroke="#4DBEEE" d="M1031 435l4 0 4-2 4-5 4-4 4-5 4 7 4 3 4-10 4 7 4-3 4-3 4 1 4-8 4-2 4 1 4-9 4 1 4-8 4-1 4-15 4-6 4-6 4-2 4-7 4-21 4 4 4-17 4-3 4-1 4-8 4-13 4 4 4-9 4-7 4 2 4-11 4-16 4 10 4-7 4-4 4 2 4-3 4 2 4-3 4-4 4 7 4-5 4-3 4 5 4-1 4 5 4 0 4-8 4 1 4 2 4 5 4-8 4 7 4 4 4 1 4 3 4 3 4 5 4 9 4-2 4 17 4-10 4 14 4-5 4 20 4 1 4-1 4 5 4 16 4-2 4 3 4 7 4 4 4 8 4-7 4-10 4 0 4-18 4-18 4-18 4-20 4-11 4-20 4-14 4-5 4-12 4 0 4-12 4-5 4-4 4 1 4-11 4 0 4 4 4-5 4 5 4-8 4 8 4-4 4-7 4 5 4-2 4 12 4-8 4-3 4 4 4-3 4-1 4-1 4 1 4 3 4-3 4-7 4 12 4-13 4-2 4-9 4 13 4 0 4 1 4-8 4 7 4-6 4 0 4-3 4 4 4-8 4 9 4 0 4-9 4 12 4-24 4 4 4-3 4 9 4-1 4-9 4 7 4-10 4 7 4-3 4 4 4-5 4 0 4-3 4 12 4-1 4-10 4 7 4-14 4-1 4 15 4-10 4-9 4 2 4-5 4 6 4-9 4 3 4 4 4 6 4-6 4-6 4-15 4 7 4-9 4 23 4-10 4-16 4 28 4-3 4-3 1-6"/>
<path stroke="#A2142F" d="M1031 417l4 10 4-8 4-8 4-4 4-2 4-3 4 2 4 4 4-8 4 0 4-8 4 1 4 2 4-11 4 2 4-16 4 8 4-12 4-4 4-9 4-10 4-9 4-14 4-12 4 0 4-10 4-7 4-9 4-11 4-8 4-8 4-3 4-11 4 4 4-13 4-15 4-4 4-1 4-5 4-5 4-5 4 2 4 3 4-4 4 4 4-12 4 3 4 3 4-11 4 6 4-1 4 0 4-4 4 8 4-3 4-6 4 6 4 0 4-7 4 5 4-3 4-4 4 10 4 4 4-1 4-4 4 6 4 1 4-7 4 12 4-1 4 4 4 6 4 0 4 3 4 7 4-5 4-2 4-3 4-2 4-5 4-15 4-11 4 1 4-23 4-15 4-8 4-16 4-12 4-2 4-3 4-10 4-4 4-10 4 5 4-4 4-3 4-4 4 1 4-4 4-2 4 0 4 4 4-11 4 6 4-7 4 3 4 3 4-10 4 4 4-5 4 0 4 5 4 4 4-3 4 1 4 5 4 0 4-4 4 2 4-6 4 9 4-5 4-2 4 6 4-8 4-1 4-5 4 8 4 8 4 0 4-15 4 2 4 5 4-2 4 2 4-3 4 13 4-10 4-1 4-5 4-1 4-7 4 11 4-3 4-1 4-3 4 11 4 0 4-6 4-14 4 10 4-4 4 10 4-2 4-6 4 5 4-5 4 29 4-20 4-1 4-14 4 5 4 4 4 15 4-11 4-9 4 13 4-18 4 19 4 0 4-11 4 2 4 12 4-14 4 3 4 1 1-3"/>
<path stroke="#0072BD" d="M1031 553l4-1 4 3 4 3 4-4 4 0 4 3 4 1 4-5 4 0 4 1 4-4 4-5 4 3 4-4 4 0 4 0 4-8 4-3 4-6 4-6 4-2 4-17 4-7 4-3 4-12 4 1 4-10 4-5 4-4 4-3 4-10 4 7 4-3 4-1 4 1 4-5 4 10 4-2 4 3 4 4 4 0 4 8 4 0 4 6 4 6 4 3 4-2 4 9 4-1 4 6 4 4 4-4 4 8 4 2 4 1 4 7 4 3 4 2 4 1 4 0 4 3 4 1 4 1 4 6 4 4 4-5 4 9 4-2 4 2 4 2 4-5 4 8 4-3 4 7 4 0 4 4 4-5 4 2 4 6 4 2 4-10 4-2 4 0 4 1 4-8 4-8 4-17 4-19 4-28 4-36 4-39 4-27 4-19 4-18 4-19 4-20 4-15 4-16 4-9 4-8 4-8 4-11 4-13 4 5 4-5 4-10 4-1 4 8 4-1 4-7 4 3 4 1 4-3 4 2 4 2 4-3 4-1 4-2 4 11 4 0 4-7 4 8 4-4 4-4 4-3 4 3 4 8 4-1 4 0 4 1 4-7 4 8 4 0 4 3 4-8 4 10 4-7 4 8 4-9 4 3 4 0 4 1 4 10 4-4 4-6 4 8 4-11 4 6 4 8 4-9 4-4 4 0 4 5 4-1 4-9 4 18 4-24 4 9 4-2 4 0 4-7 4-1 4 16 4-7 4-14 4-5 4 24 4 11 4-16 4 2 4-12 4 21 4-12 4 3 4 4 4 8 4-14 1 19"/>
<path stroke="#D95319" d="M1031 445l4-1 4-3 4-2 4-1 4-1 4-4 4-4 4 0 4-6 4-4 4-2 4-5 4-6 4-5 4-8 4-7 4 0 4-15 4-3 4-6 4-6 4-14 4-6 4-13 4-11 4-6 4-9 4 0 4-13 4-3 4-6 4-4 4 3 4-13 4-1 4-5 4-13 4-6 4 4 4-2 4 6 4-1 4-1 4 4 4 2 4-3 4 1 4 4 4-5 4 6 4-5 4 6 4-4 4 3 4-7 4-1 4 2 4 2 4 3 4 1 4 7 4-3 4-2 4 7 4-8 4 8 4 2 4 3 4 9 4 3 4-3 4 11 4 8 4-5 4 7 4 11 4 2 4 6 4-5 4-12 4-3 4 1 4-17 4-12 4-22 4-20 4-15 4-8 4-9 4-14 4-5 4-11 4-12 4-2 4-3 4 1 4-4 4 3 4-5 4 5 4-5 4-7 4-2 4 2 4 4 4-5 4 1 4-2 4 9 4-7 4-6 4 2 4-6 4 10 4-6 4-4 4 3 4-3 4 13 4-13 4 4 4-8 4 6 4 1 4 0 4 7 4-12 4 7 4-5 4 6 4-7 4-4 4 10 4-2 4 3 4 3 4-7 4 1 4 3 4 4 4 1 4-3 4-9 4 4 4-5 4 7 4-10 4 8 4-11 4 7 4 0 4-2 4 7 4-17 4-1 4 16 4 2 4-9 4 13 4-15 4 5 4-11 4-1 4 12 4 4 4-4 4-15 4 8 4 9 4-8 4-10 4 1 4 13 4 4 4-16 4 6 4 6 1 8"/>
<path stroke="#EDB120" d="M1031 446l4 1 4-10 4 4 4-2 4 1 4-5 4 1 4-9 4 2 4-5 4 1 4-6 4-6 4-5 4-7 4 1 4-14 4 1 4-10 4-8 4-5 4-7 4-5 4-15 4-7 4-11 4-3 4-10 4-4 4-2 4-9 4-1 4-3 4-14 4 2 4-7 4-6 4 4 4 0 4-6 4 0 4 0 4-3 4 6 4-6 4-1 4 6 4-1 4 4 4-7 4-2 4 7 4-4 4 7 4-14 4 2 4 2 4 5 4-7 4 7 4-1 4 2 4 5 4 4 4 1 4 4 4 1 4 6 4-1 4 11 4 2 4 6 4 8 4 12 4-1 4 6 4 9 4-3 4 9 4-3 4 0 4-10 4 2 4-17 4-18 4-21 4-5 4-21 4-12 4-10 4 0 4-7 4-6 4-6 4-8 4-6 4 16 4-15 4 1 4 4 4-5 4 1 4-2 4-1 4 6 4 2 4-6 4 1 4-3 4-2 4 6 4-2 4 2 4 3 4-5 4-2 4 0 4-4 4 12 4-7 4 3 4-1 4 1 4-3 4-3 4 5 4-6 4 11 4 7 4-10 4 4 4-2 4 1 4 5 4-6 4 11 4-8 4-6 4 1 4 2 4-8 4 13 4-15 4 22 4-8 4-6 4-5 4 5 4 2 4-15 4 13 4 2 4-8 4 14 4-13 4 8 4 7 4-5 4-5 4-2 4 6 4-3 4 5 4 6 4-13 4 2 4-2 4 10 4-3 4 5 4-8 4 5 4-12 4 3 4-9 4 16 4-14 1 15"/>
<path stroke="#7E2F8E" d="M1031 417l4 8 4-7 4-7 4-4 4 2 4-6 4-2 4-2 4-5 4-8 4-2 4-1 4-10 4-3 4-4 4-2 4-10 4-8 4-10 4 2 4-4 4-19 4-5 4-10 4-3 4-10 4-9 4-10 4-4 4-3 4-23 4 1 4-3 4-3 4-15 4-7 4-8 4-17 4 8 4-11 4 0 4 1 4-12 4-1 4 4 4-4 4-3 4-2 4-1 4 0 4 1 4-12 4 3 4 3 4 0 4-3 4 2 4-8 4 3 4 4 4 10 4-14 4 11 4 1 4 0 4 2 4 5 4-3 4 2 4-2 4 1 4-1 4 4 4 0 4 7 4-10 4 6 4-3 4 8 4-7 4-3 4-9 4-8 4-4 4-12 4-9 4 0 4-12 4-5 4-17 4-3 4 6 4-13 4 0 4 3 4-5 4-4 4-3 4 9 4-7 4-6 4-2 4 3 4-2 4 4 4-5 4-1 4 2 4-4 4 11 4-3 4-6 4 7 4-13 4 0 4 9 4-12 4 8 4 2 4-8 4 2 4-1 4 2 4-7 4 5 4-5 4 2 4 6 4-6 4 5 4-1 4 1 4 1 4 9 4-15 4 7 4 0 4-15 4 10 4 4 4-8 4 1 4 2 4-5 4-1 4 4 4-11 4 9 4 4 4 3 4-1 4-3 4 1 4-1 4 4 4 2 4-3 4 2 4-8 4 16 4-13 4 5 4-10 4 6 4-13 4 11 4 16 4-5 4-1 4-18 4 5 4 0 4 6 4 1 4-15 4 7 4 12 1-5"/>
<path stroke="#77AC30" d="M1031 556l4-1 4-2 4-2 4 1 4-1 4 1 4 1 4-6 4 5 4-3 4-1 4 2 4-2 4-3 4-5 4 2 4-2 4-5 4-6 4-8 4-5 4-15 4-6 4-7 4-11 4-4 4-5 4-4 4-7 4-5 4 1 4-4 4 0 4 1 4 0 4-2 4 6 4 1 4 3 4 0 4 6 4 6 4 0 4 5 4 7 4 4 4-2 4 2 4 1 4 3 4 2 4 3 4 2 4 4 4 5 4-3 4 9 4 2 4 4 4 5 4 1 4-2 4 1 4 5 4 2 4 2 4-2 4 6 4-3 4 3 4-1 4 7 4-3 4 10 4-5 4 2 4 3 4-1 4 5 4 1 4 0 4-7 4 4 4-8 4-4 4-17 4-15 4-26 4-29 4-31 4-37 4-25 4-21 4-19 4-21 4-17 4-7 4-17 4-6 4-6 4-12 4-13 4-5 4 0 4-5 4-4 4-9 4 16 4-9 4-3 4 2 4 4 4-5 4 6 4-8 4 2 4-9 4 5 4-1 4-1 4 7 4-5 4 2 4 1 4 5 4-2 4 4 4-1 4-8 4 1 4 3 4-3 4 0 4 8 4-4 4-3 4 2 4-3 4 10 4-5 4 2 4 2 4 3 4-4 4-4 4 0 4 7 4 6 4-7 4 3 4-3 4 1 4 4 4-8 4 1 4 5 4 3 4 2 4-10 4 2 4 9 4-15 4-3 4 15 4 2 4-13 4 4 4-16 4 14 4 11 4-8 4 8 4-8 4-10 4 19 4 7 4-21 1 13"/>
<path stroke="#4DBEEE" d="M1031 452l4 6 4-5 4 2 4 3 4-4 4-8 4 5 4-12 4-5 4 0 4-10 4 3 4-9 4-2 4-16 4 1 4-5 4-9 4-6 4-13 4 0 4-3 4-3 4-9 4-10 4-3 4-7 4-15 4 3 4-5 4-11 4-2 4-6 4-4 4-12 4 1 4-8 4-4 4-3 4 3 4-1 4 2 4 11 4-6 4 3 4-1 4 5 4 3 4-2 4-1 4 1 4 2 4-2 4-9 4 4 4-3 4-2 4-15 4 8 4-3 4 3 4 1 4 7 4 9 4 0 4 3 4 2 4 6 4 8 4 3 4 15 4 2 4 8 4 8 4 5 4-1 4 4 4-2 4 11 4-7 4-5 4-7 4-12 4-25 4-21 4-29 4-28 4-25 4-18 4-16 4-20 4-14 4-12 4-9 4-1 4-15 4-1 4 8 4-5 4 6 4-6 4-4 4-6 4 14 4-8 4 2 4-2 4 8 4-11 4-3 4 0 4 8 4-2 4-7 4 12 4-1 4 4 4-18 4-3 4 17 4-10 4 1 4-4 4 2 4 4 4 2 4-5 4-4 4-1 4 5 4-9 4 12 4-9 4 9 4 4 4-15 4 7 4-1 4-1 4 4 4 2 4-5 4-2 4 1 4 6 4-10 4 6 4-2 4-2 4-5 4 4 4 2 4 3 4-11 4 9 4-2 4-8 4 11 4-4 4 2 4-11 4 8 4 0 4-8 4-1 4 4 4 2 4 6 4-3 4-4 4 4 4 1 4 11 4-3 4-12 4-5 4 9 1-8"/>
<path stroke="#A2142F" d="M1031 456l4-7 4-1 4-8 4 6 4-7 4-6 4 4 4-3 4-6 4 5 4-8 4-5 4 0 4 2 4-11 4-2 4-8 4-5 4 3 4-10 4-9 4-4 4-13 4-4 4-11 4-10 4-11 4-4 4-10 4-7 4-5 4 5 4-16 4-6 4 1 4-7 4-1 4-9 4 3 4 4 4-2 4-8 4 8 4-1 4 6 4 6 4-5 4 2 4 0 4 3 4-5 4 6 4-2 4 3 4 2 4-11 4 2 4-1 4 2 4 4 4 0 4-4 4 6 4 10 4-4 4 8 4-1 4 6 4 9 4 17 4 1 4 12 4 1 4 4 4 1 4 4 4 13 4-1 4 2 4 0 4-12 4-10 4-8 4-16 4-26 4-21 4-16 4-24 4-6 4-19 4-3 4-6 4-6 4-5 4-8 4-1 4 4 4-7 4-4 4 4 4-7 4 2 4-4 4 6 4-6 4 9 4-4 4-8 4 1 4 0 4 10 4-7 4-1 4 3 4-4 4-3 4-3 4 4 4-6 4 7 4-15 4 10 4-4 4 1 4 0 4-2 4 6 4-6 4 2 4-6 4 1 4-1 4 8 4 4 4-3 4 4 4-7 4 5 4 2 4-10 4 6 4-2 4 7 4-3 4-3 4 1 4-6 4 0 4 9 4-10 4 12 4-8 4-6 4 19 4-10 4-2 4-4 4-4 4 10 4-1 4-10 4 2 4 5 4 0 4 10 4-20 4 9 4-2 4 4 4 4 4-8 4 4 4-2 4-9 4 6 4-13 4 22 1-6"/>
<path stroke="#0072BD" d="M1031 404l4-1 4 0 4-6 4-11 4-4 4-6 4-1 4 6 4-4 4-8 4-3 4-6 4-4 4-1 4 1 4-8 4-11 4-2 4-4 4-12 4-7 4-12 4-5 4-11 4-11 4-7 4-8 4-3 4-6 4-11 4-7 4-3 4-12 4-1 4-13 4-9 4-13 4-4 4-10 4-5 4 10 4-4 4-5 4 0 4-5 4-1 4-1 4-7 4-1 4 1 4-5 4-9 4 1 4 4 4-6 4 0 4-7 4-2 4 0 4-1 4 1 4 3 4-3 4 1 4-6 4 4 4 1 4-3 4 3 4-6 4 5 4-5 4 2 4-5 4 1 4 2 4-8 4 7 4 0 4-4 4 4 4-12 4 0 4-1 4-5 4-3 4 1 4 7 4-5 4-4 4-6 4 5 4-8 4-3 4 0 4-1 4-1 4-6 4 6 4-1 4 2 4-12 4 1 4 8 4 0 4-3 4 6 4 1 4-12 4 12 4-13 4 2 4 7 4-5 4 5 4-4 4-6 4 4 4-11 4 9 4 1 4-2 4-2 4-2 4 6 4-2 4-3 4 2 4-6 4 9 4 2 4-13 4 0 4-2 4 16 4-8 4-8 4 5 4-11 4 7 4 5 4 3 4-4 4 5 4-2 4-5 4-7 4 10 4 2 4-7 4 8 4-5 4-8 4 20 4-23 4 5 4 5 4 14 4-13 4-1 4 18 4-8 4-4 4-11 4 0 4 9 4-4 4 11 4-12 4 1 4 6 4-6 4 3 4-5 4 5 4 11 4-15 1 12"/>
<path stroke="#D95319" d="M1031 408l4-5 4 4 4-2 4-2 4-5 4-1 4-3 4-8 4-2 4 6 4-1 4-9 4-1 4-2 4-10 4 1 4-4 4-9 4-6 4-9 4-8 4-9 4-11 4-10 4-12 4-2 4-8 4-11 4-12 4-3 4-5 4-8 4-14 4-3 4-7 4-4 4-19 4-2 4-4 4-1 4-3 4-6 4-4 4 2 4 1 4-6 4-4 4-2 4 1 4-9 4 1 4 2 4-3 4-5 4 0 4 0 4-1 4-6 4-2 4 2 4 2 4-3 4 8 4-9 4 2 4 7 4 0 4-5 4 2 4 2 4-1 4 5 4 3 4 0 4 9 4-11 4 12 4 1 4-5 4 4 4 2 4-6 4-4 4-1 4 0 4-4 4-1 4 3 4-5 4-2 4-7 4-3 4 2 4 8 4-8 4-3 4 3 4-3 4-1 4-2 4-4 4 5 4-7 4 8 4-10 4 6 4-3 4-1 4-6 4 4 4-1 4 4 4-1 4-1 4-10 4 4 4 7 4-3 4-4 4 12 4-11 4 6 4-3 4-4 4 0 4 7 4 1 4-2 4-6 4 2 4 2 4-4 4 3 4 6 4-2 4 1 4-3 4-1 4-5 4 8 4-4 4-7 4 6 4 4 4 2 4-9 4 0 4 19 4-12 4 3 4 1 4-9 4 1 4 12 4-24 4 5 4-2 4 17 4 4 4-13 4-1 4 4 4-5 4-3 4 9 4-1 4 0 4-9 4 16 4-11 4-20 4 6 4 13 4 0 4 3 4-14 4 2 1 5"/>
<path stroke="#EDB120" d="M1031 454l4 0 4-3 4 2 4-5 4-7 4 0 4 3 4 2 4-10 4-2 4 0 4-11 4 0 4-8 4-6 4-12 4 7 4-13 4-13 4-4 4-10 4-12 4-10 4-7 4-7 4-12 4-9 4-4 4-5 4-3 4-10 4 2 4-1 4-6 4 8 4-6 4-5 4-9 4-1 4 7 4-3 4 1 4 4 4 3 4 3 4 0 4 8 4-4 4 5 4-7 4 4 4-8 4 6 4-4 4 4 4-3 4 3 4-2 4-5 4 4 4-9 4 6 4-3 4-1 4 2 4-3 4 14 4-5 4 5 4 5 4 6 4 8 4 11 4 1 4 4 4 4 4 15 4 3 4-3 4 1 4-7 4-3 4-5 4-15 4-32 4-20 4-21 4-16 4-28 4-12 4-22 4-3 4-12 4 1 4-8 4-10 4-4 4 3 4-6 4 5 4-6 4 3 4-2 4-1 4 4 4-10 4-3 4 4 4 0 4 0 4 2 4-4 4-1 4 3 4 1 4-8 4 6 4-7 4-1 4 2 4-1 4 8 4-1 4-5 4 4 4-10 4 9 4-2 4-7 4 3 4-5 4 7 4 0 4-15 4 23 4-19 4 3 4-6 4 11 4 5 4-5 4-1 4-14 4 7 4-1 4 3 4-2 4 13 4-1 4-3 4-8 4-2 4 2 4 13 4-9 4 5 4-10 4 7 4-11 4 9 4-2 4 10 4-2 4 0 4-5 4 7 4-11 4 1 4 4 4-5 4 3 4 0 4 1 4-5 4-7 4 4 4 13 1-5"/>
<path stroke="#7E2F8E" d="M1031 452l4-1 4 6 4-6 4-8 4-3 4 1 4-1 4-10 4-11 4 5 4 1 4-9 4-10 4 4 4-11 4-4 4-3 4-10 4-11 4 8 4-18 4-14 4-3 4-1 4-14 4 11 4-20 4-6 4 2 4-12 4 2 4 2 4-10 4-7 4 1 4-7 4-1 4-6 4-2 4-3 4-5 4 0 4 0 4-3 4 2 4 2 4-2 4 5 4 0 4 0 4-4 4 5 4 3 4-5 4-1 4-5 4 4 4 5 4-2 4 8 4-3 4 1 4-1 4 4 4 4 4 6 4 2 4 1 4 9 4 7 4-4 4 18 4-4 4 7 4 6 4 7 4 1 4 7 4 1 4-4 4-5 4 3 4-14 4-19 4-4 4-18 4-19 4-12 4-21 4 0 4-8 4-8 4-9 4-5 4-1 4-8 4 1 4-3 4 0 4-4 4-3 4-1 4-4 4 10 4-11 4-3 4 2 4 6 4-5 4 13 4-20 4 7 4-2 4-5 4-4 4 3 4 1 4 1 4-11 4 10 4-3 4-1 4-7 4 1 4 8 4-1 4 4 4-15 4 2 4 10 4-2 4-1 4-8 4 5 4 1 4 1 4 6 4-9 4-3 4-4 4 1 4-7 4 2 4 10 4-5 4-8 4 1 4-2 4-4 4 8 4 4 4 2 4-7 4-7 4 9 4-8 4 2 4 2 4-4 4-1 4 5 4-5 4 12 4 2 4-14 4 22 4-6 4-7 4 17 4-9 4 0 4-17 4 2 4 2 4-2 4-3 4 5 1-8"/>
<path stroke="#77AC30" d="M1031 422l4-7 4 3 4-9 4 2 4-8 4 2 4-9 4 4 4-4 4 4 4-5 4-4 4-2 4-6 4-16 4 3 4-4 4-2 4-13 4-6 4-11 4-2 4-13 4-12 4-9 4-3 4-15 4-4 4-8 4-10 4-10 4-5 4-1 4-11 4-9 4-12 4-10 4 1 4-3 4-2 4-8 4 1 4-3 4-1 4 0 4-5 4 3 4 3 4-8 4-4 4 0 4-1 4-4 4 1 4-4 4 3 4-1 4-5 4-1 4 0 4 1 4 0 4 1 4 3 4 7 4-8 4 3 4 3 4-2 4-5 4 15 4 4 4-8 4 2 4 1 4 9 4 1 4 1 4 3 4-12 4-3 4-6 4 0 4-23 4-11 4 1 4-19 4-8 4-8 4-4 4-6 4-12 4 7 4-7 4-4 4-6 4 7 4-12 4 2 4 4 4 5 4-6 4 0 4 0 4-2 4 3 4-4 4-10 4 4 4 1 4 8 4-10 4 5 4 7 4-8 4-3 4 2 4 1 4 1 4-9 4-2 4 1 4-3 4 11 4 7 4-8 4-3 4 5 4-2 4-2 4 9 4-7 4-1 4-5 4 10 4-4 4-8 4 7 4-7 4 1 4-6 4 3 4 3 4-4 4 0 4 4 4-2 4-3 4-1 4 7 4 2 4 2 4 0 4-18 4 6 4 3 4 7 4 6 4-10 4-4 4-3 4 4 4 11 4-7 4 13 4-20 4-6 4 9 4 8 4-9 4-1 4 2 4 6 4 6 4-6 4-6 4 15 1-3"/>
<path stroke="#4DBEEE" d="M1031 437l4 2 4-9 4 2 4 6 4-8 4-7 4 6 4-7 4-1 4-3 4-1 4-6 4-9 4 0 4-3 4-6 4-2 4-10 4-10 4 1 4-4 4-11 4-7 4-14 4-13 4 0 4-7 4-4 4-8 4-6 4-12 4 3 4-6 4-7 4-2 4-5 4 1 4-3 4-17 4 12 4-4 4-11 4 12 4-5 4 4 4-1 4-1 4 2 4-5 4 2 4-6 4 2 4-4 4-5 4 3 4-4 4 0 4-1 4-1 4 1 4 2 4 5 4-2 4 13 4-8 4 6 4 8 4 7 4 6 4 6 4 7 4 9 4 10 4-5 4 17 4 7 4 6 4 9 4-7 4 1 4-13 4-1 4-11 4-13 4-13 4-15 4-21 4-6 4-13 4-8 4-8 4-11 4-2 4-2 4-4 4-6 4 1 4-4 4-1 4 8 4-11 4 0 4 0 4 2 4-5 4-2 4 8 4-5 4-1 4 6 4-9 4-3 4-2 4 0 4 6 4-6 4 5 4-4 4 0 4-4 4-3 4 7 4-10 4 17 4-5 4-9 4 2 4 6 4 1 4-7 4-3 4 4 4-2 4 1 4-4 4 0 4-8 4 6 4 0 4-1 4 3 4-2 4 1 4 8 4-14 4 18 4-9 4-10 4 1 4 2 4 19 4-13 4-7 4 10 4-12 4 5 4 6 4-4 4-12 4 23 4-16 4 12 4-8 4 9 4 7 4-12 4-3 4-2 4-7 4 12 4-3 4 3 4-2 4-1 4-10 4 24 4-10 1-2"/>
<path stroke="#A2142F" d="M1031 495l4-3 4 8 4-6 4-9 4 4 4-3 4 3 4-7 4-3 4 1 4-9 4 3 4-4 4-16 4 0 4 7 4-7 4-19 4 5 4-8 4 0 4-11 4-7 4-7 4-1 4 0 4-11 4-6 4 0 4-11 4 8 4-19 4 14 4-13 4 6 4-3 4-1 4 4 4 6 4-2 4 11 4 3 4 4 4 9 4-2 4 11 4 3 4 7 4-2 4 0 4 5 4 3 4 4 4-1 4 9 4 1 4-3 4 2 4-1 4 5 4 0 4 11 4-4 4 5 4 0 4 7 4 2 4-2 4 9 4-2 4 11 4-4 4 2 4 1 4 5 4 2 4 6 4 2 4 2 4 4 4 1 4-12 4 2 4-18 4-23 4-20 4-29 4-48 4-30 4-29 4-30 4-17 4-21 4-17 4-5 4-9 4-9 4 5 4-7 4-5 4 3 4-5 4 6 4-8 4 2 4-6 4 7 4-2 4-1 4 5 4 0 4-4 4 0 4 5 4-8 4 0 4 10 4 1 4 0 4-5 4-3 4 9 4-2 4-8 4 7 4-1 4-5 4 3 4-3 4 9 4-1 4-4 4-4 4 2 4-1 4 5 4-1 4 3 4-3 4 6 4-6 4-4 4-6 4 7 4 1 4 19 4-16 4 6 4 2 4-2 4 1 4 5 4-7 4 13 4-10 4 7 4-7 4 0 4 10 4-8 4-8 4 2 4 1 4 12 4-9 4 15 4-14 4-4 4 10 4-16 4 12 4 4 4-18 4 11 4 4 4 8 4-15 1 2"/>
<path stroke="#0072BD" d="M1031 436l4 4 4-5 4 6 4-15 4 2 4-9 4 5 4-7 4-4 4 2 4-12 4 2 4-3 4-3 4-8 4 2 4-6 4-9 4-9 4-10 4-5 4-1 4-5 4-16 4 0 4-9 4-7 4-20 4 6 4-10 4-1 4-1 4-5 4-2 4-13 4 2 4-4 4-7 4-2 4 5 4 2 4-2 4-6 4 0 4 6 4-1 4 5 4 0 4-5 4-4 4 1 4 3 4-6 4 6 4-3 4-2 4-6 4-4 4 6 4-3 4 9 4-2 4 6 4 1 4 7 4-6 4 3 4 9 4 2 4 2 4 4 4 3 4 15 4 7 4 3 4 2 4 13 4-6 4 5 4-14 4 0 4-1 4-21 4-9 4-17 4-16 4-10 4-12 4-15 4-6 4-4 4-4 4-12 4 3 4-3 4-11 4 0 4 2 4-12 4 1 4 11 4-13 4 6 4-1 4 1 4-4 4-3 4 4 4-1 4-5 4 3 4-3 4-8 4 5 4 14 4-10 4-4 4 7 4-5 4-2 4-1 4 7 4-10 4-6 4 10 4-5 4 4 4-3 4 7 4-6 4-3 4-1 4 8 4-11 4 8 4-2 4-4 4-2 4-1 4-4 4 11 4 2 4-9 4 3 4 3 4-10 4 6 4 0 4-2 4 0 4 2 4-7 4 1 4 11 4 2 4-19 4 14 4-1 4 4 4 4 4-18 4 21 4-2 4 3 4-15 4-9 4 14 4-15 4 7 4-1 4 7 4-9 4 5 4-14 4 25 4-13 4 4 1 0"/>
<path stroke="#D95319" d="M1031 492l4 5 4-10 4 9 4-6 4 0 4-1 4-7 4-3 4 6 4-3 4-2 4-2 4-10 4 4 4-11 4-3 4 1 4-8 4-8 4-12 4 4 4-4 4-18 4 2 4-5 4-5 4-3 4-12 4 2 4-9 4-4 4-5 4-1 4 0 4 5 4 1 4-3 4 3 4 6 4-1 4 6 4 7 4 1 4 13 4 2 4 1 4 11 4 2 4 2 4 5 4-6 4 9 4 1 4-4 4 3 4-2 4 7 4-1 4 1 4 4 4 4 4 2 4 1 4 9 4-3 4 0 4 16 4-7 4 0 4 10 4-3 4 5 4 1 4 2 4 10 4-2 4 1 4 2 4 3 4 3 4-3 4-2 4-1 4-15 4-22 4-23 4-29 4-45 4-29 4-26 4-30 4-12 4-26 4-8 4-7 4-19 4 5 4-3 4-8 4 4 4-3 4-8 4 1 4 4 4 3 4-6 4 1 4 1 4-6 4 7 4-2 4 3 4-6 4 3 4 0 4-1 4-5 4 12 4 2 4-7 4 7 4-4 4 3 4 6 4-3 4-8 4-1 4 6 4 4 4-4 4-2 4-1 4 6 4-9 4 3 4 4 4-4 4 5 4 3 4-1 4-6 4 9 4 0 4-5 4 0 4 8 4-8 4 1 4 3 4 1 4 5 4-8 4-1 4-2 4 4 4 2 4 4 4 8 4-9 4-8 4 2 4 0 4 11 4-6 4 10 4-11 4 12 4-8 4 7 4-1 4-6 4-16 4 18 4-9 4-1 4-2 4-2 1 8"/>
<path stroke="#EDB120" d="M1031 451l4 10 4-2 4-12 4 3 4-1 4-3 4-2 4-3 4-1 4 0 4 6 4-11 4-8 4 4 4-9 4 3 4-14 4-3 4-3 4-6 4-9 4-1 4-9 4-5 4-10 4 1 4-15 4-12 4-4 4 4 4-5 4 0 4-8 4 2 4-7 4-14 4 0 4-1 4-2 4-1 4-8 4 7 4-2 4 0 4 3 4-3 4 2 4 2 4 6 4-6 4 2 4 1 4-1 4 3 4-4 4 4 4 0 4 1 4 9 4 1 4 0 4 7 4 5 4-9 4 11 4 10 4 5 4-2 4 16 4 6 4 2 4 7 4 3 4 14 4 6 4 10 4 1 4 5 4-3 4 4 4-13 4-2 4-21 4-25 4-16 4-30 4-17 4-23 4-13 4-19 4-4 4-6 4-5 4-14 4 3 4-1 4-3 4-1 4-1 4-9 4 8 4 6 4-8 4 4 4-1 4-2 4 1 4-1 4 3 4-3 4 3 4-1 4 3 4 0 4 3 4-1 4-7 4 13 4-10 4 1 4 5 4-7 4 7 4 5 4-12 4 8 4 1 4 0 4-5 4-2 4 5 4-1 4-6 4 4 4 0 4 4 4-3 4 0 4 0 4-8 4 2 4-1 4 2 4 3 4 8 4-11 4 9 4 1 4 5 4-6 4 2 4-7 4 4 4-1 4-11 4 12 4 0 4-3 4 4 4 0 4 5 4 11 4-15 4 3 4 0 4 8 4-18 4 9 4 8 4 6 4 5 4-20 4 16 4 10 4-2 4-12 4-12 1 13"/>
<path stroke="#7E2F8E" d="M1031 472l4-2 4-6 4 1 4-2 4-5 4 4 4-2 4-4 4-1 4 2 4-16 4-3 4-6 4 3 4-6 4-9 4 5 4-9 4-8 4-6 4-9 4-7 4-8 4-3 4-9 4-8 4-9 4-4 4-11 4-4 4 3 4 1 4-2 4-1 4 0 4-10 4 4 4-11 4 3 4-6 4 13 4 2 4-7 4 8 4-5 4 3 4 6 4 0 4-1 4 4 4-5 4 13 4-5 4-1 4 3 4-4 4-1 4 5 4 7 4-4 4 5 4-2 4 3 4 4 4-2 4 6 4-1 4 13 4 0 4 9 4 6 4 4 4-2 4 9 4 13 4-4 4 8 4 8 4 5 4-6 4-4 4 1 4-8 4-14 4-23 4-22 4-32 4-25 4-15 4-18 4-17 4-15 4 0 4-9 4-8 4-1 4-1 4-3 4 6 4-4 4-1 4 3 4 2 4-6 4-2 4 2 4-3 4-5 4 8 4 2 4 2 4 1 4-3 4 4 4-2 4 3 4-7 4 1 4-1 4 3 4 3 4-1 4 5 4-12 4 6 4 11 4-10 4 0 4 3 4 2 4-12 4 7 4 2 4 6 4 2 4-4 4-9 4 5 4 6 4 2 4-4 4-1 4 0 4 17 4-10 4-11 4 14 4-12 4 4 4 6 4-9 4 3 4 4 4-6 4 9 4-1 4-13 4 10 4-6 4-3 4 16 4-19 4 9 4 7 4 1 4-1 4-4 4 13 4-13 4 0 4 5 4-1 4-5 4 9 4 2 4-10 4-4 1-2"/>
<path stroke="#77AC30" d="M1031 472l4 7 4-2 4-1 4-6 4 3 4-10 4 2 4-3 4-1 4 0 4-1 4-8 4-2 4-7 4-3 4-13 4 4 4-3 4-10 4-10 4-9 4 1 4-6 4-7 4-10 4-11 4-5 4-12 4 0 4-7 4-4 4 3 4 1 4-2 4-3 4 4 4-7 4 2 4-3 4 0 4-2 4 6 4-1 4-2 4-1 4 14 4 6 4-5 4 3 4-1 4 1 4-1 4 7 4-5 4 1 4 1 4-5 4 14 4-3 4-4 4 4 4 8 4 3 4 1 4 1 4 5 4 3 4 8 4 5 4-2 4 8 4 5 4 9 4 5 4 2 4 11 4 11 4-2 4-1 4 6 4-4 4 3 4-6 4-14 4-21 4-27 4-32 4-32 4-38 4-9 4-22 4-20 4-6 4-5 4 0 4-7 4-5 4 7 4-6 4 1 4 4 4-5 4 3 4-2 4-2 4 10 4-14 4 9 4-12 4 9 4 3 4-3 4-14 4 12 4-1 4-6 4 6 4 3 4-4 4 4 4-1 4-2 4 8 4 4 4-3 4-7 4 6 4-1 4-6 4 12 4 0 4-4 4 1 4-4 4-11 4 11 4 1 4-4 4-3 4 0 4 0 4-1 4 8 4-3 4 6 4-11 4 3 4-10 4 6 4 11 4 5 4-9 4-12 4 15 4-3 4 6 4 5 4-14 4 0 4 3 4-2 4 7 4-17 4 34 4-25 4 6 4-6 4-7 4 16 4-9 4 10 4-3 4-11 4 12 4-6 4 3 4-5 1 4"/>
<path stroke="#4DBEEE" d="M1031 431l4-4 4 6 4 3 4-4 4-10 4 2 4-5 4-6 4 3 4-5 4-3 4 3 4-8 4-6 4 0 4-10 4-4 4-15 4-6 4 1 4-8 4-10 4-12 4-9 4-10 4-5 4-6 4-12 4-3 4-10 4 6 4-14 4 4 4-6 4-3 4 0 4-12 4-6 4-2 4 0 4 5 4-7 4 2 4 4 4-10 4 1 4-2 4 7 4 0 4-6 4 0 4-5 4 2 4 5 4-7 4 1 4-2 4-6 4 0 4 13 4-4 4-8 4 10 4 3 4 1 4 0 4 8 4 5 4 1 4 10 4-3 4 8 4 10 4-1 4 9 4 10 4 2 4-3 4-2 4 1 4-15 4-11 4-11 4-24 4-24 4-9 4-20 4-21 4-10 4-20 4-10 4-11 4-8 4 0 4 0 4-11 4-1 4-6 4 0 4 4 4-5 4 1 4-7 4 6 4-6 4-2 4 5 4 5 4-6 4-8 4 6 4 0 4-11 4 4 4 3 4-8 4 12 4-5 4 3 4 0 4 1 4-5 4 1 4-2 4 1 4 2 4-10 4 10 4-2 4 4 4-4 4-2 4 4 4 1 4-8 4 2 4 5 4-1 4-4 4 4 4 4 4-12 4-3 4 8 4 11 4-7 4-8 4 8 4-2 4 6 4-11 4-9 4 8 4 11 4-5 4 1 4-2 4 7 4-7 4 17 4-26 4 13 4-13 4 9 4 7 4 9 4-18 4-4 4-7 4 13 4 13 4-28 4-3 4 22 4-3 4 12 4-7 1-9"/>
<path stroke="#A2142F" d="M1031 406l4 6 4-13 4-1 4-7 4 6 4-1 4 0 4-2 4-9 4 3 4-3 4-6 4 3 4-8 4-4 4-5 4-5 4 4 4-12 4-4 4-18 4-2 4 2 4-18 4-6 4-20 4 1 4-13 4-2 4-11 4-4 4-6 4-10 4-5 4-11 4-15 4-8 4-2 4-6 4 3 4-1 4-4 4-4 4-8 4 2 4 4 4-11 4 8 4-11 4 0 4 2 4-8 4-4 4 4 4-5 4-1 4-4 4-3 4-2 4 6 4-1 4-6 4 9 4 6 4-7 4 5 4 1 4-5 4 8 4 2 4 10 4-2 4 4 4 3 4-2 4 2 4 1 4 17 4-13 4 4 4 1 4-6 4 0 4 0 4-4 4-1 4-10 4-2 4-5 4 5 4-10 4-3 4-1 4-7 4 2 4 2 4-8 4 1 4-9 4 8 4-13 4 11 4-6 4 11 4-3 4-6 4 7 4-7 4 2 4-1 4-1 4 5 4 1 4-4 4-2 4 0 4-5 4 6 4 1 4 0 4-8 4 5 4-6 4 6 4 0 4-7 4-5 4-1 4 2 4 4 4 5 4-13 4 8 4-4 4 4 4-12 4 8 4-3 4 7 4 2 4-8 4 4 4 4 4-10 4 16 4-10 4 0 4-6 4 10 4 5 4-7 4 4 4-13 4-5 4 19 4 0 4-5 4-4 4 4 4 8 4-3 4-11 4-1 4-6 4 8 4 0 4-11 4-2 4 8 4 1 4-6 4 3 4 12 4-17 4 5 4 1 4-6 1 6"/>
<path stroke="#0072BD" d="M1031 551l4 1 4 0 4 2 4-4 4 1 4-3 4 2 4 3 4-4 4-4 4 3 4 1 4-7 4 1 4-3 4-6 4 0 4-2 4-8 4-11 4-5 4-10 4-6 4-8 4-9 4-4 4-2 4-5 4-1 4-10 4-5 4 8 4-11 4 9 4-5 4 6 4-3 4 4 4-3 4 12 4-2 4 5 4 0 4 8 4 2 4 2 4 2 4 9 4-3 4 1 4 4 4 4 4 2 4 6 4-4 4 6 4 0 4-1 4 6 4 0 4 2 4 0 4 9 4 3 4-4 4 4 4-1 4 3 4 2 4 5 4 1 4 0 4 1 4 2 4 3 4-1 4 6 4 0 4 2 4 3 4-4 4-4 4-2 4-1 4-5 4-10 4-24 4-13 4-30 4-29 4-42 4-22 4-28 4-16 4-14 4-26 4-10 4-10 4-13 4-6 4-9 4-8 4 2 4-11 4-6 4 1 4-3 4-6 4 3 4 4 4-2 4-4 4 3 4 0 4 0 4-5 4-2 4 7 4-8 4 6 4-1 4-3 4-4 4 6 4-1 4 6 4-5 4-7 4-2 4 13 4-8 4 7 4-3 4 3 4-6 4 8 4-3 4-1 4-3 4-4 4 4 4 13 4-14 4 6 4 0 4 2 4-1 4-2 4 18 4-20 4 16 4-1 4-10 4 3 4 12 4-11 4 8 4 2 4 0 4-3 4 6 4-8 4-9 4 1 4 3 4 12 4-15 4 17 4-6 4 2 4-11 4 6 4 6 4-14 4 0 4 9 4-11 1 19"/>
<path stroke="#D95319" d="M1031 502l4 3 4-6 4 3 4-5 4 2 4 0 4-5 4-2 4 6 4-8 4-5 4-5 4-6 4-7 4 0 4-9 4-7 4-2 4-16 4 1 4-2 4-8 4-6 4 9 4-19 4-1 4-4 4-1 4-6 4-13 4 1 4-5 4 1 4-3 4 6 4-5 4 7 4 2 4 5 4 5 4 5 4-1 4 14 4 2 4 3 4 3 4 14 4 0 4 8 4-11 4 8 4 3 4-1 4-1 4 2 4 5 4-3 4 6 4-5 4 3 4 8 4-2 4-1 4 4 4 4 4 4 4 3 4 10 4-1 4 6 4-1 4-4 4 7 4 4 4 6 4-2 4 0 4 3 4 5 4-13 4 0 4 2 4-14 4-5 4-19 4-19 4-44 4-46 4-32 4-21 4-23 4-35 4-6 4-17 4-9 4-8 4 0 4-1 4-1 4-2 4-8 4 9 4-7 4 9 4-6 4-1 4 1 4 9 4-12 4 5 4-3 4 3 4 0 4-2 4 4 4 4 4-5 4 2 4-4 4 7 4-7 4 4 4 2 4-11 4 2 4 12 4-11 4 0 4 11 4-4 4-8 4 7 4-10 4 7 4 8 4-2 4-2 4-11 4 6 4 5 4-5 4-12 4 8 4 0 4 7 4 0 4-2 4-11 4 6 4 6 4-2 4-2 4 15 4-5 4-7 4 4 4-7 4 13 4-8 4 9 4 5 4-20 4 10 4 9 4-7 4 13 4-1 4-10 4-4 4 5 4 9 4 6 4-7 4-8 4-4 4 3 4 3 1-5"/>
<path stroke="#EDB120" d="M1031 403l4 2 4-7 4-1 4-7 4 1 4-11 4 2 4-2 4 1 4 3 4-10 4-1 4 0 4 1 4-2 4-9 4 8 4-16 4-6 4-2 4-21 4 2 4-7 4-11 4-16 4-10 4-13 4-1 4-12 4-11 4-9 4-15 4-2 4-12 4-8 4-9 4-11 4-2 4-8 4 0 4 8 4-3 4-2 4-3 4-8 4 7 4-4 4-5 4-4 4 3 4-12 4 2 4-8 4-1 4-3 4-2 4-11 4 4 4-5 4 7 4-1 4-1 4-1 4 3 4 1 4-3 4 0 4 5 4 7 4 6 4-8 4-1 4 0 4 4 4 1 4-6 4 3 4 1 4-1 4-6 4-3 4 1 4-1 4-4 4 1 4-10 4-3 4 8 4-4 4 3 4-4 4 7 4-9 4 0 4 2 4 0 4-2 4-5 4 3 4 6 4-12 4 9 4-3 4 0 4 1 4-7 4-1 4 2 4 4 4-4 4 2 4-2 4-1 4-1 4 10 4-6 4 1 4 1 4 3 4-9 4 12 4-3 4-4 4-7 4 17 4-4 4-8 4 13 4-11 4 8 4 4 4-14 4 13 4-6 4-2 4 2 4 0 4 5 4-12 4 8 4-11 4 7 4-4 4 11 4-2 4-8 4 4 4 5 4 6 4-3 4-9 4-3 4-3 4 8 4-4 4-6 4 12 4 5 4 0 4-13 4 5 4-7 4 17 4-12 4 11 4-14 4-9 4 9 4 3 4-14 4 0 4 16 4 14 4-15 4-8 4 5 4 8 1-17"/>
<path stroke="#7E2F8E" d="M1031 446l4-9 4 1 4-4 4 2 4-8 4 1 4-2 4-10 4 1 4 0 4-1 4-9 4 0 4-8 4-3 4-8 4-3 4-11 4-8 4-5 4-13 4-4 4-12 4-1 4-15 4-7 4-8 4 0 4-6 4-6 4 5 4-13 4-4 4 4 4-8 4-2 4-4 4-7 4-4 4 0 4-5 4 0 4-4 4 6 4 7 4-12 4 8 4-1 4-2 4 4 4-9 4 2 4 0 4 5 4-5 4 0 4 3 4-6 4 3 4-4 4 4 4-8 4 10 4 6 4-1 4 2 4-5 4 10 4-1 4 10 4-2 4 12 4 3 4 13 4 11 4 5 4 3 4 1 4 5 4-4 4-5 4-8 4-9 4-16 4-16 4-18 4-12 4-10 4-21 4-5 4-9 4-11 4-10 4 3 4-7 4-5 4 4 4-8 4 1 4-3 4-2 4 1 4-4 4-1 4 3 4-12 4-5 4 6 4 0 4-7 4 5 4-8 4 11 4-6 4 0 4 6 4-5 4 6 4-4 4-4 4 6 4-5 4 5 4-7 4-1 4 1 4 4 4 5 4-3 4 4 4-13 4 2 4 8 4-4 4 4 4 7 4-10 4 1 4-3 4 8 4-8 4 9 4-9 4-4 4 10 4-8 4 3 4-2 4 4 4-7 4 5 4-1 4 8 4-7 4-4 4 2 4-2 4-11 4 6 4-2 4-2 4 5 4 3 4 3 4-1 4 0 4-10 4-6 4-3 4 6 4 14 4 2 4-17 4 3 4 2 4-1 4-13 1 29"/>
<path stroke="#77AC30" d="M1031 427l4-5 4-5 4 4 4-4 4-1 4 2 4-8 4-2 4-5 4 0 4-6 4-5 4 4 4-3 4-5 4-6 4-6 4-7 4-5 4-8 4-10 4-8 4-9 4-10 4-12 4-5 4-15 4-7 4-8 4-6 4-2 4-7 4-6 4-14 4 2 4-14 4-3 4-10 4 1 4-4 4 0 4 7 4-3 4 0 4-4 4 2 4 2 4-7 4-1 4-1 4 0 4-8 4 2 4-7 4 3 4-1 4-4 4-3 4 2 4 3 4 4 4 3 4 1 4 0 4 3 4 2 4-1 4 10 4-1 4 6 4 7 4-2 4 9 4-3 4 12 4-3 4 6 4-3 4 1 4-6 4-4 4-16 4-8 4-17 4-19 4-5 4-23 4-6 4-15 4-9 4-4 4-11 4-9 4-4 4-3 4 3 4-9 4-6 4 6 4-3 4 3 4-4 4-5 4 0 4 1 4-2 4-2 4 5 4-4 4-9 4 18 4-8 4 1 4-5 4 6 4-10 4 4 4-1 4-7 4 0 4 10 4-6 4-3 4 1 4 0 4 2 4-2 4-6 4 3 4 3 4 1 4-1 4 1 4-7 4 6 4-8 4 6 4 3 4-3 4-3 4 2 4 4 4-3 4 5 4-1 4 6 4-9 4-2 4 14 4-6 4-6 4 1 4-8 4 10 4 9 4-14 4 2 4-3 4 0 4 4 4 2 4 3 4-19 4 13 4-13 4 7 4 8 4-11 4-1 4 7 4 16 4-26 4 12 4-2 4 13 4 8 4-14 1-16"/>
<path stroke="#4DBEEE" d="M1031 457l4 0 4 0 4 0 4-12 4 9 4-1 4-7 4 6 4-1 4-5 4-6 4-6 4 3 4-8 4-9 4 2 4-8 4-12 4-2 4-22 4-1 4-6 4-8 4-9 4-9 4-8 4-3 4-6 4-10 4-9 4 3 4-5 4 6 4-11 4 5 4-12 4 2 4-4 4 3 4-8 4 7 4-2 4 6 4-1 4-2 4-2 4 10 4-10 4 4 4 2 4-5 4 7 4 4 4-15 4 1 4 3 4-6 4 3 4-5 4 8 4 3 4-4 4 5 4 1 4 1 4 8 4 7 4 3 4 2 4 7 4 6 4 4 4 9 4 15 4 1 4 14 4 8 4 7 4-1 4-1 4-2 4-17 4-12 4-22 4-26 4-27 4-34 4-19 4-17 4-19 4-7 4-14 4-9 4 1 4-10 4-7 4-4 4-3 4 7 4-4 4-7 4 9 4-9 4 9 4-10 4 2 4-4 4 9 4-6 4-5 4 13 4-5 4 1 4-8 4 7 4-11 4 2 4 5 4 0 4-3 4-1 4 4 4-5 4-4 4 5 4-11 4 13 4-6 4 3 4-4 4-3 4 5 4 2 4-10 4 10 4-8 4-2 4 9 4 2 4-7 4 9 4 1 4-7 4-7 4 1 4-5 4 17 4-3 4-6 4-4 4 5 4 4 4-5 4-1 4 2 4-4 4 1 4 5 4 0 4-12 4 17 4-11 4-3 4 5 4 2 4 4 4-9 4-14 4 17 4-3 4 13 4-22 4-6 4 20 4-8 4 19 4-15 1 7"/>
<path stroke="#A2142F" d="M1031 469l4 6 4-5 4-3 4-6 4-3 4 5 4-8 4-3 4 2 4-6 4-4 4-10 4-6 4-4 4-9 4-5 4-7 4-10 4-3 4-8 4-9 4-16 4-4 4-4 4-5 4-10 4-10 4-8 4-1 4-1 4-6 4 3 4-1 4 0 4-6 4 4 4-7 4-8 4 11 4-2 4-7 4 11 4-7 4 2 4 1 4 2 4 4 4 3 4 9 4-8 4 0 4 5 4 6 4-7 4 4 4 1 4 5 4-4 4 2 4 2 4 3 4 8 4 1 4 5 4 7 4 5 4-7 4 5 4 10 4 0 4 2 4 0 4 14 4 0 4-2 4 9 4 16 4-6 4-4 4 4 4-2 4-7 4-21 4-11 4-11 4-25 4-26 4-20 4-25 4-15 4-14 4-4 4-7 4-11 4-7 4-2 4 4 4 4 4-9 4-1 4-1 4 0 4 10 4-17 4 9 4 7 4-3 4 0 4-3 4 0 4 3 4-3 4 2 4 8 4 0 4-10 4 3 4 0 4 5 4 2 4-6 4 9 4-3 4 0 4 0 4 0 4-1 4-7 4-7 4 13 4 0 4-7 4 7 4-5 4 9 4-7 4-3 4-6 4 10 4 10 4-14 4-5 4 7 4-4 4 0 4-2 4 2 4 16 4-3 4-11 4 15 4-14 4 14 4-20 4 12 4-8 4 11 4-9 4-9 4 13 4-8 4 5 4 27 4-21 4-14 4 18 4-11 4 0 4 14 4 4 4-23 4 5 4 5 4-5 4 3 4-6 4-8 1 19"/>
<path stroke="#0072BD" d="M1031 480l4-3 4-4 4-3 4 0 4-7 4 1 4-1 4-3 4 4 4-5 4 0 4-13 4-1 4-9 4-4 4-4 4 1 4-15 4 0 4-13 4-1 4-5 4-6 4-6 4-8 4-12 4-8 4-7 4-3 4-3 4-2 4 0 4-4 4-6 4 1 4-2 4 3 4-3 4-4 4 4 4 3 4-4 4 4 4-4 4-2 4 7 4 1 4 6 4 1 4 0 4 10 4-10 4 5 4 1 4 3 4-1 4-4 4 12 4-9 4 10 4 3 4 4 4-4 4 6 4 6 4 4 4 0 4 11 4 11 4-7 4 11 4 13 4-2 4 9 4 10 4 13 4-6 4 16 4-9 4 1 4-3 4-2 4-13 4-10 4-29 4-28 4-37 4-28 4-21 4-21 4-20 4-14 4-8 4-7 4-3 4-3 4-6 4 0 4-1 4-3 4 2 4 1 4-5 4 8 4-5 4 8 4-7 4 7 4-3 4 4 4-11 4 12 4-2 4-5 4 3 4 9 4-14 4 2 4-3 4 4 4-4 4 8 4-10 4-8 4 3 4 10 4-2 4 0 4 0 4 2 4 3 4 0 4 5 4 3 4 2 4-7 4 1 4 0 4-5 4 9 4-9 4 6 4-4 4-5 4-1 4 2 4 1 4-1 4-1 4-1 4 2 4-3 4 4 4 8 4-3 4 5 4-5 4 2 4 1 4-11 4 20 4-15 4 7 4-3 4 1 4 13 4-4 4-7 4 3 4-9 4 1 4-4 4 16 4-27 4 2 4 0 4 4 1 12"/>
<path stroke="#D95319" d="M1031 496l4-4 4 5 4-2 4 0 4-10 4 3 4 1 4-4 4-1 4-1 4-2 4-8 4-4 4 1 4-5 4-6 4-9 4 0 4-11 4-1 4 1 4-10 4-3 4-10 4-5 4-3 4-9 4-5 4-11 4-4 4 7 4-16 4 3 4 4 4-6 4-5 4 10 4-1 4 4 4 5 4 12 4-2 4 10 4 4 4 7 4 1 4 9 4 3 4 3 4 0 4 3 4 0 4-1 4 8 4 1 4 7 4-10 4 2 4 6 4 4 4 3 4-2 4-1 4 13 4-2 4 3 4-1 4 10 4 2 4 6 4 1 4-1 4-1 4 11 4-1 4 8 4-2 4 0 4 8 4-3 4-2 4-2 4-10 4-10 4-13 4-22 4-35 4-44 4-41 4-23 4-27 4-17 4-24 4-14 4-8 4-8 4-12 4-2 4-2 4-1 4 0 4 1 4-10 4 2 4 8 4-10 4 7 4 1 4 5 4-5 4-8 4 7 4-4 4 1 4 6 4 5 4-8 4 4 4 3 4-12 4 11 4 5 4-8 4 1 4 6 4-1 4 4 4-4 4-8 4 7 4 2 4-5 4 0 4-3 4 4 4 2 4-2 4 3 4-3 4 2 4 0 4 8 4-9 4-6 4 10 4-7 4 0 4-4 4 11 4-1 4 3 4 9 4-8 4 0 4-2 4-3 4-7 4 9 4 10 4-11 4 1 4 1 4-3 4 7 4-1 4-1 4 5 4-8 4 5 4 7 4-14 4-9 4 20 4 4 4-6 4-3 4 13 1-5"/>
<path stroke="#EDB120" d="M1031 418l4-4 4-6 4-9 4 3 4 5 4-9 4-9 4 4 4-6 4 4 4-3 4-10 4-2 4 3 4-6 4-5 4-3 4-6 4-11 4-6 4-9 4-12 4 0 4-22 4 2 4-19 4-7 4-10 4 0 4-4 4-13 4-8 4-6 4-12 4-7 4-4 4-10 4-9 4-13 4 8 4-4 4 0 4 1 4-7 4-5 4 9 4-3 4-3 4-5 4-1 4 4 4 0 4-3 4-4 4-6 4-1 4-4 4-3 4 4 4-3 4 8 4-4 4 2 4-3 4 5 4-1 4-2 4 3 4 3 4 8 4-8 4 0 4 9 4 5 4-3 4 5 4 1 4 3 4-2 4-2 4 2 4-7 4-12 4-3 4-8 4-9 4-8 4 4 4-22 4-5 4-2 4-11 4 4 4-3 4-7 4 3 4-5 4-1 4-2 4 7 4-3 4-3 4 1 4-2 4-3 4-1 4 5 4-5 4 2 4 1 4-9 4 2 4-1 4 6 4 8 4 0 4 0 4-7 4 9 4-12 4-6 4 2 4-2 4 3 4 5 4-1 4 1 4 4 4-13 4 0 4 18 4-9 4-9 4 7 4-5 4 3 4-10 4 4 4-4 4 13 4-10 4 7 4 1 4-7 4 6 4-1 4 4 4-5 4 14 4-14 4-6 4-2 4 6 4-4 4-1 4 0 4 2 4 6 4-13 4 19 4-11 4-7 4 7 4 16 4-27 4 16 4-2 4 13 4-3 4-15 4 1 4 8 4-17 4 6 4 15 4-4 4-4 1 21"/>
<path stroke="#7E2F8E" d="M1031 556l4 1 4-2 4-4 4 5 4-3 4-2 4 0 4 0 4 0 4-1 4-3 4-2 4-3 4-4 4 1 4-2 4-8 4-3 4-8 4-3 4-5 4-15 4-3 4-6 4-6 4-7 4-9 4 2 4-11 4 2 4-4 4-2 4 0 4-2 4 2 4-5 4 4 4 6 4-2 4 3 4 5 4 5 4 2 4 4 4 5 4 3 4 7 4 1 4 2 4 2 4 1 4 0 4 6 4 1 4 5 4 3 4 2 4-2 4 4 4 8 4-6 4 6 4 8 4-6 4 8 4-10 4 7 4 5 4-1 4 3 4 3 4-3 4 6 4 1 4 2 4 1 4 3 4-2 4 7 4-4 4 0 4 0 4-4 4 0 4-4 4-15 4-10 4-18 4-25 4-36 4-42 4-29 4-26 4-12 4-19 4-19 4-15 4-13 4-13 4-5 4-5 4-11 4 0 4-17 4 6 4 2 4-8 4-2 4-8 4 9 4 1 4-9 4-1 4 4 4-2 4 6 4-5 4 2 4-1 4 2 4-7 4 1 4 4 4-2 4 7 4-9 4 8 4-11 4-2 4 7 4 3 4 3 4 1 4-7 4-1 4 8 4-5 4-6 4 10 4-14 4 7 4-8 4 12 4-3 4-6 4 10 4 6 4-9 4 0 4 3 4 6 4-5 4 7 4-5 4 2 4-7 4 12 4-7 4 5 4-1 4 10 4-1 4-5 4 5 4-5 4-7 4 7 4 3 4 2 4 10 4-22 4 15 4 11 4-25 4 9 4-7 4-4 1 9"/>
<path stroke="#77AC30" d="M1031 553l4 1 4-1 4 2 4-3 4-1 4 0 4 4 4-4 4-1 4 4 4-6 4-4 4 2 4-2 4-3 4-3 4 2 4-5 4-8 4-10 4-9 4-3 4-5 4-13 4-5 4-6 4 0 4-8 4-7 4-3 4-8 4 6 4-3 4-6 4 1 4 9 4-3 4 2 4 2 4 2 4 4 4 0 4 12 4 0 4 4 4 5 4-2 4 9 4 1 4 3 4 5 4 0 4 0 4 3 4 4 4 5 4 2 4-2 4 2 4 5 4-3 4 14 4-5 4 4 4 6 4-8 4 8 4 1 4-5 4 10 4-1 4 2 4 0 4 0 4 2 4 2 4 4 4 3 4 2 4-4 4 2 4-5 4 0 4-4 4-6 4-14 4-14 4-15 4-33 4-28 4-45 4-26 4-27 4-14 4-15 4-16 4-15 4-14 4-12 4-6 4-7 4-16 4 10 4-11 4-4 4-6 4 6 4-9 4 5 4-3 4-1 4 1 4-1 4 1 4 9 4-12 4 3 4-1 4 4 4-11 4 3 4 3 4 3 4-6 4 1 4 10 4-10 4-3 4 9 4-7 4 2 4-2 4 4 4 2 4 2 4 1 4-6 4 1 4-5 4 10 4-9 4 7 4-8 4 5 4-3 4 0 4-2 4 3 4-9 4 15 4 0 4 4 4-18 4 12 4-6 4-2 4 16 4-4 4 5 4-5 4 1 4-3 4 10 4-6 4 11 4-12 4 3 4-1 4-3 4 7 4 10 4-10 4 4 4-6 4-16 4 17 4 3 1 5"/>
<path stroke="#4DBEEE" d="M1031 558l4-2 4-1 4-1 4 3 4-6 4 0 4 1 4-4 4 6 4-3 4-4 4-2 4-4 4 3 4-4 4-4 4-1 4-6 4-9 4-4 4-9 4-8 4-7 4-6 4-9 4-6 4-5 4-3 4-5 4-6 4-9 4 7 4 0 4-2 4 0 4 2 4 2 4 4 4 1 4 8 4 2 4-1 4 10 4-1 4 4 4 0 4 9 4-5 4 7 4 7 4 4 4 2 4 3 4-4 4 5 4 0 4 9 4-2 4 8 4-1 4-1 4 5 4 3 4-3 4 1 4 8 4-1 4 3 4 0 4 0 4 3 4-2 4 4 4 1 4 3 4 0 4-3 4 5 4 2 4-1 4 3 4-4 4-8 4 1 4-6 4-16 4-12 4-23 4-31 4-33 4-44 4-22 4-20 4-12 4-16 4-21 4-11 4-17 4-5 4-20 4-1 4-6 4-2 4-4 4-2 4-5 4 0 4-5 4 9 4-12 4 4 4-5 4-7 4 6 4 2 4-6 4-2 4 8 4-4 4 3 4-1 4-6 4 4 4-3 4 3 4 1 4-5 4 6 4 2 4 6 4-12 4 2 4 5 4-4 4-3 4 11 4-9 4 9 4-2 4 1 4-3 4-2 4 12 4-13 4 9 4-1 4 8 4-6 4-10 4 11 4-1 4 2 4-3 4 7 4-1 4-4 4-6 4 18 4-18 4 19 4-16 4 2 4 8 4-9 4 5 4 5 4-9 4 0 4 11 4-6 4-14 4 13 4-19 4 26 4 1 4-21 4 7 1 30"/>
<path stroke="#A2142F" d="M1031 407l4-5 4-2 4-3 4 3 4-2 4 3 4-10 4 5 4-3 4 0 4 1 4-4 4 1 4-9 4-3 4 1 4-3 4-16 4-4 4-6 4-8 4-11 4-13 4-13 4 1 4-16 4-5 4-13 4-13 4-7 4-13 4 0 4-12 4-12 4-6 4-7 4-16 4-5 4-1 4 1 4-4 4-2 4-7 4 7 4 2 4-7 4 2 4-3 4 3 4-5 4 2 4-6 4-1 4-1 4-1 4 0 4-8 4 2 4-7 4 3 4-5 4 11 4 1 4-8 4 2 4-6 4 6 4 0 4 6 4-4 4 6 4 5 4-6 4 11 4 6 4-2 4 2 4 1 4 6 4 5 4-1 4-8 4 2 4 5 4-18 4-2 4-7 4 3 4-1 4-6 4-1 4-5 4 0 4-5 4 4 4 3 4 0 4 4 4-4 4-1 4 1 4 0 4-4 4-5 4 4 4 3 4-9 4 15 4-15 4 12 4-4 4 10 4-5 4 0 4-6 4 8 4-8 4 3 4 1 4 6 4-9 4 1 4 8 4-6 4-1 4 6 4-3 4-6 4 2 4 0 4-7 4 6 4 11 4-4 4-1 4-4 4 3 4-3 4-7 4 3 4 6 4-8 4 13 4-8 4-7 4 8 4 0 4 1 4-16 4 5 4 12 4 2 4-14 4 11 4-10 4 6 4 4 4 2 4-2 4-14 4 2 4-3 4-5 4 1 4 20 4-14 4 0 4-14 4 11 4 10 4-11 4 15 4-21 4 13 4-26 4 2 4 26 1-16"/>
<path stroke="#0072BD" d="M1031 478l4 4 4-6 4 1 4-6 4-3 4 1 4-5 4 1 4-1 4-2 4-6 4-7 4 2 4-2 4 1 4-15 4 3 4-11 4 4 4-8 4-5 4-8 4-2 4-10 4-2 4-8 4-3 4-4 4-7 4 2 4-8 4-7 4 6 4-6 4-1 4 1 4 1 4 3 4 1 4 6 4 6 4 16 4-7 4 11 4 5 4 11 4 4 4 5 4 4 4 1 4 3 4 3 4-7 4 8 4 1 4 2 4-6 4 9 4 2 4-1 4-3 4 5 4-1 4 11 4 0 4-2 4 14 4-5 4 3 4-9 4 8 4 4 4 5 4 2 4 2 4 3 4 0 4 0 4 0 4 10 4-9 4-4 4-5 4-9 4-17 4-23 4-38 4-43 4-24 4-25 4-20 4-14 4-14 4-19 4-8 4-1 4-4 4-10 4-3 4 1 4-4 4-3 4 5 4-12 4 7 4 4 4-2 4 3 4-4 4 0 4 2 4 3 4-1 4 1 4 3 4-1 4-4 4 1 4 5 4-2 4 3 4 4 4-2 4 0 4 2 4-4 4 1 4 10 4-6 4-12 4 5 4 0 4-2 4 1 4 7 4-4 4-8 4 15 4-9 4 0 4-10 4 18 4-5 4 17 4-6 4-19 4 11 4 8 4-13 4 14 4-8 4 0 4 3 4-3 4 4 4-10 4-1 4 7 4 1 4-3 4 10 4-3 4-19 4 21 4-8 4 2 4-4 4-5 4 7 4-11 4 12 4 2 4-10 4 17 4 9 4-1 4-11 1 3"/>
<path stroke="#D95319" d="M1031 556l4-1 4 0 4-2 4 1 4 1 4-3 4 3 4 1 4-5 4 0 4 1 4-6 4 7 4-4 4-8 4 2 4-3 4-10 4-4 4-12 4-5 4-9 4-12 4-5 4-8 4 3 4-6 4-8 4-8 4-4 4-5 4 0 4 2 4-4 4-1 4 3 4 0 4 1 4 2 4 8 4-1 4 6 4 4 4 9 4 2 4 3 4-1 4 5 4 1 4 1 4 8 4-1 4 5 4 2 4 6 4-3 4 1 4 10 4-4 4 3 4 9 4-3 4 2 4 1 4 7 4-1 4 5 4 0 4-2 4 7 4 2 4 1 4-1 4 4 4 6 4 0 4-2 4 2 4 3 4 3 4-1 4-6 4 1 4-4 4-11 4-11 4-9 4-24 4-31 4-35 4-37 4-28 4-25 4-14 4-28 4-10 4-21 4-8 4-12 4-5 4-10 4-10 4-3 4 0 4-13 4 3 4-3 4 0 4 2 4-3 4 3 4-6 4-5 4 8 4 0 4 0 4-3 4 3 4-5 4 9 4-4 4 0 4 3 4-8 4 16 4-7 4 7 4-5 4 0 4 7 4-12 4-2 4 10 4 3 4-12 4 10 4-3 4-2 4 6 4-4 4 0 4 1 4-7 4 8 4 0 4 3 4-7 4-2 4-1 4 6 4-4 4 3 4-2 4-1 4-8 4 18 4-11 4-6 4 4 4 11 4-14 4 17 4-9 4-12 4 26 4-8 4-4 4-2 4 2 4 5 4-13 4 20 4-5 4-13 4 7 4 1 4 12 1-18"/>
<path stroke="#EDB120" d="M1031 460l4 6 4-10 4 1 4-2 4-1 4-5 4 1 4-7 4 6 4-4 4-7 4-4 4-3 4-16 4 3 4-3 4-3 4-10 4-6 4-6 4-10 4-4 4-6 4-4 4-7 4-18 4-2 4-11 4-2 4-11 4 2 4-5 4-2 4-5 4-9 4-1 4-6 4 1 4-12 4 7 4-1 4-4 4 5 4 5 4-9 4 9 4-1 4 0 4 7 4-8 4 3 4-1 4-1 4 2 4 5 4-7 4 4 4-2 4 9 4-2 4-1 4-3 4 7 4 4 4-3 4 3 4 8 4 3 4 7 4 6 4 11 4 6 4-1 4 15 4 7 4 2 4 16 4-5 4 3 4-1 4-7 4-3 4-14 4-11 4-22 4-23 4-19 4-21 4-12 4-16 4-11 4-2 4-5 4-12 4 2 4 0 4 2 4 1 4-8 4 1 4-5 4 1 4 3 4 2 4 3 4 0 4-9 4 16 4-12 4 2 4-7 4 0 4 5 4-6 4 3 4 0 4-4 4-4 4 13 4-7 4-3 4 6 4-3 4 5 4-2 4 5 4-7 4 1 4-1 4 5 4-4 4 6 4-1 4-2 4 1 4-4 4 1 4 5 4-3 4 5 4-2 4-3 4 0 4-4 4-1 4 11 4-2 4-5 4-2 4 12 4-6 4-2 4-10 4 3 4 8 4-18 4 24 4-17 4 8 4 9 4-3 4-1 4 13 4-23 4 14 4-16 4 19 4-5 4 5 4 1 4-4 4 8 4 3 4-15 4 13 4-7 4 17 1-19"/>
<path stroke="#7E2F8E" d="M1031 514l4-1 4 4 4-4 4-3 4 1 4-9 4 0 4-1 4-4 4-1 4-3 4-6 4-8 4-2 4-4 4-4 4-9 4-6 4-5 4-2 4-7 4-12 4-7 4 1 4-7 4-5 4-2 4-7 4-8 4 0 4-9 4 0 4 5 4-4 4-2 4 1 4-3 4 1 4 4 4 7 4 3 4 8 4 6 4 7 4 7 4 4 4 6 4 1 4 0 4-3 4 6 4 9 4 3 4-3 4-1 4-4 4 12 4 1 4 5 4-2 4-2 4 12 4-8 4 9 4-2 4 13 4-2 4 8 4 1 4 5 4-5 4 1 4 5 4 4 4-2 4 3 4 3 4-4 4-2 4 8 4-3 4-2 4-1 4-18 4-17 4-23 4-40 4-43 4-37 4-30 4-29 4-20 4-17 4-12 4-14 4-4 4-12 4 9 4-7 4-3 4-1 4-3 4 9 4-9 4 1 4 2 4-2 4-1 4 6 4-2 4-10 4 7 4-3 4-4 4 13 4-5 4 6 4-3 4-7 4 5 4 0 4 0 4 4 4-5 4-4 4 7 4 15 4-14 4-2 4-1 4 5 4 7 4-4 4 2 4-5 4-4 4 10 4-6 4 2 4-2 4-4 4 3 4 5 4 3 4-2 4-8 4 11 4-9 4 6 4-3 4-2 4 1 4 2 4 6 4-3 4-5 4-12 4 19 4 8 4 0 4 9 4-18 4-7 4 9 4-4 4-6 4 8 4-4 4-9 4 15 4-9 4 12 4 7 4-8 4-8 4 14 4 2 1 1"/>
<path stroke="#77AC30" d="M1031 556l4-5 4 2 4 0 4-4 4 1 4-3 4-1 4 4 4-5 4 3 4-2 4-1 4-4 4-7 4 3 4-3 4 1 4-10 4-10 4 0 4-14 4-8 4-5 4-7 4-9 4-4 4-10 4 0 4-3 4-6 4 1 4-9 4 5 4 1 4 0 4-5 4 11 4-6 4 6 4 5 4 7 4 1 4 10 4 3 4-1 4 4 4 3 4 3 4 1 4 4 4 5 4-2 4-1 4 2 4 8 4-5 4 3 4 5 4 4 4 2 4-1 4 0 4 2 4 11 4-4 4 2 4 5 4-2 4 1 4 2 4 4 4 0 4 0 4 8 4 3 4-4 4 2 4 3 4 5 4-2 4-1 4 2 4-3 4-4 4-4 4-18 4-12 4-22 4-25 4-39 4-43 4-19 4-26 4-18 4-13 4-19 4-15 4-13 4-8 4-13 4-8 4-1 4-12 4 2 4-12 4 0 4 2 4-2 4-3 4-1 4-5 4 6 4 1 4 0 4-1 4-5 4-6 4 0 4 2 4 7 4-7 4-2 4 9 4-6 4 3 4 0 4-6 4 9 4-3 4 1 4-6 4 4 4-7 4 12 4-9 4 8 4-1 4 4 4 1 4 2 4 2 4-4 4-11 4 6 4 4 4-2 4 2 4-5 4 7 4-4 4 15 4-18 4 6 4-7 4 15 4-8 4 3 4-11 4 5 4-1 4 4 4 4 4-9 4 18 4 1 4-9 4 0 4 7 4 2 4-11 4 17 4-15 4 6 4 1 4 6 4-15 4 24 1-8"/>
<path stroke="#4DBEEE" d="M1031 458l4-2 4 5 4-15 4 4 4 1 4-6 4-3 4 7 4-10 4 5 4 2 4-7 4-11 4-2 4-4 4-7 4-3 4-2 4-9 4-13 4 3 4-10 4-13 4-12 4-10 4-1 4-14 4-8 4-7 4 0 4-5 4-6 4-1 4-6 4-3 4-2 4-3 4-4 4 2 4 4 4-4 4-2 4 1 4 10 4-5 4 3 4 1 4 4 4-3 4 9 4-7 4 6 4 1 4 3 4-3 4-2 4 4 4 0 4-8 4 9 4-8 4 10 4 0 4 4 4 0 4 5 4 0 4 7 4 1 4 10 4-1 4 12 4 7 4 2 4 12 4 10 4 1 4 2 4 3 4 4 4-5 4-4 4-17 4-8 4-27 4-26 4-23 4-15 4-18 4-3 4-20 4-8 4-9 4 0 4-5 4 5 4-3 4-5 4-1 4 4 4-7 4 4 4 3 4-4 4-1 4-2 4 2 4 0 4-5 4 2 4-1 4 9 4-6 4 1 4 1 4-5 4 5 4 10 4-6 4-5 4 6 4-7 4 0 4 12 4-4 4 2 4-5 4-7 4 6 4-2 4 4 4 5 4-8 4-8 4 18 4-7 4-8 4 5 4 0 4 0 4-7 4 3 4 7 4 5 4-7 4-3 4 2 4-4 4 0 4-4 4 1 4 9 4-1 4-6 4 0 4 2 4 2 4 2 4 8 4-2 4-7 4-4 4 14 4-8 4 9 4-6 4 3 4-14 4-6 4 9 4 20 4-10 4 8 4-10 4-4 4 6 4 5 1 1"/>
<path stroke="#A2142F" d="M1031 442l4-5 4 0 4-4 4 6 4-10 4-9 4 3 4 6 4-8 4-1 4-3 4 4 4-17 4 4 4-16 4 3 4-8 4-10 4-4 4-10 4-1 4-12 4-8 4-8 4-6 4-10 4-8 4-9 4-5 4-8 4-5 4-8 4 2 4-6 4-1 4-6 4 0 4-12 4 11 4-14 4 7 4-3 4 0 4-8 4 7 4 6 4-7 4 9 4-8 4-6 4-5 4 1 4 0 4-11 4 6 4 3 4-6 4 3 4 2 4 0 4-4 4 5 4 12 4-5 4 5 4 7 4 6 4 1 4 12 4-1 4 12 4 7 4 5 4 8 4 0 4 10 4 8 4-1 4-3 4-2 4-7 4-3 4-11 4-8 4-21 4-13 4-7 4-15 4-13 4-14 4-7 4 7 4-22 4 1 4-2 4-2 4-9 4 3 4-2 4-11 4 3 4 2 4-4 4 7 4 1 4 1 4-1 4-5 4-3 4 1 4 1 4-4 4-5 4 7 4-3 4 3 4-2 4-9 4 6 4 3 4-1 4 0 4-2 4 0 4 4 4-10 4-1 4 2 4 5 4-4 4-2 4-2 4-4 4 4 4-1 4-6 4 8 4-5 4 1 4-12 4 4 4 9 4-12 4 8 4-8 4 3 4 4 4-8 4 7 4-8 4 11 4-1 4 9 4-11 4-2 4 11 4-10 4-6 4-3 4 1 4 11 4 1 4 2 4-2 4-9 4-6 4-1 4-3 4 3 4 2 4 9 4 1 4-5 4 1 4 4 4-7 4-5 1 3"/>
<path stroke="#0072BD" d="M1031 430l4 1 4-2 4-8 4-4 4 2 4-3 4-3 4 0 4 1 4 1 4 2 4-12 4 3 4-8 4 3 4-10 4-4 4-6 4-13 4-8 4-11 4-6 4-12 4-8 4-9 4-13 4-7 4-2 4-11 4-5 4-2 4-6 4 0 4-3 4-1 4-10 4-5 4-4 4 0 4-10 4-1 4 0 4 6 4-8 4 4 4 1 4-3 4 5 4-9 4-8 4 16 4-9 4-6 4 9 4-3 4-2 4-1 4-4 4 10 4-4 4 9 4 0 4-3 4 7 4-8 4 4 4 15 4-7 4 6 4 7 4-3 4 9 4 14 4-3 4 9 4 2 4 8 4 1 4 4 4-3 4-5 4-5 4-4 4-18 4 1 4-22 4-3 4-7 4 4 4-10 4-10 4 3 4-5 4 0 4-8 4-2 4-3 4 7 4-6 4-3 4 11 4-4 4-1 4 0 4-4 4 4 4-4 4 4 4-4 4 8 4 1 4-4 4 1 4-3 4 14 4-18 4 7 4 7 4 0 4-3 4 0 4-7 4 12 4-5 4 1 4-11 4 8 4 0 4 11 4-1 4-6 4-3 4 0 4 1 4-4 4 4 4-3 4 4 4-4 4 7 4-5 4-7 4 14 4-5 4-12 4 15 4-1 4-3 4 8 4-9 4 4 4 10 4-18 4 8 4-3 4 18 4-7 4-11 4 0 4 0 4-2 4-5 4 17 4-7 4 2 4 3 4-12 4 14 4-1 4 10 4-30 4 27 4-11 4-1 4 16 4-5 4-14 1 18"/>
<path stroke="#D95319" d="M1031 438l4-7 4 5 4-4 4-4 4 2 4-9 4 3 4-6 4-4 4 1 4 0 4-15 4 3 4-11 4-5 4-1 4-12 4-3 4-9 4-9 4-11 4-5 4-6 4-5 4-10 4-3 4-13 4-10 4-6 4 0 4-5 4-9 4-12 4 1 4-6 4-12 4 3 4-15 4 6 4-2 4-4 4 5 4-6 4-7 4 1 4 6 4-5 4 3 4-1 4 1 4 0 4-5 4 2 4 8 4-9 4 6 4-1 4 1 4-5 4 4 4 3 4-4 4 5 4 11 4-9 4 5 4 4 4 1 4 1 4 4 4 0 4 8 4 10 4 7 4 6 4-3 4 6 4 4 4 0 4 4 4-7 4 3 4-17 4-4 4-14 4-7 4-8 4-10 4-4 4-6 4-3 4-8 4-2 4-3 4 6 4-13 4-2 4 2 4-3 4-3 4-4 4 4 4 3 4-6 4-2 4 8 4-2 4-7 4 2 4-8 4 7 4-9 4 4 4-9 4 3 4 0 4 7 4-4 4 1 4 0 4-10 4 4 4 3 4-2 4 2 4-7 4 1 4-1 4 8 4-3 4-1 4 2 4-9 4 13 4-5 4-10 4 7 4-1 4 8 4-11 4 3 4-1 4-7 4-13 4 10 4-1 4 1 4 3 4-1 4-3 4-9 4 6 4-3 4 7 4-5 4 1 4 5 4-1 4-7 4-1 4-4 4 2 4-12 4 9 4-1 4-1 4 14 4-13 4-3 4 4 4 4 4-8 4-1 4-1 4-9 4 3 4 19 1-10"/>
<path stroke="#EDB120" d="M1031 465l4 4 4 5 4-7 4 6 4-8 4 0 4-6 4-5 4 5 4-1 4 0 4-11 4 0 4 2 4-10 4 0 4 2 4-11 4-4 4-12 4-4 4 6 4-5 4-8 4-2 4-7 4-6 4-4 4-5 4-4 4-13 4-3 4 4 4-2 4 4 4-4 4 3 4-3 4 1 4 8 4 0 4 17 4-3 4 13 4-1 4 10 4 0 4 5 4 1 4 0 4 7 4-2 4 10 4-1 4 3 4 3 4-2 4 0 4-4 4 11 4 2 4 4 4 2 4 2 4-2 4 2 4 9 4 2 4 2 4 0 4 7 4 4 4 3 4 4 4-3 4 9 4 0 4 1 4 4 4-3 4-4 4 4 4-7 4-15 4-4 4-23 4-26 4-44 4-32 4-34 4-26 4-21 4-14 4-11 4-13 4-13 4-3 4 6 4-8 4-7 4-2 4 0 4 2 4 2 4-6 4 14 4-5 4 2 4-11 4 9 4-4 4-2 4 7 4-7 4 8 4-6 4 0 4 13 4-4 4-11 4 8 4-9 4 3 4 4 4 0 4 5 4-12 4 1 4-1 4-1 4 12 4 5 4-2 4-7 4 9 4-4 4 6 4-4 4 1 4-9 4 4 4 3 4 4 4 8 4-11 4-3 4 1 4 1 4-12 4 15 4-9 4 4 4-9 4 14 4 3 4-5 4-14 4 16 4-8 4 2 4 15 4-12 4-8 4-2 4 14 4-2 4 17 4-14 4-4 4 15 4-19 4 15 4-12 4-3 4-3 4-3 4 14 1 11"/>
<path stroke="#7E2F8E" d="M1031 442l4-1 4 5 4-14 4 7 4-6 4 7 4-16 4 5 4-7 4 4 4-2 4 1 4-12 4 5 4-12 4 2 4-11 4-6 4-12 4-2 4-10 4-4 4-15 4-7 4-6 4-11 4-7 4-12 4-5 4-3 4-4 4-7 4 1 4-3 4-5 4-12 4-4 4 0 4-6 4 8 4-1 4 0 4 3 4 0 4 1 4 9 4-3 4-3 4 0 4 3 4-3 4 4 4 1 4-6 4-3 4-1 4-7 4 4 4 1 4-2 4 5 4 3 4-8 4 16 4-7 4 9 4 0 4 1 4 8 4 3 4 9 4 5 4 10 4 5 4 11 4 12 4 3 4 4 4 2 4 8 4-10 4-2 4-8 4-15 4-15 4-13 4-19 4-3 4-25 4-3 4-3 4-16 4-7 4-13 4 5 4 7 4-9 4-5 4 3 4 3 4-2 4-1 4 0 4 0 4-8 4 9 4-5 4 1 4-3 4 5 4 2 4-6 4 0 4-4 4 0 4 2 4 8 4-5 4 1 4-1 4-7 4 0 4 15 4-8 4 6 4-6 4 13 4-10 4 4 4-8 4 10 4 13 4-23 4 16 4 2 4-6 4-6 4-3 4 4 4 5 4-4 4-5 4 11 4-1 4-9 4 4 4-10 4 11 4-7 4 11 4-7 4 19 4-14 4 4 4 1 4-2 4 0 4 6 4-10 4 11 4-11 4 11 4-8 4-9 4 11 4 18 4-21 4-2 4 14 4-8 4 3 4-7 4 8 4 1 4 10 4-18 4 16 1-15"/>
<path stroke="#77AC30" d="M1031 477l4-10 4-5 4 1 4 5 4-8 4 1 4-3 4-3 4 4 4-8 4 3 4-7 4-7 4-4 4 2 4-23 4-2 4-6 4-7 4-12 4-10 4-2 4-8 4-18 4 2 4-10 4-9 4-9 4 1 4-6 4-6 4-7 4 9 4-11 4-1 4 4 4-8 4 4 4-7 4 12 4-7 4 5 4-4 4 3 4 3 4 3 4 0 4 6 4-2 4-6 4 5 4 4 4-3 4-7 4 7 4-4 4-1 4 2 4-1 4 4 4-6 4 9 4 0 4 8 4 1 4 5 4 4 4 11 4 4 4 8 4 13 4 6 4 7 4 2 4 8 4 17 4 8 4 1 4-5 4 0 4-1 4-9 4-19 4-8 4-28 4-30 4-23 4-18 4-22 4-20 4-12 4-11 4-4 4-3 4-19 4 4 4 1 4-7 4-2 4 3 4-1 4-9 4 5 4-5 4 1 4 2 4-1 4 2 4 4 4-9 4 2 4-12 4 5 4-4 4 8 4 5 4-5 4-2 4-3 4-2 4 5 4-4 4-6 4 3 4 4 4-5 4 9 4-18 4 3 4 6 4-6 4 5 4 7 4-11 4-2 4 15 4-10 4 9 4-12 4-6 4-1 4 6 4 6 4 2 4-10 4 2 4-6 4 9 4-2 4 10 4-15 4 1 4 4 4-15 4 3 4 11 4-4 4-1 4-6 4 8 4-6 4-5 4 2 4 1 4 23 4-29 4-8 4 16 4 5 4-6 4 6 4-11 4 0 4 4 4 0 4 2 4 3 1-12"/>
<path stroke="#4DBEEE" d="M1031 548l4 2 4 1 4-2 4 1 4-3 4 3 4-2 4 3 4-1 4-1 4-1 4-6 4 3 4-3 4 1 4-8 4-7 4-2 4-10 4-7 4-8 4-7 4-10 4-4 4-6 4-4 4-6 4 0 4-8 4-3 4-2 4-1 4-8 4 2 4 1 4 0 4 2 4 5 4 7 4-3 4 3 4 2 4 7 4 3 4 3 4 5 4 1 4-2 4 5 4 6 4-1 4 2 4 10 4-1 4 5 4-2 4 2 4 6 4 2 4 3 4 0 4 3 4 0 4 5 4-1 4 6 4-1 4-3 4 5 4 5 4-1 4 6 4-3 4 6 4 6 4-4 4 4 4 0 4 5 4-2 4 3 4-6 4-2 4-5 4-7 4-12 4-16 4-26 4-24 4-42 4-36 4-31 4-14 4-19 4-20 4-14 4-16 4-14 4-7 4-12 4-1 4-10 4-8 4 5 4-3 4-11 4-5 4-2 4 12 4-5 4 2 4-4 4-8 4 4 4-2 4 0 4 12 4-11 4-4 4 3 4 0 4-4 4 12 4 2 4-12 4 2 4 0 4 6 4-9 4 1 4 2 4 1 4 10 4-7 4-9 4 11 4-1 4 5 4-2 4-1 4-1 4 8 4-4 4 4 4-10 4 15 4-14 4 13 4-14 4 10 4-6 4 6 4 0 4 6 4-12 4 8 4 5 4-1 4-1 4-1 4-11 4 17 4-16 4-3 4 23 4-11 4 0 4-5 4-5 4 26 4-15 4 1 4-15 4 11 4-5 4 3 4-5 1 3"/>
<path stroke="#A2142F" d="M1031 440l4 8 4-7 4-8 4 2 4 0 4 5 4-7 4-2 4-8 4 3 4-3 4-4 4-9 4 3 4-13 4-6 4-2 4-11 4-5 4-5 4-12 4-2 4-12 4-12 4-13 4 2 4-11 4-12 4-8 4-1 4-7 4 0 4-6 4-2 4-16 4 3 4-2 4-11 4 0 4 3 4-7 4 3 4 0 4 5 4 1 4 3 4-6 4 2 4 1 4 0 4 3 4 7 4-12 4-3 4 3 4 0 4 0 4 2 4-11 4 17 4-8 4 6 4 0 4 1 4 4 4 2 4 0 4 12 4 0 4 5 4 1 4 11 4 2 4 4 4 2 4 19 4-4 4 5 4 1 4-2 4 0 4-11 4-12 4-9 4-7 4-16 4-15 4-16 4-9 4-10 4-5 4-10 4-16 4 10 4-10 4 4 4-2 4-1 4-11 4 12 4-11 4-2 4 0 4-7 4 5 4-4 4 2 4 10 4-11 4-4 4 2 4-3 4 7 4-6 4 3 4 3 4-8 4-1 4-2 4 0 4 4 4-6 4 12 4-10 4 0 4 8 4-4 4-5 4 5 4 7 4-8 4-1 4 5 4-7 4-1 4 14 4-10 4 1 4-6 4 12 4-2 4-4 4 10 4-18 4 13 4 0 4-10 4 4 4 0 4 3 4-9 4 9 4 3 4-6 4-1 4-7 4 9 4 10 4-12 4-5 4 12 4-13 4-2 4 21 4-19 4 6 4-2 4 9 4-8 4-11 4 25 4-11 4 0 4-21 4 15 4-19 4 22 1-18"/>
<path stroke="#0072BD" d="M1031 433l4-10 4 3 4-3 4-4 4-5 4 0 4-7 4-7 4-2 4 0 4-2 4-1 4-3 4 0 4-14 4 1 4-7 4-11 4-2 4-2 4-1 4-19 4-1 4-10 4-14 4-3 4-11 4-12 4-7 4-6 4-10 4-4 4-8 4-4 4 1 4-10 4-12 4-2 4-7 4 11 4-2 4-1 4-2 4-1 4 5 4 3 4-1 4-10 4 4 4-4 4 10 4-13 4 1 4 4 4 1 4-4 4-3 4 3 4-6 4 10 4-7 4 2 4 8 4 0 4-2 4 2 4 5 4 3 4 8 4 5 4 8 4-7 4 13 4 1 4 6 4 5 4 1 4 4 4-1 4-2 4-3 4-9 4-11 4 1 4-5 4-9 4-11 4-5 4-5 4-1 4-2 4-7 4-3 4 5 4-3 4-3 4 3 4-5 4 1 4 1 4-1 4 10 4-7 4 7 4-11 4 1 4-4 4 5 4 2 4-7 4 7 4 3 4-4 4-9 4 4 4 3 4 7 4-2 4-5 4-7 4 18 4-11 4-5 4 13 4 4 4-12 4 3 4-4 4 13 4-10 4 9 4 0 4-5 4 7 4-3 4 0 4-8 4 10 4-14 4 9 4-5 4-1 4 3 4 6 4-6 4-1 4 6 4-6 4 1 4 2 4 0 4 4 4-7 4 10 4-10 4 7 4-5 4 15 4-3 4-18 4 2 4 5 4-5 4 9 4 0 4 5 4-9 4 4 4-2 4 5 4 2 4 1 4-3 4-6 4 5 4 7 4-22 1 25"/>
<path stroke="#D95319" d="M1031 415l4-6 4 2 4-9 4 2 4-7 4-4 4 4 4-2 4 6 4-3 4-4 4 1 4-11 4 1 4-6 4-1 4-3 4-13 4-5 4-5 4-8 4-15 4-8 4-10 4-13 4-11 4-6 4-11 4-7 4-5 4-6 4-16 4-6 4-3 4-12 4-6 4-10 4-2 4 0 4-2 4 3 4 0 4-6 4 6 4-3 4 4 4 2 4-3 4-4 4 0 4-7 4 1 4-3 4 2 4-8 4 3 4-5 4-8 4 7 4-2 4 3 4-8 4-1 4 7 4-2 4-2 4 3 4 3 4 4 4 5 4 7 4-5 4 10 4 3 4 1 4 12 4 2 4 5 4-3 4 3 4-8 4-3 4-7 4-7 4-9 4-8 4 1 4-13 4-6 4-3 4-2 4 4 4-7 4-4 4-2 4 9 4 3 4-8 4-2 4-1 4 1 4 1 4-1 4-5 4 1 4 2 4 0 4-3 4-2 4 5 4 2 4-2 4-3 4-6 4 3 4-6 4 12 4-14 4 12 4-1 4-12 4 7 4-3 4 3 4-15 4 13 4 2 4 1 4-5 4-6 4 3 4 7 4-14 4 3 4 3 4 1 4 13 4-12 4 3 4-4 4-2 4 10 4-7 4-3 4 0 4 4 4-10 4 5 4 3 4 7 4-2 4-9 4-1 4 9 4 2 4-4 4-7 4 7 4-12 4 8 4 3 4-1 4 1 4-10 4 13 4-11 4 9 4 0 4 7 4-12 4 1 4-17 4 22 4 2 4-6 4-3 4 7 1-15"/>
<path stroke="#EDB120" d="M1031 515l4-6 4-2 4 1 4-12 4 10 4-7 4-4 4 4 4-3 4-4 4 3 4-13 4 7 4-9 4-7 4-3 4-6 4-8 4-2 4-7 4-7 4-10 4 1 4-7 4-2 4-13 4 4 4-11 4-3 4-9 4 0 4-6 4 1 4 3 4 2 4 2 4 3 4 2 4 3 4 6 4-7 4 7 4 11 4 8 4-3 4 6 4 5 4 2 4-1 4 9 4-2 4 4 4 2 4 6 4 0 4-4 4 3 4 5 4 0 4-2 4 4 4-2 4 10 4 1 4-4 4 12 4 4 4 5 4 1 4 1 4 5 4 1 4-3 4-1 4 9 4-2 4 4 4 5 4 0 4-6 4 6 4-15 4 4 4-18 4-11 4-18 4-38 4-36 4-35 4-25 4-22 4-25 4-21 4-6 4-18 4-6 4-10 4-5 4 4 4-9 4 10 4-9 4-3 4 0 4 4 4 3 4-3 4 6 4-8 4 6 4 7 4-10 4 4 4-7 4 4 4 1 4 7 4-11 4 12 4-2 4 0 4 1 4 6 4-6 4-7 4 9 4-4 4-6 4 11 4-5 4-5 4-4 4 2 4 12 4-8 4-6 4 9 4-3 4 10 4-11 4 12 4-5 4 5 4-7 4 5 4 3 4-11 4 5 4 0 4 2 4 1 4-5 4 3 4 7 4-10 4 10 4-15 4 2 4-2 4 10 4-8 4 4 4 5 4 20 4-28 4-4 4 3 4 7 4 3 4-3 4 23 4-24 4 5 4-7 4 7 4-12 4 20 1-3"/>
<path stroke="#7E2F8E" d="M1031 396l4 3 4-1 4-3 4-6 4-2 4 4 4-4 4 4 4-9 4-2 4 4 4-5 4-2 4-7 4 0 4-11 4-2 4-11 4-8 4 3 4-12 4-9 4-15 4-14 4-1 4-9 4-15 4-8 4-7 4-11 4-12 4-6 4-5 4-12 4-6 4-13 4-8 4-8 4-5 4-2 4-2 4-7 4 5 4-10 4-2 4-2 4 2 4-4 4-4 4-2 4-7 4 3 4 3 4-5 4-6 4-2 4-6 4 9 4-4 4 0 4 5 4-3 4-2 4-2 4 10 4-3 4 1 4 4 4-2 4-3 4 0 4 1 4-4 4 12 4-6 4-3 4-1 4 3 4-2 4-1 4-7 4 8 4-10 4 5 4-5 4-6 4 8 4-13 4 2 4-2 4-2 4 3 4-6 4 6 4-4 4 0 4 1 4 5 4-10 4 1 4-2 4 5 4-2 4 3 4-2 4-4 4 3 4 1 4 2 4 0 4-1 4 4 4-9 4 4 4-8 4 7 4 0 4-8 4 3 4-2 4-9 4 14 4 5 4-6 4 0 4-2 4-3 4-6 4 2 4 10 4 0 4-5 4 1 4 6 4-4 4-1 4 14 4-10 4 2 4 9 4-13 4 2 4-3 4 12 4-13 4 10 4 8 4-8 4 1 4-5 4 1 4 1 4-10 4 4 4 5 4-5 4 3 4-4 4 0 4 8 4-8 4 7 4-13 4 18 4-6 4 3 4-12 4 9 4-8 4 11 4-12 4 5 4 6 4-11 4 18 4-14 4 0 1-7"/>
<path stroke="#77AC30" d="M1031 441l4 5 4-6 4 0 4-8 4 0 4 0 4-5 4 5 4-11 4 5 4-7 4-6 4 3 4-10 4-4 4-4 4-8 4-6 4-8 4-5 4-5 4-15 4-4 4-8 4-9 4-17 4-3 4-7 4-5 4-6 4-5 4-6 4 1 4-6 4-3 4-6 4-2 4-3 4-5 4 1 4 2 4-4 4-7 4 5 4-1 4 0 4-4 4 8 4-1 4-11 4 9 4 0 4-6 4 5 4-9 4-7 4 8 4 4 4 1 4 2 4 3 4-3 4-1 4 12 4 1 4 6 4 1 4 2 4 12 4-2 4 7 4 6 4 2 4 7 4 2 4 15 4 3 4-2 4 4 4-6 4-4 4-9 4-2 4-24 4-10 4-22 4-4 4-16 4-7 4-12 4 1 4-10 4-6 4-1 4-5 4-6 4 10 4-11 4-4 4-4 4 2 4 3 4-14 4 16 4-1 4 0 4-7 4 1 4-2 4-4 4 5 4-6 4 2 4-6 4 2 4 0 4-1 4-2 4 4 4-4 4 0 4 6 4-9 4-4 4 5 4-3 4 7 4-6 4 2 4 3 4 3 4-2 4-1 4 0 4-12 4 8 4 7 4 0 4-1 4 1 4-7 4 4 4-7 4 6 4 1 4 2 4-2 4 1 4-6 4-8 4 24 4-3 4-14 4 5 4-10 4 8 4-4 4-3 4 3 4-2 4 3 4 3 4-11 4 21 4-18 4-2 4 3 4 2 4 15 4-17 4 3 4-7 4-1 4 12 4-13 4 4 4 14 1 4"/>
<path stroke="#4DBEEE" d="M1031 426l4 0 4-6 4-4 4 8 4-1 4 2 4-7 4 1 4-2 4-6 4 11 4-10 4-7 4-5 4-7 4-8 4-6 4-4 4-18 4-11 4-10 4-4 4-12 4-5 4-8 4-3 4-10 4-20 4 3 4-2 4-6 4-3 4-7 4-7 4 0 4-11 4-6 4-9 4 0 4-6 4 1 4-12 4 3 4 3 4-7 4-4 4 2 4 1 4-3 4 6 4 1 4-6 4 7 4-5 4 4 4 3 4-5 4 5 4-4 4 7 4 1 4 4 4-2 4 1 4 1 4 2 4-4 4 3 4 12 4-8 4 12 4 0 4 11 4 4 4-1 4 7 4 11 4-7 4 8 4-4 4 4 4-15 4 4 4-16 4-11 4-3 4-11 4-8 4-6 4-5 4-3 4-10 4 6 4-12 4 1 4-9 4 0 4 4 4-3 4 11 4-9 4-9 4 9 4 2 4-12 4-1 4 5 4-4 4-1 4-2 4-1 4 10 4-4 4-3 4-1 4 5 4-12 4 7 4-2 4-2 4 6 4-12 4 16 4-13 4-1 4 0 4 3 4-10 4 10 4-5 4-8 4 4 4-1 4 10 4-12 4-5 4 5 4-11 4 14 4 1 4-14 4 9 4-11 4-5 4 5 4-3 4-4 4 9 4 4 4-7 4-8 4 7 4-5 4-1 4 9 4-19 4 9 4-7 4 12 4-9 4 10 4-18 4 22 4-13 4-3 4 7 4 1 4-13 4 12 4-9 4-5 4 4 4 3 4-5 4 2 4 2 4-9 1 20"/>
<path stroke="#A2142F" d="M1031 462l4-7 4-1 4 2 4-1 4-2 4 0 4-7 4 2 4 6 4-6 4-2 4 3 4-15 4-2 4-1 4-12 4 5 4-15 4-8 4-5 4-6 4-9 4-4 4-17 4-1 4-19 4 1 4-10 4 1 4-6 4-5 4-3 4-1 4 8 4-10 4 4 4-5 4-5 4 5 4 1 4-5 4 7 4-1 4-1 4 4 4 4 4-5 4 4 4-8 4 6 4-2 4 0 4 2 4 4 4 3 4-10 4 8 4-1 4 0 4 11 4-6 4 7 4 4 4 6 4 0 4 7 4 5 4 4 4 8 4 1 4 5 4 9 4 12 4-3 4 12 4 4 4 7 4 1 4-2 4-3 4 0 4-18 4-7 4-18 4-35 4-27 4-24 4-16 4-28 4-6 4-21 4-1 4-2 4-4 4-6 4-3 4 1 4 2 4-8 4 0 4 4 4-1 4-2 4 0 4-7 4 16 4-10 4-10 4 11 4 1 4-10 4 7 4 0 4 0 4-1 4-3 4-1 4 16 4-16 4 6 4 10 4-7 4 7 4-8 4 5 4 3 4-4 4-1 4 7 4-4 4 2 4 3 4-9 4 2 4-7 4 7 4-2 4-4 4 0 4 0 4 11 4-15 4 8 4 2 4-11 4 1 4-4 4 0 4 17 4-2 4-11 4 10 4-13 4 18 4-15 4 6 4 2 4 4 4 3 4-8 4-11 4 24 4-11 4-12 4 16 4-1 4-5 4-5 4 14 4-15 4 8 4 2 4-11 4 10 4 10 4-16 4-1 1 18"/>
<path stroke="#0072BD" d="M1031 451l4-12 4 7 4-6 4 0 4-5 4-5 4 10 4-12 4-3 4-1 4-12 4 10 4-7 4-5 4 7 4-5 4-10 4-10 4-1 4-11 4-9 4-5 4-12 4-6 4 0 4-14 4 0 4-6 4-12 4 0 4-13 4-4 4 0 4-10 4 2 4-7 4-11 4 0 4 3 4-12 4 10 4-4 4-9 4 13 4-5 4-2 4 2 4 10 4-7 4-1 4 0 4 3 4-6 4 9 4 1 4-1 4-11 4 3 4 10 4-10 4 11 4 2 4 4 4 5 4 3 4 0 4 1 4 3 4 0 4 12 4 5 4 6 4 9 4 6 4 9 4 5 4 7 4-1 4-2 4 3 4-1 4-15 4-7 4-16 4-24 4-14 4-34 4-16 4-20 4-10 4-13 4-18 4-10 4 2 4-11 4-2 4-7 4-3 4 11 4-9 4-4 4-2 4 2 4-9 4-1 4 4 4-2 4 1 4-2 4-4 4-5 4 7 4-3 4 0 4-1 4 2 4-1 4-1 4 4 4-8 4 9 4-2 4-4 4-1 4 4 4 2 4 7 4-8 4-2 4 5 4-2 4 0 4 6 4-7 4 7 4 2 4-1 4-14 4 6 4 8 4-7 4-9 4 10 4-3 4 1 4-1 4 5 4 1 4-3 4 3 4-11 4-15 4 22 4-10 4 11 4-13 4 3 4-6 4-4 4 21 4-6 4-7 4 2 4 8 4 1 4-9 4 13 4-6 4-1 4-3 4 5 4-7 4 5 4 8 4-9 4 0 4-10 1-4"/>
<path stroke="#D95319" d="M1031 413l4 0 4-4 4-6 4-3 4-2 4 0 4 4 4 0 4-5 4-4 4 0 4 4 4-12 4 0 4-8 4-1 4-12 4-3 4-12 4-9 4-9 4-7 4-8 4-11 4-8 4-10 4-9 4-4 4-9 4-1 4-11 4-1 4-5 4-9 4-7 4-4 4-5 4-8 4-4 4 2 4 4 4-10 4-3 4-2 4 2 4 4 4-3 4-8 4-4 4 5 4-5 4-2 4-3 4 1 4 0 4-5 4-7 4 5 4 2 4 3 4-6 4 9 4 7 4-6 4 3 4 5 4 5 4-6 4 4 4 1 4 1 4 2 4 4 4 1 4 0 4 2 4 5 4 2 4-6 4 4 4-15 4-9 4-2 4-8 4-10 4-11 4-9 4-4 4-12 4-9 4 3 4-9 4 0 4-9 4 2 4-1 4-8 4-2 4 3 4-4 4 0 4-5 4-1 4 7 4-5 4 1 4 0 4 10 4-14 4 7 4-4 4-4 4 1 4-6 4 10 4 1 4-4 4-1 4-5 4-1 4 1 4-6 4 5 4-4 4 4 4 3 4 3 4-12 4 15 4-7 4-5 4 1 4 9 4-4 4-2 4 1 4-6 4 11 4-9 4 2 4-5 4 4 4 5 4 0 4-11 4 2 4 0 4-1 4 4 4-2 4 10 4-2 4-2 4-6 4 9 4-12 4 2 4 0 4 0 4 8 4-4 4 14 4 2 4-21 4 11 4-5 4-6 4 6 4 5 4-13 4 10 4-7 4 2 4-4 4 3 4-5 4 14 1 2"/>
<path stroke="#EDB120" d="M1031 547l4 3 4-1 4 2 4-1 4-2 4-2 4 8 4-4 4-2 4-2 4-1 4 0 4-5 4-6 4 1 4-5 4-3 4-4 4-7 4-9 4-2 4-11 4-9 4-10 4-7 4-4 4 2 4-11 4-4 4-6 4 3 4-4 4 0 4-3 4 5 4-2 4 2 4 2 4 4 4 2 4 8 4 4 4 4 4 6 4 4 4-5 4 6 4 4 4 4 4 0 4-2 4 6 4 0 4 3 4 8 4-3 4 4 4 1 4 2 4-2 4 10 4 1 4 2 4 3 4 2 4 1 4 2 4 4 4-3 4 1 4 8 4 4 4 0 4 3 4 2 4 0 4-1 4 1 4 4 4-7 4 10 4-8 4-9 4-8 4 2 4-11 4-20 4-18 4-24 4-44 4-37 4-20 4-27 4-12 4-25 4-16 4-7 4-15 4-14 4-5 4-7 4-5 4-3 4-8 4 3 4-4 4-10 4 4 4-3 4 2 4 6 4-12 4 11 4-8 4-4 4 3 4 7 4-14 4 8 4-8 4 20 4-9 4 1 4-5 4-4 4 3 4-1 4 5 4 0 4 10 4-10 4-7 4 13 4-7 4-3 4 10 4-4 4-1 4 2 4-7 4-4 4 11 4-2 4-5 4 5 4-1 4 4 4-3 4 8 4-2 4 1 4-8 4 7 4 4 4-5 4-3 4 5 4 7 4-3 4 7 4-22 4 8 4 2 4 6 4 14 4-13 4 0 4-10 4 1 4-1 4 17 4-19 4 1 4 13 4 4 4 5 4-1 1-15"/>
<path stroke="#7E2F8E" d="M1031 446l4-1 4-5 4-6 4 6 4-6 4-7 4 2 4 0 4-3 4 1 4-8 4-3 4-2 4-4 4-1 4-6 4-4 4-4 4-4 4-7 4-10 4-2 4-9 4-10 4-4 4-9 4-14 4-4 4-1 4-11 4-5 4-8 4 6 4-15 4-5 4-5 4-4 4-2 4-3 4 6 4-12 4 0 4 1 4 5 4-4 4 0 4 11 4-11 4 4 4 8 4 1 4-4 4-4 4 2 4 1 4 3 4 0 4-2 4 1 4 2 4 2 4 5 4 3 4-1 4 8 4 3 4 1 4 1 4 9 4 4 4 2 4 11 4 7 4-1 4 15 4 1 4 10 4 5 4-2 4-7 4 2 4-4 4-12 4-11 4-20 4-16 4-21 4-12 4-11 4-4 4-11 4 2 4-11 4-7 4 2 4-7 4-3 4 0 4 0 4-7 4 9 4-4 4-4 4 4 4-3 4 2 4 5 4-3 4-1 4 2 4-5 4 4 4-5 4 14 4-4 4-9 4 14 4-9 4 0 4-5 4 1 4 8 4-1 4-2 4-8 4 3 4 5 4 4 4-5 4-2 4 5 4-5 4 2 4 2 4-1 4-2 4 5 4-3 4 3 4 0 4-1 4 8 4-2 4-6 4 1 4-7 4 13 4 1 4-3 4-9 4 7 4 4 4-1 4 6 4-6 4-3 4 16 4-8 4-3 4-6 4 5 4-12 4 14 4 7 4 0 4 10 4-6 4-19 4-1 4-16 4 36 4-8 4 1 4 0 4-12 4 16 4-9 1 10"/>
<path stroke="#77AC30" d="M1031 429l4 2 4 0 4-7 4-11 4 5 4-4 4-2 4-7 4 0 4-9 4 8 4-9 4-10 4-6 4-1 4-11 4-4 4-2 4-12 4-3 4-6 4-6 4-17 4 1 4-9 4-12 4-12 4-6 4 0 4-7 4-7 4-2 4-3 4-2 4-10 4-5 4-3 4-5 4-5 4 3 4 0 4-3 4-11 4 9 4 3 4 0 4 2 4-5 4-3 4 3 4-8 4 7 4-1 4-6 4 4 4-7 4 5 4-8 4 3 4 0 4 0 4 4 4 4 4-8 4 4 4 1 4 8 4-5 4 3 4 6 4 3 4-1 4 5 4-2 4 6 4 6 4 16 4-3 4-3 4-1 4 9 4-17 4 1 4-9 4-6 4-10 4 0 4-10 4 10 4-19 4 1 4-6 4 8 4-2 4-10 4 2 4-7 4 13 4-4 4-3 4-5 4 5 4-1 4-6 4 4 4 3 4 3 4-7 4-1 4 7 4-2 4-2 4 2 4-6 4 8 4-1 4-7 4 8 4-1 4-5 4-2 4 5 4-2 4-2 4 4 4-3 4-3 4 8 4-5 4 0 4 1 4-1 4 9 4-7 4-1 4 2 4-4 4 9 4 0 4-10 4 7 4-8 4-2 4-6 4 16 4-3 4 0 4 0 4-4 4-2 4 8 4-2 4 6 4-4 4-7 4 0 4-2 4 7 4 9 4-13 4 13 4-9 4-2 4 5 4-2 4-14 4 26 4-2 4-11 4 14 4-4 4 0 4-13 4 16 4-14 4 12 4-20 1 33"/>
<path stroke="#4DBEEE" d="M1031 423l4 2 4 1 4-3 4-4 4 0 4-4 4 5 4-17 4 4 4 2 4-11 4-7 4-4 4-10 4-1 4 1 4-5 4-12 4-8 4-5 4-7 4-8 4-6 4-18 4-1 4-13 4-9 4-8 4-6 4-7 4-9 4 3 4-8 4-14 4-9 4-2 4-5 4-6 4-9 4 1 4-1 4-2 4-5 4 1 4 7 4-7 4 3 4-8 4 14 4-4 4 3 4-5 4-5 4 6 4-5 4 4 4-7 4 4 4-5 4 1 4 3 4 2 4-6 4-1 4 11 4 2 4-3 4 10 4-3 4 9 4 1 4 7 4-3 4 3 4 8 4 6 4-6 4-1 4 2 4-11 4-5 4-12 4-6 4-17 4-15 4-18 4-12 4-9 4-4 4-16 4-7 4-5 4-2 4-13 4 3 4-4 4 0 4 3 4-3 4-8 4-6 4 5 4-1 4-1 4-7 4 13 4-3 4 0 4-4 4 6 4-6 4 5 4-7 4 3 4-5 4 7 4-4 4-2 4 9 4-2 4-4 4-3 4-1 4-2 4 6 4-3 4 1 4 1 4-1 4-5 4 3 4-4 4 7 4 7 4-6 4-2 4-1 4-3 4 3 4 0 4-5 4 9 4-9 4-2 4-2 4 6 4-5 4 4 4 2 4-9 4 12 4-9 4 6 4-13 4 12 4 3 4-3 4-14 4 22 4-20 4 12 4-7 4 16 4-22 4 18 4-9 4 10 4-11 4 20 4-7 4-2 4-25 4 26 4-9 4-23 4 25 4 2 1-3"/>
<path stroke="#A2142F" d="M1031 475l4-5 4 1 4-2 4 1 4-3 4-10 4 4 4-3 4-8 4 5 4-4 4-1 4-9 4 0 4-14 4 2 4-2 4-14 4 1 4-17 4-9 4-3 4-10 4-10 4-10 4-7 4 0 4-8 4-12 4 0 4 0 4-9 4 7 4-15 4 4 4-8 4-7 4 4 4-3 4 4 4-1 4-3 4-2 4 8 4 4 4 7 4-4 4-2 4 7 4 0 4 9 4 2 4-5 4-2 4 5 4 2 4-5 4 2 4 6 4 1 4 0 4 3 4 2 4 8 4-1 4 8 4 2 4 3 4 4 4 6 4 5 4 18 4 0 4 6 4 0 4 11 4 6 4 1 4 4 4 0 4-14 4 4 4-9 4-13 4-27 4-22 4-27 4-25 4-23 4-19 4-8 4-13 4-8 4-11 4-3 4 5 4-9 4-1 4 2 4-7 4 11 4-5 4 6 4 3 4-8 4 1 4-8 4 10 4-4 4 6 4-1 4-5 4-3 4 6 4-6 4 2 4 7 4-4 4 2 4-2 4 0 4 1 4-5 4 2 4 12 4-11 4 2 4 6 4 3 4-5 4-5 4 4 4 1 4 9 4-6 4-4 4 2 4 1 4-12 4 17 4-8 4-15 4 14 4-7 4 9 4-5 4 12 4-8 4-6 4 5 4-3 4 6 4-4 4-9 4 7 4 8 4-2 4-5 4 3 4-6 4 9 4 2 4 7 4-12 4 2 4 4 4 12 4-14 4 6 4-4 4 3 4-7 4 4 4-11 4 8 4-7 4 5 1-1"/>
<path stroke="#0072BD" d="M1031 473l4 0 4-3 4-2 4-6 4 1 4-6 4-5 4-4 4-1 4-6 4-1 4 0 4-13 4 1 4-10 4 2 4-8 4-3 4-13 4-11 4-4 4-11 4-1 4-10 4-9 4-10 4-1 4-4 4-9 4 5 4-13 4-3 4 2 4-2 4-2 4 0 4-5 4 1 4 4 4 4 4-9 4 2 4 3 4 4 4-3 4 8 4 0 4 5 4 6 4-5 4-3 4 0 4 2 4-1 4-5 4 1 4 2 4-1 4 5 4-8 4 9 4 1 4-1 4 7 4-5 4 2 4 6 4 4 4 11 4 1 4 13 4-1 4 7 4 8 4 3 4 7 4 12 4 5 4-3 4-1 4 2 4-3 4-13 4-13 4-15 4-38 4-25 4-26 4-15 4-21 4-18 4-16 4 9 4-7 4-4 4-16 4 7 4 5 4-3 4 2 4-11 4 8 4 2 4-3 4-4 4 2 4 2 4-4 4 2 4 1 4 0 4 0 4-8 4 10 4-3 4-9 4 16 4-11 4 3 4-4 4-1 4-1 4 4 4-10 4 16 4 2 4-5 4-2 4 5 4-8 4 1 4 11 4-6 4 1 4-8 4 17 4-14 4 9 4-7 4 14 4-16 4 3 4 7 4-7 4-12 4 13 4-2 4 5 4-8 4 3 4-2 4 9 4-4 4 7 4-10 4-7 4 14 4-16 4 2 4 0 4-2 4 5 4-3 4-5 4 7 4 4 4 7 4-16 4 16 4-1 4-14 4 5 4 16 4-18 4-1 4 5 4 9 1 2"/>
<path stroke="#D95319" d="M1031 421l4 0 4-7 4-3 4 0 4-5 4-3 4-1 4 1 4-11 4 1 4 5 4-8 4-9 4 3 4-8 4-5 4 2 4-17 4 4 4-21 4 1 4-11 4-7 4-9 4-10 4-4 4-11 4-15 4-11 4 5 4-13 4-6 4-5 4-8 4-9 4-5 4-4 4-11 4-7 4 4 4-11 4 13 4-12 4-2 4 0 4 3 4 4 4-5 4-2 4 2 4-8 4 3 4-7 4-2 4 3 4-2 4 5 4-7 4 3 4-3 4 4 4 2 4 4 4 2 4 0 4-1 4-4 4 13 4 6 4-8 4 10 4 2 4 0 4 7 4-3 4 6 4 0 4 1 4-1 4-3 4-8 4-9 4-14 4-9 4-9 4-16 4-18 4 0 4-14 4-9 4-9 4-1 4-8 4 0 4 0 4 0 4-12 4 4 4 5 4-8 4-6 4-4 4 3 4 0 4 2 4 2 4-7 4 3 4 0 4-10 4 9 4-5 4 4 4 1 4-3 4 1 4-1 4-3 4 2 4 3 4-7 4 2 4 7 4-2 4-5 4 0 4-8 4 11 4-2 4-7 4 8 4 1 4-2 4 1 4 1 4 0 4-2 4-8 4 4 4 0 4-8 4 7 4 8 4 0 4-13 4 13 4 1 4-16 4 19 4-10 4 8 4 2 4-5 4-3 4 1 4-13 4 13 4 5 4-12 4 11 4-16 4 14 4-11 4 10 4-18 4-2 4 13 4-3 4-3 4 1 4-2 4 16 4-11 4 0 4-1 4 9 4-12 1 4"/>
<path stroke="#EDB120" d="M1031 487l4-8 4 2 4-2 4 2 4-2 4-6 4-9 4 10 4-3 4-4 4-1 4-2 4-9 4 3 4-5 4 6 4-14 4 3 4-10 4-5 4-5 4-4 4-7 4-4 4-7 4-3 4-3 4-10 4-7 4 1 4-14 4-3 4 4 4-2 4-4 4-5 4 8 4-7 4 9 4 7 4 3 4 12 4-1 4 9 4 12 4 6 4 2 4 7 4-1 4 4 4 2 4-7 4 12 4 0 4 1 4-2 4 0 4 14 4-11 4 6 4 2 4 2 4 2 4 15 4-8 4 10 4-2 4-3 4 19 4-9 4-2 4 9 4 0 4 6 4 3 4-1 4 1 4 7 4-1 4-3 4-6 4 0 4-6 4-15 4-15 4-23 4-24 4-45 4-36 4-31 4-29 4-13 4-10 4-24 4-4 4-8 4-11 4 5 4-1 4-15 4 0 4 4 4-4 4-3 4 2 4-6 4 7 4-2 4 8 4-2 4 0 4 3 4-2 4-5 4 10 4-7 4 0 4-2 4 3 4 2 4 6 4-11 4 5 4-2 4 8 4 1 4-3 4-1 4 1 4-3 4 2 4-11 4 8 4 7 4-7 4-5 4 5 4 1 4 2 4 2 4-5 4-5 4 8 4 0 4 0 4 3 4 4 4 1 4 0 4-9 4 16 4-14 4 3 4 2 4-1 4 1 4 5 4-11 4-3 4 8 4-7 4 12 4-8 4 0 4 16 4-5 4 6 4-8 4-6 4 20 4-17 4-8 4 0 4-2 4 20 4-15 4 17 1-18"/>
<path stroke="#7E2F8E" d="M1031 414l4-3 4-12 4 3 4-5 4 2 4-3 4-3 4-6 4-3 4-4 4-5 4 7 4-5 4 2 4-19 4 12 4-21 4 4 4-8 4-19 4-6 4-4 4-15 4-3 4-16 4-10 4-17 4 5 4-13 4-9 4-8 4-17 4 2 4-13 4-11 4-14 4-2 4-6 4-2 4 1 4-9 4-2 4 3 4 2 4-5 4 1 4-5 4 0 4-4 4-4 4 5 4-9 4 2 4 1 4-5 4 3 4-2 4-8 4 0 4 0 4 9 4-5 4 4 4-3 4 0 4 1 4 7 4 2 4 1 4-6 4-1 4-3 4 12 4-8 4-4 4 11 4 1 4 2 4-16 4 5 4-3 4-5 4 3 4-7 4-2 4-4 4-6 4-8 4 2 4 2 4-9 4 1 4-3 4-4 4 2 4 0 4-1 4-3 4 6 4-5 4-9 4 9 4-9 4 8 4-3 4 1 4-9 4 17 4-4 4-2 4 1 4-8 4 3 4-1 4 5 4-7 4 5 4-2 4-6 4 2 4 3 4 10 4-12 4 1 4 6 4-9 4 1 4 4 4-6 4 2 4 1 4 3 4 0 4 0 4-4 4 8 4 1 4-4 4-6 4-8 4 18 4-11 4-3 4-4 4 6 4-4 4 12 4-12 4 15 4-11 4-1 4 7 4-8 4 13 4-12 4-6 4 2 4-3 4-7 4 3 4 2 4 11 4-4 4-9 4 13 4-11 4-6 4 2 4 3 4 11 4 0 4-11 4-6 4 15 4-14 4 13 4-7 1 12"/>
<path stroke="#77AC30" d="M1031 557l4 2 4 0 4-1 4-6 4 7 4 4 4-8 4 4 4-6 4 3 4 0 4-1 4-7 4 3 4-4 4-1 4 0 4-11 4-4 4-7 4-9 4-3 4-10 4-6 4-7 4-5 4-9 4-1 4-12 4-2 4-2 4-3 4 5 4-3 4 4 4-7 4 5 4 0 4 2 4 3 4 8 4-1 4 9 4-1 4 9 4 2 4 1 4 1 4 6 4-2 4 0 4 3 4 2 4 9 4 3 4 1 4 3 4-2 4 2 4 9 4-2 4 2 4 3 4 7 4-4 4 4 4 2 4 0 4 5 4-4 4 8 4 3 4 0 4 7 4-4 4 1 4 0 4-3 4 5 4 0 4 1 4 0 4-9 4-5 4-7 4-3 4-19 4-27 4-29 4-33 4-35 4-29 4-22 4-19 4-20 4-12 4-15 4-11 4-17 4 1 4-14 4-6 4-3 4-4 4-10 4 5 4 0 4-6 4 3 4 1 4 8 4-10 4 4 4-5 4-3 4 4 4-7 4 4 4-7 4 7 4 10 4-7 4-2 4 4 4-7 4-1 4-2 4-1 4-1 4-1 4 0 4 1 4-2 4 11 4-6 4 9 4-20 4 12 4-1 4 8 4-7 4 4 4-5 4 6 4 0 4-9 4 21 4-18 4 12 4-4 4 4 4-2 4 0 4 11 4-8 4-4 4-8 4 1 4 18 4-20 4 12 4-4 4 9 4-2 4-3 4 6 4-10 4-2 4 11 4-7 4 2 4-4 4 8 4-6 4-1 4 17 4-15 1 11"/>
<path stroke="#4DBEEE" d="M1031 418l4-10 4 2 4 3 4-8 4 1 4-7 4 0 4-4 4 3 4-1 4-9 4 0 4-8 4-12 4 5 4-9 4-1 4-11 4-6 4-9 4-2 4-8 4-11 4-7 4-11 4 1 4-19 4-8 4-7 4-12 4-5 4-11 4 3 4-12 4-5 4-17 4-1 4-6 4-4 4 2 4-4 4-5 4-1 4-8 4-1 4 8 4-4 4-3 4 4 4-14 4 7 4-4 4 5 4-6 4 2 4-7 4-2 4 2 4-3 4 7 4-2 4-2 4 0 4 1 4 6 4 5 4 0 4-5 4 6 4 5 4-5 4 6 4 5 4 3 4-1 4 8 4 0 4-6 4 1 4-4 4-9 4 0 4-7 4-15 4-8 4 3 4-23 4-8 4 0 4-15 4-3 4-6 4-6 4-3 4-3 4-5 4 2 4 0 4-2 4-9 4-5 4 8 4-1 4 7 4-12 4 9 4-3 4-6 4 1 4 3 4-11 4 8 4-6 4 2 4 0 4 8 4 5 4-14 4 3 4-4 4 7 4 4 4-12 4-1 4 2 4 0 4-9 4 9 4 6 4-6 4-1 4-1 4-2 4 7 4 1 4-7 4-2 4 13 4-1 4-1 4 1 4-4 4 0 4 3 4-1 4 2 4-11 4 3 4-5 4 11 4-2 4 1 4-5 4-4 4 2 4 6 4-4 4-4 4 1 4 5 4 4 4 5 4-10 4-6 4 2 4 6 4-10 4 28 4-25 4-2 4 5 4-2 4 19 4-25 4-1 4 0 4 12 1 4"/>
<path stroke="#A2142F" d="M1031 413l4-5 4-1 4-1 4-7 4-2 4-5 4 7 4-4 4-6 4-7 4-4 4-6 4 4 4-5 4-4 4-7 4-3 4-12 4 0 4-16 4 2 4-10 4-9 4-10 4-18 4-3 4-12 4-10 4-3 4-9 4-7 4-6 4-10 4-10 4-9 4-6 4-8 4-10 4 2 4-5 4 1 4-9 4-1 4 1 4-6 4 2 4 2 4-14 4 5 4-3 4-1 4 2 4-5 4-7 4-1 4-6 4-1 4 0 4 2 4-9 4 7 4 4 4-1 4-6 4 4 4 5 4-7 4 2 4 2 4 4 4 7 4-6 4 7 4 1 4-3 4 1 4 6 4-2 4 1 4-10 4 10 4-12 4-2 4-10 4-1 4-10 4-9 4-10 4-3 4-5 4-3 4 1 4-9 4-6 4 6 4-6 4-1 4 0 4 0 4 2 4-1 4-2 4-7 4 4 4-7 4 8 4-2 4-1 4-5 4 9 4-12 4 7 4-4 4-5 4 2 4-1 4-7 4 6 4-2 4 7 4-10 4 9 4-4 4 1 4-9 4 1 4 8 4-2 4-1 4-4 4 13 4-4 4-1 4-2 4-6 4 19 4-13 4 1 4 6 4-7 4 2 4 2 4 9 4-8 4-1 4 5 4-9 4 10 4-11 4 6 4 5 4-4 4 10 4-12 4 11 4-4 4-8 4 11 4-15 4 4 4-4 4 7 4 1 4 0 4-17 4 16 4-7 4-2 4 11 4-20 4 21 4-18 4 28 4-20 4-4 4-8 4 14 1 6"/>
<path stroke="#0072BD" d="M1031 463l4-2 4-9 4 5 4-5 4-5 4 1 4-5 4-4 4-2 4-5 4 2 4-6 4-13 4-3 4-6 4-3 4-5 4-9 4-8 4-7 4-9 4-5 4-22 4 5 4-11 4-5 4-10 4-8 4-6 4 1 4-3 4-5 4-9 4 0 4-6 4 1 4-3 4 2 4 1 4 1 4 2 4-4 4-6 4 6 4 1 4 3 4 4 4 0 4-1 4 3 4-9 4 12 4-7 4 0 4 3 4 1 4-5 4-3 4 6 4 8 4-5 4 4 4 0 4 1 4 4 4 5 4 2 4 5 4 8 4 3 4 5 4 9 4 9 4 0 4 13 4 11 4-5 4 9 4-2 4 8 4-7 4-17 4-16 4-18 4-14 4-31 4-23 4-19 4-25 4-11 4-8 4-17 4-3 4-10 4 1 4-10 4-4 4-2 4 6 4 4 4-11 4 3 4-6 4 8 4-11 4 8 4-13 4 11 4-6 4 6 4-4 4-9 4 8 4 5 4-13 4 9 4-4 4-8 4 4 4 0 4-4 4 6 4-4 4-2 4 0 4 4 4-2 4-5 4 8 4-11 4 6 4 1 4 2 4 5 4-8 4 3 4 6 4-9 4 7 4 2 4 4 4-7 4-4 4 11 4-11 4 1 4-6 4 2 4-1 4-5 4 4 4 10 4-6 4-1 4 0 4-3 4-3 4 7 4 1 4-9 4 6 4 10 4-8 4-2 4 0 4 10 4-8 4-9 4 22 4 0 4 6 4-29 4 23 4-8 4-4 4 24 4-38 1 1"/>
<path stroke="#D95319" d="M1031 475l4 3 4-3 4-1 4-7 4-3 4 5 4-1 4-8 4 2 4-3 4-6 4-1 4-8 4-10 4 1 4-6 4-2 4 2 4-12 4-5 4-3 4-15 4-3 4-4 4-11 4-3 4-16 4 1 4-6 4-4 4-1 4-6 4-2 4-5 4-2 4 0 4 3 4-9 4 2 4-3 4 8 4-5 4 1 4 9 4-3 4 1 4 14 4-3 4 5 4 0 4-5 4 6 4 5 4-6 4 8 4-3 4 1 4 4 4 4 4 8 4 3 4-3 4 1 4 7 4 6 4-1 4-1 4 12 4 7 4 2 4-3 4 7 4 14 4 3 4 0 4 6 4 8 4-2 4 1 4-3 4 5 4-9 4-9 4-5 4-35 4-34 4-38 4-26 4-26 4-18 4-17 4-7 4-13 4-5 4-2 4 0 4 2 4-4 4 2 4-2 4-1 4-1 4 3 4 6 4-9 4-1 4 12 4-12 4 10 4-7 4 1 4-2 4 3 4-8 4 8 4 6 4-3 4-4 4 5 4 6 4-6 4-4 4 2 4-5 4 12 4 0 4-7 4 13 4-15 4 1 4-6 4 12 4-14 4 6 4 2 4-4 4 3 4-3 4-11 4 11 4-1 4 0 4-3 4 9 4-9 4 3 4 9 4-8 4 1 4 0 4-7 4 9 4 5 4-8 4-5 4 3 4 1 4 9 4-5 4-6 4 1 4 1 4 16 4-1 4-16 4 9 4 3 4-12 4 15 4-21 4 1 4 18 4 1 4 0 4 5 4-9 4 4 1 15"/>
<path stroke="#EDB120" d="M1031 486l4 2 4-2 4-5 4-3 4 0 4-4 4 3 4-4 4 2 4-9 4 6 4-14 4 2 4-6 4-4 4-1 4-7 4-3 4-2 4-6 4-7 4-2 4-8 4-7 4-4 4 2 4-9 4-7 4-6 4 3 4-9 4-1 4-7 4 12 4-2 4-4 4 0 4-2 4 1 4 0 4 13 4 5 4 9 4 1 4 9 4 4 4 2 4 4 4 10 4-4 4 11 4-5 4 4 4 1 4-2 4 1 4 5 4 5 4 2 4-5 4 3 4 7 4 3 4-9 4 8 4 2 4 6 4 0 4 3 4 8 4-4 4 3 4 6 4 3 4 3 4-4 4 12 4 5 4-10 4 2 4-2 4-3 4-9 4-8 4-11 4-27 4-32 4-36 4-37 4-22 4-19 4-32 4-11 4-14 4-18 4 3 4-11 4-2 4-5 4 5 4-3 4-4 4 6 4-7 4 3 4 0 4-7 4 8 4 2 4 2 4-2 4-4 4 2 4 1 4 11 4-7 4-9 4 13 4-4 4 4 4-1 4 1 4-8 4 0 4 9 4-15 4 10 4-1 4-1 4 1 4-4 4 0 4 1 4-9 4 16 4 4 4-17 4 17 4-9 4-4 4 11 4-8 4-6 4 1 4 10 4-1 4-5 4 3 4 4 4 1 4 0 4 9 4-5 4-13 4 0 4-2 4 11 4-7 4 6 4 2 4 3 4 7 4-4 4 3 4-7 4-4 4 4 4-8 4 5 4 11 4 2 4-14 4 9 4 3 4 7 4-14 4 4 1 2"/>
<path stroke="#7E2F8E" d="M1031 416l4-4 4 6 4-11 4-5 4 0 4 1 4-8 4 2 4-11 4-5 4-10 4-2 4 3 4-10 4-4 4 2 4-13 4-6 4-3 4-4 4-12 4-4 4-13 4-17 4-4 4-16 4-5 4-9 4-9 4-15 4-8 4-12 4-5 4-12 4-7 4-18 4-1 4-8 4 1 4 1 4 2 4-8 4-2 4 10 4-19 4 3 4 4 4-1 4-2 4-1 4-9 4 5 4-15 4 1 4-8 4 6 4 6 4-5 4-5 4 10 4-1 4-5 4 5 4 0 4 9 4-6 4-3 4 1 4-2 4 1 4-4 4 4 4-8 4 0 4 4 4-8 4 1 4-1 4-5 4 1 4 5 4-13 4 11 4-7 4-4 4-8 4-5 4 1 4-4 4-3 4-4 4-5 4 2 4-2 4-1 4-14 4 3 4 3 4 5 4-6 4 2 4-5 4 2 4 9 4-6 4 2 4-5 4 5 4-8 4 4 4 7 4-9 4 3 4 3 4-6 4 0 4-6 4 1 4 1 4 2 4-8 4 6 4-3 4 8 4-7 4 8 4-9 4 7 4-13 4 12 4-2 4 9 4-6 4-8 4 8 4 9 4-9 4-5 4-6 4 9 4-2 4 2 4 8 4-6 4-7 4-11 4 13 4-16 4 22 4-8 4 6 4-5 4 1 4-7 4 4 4-2 4 7 4-7 4 0 4-2 4-1 4-5 4 5 4 12 4-5 4 6 4-6 4-6 4-6 4 4 4 10 4 2 4-9 4-2 4 22 4-14 4 26 1-37"/>
<path stroke="#77AC30" d="M1031 482l4-6 4-6 4 6 4 1 4-11 4-5 4 4 4 2 4-2 4 0 4-6 4-12 4-7 4-2 4-9 4 4 4-9 4-11 4-2 4-7 4-10 4-3 4-6 4-5 4-8 4-6 4-5 4-16 4 4 4-5 4-5 4-2 4 0 4 3 4 1 4-11 4 6 4-6 4 1 4 5 4-5 4 8 4-2 4 2 4-6 4 9 4 0 4 4 4 1 4 1 4 8 4-8 4 9 4-2 4 2 4 4 4-5 4 3 4 10 4-6 4-2 4 6 4 5 4 3 4 6 4-6 4 10 4 10 4-6 4 11 4 0 4 6 4 9 4 9 4 1 4 8 4 0 4 9 4 3 4-2 4-1 4-1 4-15 4-10 4-21 4-29 4-30 4-38 4-17 4-26 4-17 4-18 4-8 4-5 4-7 4 2 4-4 4-2 4 0 4-2 4-8 4 7 4 7 4 1 4-10 4 1 4 8 4 5 4-14 4 4 4 7 4-9 4 11 4-8 4-2 4 4 4-6 4 4 4-1 4 2 4 8 4-7 4 4 4-5 4 8 4-15 4 8 4 4 4-1 4 0 4 5 4 1 4-8 4 3 4-5 4 5 4-8 4 4 4-7 4 10 4-11 4 3 4-1 4 7 4 3 4-20 4 15 4-7 4 15 4 2 4-15 4 4 4 5 4 0 4-9 4 7 4 14 4-12 4-8 4 9 4-2 4 8 4 0 4-16 4 9 4 20 4-20 4-5 4 3 4 4 4-4 4 8 4 3 4 5 4-12 4 7 4-5 1-9"/>
<path stroke="#4DBEEE" d="M1031 482l4-2 4 0 4-1 4-11 4 1 4-6 4-3 4-4 4 9 4-8 4-9 4-8 4-1 4-11 4-4 4-7 4-9 4-1 4-12 4-1 4-13 4 0 4-8 4-10 4-1 4-6 4-10 4-8 4 1 4-2 4-6 4 0 4 3 4-2 4-3 4-1 4-1 4 1 4-4 4-1 4 0 4 5 4-3 4-1 4-2 4 11 4 4 4 2 4-2 4-3 4 2 4 1 4 5 4 1 4-7 4 9 4 5 4-8 4 4 4 2 4 7 4 2 4 2 4-2 4 4 4-1 4 10 4 1 4 6 4 7 4 1 4 7 4-1 4 16 4 9 4-3 4 5 4 4 4 4 4-1 4-7 4-12 4-13 4-21 4-28 4-34 4-26 4-20 4-20 4-16 4-5 4-8 4-6 4-3 4-12 4 11 4 3 4-14 4 4 4 6 4-7 4 3 4-6 4-4 4 7 4-7 4 10 4-11 4 6 4-3 4-5 4-1 4 5 4 0 4 0 4 3 4-1 4-3 4-2 4-3 4 3 4 4 4 3 4-13 4 9 4-9 4 12 4-4 4 1 4 6 4-6 4-2 4 1 4-9 4 3 4-3 4 7 4-4 4 11 4-5 4 5 4 6 4-11 4 7 4-4 4 10 4-9 4 1 4 10 4-3 4-8 4 15 4-8 4-5 4 7 4 8 4-23 4 16 4 1 4-11 4 5 4-9 4 10 4-5 4-7 4 21 4-14 4-2 4 4 4-11 4-14 4 32 4-17 4 7 4 3 4 9 4-20 1 12"/>
<path stroke="#A2142F" d="M1031 439l4-2 4-8 4 6 4-7 4-7 4 7 4-7 4-2 4-2 4-8 4 5 4-9 4-6 4-3 4-3 4-6 4-6 4-10 4 2 4-14 4-3 4-9 4-4 4-16 4-8 4-1 4-15 4-15 4 3 4-9 4 1 4-13 4-1 4-6 4-10 4-6 4-5 4-6 4 3 4-2 4-2 4 0 4 2 4-7 4 1 4 1 4 0 4 7 4-2 4-5 4 0 4 0 4-9 4 2 4 4 4-4 4 5 4-7 4 3 4-2 4 3 4 4 4-1 4 3 4 14 4-1 4-3 4 3 4 10 4 3 4 2 4-1 4 13 4 5 4 7 4 3 4 7 4-3 4 7 4-4 4-4 4 0 4-11 4-5 4-14 4-6 4-8 4-7 4-12 4-3 4-4 4-4 4-1 4-5 4 4 4-6 4 4 4-14 4 5 4 2 4-5 4 7 4 0 4-3 4 0 4 1 4 2 4 2 4 1 4-8 4 1 4 2 4 0 4 1 4 2 4-7 4 8 4-4 4-1 4 13 4-13 4 5 4 2 4-2 4 1 4 1 4-5 4-2 4 5 4 3 4 0 4 0 4-2 4 3 4-4 4 0 4-3 4-3 4-5 4 13 4-9 4 9 4-2 4 13 4-14 4-2 4 7 4-3 4-4 4 7 4-7 4 15 4-1 4 4 4-7 4 4 4-8 4-1 4-1 4 6 4-11 4 9 4-2 4-9 4 14 4-13 4 16 4 6 4-6 4-7 4 3 4 0 4 0 4 8 4-7 4-6 4 6 1 12"/>
<path stroke="#0072BD" d="M1031 552l4-2 4 3 4-1 4 2 4-1 4-3 4 3 4 0 4 1 4-1 4 0 4-5 4-8 4 1 4 1 4 1 4-3 4-9 4-4 4-12 4-6 4-9 4-3 4-9 4-9 4-2 4-7 4-5 4-8 4 4 4-8 4 0 4-4 4 3 4-2 4 2 4 1 4 10 4-5 4 9 4 0 4 4 4 4 4 8 4-3 4 8 4 3 4 1 4 3 4 2 4 1 4 5 4 5 4-4 4 3 4 3 4-2 4 5 4 5 4-2 4-1 4 6 4 6 4 4 4-4 4 1 4 5 4-1 4 9 4-1 4 0 4 2 4 5 4-7 4 6 4 2 4 6 4-6 4 0 4 4 4 4 4-4 4-9 4-5 4-3 4-12 4-16 4-18 4-26 4-44 4-31 4-33 4-10 4-28 4-18 4-11 4-20 4-14 4-7 4-12 4-7 4-6 4-3 4-4 4-2 4-6 4 0 4-3 4-1 4 10 4-7 4 1 4 8 4-10 4 8 4-9 4-2 4 10 4 1 4-6 4 7 4-2 4 2 4-9 4 3 4 4 4-6 4-2 4 3 4-2 4 2 4 1 4-3 4 7 4-7 4-7 4 8 4 3 4-9 4 11 4-6 4-1 4 7 4-1 4 0 4 15 4-3 4-1 4-9 4 1 4 3 4 0 4 5 4-9 4-3 4 10 4-1 4-1 4 12 4-13 4-3 4 9 4-11 4-3 4-1 4 5 4 6 4-1 4 1 4-2 4 9 4-24 4 22 4-3 4-7 4 0 4 7 1-20"/>
<path stroke="#D95319" d="M1031 414l4-1 4-3 4-4 4-4 4 3 4-2 4-2 4-13 4 6 4 0 4-9 4 0 4-17 4 7 4-6 4-5 4-7 4-6 4 2 4-16 4 2 4-18 4-12 4 2 4-19 4-2 4-3 4-8 4-9 4-9 4-4 4-7 4-6 4-2 4-17 4-5 4-11 4-4 4-2 4 4 4-10 4-4 4 1 4-1 4 0 4-1 4-3 4-1 4-2 4-1 4-8 4 3 4-2 4-5 4 5 4-6 4-2 4 7 4-9 4 7 4-1 4-2 4 0 4 1 4 2 4 6 4 1 4 3 4-2 4 6 4 4 4 2 4 5 4-5 4 17 4-9 4 8 4 0 4 1 4-5 4 2 4-9 4 2 4-8 4-11 4 0 4-2 4-6 4-1 4-9 4-6 4-1 4-2 4-1 4-1 4 1 4-3 4 3 4-9 4 6 4-1 4 1 4-9 4-1 4 9 4-10 4 7 4 0 4 3 4-3 4-4 4 3 4-8 4-1 4 8 4 4 4-3 4-11 4 5 4-8 4 21 4-7 4-8 4-4 4-6 4 9 4 3 4-8 4 4 4-5 4-2 4-2 4 6 4 2 4-4 4 1 4-5 4-3 4 8 4 1 4-5 4-10 4 6 4-3 4-7 4 13 4-12 4 13 4 1 4-9 4 14 4-1 4-15 4 13 4-8 4 2 4 8 4-8 4 0 4 7 4-4 4-7 4 10 4-8 4 17 4-1 4-6 4-13 4 17 4-2 4-13 4 11 4 1 4-8 4 8 4 1 4 7 1-17"/>
<path stroke="#EDB120" d="M1031 407l4-4 4-2 4-8 4-3 4 0 4 2 4-1 4-6 4 5 4-5 4 2 4-9 4 3 4-7 4 4 4-19 4-1 4-16 4-3 4-14 4-1 4-8 4-15 4-14 4-7 4-13 4 2 4-12 4-1 4-10 4-5 4-8 4-4 4-7 4-12 4-7 4-9 4-8 4-7 4-7 4 4 4-10 4 2 4-10 4 2 4-7 4 3 4-1 4-1 4-7 4 7 4-13 4 13 4-8 4 4 4 2 4-3 4-2 4 3 4 0 4 6 4-4 4 2 4-1 4-4 4-8 4 7 4 2 4-8 4 2 4 7 4-3 4-6 4 6 4 2 4-1 4 6 4 0 4-5 4 1 4 1 4 7 4-7 4-2 4-9 4-8 4-4 4 8 4-6 4 1 4-10 4-8 4 2 4 0 4-5 4-8 4 10 4 1 4 3 4-9 4-1 4 1 4-8 4 13 4 3 4-9 4-1 4 7 4-3 4 4 4-1 4-7 4-7 4 10 4-2 4-9 4 12 4-11 4 2 4 5 4 5 4-3 4-6 4-3 4 0 4 10 4-2 4-1 4 5 4-9 4 9 4-18 4 13 4 0 4-3 4 4 4 1 4 1 4 5 4-14 4 4 4-5 4 0 4-2 4-9 4 4 4-6 4 6 4 3 4-12 4 5 4 10 4-8 4-13 4 14 4 13 4-10 4 0 4 3 4-2 4 0 4 0 4 4 4 0 4 0 4-4 4 8 4-8 4 10 4-13 4 6 4 2 4-4 4-7 4 2 4 3 4 3 1 18"/>
<path stroke="#7E2F8E" d="M1031 553l4-1 4-4 4-1 4 1 4 2 4 3 4-8 4-2 4-1 4 1 4 1 4 0 4-2 4-7 4 1 4-2 4-5 4 4 4-9 4-14 4-6 4-7 4-5 4-7 4-10 4-5 4-1 4-10 4-4 4-3 4-4 4-1 4-1 4 2 4-7 4 4 4 5 4 2 4-3 4 10 4-6 4 7 4 4 4 9 4-3 4 7 4 3 4-3 4 8 4 5 4-3 4 8 4 5 4 0 4 10 4-8 4 7 4 3 4 2 4 0 4 3 4 3 4-1 4 9 4-2 4 6 4-5 4 5 4-1 4 7 4-2 4 1 4-3 4 4 4 0 4 2 4 5 4 3 4-1 4 2 4-2 4-2 4-3 4-2 4-9 4-8 4-14 4-25 4-31 4-37 4-42 4-19 4-21 4-17 4-18 4-22 4-9 4-19 4 0 4-18 4 0 4-11 4-4 4-7 4 0 4-6 4-2 4 4 4-2 4-10 4 8 4 4 4-12 4 2 4 4 4-8 4 9 4 0 4 4 4-7 4-4 4 5 4 10 4-1 4-2 4-7 4 6 4-2 4 1 4 1 4-8 4 6 4-4 4 8 4 3 4-1 4-9 4 9 4-3 4-2 4 10 4-2 4-9 4-1 4 7 4-2 4-1 4 5 4 7 4-17 4 6 4 3 4 0 4-1 4-6 4 11 4-10 4 4 4-6 4-1 4 7 4-1 4 0 4 5 4 3 4-19 4 24 4-6 4 10 4-5 4 6 4-14 4-6 4 9 4 10 4-14 4-4 1 6"/>
<path stroke="#77AC30" d="M1031 413l4-1 4 1 4-5 4 0 4-4 4 5 4-3 4 4 4 1 4-10 4 2 4-9 4-5 4-7 4-4 4-3 4-13 4-6 4-10 4-5 4-13 4-2 4-1 4-13 4-19 4 3 4-10 4-6 4-7 4-9 4-4 4-5 4-11 4-10 4-3 4-15 4-6 4-15 4 6 4-7 4-6 4 1 4 5 4-4 4 4 4 5 4-5 4 5 4-4 4 5 4-6 4-1 4-3 4-2 4-1 4-8 4 5 4-5 4 2 4 0 4-12 4 9 4-1 4 3 4-2 4 6 4 2 4-1 4 12 4 8 4-5 4 7 4-2 4 6 4-2 4 9 4 3 4-3 4 4 4-7 4 4 4-6 4-5 4 0 4-6 4 2 4-1 4-5 4-3 4 0 4-5 4 1 4-2 4 2 4-9 4 12 4 1 4 2 4-7 4-2 4 2 4-4 4-1 4 12 4-5 4-2 4 2 4 5 4-8 4-1 4 15 4-5 4-6 4 6 4-9 4 3 4-8 4 9 4 5 4-4 4 0 4 1 4 5 4-4 4-12 4 2 4 1 4 6 4-14 4 7 4 3 4-1 4-2 4 3 4-5 4 12 4-4 4-4 4 1 4-4 4 0 4 0 4 4 4-4 4 6 4 5 4-4 4-1 4-1 4-14 4 14 4-5 4-9 4 15 4 4 4-10 4-2 4 5 4-13 4 21 4-10 4-10 4 2 4-7 4 17 4-18 4 25 4-6 4-8 4-8 4 9 4 8 4 6 4-9 4 9 4-9 4 2 1 13"/>
<path stroke="#4DBEEE" d="M1031 453l4 2 4-4 4-2 4-5 4 4 4 0 4-4 4-4 4 4 4-5 4-1 4-4 4-5 4-6 4-9 4-1 4 0 4-7 4-2 4-13 4-11 4-1 4-8 4-11 4-1 4-6 4-18 4-5 4-9 4-3 4 5 4-7 4-5 4 3 4-8 4-1 4 4 4-8 4 0 4 3 4 0 4 2 4-4 4 7 4-5 4 3 4 4 4-6 4 5 4 5 4-2 4-3 4 1 4 2 4-6 4 4 4 3 4 0 4-12 4 18 4 5 4-11 4 1 4 9 4 1 4 3 4 12 4-2 4 4 4 11 4 1 4 9 4-1 4 10 4 10 4 1 4 7 4 10 4-4 4 8 4-14 4-3 4-11 4-19 4-18 4-27 4-30 4-20 4-13 4-15 4-13 4-7 4-5 4-3 4-2 4-6 4-1 4-4 4 5 4-1 4-2 4 0 4-2 4 0 4 2 4 3 4-1 4-2 4 7 4-4 4 4 4 2 4-6 4-7 4 18 4-14 4 0 4 2 4 1 4-2 4 7 4-5 4-13 4 4 4 3 4 0 4 1 4 9 4-5 4 0 4 3 4-1 4-4 4 5 4-3 4 2 4 5 4-5 4 2 4 2 4-7 4 6 4-10 4 10 4-2 4-3 4-4 4 6 4 0 4-4 4 9 4 1 4-3 4-3 4 0 4 6 4-8 4-10 4 7 4-1 4 10 4-3 4-6 4 0 4 2 4 7 4-13 4 14 4-11 4 0 4-4 4 3 4 17 4-7 4 7 4-12 4 10 1-1"/>
<path stroke="#A2142F" d="M1031 458l4 1 4-9 4 1 4 3 4-5 4-5 4-1 4-9 4 5 4 1 4-1 4-10 4-2 4-10 4-1 4-8 4-5 4-4 4 0 4-16 4-1 4-9 4-7 4-5 4-11 4-2 4-14 4-5 4 0 4-11 4-1 4-3 4-5 4-3 4-4 4-4 4 2 4-11 4 2 4-3 4-4 4 4 4-1 4 4 4-5 4 5 4 4 4 3 4-1 4-1 4 1 4-3 4 7 4-2 4 6 4-3 4-10 4 11 4 0 4 2 4 1 4 7 4-1 4 4 4 2 4 7 4 4 4 3 4 0 4 18 4 2 4 9 4 1 4 12 4 0 4 12 4 2 4 7 4-2 4-7 4 4 4-10 4-6 4-18 4-24 4-17 4-25 4-17 4-14 4-18 4-7 4-18 4 2 4-13 4-2 4-4 4-4 4-3 4 7 4 0 4 2 4-10 4 2 4-2 4-2 4 2 4-2 4 12 4 4 4-11 4 1 4 2 4-2 4 2 4-11 4 11 4-2 4-10 4 12 4 7 4-8 4 1 4 2 4-9 4 1 4-9 4 16 4-5 4-3 4 12 4-9 4 7 4-8 4 9 4 1 4 1 4 1 4 2 4-11 4-4 4 4 4 0 4 8 4 2 4-2 4-2 4-5 4 5 4-3 4 9 4-11 4-4 4 12 4-11 4 5 4 8 4-5 4-3 4-5 4 3 4-6 4 13 4-2 4 0 4 0 4-8 4 1 4-1 4 10 4 5 4-7 4 4 4-4 4 16 4-15 4 5 4-6 1-5"/>
<path stroke="#0072BD" d="M1031 481l4-1 4-7 4-4 4 2 4-4 4 2 4-8 4 0 4 2 4 1 4-9 4-3 4-6 4-3 4-4 4-9 4 0 4-11 4-4 4-6 4-8 4-6 4 0 4-10 4-7 4-13 4-9 4 0 4-10 4-3 4-1 4-5 4 3 4-7 4 6 4-3 4 0 4-9 4 1 4 4 4 5 4-7 4 8 4-3 4 11 4-6 4 17 4-4 4 3 4 3 4-4 4 8 4 2 4 0 4 6 4-8 4 5 4 4 4-6 4 2 4 9 4 1 4 2 4 0 4 9 4-7 4 6 4 9 4 2 4-3 4 10 4 11 4 1 4 8 4 7 4 8 4 4 4 5 4-7 4 11 4-4 4-9 4-10 4-23 4-21 4-39 4-34 4-24 4-26 4-22 4-21 4-1 4-13 4-6 4 3 4 1 4-6 4 2 4-2 4-5 4 1 4-5 4 1 4 10 4-10 4 7 4-11 4 7 4 2 4-5 4 0 4 1 4 1 4 1 4-5 4 7 4-4 4 0 4-1 4 3 4-2 4-7 4 4 4 3 4 4 4-10 4 10 4-3 4 1 4 8 4-5 4-2 4 5 4-16 4 6 4 7 4 3 4-2 4-12 4 8 4 3 4 6 4-13 4 9 4-18 4 21 4-4 4-6 4 13 4-12 4-2 4 12 4-10 4 4 4 6 4-13 4 16 4-14 4 12 4-27 4 37 4-18 4 13 4-14 4-2 4 5 4-10 4 9 4-8 4 10 4-11 4 6 4 2 4-6 4 16 4 2 4-23 1 12"/>
<path stroke="#D95319" d="M1031 556l4-7 4 7 4 0 4-5 4 1 4 3 4-1 4 3 4-3 4 2 4-3 4-10 4 6 4-3 4-1 4-3 4-1 4-4 4-11 4-2 4-12 4-12 4-8 4-5 4-9 4 1 4-5 4-6 4-9 4-4 4-3 4-2 4 1 4 4 4-4 4 2 4-2 4 2 4 4 4 9 4-1 4 4 4 1 4 7 4 7 4 0 4-2 4 6 4 3 4 2 4 6 4 7 4-6 4 7 4 2 4 3 4 2 4 4 4 0 4 6 4 4 4 1 4-3 4 5 4 6 4-3 4-1 4 3 4 0 4 5 4 0 4 2 4 0 4 5 4-1 4 3 4-2 4 1 4 0 4 3 4-5 4 1 4-6 4 0 4-4 4-17 4-18 4-18 4-32 4-38 4-41 4-21 4-30 4-13 4-23 4-12 4-15 4-14 4-8 4-11 4-4 4-8 4-3 4-1 4-3 4-2 4-9 4 9 4-6 4 5 4-5 4-2 4 6 4 1 4-2 4-7 4 2 4 7 4-4 4-6 4 4 4 0 4 4 4-1 4-2 4-6 4 3 4-9 4 15 4 0 4 0 4 5 4-6 4-4 4 7 4 5 4-8 4-1 4 13 4-25 4 12 4 6 4-1 4 8 4-12 4 12 4-10 4 9 4-2 4-7 4 6 4-2 4-2 4 2 4 11 4-15 4 13 4-9 4 6 4-10 4-3 4 4 4-5 4-1 4-7 4 14 4-5 4 13 4-9 4-2 4 10 4 7 4-29 4 17 4 8 4-7 4 3 1-12"/>
<path stroke="#EDB120" d="M1031 410l4-10 4 3 4 8 4-12 4 0 4 0 4 2 4-11 4-3 4-4 4 5 4-2 4-6 4-12 4-2 4-7 4 7 4-23 4-1 4-2 4-12 4-3 4-15 4-12 4-7 4-1 4-17 4-10 4-9 4-5 4 3 4-16 4-10 4-1 4-18 4-7 4-13 4-6 4-4 4 6 4-5 4-5 4-2 4-8 4 1 4 3 4-1 4-9 4 0 4-7 4 1 4-1 4-6 4 1 4-3 4 8 4-5 4-9 4 1 4 1 4 2 4 10 4-6 4 6 4-4 4 3 4-4 4 11 4-10 4 8 4-6 4 8 4-4 4 0 4 6 4 5 4-7 4 0 4 8 4-4 4-1 4 1 4 1 4-5 4-7 4 0 4 1 4-12 4 6 4-4 4 8 4-5 4-2 4-3 4-7 4 2 4 0 4 1 4-5 4 4 4 2 4-1 4-4 4-12 4 9 4 7 4-2 4-5 4-1 4 3 4-2 4 8 4-11 4 3 4-1 4 3 4-2 4 1 4-4 4 2 4 2 4 1 4 1 4 0 4 9 4-16 4 6 4 5 4-2 4 11 4-7 4 6 4-9 4-6 4 26 4-20 4 6 4-6 4 3 4-7 4-2 4 12 4-6 4 5 4-7 4-2 4 13 4-8 4 1 4-11 4-3 4 26 4-13 4 0 4-4 4 3 4 8 4-7 4-10 4 1 4-6 4 10 4 12 4-6 4-19 4 21 4-13 4 14 4-2 4 9 4-7 4 3 4-23 4 9 4 4 4 11 4 2 1-16"/>
<path stroke="#7E2F8E" d="M1031 477l4 0 4-2 4-12 4 6 4 2 4-8 4-2 4-1 4-9 4-7 4-2 4 3 4-7 4-11 4-3 4-3 4-11 4-9 4-2 4-2 4-4 4-15 4 1 4-12 4-5 4-7 4-7 4-6 4-1 4-3 4-4 4-4 4 12 4-12 4 8 4-8 4 6 4-8 4-3 4 10 4 5 4-11 4 7 4 2 4 1 4 2 4 0 4 9 4 0 4-3 4 3 4 1 4 2 4-4 4-4 4 3 4-6 4 10 4 2 4-4 4 4 4 5 4-2 4 1 4 5 4-1 4 9 4 11 4-1 4-2 4 13 4 9 4 7 4 1 4 14 4 5 4 3 4 9 4 0 4 3 4-10 4-10 4 3 4-20 4-18 4-33 4-40 4-26 4-22 4-26 4-8 4-16 4-5 4-7 4 1 4-3 4-11 4 7 4-9 4 2 4 10 4-12 4 2 4 1 4 4 4-1 4 4 4-6 4 6 4 0 4 2 4-12 4-6 4 16 4-10 4-4 4 14 4-11 4 6 4 7 4-1 4-5 4-3 4-1 4 10 4-8 4 2 4-1 4 5 4-1 4-14 4 9 4-1 4 4 4 6 4-10 4-1 4-3 4 0 4 7 4-3 4 7 4-1 4-6 4 9 4-6 4 0 4-4 4-2 4-2 4 13 4-19 4 7 4 9 4-2 4-4 4 5 4-3 4 18 4-24 4 1 4 0 4 17 4-13 4 8 4-7 4 9 4 9 4-9 4-8 4 7 4-2 4-6 4 14 4-20 4 15 4-1 1-6"/>
<path stroke="#77AC30" d="M1031 544l4 4 4 1 4-1 4 2 4-1 4-3 4 1 4 1 4 0 4-3 4-3 4-1 4 0 4-6 4-1 4-4 4-1 4-9 4-2 4-8 4-7 4-6 4-3 4-7 4-11 4-4 4-2 4-8 4-7 4 0 4-3 4-1 4-2 4 2 4 0 4 1 4-6 4 8 4 2 4 4 4-1 4 7 4 5 4-6 4 13 4-6 4 6 4 4 4 1 4 6 4 2 4 4 4-3 4 10 4-2 4 7 4 2 4-1 4 2 4 8 4-1 4 3 4 2 4 1 4 8 4-1 4 2 4 7 4-5 4 3 4-6 4 2 4 2 4 7 4 2 4 0 4 3 4-2 4 1 4 2 4-1 4-1 4-5 4-1 4-15 4-8 4-17 4-23 4-30 4-38 4-37 4-25 4-23 4-19 4-16 4-18 4-7 4-12 4-18 4-4 4-9 4 1 4-14 4 5 4-2 4-4 4-3 4 1 4-3 4-12 4 6 4 0 4 1 4-4 4-4 4-2 4 14 4 1 4-10 4 9 4-9 4 5 4 4 4-7 4 1 4 5 4-5 4-1 4 5 4 1 4 6 4-3 4-7 4 10 4-3 4-7 4 4 4 9 4-12 4-1 4 10 4-3 4-1 4 3 4-8 4 9 4 0 4 6 4-10 4-1 4 6 4-11 4 0 4-8 4 15 4-7 4 1 4-1 4 7 4-2 4-4 4 1 4 3 4-7 4 14 4-10 4 7 4-4 4 11 4 0 4-6 4 1 4-2 4 24 4-9 4-8 4-1 1 7"/>
<path stroke="#4DBEEE" d="M1031 445l4 0 4-1 4-2 4-4 4-3 4-1 4-9 4 0 4-6 4-8 4 4 4 1 4-9 4-8 4-3 4 2 4-9 4-8 4-5 4-12 4 2 4-12 4-14 4-9 4-3 4-12 4-9 4-3 4-6 4-5 4-11 4-6 4 1 4-10 4-5 4-15 4 0 4-7 4 2 4 0 4 0 4-3 4 5 4 2 4-5 4 11 4-9 4 11 4-4 4 6 4 2 4-1 4-3 4 0 4-7 4 4 4 1 4-10 4 9 4-3 4-3 4 5 4 1 4 7 4-4 4-4 4 13 4-1 4 3 4 6 4 3 4 4 4 10 4 2 4 2 4 12 4-3 4 10 4 4 4 2 4-5 4-7 4-20 4-7 4-16 4-18 4-24 4-11 4-15 4-8 4-9 4-11 4-10 4-8 4 5 4-6 4-7 4 3 4-2 4-7 4 3 4-4 4 3 4 4 4-2 4-2 4-5 4 1 4-3 4 6 4-5 4 2 4 5 4-19 4 8 4 1 4 6 4-6 4-5 4 2 4-5 4 1 4 2 4-5 4-5 4 7 4-1 4 1 4-4 4 0 4 3 4-4 4-2 4 12 4-2 4-5 4-8 4 13 4-5 4 1 4 5 4 5 4-8 4 3 4 0 4 0 4 7 4-12 4 3 4-3 4-2 4 10 4-11 4 1 4 1 4 8 4-6 4 3 4-8 4 9 4-4 4-8 4 8 4 6 4-11 4-6 4 15 4 3 4-21 4 20 4-9 4 1 4 8 4-11 4 6 4-6 4-3 1-13"/>
<path stroke="#A2142F" d="M1031 397l4 7 4-12 4 1 4-12 4 5 4-4 4-3 4-1 4 0 4-2 4 3 4 1 4-8 4-2 4-10 4 1 4-11 4 3 4-13 4-16 4-4 4-7 4-18 4-6 4-13 4-6 4-10 4-8 4-11 4-6 4-7 4-12 4 0 4-8 4-6 4-6 4-17 4-6 4-5 4-7 4 3 4-9 4-6 4 0 4-1 4 0 4 1 4-4 4-3 4 0 4-6 4 16 4-5 4-3 4 1 4-5 4-1 4-3 4 3 4 7 4-7 4 2 4-9 4-2 4 4 4-9 4 9 4-5 4-5 4 1 4 5 4-13 4 20 4-2 4-5 4 9 4 0 4-4 4 0 4 2 4-2 4-9 4 2 4-12 4 4 4-4 4 0 4 1 4-8 4 6 4-3 4-7 4 6 4-1 4-1 4 3 4-6 4 1 4-4 4 7 4-5 4-3 4 3 4-6 4 9 4-8 4 7 4-9 4 5 4-7 4 7 4 5 4-6 4 1 4 11 4-12 4 8 4-12 4-2 4 13 4-11 4 2 4 2 4 5 4-8 4 0 4 0 4 11 4-11 4 3 4 4 4 0 4-4 4 8 4-8 4-3 4 7 4-1 4-5 4-3 4 6 4-10 4 11 4 0 4-6 4 7 4-5 4-11 4 8 4 5 4-13 4 10 4-4 4-3 4 11 4-15 4 16 4-15 4 5 4-3 4-3 4 6 4-4 4 3 4-4 4 9 4 2 4-6 4-1 4 10 4-12 4-22 4 27 4 3 4 10 4-11 4 1 1 16"/>
<path stroke="#0072BD" d="M1031 452l4-2 4 0 4-2 4-9 4 1 4-2 4 14 4-13 4-11 4 1 4 0 4-18 4-1 4-1 4-11 4-4 4 0 4-13 4-6 4-14 4-5 4-7 4-4 4-12 4-3 4-10 4-17 4-3 4 0 4-7 4-1 4-1 4-4 4 3 4-5 4-14 4 3 4-2 4 0 4 4 4-3 4-3 4-3 4 1 4 3 4-7 4 1 4 1 4-2 4 1 4-4 4 1 4-4 4-3 4-1 4-2 4-2 4 7 4-6 4-3 4 3 4 3 4 7 4 0 4 2 4 9 4-3 4 13 4 9 4 7 4 0 4 13 4 12 4 13 4-9 4 23 4 2 4 1 4 4 4-8 4-6 4-12 4-20 4-13 4-36 4-21 4-18 4-20 4-14 4-19 4-11 4-10 4-7 4-3 4-8 4 1 4 0 4-1 4-9 4 1 4-6 4 5 4-1 4-1 4 1 4 1 4 2 4-4 4-7 4 5 4 3 4-9 4 1 4 5 4-7 4 8 4-11 4 7 4 3 4-8 4 7 4-6 4 5 4-5 4 1 4-2 4 0 4-8 4 3 4 1 4 0 4-4 4 1 4-3 4 1 4 3 4-3 4-2 4-5 4 18 4-9 4 12 4-12 4 8 4-6 4-2 4 1 4-4 4 7 4-4 4-5 4 5 4-6 4 12 4-3 4-11 4 15 4 2 4 3 4-4 4-3 4 7 4-13 4 4 4 5 4-5 4 8 4 3 4-24 4 3 4 18 4-14 4-2 4 29 4-25 4-4 4 5 1-9"/>
<path stroke="#D95319" d="M1031 433l4 2 4-3 4 4 4-4 4-5 4-2 4-2 4-2 4-4 4-4 4 3 4-13 4 4 4-12 4-6 4-7 4-1 4-20 4-2 4-5 4-12 4-12 4-11 4-8 4-9 4-9 4-6 4 0 4-13 4-7 4-3 4-2 4-9 4 0 4 1 4-11 4-10 4 0 4-3 4 6 4-10 4 0 4 2 4-7 4 6 4-5 4 10 4-4 4-1 4-10 4 2 4 0 4-3 4-1 4-7 4 0 4-4 4 2 4-4 4-1 4 4 4 6 4-6 4 12 4 5 4-2 4 2 4 12 4 5 4 7 4 4 4 1 4 15 4-4 4 15 4 0 4 5 4 4 4-5 4 1 4 5 4-12 4-16 4-5 4-8 4-11 4-4 4-2 4 2 4-12 4 6 4-11 4-1 4 4 4-4 4 0 4-4 4-1 4 4 4-11 4 5 4 2 4 5 4-6 4-2 4 1 4-7 4-1 4 2 4 7 4 1 4-5 4 9 4-8 4-1 4 3 4-6 4 1 4 7 4 9 4-10 4-1 4 9 4-3 4-3 4-6 4 13 4 7 4-14 4-3 4 6 4 5 4-7 4 10 4-13 4 0 4 2 4-2 4 1 4 7 4-16 4 4 4 5 4-3 4 11 4-7 4 9 4-8 4 5 4 5 4-11 4 4 4 1 4-6 4 5 4 5 4 16 4-16 4 5 4-6 4 8 4-4 4-4 4 8 4-2 4 5 4 0 4-7 4-13 4 22 4-4 4-10 4-3 4 8 4 0 4 2 4 2 1-10"/>
<path stroke="#EDB120" d="M1031 430l4-3 4-1 4 4 4 1 4-13 4-3 4-4 4-1 4 1 4-18 4 0 4-2 4-12 4 2 4-13 4-1 4-8 4-9 4-3 4-6 4-1 4-15 4 3 4-12 4-5 4-9 4 1 4-12 4-5 4-6 4-11 4 5 4-14 4-3 4-4 4-12 4-6 4-9 4-2 4-7 4-2 4-4 4 3 4-3 4-8 4-3 4-2 4 6 4-4 4 1 4-5 4 9 4-6 4-4 4-5 4 7 4-4 4-3 4 1 4-3 4-4 4 1 4 0 4 6 4-4 4 1 4 14 4-6 4 2 4 10 4 3 4 2 4 2 4 9 4 2 4 3 4 13 4 0 4-3 4 0 4-12 4-2 4-18 4-10 4-20 4-22 4-11 4-13 4-9 4-13 4-13 4-3 4-8 4-2 4-8 4 4 4-10 4 1 4-6 4 3 4-2 4-1 4-2 4 2 4-4 4-11 4 16 4-15 4 8 4-15 4 19 4-8 4 3 4 0 4 1 4 12 4-8 4-9 4 11 4-1 4-2 4-6 4-1 4-4 4 12 4 1 4-9 4 15 4-8 4-5 4-2 4-8 4 6 4 4 4 3 4-14 4 7 4 8 4-12 4 7 4 1 4-2 4 11 4-5 4-6 4-2 4-6 4 1 4 10 4-15 4 6 4 9 4-12 4 0 4 9 4 6 4-7 4-2 4-8 4 14 4-1 4-7 4 3 4 2 4 5 4-21 4 1 4 6 4 7 4-7 4 6 4-13 4 18 4-21 4 35 4-25 4-2 1 7"/>
<path stroke="#7E2F8E" d="M1031 419l4-7 4 0 4-1 4-2 4-4 4 10 4-10 4 7 4-7 4-5 4 3 4-7 4 5 4-7 4-7 4 2 4-13 4-3 4-13 4-9 4 2 4-17 4-9 4-12 4-5 4-14 4-13 4-14 4 0 4-10 4-8 4-7 4-6 4-11 4-5 4-18 4-6 4-2 4-3 4-3 4 0 4-3 4-1 4 3 4 4 4-14 4 9 4-1 4-4 4-2 4 9 4-7 4-3 4 3 4-6 4 4 4-5 4-1 4-4 4 5 4-7 4 4 4 7 4 4 4 0 4 2 4-2 4 4 4 6 4 8 4-2 4 1 4 10 4-9 4 10 4-1 4 8 4 2 4-2 4 1 4-6 4-1 4-5 4-7 4-1 4-4 4-1 4-8 4 0 4-5 4 0 4-2 4-2 4-5 4-1 4 0 4-2 4-1 4-1 4 1 4-4 4 4 4-9 4 3 4 2 4-1 4 1 4 1 4-4 4 1 4 0 4 8 4-7 4-3 4-2 4 11 4-13 4 2 4 5 4-3 4-1 4 1 4-8 4 5 4-5 4-2 4 2 4-3 4 0 4 3 4 1 4-8 4 5 4 9 4-9 4-4 4-3 4 4 4-1 4 3 4-1 4 1 4-2 4 6 4-2 4-12 4 11 4-2 4-3 4 8 4-5 4-2 4-15 4 0 4 14 4 1 4-2 4 7 4-12 4 1 4 0 4 9 4-12 4 11 4-2 4-20 4 12 4-13 4 8 4 9 4 3 4-17 4 0 4 11 4-6 4 1 4-20 1 28"/>
<path stroke="#77AC30" d="M1031 400l4-6 4-10 4-4 4-2 4-1 4-9 4 2 4-5 4 0 4-6 4-3 4 1 4-1 4-5 4-8 4 5 4-15 4-4 4-10 4 3 4-16 4-1 4-12 4-7 4-6 4-5 4-7 4-6 4-7 4-6 4-11 4-7 4-13 4-3 4-9 4-9 4-8 4-15 4-1 4-2 4-6 4 6 4-5 4-13 4 7 4-5 4-4 4-12 4 5 4-7 4-6 4 4 4-6 4-3 4-1 4-8 4 8 4-9 4-8 4 5 4 3 4-4 4 0 4 5 4-4 4 3 4 5 4-9 4 2 4 3 4 1 4 0 4 2 4-3 4-3 4-5 4 5 4-2 4 4 4-3 4 1 4 1 4-11 4 4 4 1 4-4 4-3 4-5 4-2 4-4 4 4 4 6 4-7 4 2 4-1 4-11 4 2 4 2 4 4 4-4 4-7 4 5 4 3 4-10 4 2 4 2 4 5 4-5 4-8 4 6 4 3 4 0 4 9 4-11 4 3 4-3 4 5 4-2 4 4 4-8 4 4 4-1 4 6 4-10 4 6 4 5 4-6 4 6 4-2 4 2 4-5 4 1 4-1 4 0 4 1 4 2 4 6 4 0 4-5 4 3 4-8 4-2 4 18 4-14 4-1 4 8 4-6 4 2 4 3 4-3 4 5 4-11 4 9 4-1 4-3 4-6 4 10 4-15 4-3 4 16 4 1 4-14 4 4 4 9 4 3 4-13 4 4 4-22 4 11 4 4 4 16 4-6 4 4 4-12 4 7 4-5 4 16 1-6"/>
<path stroke="#4DBEEE" d="M1031 439l4 8 4-10 4-2 4-7 4-1 4 9 4-6 4 0 4-6 4 1 4 4 4-9 4-2 4-1 4-7 4 1 4-8 4 1 4-14 4-2 4-6 4-7 4-12 4-9 4-7 4-11 4-12 4-5 4-4 4-14 4 2 4-11 4-2 4-11 4-6 4 1 4-10 4-4 4-4 4 1 4-1 4-2 4 0 4 0 4 4 4-4 4 7 4-7 4 1 4 8 4-1 4 5 4-4 4 2 4-1 4 4 4-2 4 4 4 1 4-1 4 4 4 2 4 2 4-2 4 13 4 3 4 6 4 1 4 3 4 9 4 3 4 7 4 2 4 11 4 6 4 5 4 2 4 7 4-6 4-3 4-5 4-11 4-8 4-25 4-23 4-26 4-34 4-27 4-21 4-21 4-17 4-17 4-15 4-2 4-4 4-1 4-9 4 0 4 2 4-7 4 1 4-4 4 0 4-3 4 4 4 3 4 0 4-9 4 7 4 1 4-13 4 4 4 6 4 3 4-4 4-4 4-3 4 7 4-9 4 7 4-1 4-3 4 4 4-6 4 12 4-9 4-1 4-3 4 3 4 1 4 1 4-9 4-3 4 7 4-1 4-2 4 3 4-1 4 1 4-7 4 6 4 3 4-5 4 2 4 0 4 9 4-12 4 0 4 4 4-2 4 5 4 7 4-4 4 4 4-8 4-9 4 7 4-6 4 7 4-8 4 0 4 13 4-7 4-14 4 6 4 9 4-6 4 6 4 1 4-8 4 8 4 6 4-5 4-15 4 4 4 1 4-3 1 9"/>
<path stroke="#A2142F" d="M1031 450l4 6 4 6 4-1 4-7 4 4 4-6 4-1 4-3 4-2 4-1 4-1 4-14 4 2 4-10 4-17 4 4 4-6 4-1 4-14 4-9 4-5 4-6 4-11 4-2 4-9 4-12 4 3 4-22 4-1 4 2 4-10 4 3 4-12 4 5 4-6 4-2 4-5 4-7 4 1 4 0 4-2 4 5 4-2 4-5 4-2 4 9 4 4 4 0 4 6 4-2 4 0 4-7 4 1 4 6 4-3 4 5 4-9 4 13 4-5 4 3 4-2 4-1 4 4 4 1 4 15 4-5 4 3 4 10 4 9 4-3 4 16 4 3 4 0 4 18 4 2 4 8 4 6 4-2 4 3 4 5 4-11 4-10 4-11 4-21 4-25 4-12 4-29 4-20 4-23 4-12 4-7 4-16 4-6 4-3 4 5 4-11 4 4 4-14 4 11 4-1 4-5 4 0 4-8 4 2 4 5 4-2 4-4 4 5 4-9 4 2 4 0 4 5 4 4 4-8 4 2 4-10 4 5 4-6 4 0 4 2 4-2 4-1 4 3 4-1 4 5 4 2 4-5 4-2 4 6 4-10 4 2 4-4 4-2 4-3 4 0 4 7 4 0 4-8 4 4 4-15 4 11 4-5 4 5 4-3 4-6 4 0 4 1 4-1 4 2 4-3 4 6 4 6 4-17 4 15 4-19 4 13 4 8 4-8 4-4 4-12 4 15 4-6 4-7 4 6 4 0 4-18 4 1 4 2 4 4 4-7 4 21 4-6 4-7 4-3 4 8 4-11 4 10 1-1"/>
<path stroke="#0072BD" d="M1031 424l4 0 4-3 4 0 4-4 4 0 4-2 4 6 4-7 4-5 4-7 4 8 4-3 4 0 4-7 4 0 4-13 4-2 4-14 4-2 4-10 4-2 4-10 4-14 4-8 4-8 4-14 4-8 4-7 4-8 4-3 4-6 4-1 4-7 4-5 4-4 4-11 4-6 4-3 4-1 4-3 4-5 4 1 4 0 4 1 4-4 4 0 4-3 4-4 4 10 4-5 4-2 4 3 4-1 4-3 4-2 4-3 4 1 4 9 4 5 4-4 4-1 4 4 4 2 4 7 4-2 4-5 4 4 4 5 4 7 4-5 4 4 4 5 4-6 4 8 4 13 4 2 4 2 4 7 4-2 4 0 4-6 4 0 4 2 4-12 4-11 4 0 4-8 4-8 4-2 4-8 4-10 4 5 4-7 4-3 4 3 4 0 4-2 4-4 4-5 4 10 4-9 4 3 4-15 4 13 4 0 4 5 4-16 4 4 4 4 4-1 4 1 4-3 4 2 4 6 4-9 4 4 4 3 4 0 4 6 4-3 4-9 4 2 4 5 4-6 4 10 4-8 4-5 4 10 4-10 4-4 4 7 4-5 4 2 4-4 4 9 4-1 4 5 4-10 4 8 4-9 4 12 4 2 4-9 4 13 4-8 4 5 4-5 4-12 4 6 4 11 4-6 4 2 4 12 4-9 4-1 4 8 4-5 4-3 4-3 4 2 4-1 4-3 4 1 4 5 4 1 4-9 4 10 4-3 4-9 4 6 4 7 4 6 4-24 4 17 4-14 4 8 4 4 1 5"/>
<path stroke="#D95319" d="M1031 552l4-1 4-3 4-1 4 3 4-3 4 1 4-1 4 2 4-3 4 9 4-8 4-3 4-2 4-4 4-2 4-2 4-3 4-4 4-8 4-15 4-5 4-11 4 1 4-12 4-5 4-5 4-6 4-2 4-7 4-7 4-1 4-3 4-4 4 2 4 0 4-2 4 4 4-1 4 6 4 0 4 7 4 4 4 5 4 5 4-1 4 5 4 4 4 3 4 0 4 1 4 5 4-2 4 6 4-1 4 10 4-4 4 8 4-1 4 6 4 1 4 6 4 1 4 4 4 1 4 2 4 1 4 6 4 2 4 1 4-1 4 6 4 1 4 6 4-3 4 4 4 0 4 1 4 8 4-4 4-3 4 5 4-1 4-5 4-2 4-8 4-9 4-17 4-16 4-36 4-33 4-39 4-32 4-15 4-28 4-9 4-19 4-17 4-13 4-7 4-22 4 0 4-6 4-10 4 0 4-3 4-4 4-1 4-9 4 3 4 2 4 4 4-10 4 9 4 4 4-13 4 0 4 3 4 0 4-4 4 10 4-3 4 9 4-17 4 17 4-6 4 4 4-10 4-3 4 14 4-11 4 5 4 1 4 4 4-1 4-9 4 8 4-9 4 12 4-14 4 5 4 3 4-3 4 1 4-2 4 2 4-2 4 9 4 0 4-1 4-1 4 7 4-5 4 4 4 0 4 3 4-2 4-1 4 9 4-16 4 12 4-1 4 3 4-12 4-2 4 5 4 7 4-5 4-3 4-6 4-3 4 16 4 8 4-10 4-8 4 7 4 2 4-22 1 9"/>
<path stroke="#EDB120" d="M1031 517l4-7 4 2 4 0 4-14 4 6 4 2 4-3 4-1 4-1 4-7 4-3 4-2 4-8 4 2 4-3 4 3 4-11 4-8 4-15 4 3 4-8 4-8 4-10 4-7 4 0 4-11 4-5 4-5 4-3 4-3 4-6 4 2 4-2 4-6 4 4 4 1 4 3 4-2 4 3 4 5 4 3 4 7 4 5 4 10 4 7 4-1 4 7 4 4 4-4 4 3 4 10 4-2 4 0 4-2 4 7 4 2 4-5 4 12 4-1 4-1 4-2 4 13 4-6 4-4 4 21 4-3 4 0 4 4 4 5 4-7 4 17 4-9 4 10 4-1 4-6 4 14 4-1 4-3 4 8 4 0 4 1 4-3 4-6 4-2 4-17 4-25 4-27 4-39 4-38 4-35 4-26 4-33 4-12 4-8 4-18 4-5 4-8 4-10 4-3 4 5 4 0 4-8 4 2 4-3 4 7 4 2 4-4 4 6 4-2 4 0 4 7 4-5 4-5 4 0 4 5 4 0 4 4 4-6 4 2 4-7 4 10 4-3 4-1 4 2 4-5 4 2 4 1 4-4 4-8 4 15 4-12 4 8 4 8 4-10 4 0 4-1 4 4 4-4 4-3 4 8 4-14 4 6 4-1 4 2 4 4 4-2 4-2 4 3 4-9 4 19 4-7 4 7 4-2 4-10 4 9 4-4 4-2 4-5 4 7 4 1 4-1 4-2 4 11 4-6 4 7 4-7 4 7 4-4 4 8 4 10 4-18 4 29 4-21 4-8 4 4 4-7 4 6 1 16"/>
<path stroke="#7E2F8E" d="M1031 464l4-3 4 2 4 0 4-9 4 1 4-4 4 1 4-3 4 0 4-2 4 4 4-11 4-3 4 1 4-4 4 0 4-6 4-5 4-6 4-7 4 2 4-2 4-10 4-4 4-6 4-1 4-9 4-2 4-1 4-10 4-2 4-1 4-1 4-1 4 0 4-8 4 1 4 1 4 8 4 5 4 3 4 7 4 7 4 7 4 8 4 2 4 4 4 5 4 4 4-1 4 3 4 2 4 6 4 0 4 3 4 2 4-2 4 6 4 1 4-2 4 12 4-3 4 11 4-10 4 4 4 4 4-6 4 11 4 2 4-1 4 8 4 1 4-1 4 1 4 7 4 5 4-4 4 8 4-1 4 6 4-7 4-5 4-8 4-12 4-9 4-24 4-36 4-38 4-41 4-20 4-20 4-25 4-16 4-11 4-8 4-6 4-6 4 1 4-10 4-1 4-5 4 12 4-2 4-8 4 4 4 3 4-6 4-4 4 3 4-4 4 11 4-6 4 0 4 0 4 2 4-4 4 10 4-9 4 7 4 3 4-3 4 0 4-1 4 2 4-5 4 0 4-6 4 3 4 3 4 6 4 2 4 1 4-9 4-3 4 5 4 2 4 5 4-7 4-3 4-5 4 12 4-1 4-2 4 3 4-1 4-4 4-7 4 15 4-9 4 7 4-6 4 15 4-13 4-2 4 7 4 0 4 1 4 4 4 6 4-11 4-10 4 20 4-15 4 4 4 3 4 20 4-32 4 18 4 6 4-9 4-15 4 13 4 9 4-15 4 23 4 0 4-11 1 3"/>
<path stroke="#77AC30" d="M1031 424l4-2 4-2 4-6 4 4 4-4 4-3 4-10 4 2 4-8 4 4 4-12 4-6 4 2 4-10 4-9 4-11 4-3 4-1 4-7 4-12 4-5 4-8 4-6 4-20 4-7 4 1 4-6 4-16 4 3 4-11 4-4 4-11 4-8 4-5 4-7 4-17 4-5 4-10 4-1 4 3 4-7 4-9 4-1 4 8 4-9 4 6 4-5 4-2 4 2 4 0 4-1 4 1 4-3 4 7 4-6 4 4 4-2 4-3 4-7 4 11 4 4 4-1 4 0 4-5 4 6 4-6 4 3 4-2 4-4 4-2 4 6 4 0 4 3 4 0 4 6 4-2 4 2 4 1 4-6 4-3 4 4 4-16 4-6 4-11 4-7 4-7 4-16 4-3 4-8 4-7 4-8 4 0 4-9 4-4 4 6 4-14 4 4 4 3 4-6 4 5 4-5 4 2 4 4 4 6 4-4 4-10 4 1 4 2 4 1 4 4 4-8 4-2 4 0 4 8 4-2 4-5 4 2 4-4 4 4 4-1 4 1 4-7 4-2 4 2 4 4 4-7 4 4 4-4 4-5 4 9 4-5 4 1 4-6 4 15 4-13 4 4 4 0 4 6 4-2 4 3 4-10 4 8 4-3 4-7 4 7 4-3 4 5 4 3 4-10 4 1 4-4 4 11 4-8 4 5 4-7 4-11 4 25 4-7 4 3 4-7 4-1 4-1 4-3 4-2 4 4 4-5 4-2 4 19 4-10 4 14 4 0 4-13 4 4 4 1 4-5 4 1 4 6 1-6"/>
<path stroke="#4DBEEE" d="M1031 433l4 8 4-6 4-9 4-2 4 0 4-4 4 5 4-1 4-5 4 2 4-4 4-2 4-6 4-3 4-5 4-9 4-7 4 0 4-5 4-15 4-7 4-5 4-10 4-14 4-8 4-1 4-18 4-5 4-11 4 1 4 2 4-2 4-13 4 3 4-9 4 2 4-4 4-8 4-7 4 8 4-9 4 1 4-5 4-2 4 1 4 4 4-9 4 0 4 2 4-1 4-4 4 7 4-6 4 7 4-6 4-2 4 7 4 5 4-6 4 5 4-1 4 12 4-1 4 1 4-1 4 4 4-1 4-4 4 10 4 4 4 2 4 2 4 8 4 3 4 1 4 17 4-3 4 10 4-4 4 4 4-9 4-5 4-12 4-11 4-20 4-7 4-10 4-13 4-13 4-5 4-13 4-2 4-6 4 1 4-6 4 0 4 0 4-2 4-7 4 2 4 4 4 0 4-10 4-1 4 1 4 0 4 0 4-3 4 3 4-1 4 3 4-1 4-7 4-1 4-6 4 4 4 7 4-14 4-1 4 9 4-6 4 5 4 7 4-15 4 3 4 8 4-1 4 4 4-15 4-1 4 2 4 1 4-1 4-7 4 1 4 13 4-9 4 12 4-8 4 7 4-20 4 9 4 5 4-10 4 5 4-2 4 6 4-3 4 1 4 5 4 2 4-4 4-7 4 6 4-2 4-7 4-2 4 2 4 1 4-1 4 15 4-19 4 12 4-6 4 0 4 7 4-23 4 6 4 13 4 4 4-9 4-5 4 8 4-16 4-14 4 17 4 7 1 2"/>
<path stroke="#A2142F" d="M1031 404l4 2 4-7 4 1 4-9 4-6 4 1 4-2 4-8 4-3 4-1 4-5 4-3 4 2 4-7 4-8 4 6 4-9 4-8 4-7 4-15 4-13 4 2 4-17 4 1 4-11 4-14 4-7 4-4 4-8 4-8 4-9 4-2 4-16 4-7 4-11 4-1 4-17 4-3 4 7 4-10 4-4 4 1 4-7 4 11 4-14 4-1 4 6 4-11 4 3 4-1 4-2 4 1 4-1 4-6 4 7 4-8 4-3 4-7 4 8 4-5 4-2 4 7 4 1 4-4 4 8 4-10 4 5 4 1 4 3 4-2 4 0 4-2 4-3 4-1 4-1 4 3 4-1 4-2 4 0 4-8 4 1 4-1 4-6 4 3 4 0 4-12 4-3 4 13 4-6 4-8 4 8 4-10 4-3 4 1 4-1 4 10 4-7 4 0 4 10 4-13 4 4 4-2 4-2 4 9 4-4 4-3 4-1 4 1 4-5 4 2 4 7 4-7 4 11 4-3 4 0 4 0 4-1 4 9 4-2 4-9 4 14 4-8 4 1 4-7 4 1 4 3 4-2 4 5 4-6 4-6 4 6 4 9 4 0 4-9 4-5 4 3 4 2 4-2 4 5 4-2 4 8 4-10 4 4 4-11 4 7 4-4 4 5 4-1 4-5 4 9 4-4 4-15 4 9 4 1 4 1 4-1 4 8 4-5 4 6 4-10 4-6 4 9 4 4 4-11 4 2 4 11 4-6 4 2 4 6 4-5 4 7 4-3 4-17 4 10 4-11 4 22 4-16 1 8"/>
<path stroke="#0072BD" d="M1031 431l4-6 4 7 4-12 4-2 4-1 4-1 4 3 4 4 4-7 4-10 4 4 4-4 4-4 4-6 4-1 4-9 4-4 4-8 4-5 4-17 4-6 4-5 4-7 4-16 4-6 4-8 4-11 4-9 4-4 4-9 4 0 4-11 4 0 4-8 4-6 4-5 4-9 4-4 4-1 4-1 4 4 4 4 4 0 4-2 4 4 4 4 4-13 4 6 4-4 4 7 4 0 4-8 4 6 4-7 4 3 4 2 4-5 4 1 4-2 4 2 4 2 4-2 4-3 4 4 4 3 4 4 4 3 4 1 4-1 4 6 4 9 4-2 4 11 4 4 4 2 4 8 4 1 4 5 4-5 4-3 4 2 4-8 4-9 4-1 4-17 4-15 4-3 4-6 4-5 4-9 4-11 4-8 4-3 4 9 4-8 4-10 4 3 4-5 4 4 4-2 4-3 4-6 4 8 4 4 4-10 4 1 4-9 4 7 4-6 4 7 4-17 4 1 4 12 4 0 4-5 4-2 4 0 4 17 4-15 4 5 4-9 4 6 4-7 4 1 4-1 4 10 4-4 4 2 4-7 4 10 4-10 4 1 4-10 4 4 4-2 4-2 4 0 4-11 4 2 4 11 4-13 4 9 4-3 4-8 4 5 4-7 4 3 4-1 4-1 4 2 4-1 4-1 4-2 4-3 4-8 4 6 4-6 4 15 4-1 4-6 4 8 4-12 4 1 4-7 4 15 4 1 4-10 4 0 4 12 4-8 4-4 4 9 4-15 4-3 4 9 4-1 4-10 1 7"/>
<path stroke="#D95319" d="M1031 503l4 0 4-1 4-4 4-1 4 10 4-8 4-6 4 0 4-5 4-4 4-5 4 2 4-9 4-9 4-2 4-5 4-8 4-8 4 1 4-7 4-10 4 1 4-14 4-5 4-4 4-5 4-13 4-1 4-5 4 1 4-10 4 1 4 0 4 11 4-7 4 1 4 5 4 3 4 2 4 8 4-1 4 11 4 10 4 11 4 0 4-1 4 5 4 9 4 3 4-1 4 7 4 1 4 1 4-2 4 1 4 7 4 2 4 2 4-10 4 11 4-4 4 0 4 4 4 1 4 6 4 1 4 0 4 2 4 7 4-1 4 8 4-7 4 6 4-3 4 7 4-1 4 6 4 6 4 1 4-7 4 5 4-2 4-3 4-10 4-16 4-21 4-28 4-40 4-40 4-34 4-28 4-27 4-8 4-21 4-12 4-5 4-7 4-5 4 2 4-4 4 0 4-8 4 3 4 4 4-1 4-6 4 8 4-10 4 11 4-7 4 9 4-11 4 5 4 8 4-8 4 1 4 5 4 1 4-3 4 6 4 0 4-7 4 14 4-15 4 7 4 3 4-2 4-2 4-3 4 3 4 0 4 0 4-2 4 1 4-4 4 9 4-5 4 3 4-10 4-1 4 3 4 9 4-11 4 5 4 5 4-20 4 20 4-4 4 3 4 0 4-11 4 13 4-3 4-1 4-6 4 6 4 6 4-7 4 0 4-5 4 18 4-11 4 8 4 0 4-5 4-10 4 14 4-8 4-8 4 14 4-3 4-2 4 1 4 4 4-3 4 8 4-4 1-1"/>
<path stroke="#EDB120" d="M1031 420l4-2 4-1 4-4 4-7 4 3 4-10 4-5 4-4 4-10 4 4 4-7 4-9 4-3 4-11 4-1 4-3 4-12 4-9 4-11 4-9 4-10 4-7 4-11 4-5 4-14 4-2 4-7 4-7 4-6 4-7 4-7 4 0 4 0 4-3 4-19 4-2 4-4 4-11 4-3 4-6 4 5 4 2 4-7 4-5 4 4 4-2 4-9 4-8 4 2 4-1 4-16 4 0 4-5 4-9 4 5 4-6 4-2 4-11 4-1 4-4 4 1 4 1 4 1 4 2 4-4 4 4 4 0 4 8 4 1 4 2 4 0 4 5 4-1 4 4 4 11 4-1 4-1 4-7 4 10 4 4 4-6 4-7 4-4 4-4 4-9 4-3 4-7 4 0 4-15 4-2 4-5 4 3 4-13 4 7 4-6 4-2 4 0 4 1 4-6 4 1 4 5 4-4 4-1 4-4 4 0 4 9 4-6 4-2 4 3 4-7 4 2 4 9 4 0 4-2 4-2 4 1 4-7 4 3 4-9 4 5 4 6 4-7 4-1 4 3 4-8 4 3 4 2 4-3 4 3 4 3 4-5 4 6 4-9 4 2 4-6 4 15 4-7 4 6 4 4 4-1 4-8 4-5 4 2 4 3 4-13 4 15 4 1 4 4 4-3 4 0 4 2 4-8 4-1 4 2 4 0 4 1 4 3 4-13 4 1 4 3 4-8 4 23 4-19 4 5 4 2 4 0 4 7 4 9 4-23 4 0 4 0 4-1 4 6 4 4 4 2 4 1 4 2 1-16"/>
<path stroke="#7E2F8E" d="M1031 546l4 1 4 4 4-6 4 3 4 3 4 2 4-4 4 3 4-2 4 4 4-4 4-3 4-2 4-4 4 2 4-6 4 0 4-6 4-6 4-11 4-3 4-7 4-13 4-3 4-8 4-6 4-3 4-4 4-4 4-7 4-3 4-3 4 4 4-3 4 4 4-4 4 2 4 8 4-3 4 4 4 9 4 2 4-1 4 5 4 4 4 5 4-1 4 8 4 3 4 2 4-1 4 7 4-2 4 1 4 5 4-2 4 3 4 2 4 5 4-1 4 4 4 1 4 0 4 1 4 1 4 9 4-2 4 1 4-1 4 0 4 5 4 1 4-1 4 4 4 1 4 2 4 3 4-1 4 5 4-1 4 1 4 3 4-6 4-9 4-5 4-4 4-10 4-27 4-25 4-36 4-39 4-25 4-24 4-20 4-15 4-22 4-12 4-7 4-13 4-14 4-13 4 0 4-7 4 1 4-7 4 2 4-3 4 0 4-9 4 6 4-1 4 2 4-13 4 5 4 2 4-5 4-2 4 2 4 3 4 6 4-1 4 3 4-5 4 1 4 8 4-9 4 3 4 0 4 0 4 0 4 5 4 6 4-9 4 2 4-8 4 5 4-3 4 2 4 0 4-7 4 3 4-6 4 9 4-17 4 22 4-12 4 2 4 3 4 1 4 3 4-10 4 3 4 11 4-9 4-3 4 29 4-20 4 2 4 7 4-7 4 2 4 0 4-4 4 13 4-13 4 1 4 2 4-11 4 4 4 3 4-7 4-3 4 22 4-19 4-8 4 12 4 16 1-2"/>
<path stroke="#77AC30" d="M1031 445l4-7 4-3 4 2 4-3 4 0 4-10 4 0 4 4 4-5 4-4 4 5 4-13 4-5 4 0 4-3 4-9 4-7 4-5 4-8 4-3 4-5 4-16 4-4 4-11 4-12 4-9 4-3 4-6 4-17 4-2 4 6 4-12 4-10 4-9 4-2 4-6 4 1 4-11 4 3 4-1 4-11 4 6 4 2 4-5 4 3 4 0 4 0 4-3 4 1 4-1 4 2 4 1 4-5 4 2 4-2 4-1 4-9 4 8 4 5 4-2 4 1 4 3 4-2 4 6 4 11 4-5 4 3 4 8 4-2 4 1 4 6 4 10 4 1 4 13 4-2 4 15 4 2 4 5 4 0 4 3 4-7 4-1 4-18 4-8 4-5 4-27 4-14 4-6 4-19 4-15 4-7 4-8 4-11 4 0 4-5 4-8 4-1 4 2 4-3 4-7 4 3 4-6 4-2 4 10 4-4 4-1 4-2 4 1 4 3 4 4 4-14 4 8 4-5 4 6 4-6 4 4 4 6 4-1 4-11 4-1 4-1 4 0 4 1 4 6 4-6 4 0 4 6 4-4 4 4 4-14 4 15 4-11 4-1 4-3 4 8 4-6 4 4 4-3 4 3 4 1 4-1 4 3 4-5 4 3 4-12 4 8 4-2 4 4 4 8 4 0 4-16 4 7 4 4 4-18 4 1 4 7 4 3 4-1 4-5 4-1 4 11 4-1 4 8 4-13 4 3 4-9 4 1 4 11 4-12 4-3 4 11 4-5 4 14 4-17 4 9 4-3 4 1 1-6"/>
<path stroke="#4DBEEE" d="M1031 554l4-2 4 2 4-2 4 3 4-2 4 2 4-3 4 1 4 1 4 0 4 1 4-3 4-7 4 7 4-1 4-4 4-5 4 1 4-12 4-9 4 0 4-14 4-5 4-3 4-10 4-8 4-2 4-5 4-13 4 9 4-10 4-1 4-3 4 0 4 3 4-4 4 6 4 0 4 0 4 0 4 6 4 1 4 3 4 7 4 6 4-1 4 10 4-2 4 3 4 6 4-2 4-1 4 9 4 0 4 2 4 6 4 1 4 1 4 5 4 0 4 2 4-2 4 8 4-2 4-2 4 5 4 2 4 4 4 2 4 4 4-1 4-3 4 8 4 4 4-7 4 4 4 1 4 2 4 2 4-1 4-2 4 1 4-4 4-3 4-7 4-11 4-20 4-18 4-27 4-40 4-42 4-17 4-28 4-12 4-20 4-17 4-12 4-15 4-9 4-11 4-9 4-3 4 2 4-10 4-8 4-1 4-4 4 0 4-2 4 5 4-4 4-4 4 4 4 2 4-14 4 3 4 14 4-14 4 6 4-9 4 8 4 2 4-11 4 7 4 4 4-1 4 1 4-14 4 9 4 6 4-4 4-4 4 6 4 4 4 7 4-7 4-6 4 0 4 12 4-7 4 8 4-9 4 7 4-5 4 4 4 2 4-5 4 2 4 12 4 5 4-23 4 15 4-4 4 1 4-1 4 2 4-1 4-6 4-1 4 7 4-7 4 11 4-4 4 4 4-6 4-1 4 21 4-21 4-8 4 11 4-15 4 2 4 2 4 1 4 28 4-19 4-1 1 7"/>
<path stroke="#A2142F" d="M1031 451l4-5 4 1 4-3 4-4 4-3 4 0 4-6 4-4 4-5 4 1 4-5 4-5 4-8 4 1 4-21 4 8 4-2 4-15 4-8 4-3 4-3 4-5 4-9 4-12 4-12 4-6 4-2 4-16 4-4 4-4 4-2 4-3 4-6 4-1 4-8 4 1 4-12 4-3 4 1 4-8 4-3 4 1 4-5 4 6 4 1 4 8 4 4 4-1 4-2 4 0 4 4 4 4 4-12 4 4 4 5 4-2 4-2 4 6 4-9 4 0 4 6 4 1 4 2 4 4 4 0 4 0 4-1 4 16 4-4 4 12 4 2 4 10 4-2 4 5 4 15 4 2 4 3 4 3 4 5 4-3 4-6 4-2 4-18 4-13 4-10 4-17 4-15 4-4 4-9 4-7 4-5 4-5 4-4 4-9 4 0 4-4 4 2 4-4 4 5 4 0 4-5 4 7 4-7 4 2 4-2 4-6 4 5 4 11 4-7 4 2 4 0 4-5 4 6 4-11 4 18 4-11 4 1 4 3 4 1 4-7 4 3 4 10 4-6 4-3 4 1 4-3 4 2 4-4 4 7 4-8 4 2 4 4 4-3 4 4 4 0 4 6 4-5 4 3 4-2 4-7 4 8 4 4 4-1 4-6 4 1 4-6 4 5 4-5 4-1 4 7 4-6 4-6 4 32 4-31 4 4 4 12 4-1 4 3 4 2 4-1 4-3 4 10 4-5 4 4 4 1 4-14 4 10 4-11 4-3 4-2 4 15 4-3 4-9 4 7 4-2 4 6 4 7 1-12"/>
<path stroke="#0072BD" d="M1031 483l4-2 4 0 4-11 4 6 4-8 4-5 4 1 4-5 4-8 4 2 4 4 4-15 4 0 4-13 4-1 4-3 4-8 4-2 4-15 4-8 4 0 4-9 4-5 4-1 4-13 4-9 4-9 4-4 4-3 4 1 4-9 4 1 4 0 4-6 4 3 4-5 4-4 4 1 4-2 4 14 4-7 4-9 4 9 4-2 4 18 4 1 4 4 4-1 4 6 4-1 4 12 4-1 4-2 4 3 4-6 4 6 4-2 4-3 4 10 4 2 4 5 4-1 4 3 4 7 4 2 4-8 4 6 4 12 4-4 4 4 4 12 4-8 4 15 4 0 4 11 4 0 4 2 4 5 4 3 4-1 4 0 4-6 4-26 4-9 4-24 4-31 4-31 4-23 4-21 4-24 4-11 4-5 4-7 4-11 4 4 4 0 4-2 4-5 4 3 4-3 4 9 4-10 4 2 4 2 4 2 4-3 4-8 4 8 4 1 4 1 4 9 4-10 4-2 4 1 4 1 4-3 4 10 4-7 4-5 4 3 4 1 4 7 4-5 4-6 4 9 4-6 4 1 4 2 4-3 4 0 4 6 4-7 4 0 4-8 4 3 4 7 4 3 4 5 4-10 4 6 4 3 4-10 4-9 4 20 4-1 4 6 4-12 4 15 4-18 4 18 4-9 4 4 4 2 4-6 4 1 4-4 4-12 4 9 4 10 4-5 4 2 4-15 4 23 4-11 4 12 4 2 4 7 4-9 4 0 4-1 4 5 4-26 4 10 4 13 4-7 4-7 4 21 1-17"/>
<path stroke="#D95319" d="M1031 463l4-2 4-6 4-4 4 5 4-8 4-3 4 6 4-5 4 1 4-9 4 2 4-9 4 1 4-8 4-2 4-7 4-4 4-9 4-9 4-6 4-8 4 7 4-16 4-14 4-7 4-3 4-6 4-5 4-6 4-13 4 11 4-10 4-1 4-5 4-1 4-3 4 4 4-8 4-2 4 5 4-2 4 5 4-1 4-1 4 0 4 0 4 6 4-3 4 1 4 9 4-9 4 7 4 1 4-3 4 5 4-2 4 3 4-1 4 0 4 6 4-8 4 8 4 1 4-1 4 9 4-5 4 11 4-3 4 8 4 12 4 7 4 5 4-1 4 6 4 11 4 8 4 0 4 0 4 7 4-7 4 2 4-11 4-9 4-19 4-25 4-32 4-31 4-9 4-22 4-16 4-12 4-13 4-9 4 0 4-6 4-4 4-5 4 4 4 5 4-13 4 4 4 0 4-5 4 10 4-1 4-5 4-5 4 5 4 3 4-3 4-2 4-2 4 2 4-4 4-10 4 10 4 4 4-4 4 0 4-3 4 6 4-2 4-6 4 4 4 0 4 0 4 0 4-6 4-6 4 5 4-1 4-3 4 0 4 10 4-11 4 3 4 5 4-17 4 4 4 13 4-5 4-6 4-3 4-16 4 20 4 0 4-4 4 2 4-6 4-4 4 0 4-8 4 3 4 9 4-15 4 10 4-3 4-1 4 5 4-7 4 7 4-9 4-1 4-2 4-8 4 11 4 2 4-17 4 16 4 1 4-5 4 1 4 3 4-24 4 12 4 2 4 3 1-7"/>
<path stroke="#EDB120" d="M1031 443l4 0 4-2 4-6 4-8 4-2 4 7 4-7 4 3 4-7 4 3 4-4 4-4 4 1 4-4 4-8 4 1 4-18 4 7 4-12 4 0 4-12 4-8 4-8 4-9 4-4 4-9 4-15 4-3 4-12 4-2 4-5 4-4 4-9 4-3 4-12 4 3 4-10 4-2 4-6 4 0 4-1 4 1 4-7 4 10 4 0 4 0 4-2 4 7 4 1 4-6 4 9 4 0 4 4 4-1 4 5 4-6 4-2 4 14 4-3 4 0 4 5 4 4 4 0 4-2 4 7 4 3 4-4 4 7 4 4 4 3 4 3 4 5 4 9 4 4 4 4 4 3 4-1 4 3 4 0 4-3 4-6 4-10 4-11 4-22 4-15 4-23 4-13 4-13 4-6 4-18 4-9 4-7 4-7 4-6 4 1 4-6 4 1 4-4 4 3 4-11 4 8 4-2 4 1 4-6 4 9 4-6 4-4 4 8 4-2 4 0 4-8 4 6 4-9 4 3 4 2 4-3 4 1 4 6 4-1 4-8 4 5 4-3 4-4 4-1 4 5 4-1 4-8 4 10 4-1 4 1 4 1 4-1 4-9 4 10 4 1 4-2 4-6 4 2 4 0 4 0 4 3 4 4 4-5 4-4 4 2 4-14 4 7 4-1 4 1 4-4 4 8 4-8 4 6 4 5 4-6 4 8 4-4 4-1 4 14 4-23 4 15 4-2 4 1 4-2 4-8 4 15 4-18 4 17 4-7 4-9 4 0 4 3 4 6 4 19 4-18 4-5 4-2 1 8"/>
<path stroke="#7E2F8E" d="M1031 549l4 3 4-7 4 3 4-1 4 2 4-2 4-3 4 5 4-3 4-1 4-3 4 0 4-1 4-1 4-5 4 3 4-6 4-8 4-4 4-7 4-6 4-9 4-6 4-4 4-13 4-10 4 1 4-5 4-5 4-4 4-6 4 0 4-1 4 2 4-5 4-4 4 11 4-3 4 5 4 4 4-1 4 8 4 7 4 4 4-1 4 6 4 2 4-1 4 8 4 0 4 3 4 2 4-1 4 8 4-2 4 5 4 4 4 4 4 1 4 2 4 4 4 3 4 1 4 1 4-1 4 8 4-1 4 2 4-1 4 6 4-3 4-1 4 8 4-3 4 5 4 2 4 1 4 3 4 0 4 5 4-4 4-1 4-3 4-6 4-7 4-10 4-9 4-22 4-31 4-30 4-42 4-27 4-22 4-22 4-11 4-19 4-17 4-10 4-11 4-8 4-2 4-18 4-1 4-8 4 1 4 0 4-5 4 1 4-3 4-1 4 0 4-1 4-4 4 1 4 4 4-6 4 7 4-3 4-4 4 4 4 0 4 1 4 5 4 5 4-2 4-3 4 0 4-9 4 2 4 2 4 0 4 0 4 12 4-17 4 8 4 2 4 6 4-5 4-3 4-5 4 6 4 3 4-1 4-2 4-8 4 8 4 3 4-8 4 3 4-7 4 8 4 6 4-9 4 8 4 2 4-10 4 15 4-18 4 7 4-4 4 2 4 0 4 2 4 2 4 4 4-5 4 11 4-12 4-13 4 12 4-10 4 14 4 17 4-31 4 22 4-14 4 22 1-10"/>
<path stroke="#77AC30" d="M1031 551l4-1 4-2 4 1 4 2 4-3 4 3 4-1 4-1 4-1 4 0 4-5 4-4 4-1 4-1 4 4 4-13 4 2 4-8 4-6 4-13 4-2 4-8 4-11 4-6 4-5 4-6 4-6 4-4 4-4 4-8 4-2 4 3 4-5 4-4 4 5 4 2 4-2 4 2 4 6 4 6 4 7 4 1 4 0 4 9 4 5 4 2 4-2 4 10 4-2 4-1 4 3 4 7 4 1 4 5 4-4 4 4 4 4 4 1 4 7 4 4 4 0 4-1 4 0 4 5 4 4 4 3 4 2 4-4 4 4 4 3 4 4 4 3 4-2 4 2 4 1 4 3 4-6 4 9 4-2 4-1 4 5 4-3 4-5 4 2 4-13 4-15 4-11 4-19 4-31 4-41 4-38 4-16 4-20 4-14 4-21 4-18 4-10 4-10 4-17 4 0 4-7 4-17 4 10 4-20 4-2 4 2 4-4 4-5 4 1 4-1 4 1 4-8 4 9 4-4 4 5 4-2 4 2 4-4 4 0 4 3 4 8 4-1 4-9 4 2 4 6 4-6 4 10 4-10 4-6 4 2 4 10 4 3 4-2 4-2 4 2 4-2 4 7 4-6 4-3 4 8 4 5 4-12 4-3 4 19 4-8 4-10 4-3 4 3 4 10 4 8 4-17 4 10 4-8 4 6 4-5 4 12 4-10 4 4 4-2 4-6 4 1 4 3 4-22 4 29 4-1 4 3 4-10 4 4 4-5 4 16 4-10 4 8 4 2 4-19 4 27 4-12 4 0 1-14"/>
<path stroke="#4DBEEE" d="M1031 506l4 3 4-11 4 1 4-9 4 2 4-9 4 6 4-4 4-2 4-6 4-2 4-4 4 0 4-6 4 0 4-14 4 6 4-1 4-17 4-2 4-5 4-10 4-3 4-2 4-9 4-2 4-7 4-11 4 2 4-10 4 0 4-5 4 1 4 4 4-3 4 6 4-9 4 6 4 7 4 2 4 3 4 8 4 11 4-1 4 2 4 5 4 12 4 0 4 2 4-4 4 2 4 6 4 0 4 2 4 2 4 3 4 5 4-4 4 5 4 3 4 2 4 1 4 2 4 4 4-4 4 5 4 10 4 5 4-6 4 7 4-1 4 9 4 1 4-1 4 5 4 6 4-5 4 5 4 2 4-4 4 7 4-2 4-4 4-9 4-17 4-17 4-39 4-32 4-37 4-32 4-21 4-24 4-18 4-14 4-6 4-8 4-12 4-3 4-6 4 5 4 5 4-5 4-4 4 0 4 5 4-2 4-5 4 2 4-3 4 5 4 1 4 5 4-4 4 7 4-8 4-1 4 5 4-6 4 2 4 3 4 2 4 0 4-5 4 0 4-7 4 16 4-8 4-1 4 7 4-5 4-2 4 10 4 2 4 2 4-3 4-5 4-7 4 7 4-3 4 6 4-2 4 2 4-6 4 10 4-7 4 2 4-9 4 6 4-12 4 21 4-17 4 10 4-8 4 8 4-6 4-1 4 16 4-5 4-17 4-1 4 16 4-1 4-6 4 12 4-11 4 20 4-16 4-14 4 24 4 5 4-8 4-1 4-5 4 6 4 7 4-2 4-2 1-16"/>
<path stroke="#A2142F" d="M1031 477l4-2 4-7 4-4 4-2 4-2 4 0 4-9 4 4 4-7 4 4 4-5 4-7 4-2 4 2 4-6 4-7 4-2 4-10 4-7 4-11 4-7 4-3 4-10 4-12 4-6 4-10 4-9 4-4 4-10 4 11 4-12 4-4 4-4 4-3 4 0 4-7 4-5 4 2 4-5 4 8 4-11 4 4 4-5 4 8 4 0 4 10 4-3 4 1 4 4 4 6 4-7 4 5 4 0 4 5 4 1 4-4 4 0 4 8 4 5 4-3 4 2 4 4 4 3 4 13 4-11 4 9 4 16 4 1 4 4 4 8 4-1 4 9 4 1 4 9 4 4 4 7 4 10 4-4 4 8 4-4 4-11 4-1 4-22 4-15 4-23 4-27 4-28 4-22 4-17 4-23 4-3 4-20 4-6 4-3 4-14 4 6 4-3 4 8 4-16 4 11 4-10 4-2 4 7 4 0 4-8 4-5 4 12 4-3 4-4 4-2 4 3 4 7 4-10 4-2 4-7 4 7 4 2 4-5 4 0 4 3 4-5 4-3 4 3 4 0 4 3 4-8 4 4 4-5 4-3 4 8 4-2 4 4 4-8 4 4 4 2 4-5 4 7 4-3 4-5 4-5 4 14 4-1 4-10 4-8 4 7 4-5 4-12 4 10 4 0 4-2 4-11 4 22 4-26 4 5 4 14 4-11 4-1 4-4 4 5 4 3 4-15 4 3 4 7 4 0 4-2 4-3 4 1 4-1 4-11 4 8 4 15 4-9 4 3 4-17 4 14 4-1 4-2 1 3"/>
<path stroke="#0072BD" d="M1031 408l4 1 4-6 4-3 4 1 4 1 4 7 4-12 4 5 4-5 4 4 4-6 4-8 4 4 4-13 4-3 4-9 4-7 4-5 4-13 4-8 4-6 4-6 4-18 4-7 4-10 4-2 4-16 4-4 4-14 4-2 4-11 4-10 4-1 4-7 4-3 4-14 4-6 4-8 4-1 4-3 4 3 4-7 4-6 4 4 4-1 4-2 4-4 4-9 4 1 4 7 4-8 4-3 4 4 4-17 4 6 4-10 4 9 4-3 4-7 4 4 4 6 4-5 4 1 4 0 4 7 4-5 4 11 4-7 4 9 4 0 4 7 4-6 4 12 4-7 4 1 4 1 4 9 4-2 4-3 4-8 4 0 4-3 4-6 4-10 4-5 4-7 4-7 4 1 4 0 4-15 4-4 4 3 4-3 4-6 4-7 4-3 4 13 4-9 4 3 4-2 4-3 4-1 4 5 4-8 4-1 4 1 4-1 4 0 4-3 4 0 4 2 4 0 4 0 4-3 4-1 4-5 4 13 4-2 4-9 4 2 4-2 4-2 4 2 4 4 4-1 4 0 4-1 4 3 4-9 4 5 4-1 4-7 4 11 4 3 4-14 4 6 4 0 4-1 4-3 4 9 4-7 4 5 4-7 4-4 4 10 4 0 4 2 4 3 4 2 4-21 4 10 4 4 4 0 4-8 4-8 4 15 4-5 4 5 4-1 4-5 4-8 4 9 4-4 4 5 4 1 4 3 4 0 4-3 4-11 4-4 4 11 4 5 4 3 4-1 4 0 4-2 4-18 1 27"/>
<path stroke="#D95319" d="M1031 507l4-3 4 0 4-4 4-3 4 6 4-5 4 0 4-2 4-7 4-8 4 4 4-3 4-6 4-1 4-13 4 5 4-7 4-12 4-6 4-3 4-8 4-10 4 11 4-14 4-12 4 3 4-17 4 2 4-5 4-2 4-8 4 0 4-4 4 7 4-5 4 8 4-1 4 1 4 4 4 8 4 0 4 1 4 7 4 11 4 1 4 8 4 5 4 1 4 3 4 6 4 2 4-8 4 4 4 4 4 8 4-3 4 4 4-2 4 0 4 3 4 1 4 2 4 6 4-5 4 5 4 8 4-2 4 10 4 2 4 3 4-1 4 5 4 2 4 8 4-5 4 4 4 10 4-8 4 6 4 0 4 2 4-9 4-11 4-5 4-29 4-25 4-37 4-39 4-33 4-35 4-15 4-32 4-25 4 5 4-16 4-4 4-7 4 3 4-1 4-5 4 3 4-6 4 3 4-3 4-5 4 4 4 4 4 4 4-5 4 3 4-8 4 8 4 4 4-5 4 6 4-1 4 0 4-10 4 5 4-4 4 3 4 5 4-2 4 0 4 6 4-12 4 0 4 9 4-5 4-5 4-2 4-4 4 13 4 1 4 3 4-12 4 4 4 5 4-5 4 10 4-3 4 0 4-9 4 0 4 5 4 1 4 9 4-14 4 13 4-4 4-4 4 7 4-6 4 4 4-8 4 12 4 3 4-2 4-15 4 18 4-2 4 1 4-3 4-6 4 16 4-22 4 9 4-1 4 0 4 2 4 6 4-14 4 4 4 7 4-10 4 15 4-12 1 7"/>
<path stroke="#EDB120" d="M1031 440l4 3 4-13 4 4 4-7 4-2 4-5 4 1 4-6 4-3 4-7 4-3 4 2 4-6 4 5 4-8 4-10 4 6 4-11 4-5 4 0 4-10 4-10 4-3 4-16 4-6 4-16 4-8 4-8 4-10 4-5 4 5 4-13 4-7 4-10 4 8 4-16 4-7 4-6 4 11 4-4 4 1 4-2 4-2 4 5 4 1 4 1 4-2 4 3 4-3 4 4 4-8 4 10 4-15 4 10 4-10 4-3 4 5 4-8 4 10 4 3 4-5 4-3 4 2 4 5 4 4 4-4 4 9 4 11 4-3 4 7 4 9 4 7 4 15 4 2 4-1 4 12 4 4 4 4 4-8 4 4 4-9 4-5 4-11 4-8 4-14 4-7 4-17 4-9 4-4 4-9 4-10 4 6 4-13 4 1 4-4 4-6 4 5 4 1 4 4 4-12 4 1 4 7 4-5 4-4 4-4 4 9 4 1 4 1 4-5 4 3 4-7 4 2 4 2 4-2 4 1 4-6 4 5 4 4 4-5 4 1 4-1 4 0 4 2 4-4 4-15 4 15 4-1 4 1 4 6 4-4 4 2 4-7 4 0 4-1 4-4 4-1 4 9 4-1 4-6 4 6 4-13 4 13 4 10 4-8 4 2 4 2 4-1 4-2 4 2 4 1 4-9 4 7 4-3 4 13 4-18 4 9 4 5 4-2 4 3 4-3 4-11 4 1 4 10 4 15 4-16 4 4 4-11 4 20 4-17 4 0 4 19 4-18 4-11 4 14 4 1 4-2 4-9 1-2"/>
<path stroke="#7E2F8E" d="M1031 410l4 0 4 2 4-6 4-7 4 3 4-6 4 4 4-8 4-8 4-3 4 0 4-9 4 2 4-7 4 2 4-7 4-19 4 0 4-6 4-4 4-7 4-4 4-14 4-9 4-4 4-11 4-2 4-16 4 5 4-15 4-7 4 1 4-8 4-10 4-5 4-16 4-3 4-14 4-2 4-5 4-4 4 11 4-4 4-7 4-3 4-1 4-3 4-7 4-5 4 5 4 0 4-1 4-1 4-2 4-9 4 3 4-3 4 2 4-8 4 6 4 2 4 2 4 4 4-5 4-6 4 5 4-7 4 5 4-4 4 13 4 1 4-1 4 5 4-2 4 8 4-2 4 10 4-8 4 11 4-1 4-7 4-4 4-6 4-5 4-16 4-2 4 3 4-3 4-17 4-2 4-5 4 3 4-7 4-1 4-8 4 1 4 4 4 2 4-18 4 9 4-5 4 1 4 0 4 8 4-7 4-9 4 5 4 5 4-10 4 5 4-4 4 2 4 4 4-1 4-6 4-7 4 11 4 4 4 0 4-9 4 3 4-1 4 0 4 5 4-8 4 1 4 2 4 6 4-9 4 4 4 9 4-12 4-9 4 7 4-5 4 10 4-6 4 8 4-5 4-2 4 1 4-4 4 8 4-5 4 4 4 2 4-10 4 5 4-1 4-2 4-6 4 10 4-12 4 21 4-8 4-5 4 4 4-1 4 2 4-10 4 8 4 1 4-7 4 8 4 0 4 7 4-21 4 9 4-8 4-2 4 16 4-14 4 23 4-15 4 5 4-7 4 1 1-9"/>
<path stroke="#77AC30" d="M1031 459l4-10 4 0 4 3 4 4 4-19 4 3 4 9 4-10 4-2 4-2 4 4 4-18 4 7 4-9 4 1 4-4 4-15 4 7 4-12 4-13 4 0 4-14 4-9 4-8 4-9 4 0 4-8 4-7 4-8 4-5 4-1 4-15 4 4 4-1 4-5 4-5 4 3 4-1 4-1 4-2 4 4 4-6 4 6 4 4 4-1 4 4 4-1 4 0 4 0 4-3 4 5 4-2 4-4 4 0 4-1 4-1 4-12 4 4 4 0 4 8 4-8 4 2 4 6 4 8 4 1 4 10 4 4 4 2 4 8 4 8 4 14 4 1 4 4 4 15 4 7 4 7 4 7 4 4 4-1 4-2 4-7 4-9 4-9 4-15 4-16 4-18 4-37 4-16 4-16 4-10 4-12 4-4 4-8 4-5 4-16 4 11 4-8 4-6 4 8 4-1 4 3 4-3 4-1 4-3 4 3 4 3 4-2 4 8 4-2 4-10 4 7 4 4 4-10 4 4 4-2 4 3 4-1 4 11 4-10 4-1 4 7 4-3 4 1 4-2 4-5 4-7 4 13 4-8 4 3 4 2 4-3 4 9 4-1 4-17 4 12 4-7 4 0 4 4 4 4 4-1 4 0 4-9 4 14 4 3 4-9 4-6 4 6 4 12 4-17 4 11 4 1 4 0 4-16 4 17 4-10 4 20 4-1 4-1 4-9 4-1 4 11 4-9 4-8 4-5 4 17 4-14 4 5 4 7 4-2 4-8 4 6 4-16 4 14 4 10 4-12 4 3 4 9 1 2"/>
<path stroke="#4DBEEE" d="M1031 511l4-9 4-1 4 3 4-8 4 2 4-6 4 2 4-5 4-1 4 3 4-6 4-13 4 8 4-9 4 1 4-9 4-12 4 9 4-12 4-11 4-3 4-6 4-8 4-2 4-5 4 0 4-5 4-4 4-9 4 3 4-7 4 4 4-7 4 4 4 1 4 4 4 1 4-2 4 2 4 7 4 1 4 8 4 4 4 3 4 3 4 8 4 10 4 0 4 2 4 2 4-5 4 6 4 3 4-3 4 5 4 0 4 1 4-2 4 1 4-4 4 10 4 3 4-3 4-4 4 3 4 10 4-3 4 8 4 5 4 1 4 6 4-4 4 1 4 3 4 0 4 14 4-9 4 1 4-1 4 1 4 5 4 0 4-13 4-3 4-13 4-32 4-29 4-31 4-41 4-27 4-17 4-33 4-11 4-14 4-10 4-5 4-9 4-8 4 6 4-6 4 0 4 3 4-4 4-3 4 11 4-11 4-1 4 0 4-8 4 2 4 13 4-3 4-2 4 9 4-8 4 0 4-4 4 5 4 8 4-7 4-4 4 8 4-11 4 7 4 1 4-2 4 3 4 3 4 1 4-2 4-4 4-8 4 9 4 12 4-11 4 10 4-6 4 8 4-7 4 9 4-14 4 11 4-10 4 12 4-2 4-3 4-7 4 8 4 0 4 2 4-4 4-1 4 6 4 4 4 0 4-17 4 1 4 5 4 9 4 0 4 2 4-6 4-5 4 4 4 2 4-6 4 14 4-12 4 20 4-9 4-7 4-5 4 3 4 7 4-4 4 1 4-3 1 14"/>
<path stroke="#A2142F" d="M1031 423l4-6 4 2 4 4 4-5 4 1 4 2 4 2 4-10 4-1 4 9 4-7 4-13 4 5 4-8 4-6 4-3 4-9 4-11 4-1 4-7 4-15 4-8 4-13 4-5 4-13 4-10 4-9 4-16 4 4 4-14 4-1 4-11 4-10 4-8 4 7 4-16 4-14 4-4 4-6 4-1 4-2 4-1 4-1 4-4 4 6 4-7 4 2 4-4 4-1 4 1 4-9 4 8 4-6 4-9 4 12 4-11 4 0 4 3 4 2 4 7 4-8 4 4 4 1 4 7 4-8 4 14 4-2 4 5 4 4 4 5 4 2 4 0 4 5 4 11 4 4 4-7 4 9 4 1 4-5 4 4 4-13 4-7 4-9 4-13 4-20 4-20 4-7 4-11 4-10 4-10 4-11 4-7 4-6 4-4 4-5 4-2 4-3 4 0 4-7 4-2 4 4 4-3 4 1 4-7 4 3 4-7 4 3 4-11 4 13 4-5 4-6 4 6 4-3 4 5 4-2 4 2 4 5 4-12 4 5 4-1 4-4 4 5 4 1 4 2 4 0 4-1 4 3 4-8 4 0 4 12 4-6 4-4 4 2 4 6 4-11 4 8 4-6 4 4 4-4 4 4 4-3 4 1 4-1 4-9 4 13 4-10 4 18 4-4 4-8 4 1 4 4 4-11 4 7 4 3 4-7 4 7 4-3 4-13 4 8 4 12 4-11 4 7 4 0 4 4 4-14 4 2 4 7 4-12 4 12 4-6 4 14 4-12 4 1 4-7 4 22 4-20 4-7 1 2"/>
<path stroke="#0072BD" d="M1031 425l4 2 4 0 4-4 4 5 4-5 4-1 4-10 4 1 4 4 4-10 4 5 4-10 4-2 4 0 4-11 4-3 4-10 4 3 4-10 4-4 4-11 4-12 4-13 4 2 4-14 4-12 4-1 4-11 4-8 4-7 4-7 4-5 4-11 4-3 4-4 4-6 4-10 4-6 4 2 4-6 4 2 4 5 4-9 4 2 4-3 4 2 4-1 4-5 4 3 4 0 4 1 4 1 4-9 4 1 4 1 4 0 4-2 4 5 4-7 4 4 4-4 4 5 4 4 4-1 4 5 4 3 4-1 4 7 4 7 4 0 4 8 4 2 4 12 4 1 4 0 4 11 4 9 4 0 4-2 4 8 4-10 4-9 4 1 4-8 4-15 4-3 4-8 4-2 4-4 4-8 4-1 4-10 4 2 4-3 4-5 4 1 4 1 4 2 4-4 4 0 4 0 4-2 4 3 4-6 4 10 4-7 4 3 4-8 4 13 4-10 4 5 4-6 4 5 4 3 4-3 4 0 4 1 4-2 4 5 4 0 4 1 4-4 4 11 4-8 4-7 4 10 4-4 4 9 4-4 4-7 4 6 4-5 4 6 4-6 4 1 4-5 4 6 4-6 4 3 4 2 4 5 4-5 4-2 4 6 4-5 4 0 4-6 4 17 4-6 4 4 4 2 4-5 4-6 4-3 4 18 4-4 4-6 4-4 4 2 4 10 4 3 4 2 4-17 4-1 4 10 4-10 4 5 4 1 4 0 4 12 4-14 4 7 4 12 4-11 4 5 4-3 4 2 1-3"/>
<path stroke="#D95319" d="M1031 549l4-1 4 1 4 1 4 0 4 0 4-3 4-1 4 2 4-1 4-3 4 2 4-6 4 2 4-6 4-3 4-1 4-8 4-6 4-1 4-9 4-11 4-8 4 0 4-15 4-9 4-3 4-1 4-7 4-5 4-1 4-5 4 0 4-3 4-1 4 0 4 2 4 0 4 6 4 1 4 9 4 6 4-1 4 4 4 2 4 1 4 8 4 4 4 0 4 1 4-2 4 4 4 6 4 0 4-3 4 6 4 2 4 2 4 5 4 3 4 0 4 9 4-2 4 3 4 3 4 2 4 2 4 4 4 2 4 1 4 1 4 2 4 2 4 6 4-4 4 3 4-2 4 9 4-4 4 6 4 3 4-5 4-6 4 2 4-5 4-12 4-4 4-17 4-21 4-32 4-27 4-50 4-19 4-26 4-19 4-10 4-25 4-8 4-15 4-4 4-3 4-18 4-8 4-5 4-5 4-11 4 9 4-3 4-4 4-5 4 0 4 3 4-3 4 0 4-8 4 6 4 8 4-2 4 1 4 0 4-1 4-12 4 9 4-4 4-4 4 3 4 5 4 1 4 0 4-3 4 3 4 0 4-5 4 4 4-1 4 4 4 6 4-5 4-3 4-1 4 4 4 5 4-3 4 6 4-7 4-1 4 12 4-16 4 1 4 2 4 2 4 2 4 7 4-13 4 1 4 0 4 1 4 10 4 8 4-12 4 10 4-11 4-2 4 1 4-4 4 9 4 4 4-7 4-3 4 1 4-2 4 9 4-12 4 19 4-9 4-6 4 5 4 9 1-9"/>
</g></g>
<path d="M97.5 20.0V588.0H807.0" fill="none" stroke="#4a4a4a" stroke-width="2.2"/>
<path d="M97.5 588.0h6.5M97.5 517.0h6.5M97.5 446.0h6.5M97.5 375.0h6.5M97.5 304.0h6.5M97.5 233.0h6.5M97.5 162.0h6.5M97.5 91.0h6.5M97.5 20.0h6.5M97.5 588.0v-7M168.4 588.0v-7M239.4 588.0v-7M310.4 588.0v-7M381.3 588.0v-7M452.2 588.0v-7M523.2 588.0v-7M594.2 588.0v-7M665.1 588.0v-7M736.1 588.0v-7M807.0 588.0v-7" fill="none" stroke="#4a4a4a" stroke-width="1.8"/>
<g font-family="Liberation Sans, Arial, sans-serif" font-size="26.5" fill="#555" stroke="#555" stroke-width="0.45"><text x="0" y="0" transform="translate(87.9 599.5) scale(0.838 1)" text-anchor="end">0</text><text x="0" y="0" transform="translate(87.9 528.5) scale(0.838 1)" text-anchor="end">0.1</text><text x="0" y="0" transform="translate(87.9 457.5) scale(0.838 1)" text-anchor="end">0.2</text><text x="0" y="0" transform="translate(87.9 386.5) scale(0.838 1)" text-anchor="end">0.3</text><text x="0" y="0" transform="translate(87.9 315.5) scale(0.838 1)" text-anchor="end">0.4</text><text x="0" y="0" transform="translate(87.9 244.5) scale(0.838 1)" text-anchor="end">0.5</text><text x="0" y="0" transform="translate(87.9 173.5) scale(0.838 1)" text-anchor="end">0.6</text><text x="0" y="0" transform="translate(87.9 102.5) scale(0.838 1)" text-anchor="end">0.7</text><text x="0" y="0" transform="translate(87.9 31.5) scale(0.838 1)" text-anchor="end">0.8</text><text x="0" y="0" transform="translate(96.0 626.0) scale(0.825 1)" text-anchor="middle">450</text><text x="0" y="0" transform="translate(166.9 626.0) scale(0.825 1)" text-anchor="middle">500</text><text x="0" y="0" transform="translate(237.9 626.0) scale(0.825 1)" text-anchor="middle">550</text><text x="0" y="0" transform="translate(308.9 626.0) scale(0.825 1)" text-anchor="middle">600</text><text x="0" y="0" transform="translate(379.8 626.0) scale(0.825 1)" text-anchor="middle">650</text><text x="0" y="0" transform="translate(450.8 626.0) scale(0.825 1)" text-anchor="middle">700</text><text x="0" y="0" transform="translate(521.7 626.0) scale(0.825 1)" text-anchor="middle">750</text><text x="0" y="0" transform="translate(592.7 626.0) scale(0.825 1)" text-anchor="middle">800</text><text x="0" y="0" transform="translate(663.6 626.0) scale(0.825 1)" text-anchor="middle">850</text><text x="0" y="0" transform="translate(734.6 626.0) scale(0.825 1)" text-anchor="middle">900</text><text x="0" y="0" transform="translate(805.5 626.0) scale(0.825 1)" text-anchor="middle">950</text></g>
<path d="M1031.0 19.5V587.5H1740.3" fill="none" stroke="#4a4a4a" stroke-width="2.2"/>
<path d="M1031.0 587.5h6.5M1031.0 516.5h6.5M1031.0 445.5h6.5M1031.0 374.5h6.5M1031.0 303.5h6.5M1031.0 232.5h6.5M1031.0 161.5h6.5M1031.0 90.5h6.5M1031.0 19.5h6.5M1031.0 587.5v-7M1101.9 587.5v-7M1172.9 587.5v-7M1243.8 587.5v-7M1314.7 587.5v-7M1385.7 587.5v-7M1456.6 587.5v-7M1527.5 587.5v-7M1598.4 587.5v-7M1669.4 587.5v-7M1740.3 587.5v-7" fill="none" stroke="#4a4a4a" stroke-width="1.8"/>
<g font-family="Liberation Sans, Arial, sans-serif" font-size="26.5" fill="#555" stroke="#555" stroke-width="0.45"><text x="0" y="0" transform="translate(1021.4 599.0) scale(0.838 1)" text-anchor="end">0</text><text x="0" y="0" transform="translate(1021.4 528.0) scale(0.838 1)" text-anchor="end">0.1</text><text x="0" y="0" transform="translate(1021.4 457.0) scale(0.838 1)" text-anchor="end">0.2</text><text x="0" y="0" transform="translate(1021.4 386.0) scale(0.838 1)" text-anchor="end">0.3</text><text x="0" y="0" transform="translate(1021.4 315.0) scale(0.838 1)" text-anchor="end">0.4</text><text x="0" y="0" transform="translate(1021.4 244.0) scale(0.838 1)" text-anchor="end">0.5</text><text x="0" y="0" transform="translate(1021.4 173.0) scale(0.838 1)" text-anchor="end">0.6</text><text x="0" y="0" transform="translate(1021.4 102.0) scale(0.838 1)" text-anchor="end">0.7</text><text x="0" y="0" transform="translate(1021.4 31.0) scale(0.838 1)" text-anchor="end">0.8</text><text x="0" y="0" transform="translate(1029.5 625.5) scale(0.825 1)" text-anchor="middle">450</text><text x="0" y="0" transform="translate(1100.4 625.5) scale(0.825 1)" text-anchor="middle">500</text><text x="0" y="0" transform="translate(1171.4 625.5) scale(0.825 1)" text-anchor="middle">550</text><text x="0" y="0" transform="translate(1242.3 625.5) scale(0.825 1)" text-anchor="middle">600</text><text x="0" y="0" transform="translate(1313.2 625.5) scale(0.825 1)" text-anchor="middle">650</text><text x="0" y="0" transform="translate(1384.2 625.5) scale(0.825 1)" text-anchor="middle">700</text><text x="0" y="0" transform="translate(1455.1 625.5) scale(0.825 1)" text-anchor="middle">750</text><text x="0" y="0" transform="translate(1526.0 625.5) scale(0.825 1)" text-anchor="middle">800</text><text x="0" y="0" transform="translate(1596.9 625.5) scale(0.825 1)" text-anchor="middle">850</text><text x="0" y="0" transform="translate(1667.9 625.5) scale(0.825 1)" text-anchor="middle">900</text><text x="0" y="0" transform="translate(1738.8 625.5) scale(0.825 1)" text-anchor="middle">950</text></g>
<rect x="277.8" y="115.8" width="20.8" height="254.2" fill="none" stroke="#e2283a" stroke-width="2" stroke-dasharray="2.4 2.2"/>
<rect x="222.1" y="422.7" width="22.1" height="42.3" fill="none" stroke="#e2283a" stroke-width="2" stroke-dasharray="2.4 2.2"/>
<rect x="328.7" y="417.4" width="18.8" height="61.6" fill="none" stroke="#e2283a" stroke-width="2" stroke-dasharray="2.4 2.2"/>
<rect x="122.4" y="63.5" width="48.8" height="54" fill="url(#gs)"/>
<rect x="122.4" y="149.6" width="48.8" height="53.8" fill="url(#gm)"/>
<rect x="122.6" y="244.7" width="48.5" height="54" fill="url(#gl)"/>
<rect x="204.3" y="493.1" width="49.1" height="53.8" fill="#3ee636"/>
<rect x="467.5" y="478.9" width="49.2" height="53.2" fill="url(#ga)"/>
<path d="M171.5 95.0L268.9 147.2" stroke="#333" stroke-width="1.05" fill="none"/><path d="M276.0 151.0L267.5 149.9L270.4 144.6Z" fill="#111" stroke="none"/>
<path d="M171.5 181.0L268.3 207.9" stroke="#333" stroke-width="1.05" fill="none" stroke-dasharray="4 2"/><path d="M276.0 210.0L267.5 210.8L269.1 205.0Z" fill="#111" stroke="none"/>
<path d="M171.5 269.0L268.4 298.7" stroke="#333" stroke-width="1.05" fill="none"/><path d="M276.0 301.0L267.5 301.5L269.2 295.8Z" fill="#111" stroke="none"/>
<path d="M227.5 493.0L231.2 475.3" stroke="#333" stroke-width="1.05" fill="none" stroke-dasharray="4 2"/><path d="M232.8 467.5L234.1 475.9L228.2 474.7Z" fill="#111" stroke="none"/>
<path d="M467.0 502.0L356.8 452.3" stroke="#333" stroke-width="1.05" fill="none"/><path d="M349.5 449.0L358.0 449.6L355.6 455.0Z" fill="#111" stroke="none"/>
<rect x="1218.5" y="114.0" width="22.5" height="253.0" fill="none" stroke="#e2283a" stroke-width="2" stroke-dasharray="2.4 2.2"/>
<rect x="1162.5" y="430.1" width="20.3" height="32.2" fill="none" stroke="#e2283a" stroke-width="2" stroke-dasharray="2.4 2.2"/>
<rect x="1270.4" y="430.0" width="17.9" height="45.4" fill="none" stroke="#e2283a" stroke-width="2" stroke-dasharray="2.4 2.2"/>
<rect x="1071" y="63.3" width="49.3" height="53.2" fill="url(#gs)"/>
<rect x="1071" y="148.4" width="49.3" height="54.2" fill="url(#gm)"/>
<rect x="1072" y="236.6" width="49" height="53.7" fill="url(#gl)"/>
<rect x="1145.4" y="489.8" width="49.2" height="53.8" fill="#3ee636"/>
<rect x="1410.5" y="475.1" width="49.5" height="53.8" fill="url(#ga)"/>
<path d="M1120.7 96.0L1209.0 144.2" stroke="#333" stroke-width="1.05" fill="none"/><path d="M1216.0 148.0L1207.5 146.8L1210.4 141.5Z" fill="#111" stroke="none"/>
<path d="M1120.7 182.0L1209.8 205.0" stroke="#333" stroke-width="1.05" fill="none" stroke-dasharray="4 2"/><path d="M1217.5 207.0L1209.0 207.9L1210.5 202.1Z" fill="#111" stroke="none"/>
<path d="M1120.7 270.0L1211.3 294.4" stroke="#333" stroke-width="1.05" fill="none"/><path d="M1219.0 296.5L1210.5 297.3L1212.1 291.5Z" fill="#111" stroke="none"/>
<path d="M1168.5 490.0L1171.4 472.6" stroke="#333" stroke-width="1.05" fill="none" stroke-dasharray="4 2"/><path d="M1172.7 464.7L1174.3 473.1L1168.4 472.1Z" fill="#111" stroke="none"/>
<path d="M1409.0 499.5L1298.8 457.5" stroke="#333" stroke-width="1.05" fill="none"/><path d="M1291.3 454.6L1299.8 454.6L1297.7 460.3Z" fill="#111" stroke="none"/>
<g font-family="Liberation Serif, Times New Roman, serif" stroke-width="0.35">
<text x="0" y="0" transform="translate(107.6 55.5) scale(0.943 1)" font-size="26.8" fill="#111" stroke="#111" text-anchor="start">Symptomatic</text>
<text x="0" y="0" transform="translate(190.5 576.9) scale(0.929 1)" font-size="26.5" fill="#111" stroke="#111" text-anchor="start">Healthy</text>
<text x="0" y="0" transform="translate(435.5 555.9) scale(0.934 1)" font-size="26.5" fill="#111" stroke="#111" text-anchor="start">Asymptomatic</text>
<text x="0" y="0" transform="translate(373.9 662.0) scale(0.842 1)" font-size="29.5" fill="#333" stroke="#333" text-anchor="start">Wavelength/nm</text>
<text x="0" y="0" transform="translate(46.2 417.1) rotate(-90) scale(1 0.86)" font-size="28.7" fill="#333" stroke="#333">Reflection intensity</text>
<text x="0" y="0" transform="translate(1041.6 52.5) scale(0.955 1)" font-size="26.8" fill="#111" stroke="#111" text-anchor="start">Symptomatic</text>
<text x="0" y="0" transform="translate(1129.6 573.6) scale(0.930 1)" font-size="26.5" fill="#111" stroke="#111" text-anchor="start">Healthy</text>
<text x="0" y="0" transform="translate(1375.3 552.6) scale(0.945 1)" font-size="26.5" fill="#111" stroke="#111" text-anchor="start">Asymptomatic</text>
<text x="0" y="0" transform="translate(1307.6 662.0) scale(0.840 1)" font-size="29.5" fill="#333" stroke="#333" text-anchor="start">Wavelength/nm</text>
<text x="0" y="0" transform="translate(979.6 417.1) rotate(-90) scale(1 0.86)" font-size="28.7" fill="#333" stroke="#333">Reflection intensity</text>
</g>
<g font-family="Liberation Sans, Arial, sans-serif" font-weight="bold" font-size="32.5" fill="#000">
<text x="1.2" y="30.2">A</text>
<text x="942.6" y="29.7">B</text>
</g>
</svg>
</body></html>
